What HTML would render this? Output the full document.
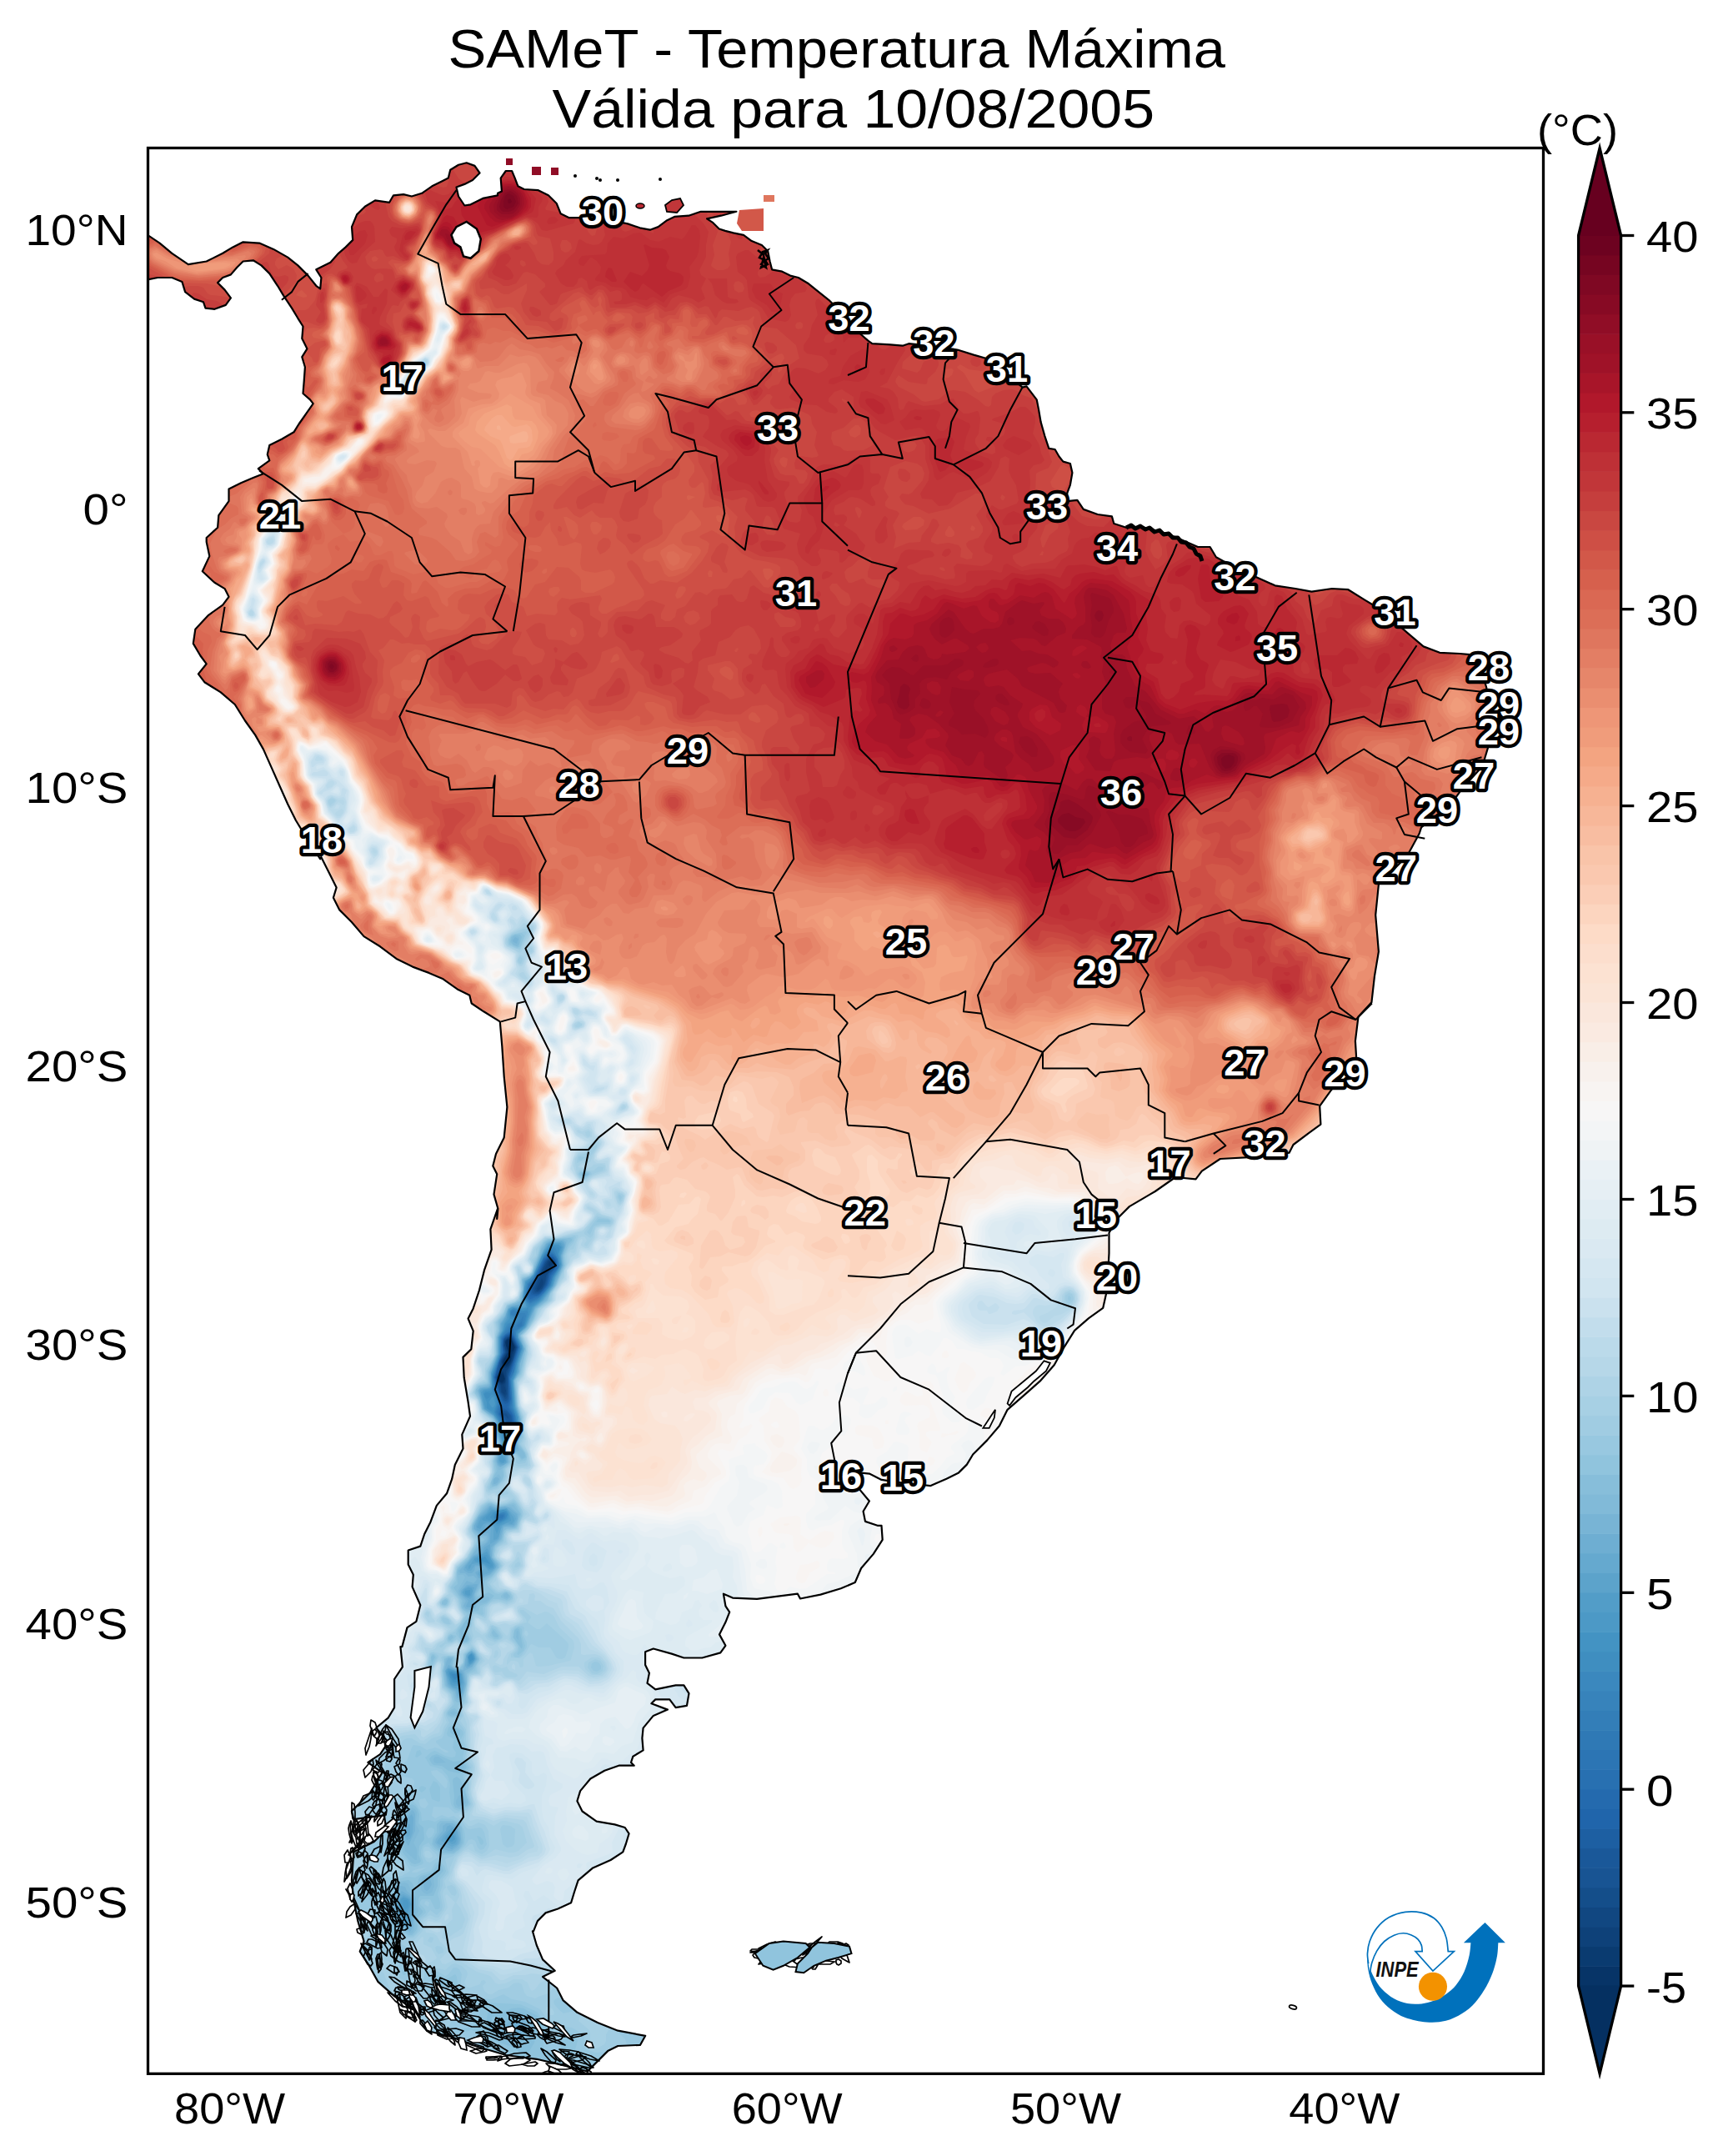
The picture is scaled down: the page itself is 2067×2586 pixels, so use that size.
<!DOCTYPE html><html><head><meta charset="utf-8"><title>SAMeT</title>
<style>html,body{margin:0;padding:0;background:#fff}svg{display:block}text{font-family:"Liberation Sans",sans-serif}</style></head><body>
<svg width="2067" height="2586" viewBox="0 0 2067 2586">
<rect width="2067" height="2586" fill="#fff"/>
<defs>
<clipPath id="land"><path d="M177.0 281.8 L191.6 291.6 L206.3 303.8 L225.8 317.2 L247.7 313.5 L267.2 303.8 L279.4 296.4 L291.6 290.3 L311.1 291.6 L328.1 298.9 L345.2 308.6 L357.4 318.4 L369.6 330.6 L379.3 342.8 L384.2 346.4 L385.4 333.0 L379.3 323.3 L396.4 314.7 L406.1 303.8 L414.7 296.4 L423.2 287.9 L422.0 272.1 L428.1 257.4 L437.8 247.7 L450.0 240.4 L467.1 242.8 L472.0 234.3 L484.1 233.1 L493.9 235.5 L506.1 231.8 L518.3 223.3 L530.5 217.2 L537.8 213.6 L540.2 203.8 L550.0 197.7 L559.7 195.3 L569.5 198.9 L575.5 207.5 L567.0 216.0 L557.3 220.9 L547.5 224.5 L550.0 235.5 L557.3 246.5 L564.6 245.3 L579.2 237.9 L597.0 234.3 L597.0 231.8 L601.9 229.4 L600.7 213.6 L606.8 205.0 L614.1 205.0 L617.7 213.6 L621.4 223.3 L628.7 227.0 L645.8 228.2 L657.9 234.3 L667.7 244.0 L672.6 256.2 L682.3 261.1 L699.4 261.1 L723.8 262.3 L753.0 268.4 L767.6 273.3 L779.8 275.7 L789.6 272.1 L799.3 264.8 L809.1 259.9 L826.1 258.7 L840.8 253.8 L865.1 253.8 L883.4 253.8 L865.1 258.7 L848.1 262.3 L855.4 267.2 L862.7 274.5 L870.0 276.9 L879.8 279.4 L892.0 281.8 L901.7 289.1 L913.9 294.0 L921.2 301.3 L923.6 313.5 L926.1 323.3 L938.3 325.7 L948.0 330.6 L957.8 333.0 L970.0 340.3 L982.1 350.1 L994.3 359.8 L1006.5 372.0 L1017.0 384.2 L1031.6 400.0 L1041.4 408.6 L1046.3 412.2 L1068.2 413.4 L1082.8 414.7 L1090.1 412.2 L1114.5 414.7 L1148.6 419.5 L1168.1 425.6 L1185.2 430.5 L1207.1 447.6 L1226.6 464.6 L1231.5 463.4 L1243.7 479.3 L1246.1 491.5 L1248.6 506.1 L1253.4 523.1 L1258.3 537.8 L1265.6 539.0 L1270.5 547.5 L1275.4 553.6 L1283.9 556.0 L1286.4 567.0 L1283.9 581.6 L1280.3 591.4 L1280.3 601.1 L1292.4 599.9 L1299.8 610.9 L1316.8 617.0 L1333.9 619.4 L1336.3 628.0 L1351.0 632.8 L1368.0 631.6 L1392.4 637.7 L1411.9 645.0 L1437.0 656.0 L1437.0 656.0 L1451.6 656.0 L1458.9 668.2 L1480.9 680.4 L1507.7 692.6 L1529.6 702.3 L1554.0 706.0 L1573.5 709.6 L1597.9 706.0 L1617.4 707.2 L1636.9 719.4 L1649.1 726.7 L1671.0 743.8 L1690.5 760.8 L1707.6 775.4 L1727.1 782.8 L1751.5 784.0 L1763.6 785.2 L1775.8 799.8 L1783.1 824.2 L1788.0 853.5 L1788.0 870.5 L1785.6 894.9 L1778.3 919.3 L1753.9 946.1 L1741.7 963.1 L1705.1 992.4 L1702.6 1000.0 L1688.0 1026.8 L1653.9 1060.9 L1650.2 1097.5 L1653.9 1141.4 L1649.0 1170.6 L1645.4 1202.3 L1629.5 1219.4 L1625.9 1248.6 L1627.1 1268.1 L1595.4 1309.6 L1583.2 1326.6 L1584.4 1348.6 L1571.0 1358.3 L1551.5 1373.0 L1546.6 1382.7 L1507.6 1387.6 L1463.8 1390.0 L1441.8 1404.6 L1434.5 1414.4 L1410.1 1412.0 L1385.8 1429.0 L1380.0 1432.4 L1354.9 1447.1 L1340.3 1461.7 L1330.5 1478.8 L1330.5 1503.1 L1328.1 1547.0 L1323.2 1568.9 L1306.1 1581.1 L1289.1 1595.8 L1276.9 1615.3 L1264.7 1637.2 L1247.6 1656.7 L1228.1 1673.8 L1208.6 1690.8 L1198.9 1710.3 L1184.3 1727.4 L1167.2 1744.5 L1159.9 1756.6 L1150.1 1766.4 L1135.5 1773.7 L1116.0 1782.2 L1106.3 1781.0 L1081.9 1778.6 L1057.5 1774.9 L1042.9 1767.6 L1030.7 1766.4 L1030.7 1785.9 L1042.9 1800.5 L1035.6 1812.7 L1038.0 1824.9 L1052.6 1829.8 L1057.5 1829.8 L1058.7 1846.8 L1047.8 1863.9 L1033.1 1881.0 L1025.8 1898.0 L1008.8 1905.3 L984.4 1912.6 L960.0 1917.5 L956.9 1911.7 L908.1 1917.8 L878.9 1916.6 L867.9 1911.7 L870.4 1926.3 L875.2 1933.6 L870.4 1945.8 L863.0 1960.4 L870.4 1973.8 L864.3 1982.4 L842.3 1988.5 L820.4 1988.5 L805.8 1983.6 L783.8 1977.5 L774.1 1981.2 L774.1 1997.0 L778.9 2006.8 L776.5 2018.9 L786.3 2026.3 L810.6 2021.4 L820.4 2021.4 L826.5 2031.1 L824.0 2045.8 L810.6 2048.2 L803.3 2038.4 L786.3 2038.4 L781.4 2043.3 L800.9 2050.6 L783.8 2057.9 L771.6 2072.6 L770.4 2084.8 L771.6 2099.4 L759.4 2106.7 L757.0 2114.0 L760.7 2117.7 L742.4 2117.7 L725.3 2123.8 L708.3 2133.5 L696.1 2148.1 L692.4 2160.3 L698.5 2172.5 L715.6 2184.7 L737.5 2188.4 L749.7 2192.0 L754.6 2199.3 L750.9 2211.5 L747.3 2221.3 L732.6 2231.0 L710.7 2240.8 L693.6 2255.4 L688.8 2270.0 L685.1 2282.2 L669.3 2289.5 L654.6 2294.4 L644.9 2304.1 L640.0 2316.3 L638.9 2316.3 L643.8 2333.3 L651.1 2350.4 L665.7 2363.8 L651.1 2371.1 L668.1 2384.5 L675.4 2399.1 L692.5 2413.8 L716.9 2426.0 L741.3 2435.7 L774.2 2441.8 L768.1 2452.8 L741.3 2454.0 L729.1 2460.1 L709.6 2479.6 L704.7 2484.5 L675.4 2477.1 L643.8 2469.8 L607.2 2465.0 L565.8 2452.8 L541.4 2443.0 L512.1 2435.7 L497.5 2411.3 L473.1 2394.3 L453.6 2377.2 L441.4 2355.3 L431.7 2340.6 L436.6 2328.5 L429.3 2304.1 L424.4 2279.7 L421.9 2255.3 L424.4 2221.2 L448.8 2209.0 L463.4 2194.4 L460.9 2177.3 L424.4 2182.2 L421.9 2172.4 L443.9 2150.5 L458.5 2126.1 L441.4 2113.9 L456.1 2104.2 L465.8 2089.6 L451.2 2072.5 L465.8 2060.3 L473.1 2048.1 L473.1 2014.0 L482.9 1999.4 L480.4 1975.0 L482.4 1975.1 L488.5 1952.1 L499.4 1944.8 L504.3 1925.3 L494.6 1903.4 L495.8 1888.8 L489.7 1876.6 L489.7 1859.5 L504.3 1854.6 L509.2 1840.0 L516.5 1825.4 L523.8 1805.9 L536.0 1791.3 L542.1 1774.2 L545.8 1757.1 L555.5 1737.6 L554.3 1720.6 L564.0 1698.6 L561.6 1681.6 L556.7 1652.3 L555.5 1627.9 L565.3 1618.2 L567.7 1596.3 L561.6 1581.6 L567.7 1569.4 L575.0 1547.5 L581.1 1523.1 L589.6 1498.8 L588.4 1474.4 L596.9 1450.0 L596.2 1461.9 L597.4 1449.7 L592.5 1432.6 L596.2 1408.3 L591.3 1398.5 L595.0 1383.9 L604.7 1364.4 L608.4 1327.8 L604.7 1291.3 L602.3 1254.7 L599.8 1225.4 L580.3 1213.3 L565.7 1203.5 L563.3 1193.8 L548.6 1186.4 L531.6 1174.3 L514.5 1166.9 L495.0 1159.6 L475.5 1149.9 L456.0 1135.3 L436.5 1123.1 L421.9 1106.0 L407.3 1091.4 L399.9 1076.8 L403.6 1064.6 L395.1 1047.5 L385.3 1028.0 L384.2 1030.3 L362.3 996.1 L354.9 984.0 L345.2 964.5 L335.4 942.5 L325.7 920.6 L315.9 898.6 L306.2 881.6 L294.0 864.5 L281.8 845.0 L264.8 830.4 L245.3 818.2 L237.9 808.4 L247.7 796.3 L240.4 786.5 L231.8 771.9 L234.3 754.8 L250.1 737.8 L267.2 725.6 L274.5 715.8 L269.6 706.1 L257.4 698.8 L242.8 685.3 L251.3 667.1 L247.7 650.0 L247.7 645.0 L261.1 632.8 L262.3 618.2 L274.5 601.1 L274.5 586.5 L289.1 579.2 L303.8 573.1 L315.9 568.2 L309.8 562.1 L323.3 552.4 L320.8 545.1 L323.3 534.1 L337.9 526.8 L352.5 518.3 L358.6 508.5 L367.1 496.3 L375.7 484.1 L372.0 479.3 L363.5 472.0 L364.7 457.3 L365.9 440.3 L362.3 428.1 L368.4 418.3 L362.3 406.1 L363.5 391.5 L357.4 381.8 L350.1 369.6 L340.3 354.9 L333.0 342.8 L323.3 328.1 L313.5 318.4 L303.8 312.3 L291.6 313.5 L284.3 320.8 L276.9 329.4 L267.2 333.0 L261.1 339.1 L269.6 347.6 L276.9 357.4 L270.8 365.9 L257.4 370.8 L246.5 369.6 L244.0 362.3 L233.1 358.6 L222.1 350.1 L218.4 337.9 L206.3 333.0 L189.2 333.0 L177.0 335.4Z"/></clipPath>
<clipPath id="axclip"><rect x="177.5" y="177.5" width="1674.0" height="2309.8"/></clipPath>
</defs>
<g clip-path="url(#axclip)">
<g clip-path="url(#land)">
<rect x="177.5" y="177.5" width="1674.0" height="2309.8" fill="#053061"/>
<path fill="#073467" d="M0 0l2066 0 0 2586-2066 0zM610 1606l-2 2-1 6 5 8 2-1 3-3 0-4-3-6zM612 1625l-4 2-4 5 0 3 2 2 4-1 2-3 1-5zM602 1648l-2 0-2 4 1 4 3 2 3-4-1-4z"/>
<path fill="#0a3b70" d="M0 0l2066 0 0 2586-2066 0zM610 1606l-3 2-1 4 4 10-6 8-1 4 1 3 4 2 5-7 1-8 4-8-4-8zM602 1646l-4 3-1 3 1 4 4 3 2-1 2-4-2-6z"/>
<path fill="#0e4179" d="M0 0l2066 0 0 2586-2066 0zM660 1513l-2 3 0 2 2 1 3-3-1-3zM610 1605l-3 1-1 4 3 12-7 12 1 4 3 3 4-2 2-3 6-20-4-9zM602 1645l-4 3-2 4 2 5 4 4 4-3 0-4-2-9z"/>
<path fill="#114781" d="M0 0l2066 0 0 2586-2066 0zM662 1512l-4 0-6 14 0 3 12-11 0-4zM650 1533l-6 13 2 2 4-5 2-5zM610 1604l-4 4-1 6 3 8-6 10 0 10-6 10 1 4 4 6 1 8 4 3 1-5-2-6 2-6 0-12 3-3 4-8 5-17-5-10z"/>
<path fill="#144e8a" d="M0 0l2066 0 0 2586-2066 0zM662 1510l-5 2-7 13-8 21 2 3 6-3 4-8 1-8 10-12 0-4zM610 1603l-5 5 0 6 2 8-6 10-1 10-4 10 0 4 4 6 1 8 5 6 2-4-1-10 1-16 7-14 5-16-6-11z"/>
<path fill="#185493" d="M0 0l2066 0 0 2586-2066 0zM662 1510l-4 0-4 4-14 32 2 4 4 0 5-4 3-6 3-12 9-10 0-4zM610 1603l-4 2-2 3 0 6 2 8-5 10-2 10-4 10 5 18 6 8 2-1 1-5 0-24 7-18 4-14-6-12zM604 1696l6 6 0-2-2-4-2-1z"/>
<path fill="#1a5899" d="M0 0l2066 0 0 2586-2066 0zM662 1509l-4 0-3 3-16 34 1 4 2 1 6-1 7-10 3-12 8-8 0-7zM612 1602l-6 2-2 4 0 6 2 8-6 10-1 10-4 10 4 18 7 10 3-2 1-4-1-24 8-20 4-14-5-10zM604 1692l-2 2 2 4 4 6 4 1 0-7-4-4z"/>
<path fill="#1d5fa2" d="M0 0l2066 0 0 2586-2066 0zM662 1508l-4 0-4 4-12 26-4 6 0 6 2 2 6 0 5-4 5-8 3-12 8-8-1-8zM612 1601l-4 1-4 4-1 8 2 8-5 10-6 20 5 18 5 10 2 1 2 0 2-3 0-28 11-34-5-11zM604 1691l-2 1-1 4 7 10 4 1 2-3-1-6-5-6z"/>
<path fill="#2065ab" d="M0 0l2066 0 0 2586-2066 0zM664 1508l-6-1-5 5-11 25-5 7-1 6 2 3 6 1 4-2 8-10 3-12 9-12-1-6zM612 1600l-5 2-3 4-1 8 1 8-5 10-5 20 4 18 4 9 4 5 4-2 1-4-1-26 12-36-6-12zM604 1689l-3 3-1 4 8 11 4 2 3-5-1-6-6-7z"/>
<path fill="#246aae" d="M0 0l2066 0 0 2586-2066 0zM664 1507l-6-1-6 6-10 24-6 8 0 11 8-1 4-2 9-10 3-12 8-12-1-6zM612 1599l-6 3-3 4-1 8 2 8-5 10-6 20 4 16 7 18-4 6-1 4 8 12 5 2 3-2 1-4-2-8-6-8 4-10-1-26 3-8 8-28-6-13z"/>
<path fill="#2870b1" d="M0 0l2066 0 0 2586-2066 0zM662 1505l-4 0-5 5-12 26-5 6-2 12 2 4 10-4 6-5 6-9 3-10 7-9 0-9zM612 1598l-6 3-3 5-1 8 1 8-5 12-5 18 3 16 6 16-3 12 7 12 4 3 4-1 3-6-1-6-6-10 3-10-2-26 4-8 8-28-7-14z"/>
<path fill="#2c75b4" d="M0 0l2066 0 0 2586-2066 0zM662 1504l-4 1-6 5-11 24-6 8-3 12 2 4 2 1 10-4 6-5 6-8 4-12 6-8 1-4 0-6-3-5zM612 1597l-6 4-4 5 1 16-5 12-5 18 2 16 6 16-3 12 7 12 5 4 5-2 2-4-1-8-5-10 2-10-2-24 12-38-7-16z"/>
<path fill="#2f79b5" d="M0 0l2066 0 0 2586-2066 0zM662 1503l-4 1-6 5-11 25-7 8-2 14 4 5 10-5 6-5 6-9 4-12 7-8 1-4-1-6-3-6zM614 1596l-8 4-4 5-1 9 1 8-10 30 3 16 5 16-3 12 9 14 4 3 6-3 2-4-1-8-5-10 2-10-2-24 4-10 7-28z"/>
<path fill="#337eb8" d="M0 0l2066 0 0 2586-2066 0zM662 1502l-4 0-6 6-11 24-7 9-3 15 5 6 10-5 8-8 6-9 3-10 7-10-1-10zM626 1585l-6 5 2 2 4-2zM614 1593l-12 11-1 8 0 12-4 10-5 18 2 16 3 8 2 8-3 10 8 15 6 4 6-2 3-5-1-8-5-10 2-10-3-24 5-10 1-8 6-18 0-4-6-10-2-10zM598 1821l4 0 2-3-2-1-3 1z"/>
<path fill="#3783bb" d="M0 0l2066 0 0 2586-2066 0zM662 1500l-4 1-6 7-12 25-7 7-3 16 2 4 4 3 8-4 10-9 6-8 4-12 6-9 1-5-2-6-3-6zM613 1574l1 3 2 1 5-2 0-2-5-2zM628 1578l-4 6-6 6-6 2-11 12 0 20-9 26 1 18 4 8 1 8-3 10 9 17 4 3 8-2 3-6-1-8-4-10 1-10-2-24 4-8 1-10 6-18 0-4-5-10-1-8 9-6zM604 1816l-4 0-3 2 0 4 3 1 3-1 2-4z"/>
<path fill="#3b88be" d="M0 0l2066 0 0 2586-2066 0zM664 1499l-4-1-8 9-12 25-7 8-3 16 2 5 4 3 10-5 14-17 3-10 7-10 1-4-1-6zM618 1571l-4 0-2 5 4 3 6-1 1 4-5 6-8 3-9 13-1 20-9 26 1 18 4 8 1 8-3 10 12 22 10-3 4-7-1-8-4-10-2-34 4-8 2-10 6-18-1-4-5-10 0-6 1-2 8-6 3-12-1-3-6 0zM608 1725l-1 1 1 8 4 0 0-5zM595 1820l2 4 4 0 5-4 0-4-2-2-8 3z"/>
<path fill="#3f8ec0" d="M0 0l2066 0 0 2586-2066 0zM664 1496l-4 1-6 6-14 29-8 8-3 16 1 4 6 6 10-6 15-18 3-10 7-10 1-4-5-20zM618 1570l-6 2 0 6 2 2 6 1 1 1-3 4-8 2-10 16 0 20-9 26 0 18 4 8 1 8-3 10 10 18 3 22 4 2 4-2-2-8-4-4 0-4 10-6 2-8-4-16-2-32 11-38-6-18 2-4 8-6 4-16-1-2-6 1zM606 1814l-4 0-7 2-2 4 2 4 5 1 6-3 2-4zM542 2008l2 5 2 1 3-2-2-4z"/>
<path fill="#4393c3" d="M0 0l2066 0 0 2586-2066 0zM670 1496l-6-2-6 3-8 11-10 23-8 7-3 18 5 12 2 0 12-9 13-17 3-10 8-14-3-14 2-6zM634 1568l-6 4-12-3-4 3 0 9 4 3-8 4-3 8-5 8 0 20-9 24 0 14-1 7-2 2-4-1-3 2 1 4 2 2 2-1 4-5 4 4 1 10-3 6 10 20 0 9 4 15 2 1 6-1 1-2-1-6-5-8 1-2 8-5 3-7 0-6-5-12-2-32 4-10 2-10 6-18-6-18 2-4 7-6 5-14zM606 1813l-13 3-1 4 4 6 4 0 7-4 2-6zM541 2006l-1 2 4 7 4 0 2-3-1-4z"/>
<path fill="#4c99c6" d="M0 0l2066 0 0 2586-2066 0zM670 1493l-8 0-4 3-8 11-10 23-9 8-3 18 4 12-6 2-10-1-5 3 0 10-5 6-2 8-5 8 0 20-9 24 0 16-2 4-6 1-2 3 4 10 0 7 6 4 8 11 8 34 6 0 3-2 0-8-4-8 7-5 3-9 0-6-4-12-2-32 4-10 1-10 6-18 0-4-5-10 0-4 9-10 8-22 10-8 14-18 3-10 6-10 2-6-3-12 3-8zM607 1812l-3-1-12 3-4 6 8 8 4-1 9-5 1-6zM576 1870l1 2 11 4-6-9zM566 1984l-2 1-2 3 2 5 4-3zM539 2006l1 6 4 5 4 1 2-2 2-4-1-4-9-3zM592 1676l2 8-2 4-2 0-4-6 4-6z"/>
<path fill="#529dc8" d="M0 0l2066 0 0 2586-2066 0zM670 1492l-8 0-4 2-8 12-10 23-10 9-2 18 3 10-1 2-4 1-10-1-4 1-2 3-1 10-4 6-2 8-4 8 0 20-9 24 0 15-2 3-8 2-1 2 3 18 10 8 5 8 7 34 2 2 8-2 3-2-1-8-4-8 7-6 3-8 0-6-4-12-3-32 5-10 1-10 6-18-1-4-5-10 0-4 9-9 9-23 10-8 14-18 3-10 6-10 1-6-2-12 3-8zM611 1818l-3-6-4-1-14 2-7 7 0 2 7 2 6 6 2 0 13-8zM572 1870l1 2 9 4 6 4 3-2-7-13-2 0zM566 1983l-2 1-3 4 1 5 2 2 5-5-1-4zM538 2004l0 4 4 10 4 2 4 0 3-6-1-6-8-4zM484 2279l-1 5 3 7 4-4 0-5-2-3z"/>
<path fill="#5ca3cb" d="M0 0l2066 0 0 2586-2066 0zM672 1491l-10 0-4 2-8 12-10 24-10 8-3 19 2 10-3 2-12 0-4 3-2 10-4 7-1 8-5 8 0 20-9 24 1 14-2 3-8 2-3 3 5 20 10 7 5 7 2 8 0 8 4 10 1 13 12-5 2-2-3-16 5-5 2-9 0-6-4-12-2-32 4-10 2-10 5-18 0-4-5-10 0-4 8-8 10-24 10-8 13-18 3-10 8-14-2-12 3-10zM602 1745l-2 3-1 4 2 2 3 1 2-4zM607 1810l-11 2-6-1-12 11 2 2 8 1 4 3 4 12 4-10 13-6-2-10zM569 1870l1 3 10 3 7 6 5-2 0-4-8-15zM558 1908l0 4 4 2 2-1 0-6zM566 1983l-3 1-2 4 1 7 2 1 4-3 2-3-1-4zM538 2002l-2 4 5 14 3 2 8 0 2-4-1-10-3-3zM536 2204l2 4 4 1 4-3-1-4-3-2zM484 2276l-3 2-1 4 3 14 0 6 3 3 2-1 0-8 5-12-3-6z"/>
<path fill="#65a9cf" d="M0 0l2066 0 0 2586-2066 0zM672 1490l-10 0-4 2-6 8-12 28-4 5-6 3-3 20 0 10-13 1-4 3-3 10-5 8 0 8-4 8 0 20-9 22 0 16-3 3-7 1-3 2 5 22 11 8 4 6 2 16 4 10-1 12-3 8 1 4 2 2 6-2 0-2-1-6 2-4 10-4 0-16 2-3 3-13 0-6-5-14-2-30 5-10 1-10 6-16-1-6-5-10 0-4 9-8 10-24 10-8 13-18 3-10 6-10 1-6-1-10 3-10-1-4zM608 1809l-12 2-8-2-4 6-7 5-5 12 4 2 4-6 6-2 4 2 2 4 0 15 4-1 2-3 4-13 6-3 6 1 3-4-1-4zM584 1857l-6 7-9 4-4 8-3 2 0 4 2-1 2-5 6-1 9 3 5 6 6-2 2-4-5-8-3-11zM562 1904l-4 2-3 4 3 4 4 2 3-2 2-6-1-3zM566 1982l-5 4 1 12 4-2 4-6-1-6zM538 2001l-2 1-1 4 5 14 2 3 10 4 4-9-2-10-2-2zM542 2197l-7 5-2 4 9 6 4-1 2-5-2-8zM484 2274l-5 4-1 6 2 18 2 4 4 2 4-2 4-22-2-6z"/>
<path fill="#6eaed2" d="M0 0l2066 0 0 2586-2066 0zM674 1489l-14 1-4 2-11 22-5 14-4 4-7 4-3 28-12 3-5 3-3 10-5 8 0 8-4 8 0 20-8 22-1 16-2 2-8 1-3 3 5 22 12 8 3 6 3 16 3 10 0 10-4 10 0 4 3 3 4 0 4-3-1-10 11-5 1-3-1-8 4-8 2-18-5-16-3-30 6-10 1-10 6-18-6-14 0-4 8-8 11-24 10-8 12-18 3-8 8-16-2-12 4-10 0-4zM608 1809l-12 1-8-3-5 7-8 6-4 10 1 5 6 2 2-1 2-6 2-2 5 2-1 22-7 4-3 6-10 5-10 13 3 4 4 0 5-7 8 1 3 4-7 4-1 2 3 3 12-5 7-6-1-4-6-10 0-14 10-6 3-12 3-4 4-1 8 0 3-7-1-4zM562 1902l-6 4-2 4 2 4 8 4 2-2 3-12zM566 1981l-4 2-2 3 0 12 2 1 6-4 3-5-2-6zM538 2000l-4 4 4 16 4 4 6 3 4 5 2-1 3-11-2-12-3-3zM492 2188l-2 0-3 6 1 9 2 0 2-3zM542 2192l-10 10-3 6 13 7 6-3 2-6-2-10zM484 2272l-4 1-3 5-2 12 5 16 4 4 4 1 4-5 3-24-3-6z"/>
<path fill="#78b4d5" d="M0 0l2066 0 0 2586-2066 0zM674 1488l-14 1-5 3-11 22-5 14-11 8 0 10-3 16-2 2-11 3-3 3-3 9-6 9 0 8-3 8 0 20-9 22 0 14-2 3-10 2-2 3 4 12 2 10 12 9 3 5 2 16 4 12-5 20 1 4 3 3 4-1 5-4 0-10 12-6-2-10 4-6 1-20-5-16-2-30 6-10 1-10 5-18-6-16 2-4 7-6 10-23 11-9 12-18 10-24-1-12 4-12-1-4zM610 1808l-4-1-10 2-8-3-14 14-5 10 0 4 7 5 10 0 1 7-2 4-7 6-2 5-8 5-10 12-2 4 1 2 5 3 4 0 3-3 1-5 6-1 2 2-1 2-7 4 4 7 2 0 12-5 6-6 2-4-6-10-1-12 10-10 5-15 13-1 4-8-1-6zM573 1900l-13 1-7 7 0 4 9 8-3 6 1 2 6 0 3-2-1-12zM566 1980l-4 2-3 4-1 12 2 3 6-2 6-9-2-6zM538 1997l-4 7 3 16 3 4 7 4 2 6 3 1 3-5 3-11-2-12-2-3-9-2zM494 2176l-4 4-5 16 0 6 3 5 4-1 3-8 1-18zM540 2189l-4 2-1 5-9 10-2 4 2 2 16 6 8-6 2-6-4-13zM482 2268l-9 12-1 14 7 14 11 5 2-1 2-6 2-16 0-10-4-6zM614 2429l-3 3 1 4 5 4 5 0 3-4 0-6-5-3z"/>
<path fill="#81bad8" d="M0 0l2066 0 0 2586-2066 0zM618 1124l-3 4 1 2 4 2 2-6zM676 1487l-16 1-4 2-6 8-11 30-3 3-8 3-1 4 1 8-4 15-14 6-4 11-6 8-1 10-3 8 0 20-9 22 0 14-3 2-8 2-3 4 4 12 2 10 3 4 8 4 4 6 2 16 4 12-5 20 2 6 3 2 10-6-1-8 1-2 13-4-3-10 4-8-1-8 2-12-5-16-3-30 6-10 1-10 6-18-6-16 8-10 7-12 3-10 13-10 11-18 10-24-1-12 3-8 1-8zM597 1772l-3 0-2 3 0 5 2 0 3-2 2-4zM613 1808l-7-1-10 1-6-3-4 1-12 12-6 12 0 4 6 6 10 2 1 4-2 4-9 5-12 17-11 12 1 3 6 0 4 4 6-1 4 4-1 2-3 3-8-3-9 12 1 5 7 7-3 6 3 4 5 1 6-3 1-6-2-10 8-16 3-3 8-4 9-9 0-4-7-8 1-12 10-10 3-13 4-2 8 1 4-4 2-12zM566 1980l-4 1-3 5-3 17-8-1-5-2-3-4 2-6-4-1-2 3-3 12 3 17 2 3 8 5 2 7 2 1 4-2 2-3 3-12-2-16 9-4 7-10-3-7zM494 2171l-5 7-6 18 1 10 6 8 8-18 0-20-2-4zM536 2187l-5 3 0 6-8 10-1 4 4 5 12 5 4 0 6-4 4-5 1-5-1-8-4-8-6-3zM512 2253l-3 3-1 6 1 4 3 2 3-2 3-6-2-6zM480 2262l-3 2-1 8-5 8-1 16 8 13 14 8 3-5 3-20-1-14-2-4-7-6-2-5zM622 2421l-10 3-5 4-2 4 1 4 3 4 9 6 8-2 3-4 2-8-1-8zM1050 2524l-3 4 1 4 4 3 4-1 3-4-1-4-4-3z"/>
<path fill="#87beda" d="M0 0l2066 0 0 2586-1116 0-1-6-3-3-6 0-16 3-6-10-4-1-4 5-1 12-501 0-2-6-2 0-1 6-28 0-3-6-12-6-2 2 1 10-333 0-2-5-6-3-6 3-2 5-10 0zM618 1122l-3 2-2 4 2 4 5 3 3-3 0-8zM698 1408l0 2 4 1 3-3-3-1zM678 1486l-20 2-3 2-6 8-11 30-11 6-1 4 1 8-3 14-4 3-10 3-5 12-7 8 1 10-3 8 0 20-10 22 0 14-10 3-4 5 5 12 1 10 4 4 9 6 3 4 1 16 5 10-1 8-5 14 4 11 2 0 11-9-1-8 2-3 8-1 6 7 2 0 2-3-2-4-6-7-1-5 4-8-1-8 1-12-5-16-2-30 6-10 6-28-6-16 9-10 7-12 3-10 13-10 4-10 6-8 10-24-1-12 6-18zM598 1768l-6 6-2 6 2 2 4-1 4-5 1-4zM616 1805l-18 2-8-3-4 0-12 13-6 12-1 5 3 4 4 4 8 1 1 3-3 4-6 2-11 18-14 14 1 5 6 0 2 3-9 16 1 4 6 8-1 8 5 4 10-2 4-7 8-1 5-4 0-2-3-1-10 3-3-2-1-4 10-16 10-7 8-9 0-4-7-8 0-8 2-6 9-8 2-10 4-3 10-1 2-3 4-13zM604 1914l1 2 3 1 3-3-3-3-3 1zM562 1941l-4 3-6 12 2 10 2 3 4-1 1-2-1-3-5-5 1-4 7-6 1-4zM620 1956l-1 8 3 3 0-10zM566 1979l-7 5-2 12-3 6-6 0-6-4 2-8-2-2-4 0-3 2-3 14 3 18 10 8 2 8 3 1 4-1 3-6 3-14-1-12 7-4 8-12-4-8zM540 2054l1 2 3 1 3-1 1-2-4-2zM520 2110l1 4 3 1 11-1-9-7-4 0zM547 2120l5 3 5-3-1-2-4-1-5 1zM554 2152l-4 2-3 6 0 4 3 3 6-1 3-4-1-4zM494 2168l-4 3-9 21 0 6 5 22 12 11 2 0 0-13-4-8 7-14-4-8 1-14-2-4zM530 2186l-3 4 0 8-7 10 0 4 4 4 10 5 10 0 6-4 4-7-2-18-4-4-4-2zM516 2250l-8 1-3 5 0 10 3 4 4 2 6-2 3-8-1-10zM480 2259l-5 3-1 10-6 8-1 16 6 12 19 11 3-1 2-4 1-14 4-8-3-8 0-8-6-8-3-8-4-2zM620 2413l-14 9-6 8-2 6 2 4 10 8 14 3 8-5 4-12 5-10-2-4-13-6zM1265 2440l1 8 4 3 8-2 5-7-2-4-9-3-4 1zM1042 2517l-4 5 0 12 4 4 14 6 8-12-2-10-6-7zM712 2554l-2 2 4 8 2 1 3-3 0-4-3-4zM1992 2569l-4 0-3 3 3 11 2 0 3-9z"/>
<path fill="#90c4dd" d="M0 0l2066 0 0 2558-5 2-1 4 2 7 4 3 0 12-69 0 2-6 6-8 1-4-14-18-6-4-3 2-4 8-9 4-3 4 3 22-84 0-1-10 2-10-1-5-18-9-16-3-4 1-1 4 3 3 10 5 0 2-10 7-4 7-1 8-414 0-3-6-4-2-4 2-2 6-460 0 2-5 8-5 0-4-4-2-12 0-8-2-8-8-10-6-1-4 7-12 0-6-6-7-12-6-6 2-7 7 0 6 6 8 0 4-3 12-4 8-2 1-14-8-6 1-3 2 2 8 10 16-48 0-4-6-7-3-6 3-2 6-103 0 1-8 8-18 3-12-5-6-10-3-6 1-10 8-3 6 1 6 7 4 3 6-7 16-49 0-2-6-4-2-2 2-1 6-54 0-3-6-4-3-4 2-1 7-30 0-1-3-4-2-4 1-2 4-35 0-3-6-1 6-56 0-2-6-5-5-20-10-3-3-3-9-3 1-10 18 3 14-12 0-2-6-4-4-20-10-8 2-5 4 7 10 1 4-93 0-1-10-7-3-9 3-5 10-8-3-3 1-1 2-191 0-2-12-11-10 8-5 2-5-1-6-5-3-5 1-4 4 0 6 3 6-12 11-8 2 0-25 4-1 2-3-2-4-4-1 0-60 2-1 0-2-2-1zM618 1121l-5 3-1 6 4 4 6 2 4-12-2-3zM697 1408l1 3 4 1 5-4-5-3-4 1zM684 1485l-26 2-4 2-5 7-3 10-4 8-3 12-3 4-10 4 1 12-4 14-14 6-5 12-6 6 0 12-3 8 0 20-9 22 0 12-2 2-9 2-4 4 0 4 5 8 2 12 14 12 2 18 5 10-1 8-5 14 3 12-7 14 1 5 6-1 6-6 2-6-1-8 9-8-1-8 1-2 4-1 4 1 6 7 5-3-1-5-8-11 0-4 4-6-1-8 1-12-5-16-3-28 1-4 5-6 7-28-1-6-5-12 7-8 8-12 4-12 13-10 4-10 6-8 10-24-1-12 6-14 4-4 0-2zM618 1804l-2-1-18 4-8-4-4 0-6 5-13 20-1 6 2 4 6 6 4 0 3 2-1 2-6 2-12 20-12 10-2 6 1 14-5 4 10 16-1 8 7 6 14-2 2-6 8-3 9-9-7-4-12 5-2-1 0-3 3-5 5-4 2-6 8-5 9-11 0-4-7-8 0-6 2-8 8-6 3-12 3-2 10-1 2-2 5-15zM601 1914l0 2 7 3 4-3 0-2-4-4-3 0zM530 1922l0 2 4 1 2-1 1-4-3-2zM562 1939l-12 17 2 10 4 4 4 0 3-4-1-3-4-5 1-4 5-6 0-6zM620 1953l-3 3-1 8 10 14 1-4-4-20zM592 1955l-2 3 1 4 3 2 3 0 1-2zM542 1961l-4 3 0 2 2 2 4-4zM566 1978l-8 6-2 12-4 5-6-1-3-2 1-10-6-1-5 3 0 6-2 8 3 18 9 8 3 10 2 2 4-1 3-3 5-18 0-12 8-6 7-12-5-9zM520 1985l-2 1-1 2 1 6 4-6zM537 2054l1 3 4 2 6-1 3-2-5-7-4 1zM542 2072l-2 4 0 2 8 5 2 0 2-3 0-4-6-4zM515 2110l2 4 3 3 10 1 8 6 12 3 6-2 4-5-2-4-6-4-8 1-20-9-6 2zM548 2131l-4 2-1 3 2 18-1 10 2 4 6 2 8-4 2-4-7-22-3-6zM494 2164l-3 2-3 4-9 20-1 6 5 26 11 13 4 1 6-2 1-2-3-8 1-10 6-8-1-14-6-5 1-11-2-6-3-4zM528 2184l-4 4 0 10-5 8-1 6 4 5 10 6 12 0 7-5 5-8-2-18-4-5-6-3zM530 2238l-2-2-4 1-5 9-14 4-3 4-2 11-2 0-4-7-4-3-12 2-6 3-1 4 1 6-7 6-2 4 2 22-7 6 0 4 8 14 4-1 3-9 3-3 6 2 8 6 4 0 3-3 3-4 1-14 6-6 0-2-5-6 0-8 2-4 16 0 5-12 0-10 7-8zM528 2373l-4 1-3 4-1 4 2 2 4 0 5-4 1-4zM586 2411l-3 15 4 6 2 12 6 4 23 9 8 7 4 0 4-2 7-12 2-12 6-8-1-6-3-6-17-9-6-1-8 1-14 6zM1264 2426l-5 6-2 8 1 8 3 8 9 9 20 6 2-1-4-14 4-12-2-10-4-3-16-6zM406 2454l-5 4-6 14 3 6 7 2-15 10-3 6 3 3 4 1 30 1 5-5 2-6-3-3-16-7-1-2 5-8 0-10-4-6zM534 2454l-4 4-1 6 1 2 4 1 6-3 2-4-2-4zM1234 2456l-4 1-2 5 0 4 2 1 4-1 3-4-1-4zM1726 2470l-2-4-6 2-6 5-8 9-4 2-6-1-21-9-13-1-3 3 5 10 6 6 4-1 8-4 6 0 7 7 5 12 8 3 6-3 1-4-1-10 8-9zM777 2472l-4 4 4 8-3 12 8 9 6 3 3-8-2-8-5-8 2-8-4-4zM1642 2477l-4 1-2 4-1 4 3 2 4-1 3-7zM460 2481l-4 0-2 2-2 11-7 12 1 3 4 0 6-10 14-5-1-2zM1881 2486l2 6 7 4 16-3 6-5-4-5-10 1-10-3-4 1zM894 2492l-2 2 0 2 2 5 4 3 2-2-1-6zM157 2502l3 6 6 3 20-8 1-3-3-4-16-3-8 3zM1219 2494l-6 2-3 4 5 8-9 18 0 4 4 3 4 0 7-3 4-4 2-4-3-12 4-8-5-6zM1938 2495l-5 3-2 6 3 4 6 1 4-3 2-6-3-4zM1152 2500l-1 4 3 3 6 2 3-3 0-4-3-4-4 0zM1778 2500l-9 6-2 8 5 7 12 4 9-5 2-6-11-13zM7 2502l2 4 7 6-1 10 1 4 4 2 8-1 10 4 4-2 0-5-2-3-19-9-7-9zM1311 2504l0 2 5 2 6 0 2-2 0-2-4-3-6 1zM1722 2504l4 4 3 0 2-2-5-4-3 0zM1256 2506l2 4 6 3 3-1 1-4-4-3-4-1zM743 2522l3 3 10 0 12 3 5 0-7-16-8-6-4 1zM1298 2505l-6 0-6 3-3 4 1 4 4 2 6-1 6-9zM197 2508l0 2 3 2 4-2-2-3zM1027 2520l-2 6 2 12 5 4 14 5 10 16 8 3 14 0 7-6-2-2-7 6-2 0-6-7-4-11 4-12 0-8-4-11-4-5-6-2-12 1-6 3zM1737 2510l0 6 3 7 4 3 4-1 3-7-2-8-5-2zM1552 2512l-2 0-8 7-6-3-6 2-5 6 0 4 3 3 6 1 4-2 6-7 6 3 2-1 1-5zM536 2520l2 6 14 3 8 7 4 1 10-7 9-2 1-2-2-4-14 2-24-8-6 1zM1968 2520l2 2 11-4-9-3-3 1zM1944 2525l-4 3-4 10 8 10 6 2 2-4-5-10-1-10zM514 2528l-4-1-4 2-1 9-9 17-12 1-5 2-1 4 1 4 7 8 7 2 2-8 3-5 14 0 19-7 1-4-1-2-13-3-8-7-1-4 5-5zM234 2535l-13 13-2 8 3 4 8-1 7-5 1-4zM1730 2538l2 6 6 7 2 0 3-5-3-7-6-2zM295 2542l-1 4 2 5 6 1 4-2 1-6-3-4-6-1zM616 2539l-6-1-4 3-2 9 2 5 6 0 6-5 2-6zM1548 2544l-4-3-14 11 0 2 4 2 14-2 2-4zM1582 2543l-4 3-1 4 5 15 4 5 8 2 3-4 2-20-11-5zM1442 2548l-2 2 1 4 5 1 1-5-2-2zM860 2560l1 2 3 0 3-2 0-2-3-2zM200 2566l-1 4 3 2 4 0 2-2-2-5zM594 2418l0 5-4 3 0-6zM900 2578l1 8-8 0 3-7 2-2zM418 2578l2 2 1 6-5 0 0-5z"/>
<path fill="#98c8e0" d="M0 0l2066 0 0 2394-14 1-3 1-1 4 4 3 14 1 0 27-14 3-8 0-3 4-2 6 2 4 2 2 9 2 4-1 6-6 4-1 0 24-8 1-5 5 5 4 8 1 0 52-8 7-2 10-2 2-2 1-8-4-10 1 1 6 11 4 4 6 2 8-4 7-6 3-10 0-3 4-23 0 6-16 1-8-13-10-7-8-2-6 1-6 14-10-2-6-4-3-14-3-10-4-2-4 6-8-2-2-10-3-14 3-12-4-18 2-17-20-7-2-9 2-17 7-12-7-16 4-20-4-4 3-3 9 1 4 6 4 20 1 10 7 4-1 8-8 2-1 20 19 8-2 5 1 3 4 1 8-2 4-6 4-1 4 2 8 6 5 6 0 4-3 1-4-4-10 0-6 7-10 2-1 8 3 5 6 1 4-10 16 1 4 11 9 8 9 12 4 3 8 1 14-72 0 0-10 4-10-1-6-5-7-14-10-4-2-8 3-6 0-18-5-16-2-5 3 0 8 3 2 10 0 4 2 10 14-7 20-70 0 2-4 11-6 3-4 2-6-4-12 11-19 10-4 4-4 1-5 0-10-2-4-10-10-2-10-13-10 0-8-4-3-8 0-8-2 0 1 6 3 11 9 1 2-5 12-7 7-4 1-12-2-10 2-13-6-2-4 0-4 2-6 8-10 1-4-6-10-6-5-6 3-14 17-6 3-8-2-18-9-26-6-1 7-13 8-8 14 1 14-11 19-6 3-12 13-14-2-6 2-6 12-4 4-6-2-3-7 1-4 7-6-4-12 0-14-5-7-6-4-6 0-4 11-12 6-10 12-2 4 2 4 8 8-7 14 1 7 4 4 6 1 16-5 14 5 10 0 20 13 4 2 12-7 1-10 3-3 20 0 6-1 2-4-5-12 7-6 14-4 1-2-5-10 1-4 5-4 14-4 12-10 8 7 5 9-1 2-10 3-3 3-1 6 2 7 8 2 8 8 9 5 11 14 8 0 6 9 4 11-15 0-1-7-4-4-4 3-3 8-10 0-1-6-6-9-4-3-4 0-2 1-1 3 3 14-226 0-4-4-8 4-5 0-11-11-10-2-6 0-3 3-2 10-6 0-3-3-4-1-2 0-2 4-16 0-2-5-6-2-5 3-2 4-45 0-1-6-3-2-6 4-2 4-84 0-2-4-4 4-14 0 1-10 7-6 4 0 10 6 8 0 3-2-2-8-12-12-4-14 17-14 4-14 6-7 4 0 8 11 8 5 14-1 14 5 6-1 7-8 5-2 12 3 7 7 5 1 14-4 7-5 0-6-3-5-12-1-12-9-18-3-1-4 4-16-1-8 6-8 2-4-1-4-13-7-8-11-26-12-11 6-11 12 0 8 10 22-2 4-5 6-5 11-10 0-3-1-1-4 3-6 10-10 1-6-3-8-9-16-6-2-8-1-5 3-7 10-8 4-2 4 1 6 11 5 4 11 0 4-5 6-7 3-8-1-12-10-4-1-14 10-18 6-4 4-2 5 4 6 18 10 10 0 4 2 14 10 9 10-2 4-3 2-14 2-4 3-2 9 4 12-7 10-1 4-82 0 0-16 10-10 0-10 8-4 15-18 0-8-4-12 5-14 1-6-3-6-4-2-4 2-11 12 1 10 5 10-2 6-10 12-17 8-1 8-3 2-3-4 2-8-1-16-5-12-3-4-6-3-12-1-12 3-12 9-12 2-2 8 4 18-1 4-3 3-14 1-12 6-20 7-12 1-4-4-1-10-5-8-3-14-12-16-7-2-4-3-12-21-4-2-8-1-4 1-3 4 1 16-5 14 9 7 8 13 2 8-2 6-6 2-12-2-4-2-4-6-1-10-5-10-6-4-10-3-7 1-5 4-2 14-11 10 9 6 14 4 2 4 2 12 2 2 14-4 4 0 7 10 2 6-26 0-3-10-8-1-14-6-10 4-9 13-4 0-5-6-4-2-4 3-2 5-18 0-2-6-4-2-6 2-1 6-37 0 2-8 13-32-15-16-14-1-10-9-12-7-4 1-3 4-1 8 2 10 9 8 0 6-3 8-7 8-4 8-13 2-16-10-6-1-4 2-2 3-1 16-18 0-5-16 0-4 12-10 8-9 10-6 2-3-2-4-14-5-14 2-12-5-6-4-14-20-7 2-4 8-3 2-30-4-8 2-6 5-7-1-2-2 3-8-2-10-2-5-12-15-4-1-4 1-5 8-5 3-8-2-10-11-6-2-6 2-10 9-10-1-5-2-3-4-1-24-15-4-6 2-8 9-10 5-1 14-9 12-6 1-4-1-4-13-4-3-4 1-3 3-3 16-14-6-4 1-4 5 0 4 4 4 12-2 6-3 2 1 15 14 1 4-1 10 7 10 3 18 0 6-3 3-12-4-12 1-9-6-1-4 2-3 10 2 3-1-1-8-4-6-20 4-10 6-10-9-8 0-6 3-6 7-2 0-8-11-6-2-5 4-3 28-3 2-7 2-12 0-2-2 0-2 6-12 0-18-10-20-6-4-8 2-6-8-15-6-19-17-4-1-18 6-10 0-8 10 0 4 12 12 1 12 3 4 2-1 8-10 8-3 8 0 14 6 14 2 11 10 0 4-10 10-4 10-13 8-3 4 3 6 12 6 3 6-78 0 1-8-1-4-13-6-10 11-12-4-2 3 0 8-47 0 2-10 9-10 10-7 4-1 10 2 14 6 18-4 3-8-21-9-14 0-6 1-8 4-8 0-8 5-4 0-7-3-3-8 0-2 8-6 3-8 1-8-5-8 3-7 10-4 10-9 6 1 12 7 12 0 2-8 7-4 0-8 3-8-1-2-3 0-6 7-2 0-11-7-5-8-4-2-16 12-12 1-10 3-12-3-12 4-16-11zM626 1119l-8 1-4 2-4 6 1 4 9 5 4-1 5-14zM695 1408l3 4 4 1 6-5-2-3-4 0-6 1zM715 1466l17 0-2-3-12-1zM688 1484l-30 2-6 4-4 6-3 10-4 8-2 12-3 3-8 2-2 3 0 12-3 12-3 3-12 5-4 10-8 10 1 8-2 10 0 20-10 20 0 12-1 3-10 3-4 6 0 4 6 8 2 11 13 11 2 18 5 10 0 8-6 14 2 12-6 16 0 5 8-2 7-7 2-6 0-8 8-8-1-8 2-2 5 0 5 9 6-1 2-4-2-6-7-10 1-4 3-4-2-10 1-14-5-14-2-26 1-6 5-6 6-28 0-6-6-12 8-8 8-12 4-12 13-10 2-8 7-10 11-24-1-12 5-11 6-7zM616 1801l-8 3-10 2-10-4-4 1-6 5-12 22 0 6 7 10 0 2-11 20-14 14-1 14-6 8 10 14 3 12 6 6-5 10-6 8-2 6 9 11 6-1 2-4-4-10 5-8 0-12 5-2 8 3 2-1-1-8 13-10 6 0 10 2 4-1 2-3-1-4-5-3-10 3-4-1-9-9-1-4 6-6 11-14-2-4-6-6 1-12 10-8 3-12 13-3 6-15-1-6-5-8zM536 1917l-6 3 0 5 4 1 3-2 1-4zM622 1951l-5 3-2 10 7 10 0 6-2 4 2 1 6-5 2-6-4-12 0-8zM590 1953l-2 9 5 4 5 0 2-4-6-8zM548 1962l-8-2-3 4 0 4 5 1zM566 1977l-9 7-1 10-4 6-4 0-4-2 2-8-2-3-6-1-6 2 1 8-2 8 2 18 9 10 3 12-8 8-1 4 2 3 4 2 10-3-3-12 8-6 4-20 1-12 8-4 1-6 4-6 0-4-5-8zM521 1984l-3 0-1 2-1 12 2 0 6-10zM544 2068l-6 4-2 7 1 3 8 4-2 10 4 6-1 5-4 1-8-2-12-6-4 1-8 7 6 10 14 4 7 8 3 10-1 10 2 14 4 6 5 2 8-3 6-5-5-14 0-10-4-10 8-10-8-12 2-10-5-10 4-8-1-4zM504 2099l-4 1-2 7 2 1 6-4zM520 2136l-5 10 3 12 8 3 2-1 0-16-4-6zM503 2148l3 2 5-4 0-2-5-2-3 2zM490 2161l-16 33 5 16 0 12 9 9 5 7 5 1 9-3 1-2-3-8 0-6 2-6 7-4 6 8 12 7 12-1 8-6 5-6 1-8-1-8-5-10-10-4-12-1-8 4-8-2-8 1-1-10-5-9-6-6zM572 2202l4 10 2 1 2-2 0-3-4-5zM528 2233l-5 1-2 2-4 8-11 3-8 5-10-1-14 4-5 3-5 8-10-8-6 1-6 5-2 6 2 8 4 4 10 2 2 2 0 4-5 6 0 14 11 18 6 2 5-12 3-2 12 7 6-1 4-4 2-4 0-12 9-8-1-4-6-6 0-3 2-3 10 0 6 12 4 0 2-2 0-6-3-10 3-10 0-8 6-7 1-3-2-6zM475 2336l-1 4 2 6 8 4 4-1 1-3-2-4-7-6zM484 2362l-2 4 2 3 2 0 1-3zM517 2382l1 4 4 3 12-7 10 2 5-4-1-9-2-3-2 1-8 5-12-5-6 7zM522 2393l-4 1-5 8 1 4 2 2 6-1 4-4 0-5zM188 2404l4 6 12 7 8 14 6 4 2-2 8-12 14-4 11-5 2-2-7-8-10-2-9 4-6 10-13 1-3-3 1-14-6-3-8 1-4 4zM1664 2396l-4-1-6 3-2 4 1 4 3 1 6-2 3-5zM579 2404l-3 4-1 12-3 7-6 4-10 2-1 1 0 2 3 1 8-2 4 2 5 5 3 10 2 2 16 1 20 9 4 4 6 8 2 12-1 4-6 10 1 2 10 1 12 5 8-1 12-13 4-12 10-8 11-14 4-14-2-6-7-3-6 3-5 8 0 14-3 3-4-1-14-8 0-16 5-12-13-17-20-9-40-2zM1562 2416l0 4 4 1 28-4 8 1 6 4-2 12 6 6 10 5 8-2 3-3 0-6-2-4-11-8-8-10-3-2-19-4-12 6-12 1zM258 2412l2 4 4 3 4-1 2-4-2-4-2 0zM1448 2412l-1 4 3 4 8 3 4-1-1-6-3-3-6-3zM942 2415l-12 15-2 6 1 4 5 6 10 2 4-1 1-3-5-8 2-16-1-4zM1075 2418l1 4 4-1 0-3-2-2zM1872 2424l2 3 4-1 1-2-3-3zM2028 2422l-4 0-9 8-2 6 3 5 6-1 5-6 4-8zM154 2426l-4 4 0 3 2 1 4-4 0-3zM276 2428l-12 8-2 4 0 8 8 9 1 3-3 18-7 14 0 6 5 5 10-2 8 9 16 6 4 1 2-5-5-12-2-8 0-12 4-20-1-6-6-8-10-6-3-10-3-2zM802 2428l-4 0-6 2-12 16-3 6-1 8-8 5-5 7-6 14-14 26-7 3-10-3-5 0-1 6 4 8 10 3 12 8 12-2 22 7 8-2 6-4 4-6 2-14-6-28 2-14-3-4-9-6-3-4 19-21 2-5zM1460 2434l4 2 7-4-1-2-6-4-2 1zM1976 2428l0 4 4 3 4 2 3-1 0-4-3-4-4-2zM1049 2436l3 4 4 1 4-1 2-6-2-3-4-1-4 2zM1356 2432l-5 2-3 6 1 6 3 3 4-1 3-8 0-6zM884 2448l-2 6 4 8 6 1 10-2 4 0 8 15 4 5 4 1 8-2 6 2 3-2 0-4-7-12-2-16-10-11-10 0-10 7-12 1zM1380 2438l-3 2 0 4 2 4 3 1 2-1 1-6-1-2zM1106 2440l-1 4 12 12 5 0 2-4-2-4-12-9zM1596 2439l-6-1-6 3-4 5 1 4 5 2 5-2 5-6 1-4zM1558 2442l-1 6 3 3 2-1 1-4-3-4zM360 2446l-4 4-1 4 1 4 4 2 2 0 2-4-2-8zM551 2454l-15-7-6 0-4 5-3 10-7 8 0 4 10 2 16-2 3-4 6-12zM856 2448l-4 2-3 8 1 6 4 2 3-2 2-12-1-3zM1036 2449l-4 1-2 2-2 6 0 6 3 8-14 10-1 4 2 2 8 0 13-10-1-6 3-14-2-6zM494 2455l2 5 4 2 4-2 1-6-3-2-6 1zM1435 2460l1 2 6 3 4 0 2-3-2-4-4-2-4 1zM1486 2464l-4 0-9 12 1 4 6 1 6-4 2-7zM1358 2488l4 3 7-1 4-4 2-6-5-2-8 2-4 4zM1010 2487l-10 2-3 3 0 2 5 4 4 0 5-6zM705 2492l-3-1-6 3-3 4 1 4 6 1 4-3 2-4zM930 2493l-4 1-3 6 2 6 3 3 4-2 3-5-1-7zM1372 2508l3 4 5 1 6-3 2-4-2-3-8 0-4 2zM1478 2507l-3 11 5 5 2-1 1-4-3-12zM1888 2512l-7 6-1 4 6 4 7 0 2-2-2-6-3-6zM2014 2527l0 5 3 4 5 3 4 0 2-5 0-7-6-2zM1160 2528l0 5 2 2 4 0 2-3-2-4-4-2zM1401 2540l-1 18 2 4 4 0 3-10 5-3 4 1 22 14 10 0 4-5 1-9-3-6-14-7-10-8-8-2-6 1zM134 2533l-4 0-2 1-9 16 0 4 7-1 4-3 6-12zM662 2533l-2 2 0 5 2 5 2 1 2-2 0-6-2-5zM1278 2536l-5 2-2 6 3 6 4 2 6-2 2-4-3-8zM1358 2536l-4 2-2 8 0 4 4 3 4-2 2-3 0-6zM1125 2554l2 4 5 2 4-2 2-4-1-2-5-1-4 0zM810 2553l-6 1-4 4-4 8 1 4 5-1 8-7 2-6zM1491 2568l-4-2-5 1-4 5 0 3 2 2 6-2 4-3zM580 1906l2 4-2 2-6 1 1-5 3-2zM518 2192l3 2 0 4-3 5-4 2-3-5 1-4 2-3zM1286 2485l4 5-1 6-7 8-6 1-4-5 0-4 10-12zM1654 2492l6 3 4 5 0 4-4 3-4 0-5-5 0-6zM1920 2495l2 1 0 5-2 5-2 0-5-4 2-4zM498 2534l-2 8-4 5-6 1-17 0-4 4-3 13-18 5-4 0-22-10-2-4-2-13-4-2-12-1-6-6-2-4 1-16 1-2 4-2 20 0 8 3 14 10 16 2 10-3 4-4 0-2-6-6 1-4 19-7 4 0 3 3 1 4-5 14 11 8zM1178 2504l2-2 4-1 16 7 4 4 0 6-6 5-4 0-6-9-9-6zM0 2510l5 2 2 6-3 10-4 2zM1768 2531l1 3-2 4-11 5-3-1 0-6 7-8 4 0zM1974 2542l1 4-2 4-3 2-4-1-1-3 1-4 4-2zM392 2546l2 4-1 8-3 4-2 0-3-2 0-4 3-6zM601 2566l-2 10-3 4-6-3-10-10-6 1-7 8-1 10-15 0-2-6-10-8-1-4 2-5 4-3 12 2 12-6 20-5 4 1 4 3zM1752 2554l3 2 3 4-1 4-3 2-4-2-2-4zM322 2568l-2 18-54 0 1-18 5-5 32-4zM1042 2561l2 0 6 7 11 8-4 10-9 0-2-10-4-10zM1032 2574l0 12-45 0 1-10 6-5 22-2 14 3zM530 2572l-3 14-18 0 1-6 4-5 10-4zM691 2576l-1 10-15 0 2-10 11-2zM470 2586l4-6 4-2 6 2 3 6z"/>
<path fill="#a0cce2" d="M0 0l2066 0 0 2389-10-1-4-2-3-6-5 1-4-2-24-20-3 5-1 4 5 8 0 12-21 16-2 4 1 6 7 6-2 4-6 2-10-8-23 2-3 4-2 11-2 1-8-2-8 2-8-1-1 3 0 8-19 5-6 9-4 3-14 2-10 3-5-4 0-8-1-2-6 1-6 7-6 4-6 0-10-3-3-3-7-14-6-5-1 3 3 10-4 4-6 1-10-3-6 2-4 0-2-4 3-4 1-4-9-22 1-8 3-8-9-10-2 0-1 2-1 20 3 10-1 12 2 10-4 6-6 1-14-6-10 4-6-1-4-2-6-11-6-1-6 2-19 20-5 2-7-4-11-14 0-21-4 0-19 9-2 6-3 1-4-3 0-8-2-4-14-8-10-15-6-2-14-1-12-7-8 10-16 2-8 4-12 3-3 4-1 6 1 12-3 5-8 5-3 4 1 4 5 2 1 2-7 10-3 6 1 4 7 4 1 2-1 14-10 17-12 5-7 8 2 4 9 4 3 6-4 14-3 5-4 1-20-10-1-4 0-14 7-6 2-4-4-12 0-10-3-12 10-14 3-12-1-6-9-5-8 0-14 4-4-1-3-4 0-4 2-2 21-8 2-4-1-4-11-10-6-11-11-5-7-8-12 0-10-5-12 4-16-11-6 2-7 4-2 4-1 4 10 2 8 12 4 1 6-3 10-8 4-2 8 1 5 5 1 8-7 8-2 4 1 4 9 12-1 4-2 1-4 0-6-4-14-4-4-11-4-4-4-1-8 6-4-1-4-8-6-4-10 6-12-5-20 4-12 4-4 7-4 4-4-2-5-8-19-5-10-9-6-1-16 9-20 6-10 0-10-6-10 16-12 6-6 21-12 0-6 5-6 2-4-4-8-2-14 12-6 7-8-9-3-6 1-4 12-14 0-4-4-8 7-12-3-5-10-3-6-6-6 2-16 21-20 13 1 10-1 5-4 0-8-6-12 1-2-4 2-3 12-1 5-4 0-10 2-4 3-1 10 0 5-5 0-8-3-6-4-3-11-3-2-10-3-1-5 5-7 20-14 8-6 10-10 10-10 16-10 8-6 9-6 2-4-3-5-10-5-2-12 0-7-6 1-22 4-3 10 4 4-1 3-8-2-8-7-4-12-1-2-11-4-3-12-2-12 8-14-7-4-4-4-9-10 0-4-2-2-7 2-8-2-4-12-7-5-1-5 4-1 4 4 6 3 12 10 14-4 12 2 12-3 10-3 6-8 9-8-9-6-3-8 4-5 7-1 4 1 16 10 6 4 16 10 6 1 4-4 5-22 2-12 5-4-3-3-9-3-4-14-2-4-6 2-22 2-5 12-8 13-5 2-4-5-6-12-1-4-3 0-4 7-12 2-8-4-8-7-4-6 5-6 15-13 8-9 12-4 2-4-1-3-3 0-10-3-5-14-5-7 2-1 4 2 13 2 3 6 6 6 18-4 8-10 2-1 4 3 10 0 8-3 10-5 3-13-5-7-6 5-16 13-16-1-2-7-3-12 1-11-4-3-4 1-10-1-4-14-8-8-1-10 11-4 1-2-3 4-8 0-4-11-8-7-10-18-9-16-3-10-6-14 6-20-2-4 4-2 6 0 4 4 6-2 5-12 2-10 0-2 1-6 11-16 7-10 0-20 5-4 3-1 12-3 5-10 2-18-2-16 10-5-1-3-4 2-6 7-12-2-14-3-3-10-1-10-3-8 3-10 2-10-4-4 1-8 7-8-6-6 0-4 3-12 13 3 10-1 4-10 4-22-3-2-3 0-12-7-12 1-12-23-10-4-12-5-5-14-1-12-6-39-4-21 1-4-1-6-8-4 0-1 4 0 22 5 6 10 3 16 14 2 7-6 8 2 2 10-2 10 6 4 0 6-6 0-14 2-4 14-6 4 1 4 3 0 4-6 18 7 10 0 6-2 8-6 12-27-12-4 0 4 8 0 10-2 5-6 1-8-1-4-3-6-16-6-5-12-1-14 3-9-3-7 0-12 8-6-4-2-4 2-10-2-2-8 0-7-14-15-11-3 1-1 8-4 5-6 0-10-3-4 1-14 11-12 4-6 7-22-3-8-6-8-1zM630 1117l-16 4-4 5 0 7 10 5 4 0 8-20zM694 1392l3 0 5-4-6-1-2 1zM694 1408l2 4 6 2 8-6-2-3-6-1-6 1zM744 1433l-2 1 0 2 2 4 2-4zM733 1464l-3-2-13-2-13 18 4 3 4-10 8-3 12 0zM690 1482l-24 4-10 0-3 2-6 8-3 11-4 5 0 8-2 6-4 4-8 2-2 6 2 10-4 10-4 4-10 3-4 10-9 11 1 8-2 8 0 24-10 18 0 13-12 5-3 8 5 8 4 14 12 10 2 18 6 10-1 8-6 14 2 14-7 18 0 2 2 1 8-2 9-9 2-6-1-8 9-8-2-6 1-3 2-1 3 2 0 8 3 2 8-1 2-4 0-7-8-12 4-8-2-12 1-12-6-14-1-18 0-12 6-8 6-26-1-8-5-12 8-8 7-12 5-12 14-10 1-8 7-10 11-26-1-10 4-8 6-7 3-7zM1282 1554l-1 4 1 2 2 0 1-4zM618 1800l-2-1-8 4-10 2-10-4-4 1-6 4-12 22-1 8 6 10 0 4-10 18-13 12-2 14-6 10 2 5 8 9 2 10 6 10-12 19-8 4-2 5 1 4 5 0 6-4 8 6 6 0 4-6-1-4-3-6 4-6 0-12 2-2 4 0 8 3 2-3 0-8 8-7 8-2 10 3 7-4 0-4-3-4-6-2-6 2-4 0-6-5-4-7 6-6 10-14-2-4-6-6-1-4 3-8 8-6 1-10 3-4 12-2 7-16 0-6zM534 1916l-6 6 0 2 4 3 5-1 2-4-1-4zM531 1940l-1 2 2 4 4 2 4 0-2-6zM590 1950l-5 12 1 2 8 4 6-2 2-2-1-4-6-8zM626 1950l-8 1-4 5-1 10 6 6 2 4-1 4-4 4 0 2 2 2 4 0 4-3 6-9 0-6-5-10 2-8zM566 1975l-10 9 0 10-4 5-4 0-2-1 1-8-3-4-12 0-3 2 3 8-2 8 2 19 9 9 2 10-1 4-7 8 0 4 4 8-5 8-2 8-2 3-7 3 0 2 7 7 7 3 1 2-4 0-6-4-6-2-10 3-8-5-8-1-2 3-6 16-10 8 0 4 2 5 4 2 10 2 3 3 0 4-3 4-10 6-1 18-3 6-9 10-7 2-10-5-4 3-4 12 3 14-7 8-2 4 2 12-3 12 4 4 0 2-19 28 1 8 5 4 4 1 8-3 5 2 3 22 8 12 0 2-18 2-4 4 1 6 5 4 10-1 10 1 4-2 2 1 10 13 1 16 7 4 4-2 0-4-4-14 5-6 1-4-2-7-4-5-10-4-1-4 2-4 3-2 6 5 10-1 8-8 1-14 6-4 5-7 8 6 6-6 1-5-3-16 3-8 0-8 7-8-4-16 8-3 8-5 8-8 4-7 4-1 4 2 3 8 3 3 4-1 4-6-3-14-3-5-2-1-12 2-4-1-6-8-10-7-6 2-8-3-8 4-4-3 2-11 18 1 8 7 14-4 5-7-4-14 1-10-4-8 7-12-7-12 2-10-4-10 2-10-2-5-8-9 6-6-3-10 7-6 4-32 2-2 8-2 0-8 5-8-7-12zM522 1983l-4-1-2 2-2 12 2 4 2 0 8-12 0-2zM710 1995l-1 5 3 4 4 1 5-3 0-4-3-4-4-1zM34 2268l2 3 6 0 4-1 2-2-2-4-4-2-4 2zM1448 2272l0 2 2 2 2 0 2-2-2-3zM364 2328l-4 2-6 12 0 4 4 4 8-1 10-7-1-4-3-5zM914 2328l-6 2-14 10 2 4 12 8 0 6-6 14 2 3 6 2 4-2 18-23-2-6-10-14zM1474 2331l-1 5 3 4 6 2 4-2 2-6-2-3-6-3zM180 2334l-3 2-1 4 4 8 4 3 4-5 0-8-4-4zM153 2344l5 1 3-3-5-2-3 2zM316 2343l-3 7 3 10 6 4 8-1 7-13 1-4-4-2-10-2zM1072 2342l-3 4 5 3 2-1 1-4zM1134 2372l4 5 3-1-2-12 5-3 5 1 3 9 4 2 17-9 2-4-5-4-24-3-6 5-5 10zM551 2362l-3-2-4 0-6 8-4 2-8-5-8 1-8-2-2 10-5 8 3 5 7 3 1 4-4 5-11 1-1 4 2 4 16 7 6 0 6-3 3-6-3-12 2-4 4-1 10 1 8-6 2-16zM1030 2358l-5 6 0 4 1 2 4-4 1-6zM1646 2412l4 3 8-1 7-4 4-6 3-8 0-5-9-11 2-8 3-5 4-1 6 4 10 1 10 5 14 4 9-12 0-4-3-2-12-1-18 3-16 0-12-4-10 3-6 7 5 14-5 18zM754 2370l-10-6-6-1-3 17-14 18 1 2 14-2 18-9 3-11zM1328 2370l1 4 9 8 8 3 4-2 0-7-5-6-5-1zM452 2372l-2 2-2 8 2 7 4 2 3-3 1-10-2-4zM820 2370l-4 10 2 3 3-3zM968 2373l-1 7 7 4 2 4-3 10 0 4 9 6 6 7 4 0 6-10 10 0 4-3-4-22-6-6-6-2-16 2-8-3zM1484 2371l-3 3 0 4 1 3 4 2 4-3 1-6-3-3zM1110 2379l-3 3 4 6 3 12 4 4 2-1 2-3 0-4-7-8-2-8zM340 2380l-6 1-11 7-1 6 3 6 7 2 8-2 2-16zM1505 2386l-1 4 2 5 4 2 4-2 1-3-1-2-4-4zM1858 2384l-3 2-1 4 2 5 4 3 3-2 1-6-2-5zM1255 2390l3 3 4-3-1-2-3-1-3 1zM1990 2388l-3 2-1 4 2 4 4 1 1-5zM1466 2395l0 8 4 4 10-1 4-4-1-6-3-4-8 0zM409 2402l5 6 4 1 10-3 12 0 2-2-7-8-7-4-14 4-4 3zM664 2400l1 4 5 6 6 5 16-4 3-3 2-4-3-4-12 2-12-6-4 2zM1813 2406l1 4 4 2 7-2 3-4-2-3-4-1-6 1zM349 2406l3 5 2 1 2-2-2-4zM1878 2405l-14 11-10 6 0 4 2 4 6 3 12 2 6-2 5-3 2-4 0-4zM154 2408l-4 1-3 3-2 12-4 6-3 1-10-1-4 2-3 6 2 4 9 3 10-3 10-1 6-4 3-5 2-6-6-10zM478 2426l-8-4-6 1-4 7 0 10 2 2 6 0 10-7 3-5zM1748 2426l-3 4 3 3 3-3-1-3zM26 2435l-3 3 0 4 3 3 4-1 2-2 0-4-2-3zM1010 2440l-10-1-6 3-2 14 2 6 6 1 12-11 2-8zM517 2124l7-1 8 6 5 7-1 8-2 1-16-17zM504 2158l6-1 4 7-4 5-4-1-2-2-2-6zM470 2206l4 2 1 4-3 5-4 0-2-1-1-4zM508 2217l2-2 4 0 9 9 2 4-9 6-4-1-5-9zM492 2244l-10 6-14 2-18-6 4-6 8-3 12-9 11 4zM512 2240l-12 6-6 0 1-2 5-2zM510 2281l2-1 3 2-1 5-5-3zM460 2332l6 1 2 3-2 6-4-4zM1595 2426l0 2-3 4-16 6-6-1-2-5 1-4 7-3 14-1zM1376 2458l1 4-3 6-6 4-10 1-4 2-10 18-4-8-14-3-2-2 2-6 14-8 1-2-10-8 1-4 4-2 6 2 3 10 7 4 4-2 10-17 4 2zM1934 2448l4 0 6 5 10 1 5 4 2 4-7 2-6-2-12-10zM2030 2447l20 13 0 4-9 10-4 8 1 2 9 0 3 4-2 3-6 4-4 10-10 5-6 6-4 0-4-2-14-14-3-22 3-5 16-11 7-12zM1396 2448l6 8 8 3 0 3-4 0-10-8-2-4zM1578 2462l6 1 6 5 4 8 5 20 5 3 8 0 1 3-1 6-10 7-6 10-4 2-12-3-8 0-5-4 0-4 3-3 8 0 4-2 9-15-14-20-2-10zM1966 2463l4 1 7 8 1 6-2 3-6 0-4-3zM372 2467l4 2 0 5-2 4-4 2-4-4 0-4 2-4zM1768 2484l-2 5-4 2-6-1-10-5-10 5-4-2-1-2 2-4 3-3 16-6 12 5zM521 2486l3-3 6-1 21 2 7 8 0 6-1 6-3 2-4 1-23-5-5-6zM688 2482l2 2 0 4-4 3-4 0-1-5 3-3zM1808 2480l2 1 5 11 0 4-3 2-6-2-2-4 1-8zM950 2484l18 4 6 3 8 1 3 6 13 8 3 8-1 22-2 4-11 2-15 5-8 5-3 0 1-20-4-6-11-10-3-10 0-12zM976 2497l-4 3-3 10 3 9 4 4 4-2 2-4 2-17-2-2zM1412 2482l3 2 8 10 0 8-5 6-10 5-8 7-2-2 0-4 5-12-2-4-7-6 0-2 10-6zM1071 2496l3-1 6 1 12 6 1 4-1 8 3 8-1 4-4 3-8 3-4-2-1-6 4-8-10-14-2-4zM244 2502l8 1 5 7 0 4-3 6 0 7-2 2-8-9-3-8-1-6zM1130 2500l1 8-1 5-4-7 2-5zM1446 2504l2-2 18 2 1 4-3 4-8-1-6-2zM108 2510l4-6 4-2 12 12 2 4-6 3-6 1-9-6zM1816 2517l17-9 11-4 15 4 5 3 2 3-4 20-2 3-4 1-6 0-14-8-18-2-3-4zM311 2526l3-15 2-3 12 2 8 0 8 3 8 0 4 4-1 5-3 2-10-2-8 1-14 8-4 0zM134 2518l8-4 2 2 0 4-2 4-2 0-4-2zM1132 2515l14 0 7 5-1 16-2 4-16 2-8 0-3-2zM171 2522l5-2 6 0 12 6 8 1 4 3 1 4-5 8-1 10-3 4-10 3-4-2-6-5-2-4-1-12-5-10zM281 2522l1-2 8-1 13 7-1 2-4 2-10 1zM400 2520l6-2 14 1 4 2 6 9 1 6-1 5-2 2-12-10-14-3-3-4zM1926 2519l2 1 0 4-4 3-2-1-1-4zM58 2528l4 0 3 2 1 4-2 4-4 1-4-2-1-5zM1263 2530l3 4-2 12-12 10-8 10-6-1-14-14-3-9 5-6 12-6 12-3 6 1zM1452 2529l2 0 4 2 1 3-1 2-5-2zM79 2532l5 0 2 2-1 2-5 0-2-2zM488 2531l4 3-2 4-2 1-3-3 1-4zM1315 2542l23-11 4-1 3 2 1 6-2 18 2 4 10 6 3 6-6 14-14 0 1-8-2-6-16-9-11-11-1-4zM806 2535l2 3-1 2-5 3-2-1 1-2zM1388 2534l3 2 1 6 1 10-1 6-4 4-10 5-6 0-4-3-1-4 5-20 6-5zM2000 2535l4 0 4 7 0 4-4 1-5-3-1-4zM1804 2540l3 2-1 8-4 10-4 1-4-5 0-8 3-6zM460 2548l-2 8-6 4-14-2-8 0-6-4 2-6 10 7 2 0 8-9 6-3 6 1zM793 2552l-3 5-10 7-6 7-20 2-2 1 1 12-24 0 3-9 9-9-1-8 1-6 11-9 6-1 8 0 14 6 10 0zM140 2548l6-1 17 5 3 4 3 10 3 5 26 11 3 4-44 0-17-30zM1162 2548l4 1 1 3 1 18-2 3-2 0-6-7-9-2-2-2 3-6zM680 2549l0 6-6 2-1-3 2-4 3-2zM1900 2550l14 1 4 1 0 4-6 14-2 16-15 0 0-10 5-12-1-10zM1470 2558l3 2 0 4-3 5-4 3-3-4 0-6 3-4zM1291 2562l7-1 4 3 1 8-3 4-4 0-7-8 0-4zM2042 2568l1 4-2 2-13 1-5 5-2 6-5 0 1-12 5-11 4-1zM85 2568l1 4-1 14-28 0 1-6 10-8 5-6 7-1zM1702 2566l4 2 0 2-2 3-3-3zM1835 2568l-6 18-40 0 5-10 6-6 6 0 10 4 8-4 6-6zM1246 2576l2-6 4-2 26 0 4 2 7 16-44 0zM272 2586l3-14 5-4 22 4 6 4 2 10zM622 2568l2 1 1 3-1 4-2 0-2-4zM1109 2580l2-4 7-6 6-1 8 4 10 3 3 4 2 6-38 0zM1557 2586l-15 0-4-2-1 2-53 0 2-4 8-4 14 2 8-2 16 0 14-9 4 1 4 4zM1612 2586l10-14 4-2 10 1 24-3 9 4 4 6-1 8zM862 2579l4-1 4 2 3 6-14 0zM993 2586l1-6 2-3 18-1 8 3 2 7zM1570 2578l4-1 6 1 5 4 1 4-17 0z"/>
<path fill="#a7d0e4" d="M0 0l2066 0 0 2362-10 1-12 7-4 0-14-15-8-11-4-2-5 0-3 4 0 12-9 6 0 8-13 3-4 4-2 15 6 12-2 4-8 4-7-2-4-4-3-11-2-1-9 6-4 14-7 9-4 0-15-9-2-4 3-4 17-10 2-4-5-4-14 0-6 8-3 10-3 2-8 2-6-3-2-11 3-18 3-1 16 6 4-3 1-6-3-14 0-9-2-1-14-3-10-4-8-1-5 4-3 4-2 26-18 0-8 8-2 4 5 12-3 5-6 1-8-10-6-3-16 1-12 3-6 0-4-3-3-8-3-2-12-1-19 3-3 2-1 12-13 29-4 3-16 2-6 9-14 7-8-8 0-5 2-1 10 3 3-3 1-4-7-8-11-6-6-6-3-6 1-5 8-15 6-4 10 4 12 16 4 1 4-2 4-9-1-16 10-8 1-2-4-9-6-6-8 0-18 3-12-7-7 5-4 0-9-10-16-1-12-14-18-5-7 4-2 6 13 4 7 12 9 6-6 5-2 5 10 16-5 14 1 14-2 4-2 1-4-2-9-17-9-2-12 2-4-3-10-13-4-1-6 5-2 12-2 3-4 1-14 1-6 5-11 6-4 8-1 12-2 3-14 6-2-1-4-6-8 5-6-2-2-5 1-4 9-3 2-3 0-14 12-8 5-6-1-4-8-12 0-6 10-8 6-11 12-6 11-23 0-2-17-1-16-6-12 5-10-3-10 5-12 1-10 7 0 6 12 16-6 28-4 4-6-1-14 3-11-2-3-8 3-10-1-4-14-16-8-5-6-3-8 2-4 4-2 6 10 15 12-2 6 4 2 5-2 3-4 2-20-4-12 6-6 2-20-6-16-15-20 0-7 2-5 4 0 4 13 18 3 16-1 4-3 3-4-3-2-8-4-4-24-5-11-13-5-12-10-8-8-2 0 6 8 10-1 4-8 0-7-7-6-1-8 3-3 7 3 6 13 14 7 4 10 1 1 3-3 4-6 4-12 0-10 3-4-3 0-4 5-4 1-4-4-2-2 2-4 7-12 2-4 3-5 14-3 4-6 2-12-2-4 1-14 9-1 10-7 3-7-1-3-4 0-8 7-4 1-4-2-4-10-8-9-12-2-8 1-8 2-4 15-4 19-12 14-2 5-6-1-6-10-17-4-2-12 3-12-1-14 3-8-9-18 2-6-3-8-9-14 5-16 1-16 4-12 9-18 1-3 1 1 12-4 8-2 1-12-7-14 4-4-1-3-3-3-10-2 1-10 7-8 15-16-13 1-6 3-10-2-4-12-7-12-15-4-1-6 2-10 9-10 5-3 5 1 8 9 6 1 4-1 2-5 0-8-7-4 0-8 3-12 12-2 8 0 4 6-1 4 1 9 20-3 7-8 9-18 9-4-1-4-3-7-13-2-10 0-30-5-20-2 0-5 8-10 10-2 24-6 12-4 14-5 4-14 5-6-7-3-14-6-10 1-14 3-12-2-2-11-5-12-11-12-5-10 1-18-14-1 4 5 8 6 5 8 1 11 18 0 8-3 6-6 6-8 4-4 0-8-3-15 1-5-4-3-8-3-2-6 4-10 11-10 3-6 3-10-3-3-4-3-10-4-2-6 1-6 5-12 3-8 5-4 0-5-4-2-6 4-4-1-2-2-1-3 1-1 4-12 4-4-1-3-5 4-10-1-4-6-6-8-3-4 1-8 7-8-2-8 1-6-3-4 2-3 3-2 8-6 8 2 4 8 10-11 1-2-2-2-11 2-8-4-16 4-10-2-18 6-4 9-10-1-10 2-4 8-5 6 3 4 0 7-10 1-4-3-14 1-5 3-3-2-8 6-8 1-8 5-12 19-16 3 0 3 8 8 4 6-4 3-6-1-18-4-7-8-3-8 4-4 0-12-12 2-2 8-2 5-6 2-4-5-14 1-12-2-6 5-8 1-6-7-10 1-10-2-10 0-14-7-10 4-6-3-10 7-6-1-8 4-24 11-3 0-9 5-6-1-4-13-16 3-10-2-6 2-18 4-1 10 4 2-5 0-8 4-5 10-2 10 3 6-3 2-3 0-4-4-5-6-2-8 2-6-4-4-5 15-22-2-4-5-4-2-4 3-10 10-6-1-8 2-4 14-4 2-9 5-9-7-13-6-6-8 5-8 2-14-4-9 6-13 26 0 6 5 8-1 8-8 14-12 11-3 15-6 8 1 7 9 9 2 10 6 10-5 10-8 8-6 3-5 11-6 4 1 2 2 0 4-4 8-1 6-4 6 5 8 2-1 4-6 6 0 10-5 5-3-1-1-2 2-8-2-2-14-2-12-3-4 1-1 2-2 14 3 4 2-1 8-10 4 2-1 13 2 18 9 8 2 6-1 6-8 10 0 4 3 8-4 6-2 8-2 2-10 3-8 7-6-1-10-6-6 0-4 2-5 7-15 10-3 20 0 6-7 8-6 9-8 9 1 6 5 8 1 4-7 20-1 14-7 14 2 14-8 10 0 14-8 5-2 3 2 20 1 4 15 11 8 0 2 10-1 9-10 6-5 11-6 7 3 12 12 12 1 4-3 8-9 1-7-3-2-4 1-10-8-6-4 2-6 12-4 4-4 1-7-9-9-6-3-4 3-6 12-10 1-4-5-6-6-12-18-5-4 1-5 4-3 12-4 4-9-2-7-10-14-8-4 0-4 1-4 7 5 34-4 16 0 8 8 8 2 8 11 8 14 2 4 6-2 3-8 1-8-3-12-1-5-2 0-4 4-8-2-2-5 0-8 4-6-1-7-9-3-16-6-1 1 7-5 3-4-2 0-5 5-4-7-6-12 0-10-3-6 0-10 5-8 9-4 3-8 1-10-1-6-4-7-12 7-8 9-20-5-11-16-7-2-14-2-4-4-2-6 4-4 6 2 5 10 5-1 4-4 4-13 2-12-2-8 3-10 0-2 3 4 4 8 1 6 4 8 8 8 4 6 7 7 6-5 12 0 12-2 3-22 10-23 5-2 4 1 8-4 6-6-1-10-7-3-4 7-10 4-16-4-3-4 1-4 2-6 8-4-1-5-13-8-6-1-2 5-14 0-4-17-16-4 0-6 7-7 5 3 10-2 3-4 1-3-6 3-8-9-8-4-26-3-2-12 7-8 1zM637 1114l-9 0-14 6-5 6-1 4 2 4 14 6zM624 1147l-3 5 3 4 2-2 1-4zM716 1373l-6 3-6 7-10 3-2 4 0 5 14-5 10-14zM724 1400l-6-1-6 5-16-1-2 1-1 4 3 5 6 2 12-8 9-3zM742 1431l-2 5 4 6 2-2 2-6-2-2zM734 1463l-4-2-14-3-15 20 0 2 7 5 3-3 3-10 8-3 10 0 3-3zM692 1481l-6 0-20 4-10 0-4 3-9 10 0 8-5 5 2 9-2 6-4 3-7 1-2 2-1 6 1 10-3 10-4 3-10 4-4 9-10 12 1 8-1 8-1 24-10 18 0 12-11 5-4 9 6 9 4 14 11 9 2 18 6 10-1 8-5 14 1 14-8 18 2 5 12-3 6-7 4-7-1-10 3-3 6-2 6 2 10-1 1-2 0-12-7-12 3-8-2-12 1-12-6-14-2-28 6-8 7-28-1-8-5-12 7-8 8-12 5-12 14-10 2-10 11-18 6-16 0-12 4-5 4-1 6-16zM1282 1551l-4 3 0 4 1 4 3 2 4-2 2-4-2-6zM598 1790l4 4 8-2 0-2-4-3-7 1zM622 1873l-4 3-1 4 3 0 4-2 0-3zM538 1916l-4 0-4 2-3 4 2 4 5 2 4-2 2-6zM624 1931l0 3 7 8 1 4-14 4-5 4-2 12 6 6 2 4-1 4-5 4 0 4 11 1 6-5 6-11 2-1 8 4 14 0 8 13 6 1 4-2 4-12 0-4-3-4-23-21-8 7-4 0-11-8 4-6-1-2-8-7zM529 1940l0 4 3 3 6 3 4-2-1-4-5-4-4-2zM588 1950l-2 7-4 5 2 4 10 4 8-4 2-4-7-10-5-3zM706 1994l-1 6 5 7 6 1 7-4 1-6-4-6-6-2zM604 2189l-2 1-2 4 3 18 5 4 6-1 3-3 1-18-6-4zM1528 2236l-3 2 0 4 2 6 3 2 3-2 1-4-2-6zM26 2270l0 3 2 2 20 4 7-3 3-6-6-13-8-4-4 1-4 3zM1222 2256l-4 2-2 4 1 6 2 4 5 3 10-3 3-6-1-6-6-3zM537 2262l-1 2 6 9 4 1 2-4-2-6-4-3zM1438 2270l-1 4 3 10 2 14 2 4 4 3 12-2 10 3 6-2 1-4-9-10-2-16-4-7-5-3-5 0-7 2zM1596 2279l-4 0-4 4-2 5 2 4 4 0 2-2zM883 2300l2 4 11 7 10-1 10 2 2-2-5-12-1-10-2-1-11 3zM282 2291l-6 3-5 6 7 15 4 2 6-3 5-8-1-4-4-7zM1654 2294l-2 4 2 4 6 1 4-1 1-4-3-6-4-1zM766 2310l-3 8 3 6 6 3 10-1 12 6 8 10 4 1 3-1 1-4-2-3-8-7-5-8-2-16-3-6-4-1-8 9zM1558 2320l2 4 6 4 18 3 8-2 4-5 0-4-4-4-16-4-12 2zM425 2316l-3 0-4 2-2 4 2 1 4-2zM854 2315l-6 5-1 6 1 4 6 4 4-1 2-7-2-7zM1268 2316l-4 2-4 4 2 3 6 3 2 0 0-4zM516 2323l-3 5 3 2 2 0 2-4 0-2zM1880 2330l-2-4-2-1-8 3-8 0-10 4-12 0-3 2 5 5 18 9 3-2-1-8 4-5 4-1 10 3zM84 2336l0 6 4 8 16 5 6-3 1-6-5-6-16-6zM522 2336l1 4 3 4 6-2 0-4-2-3-6-1zM1799 2336l-5-1-5 3-5 14 0 5 2 2 9-1 7-9 2-7zM852 2341l-4 2-2 3 1 4 5 2 4-2 1-4-2-4zM1594 2360l6 2 14 0 5-4 1-6-6-4-10 0-8 6zM1536 2366l4 6 6 3 14-9 3-6-1-2-4-2-14 1-7 5zM788 2378l4 1 4-1 4-4 3-6-7-2-6 2-3 4zM1208 2385l-4 2-1 3 0 6 3 2 4-3 2-5zM632 1956l2 4-2 3-3-3 1-4zM511 2220l3 0 3 2 2 4-1 2-4 1-4-2-1-5zM470 2242l2-4 8-4 4 2 2 4-2 4-6 3-5-1zM0 2339l21 7 4 4-2 6-7 14-2 20 2 4 6 4 8 0 4-3 7-9 7-2 3 2 11 16-1 6-6 10 1 2 11 6 3 8-3 6-11 8-8 3-7-1 0-10-3-10 1-2 9-4 3-4-4-4-5-2-5 2-3 10-12 3-10 16-6 4-6 1 0-34 8-1 2-3-4-10-1-10-5-2zM449 2350l5-1 12 3 8 9 2 15 6 3 2 3-2 6-7 6 0 8 7 15 10 2 16 9-1 4-5 6-6 1-4-1-4-12-6-8-23-6 1-12 12-10-5-6-7-18-8-4-3-4-2-6zM1085 2352l3-3 4 0 14 10 12-4 3 1 0 6-3 4-22 7-4-3-5-8-2-6zM341 2362l1-4 4-3 12 4 3 3-3 5-6 2-8-2zM1064 2360l4 6 2 14-18 19-8 2-8 7-1 4 0 10-5 6-6 4-22 0-6-2-2-2 0-4 6-10 4-2 14 0 5-4 0-4-6-12 0-4 2-4 11-6 8-10 6-4 14-6zM936 2363l1 3-3 16-2 0-4-6-1-6 3-5zM354 2388l8-6 6-2 14 6 2 4-1 14-1 4-8 4-6-1-8-11-7-6zM1368 2387l4 3 0 4-4 5-4 0-2-3 2-7zM1092 2391l5 1 3 4 0 4-4 4-6-1-4-3 2-6zM1274 2393l4-1 6 2 3 6-1 5-12-5-2-2zM753 2400l0 2-3 4-16 7-4 3-1 4 3 12-5 8 0 8-2 4-7 4-4 1-4-2-2-5 0-12-2-4-12-10 2-6 10-9 10 1 30-10zM656 2407l4 1 3 2 2 4-1 3-4 0-4-3-1-4zM1429 2408l2 2-2 4-11 13-4-5 0-4 10-10zM1764 2410l2 0 2 4 0 16-2 1-4-2-5-11 1-4zM404 2413l4 3-2 4-4-2 0-3zM428 2415l4 1 2 4-1 6-3 2-4-2-2-4 0-4zM1798 2421l4 1 2 4-2 10-2 2-2-2-3-8 0-4zM1815 2424l7-3 4 0 1 3-1 3-4 1-6-2zM164 2444l8-20 3 2 5 6 2-2 4 0 7 4-1 4-4 1-8-7-2 0-12 13zM314 2440l0-4 3-4 11-7 14 3 8-4 4 2 0 4-8 10-10 4-14 3-4-2zM1832 2436l4-6 6-3 14 9 10 4 2 4-4 4-10 7-6 1-8-4-4-4-3-6zM1896 2436l5 8 1 8-3 6-7 1-6-3 0-12 3-6zM1180 2445l2 0 2 3 0 3-2 2-5-3zM141 2452l3-3 6 0 8 3 1 4-5 5-10 1-4-4zM458 2456l4-3 6 0 8 1 2 4-2 3-6 2-9-3zM236 2455l3 1 4 10 0 4-3 3-5-3-4-6 1-4zM2026 2458l4-3 4 1 6 4 1 4-5 5-4 0-5-5zM828 2457l6 0 2 3 0 6-5 10 1 4 6 2 8-2 2 1 2 3-2 10-8 6-6 0-17-14 4-10 0-12 2-4zM1140 2458l1 4-3 4-4 3-3-1-1-4 2-4 4-3zM1512 2464l0 5-6 5-1-4 2-4 3-2zM1502 2479l2 0 10 17 0 3-8-1-8 2-4-3-1-5 1-4zM732 2488l4 1 3 5-1 4-4 4-5-2-2-4 1-5zM958 2497l3 1 1 4-2 8-2 2-4-3-2-5 2-5zM1846 2511l8 1 4 4 0 10-4 6-6-2-7-8 0-6zM1258 2536l1 4-2 4-9 6-4 0-7-8 13-7 4-1zM1324 2547l6-1 4 1 2 7-1 6-5 0-5-4-2-4zM748 2556l6-5 10 1 5 4-1 8-2 3-6-1-12-6zM1252 2582l4-7 12-1 8 3 4 9-28 0zM78 2578l0 8-14 0 4-6 8-4zM737 2586l2-4 3-1 2 1 2 4zM1620 2586l2-3 4-2 2 1 2 4z"/>
<path fill="#aed3e6" d="M0 0l2066 0 0 2343-4 2-5 9-11 5-3-3-1-6 10-12 1-4-3-6-17-10 0-2 5-5 3-9-3-2-4 0-4 2-5 8-14 6 0 4 3 8-2 2-12-3-2 9-3 6-15 9-3 5-3 12-7 14-7 2-24-2-7-4-4-12 1-4 30 0 2-2 1-10-3-5-4-3-16 1-6-2-6-5-3-6 4-12 0-4-3-2-8-2-14 3-16-12-10 1-10 6-10-6-18-2-12-7-16 1-12 2-18-5-10-1-5 2-3 4 0 4 2 4 10 7 4 0 8-3 2 1 10 11 0 2-4 2-10-5-4 0-2 2 1 5 4 6 1 6-10 24 2 5 20 4 14-3 12 2 24-15 4-1 8 4 4 6-2 6-8 3-10 8-24 8-14-1-4-2-2-8-2-2-16 2-10-6-10 6-4 0-3-2-5-13-8-7 0-4 3-8-1-4-12-14-2-10-2-3-4-1-4 2-16 12-16-3-2-1-7-14-5-18-2-10-2-3-4 0-6 5-6 2-14-4-3 2-2 4 1 7 8 8 8 14 10 3 2 1 2 11-6 1-6-1-8-7-12-4-9-17-17-10-2-8 5-12-3-5-6 1-14 9-8 17-17 14-7 4-6 1-5-1-5-4-1-4 2-6-2-4-11-2-14-7-6-1-3 10-5 4-8-4-12-2-5-6 0-14-3-8-4-4-6-2-18 5-10-1-3 2 1 6 4 14 1 18 6 10 3 2 6 2 10-4 4-1 7 5-2 4-11 3-10 9 3 14 0 4-3 4-4 1-6-3-11-14 0-4 8-6-1-2-6-1-10 4-8-5-1-4 2-10-5-5-4-2-10 4-14-11-22 0-6 2 2 2 14 6 12 8 2 4 0 11 10 3 2 2-1 4-8 8-3 8 2 6 8 4-1 4-3 3-4 1-20-5-10-11-6-4-20 1-18 5-3 2-1 4 3 14-1 2-4 1-4-1-4-4-6-14-12-6-6-6 2-4 19-16 2-10 5-5 8-3 16 3 4-2 2-3-1-6-3-5-12-2-4-3 1-4 7-10 0-4-8-12 1-16-5-16-2-4-2 0-4 2-3 6 4 14-1 4-12 6-2 4 2 6 10 6 3 4 5 12-1 6-15 13-4-3-1-10-3-6-6-5-8-1-4 6-2 15-8 8-4 11-2 2-4 0-9-8-2-8 1-10-7 6-14 8-2 6 3 14-14 6-4 0-2-2-4-12-26 8-16-1-6-3-4-6-4-10-14-7-8-9-3-6 1-3 2-2 12 1 6-2 3-4 0-8-3-1-14 2-4 3-4 7-6 0-4-3-3-4 0-4 7-8-1-2-3-2-4 3-13 29 3 4 8 4 4 6-1 8-7 6-12 1-16-5-12 5-5 11-5 3-12-1-18-3-4 3-4 12-5-8-7-3-6 1-10 7-4 0-4-5 0-20 2-2 8 0 2-2-1-4-3-5-2 0-8 10-6 3-6 5-4 1-4-2 9-6-1-12 2-4 6-4 10-2 2-20-4-4-8-4-8 5-14-2-12 6-22 3-8 8-15 8-3 4 1 4 3 3 10 5 2 6-10 24-4 3-4 0-2-7 2-12-3-10-1-10-4-6-6-2-4 2-18 22-3 12-8 0-18-16-1-4 2-12-8-19-5-7-1-6-2-2-4-1-6 5-8 14-10 2-13 12 1 5 6 7-5 6-2 12-5 5-6-1-7-6-11 4-7-4-4-6 0-4 9-5 2-3-2-3-4-2-6 2-5 7-11 9-1 5 0 10-5 8 2 2 6 0 5 4 2 12 8 8-1 4-2 1-14 1-4-6-2-10-4-2-14 10-18 6-6 8-4 2-2-2-3-8-7-4-10 0-10 5-8 1-4-2-6-8-16-5-20-13-8-1-10 5-4-1-2-5 8-8 0-6-8-7-4-7-4-3-9-1-3-12 6-5 10 3 4-2 9-14-3-14 2-2 10 10-4 8 1 12-9 8-4 14 2 2 4-1 18-12 4-11-6-14-5-6 4-8-1-6-4-7-8-5 10-28 8-8 6-2 16 9 4-1 12-8 16 4 7 0 5-2 10-10-5-18-4-4-17-4-4 0-10 6-12-7-8-1-8 2-1-2 1-8 4-8-4-18 1-10-1-6 4-8 1-4-2-6-4-8-3-38-6-18 7-8-1-10 4-21 2-2 9-1 1-2 0-8 6-6-15-20 1-4 4-4 4 0 10 9 4 1 14-7 4-1 8 6 2 4-2 4-5 4-3 8 0 5 5-5 5 0 4 2 2 6 2 0 2-2 0-8 8-8 3 2 4 14 3 1 12-1 26-6 1-2 4-14-1-8-17-16-7-14-6-4-4-1-10 4-16-9-4 0-3 4 6 8 1 4-2 2-14 6-2 8-2 2-6-6-2-4-12-4-4 10-6 3-8-6-2-11 2-5 12 5 2-1 2-15 4-4 10-2 8 3 8-3 2-4-1-6-5-4-6-2-8 1-7-7 4-4 1-8 8-10-1-4-7-6 0-4 4-9 8-3-1-10 2-4 13-3 3-11 7-8-14-20-10-11-4-1 5-12-1-8 2-3 4-2 6 2 12-1 4-2-2-14-6-12 2-6-3-14 1-14-6-12-1-18 0-10 6-8 6-28 0-8-6-12 8-8 8-12 6-12 13-10 1-10 13-18 1-8 5-10 0-10 2-2 4 1 2-1 2-12 2-4 4-3 4 1 2 4-3 4 0 2 3 1 8-11 1-8 2-4 7-2 10 1 3-3 1-4-2-3-18-6-5 9-13 13-30 8-14 0-11 11-3 4-1 6-3 4 3 10-1 5-4 4-8 0-2 3 1 16-3 9-4 3-10 4-5 10-10 12 1 8-1 6 0 26-11 16 0 13-10 5-5 10 7 10 4 14 10 8 2 18 6 10 0 8-6 14 1 14-7 16-1 6 3 3 8-1 6 5 10 1 0 2-4 3-8 2-12-4-10 7-14 28 1 4 6 10-1 6-8 14-14 12-2 12-6 10 1 10-9 5-3 5 1 5 4 2 4-1 4-4 1-8 3-1 4 5 3 10 5 8-4 8-6 4-6-8-4-3-4-2-4 3-1 4 1 2 13 8-3 3-6 11-7 4-3 6-7 2-3 18 2 3 4 2 6-9 2-1 3 1 1 30 8 8 3 6-1 6-8 10-1 12-3 6-1 6-9 3-10 7-4-1-6-7-16 2-22 16-4 6-1 10-6 12-3 12-12 16 0 17 5 9-1 8-6 18-15 30-1 15-2 2-8 2-2 3 8 20 1 14 10 10 1 4-8 5-15 5-6 10-3 2-3-2 0-10-9-7-24 3-14 10-4 0-12-6-6-12-24-12-8-9-8-6-7-13-5-6-10-5-10 1-4 4-1 4-2 20 3 3 10 0 4 1 3 4-2 8 0 4 10 8 4 12 7 5 14 5 5 8 0 8-1 6-9 14-5 2-10-3-10-9-10-1-6-2-3-3-3-8-4-4-6 2-5 6-1 4 2 4-2 4-6 3-6-1-2-6 2-10-1-10-11-19-8-8-10-5-3-4-4-14 4-14-3-4-4-2-4 1-10 7-20-8-2 2 1 4 13 11 8 11 1 4-3 6-8 7-10 2-17-7-3-6-5 0 0 2 5 6 0 8-3 6-5 3-12 4-18-5-7 12-1 4 3 6-1 3-2 1-4-2-5-8-9-6-4-1-4 1-4 10-2 2-4 0-3-6-1-24-12-11-4 1-8 10-10 2zM400 958l-3 0-3 2 0 2 2 4 5-4 1-2zM638 1111l-10 1-14 7-7 7 1 8 16 9 3-3 2-8 10-16 0-4zM636 1136l-3 2 1 5 4-1 1-2-1-3zM624 1145l-4 7 2 4 2 1 3-1 2-6-1-3zM690 1230l1 2 3 0 4-2 0-2-4-2zM702 1358l1 4 3 2 2-2 0-4-2-2zM718 1370l-4 0-12 12-8 2-4 6 0 6 1 4 1 8 2 4 6 4 4-1 6-4 16-7 0-6-4-2-10 1-3 3-7 2-9-2 5-5 10-1 3-8 7-12zM740 1430l-1 6 2 6 3 2 3-4 2-6-3-3zM1282 1549l-4 2-2 5 0 6 4 4 6-1 3-7-1-6zM622 1867l-9 11 3 6 6-2 4-4zM512 1933l-2 3 4 4 1-6zM596 1979l-2 1-2 8 2 1 3-3 1-4zM701 1994l0 4 1 4 8 7 10 0 6-5 1-4-2-6-7-6-8 0zM591 2000l1 4 2 2 8-1 3 5 3 2 10 0 3-2-1-2-9-4-3-5-6 2-8-4-2 1zM232 2204l-3 2-1 4 2 6 4 6 2-14-2-4zM64 2212l-3 4 1 6 4 2 4-1 4-5 0-4-4-3zM1474 2217l-2 0-2 5 2 4 2 0 2-4zM1330 2220l-6 6 0 2 2 2 4-1 3-3-1-4zM1740 2228l-2 8 2 8 1 10 3 4 4 1 12-6 12 2 4-1 2-4-2-8 2-10-2-4-8-2-16 2-8-3zM830 2228l-1 2 3 7 4 5 4-5 0-7-4-2zM1528 2230l-8 2-2 4 5 20 3 4 10-5 4-7-1-6-3-6-4-5zM58 2238l-8 6-12 0-4 2-13 22-7 14 2 4 4 2 4-2 6-5 9 1 10 10 4 8 7 3 4-2 2-3-2-4-6-6 0-4 8-8 11-6 2-6 2-10-3-5-9-1-7-9zM1377 2244l3 8 9 8 3 9 4-1 8-8 18-4 3-2-2-6-7-5-4 0-8 7-6 3-6-3-10-8-2 0zM1268 2243l-6 1-9 6-2 4 3 4 6 2 9-4 2-8zM1244 2256l-4-4-10-3-10 0-7 5-5 19-6 3-6-6-4-1-4 3 0 4 4 3 10-3 10 8 16 1 14-8 3-3zM1679 2260l5 0 1-2-3-2-3 2zM1154 2262l-5 4 1 4 4 4 6 0 2-4 0-6-4-3zM1524 2262l-5 2 0 4 3 6 4 1 2-1 2-4-2-5zM1860 2261l-3 9 5 8 3 2 1-2-4-15zM1834 2268l-1 2 3 2 4 0 0-3zM2004 2279l-10 12-12 9 1 4 5 7 10 4 4-1 3-2 5-18-2-11-2-4zM1334 2281l-2 5 0 6 6 4 6 0-3-12-3-3zM1956 2282l-4 2-18 20 0 4 10 7 6 0 7-11 10-8-2-6zM1044 2296l-2 2 4 15 4 4 4 0 2-7-2-8-6-6zM1731 2296l3 4 3-2-3-3zM91 2304l1 4 4 2 3-2 2-4-1-2-4-2zM811 2302l2 4 7 4 8-1 3-3-3-4-14-2zM229 2318l0 4 3 2 4 0 3-2 0-4-3-2-4 0zM1325 2330l13 6 3-2-1-6-6-6-4 1zM548 1969l12 7-2 4-7 4 3 8-1 4-3 2-2-2 2-10-16-3-3-3 5-6zM925 2298l7 0 2 2 0 4-2 2-4-1-3-5zM1488 2310l-1 4-3 2-6-2 2-4 4-2zM1814 2320l4-4 18-5 6 3 4 6-2 3-8 1zM1900 2322l2 6-2 4-6 3-4-1-2-4 2-6 6-3zM506 2323l2 1 0 8 9 4 7 12-1 2-18 10-5 10-2 1-4-6-2-7 4-8 1-16zM1116 2322l4 4-1 4-5 3-4-1-2-2 1-4zM751 2334l2-4 5-1 12 4 16 1 6 4 13 16-7 4-12 2-28-5-4-3-3-6zM1680 2331l1 5-3 3-2-1-3-4 3-3zM1576 2338l1 6-3 4-18-2 0-4 5-4 9-3 4 1zM1700 2334l4 3 1 5-1 4-4 2-4-2-2-4 2-5zM1216 2340l2-2 6-1 10 3 6 7 2 11-2 2-4 1-12-6-7-7zM1815 2346l5-3 6 3-2 3-6 1-3-2zM0 2347l9 3 3 3 0 3-4 2-8 2zM111 2362l11-11 8-2 5 1 2 2-1 4-10 8-3 4 0 4 5 1 10-6 12-2 4 2 4 7-6 15-4 2-8-5-12 0-10-4-4-4-4-12zM1200 2351l2 0 6 9 10 8 2 4-1 2-7 2-6-2-7-20zM388 2353l4 0 4 2 1 7-3 5-4-1-6-6 1-4zM836 2356l2-1 4 2 3 3-1 2-6 0-2-2zM1454 2366l5 4-2 6-5 4-6-1-3-3 1-6 4-4zM1574 2367l1 5-7 18-2 2-4-1-6-7 0-6 14-10zM1594 2376l3-4 5-2 22 1 8 7 1 4-1 2-4 0-12-5-18 5-4-4zM1038 2378l4-6 6-2 4 2 4 10-4 4-10-1-5-3zM203 2376l3-3 4 1 0 2-3 2zM1522 2374l4-1 4 1 3 4 0 4-5 2-4-1-3-5zM772 2378l2 1 1 3-3 5-2-2-1-3zM1141 2400l5-4 14 1 9-3 3-2 4-9 14 0 2 2 0 3-2 3-6 3-1 4 5 6 8 1 6 2 2 3-1 6-3 9-4 3-16-6-12 4-4 0-14-8-9-12zM796 2389l0 3-5 10-1 9-4 3-4-1-3-3-2-14 2-2 13-5zM1904 2389l2 1 1 4-3 6-2 1-2-2-1-5 2-4zM1538 2398l0 4-10 11-6 2-4-1-1-2 2-4 15-11zM1004 2422l4-2 5 2-1 2-4 1-4-1zM10 2424l3 4-2 6-5 5-6 2 0-18zM60 2430l2 2 0 4-4 3-4-1 0-6 2-2z"/>
<path fill="#b6d7e8" d="M0 0l2066 0 0 2244-18-3-6 2-5 9-8 8 0 6 4 6-1 1-32-9-20 5-14-4-7 5-11 3-12 9-2 8-4 4-10 7-6 1-9-2-3-6 13-16 0-4-3-3-6 0-8 3-5 8-3 1-10 1-4-3-5-11 1-8 4-2 12 2 2-2 1-4-2-4-15-15-6-1-8 3-6 5-2 4-2 12-2 3-6 0-11-3-5-4-3-6-3-2-6 2-3 4 1 6 18 19 4 1 16-2 4 2 4 8 0 5-4 2-12 0-6-2-10-9-18 2-6-1-4-2-3-5-3-12 1-14-5-8 4-12-2-6-6-8-26 0-2-2-4-8-6-3-6 4-8 25 1 22 10 10 3 6 1 8-4 6-21 2-8-7-10-2-8-4-10 4-5-1-2-4 1-3 10-4 8-7 11-6-1-4-6-5-4 0-14 2-6 2-8 6-6 9-16 11-12-4-12-2-16-11-8 0-10 10-11 6-7 16-18 15-6 3-4-2-1-2 1-12-10-8-1-2 5-16 7-8 1-10-8-18-4-4-4-2-16 1-6 3-10 14 2 12-1 6-12 12-3 12-4 2-2 0-2-4 0-12-2-10-4-6-4-3-6 0-14 5-6 1-4-3-6-9-16-11-10 0-4 4-28-7-3 3-1 8 12 20 0 6-4 4-11 6-4 8-5 1-4-1-18-23-6-1-10 3-2-3-4-20 2-6 22 1 12-6 7-5-2-4-12-10-13-26-4-3-4-1-14 6-18 1-14 9-1 6-11 1-5 5-5 12 14 3 6-3 4-15 8 1 7 4 2 4 0 4-13 21-8-6-4-1-12 5-10-2-7 1 9-14-28-19-6-1-4 2 0 2 4 18 8 5 3 3-3 4-6 1-8-7-6 2 3 20-1 6-2 1-14-3-6-6-6-2-28 4-6 0-10-6-4-13-4-2-6-1-3 2-6 18-5 6-24 0-8-2-4 2-2 4 6 8 1 8-1 5-4 3-14-1-16 2-8-9-16-4-12 14-1 4 9 10 2 16 2 3 12 5-1 4-3 1-20-5-8 1-10 5-7 0-3-2 5-14-6-28 3-5 10-6 1-5-15-15-10-6-10-10-18 12-6 13-6 5-6 2-18-1-14-16-10 2-2 4 0 8 2 4 9 6 2 4-3 4-16 7-12-1-12 2-8-4-12-2-3-4-1-6-4-2-6 1-14-14-8-5-4 0-11 6-7-9-6 0-3 5 3 12-4 3-8 2-4 0-3-3-1-10-1-2-5 0-12 4-4 4-5 20-2 4-11 11-7 11-12 10-5 12 1 14-2 4-5 6-8 4-6 1-16-2-8 2-14 0-12 6-4 0-10-10-16-3-22-15-10-2-3-13 1-4 4-3 8-3 4-3 6-17-1-6-7-14 0-8-2-8-10-12 2-12 6-14 8-7 4 0 16 9 18-5 16 3 10-2 10-7 8-3 1-2-10-28-3-3-22-3-14 4-10-4-14-2-2-2 4-12-4-10-1-8 2-14 3-8 0-6-6-16-1-38-7-14 6-8-1-10 3-20 4-2 8-1 2-9 8-5 4 9 4 5 6 0 4 4 12 1 6 2 3-2 7-9 20 3 22-9 20 0 12 11 6 2 11-2 4-4 2-4-2-8-7-8-6-2-14 1-3-1 0-12-3-7-21-21-9-15-8-3-8-6-7 0 1-6-2-3-5 1-2 12-11 2-2 2 1 6 5 8-3 4-11 3-6-2-8 2-9-3-3-4 2-14 2-3 8-2 10 4 10-4 3-7-2-4-9-5-11-3-3-14 10-14-10-10 4-8 10-6-2-8 1-4 3-2 10-1 4-13 10-6-2-4-6-5-9-15-12-12 4-12 0-8 3-1 4 3 8-3 6 1 4-1 1-3-3-14-4-10 1-8-3-14 1-14-6-12-2-16 1-12 6-8 6-26-1-10-5-12 16-20 6-12 13-10 1-10 13-18 0-8 6-10 2-6 6-4 4-16 3-2 1 2-2 4 0 2 5 3 4 0 8-13 0-8 2-3 6-2 10 1 4-4 1-4-3-4-12-3-9-7-7-3-2 1 1 2 7 4 1 4-2 4-11 13-6 2-26 7-14 0-14 13-5 13 4 8-1 7-4 3-10 0-1 10 1 10-2 8-4 4-12 4-4 10-10 12 1 24-1 16-10 10-1 18-11 7-4 11 8 8 3 14 10 8 2 20 5 6 1 4-1 8-5 12 1 14-8 16 1 8 3 4 6-3 8 6 7 1-2 2-7 2-12-5-11 9-13 28 0 5 6 9-1 6-8 14-12 10-3 14-7 10 0 10-8 6-4 6 5 5 6 0 4-3 4-8 2 1 4 11 4 6 1 4-3 5-4 3-2 0-6-7-6-5-6 2-5 6 14 10-5 13-7 3-7 7-9-1 4 12-2 10 3 5 4 1 6-9 2-1 3 2-1 10 2 8 0 12 7 6 2 6-1 6-6 8-4 14-8 10-12 8-3-2 0-6-3-2-26 6-22 17-7 17-9 12 0 12-10 16-2 14-3 8 1 4 7 6 0 4-3 5-8 2-3 3-1 6 1 16-11 20-8 8-4 8 1 4 12 18-1 20-8-1-8 3-10-4-14 2-10-2-5 8-9 8-4 1-4-1-4-4-2-8 5-14-1-4-6-5-6 2-10-4-10 3-6-3-4-7 3-10-1-4-4-2-8 1-5-3-5-6-4-10-9-10-6-14-3-22-4-1-10 5-8 0-4-2-6-6-6-2-4 2-2 8 4 4 10 1 2 2 4 23 13 20 0 16-2 6-3 4-12-1-6 3-1 4 2 10-13 1-4 10-10-1-3-4 0-6 3-3 12 1 3-4 1-6-3-4-15-5-14-9-1-12-8-8 5-24-3-4-11-6-6 0-5 6 1 12-2 10 4 4 12 4 2 2-2 8-6 6-6 0-10-2-4 2-3 16 2 10-1 4-5 4-11 4-8 0-10-3-12 4-3-3 1-4 6-10 3-14 3 0 2 2 3 8 3 2 11-4 2-8-7-17-6-2-8 6-2-1-1-10-12-6 0-6 9-10 0-2-18-12-4 0-6 3-5 7-2 12-3 5-6 4-10 3-12 13-6 1-16-5zM511 432l-4 2-1 2 2 2 4-2 0-3zM398 956l-5 4 0 4 3 4 4-2 4-6-2-2zM628 1107l-4 5-13 8-5 6 0 6 2 3 10 5 4 4-2 10 4 5 2 0 2-3 4-10 6-2 2-3-1-5-6-4 2-8 6-10-1-4zM623 1168l0 2 3 3 4 2 3-1-5-8-2 0zM688 1230l2 3 4 0 4-2 1-3-5-3-4 2zM745 1328l1 3 3-1 2-2-1-2-2-1zM710 1364l0-6-4-4-8 3-4-2-2 1 2 3 4 1 6 5zM718 1368l-5 0-11 12-8 2-5 8-1 8 3 10 3 5 6 4 4 0 8-6 14-5 2-2-2-9-10 0-4-3 1-8 8-12zM740 1428l-3 2 1 6 3 8 3 2 4-5 2-7-3-4zM1284 1547l-6 2-4 5 0 10 2 5 8-1 6-6 0-9-2-3zM622 1861l-2 1-2 8-8 8 6 9 4-1 8-8-3-14zM512 1931l-3 5 1 4 4 6 7 0 1-2-4-4-2-7zM222 2168l-3 2-3 4 2 3 4 1 2 0 2-4 0-4zM108 2171l-6 1-5 4 0 4 1 2 6 2 4-3 2-7zM1552 2172l-2 4 0 6 4 2 6-1 2-3-4-7-2-2zM932 2177l-4-1-4 2-14 12 1 6 5 6 4 2 10-2 4-4 4-12-2-6zM1470 2181l-4 2-2 5 2 4 4 2 3-2 1-4-2-6zM1220 2188l0 4 3 6 3 2 6-2 0-4-4-6-4-2zM66 2189l-1 3 1 3 2 0 2-3-2-3zM1260 2192l1 4 3 3 4 0 3-3-1-4-4-3-4 1zM1536 2197l-4-3-4 0-11 14 1 2 16 1 4-7zM1763 2198l0 4 2 2 11 1 10 7 2-2 0-6-4-5-14-3zM1122 2204l-1 4 3 3 12 2 4 0-1-3-11-6-4-1zM1388 2203l-6 2-5 5 1 6 6 4 4 0 4-6 0-8zM1494 2203l-2 3 0 4 4 5 4-1 2-2-1-4-3-4zM1472 2205l-4 4-6 17 3 6 7 4 4-1 3-3 3-10-2-12-4-4zM1648 2210l-8 0-4 2 1 8 7 10-6 7-4 0-6-4-6 1-2 6 4 6 12 4 12-4 4-3 1-7-5-8 5-8 1-4zM1114 2215l-4-1-9 4-6 6 1 4 8 5 9-1zM814 2219l-14 23-2 8 6 3 14 0 10 2 12-1 2-2 4-16 0-8-4-8-14-5-8 1zM289 2218l-1 2 2 4 6 2 1-2 0-4-5-3zM1682 2218l0 4 2 2 5-2-1-4-2-2zM316 2232l-2 14 12 22 16-3 6 8 10 1 4 5 4 1 12-1 6-3 1-10-3-4-5 0-5 7-4 2-6 1-2-2 0-6 1-4 9-6 5-12 0-6-3-4-6-1-20 19-4 1-10-2-8-4-5-7 0-6-1-1zM1026 2238l-4 4 0 8 4 6 6 1 2-5 0-8-4-6zM2002 2238l-5 2 1 4 2 1 4-3zM213 2246l1 2 4 1 3-3-5-2zM1056 2265l-5 1-3 4 0 5 4 4 4-2 3-7 0-4zM697 1398l5-2 3 2-5 2-2 0zM570 1941l4 0 10 7 1 6-3 4-4 0-8-7-1-5zM572 1967l6 0 6 8 6 3 0 6-4 7-13-11-4-8zM606 1969l8 4 2 3 0 2-7 4-5 8-1 6-3 1-6-3 7-8 0-6-4-6 3-4zM533 1980l3-4 12-6 9 6 0 2-11 5-10-1zM616 1995l2 3 0 5-4-2 0-3zM1318 2200l6 3 1 7-5 9-6 3-7-8-1-6 4-6zM0 2255l10 5 3 4-5 7-8 3zM1212 2296l-1 4-2 4-13 10-4 1-8-1-8-9-6-1-4 6 1 12-3 4-6 3-6 0-10-4-2-13-6-8 2-4 8-4 1-2-9-12 0-4 2-3 4-1 12 6 12 2 5-4 1-12 4-2 3 2 0 12 7 9 4 2 14 1 4 2zM1267 2268l4 0 0 4-4 0-1-2zM1768 2273l2 0 5 7 0 2-5 1-4-3zM1986 2276l5 2 1 6-4 4-5 0-3-2-1-2 3-5zM2066 2277l0 39-14 1-3-3 0-4 9-8 4-6-7-10 0-4 5-3zM1280 2280l4-1 5 3 1 6-2 3-4 0-4-5-1-4zM1609 2282l5-3 8 1 1 4-2 6-5 3-6-3-3-4zM142 2287l7 3 4 6-3 6-8 4-5-2-3-6 3-8zM203 2302l9-3 6-8 8 8 4 1 4-1 6-6 8 0 4 13 11 8 3 12 12 8 3 4-1 2-14 0-8 7-4 0-9-15 2-14-3-7-12-5-14 7-6 1-7-6zM8 2295l1 3-1 3-4 3-4 0 0-12zM1413 2294l5-1 2 1 0 5-4 1-3-4zM538 2296l0 5-4 3-1-2 1-4 2-2zM1681 2296l3-1 8 5 10 2 5 4 0 6-7 5-12-1-5-6-3-10zM512 2306l2-2 8 2 8 0-2 11-4 1-10-4-2-4zM1972 2306l4 4 0 4-4 8-6 4-6-6-1-8 5-6zM48 2312l4-2 10-1 4 2 0 3-6 10-8 1-4-2-3-3zM1348 2310l9 2 10 8 0 4-5 14-6 6-4-1-2-5 1-8 4-8-11-8 0-2zM1306 2319l4 3 0 2-4 4-4 1-3-3 0-4 3-2zM1739 2320l11 4 12-1 4 5 1 6-1 2-10 4-8-1-7-9zM1934 2325l4-2 4 1 3 2 0 4-5 4-4 0-3-4zM1962 2330l4-1 9 9 1 4-4 4-4 0-6-6-3-6zM758 2342l4-4 10 3 12-2 6 5 1 6-2 2-5 1-20-5-4-2zM288 2343l3 3-1 6-6 10-6 0-2-2 0-4 7-14zM1288 2341l5 3 0 6-5 3-5-1-3-2 1-4 3-4zM508 2345l3 5-2 4-11 9-2-2-1-3 7-14zM1832 2372l4-3 4 1-3 4-3 0zM1173 2408l0 2-3 4-4 1-4-1 0-2 2-3 4-1z"/>
<path fill="#bbdaea" d="M0 0l2066 0 0 2234-10 2-12-1-11 5-7 6-8 0-2-2 0-6 8-2 2-14-4-9-8-2-3 1 2 14-1 4-22 3-10-1-4 2-1 4 1 4 10 7 2 3 0 4-4 4-6 2-14-5-12 8-18-2-2-2-4-9-10-7-16-4-8 5-4-2-4-4 0-4 3-2 11 3 2-1 11-12 1-6-1-2-17 2-8-15-16-13-6-1-14 2-12-7-4-1-4 2-3 5-5 12 1 4 25 1 8-3 4 0 5 4 3 14-2 4-14 6-10 10-2 4 1 8-5 2-4-2 0-4 2-4-2-3-14-3-12 0-5-2-7-20 2-12-7-10-5-3-24-7-1-10-3-3-18-3-14 6-4 6 0 4 4 0 6-6 4-1 15 11 1 4-2 2-12 6-4 4-2 16-7 14 3 10-6 9-2 1-6-11-10-10-4-1-8 3-5-1 1-4 8-5 3-3-2-6-9-12 1-6 7-10-2-4-4-2-6 4-15 22-5 3-6-3-12-9-12-3-6 0-4 8 1 14-1 3-9 7-5 15-8 2-12-4-4 1-3 6 5 6-1 4-4 2-7-5-6 2-1 23-3 4-8 2-6-2-8-10 2-3 8 1 4-2 4-12-2-4-8-8-5-14 1-4 8-2 2-2-2-5-8-3-1-6 3-8 12-10 15-6 3-4-2-4-10-4-3-4-1-8-4-4-8-1-10 7-2 22-10-3-12 13-6 3-6-2-8-11-4-2-10 6-5-16-3-3-20 0-14-9-2 2 2 8 4 5 8 5 1 10 6 6 1 4-7 20 1 6 3 8-1 4-4 4-8 3-4-1-4-6-1-6 2-14-8-10-8-18-1-11-4-4-8-1-5 2-1 4 4 8-1 4-11 0-16-2-8 9-14 8-2-1-4-20 1-8-3-5-4-2-12 2-14 0-12 4-4 0-4-4-4-11-6-3-6 3-6 7-10-1-4 2-5 8-8 8-1 10-4 6-2 0-1-12-3-4-14-13-6 1-7 6-5 10-8 8 0 6 4 10-1 2-3 1-10 0-3 3-6 14-5 2-10-2-7-16-13-16-12-8-6-8-4-1-10 3-3 2-2 12-9 8-12 6-6 0-8-2-5 4 1 4 2 3 14 3 8 5 4 7-1 6-5 1-24-3-12 7-12 3-1-4 3-10-2-4-6-9-4-1-6 0-8 4-14 11 0 7 4 12-6 8-4 2-7-8-23-18-4-6 1-4 4-6 1-4-3-4-8-4-1-4 4-18 12-10 0-6-2-5-4-2-4 1-8 7-8 2-11-11-7-4-6 0-12 7-4 0-11-13-5-2-4 2-2 6 1 6 7 15 8 6 10 13 14 4 2 10 10 5 1 3-1 7-12 9-4 12-4 4-16 0-5-2-1-4 5-8 0-4-2-4-7-4-4 0-8 8-4 2-22-1-3-1-2-4-1-18 7-14-3-6-24-4-20 4-8 6 0 20-4 6-8 9-8 3-8 6-16-2-12 5-16 1-14 6-4 3-10 27-10 12-4 8-6 4-10-3-4 1-1 2 1 34-2 5-4 3-10 3-18-3-10 4-20 5-4-1-8-6-18-4-16-12-3-6 10-42-11-34-9-10 0-12 5-11 6-6 6-2 14 9 18-1 14 4 16-5 10-7 10-2 2-5-14-37-26-2-14 4-10-4-8-1-3-2 0-10-4-10 0-8 5-24-2-12-4-9-2-29 3-10-7-6-3-4 6-10-2-10 4-20 3-2 9 0 3-9 4-2 2 1 8 12 0 6 6-3 14-1 10 7 10-10 20 1 16-8 6-1 18 1 12 9 10 1 10-3 5-9-1-8-6-8-6-4-11-4-11-18-8-10-13-10-7-17-10-4-9-7-11-5-10 0-8 4-18-9-5-10 2-6 7-6 2-1 6 8 4 2 4-2 6-7-1-18 4-8-1-2-15 2 2 8 0 6-3 4-6 2-8-4-2-4 4-7 12-7-5-8 1-4 4-2 8 0 3-4 1-8 4-4 12 2-6-13-4-1-4-3-8-13-8-8-3-6 5-13 12-4 8 0 5-5-7-22 1-8-4-14 1-18-7-10-1-16 0-11 6-7 3-16 4-12 0-8-6-14 17-22 5-10 13-10 1-10 13-17 1-11 8-12 6-4 2-8 3-1 8 2 2-1 3-8 5-6 0-8 2-3 6-2 8 3 4-4 2-6-2-4-14-4-8-7-8-4-3 1 0 4 7 4 2 4-2 4-8 10-8 4-26 7-15 1-13 12-6 16 5 8-2 6-3 2-4 0-4-2-4-5-1 1 3 24-2 8-4 5-12 4-5 11-9 10-4 10 4 14-1 18-5 4-11 2 4 8 1 12-11 10-4 10 7 6 4 15 10 11 2 18 6 9 0 7-7 16 3 8 0 4-9 16 2 16-9 7-13 29 0 6 6 8-1 6-8 14-12 10-3 14-7 10 0 8-10 10-1 4 3 5 6 2 5-3 5-7 2 2 7 13 1 4-2 4-4 3-14-12-4 0-8 6-3-3-2-6-3-2-4 1-2 5 0 4 6 7 12 2 6 3 3 4-3 9-14 9-6-1-6-6-1 7 1 4 6 6 0 6-2 8 6 9 2 0 6-10 2-1 2 2-1 8 2 8 0 12 8 8 1 8-6 8-7 16-11 9-2 1-10-5-12 4-12 1-26 16-13 24-9 12-12 10-5 10-11 10-1 4 11 8 2 4-1 12-4 10 2 24-5 7-8 5-1-2 2-10-3-1-2 5 1 8-6 18-5 2-3-2-1-4 3-6 1-4-16-13-4 0-8 7-10 3-10 6-6 0-6-17-14-2-6-6-10-6-6-10-20 1-4-5-8-18-12 3-6-1-4-6-2-14-4-3-18 8-14 2-4 3 1 6 5 14 1 16-3 2-6-1-11-9-1-2 4-16-3-8-5-4-4 1-2 2-2 9 4 9 7 7-2 4-3 2-6 0-18-9-4-1-16 26-8-3-4 1-6 4-3 0-3-5-2-13-2-2-10 5-5-1-3-4-3-10-8-6-5-1-7 3-5 8-6 14-2 14-2 3-4 2-10 1-2 2-4 11-4 4-6 0-14-4 0-52 14 0 7-3 2-4-3-6-20-11zM512 431l-4 1-2 2 0 4 6-1 1-3zM300 733l-1 3 1 2 4 0 0-4-2-2zM392 960l1 6 3 3 2 0 8-7 6 4 1-4-1-3-6 0-8-4-4 2zM410 970l-7 4-1 2 2 3 4 0 3-3 1-4zM448 1018l-1 4 3 2 2-2-1-2zM628 1102l-2 1-4 8-15 11-2 8 3 6 8 4 4 4-1 10 5 8-3 6 0 2 5 5 8 2 0-5-6-10 4-13 9-7-1-6-4-4-1-4 7-16-2-4-8-2zM672 1194l-2 4 2 3 4-2 1-3-2-2zM688 1211l0 3 2 3 4-1 0-4zM687 1232l3 2 4 0 5-2 2-4-3-3-6 0-4 3zM743 1330l2 2 5-1 2-5-4-2-3 2zM706 1351l-6 3-8-1-2 1 2 6 17 8 1 2-8 8-10 4-4 8-1 8 4 12 7 8 4 1 8-6 18-6 2-3-1-12-11 1-5-3 1-6 7-10 1-4-2-3-7-3-3-10zM706 1428l2 5 4 1-1-4zM740 1426l-4 2 0 4 1 8 5 9 6-7 2-8-1-4zM726 1442l2 4 2 2 3-2-1-4-4-2zM1288 1548l-6-2-6 2-3 4-5 15-12 8-8 3-1 2 1 4 4 3 4-1 8-7 10-3 12-7 4-5 2-6-1-6zM630 1771l-2 3 2 4 4 4 2 0 0-6-2-3zM1477 2134l1 4 4 3 6-1 3-2-2-4-5-3-4 0zM1796 2134l-5 16 1 3 15 7 5 10 6 0 3-4-1-4-2-4-4-3-1-3 6-12-1-6-4-3zM1908 2140l-6-2-10 4-3 4 1 6 6 3 8-3 5-6zM1148 2142l-10 2-5 4 5 10 6 5 8-3 4-4-4-10zM380 2146l-4 1-3 3 2 10-1 2-8 1-1 1 2 8 5 5 6-1 5-10 6-4-2-10zM818 2155l-5 1-7 16-1 6 3 3 8 0 4-3 2-18zM1607 2164l0 2 3 2 4 0 3-2 0-2-3-3-4 0zM2008 2170l-8-6-6 0-16 20-14 8-1 4 1 6 4 3 4 1 4-4 2-11 2 0 8 6 12 3 5 8 3 1-2-21 4-12zM114 2165l-10 0-14 6-4 5 0 8 10 6 6 6 8-8 5-10 3-8zM1063 2178l3 3 4 0 5-3 2-4-3-3-6 0-4 3zM1908 2175l-4-1-6 3-6 11-1 4 9 1 8-5 2-6zM327 2196l-2 4 1 7 4 3 6-1 2-5-2-5-4-3zM1914 2215l5-1 2-2-1-2-4-1zM1937 2240l1 2 12-1 4-1 1-4-5-3-10 0-2 1zM591 1794l3 0 3 4-1 1-4-1-2-2zM624 1917l3 1 1 2-2 3-4-1zM587 1940l4-12 2-2 5-1 8 4 10-3 8 16-2 3-8 2-10-2-8 2-8-3zM571 1942l3 0 8 7 1 3-1 4-4 0-7-6-1-4zM572 1969l2-1 4 1 10 11 1 4-3 3-11-5-4-8zM551 1976l-6 6-7 0-2-2 2-4 8-4 2 0zM600 1972l4-1 4 3-1 2-3 1-4-3zM948 2194l2 4-1 4-3 4-5 0-2-2 2-6 3-4zM262 2210l4-1 10 6 3 3 5 12 0 4-2 2-8-1-9-9-4-10zM1404 2216l6-1 3 3-5 1zM1676 2232l2 4-2 6-12 10-7 8-11 4-7-2 1-4 17-10 5-18 8-3zM292 2238l6 0 5 4 5 12 0 5-2 1-2-1-5-9-8-8-1-2zM1482 2249l8 0 4 3 1 6-5 5-6 1-3-2-2-8zM1352 2258l5-4 7-1 6 5 2 6-4 4-12 0-3-4zM219 2260l3-2 6 0 0 2-2 1zM1713 2264l7-7 5 13 11 0 3 4-1 4-4 3-7-1-4-8-10-4zM803 2262l3-2 8 0 4 2 1 4-3 1-8 0-4-2zM840 2278l4-6 10-6 4 0 6 8 11 10-7 5-8 1-16-4-4-4zM1810 2276l2-3 3 1 1 2-4 2zM988 2306l4-2 6 2 3 2-1 4-4 3-4 0-4-5zM519 2312l2-2 3 0 2 0 0 4-2 1z"/>
<path fill="#c2ddec" d="M0 0l2066 0 0 2154-4 0-2 2-1 10 2 4 5 1 0 13-22 3-18 12-6 1-4-2-2-4-1-6 6-14 0-8-3-5-12-7-1-6 0-10 7-12 0-4-8-9-18-1-10 4-10-5-3 3 1 6 4 3 8-3 2 4-1 10 9 10 0 24-6 6-10 2-4-2-8-7-6-2-11 15-2 20-5 4-8-4-3-4-1-4 3-10 9-6 0-14 10-4-4-12 3-10-3-5-6-2-10 5-14-7-14 4-11-3-3 6 2 24-2 3-4 1-5-2-3-6 0-4 2-6-2-5-4-2-8 6-12-3-6-5-8-4-3-9-3-2-16 6-18 2-2 4 0 12-4 10 4 4 11 6 4 16 17 0 4 2-2 8-6 6-8 0-10-9-14 0-6-3-3-4-4-8 2-16-11-8-4-1-3 1 0 2 4 4 2 6-3 5-8 1-8-8-12 3-10-3-4 4 0 14-4 6-4 2-4-2-10-9-20 12-19-23-2-4 2-14-6-14 7-6 0-10-2-4-4-1-4 3-2 11-12 0-7 3 0 2 5 8 1 14-1 4-4 2-4-2-8-10-1-18-13-12-8-13-4-2-7 3-1 6 4 11 12 9 1 6-5 32-2 4-4 3-12-1-2-2-4-12-16-11-12 4-24-10-7 3-3 4 7 18 8 10-1 12-2 4-4 3-4-1-4-4-4-16-4-4-10-1-10-4-10 2-6-1-5-2-8-8-7-2-7 2-4 6-1 4 5 10-1 6-2 0-8-8-14-8-1-4 3-4 0-2-2 0-3 2-2 6-8 12-3 10-4 2-4-3-7-9-27-7-42 6-4-1-6-12-7-22 1-12 7-30-2-4-5-2-4 2-3 14-12 20 1 10-2 4-8 9-10 5-4 4-1 4 3 8-2 5-4 1-8 0-10-9-4-2-6 1-6 6-4 1-8-7-2 2 3 10-1 8-6 7-8 4-18-2-6-2-4-11-6-10 2-3 4-2 16 0 4-2 8-7-1-8-3-4-4-1-4 0-6 5-6-1-12-15-18 1-16-2-18 5-16-4-3 2-1 4 6 8 0 3-16 7-22-4-4-2-10-12-6-3-6 1-3 4 0 6 3 5 9 7 2 6-5 8-2 2-10 0 0 4 10-2 12 9 10 5 8-4 24-3 10 10 8 2 3 3-1 6-10 6-14-3-16 4-6-14-6-4-22 4-10 9-1-4 2-12-3-6-2-1-12 7-8 8-3-4-5-20-6-8-8-2-16 3-18-11-16 5-8 0-3-5 8-12-1-3-4-1-14 9-12 3-3 2 0 14 4 16-8 14-3 9-4 1-4-6-1-6 9-14 0-6-1-4-15-10-4 0-2 4 3 8 0 4-3 10-6 5-9-1-4-4-6-14 0-18-1-4-10-8-6 0-5 4-17 32-4 12 3 20 6 10-1 4-4 2-16-6-6 4-2 4 0 4 4 4-1 2-41 10-18 10-16 33-14 12-16 1-4 3-2 21 1 12-2 4-5 5-6 1-12-2-14 6-16 3-12-5-16-2-13-10-3-6 9-46-8-22-5-10-8-6-2-4 0-8 4-9 6-7 6-1 4 1 10 7 12 0 20 5 18-7 8-5 12-2 4-4 1-4-1-6-10-22-3-12-3-4-28 0-14 4-16-6-2-2-6-22 6-22-2-16-4-10 0-18-2-10 2-6 5-6-1-2-10-2-3-4 6-10-3-10 3-18 3-3 10 0 4-9 2-1 2 1 6 10-1 8 1 2 4 0 6-5 10-2 4 1 8 9 3-1 10-8 19-1 14-7 6-1 18 1 14 9 10-1 10-4 6-10-1-6-7-11-16-12-16-25-15-10-3-6-1-10-2-4-43-18-4 2-4 6-4 0-14-6-6-10 2-5 6-5 2 0 6 7 4 1 4 0 8-12-2-10 6-16-1-2-17 0-4-3-2-5 4-3 6 0 4-1 2-10 4-5 12 4 3-1 0-2-6-8 1-12-6 4-4-1-6-7-2-6-9-8-3-6 4-10 10-4 8 0 6-4 2-4-6-20 0-8-5-16 2-18-7-10-2-16 1-10 5-6 4-18 5-12-2-10-5-12 19-24 4-8 12-10 1-10 7-10 6-6 1-12 8-11 6-3 2-8 2-1 11 1 3-10 6-6-1-8 3-3 4-1 5 2 2 2-5 8 2 1 4-1 1-8 6-10 0-4-2-4-15-4-8-7-8-4-4 2-1 5 9 6 0 4-10 12-8 4-12 2-12 5-14 0-15 13-6 16 5 8-2 6-6 1-3-1-3-6-2-1-2 1 3 26-1 8-4 4-10 3-4 3-4 10-15 18 1 4 6 12-2 16-4 5-10 0-2 1 0 4 4 8 1 8-11 12-4 10 1 2 7 5 4 15 8 10 3 10 0 8 5 12 0 6-6 14 3 8 0 4-2 6-6 8 0 18-7 6-14 30 0 6 6 8-1 6-8 14-11 9-4 15-7 8 0 10-11 12 0 4 7 6-9 7-5-9-5-2-4 4-2 6 7 10 17 4 4 4-3 8-13 8-6-1-6-7-2 0-1 2-1 10 9 10 1 4-3 8 5 8-2 8 2 1 6-7 4-9 2-1-1 8 3 8 0 12 2 5 6 5 1 2-1 4-5 6-9 16-12 6-8-2-12 4-14 1-16 11-12 4-3 4-13 25-6 7-6 4-6-1-5-7-7-3-4 0-8 5-10 0-2 2 2 12-6 3-12 2-14 13-4-3-3-9-3-4-4-1-8 1-3 4-2 12 17 20 0 6-4 6-10 2-5 4-4 14-3 2-8-2-5-4 0-4 2-12-5-16-2-2-4 2-5 14-5 6-8 2-4-4-5-26 15-16-2-4-6-4-18 5-20-4-6 0-4 3-8 10-10 4-14-2-12 0-10-7-8 0-6 2-6 5-4 6-1 6-1 1-14-10-28 3-16 6-6 10-14 1-14 6-14-4-12-10-12-7-3-4-3-12-6-1zM504 436l2 4 4-1 4-3 0-4-4-2-3 2zM326 645l-5 3-1 2 2 3 4-1 2-2 0-3zM316 672l-4 3 0 5 5-6zM300 731l-2 5 2 3 4 0 1-5-3-3zM378 912l2 1 7-1-1-3-4-2-3 1zM401 938l-3-2-4 2-3 4 1 4 6-2 3-4zM394 955l-3 5 2 8 11 13 4 0 5-7 2-12-1-4-2-2-6 1-8-3zM424 990l-5 4 1 4 4 0 2-2 0-4zM446 1017l-1 5 3 4 2 1 3-3 0-4-3-3zM582 1068l2 4 5 0-3-4zM592 1094l-2 2-1 4 3 4 4 0 0-3zM612 1102l0 4 4 4 0 2-11 12 0 10 3 3 11 7-1 10 3 8-3 6 6 7 10 5 2-1 1-5-6-10-1-6 2-7 9-9 0-6-5-8 7-14 0-4-3-3-6-1-6-6-3 0-5 9-4-6zM672 1193l-2 1-1 4 1 4 2 0 4-2 1-4-1-3zM687 1210l0 4 5 5 4-3 1-2-3-3-4-2zM686 1230l2 5 4 0 8-3 2-4-2-3-6-2-4 2zM752 1324l-6 0-3 4-1 4 4 1 6-3 1-2zM674 1344l2 3 10 1-1-4-2-2-5 0zM688 1350l1 8 3 4 15 8-5 6-8 3-3 3-4 8-2 12 5 8 11 12 7 14 4 1 2-2 0-3-8-8-2-4 6-6 20-5 1-19-3-1-10 3-4-2 1-6 7-10 1-4-3-4-6-4-6-14-2 0-8 5zM738 1424l-4 2 0 12-8 1-2 3 4 8 4 0 4-2 4 6 2 0 6-10 3-12-9-7zM1288 1546l-6-2-7 2-3 4-4 10-4 4-10 2-8-1-4 2-3 5 0 4 5 10 8 5 8-1 12-7 14-12 4-5 3-8-1-6zM628 1769l-1 7 5 6 4 2 2-4-2-6-6-6zM512 2043l0 3 6 2-1-4zM1906 2058l-2 4 2 4 4 4 4 1 2-5-2-6-4-3zM1536 2079l-3 5 3 3 2-1 2-4-1-2zM1462 2085l-2 3 2 5 4 1 4-2 1-4-1-3-4-1zM354 2100l5 6 11 4 12-5 3-7-5-6-10-3-14 7zM1424 2092l-3 4-1 4 2 3 2 1 3-2 2-4-1-4zM1816 2098l1 4 5 3 6 0 4-3-2-4-5-2-5 0zM88 2116l-16-7-4 0-4 5-4 19 4 1 20-10 4-4zM1786 2108l-3 2-2 4 0 4 3 2 4-2 2-4-1-4zM1344 2116l-2-1-3 3 0 4 1 1 4-1 1-2zM2048 2117l-4-2-4 1-20 10-2 10 3 6 5 3 6 0 16-9 3-12zM158 2117l0 5 2 1 4-1-1-4zM362 2121l-4 1-4 4 2 4 4 4 3-2 3-6-1-4zM1457 2136l1 5 6 6 6 2 10 0 20-4 3-3 2-10-3-4-8-1-16-6-12 4-6 5zM934 2132l-3 4-1 8 6 7 4 1 5-6 0-8-5-5zM998 2133l-4 2-2 3 1 4 3 4 4-1 2-5 0-4zM300 2156l2 3 4 1 6-1 4-3-1-2-3-2-4-1-5 1zM994 2152l-5 2-3 4 1 4 3 2 4 0 2-2 1-6zM785 2158l3 4 4 0 2-2-1-4-3-1-4 1zM408 966l-2 4-5 0 3-5zM614 1857l2 9-4 6-4 1-8-5 0-4 4-5 6-3zM544 1925l2 1 7 12-1 4-4 3-13-11 0-2zM622 1942l-4 3-14-1-8 2-6-2-1-4 3-5 6-3 16-4 2 1zM572 1943l3 1 6 6 0 4-1 1-8-7zM574 1970l4 2 9 10-1 3-4 0-6-4-3-7zM548 1974l1 2-3 4-4 1-4-1 2-4zM388 2138l4-3 6 0 6 3 0 4-4 6-4 1-6-5zM1112 2151l6 2 8 7 4 8-1 4-5 6-10 5-8-3-8-12 0-2 9-8 2-6zM1831 2158l3-2 12-1 12 3 9 10 2 8-1 4-10 5-8-1-8-10-10-6-2-6zM1896 2166l-4 3-4 1 2-6 4 0zM350 2170l4 0 6 3 4 7 0 5-6 1-6-4-4-6zM400 2172l4 0 2 2 1 4-3 4-4 0-4-4 1-4zM1630 2171l8 9 6 4 0 2-4 4-14 2-10 9-4 0-10-17 7-6 17-7zM1886 2173l-2 5-4 2 0-4zM122 2179l4-1 4 4 2 6-2 4-4 0-6-2-1-6zM1654 2180l-2 3-5 1 0-2 3-2zM1594 2184l7 2-5 10-7 10-2 14 1 4 6-1 6-2 10-14 3 1 2 6-2 6-9 9-4 1-10-1-6-5-16-2-7-6-1-4 2-5 8-7 12-7 8-8zM0 2194l36 4 2 1 1 3-3 5-4 2-12-1-14 2-6-2zM1149 2196l4 0 4 2 0 6-3 0-6-6zM1950 2199l8 9 1 8-3 7-8 3-5-2-2-6 4-16zM972 2202l6 0 5 4 11 18-1 6-9 11-4-15-11-14 0-6zM2034 2206l5 2 3 4-2 7-4 5-4-6-2-6 1-4zM900 2207l2 0 2 5-2 2-3-4zM354 2210l2 1 0 3-2 2-4 0 0-3zM380 2213l3 1 2 4-1 6-2 1-3-1-3-4 0-4zM1018 2214l7 6-2 4-5 2-3-2-1-2zM338 2218l4 2 0 2-2 4-4 2-2-2-1-4 1-2zM866 2219l2 5 0 8-4 3-6 1-4-6 1-6 5-5zM1058 2218l2 1 3 11-3 7-4 2-6-5-2-6 3-6z"/>
<path fill="#cae1ee" d="M0 0l2066 0 0 2127-6-2-7-11-7-5-6 0-10 4-8-1-8-8-14-7-3-3-2-8-7-3-4 0-4 3-6 16-4 0-10-6-2 1-6 14-6 6-8-1-8-10-4-2-4 2-8 10-6 0-10-6-6 0-10 4-8 8-4 2-6-2-4-4-4-13-3-3-29-15-16-1-4 2-6 11-14 3-9 10-1 18 6 4 3 4 0 6-3 3-4 0-4-3-1-4 1-8-2-2-24-1-2 1-4 10-6 7-6 2-16 0-6 10-6 2-5-3-7-10-14-6-6-10 0-6 2-4 10-1 7-7-1-4-4-6-4-2-12-1-18 2-6 3-12 10-8 3-6-1-12-7-5-9 0-6 7-10-1-6-11-5-8-7-6-2-5 4 1 14-4 4-8 1-12-10-6-7-6-1-6 1-3 2-8 14 3 6 10 5 4-1 10-6 4 0 4 2 1 14 3 3 10 4 2 5-2 3-4-1-10-5-22 4-1 3 5 8 0 4-4 3-7-1-3-4-3-10-6-6-5-2-14 1-4-2-2-13-11-4 4-18-9-5-6-1-10 4-6 8-1 6 2 8 0 10 2 12-7 14-2 8-4 2-9 0-1-2 0-10-4-4-4-1-24 19-4 1-10-1-4 2-3 4-3 12-6 3-10-2-10-6-16 6-22 2-6-2-9-29 7-26 1-16-5-7-12-4-6 1-2 2-1 4 0 14-3 6-4 3-3-3 0-12-5-6-24 3-4-1-6-10-7 0-5 3-2 11 1 18 19 13 14-3 6 7 5 3-17 17-6 4-6 1-16-2-8-10-12 3-18-9-14 2-2-2-3-10-3-3-24-1-12-3-14 1-12 4-17-2-11 11-6 1-4-6-2-10 10-12-1-6-15-11-10-4-6-7-20 8-8-3-4 1 2 2 8 0 7 8 9 6 4 1 8-2 4 2 2 5 0 6-6 12-4 3-6 0-10-5-16-9-6 0-12 3-14-2-4-2-8-12-12-2-16 2-2 2 0 4 2 3 10-4 4 0 4 3 3 6 0 10 6 6-1 4-4 1-2-9-22-11-8 4-13 5-7 8-4 2-16-12-6-13-4 0-10 7-18 1-4-1-8-11-4-1-6 3-1 7 2 4 17 10 2 8 0 8-2 1-10-3-10-6-6-1-12 3-8-2-14 10-3 4-1 8-7 8-2 16-6 10 0 6 5 14-3 8-9 12-18 7-10 2-18 14-11 17-4 12-3 4-18 10-6 0-8-4-5 2-2 6 0 32-1 6-6 3-14 0-12 6-10 2-30-5-9-6-4-6 4-12-1-14 6-18 0-12-16-24-10-8 0-8 2-6 4-5 12 0 8 6 10-1 20 6 6 0 24-11 12-3 7-6 2-6-17-47-4-1-12 2-16-1-12 4-4 0-13-7-5-10-2-14 6-16-2-20-5-10 2-18-3-8 7-12-3-4-8-1-4-3 6-10-4-10 4-18 4-2 8 1 6-9 2 1 4 7-2 8 2 2 6 1 8-5 8-2 4 2 6 9 4 1 7-2 9-6 16-2 18-8 16 1 16 9 12-1 10-5 4-6 3-6-4-10-7-10-12-12-16-27-14-7-2-4-2-13-4-6-18-7-16-2-10-6-6 1-6 8-4 0-10-5-6-8-1-4 2-4 5-3 3 1 7 7 4 1 4-1 6-11 0-14 4-11 4-7-20 1-4-2-2-5 2-2 10-1 2-3 1-8 3-4 14 4 4-4-7-8 0-6 2-6-1-3-4-4-4 8-4 0-4-5-4-8-8-6-3-6 3-8 8-3 3 1 2 8 7 7 4 2 1-3-1-8-5-8 8-10-6-20 2-8-7-16 0-8 2-10-7-10-3-16 1-8 7-8 1-12 7-16-1-8-6-16 19-24 4-8 12-10 1-10 7-10 6-5 0-11 8-12 8-4 2-7 13 1 1-10 4-4 4-2 8 2 6-4 7-24 4-6 7-22 0-2-8-6 0-6-2 0-12 6 2 8-1 4-9 2 4 14-4 0-14-11-6 3-2 4 1 4 7 4 2 2-2 4-8 9-8 4-12 2-12 5-14 0-14 12-8 18 6 8-2 5-4 2-4-1-4-8-4 0-2 2 3 10 2 16-2 8-4 4-12 4-6 12-15 17 1 5 6 12-2 16-3 3-10 0-2 1-1 6 4 8 1 8-10 11-5 11 1 3 8 5 3 14 7 10 3 8 3 21 2 5-3 6-3 10 4 8 0 4-2 6-6 4 0 20-7 8-3 8-11 22 0 6 6 8 0 6-9 14-8 6-3 4-3 13-8 9 0 10-11 14 1 4 4 4-1 2-5 3-4-8-8-2-5 9 0 4 5 7 4 3 16 4 2 2 0 5-2 3-14 7-4-2-6-7-3 0-5 14 1 2 9 5 2 3 1 4-4 8 5 6 1 4-3 8 4 1 8-8 2-1 3 6 1 16 2 6 4 2 0 3-8 11-4-8-10-5-3 1 0 4 1 4 10 6-1 6-11 6-8 0-12 4-14 0-14 10-6 3-24 0-2 5 3 10 0 8-3 6-4 4-4 0-12-8-6-6-6 1-2-1 0-6 4 0 4 5 4-2 4-5 2-8-4-10-4-1-4 2-7 11-3 2-12-6-4-4-2-6-2 0-10 11-12 4-3 3-3 10 2 4 6 6-1 4-17 10-10-2-6 1-2 3 0 10-2 4-8 1-4-2-2-3-1-12 5-12-4-4-4 1-10 9-6 12-10-1-12 6-12-5-20 3-4 2-10 10-6 2-6-2-4-3-1-4 1-8 4-5 8-3 3-8 9-8 5-28-1-4-4-4-16-4-7 4-4 6 0 4 7 12 0 4-18 13-8 0-14-3-6 2-3 2-1 4 3 20-4 8-7 7-4 1-8-3-14 5-16-1-12 4-8 0-4 3-5 10-11 4-16 0-10-7-4-5-2-9-6-7 1-4 5-8-1-6-7-2-18 4 0-44 5-2 3-6-2-4-6-2zM513 430l-3-1-4 3-3 4 0 4 5 1 5-3 2-4zM494 448l-4 3-2 5 4 0 3-2zM328 643l-4 1-4 3-1 3 1 3 4 1 4-2 2-4zM316 670l-3 2-2 4-1 5 2 2 6-9 0-2zM302 729l-5 5 1 4 4 2 4-2 0-2zM388 908l-6-3-4 1-5 8 1 6 2 0 4-4 8-1 1-3zM394 928l-2-3-4-2-8 3-4 0-2 2 0 2 12 1 6 0zM404 938l-6-4-4 1-6 11-5 4 0 2 3 1 2-3 8-3 8-7zM412 945l-2 1-1 8-3 1-10-2-4 2-2 3 1 6 3 8 8 9 4 3 6-6 3-6 1-10-2-8 2-6zM424 988l-7 6 1 4 2 2 4-1 4-3 0-4zM448 1015l-3 1-2 4 5 10 5-4 1-4-2-6zM581 1068l3 5 4 1 2-1-4-6-2-1zM601 1084l-3 0-3 2-7 10 1 6 5 4 4-2-3-10 8-8zM614 1087l0 3 2 2 3 0 2-2-3-4zM612 1100l-3 4 4 6 0 4-8 8-2 4 2 10 13 8 1 16-6 8 21 15 2 0 2-3 0-4-5-12-2-8 2-4 7-6 2-4 0-6-5-8 6-14 1-4-2-3-8-3-8-7-6 6-6-4zM564 1118l2 3 5-3-3-3-3 1zM674 1192l-6 2 0 6 2 4 4-1 4-5-1-4zM686 1234l4 2 11-4 1-6-7-6 5-5 8 3 4 0 1-2-5-4-4 0-4 2-8-5-6 0 0 5 5 8-5 6zM725 1304l-9 1-3 3 5 1 7-3zM752 1323l-4-1-4 3-3 5-1 4 4 1 8-3 2-4zM674 1342l-2 2 0 2 12 4 7 12 13 8-2 4-12 6-6 22 24 37 4 0 4-2 1-3-2-4-9-8 1-4 5-4 20-3-1-13 2-8-3-2-10 3-4-1 0-6 8-10 1-4-3-4-8-6-3-14-7 0-4 5-4 0-6-3-6-7zM1293 1552l-5-7-4-2-6 0-6 3-8 13-8 2-12-4-4 0-10 12-4 2-10 1-2 2 0 2 4 1 10-3 20 19 6 1 8-1 12-7 16-17 4-9zM1172 1566l1 4 3 2 8 0 2 4 2 0 8-3 3-5-3-4-2-1-8 5-2-1-6-7-4 1zM657 1816l-3-1-3 7 5-1 2-3zM495 2022l3 6 2 0 3-2-1-4-4-2zM987 2046l2 4 5 2 10-1 3-3-3-4-8-3-6 1zM1898 2047l-10 12-4 13 6 2 12-1 10 6 14 5 4-1 1-5-8-6-4-14-3-4-12-7zM1499 2082l1 5 4 1 5-2 2-4-1-4-4-2-4 2zM1712 2078l-2 1-1 3 3 3 3-3zM1958 2078l-2 2-1 4 3 6 4-2 2-6-2-3zM331 2082l5 3 5-1-3-4-4 0zM25 2088l0 6 7 10 8 3 12-2 4 2 2 13-7 14 3 6 6 3 6 0 10-7 12-5 14-15 14 2 4-1 1-3-5-16-18-12-5 2-1 8-6 3-20-2-10-8-14 1-10-6-4 0zM1426 2083l-6 1-10 13-9 3-2 4 1 2 10 1 12 7 6-2 6-8 2-8-4-9zM1075 2088l1 6 4 2 6 0 5-4-2-4-7-3-4 0zM1340 2085l-3 1-3 4-1 6 1 3 2 0 8-7-1-4zM1336 2103l-6 10-11 9 0 4 7 7 10 5 16 16 4 0 17-18 1-6-4-3-12 5-6 0-2-4 3-12-2-6-5-5zM1694 2112l-2 4 4 6 2 1 4-7-3-4zM1206 2127l-2 1-1 4 3 5 2-1 1-4zM753 2144l-1 4 3 4 5 2 2-1 0-5-2-4-4-2zM718 1476l2-2 4-1 4 3-2 4-4 2-3-2zM612 1858l3 6-3 6-4 1-7-3-1-2 3-4 5-3zM544 1927l8 11-1 4-3 2-11-10 0-2zM620 1940l-2 3-22 2-4-1-2-4 4-4 18-7 3 1zM575 1974l1-1 2 1 6 8-4 0-4-2zM1256 2116l2 2-1 2-3 4-1-6 1-2zM171 2132l-1 6-4 1-6-1-1-2 5-4 4-1zM1572 2136l8 1 6 6-1 9-5 7-4-2-11-11 1-5zM1666 2153l4 5 0 2-2 1-4-3 0-3zM1006 2158l2-3 4 0 6 5 2 4-4 2-6 0-4-4zM278 2159l3 3 1 14-2 5-4 2-3-3-1-14 1-4zM1781 2164l5-1 7 3 1 4-2 4-6 2-4-3-3-5zM308 2174l8-6 4-1 6 3 3 6-3 4-6 1-10-4zM1117 2168l1 2-2 4-5 0 0-4 3-2zM840 2171l4 1 6 8 0 6-4 5-4 0-4-5-1-8zM1196 2182l-1 6-5 3-10-4-8 2-4-7 2-3 10 1 6-6 4-1 4 4zM2032 2177l2 3-3 6-7 5-4-1 0-4 2-3 8-6zM1076 2194l2 4-2 3-6 3-4-1-1-3 1-4 6-2zM1580 2205l2 5-2 5-6 1-4-2-1-2 3-4 4-3z"/>
<path fill="#d1e5f0" d="M0 0l2066 0 0 2022-3 2-1 8 1 4 3 1 0 78-4-1-14-13-4-2-6 1-8 5-4-1-6-6-11-6-1-10-4-4-20-1-10 1-4-1-6-7 0-12-4-5-4 1-10 17-2 0-8-5-8-2-3-10-29-20 3-12-3-3-4-1-4 2 0 4 7 10-9 18-29 38-7 4-5-2-23-15-14-1-4-2-3-4 1-8 8-6 4 2 6 10 4 0 2-3 0-5-6-10-1-4 9-26-2-3-4 1-5 8-11 10 1 8-12 24 1 14-2 6-12 8-14 14-4-2-6-12-12-3-6-4-4-7-2-10-4-3-8 0-16-4-14 4-2 3 8 12 0 4-2 2-14 2-18-4-14-8 0-2 2-6 12-6 5-6-1-5-6-3-4 1-14 9-14 11-3 5-2 10 1 3 4 0 10-7 6-1 3 5-2 6-17 10-7 6-11-1-6-3-1-4 0-4 7-8 1-4-5-12-8-8 2-10-5-4-13-4-18 10-4 0-10-2-6 1-14 9-12 11-14-9-6-1-12 2-4 0-6-4-6 0-16 6-12 20-4-5-1-10-3-3-4 0-24 9-4 0-10-7-8-12-4 0-3 3-1 4 12 16 1 12-4 6-9 8-14 5-2 0-4-11 0-14-18-17-5 1-15 21-4 2-11-13-29-14-6 1-16 13-4 1-4-2-3-5-5-3-22-1-5 4-6 10 5 12 0 4-2 2-8 0-9 10 0 4 5 16 0 2-4 2-18-6-10-11-14-5-1-2 1-6 7-10 2-8-3-6-6-3-8 0-12 7-12 0-8 3-14-10-12-4-8-1-7 2-1 12-2 2-4 0-16-16-4-28-15 6-2 4 0 16-5 5-22-5-10-11-8 3-2 4 0 8-5 14-5 4-6-2-5-4-1-8-2-3-4 0-10 3-10-4-4 0-1 2 0 10-4 10 0 12-3 3-6 2-4 0-3-3-1-14-6-6-4 0-10 7-12 0-12 7-10-2-2-2 3-8-3-8-6-7-11-3-3-10-4-1-4 1-4 6 1 16 2 6-4 6-2 12-3 5-10 3-8 0-4-1-6-5-12 1-3 1-2 4 1 2 9 4 4 4 0 4-3 5-4 2-2-1-5-12-3-2-14 4-8 8 0 4 18 16 4 8 0 12-7 16 5 18-5 10-7 5-20 5-6 3-7 9-11 10-12 16-3 12-3 3-16 4-6-5-6-1-10 6-9 3-1 4 5 12-3 8 4 10-1 4-3 4-16 4-14 8-24-4-4-2-4-4 1-12-5-18 7-16 1-14-22-25-9-5-2-6 2-6 3-4 10 2 3 2 5 10 5-6 5-2 24 6 6 0 10-6 24-8 11-10 3-6-7-22-5-10-7-22-3 0-14 4-14-1-18 3-12-4-7-8-1-8 7-20-3-12-1-12-3-10 3-16-3-10 5-10-5-6-8 0-2-2 6-10-5-10 4-18 3-1 8 2 6-8 4 5-2 8 4 4 6 1 10-7 6-1 4 3 6 10 10 2 14-8 12-1 12-7 8-3 12 2 16 8 16-1 10-6 6-8 2-6-2-8-20-26-5-12-6-8-5-10-12-8-10-21-20-6-16-1-6-5-13-3 7-16-2-8 6-16 10-10-1-2-13 4-10 1-6 0-2-3 0-2 8 0 4-3 2-11 2-2 14 4 6-5 6-2 3-5-1-4-2-1-8 7-5-2-2-4 4-12-5-8 0-10-5-16 7-10-4-8-2-12 4-8 6-3 2-3-2-3-2 0-4 6-2 0-4-3-4-14 3-16-7-6-2-6-1-14 1-6 4-3 6 0 2-1-4-4-1-8 8-20 0-6-7-18 19-24 4-8 12-10 1-10 6-9 6-5 2-4-2-8 8-10 9-4 1-6 2-2 18 4 10-2 0-4-4-6-2 1-6 7-2-2-1-6 3-5 4 0 4 3 11-8 7-22 5-8 6-22-1-3-6-5 0-7-8-1-3-2-3-14 1-12-5-1-8 3-4-2 1-4 8-10 1-4-2-4-8-6-2-4 1-10-3-2-7 0-9 6-4-2-4-7-4-2-13 3-1 2 4 4 10 3 6 11 11 8-1 3-13 7-4 24 10 12 3 8 8 10 1 4-5 7-1 5 1 3 8 4 0 3-8 10-7 4-13 2-16 6-12 0-13 12-9 18 7 8-1 5-2 1-4 0-6-10-4 1-3 3 4 12 1 16-1 6-5 4-8 1-4 3-7 14-14 14 1 7 6 9 0 9-3 9-3 1-8 0-4 5 0 5 4 9 0 6-9 12-5 10 2 4 7 4 4 16 10 16 1 18-1 6-4 8 1 12 5 6 1 4-2 4-6 4-1 2-1 20-6 6-4 12-11 22 2 6 5 6 0 6-8 13-11 9-3 14-9 10 0 10-9 10-4 7-8-3 0-19-2 0-6 13 0 3 4 5-5 12 1 4 8 8 16 5 3 3-1 4-12 8-4-1-8-8-4-1-2 3-2 9-4 6 2 2 10 3 4 5-1 4-5 6 8 8-5 10 1 2 2 2 4-1 8-8 3 1 2 4 0 18-3 6-6 1-8-5-3 2 0 10 5 10-1 2-5 3-18 4-18 1-10 8-6 3-14-2-5-3-2-6 9-12 1-6-5-13-4-2-8 5-5 6-1 6 2 10-2 4-4 3-12-5-14 6-10-6-22-5-2 3 1 12-3 4-9-4-13-2-10-4-12 4-5 4 0 4 10 10 0 8 5 10 0 4-6 2-10-10-6-1-14 2-12-5-5 8-9 6-2 6 2 8-2 1-10-5-18 2-3-2-2-4 2-4 5-5 2 2 4 0 14-6 10-6 10-1 2-2 1-10 9-8-2-4-9-8-9-18-8-6-4 2-4 16-8 3-16-3-14-9-6-1-10 4-6-4-8 0-2 4 4 12 0 6-8 21-8 4-24 7-4 0-4-2-6-13-4-5-16-8-18-4-2 2-4 12-2 2-6 1-4-2-3-3-4-14-3-5-4 1-6 8-4 3-4-1-18-12-10 3-14-2zM530 392l2 3 4-3-4-3zM514 430l-4-1-5 3-4 6 1 4 4 0 8-4 1-4zM496 448l-2-1-4 2-3 5 1 4 4-1 4-3zM328 641l-6 3-4 4 2 6 6 1 4-3 0-8zM318 670l-4 0-3 4-2 6 1 7 2 0 7-13zM304 717l-2 1-1 8-5 8 2 5 4 2 4-1 1-2-3-10 2-8zM378 904l-7 10 2 10-1 6 4 2 15 2 0 4-9 10-1 4 7 4 6 18 12 13 10-13 2-26-12-12-8-4-3-6-7-6-8 3-1-3 2-2 7 0 3-6-1-3-3-3zM408 924l-1 2 1 4 2 1 2 0 0-6zM424 985l-9 9 2 4 3 2 5 0 4-4-1-7zM452 1014l-6-1-4 5 3 10-3 6 2 3 3-1 8-10 0-8zM581 1066l-1 4 2 3 6 2 3-1-3-6-4-2zM602 1082l-4 0-3 2-8 10 0 8 7 5 4-1 2-2-3-10 10-8zM614 1083l-5 3 5 10-6 8 3 10-8 8 0 10 3 6 10 6 1 2 0 14-5 6 0 4 6 2 11 8 5 5 2 0 3-3 1-4-8-22 2-4 8-6 1-4 0-6-5-10 6-12 0-4-2-4-9-4-12-16zM568 1114l-4 1-1 3 3 4 4-1 2-3 0-2zM674 1191l-4 0-3 3 1 10 2 2 6-4 3-4-1-4zM686 1236l4 1 10-3 3-4 0-4-5-7 2-1 14 2 2-2-1-4-9-4-8 1-8-3-4 0-2 4 6 10-5 8zM660 1245l0 3 1 2 5 1 1-3-2-2zM700 1269l-1 3 1 5 12 8 2-7-6 0zM729 1302l-15 0-4 7 4 2 6-1 8-4zM752 1322l-4-1-4 3-5 8 0 4 3 1 11-5 2-4zM1295 1554l-2-6-5-5-10-2-7 3-7 10-4 3-6-1-12-4-4 0-10 11-10 1-10-1-14-7-18-3-4 1-10 10 0 4 4 11 14 9 28 1 20-7 6 3 14 11 10 1 12-5 10-9 12-15 3-8zM495 1996l5 2 2-2-4-2-2 0zM813 2016l1 7 8 8 14-1 4-4 0-6-4-4-18-3zM494 2018l-2 4 2 5 4 4 4-1 4-4 0-4-8-5zM1414 2028l-4-2-8 4-18 16 4 12 4 1 6-2 7-15 11-6 0-4zM2008 2031l-2 5 4 3 2-2 0-3-2-3zM114 2033l-1 3 0 4 3 2 4-1 2-3-1-4-3-2zM1314 2038l2 3 4 1 4-2 2-4-2-2-4-1-4 1zM980 2044l1 4 7 8 10 5 10 0 9-7-3-12-4-5-20 0-7 3zM596 2040l-1 4 3 2 2-1 1-3-1-2zM1059 2052l0 4 3 2 6 0 2-2-1-4-3-2-4 0zM836 2058l-4 1-2 2 0 7 4-1 3-3 1-4zM1350 2061l-2 7 3 4 7 1 4-3 1-4-3-4-6-2zM887 2078l1 4 2 1 4-1 0-2-2-3zM1175 2090l2 4 7 3 8-1 5-4-2-4-7-1-8 0zM784 2096l-2 6 2 10 3 6 5 0 9-8 3-8-3-4-5-2zM620 2108l-2 2-1 4 7 12-2 8 1 4 7 7 4 1 4-1 3-3 0-2-11-14 1-12-5-5zM407 944l1 6-2 3-10-3 8-7zM710 1415l16-1 2 4-3 6 4 8 0 2-9 0-11-10-2-4zM716 1441l2 0 4 5 0 4-8-8zM720 1478l0-2 2-2 4 2-2 3zM616 1772l6-1 4 7 8 10 0 10-2 5-4-2-4-9-8-5-4-5 1-6zM612 1861l1 3-1 4-4 2-5-2-1-2 3-4 5-2zM602 1887l6-2 6 7 10 3-3 9-5 1-10-4-6-9zM542 1930l3 0 5 7 1 3-2 2-3 0-7-8zM617 1938l0 2-5 2-16 1-3-1 1-3 18-8 2 1zM1897 2084l5-1 12 4 4 5 0 6-6 4-4 0-5-6zM1944 2087l4 4 1 9-2 6-5 1-4-3-3-6 3-7zM230 2090l3 2 2 6-1 6-4 6-4-7-1-5 1-4zM1876 2096l2-2 4 0 2 4-4 1zM1501 2104l5-7 8-2 12 7 3 6-5 4-18-1-5-3zM1702 2096l6 2 2 4-2 4-6-4-1-4zM1112 2102l1 4-1 4-4 2-6 1-10 8-6 0-5-5 1-4 9-8 5-1 6 3 2-1 4-4 2-1zM1728 2101l6 3 4 10-4 8 1 10-2 6-5 4-6 0-6-3-6-13 2-4 6-6 6-14zM1444 2110l6 8 1 4-3 6-4 2-4-2-2-6zM11 2116l3-3 7 3-1 2-6 2-3-2zM1408 2116l5 6-1 6-12 7-3-15 5-4zM106 2135l4-1 8 0 7 4-7 9-8 2-5-5zM1220 2136l2-2 12 6 10 4 0 4-6 4-10-1-4-4zM201 2138l1-2 4-1 3 1 0 2-1 2-4 1zM1313 2158l3-10 6-2 7 2 9 8-20 6-4-2zM48 2150l4 6 0 4-8 4-6-2-2-4 1-4 5-3zM1372 2150l3 4-1 8-4 3-4-1-4-4 1-4 5-5z"/>
<path fill="#d5e7f1" d="M0 0l2066 0 0 2016-7 4-11 18 0 4 4 4 14 3 0 12-4 1-3 4 3 4 4 1 0 27-8-3-14-12-9 9-7 2-6-4-12-16-6-2-10 0-3-2 0-4 7-9 20-13 2-4-2-12 2-6 4-4 10 0 3-2-1-4-6-4-8-1-14 9-7 12-5 14-8 3-6-1-8-9-10 4-4-2-3-5-2-16-3-3-2 0-4 3-4 6-4 20-4 3-8 1-8-2-10-8-1-4 0-12-5-16-8 6-12 4-1 6 4 12 0 6-6 14-5 3-4 1-5-2-5-8-13-6-7-6 1-6 6-8-1-4-10-7-14-3-10-12-10 10-18 4-2 2 0 10 15 24 0 6-3 5-12 12-14-5-7 2-3 4 4 8 0 4-4 5-6 2-4-1-5-4 0-4 2-8-6-10 0-4 6-10 0-8-15-16-4 0-8 5-10 4-8 7 0 4 2 2 12-2 13 6 2 4-2 2-9 3-14-8-12 6-8-5-14-4-3-6 2-10-1-8-3-6-5 0-5 6 0 12-5 14-9 6-7 8-8 2-3-6-2-8 2-4 9-2 2-2-2-16 6-8 1-4-3-4-2-1-4 1-8 10-4-1-8-5-4 1-10 21-6-2-4-4-3-14-15 1-14-4-3 3 1 5 9 5 3 4 0 4-4 10-4 3-10-1-6 6-9 4-9 13-4 0-12-7-14-4-1-6 2-6 5-5 10-1 10-3 16 2 7-3 1-6-6-12-1-14-3-5-30 22-17 3-2 4 3 6-1 4-3 2-8 0-2 1-3 7 0 6-3 2-8-12-4-12-14-5-14-2-4-5-5-10-3-3-4 0-8 13-14 11-12 0-14 5-1 4 1 12-18 1-6 8-8 5-6 14-8 4-42-18-8 1-14 6-10-3-14-1-4-3-5-12-1-20-4-4-3 2 1 6-1 8 2 10-10 12-5 8-6 4-10 0-12-2-10 2-11-2-2-2 1-3 9-5-9-5-5-13-5-2-6 3-4 9-7 8-2 10-4 4-5 0-8-4-8 0-12-3-14-1-4-2-2-4 2-2 11-4 4-4-1-8-8-10-1-4 1-7 8-7 1-4-1-5-4-2-6 0-16 6-2 3 0 8-2 4-9 6-9 9-4 1-4-3-8-14-4-3-18 3-16 6-4 3-2 6 2 4 8 4 3 4-1 3-4 3-4-1-8-9-7-2 0-10-2-4-3-3-8-3-6 3-12 11-14 0-2 4 0 10-6 13-2 1-10-5-16 3-3-2-3-6 0-20-4-3-16 1-8 6-14-1-8 6-9 3-1 10-3 6-17 10-8 3-5 5-3 6 0 12-2 3-13 5-9 11-25 13-1 6 4 7 6 6 16 10 4 7 0 8-7 12-2 6 6 14-1 6-2 3-6 4-16 3-12 5-6 11-16 17-8 5-2 4-1 10-3 3-6 0-6-2-16-12-10 7-2 0-6-12-4 0-2 6 6 10-7 14 3 12-4 3-8 3-4 6 2 3 12 3 2 2 1 4-5 3-12 1-6 2-2-2 1-6-1-3-6-2-10 0-4-4-1-11 6-30-2-4-10-8-1-6 4-13 2-2 6 0 24 5 12-8 18-6 20-18 2-6-6-12-2-12-6-10-2-10 0-18 5-12 1-12-2-3-2-1-6 4-4 0-4-5 0-11-3-4-9-7-10-1-4 2-1 4 4 16-1 12 4 6 12 12 1 6-7 4-12-2-12 3-8-3-10 2-6-4-2-8 4-8 4-14-5-12 1-14-2-6 3-10-2-18 1-10-6-8-7-2 5-8-6-10 3-16 2-2 4 0 11 8 8 4 6-1 10-6 6 0 5 11 4 6-1 10 4 4 4-2 6-10 6-5 6-3 12-3 16-10 10 0 18 8 20 1 6-4 9-10 4-6 1-6-3-8-19-26-5-22-21-18-12-23-2-2-36-3-6-4-10 0-2-4 5-12-1-8 3-12 3-5 9-7 1-4-2-3-2 0-10 5-9 0 4-8 1-8 2-1 10 4 4 0 6-5 6-2 3-6-1-4-4-2-8 6-4-1-2-3 4-12-3-8-1-8-5-18 6-10-5-10-1-10 5-6 7-6 0-4-3-3-8 5-4-2-4-14 4-14-8-8-3-18 2-6 3-2 8 2 2-2 0-3-6-7 1-8 8-16-1-8-6-12-1-4 13-17 7-7 3-8 14-12 1-2-2-6 5-8 8-6 1-4-2-8 7-9 9-3 3-7 2-1 16 5 8-2 4-3 0-4-3-6 9-10 6-20 5-8 7-24-1-4-5-4 0-8-11-4-4-12 2-10-1-3-6-2-8 4-2-1 0-4 10-12-2-6-10-8 2-12-4-3-14 1-4 4-3-2-3-6-6-2-16 4-1 2 7 6 10 3 6 11 8 6-1 2-11 6-1 2 0 8-4 16 11 12 2 8 9 10 1 4-5 8-1 6 1 2 7 3 1 3-7 8-9 6-13 2-14 5-12-1-14 14-10 20 8 5 0 5-4 2-4-2-1-8-1-1-6 1-4 4 4 12 0 10 2 6-2 6-4 3-10 1-7 8-3 10-12 10-2 4 1 6 6 10 1 6-4 10-10 1-4 5-1 6 5 14-11 16-4 10 1 2 8 4 5 18 9 14 1 18-6 14 2 12 5 6 1 4-3 5-6 3-2 22-4 4-4 14-12 22 1 4 6 8 1 4-8 14-12 11-3 13-9 10-1 12-13 13-4-1-1-4 1-18-2-3-2 1-8 18 1 4 3 6-4 10 1 6 8 6 18 8-1 3-8 7-4 1-10-10-4-1-3 4-2 8-6 6 1 4 1 2 12 2 4 4-1 4-2 1-10-2-3 1-2 4 1 4 14 1 4 3 1 4-5 6-4 2-12-9-2 3 3 16 5 9 6 3 2 10-2 12-20 4-12-3-3-3 0-6 4-14 0-6-3-3-12-5-7-8-3-2-6 2-14 8-3 4-5 12-8 10-16 10-4 0-8-2-12-8-8-3-8-6-8 0-12 3-14 11-10 9-8 4-6 1-10-1-5-2-19-23-8-6-10 1-10 7-12 2-22-6-4-5-5-12-3-2-34-3-3 3-1 6 3 4 8 6-4 10 0 6 15 10 2 4 1 6-5 11-6 6-22 7-6-2-8-12-12-10-2-4 0-4 5-6 7-14 4-14 4-8-1-4-11-14-4 1-6 10-7 15 0 6 5 14-4 2-16 2-6 2-10 16-2 0-2-3-3-11 2-4 9-8 1-4-2-2-5 1-8 9-10 6-6 8-4 2-6-2-12-7-9-3-7-8-10-1zM529 392l1 3 2 1 5-4-1-2-4-2-2 1zM514 429l-4-1-6 4-6 12-8 4-5 12 11-5 2-11 8-1 8-5 2-4zM484 461l-7 5 1 4 4 0zM330 639l-4 1-8 7-1 5 3 4 6-1 4-2 1-5zM316 668l-5 4-2 10 2 12 3 2 2-2-3-6 1-4 6-10-1-4zM304 716l-4 2-1 8-3 8 2 6 4 2 4-1 2-3-2-10 1-8zM378 903l-4 3-4 6 1 18 3 3 12 1 3 2-1 4-7 8-1 4 7 6 6 16 9 10 4 7 6 1-2-6 7-12 2-24-1-4-5-6-2-4 3-6 0-4-2-3-4-1-3 4 0 6-3 0-11-12 1-8-1-4-7-4zM424 983l-11 9 2 6 5 3 6-1 4-4-1-6-3-6zM454 1012l-8 0-4 4-1 4 2 8-1 8 2 2 5-2 7-10 0-10zM580 1066l-1 4 3 4 6 2 4 0 0-4-3-4-5-3zM598 1080l-10 10-3 10 7 7 6 1 4-2-4-8 0-4 8-4 5 4-5 10 4 8-1 2-6 6-2 4 2 12 13 10 0 12-5 8-1 7 8 1 9 6 7 7 2 0 4-5 1-4-8-22 3-4 6-4 1-4 1-8-5-10 6-12-1-6-2-3-8-4-13-17-7-3-6 1zM568 1113l-4 1-2 4 2 4 2 1 4-1 3-4-2-4zM662 1184l0 4 3 4 2 14 3 2 8-7 1-7-3-3-10-2-2-4zM685 1238l3 1 14-5 2-4 1-8 11 0 1-6-1-3-10-4-8 1-8-3-6 1-1 4 5 10-4 8zM649 1220l0 4 7 3 2-1 0-2-6-5zM658 1244l1 4 3 4 4 1 2-1 0-4-1-2-5-3zM756 1252l0 5 4 3 0-4zM698 1267l0 5 1 6 8 8 0 4-4 4 1 3 5 5-1 8 4 2 6 0 10-4 2-4 0-4-2-1-8 2-5-3-1-4 2-8 0-10-2-2-6 1-8-8zM743 1310l1 2 4 1 2-1 1-4-5-2zM664 1321l-4 3 2 4 2 1 3-1 2-4-1-2zM752 1321l-4-1-6 5-6 9 2 4 4 0 13-6 0-6zM1260 1522l-2 2-1 4 5 4 3-2 1-4-2-3zM1296 1554l-2-6-4-5-6-4-6-1-8 2-10 12-6 0-10-4-6 0-4 2-8 8-4 2-14-2-16-7-14-2-8 2-12 9-3 4-1 6 2 8 2 4 22 12 24 0 24-6 19 10 11 1 12-4 12-11 11-16 3-8zM712 1863l-4 3-2 6 2 5 4 2 4-2 1-5-1-6zM654 1866l-2 1-2 3 2 2 3-2zM1290 1973l-24 11 3 6 9 6 5 10 5 2 8-2 0-2-4-10 4-10 1-6-3-4zM2030 1982l-1 8 7 5 8 0 5-5 0-6-5-7-6-1zM1429 1980l-19 2-3 6 3 7 4 0 12-7 3-4zM1342 1986l-2 2 1 2 3 2 2-1 1-3zM1148 1991l-1 5 8 12 7 4 6-2 2-2 0-4-10-11-6-4zM202 1992l-2 0-2 4 2 4 3-4zM1436 1998l-1 4 3 6 4 1 1-3-1-5-2-2zM370 2006l0 4 4 1 0-5zM937 2016l3 8 6 3 10-8 10-3 2-2-5-4-15-3-8 3zM806 2014l-1 4 9 17 4 3 8 2 10-3 8-1 3-2 2-16-7-6-26-3-6 1zM1256 2014l-4 2-2 3-2 9 3 24 3 4 2 1 4-1 5-10 7-8-6-8-6-12zM1308 2016l-6 7-12 5-4 6 4 4 14 5 3 3 1 4-5 14 2 4 3 1 8-2 7-3 1-4-3-8 3-4 6-2 10 3 2-1 3-12-3-6-7-2-11-8zM22 2028l-1 4 1 4 6 4 6 0 2-6-4-6-6-2zM1124 2029l-3 3 1 4 2 3 4 0 3-5-1-4zM592 2040l1 4 3 4 4 0 3-2 1-4-2-4-4 0zM1102 2058l0 4 4 4 6 1 4-3-2-4-4-4-4 0zM1161 2068l1 2 4 1 3-1-2-2zM2042 2068l-3 2 3 5 2-1 1-4zM400 948l4-3 2 2 0 3-4 1-2-1zM710 1417l4-2 8 3 1 12-3 0-10-7-2-3zM718 1492l0 4-2 2-2-4 2-2zM616 1774l5 0 11 12 0 10-2 3-2-1-4-8-8-5-3-3 0-4zM610 1862l1 4-3 2-3-2 1-2zM602 1888l2-2 4 0 6 7 6 3 0 6-4 2-8-2-6-8zM542 1932l2-1 5 7-1 2-6-4-1-2zM599 1940l4-4 9-3 3 3-1 3-4 2zM524 2012l2 6-1 16-3 5-4 0-10-9 2-3 5 1-1-4 1-4 5-6zM1806 2017l4 1 0 3-2 2-4-1 0-4zM1834 2038l0 6-2 4-2 0-2-2 1-4zM1448 2048l1 8-5 8-12 1-16 6-6-1-6-4 6-16 2 0 6 5 4 0 4-3 6-8 4-2 6 1zM1942 2048l4 1 1 3 0 4-3 2-4-4 0-5zM333 2058l3-3 6 0 3 3 1 6-6 3-6-1-2-4zM948 2058l1 2-2 4-3 2-3 0-1-2 2-4zM1842 2064l8-6 6-1 4 3 2 6-2 3-2 0zM458 2062l1 6-5 5-8 1-5-4 1-5 6-5 6-1zM1976 2062l2 1 1 3 0 2-3 1-2-1-1-2zM1674 2069l3 1 5 10-2 2-7-2-4-4 1-4zM850 2078l4-3 12 9 10-1 5 5 1 6-2 2-4 1-18-4-7-7zM288 2092l4-6 4-2 6 4 2 4-1 4-7 2-7-2zM1376 2084l7 4 3 8-6 8-6 3-4 0-5-5 1-11 3-5zM1174 2124l2-2 4 1 6 9-2 1-6-2-3-3zM554 2240l4 1 4 3 0 6-4 1-4-1-2-6z"/>
<path fill="#dae9f2" d="M0 0l2066 0 0 2013-6 2-8 5-2 0-2-3-3-13 9-10 2-4-5-20-3-1-16 2-12-3-6 1-2 3 0 18-2 6-4 6-10 5-10-4-3 1 3 6 9 10-1 10-4 6-5 0-9-7-12-2-5-19-5-4-10 1-12 12-6 3-6 0-4-3-2-3 1-6 5-3 15-5 9-24 2 0 8 3 4 1 2-4 1-8-3-8-16 4-14 0-2-1-5-9-3-2-2 3 0 5 2 4 7 6 2 20-3 1-2-1-5-8-5-4-8 0-7 4-1 10-2 3-23 17 7 17 0 5-2 3-4 0-6-9 0-10 2-8-2-6-20-18-6-3-8-3-2 1 2 13-1 4-3 2-5-2-4-12-5-2-6 1-6 11-6 4-6 1-14-6-4 1 6 26 14 22-2 7-6 3-4-2-18-22-14-4-6-4-2-6 2-14-20 12-16 2-6 10-4 4-8 4-6 1-1-7 7-24-2-22 6-16 2-10 0-6-2-2-4-1-2 2-2 5 0 14-1 4-17 16-13 8-5 13-4-1-10-8-10 4-3 0-4-10-1-12-2-6-6-6-12-6-4-5-4-1-6 3-5 9 3 5 7 5-5 16-3 6-7 5-8 1-18-3-18-24-4-1-3 2-3 4 2 8-1 2-8 4-12 14-21 4-14-3-8 6-4 0-2-3 6-10-3-12-11-24-6-6-4-2-4 2-5 6-5 3-28 4-9 11-1 4 8 20-1 4-5 4-14 5-12 3-6-4-8-14-8-4-3-4 3-4 12 0 12-4-1-6-4-6-11-6-6 1-10 9-5 16-5 3-4 0-11-13 0-4 5-14-3-8-3-2-19-8-11-2-1 4 3 11-18-6-16-3-6 3-4 4 0 6 4 7 2 0 8-7 4-1 2 2 4 6 3 12-19 37-4 2-4-1-8-8-10-5-6-7-14-4-8-7-12-6-10-9-10-2-7 2-4 4-2 8 2 10 0 6-3 5-6 2-10 1-4-2-2-6-2-14-5-6-7-2-7 2-2 4 4 18-3 10 2 8-4 5-4 2-5-3-1-4 1-4 7-6-1-10-2-6-5-3-16-1-12-3-16 2-2 3 1 4 7 16-2 3-4 1-13-8-13-5-16-12-4-1-12 4-12-4-18-1-6 1-7 4-7 6-2 4-1 10-4 4-19 1-12-3-4 2-1 4 2 2 13 3 3 3 0 4-2 6-15 10-4-1-1-3 1-22-2-2-8-3-12 1-2-2 0-4 9-12-1-4-22-7-16 1-12-2-14 1-5-5-3-8-4-1 0 11-5 10 0 6 8 18 7 8 1 10-2 8-24 24-5 18-3 4-9 4-10 8-6 1-16-5-4 2-2 4 0 20 2 7 12 26 9 13-2 8-7 14 1 12-31 12-1 2 1 4-1 4-11 12-15 12-1 10-3 2-5-1-4-5 2-10-3-6-7-2-12 5-4-3-2-4 13-16 15-9 7-9 0-4-8-16 1-22 4-10-10-2-2-6 2-7 12-6 3-3 0-4-11-6-8-18-2-10-2-4-4-2-10 1-10-8-16-1-10 4-6 0-2 3-3 7 2 14-4 8 0 2 5 6 10 0 8 14-10 9-10-3-8 4-6-1-2-3 1-4 4-6 2-10 5-6 0-2-8-8-1-4 1-6 3-8 0-6 3-3 6-1 0-2-2-4-8-4-2-10 0-12-8-10 0-10-6-5-1-5 2-6 1-8 2-1 6 3 3 6 13 3 8-1 8-6 4 0 3 4 3 12-4 7-4 1-2-1-4-7-14 2-1 2 3 6 4 3 10 1 8 6 12 0 6-2 12-16 18-7 16-10 6 0 16 7 24 3 22-21 2-6 0-12-10-10-3-8-9-10-2-6 2-16-1-10 6-10-3-18-4-6-4 0-10 7-12 1-5-4-3-14-28 5-14-1-6-1-10 1-3-2 1-4 4-6-1-10 3-12 2-4 9-6 3-4 0-4-5-6 7-7 8-3 2-6-2-6-4-2-4 2-4 4-2 1-3-3 1-4 4-8-10-32 6-12-5-10 0-8 12-16-3-6-4 0-6 4-4-2-3-12 4-16-7-5-3-7-1-12 2-6 4 0 8 4 2-4-1-6-5-4-2-4 2-7 8-11 1-4-2-8-6-12-1-4 12-16 8-6 3-10 19-14-1-2-3-1-1-3 3-6 8-6 1-6-1-8 6-8 10-3 4-7 18 4 10-4 2-4-2-8 7-10 6-20 6-8 0-8 6-18-1-3-4-4-1-7-3-3-8-3-4-8 0-4 2-8-1-4-5-2-10 3-1-1 2-4 9-10-8-14 4-4 0-4-8-7-18-2-6-6-12 2-8 2-10 1-1 2 9 8 12 4 6 11 4 5-1 2-9 6 0 12-4 14 2 4 9 8 3 10 8 8 0 4-5 10-1 6 9 4 1 2-10 10-6 4-14 1-12 5-12-1-14 14-10 18-10 5-3 4 5 12-1 10 2 8-1 4-6 3-8-2-9 11-2 10-13 12-1 6 7 12 1 6-3 7-2 2-8 0-4 6-1 7 4 14-11 16-4 10 2 3 8 3 4 20 9 12 2 16-7 16 2 14 4 4 2 4-2 3-6 3-3 16-3 8-4 16-13 22 0 4 7 11 0 4-7 13-11 10-4 15-8 7-2 14-10 10-4 1-2-3 2-18-1-4-3-3-4 0-8 25 4 6 1 4-5 8 0 4 5 6 15 7 5 5-4 6-5 1-12-10-6 0-3 11-6 8 1 6 3 4-4 6-3 10-4 6-4 2-8 1-6 6-2-1-4-8-14-6-6 8-6 4-16 3-5 3-3 8 3 6-1 6-4 4-15 8-6-2-11-18-6-2-22 5-14 1-8-2-18 12-8-3-2 1-5 10-3 1-12-5-6-6-6-16-6-7-4-15-4-2-10 2-4-1-6-13-4-5-22-5-6 0-4 2-6 18-8 3-2 7-6 2-8-2-6-5-8 0-10 3-4 0-14-14-12-9-4-1-3 4 6 8 1 6-2 6-8 12-8 7-8 3-8-2-4-7-12 4-6 7 2 10-4 3-4-1-2-2-3-12-13-19-14-5-16 4 0-107 12-1 4-3 2-3-2-4-2-1-14 3zM528 390l0 4 2 2 4 0 3-4-1-3-4-1zM515 428l-5 0-7 4-7 10-6 5-7 13-7 5 0 5 4 2 2-1 4-9 10-6 4-9 14-8 2-5zM412 546l-4 2-1 2 5 0 2-2zM330 637l-4 1-8 8-1 6 3 5 7-1 4-4 1-10zM316 667l-5 5-3 9 1 13 3 3 4-1 2-2-3-6 0-4 6-10-1-5zM304 714l-4 3-5 17 2 6 5 2 4-1 2-3-1-10 2-8zM376 903l-6 7 0 20 4 4 12 2 1 2-7 9 0 6 8 7 4 14 9 10 4 8 7 4 6 5 8 0 4-3 1-4-5-13-2 0-8 8-2 0-3-3 7-12 2-24-6-12 0-13-2-3-4-1-6 6-9-7 0-10-3-4-8-4zM456 1011l-8-2-6 4-2 7 2 6-1 8 1 4 6 0 9-10 1-14zM582 1064l-3 2 0 6 14 8-8 10-1 10 8 8 14 2 1 4-7 8 1 12 5 6 9 6 0 12-7 13-6 7 4 2 6-5 4-1 9 6 9 9 2 0 7-9-8-24 1-3 6-2 2-3 0-12-4-10 5-12 0-6-3-4-7-4-11-16-10-5-16-2-10-10zM570 1083l0 4 4 4 6-1-1-2zM561 1118l1 4 4 2 4-1 4-5-2-4-4-2-5 2zM646 1158l-3 6 3 3 2 0 2-5-2-4zM662 1182l-2 4 5 10 0 12 1 1 4 0 9-7 1-8-4-4-8-2-3-4zM629 1200l5 3 2-2 0-3-2-1zM683 1242l1 1 18-8 6-12 8 0 2-3-1-8-11-4-8 1-10-3-6 2 0 4 5 10-4 8zM647 1220l0 4 7 4 4 1 2-3 0-2-8-7zM636 1225l-4 2 0 5 4-2 1-4zM657 1242l0 4 2 4 5 4 4 1 2-5-1-4-7-4zM748 1244l-1 2 13 19 2-1 2-6-8-12-4-3zM698 1265l-1 3 0 8 8 10-6 8 6 10 1 6 2 2 8 1 12-3 4-6-1-6-3-1-8 3-4-4 2-10-2-13-8 1-6-8zM760 1270l-2 0-3 4-1 5 6-3zM760 1291l-2 0-2 3 0 3 2 2 4-5zM744 1306l-2 4 0 3 4 2 4-1 2-4 0-3-4-2zM666 1319l-4 1-3 4 1 4 4 3 4-3 3-4zM750 1318l-6 3-10 13-1 2 3 3 4 1 17-8-2-8zM1288 1463l-4 1-2 1 0 6 2 1 4-2 2-4zM1224 1465l-6 1-3 4-1 6 4 5 6-2 4-5 1-6zM1297 1554l-2-6-5-7-15-9-2-16 4-10-1-3-4 0-8 5-20-4-7 4-3 6 2 3 7 5 4 8 11 10 1 4-1 2-4 1-16-3-6 3-8 7-4 2-14-3-16-8-16 1-6 3-15 11-4 6 0 6 1 6 4 6 24 14 24 0 22-4 24 7 10 0 12-4 14-13 11-16zM674 1847l0 5 8 10 4 3 4-1 0-6-4-8-6-4zM710 1850l-6 6-4 6-2 16 3 4 4 2 11 2 6-6 6-20-14-9zM654 1856l-2 2-4 12 0 2 4 3 5-1 2-4-1-12zM741 1862l3 2 3-2 0-2-3-1-3 1zM2030 1915l-3 1-2 4 1 4 2 2 2 0 1-4zM410 1926l-8 0-5 4-2 4 0 20-5 12 0 8-7 16 1 3 16-1 6-6 5-16-2-10 1-10 9-12-1-6zM1716 1948l-1 12 2 6 9 9 8 0 3-3 0-4-3-11-4-4zM1882 1962l-2 4 2 4 2 1 2-5zM444 1973l-10 7-4 6 2 5 8 4 2 0 6-15 0-4zM1990 1975l-6-2-6 4-8 13 2 6 6 1 10-4 4-3 1-8zM262 1976l-4 1-4 5-1 6 3 2 4-1 4-5 1-4zM1750 1980l1 4 8 8 5 2 7 0-4-8-7-6-6-2zM1182 1982l-2 2 2 7 4 1 3-2 0-4-3-3zM378 1995l-10 2-5 3-2 4 3 11 4 4 4 2 6-1 4-5-1-19zM692 2240l4 1 3-5-5-1-2 2zM606 1092l2 2 0 4-4 4-2 0-3-6 3-4zM710 1418l4-2 4 2 1 6-1 2-6-2-2-2zM630 1517l6 3-2 5-4-1-2-2zM616 1775l4 0 9 9 2 4-1 3-2 1-12-8-2-4zM630 1842l2-12 12 4 0 2-6 4zM603 1888l3-2 3 2 8 10-1 4-4 0-4-2-6-8zM703 1920l9-7 8 1 4 4 0 12-8 3-6-1-7-6zM604 1938l6-4 2 2 0 2-4 2zM498 1986l8 0 1 4-3 1-5-3zM497 2006l1-2 6-2 4 1 2 3-2 4-4 3-4-2zM226 2012l0 4-4 5-12-3-6 8-2-1 0-5 10-12zM522 2014l2 0 2 4-4 10-2 0-4-6 2-4zM1272 2013l4 1 8 6-4 6-4 1-4-3-2-6zM1191 2018l-1 6-6 5-10 1-9-2 5-8 6-4 10-2zM1141 2032l2-8 7-4 15 10-5 4-16 1zM484 2026l4 4 1 4-3 3-4 2-2-2 0-7 2-4zM2030 2027l3 3 6 14 1 8-2 3-10 7-6 8-4 0-6-3-2-3 14-13 3-11-3-10 2-3zM522 2029l0 7-4 1-2-1 0-4 4-3zM1102 2032l6-2 3 2 3 6 0 8-6 1-5-3-4-8zM1918 2032l4-2 4 1 2 3-1 4-3 2-4-1-2-3zM140 2036l1 4-3 5-2-1 0-6 2-3zM1236 2041l6 4 2 11-2 4-8 2-4-3-2-9 2-5zM478 2043l2 1 3 10-1 4-2 1-4-1-3-6 1-5zM1271 2050l11-7 8 1 5 4 2 4 0 6-2 6-3 3-4 0-17-7-2-4zM1190 2045l4 2 2 5-5 10 0 8-3 2-3-2-2-6-8-6-2-4 7-5zM1520 2046l2 4-4 9-4 0-7-5-1-2 10-6zM1755 2050l3-1 3 3-1 2-4 1-2-1zM142 2064l4 2 1 4-5 10-4 3-6-5-1-4 7-9zM166 2070l2 1 0 3-2 3-2-3zM2026 2075l4 3 0 5-2 0-3-3-1-4zM1378 2092l2 2-1 4-3 2-4 0-1-4 3-4zM590 2255l12 1 13 8 3 14 3 8-3 6-11 6-2 6-1 9-4 3-4 0-2-4 3-10-1-10 4-8-1-4-5-8-8-8 1-6z"/>
<path fill="#ddebf2" d="M0 0l2066 0 0 1951-14-1-16-10-1-4 6-24-3-4-10 0-6 4-4 10 2 6 8 12 0 8 2 8-3 4-9 0-8-10-4-1-12 6-8 2-5 7-7 3-3-1-1-4 5-12-3-5-10 0-10 8-6 2-14-3-8-8-6-2-8 3-4 3 0 12-2 1-14-6-8-7-5 0-3 2-2 4 0 16 4 22 0 4-4 3-6-3-9-10-1-4 4-8 0-4-4-12-4-2-4 1-3 3 4 12-1 3-2 2-6-1-4-4-3-14-7-7-2 0-3 3 0 14-3 4-8 1-16-6-7 1-5 6 0 4 2 2 12 3 3 3-2 6-5 3-9-5-16-16-4-10 1-12-2-3-4 0-10 11-2-1-3-9-9-9-16-7-6 0-12 4-12-2-4 1-4 5-7 22-13 15-6 3-8-8-6-3-6 2-8 6-4-1-8-10-11-10-3-12-4-3-6-1-14 6-3 12-6 10-1 6-6 6-8 12-6-3-5-7 1-2 9-4-1-6-12-5-8 0-12 5-15 10-3 9-8 9-2 8-4 3-6 1-8-2-5-4-2-10-9-10-8-18-6-7-10-6-6 3-8 12-6 2-6-1-11-5 1-4 5-10-1-5-14-1-12-4-4 4-5 12-9 8 0 2 4 5 11 5-3 3-4 1-10-7-2-3 1-4-5-4-8 1-10 8-4 1-4-4 1-12-3-5-26 1-10-2-14-8-14-5-10-6-6-3-4 2-6 6-1 4 2 10 0 4-3 4-9 8 5 20 16 9 3 5 0 4-3 4-14 8-8-2-10-10-11-4-2-4 3-8-1-6-6-6-11-5-6 3-6 8-14-5-14 1-14 12-6 2-14-6-12-2-8-5-6 0-4 3 0 10-2 3-5 1-15-4-12 2-12-1-4 3-3 12-5 2-8-2-14-11-16-1-8-4-4-1-8 5-16 2-20 8-12 4-4 10-6 2-6-2-6-6-10 0-12-12-12-4-4-10-4-4-4 0-5 2-5 11-6 3-7-2-11-6-14-15-14 1-4-2-4-6-2 1-4 9-4 3-6 0-8-3-4-4-3-8-12-10-2-6 3-18 7-14 2-8-1-6-6-12-1-6 2-4 19-20 1-8-3-6-14-5-14 2-14-10-5 1-7 6-4 0-16-11-10 0-4 18-8-1-5 2-6 16 3 6 10 4 0 2-8 3-8 1-8 5-2-1-1-2 4-8 1-22 4-4 8-4 3-4 1-4-3-6 0-4 3-3 4-1 5 2 3 4 2-2-2-16-4-6-6-1-6 5-3 0 0-4 4-4 1-4-11-32 6-12-5-10 0-8 5-8 9-6 0-2-3-6-3-2-4 1-6 3-4-2-2-12 6-18-10-2-2-6-1-12 1-4 2-1 4 1 6 6 2 0 2-4-2-10-6-5-1-3 3-8 6-4 2-8-1-10-7-12-1-4 11-15 10-6 0-7 2-4 20-14 0-4-5-2 0-2 2-4 8-6 0-14 5-7 11-3 5-6 16 4 12-6 2-6-1-6 6-12 6-18 5-8 1-10 5-16-6-15-10-7-5-6 0-4 2-10-1-4-13-2 9-10-5-12 2-6-1-4-8-8-18-2-6-7-2-1-20 7-12-3-1 4 1 4 8 6 14 5 8 15-10 8 1 12-4 14 1 4 10 8 3 10 8 8 0 4-8 22 1 4 3 2-1 2-6 5-20 1-4 4-4 2-6-2-4-3-5 9-11 10-8 16-13 8 0 4 4 10-1 10 2 8-1 4-5 3-5-3 1-10-4-8-2 20-8 10-1 8-3 4-8 6-4 6 1 6 7 12 0 4-4 7-8 1-4 5-2 9 4 14-10 16-4 10 1 4 9 3 3 21 7 6 2 4 2 16-6 12 0 20 6 4 1 2-1 2-6 2-1 2-3 14-5 8-3 20-12 20 0 4 6 14-6 14-11 10-3 14-10 8 0 10-1 4-11 9-2-1 2-22-8-7-4-1-2 2 0 8-6 20 5 10-6 8-1 4 6 7 14 5 5 4 1 4-2 3-4 1-14-14-6 1-5 7-2 8-4 4 2 14-5 7-8-5-3-4 1-26-2-4-4 2-4 9-4 2-4-3-6-11-16 18-4 1-4 0-6-12 1-6 3-5 8-5 16 4 4-7 2-9 0-6-4-9-4-3-6 5-4 9-4 3-6-2-14-9-24 3-1 13 4 16-10 20-1 9-4 2-4-1-6 0-10 8-6 2-4-1-6-5-3-6 3-12 2-2 8 5 3-3-5-10 7-8 4-16-5-6-4 0-2 2-4 18-2 3-6-3-4 2-5 10-9 10 0 6 1 8 8 6 3 12 6 3 12 1 6 6 2 6-1 6-3 4-4 2-8 0-4-2-5-10-9-11-16-2-12-7-6 1-4 3 0 8 3 8-1 3-4 1-14-6-3-6 1-10 4-3 10-2 2-3 1-6-2-4-15-16-4 1-6 5-10 18-2 1-4-2-10-11-12 0-12-5-14-1-5 2-3 9-4 2-20-11-2 2 3 4-1 4-10 12-10 4-6-2-13-12-3-6 1-10-7-8-6-2-5 4 1 12-2 4-4 1-8 0-5 5-1 6 5 12-3 6-2 2-8-1-6-11-4 0-6 6-3 12-5 4-4-2-2-4-2-12-2-3-12 2-12-5-8 6-6 1 0-31 4 2-1 8 5 4 4 0 3-8 0-8 2-8-5-3-12 2 0-49 19-8 3-4 2-6-2-5-4-3-18 1zM528 389l-1 5 3 4 6-3 2-3-4-5-4 0zM516 428l-6-1-8 5-12 14-8 13-6 5-2 4 1 2 3 2 4 0 5-10 9-6 4-8 14-9 3-5zM406 550l2 2 4-1 3-3 0-2-6 0zM330 635l-4 2-9 9-1 6 2 5 2 1 8-2 4-4 1-12zM316 666l-6 6-2 8 0 15 4 3 4-1 3-3-3-6-1-4 7-10-2-6zM304 713l-4 3-6 18 2 6 6 3 4-1 3-4-1-10 2-8-2-4zM376 902l-5 4-2 4 0 18 3 5 12 5-5 10 1 6 7 6 4 14 9 10 6 10 12 8 4 1 6-1 3-4 1-6-6-13-2-2-2 1-4 8-2 1-3-1 1-4 6-6 0-8 2-8-1-12-5-10 0-8-2-6-2-3-4-1-6 4-4-1-5-5 1-8-3-4-9-5zM448 1007l-6 4-3 9 2 8-1 8 4 4 6-2 9-12-1-8 2-6-2-2zM580 1064l-2 4 0 4 11 8 0 2-3 4-4 1-12-7-2 3 0 3 6 7 8 2 2 7 6 5 14 5 0 2-6 8 2 12 14 14 0 10-6 12-9 10 7 2 10-6 4 2 14 14 2-1 11-13-3-8 4 0 3-6 0-4-5-10-1-14-4-10 5-12 0-6-4-5-6-3-12-17-10-5-16-3-12-10zM568 1112l-5 2-3 4 1 4 5 4 6-3 3-5-1-4zM576 1134l-1 4 1 3 3-3-1-3zM662 1181l-2 1-1 4 5 12-1 12 3 2 12-7 3-9-3-6-8-3-5-5zM614 1192l0 2 20 11 3-3 0-4-3-5-6 4-8-6zM718 1211l-12-4-8 1-10-2-6 0-1 4 5 12-4 8 0 8-3 6 1 2 4 0 8-6 10-3 6-12 10-1 1-10zM643 1222l-1 2 14 7 4-2 2-5-10-9zM636 1216l0 4-6 8 2 5 4-1 6-8zM656 1240l-2 4 3 4 7 7 6 3 2-10-1-2-9-5zM752 1240l-4 2-3 4 5 6 7 12 0 4-6 10 3 3 8-5 4-16 0-4-9-12zM698 1264l-3 4 1 6 7 12-6 8 9 18 4 2 8 0 12-2 3-10 0-6-3-4-6 6-4 0-2-2 0-3 3-5-2-6-1-10-2-2-8 2-6-7zM735 1280l-5 2-2 5 2 1 4-4zM758 1289l-3 3 0 4 1 5 4-1 4-6-1-4zM752 1304l-8 1-6 8-5 1 3 4 8 0-6 10-7 6-1 2 6 6 4 0 18-8 1-2-8-16 3-8zM666 1317l-5 3-3 4 4 9 2 1 9-10-3-4zM1290 1458l-6 0-4 1-6 7 1 10 5 6 4 0 4-1 8-11 0-6zM1236 1462l-14-2-6 2-5 4-4 6-2 6 6 12 1 6-6 7-10-1-1 2 4 4 15 5 10 10 11 9 3 4 0 2-16 12-4 1-12-1-16-9-20 3-18 13-6 7-2 8 6 12 24 18 8 1 38-5 12 4 18 1 14-1 8-4 14-14 9-14 3-10-1-10-5-8-13-12 0-14 3-14-2-5-6-1-16 6-16-3-12 4-6-2-5-5 1-6 10-8 6-2 10 2 3-2-1-3-6-5-3-8zM1574 1892l-3 4 0 6 9 7 4 9 4 0 1-4-4-8-1-10-4-3zM1564 1908l-7 2-4 4 2 14 3 4 4 2 4-2 2-14 0-7zM376 1913l-2 3 1 4 9 2 0-4-2-4-3-2zM1226 1914l-1 2 1 2 6 3-3-5zM8 1930l1 2 15 5 4-1 4-6-2-2-20 0zM1212 1927l-2 1-2 4 3 12-1 6 2-1 4-11-1-8zM1436 1936l-4 2-1 4 1 4 4 3 5-3 2-4-1-4zM826 1942l-3 6 1 3 2 1 4-2 1-2-2-4zM136 1960l-3 2-4 8 3 8 4 3 7-3 2-4zM798 1961l2 8 4 0 4-3 0-3-2-2-4-1zM24 1964l4 1 3-1-1-2-2-1-3 1zM1476 1974l0 4 6 3 8 2 5-3-2-8-5-4-6 0zM604 1094l3 2-3 4-2 0-1-4zM640 1153l3 3-3 5-2-1-2-4zM712 1418l4 0 1 4-1 1-4-1-1-2zM704 1460l-4 4-2-1 2-5zM630 1519l2-1 3 2-1 4-4-1zM616 1778l4 0 8 8-2 1-8-3-2-2zM666 1855l8 5 5 8 1 6-4 5-8 0-4-2-1-11zM604 1888l4 1 6 9 0 2-4 0-7-8zM703 1894l3-2 4 2-1 2-3 1-3-1zM1372 1960l6 1 3 3-1 4-4 4-2 0-3-6-1-4zM2066 1971l0 16-4-3-3-6 1-4zM1692 1982l6-6 6-1 10 7 16 5 3 3 0 6-5 8-8 4-20-3-4-3-5-10 0-6zM1569 1980l3 1 3 3-1 8-2-1zM1948 1988l4 0 5 4-1 3-4 1-4-1-2-3zM455 1994l1-2 4-2 4 2 0 2-4 4-4-2zM410 1998l2 1 2 3-2 4-2 0-4-4zM2066 1997l0 11-8 2-4-1-1-3 2-4zM506 2004l2 2 0 2-2 2-4 0-1-4zM793 2054l-14 20-9 8-5 14-4 6-7 3-7 7-5 2-6-1-10-4-4 0-10 11-12 3-7 9-5 1-22-11-5-8-3-14-6-7-10-1-10-6-18 0-10 2-6-2-3-6 2-12-4-4-9-1-9-11-1-4 0-8-7-6-1-4 3-6 1-8 4 2 0 8 28 2 6-6 4 0 3 8-3 6-8-5-8 4-10 1-1 2 7 10 12 7 5 7 19 0 6-4 12-15 32-16 6 0 10 4 14 1 12 4 6-1 14-15 12-8 6-8 2-1 3 3 0 6 3 5 12 5 5 6 3 14 7 8zM1126 2006l3 2 1 4-2 2-4 0-2-1-1-3 3-4zM1351 2012l1-3 4-1 16 2 3 4-7 8-8 3-6-3zM1968 2014l4-2 4 1 3 3 1 4-4 1-6-1-2-2zM524 2016l0 6-2 3-2-1-2-2 1-4 3-3zM280 2031l2 2 1 5-1 4-2 0-4-4 1-4zM1280 2052l2-2 4-1 3 3 1 4-2 2-4 0-3-2zM584 2111l2 1 2 4-2 5-2-1-2-4zM708 2133l4 2 14 37 10 20-2 6-4 6-11 8-2 10-11 3-6-1-10-5-11-11-4-12 5-12-1-12 3-16 4-4 11-2 3-12 4-4zM660 2240l3 2-1 4-4 2-4-2 2-5zM676 2241l4 1 3 6-3 6-4 2-4-2-3-6 1-4z"/>
<path fill="#e1edf3" d="M0 0l2066 0 0 1945-11-3-11-6 2-4 4-4-2-18-4-6-8-2-14 3-10 11-8 4-2 20-3 6-5 3-6-1-4-4-5-14-3-3-5 1-8 10-15 10-11-4-5-3-3-7 1-7-12 2-10 7-18 0-20 8-8 5-10 0-10 4-4-1-10-10-14 0-10-5-2 1-1 10-3 8-4 2-4 0-12-4-8-10-13-10 0-6-5-5-4 0-2 3 8 8-3 4-3 1-4-1-4-8-14-4-4-8-9-12 0-4 6-10-1-2-2 0-12 8-2 12 4 12-1 4-7 3-8-4-6 1-12 21-7 9-3 7-4 3-3-2 2-10-3-6-14 0-14 5-2-3-1-14-3-5-26-1-1-2 3-6 1-6-3-14 0-12-3-2-17-3-6 3-8 8-10-4-9 4-6 6-3 8-6 4-2 4 1 8 3 4 4 1 12-3 18 14 3 8-2 8-7 3-8-1-18-8-6-10-6-2-6 5-3 5 7 10 0 4-6 6-6 3-4-1-12-10-10 0-2-2 4-20 7-8 2-4-2-6-7-4-14-1-5 5 1 12-4 12 1 6 6 10 0 2-3 4-4-3-2-5-1-18-5-8-6-4-26-5-18 12-8 2-4-2 1-7-1-5-4-3-4 1-8 3-4 4-4 14-6 8-6 3-14 3-3-2-1-2 4-10-3-10 11-14 1-8-3-4-10-1-10-6-4 1-3 2 0 4 5 8 2 10 4 10-5 6-7 1-4-1-1-2 1-12-9-10-3-8-2-2-6 3-4 7 0 4 3 8-1 4-4 2-14 0-7-2-11-7-10-12-9-7-3-8-4-1-9 3-5 13-12 13 0 14-4 12 1 14-3 3-6-1-7-6 6-10 0-4-4-4-13-5-18-1-10-10-6-3-5 3-2 4-1 10 2 4 18 12 8 1 10-2 7 3 0 2-13 10-12 0-12-5-6 0-6 3-5 10-5 2-18-7-5-5-3-9-6-2-4 1-4 10-14 15-4 1-10-2-10 3-16 0-3 3-1 8-4 3-4-1-12-10-16 0-16-7-12 7-10-1-9 7-11 4-8 0-12-5-16 6-8 0-4-5 6-10 2-6-1-4-19-9-5 1-7 6-8 1-10 3-6-1-6-5 0-6 2-5 30-17 0-3-10 0-5-5-1-6 4-6-4-7-4 1-4 9-12 5-3 10-4 4-7 1-18-7 1-8 11-22 12-1 11-9 1-6-2-5-4-1-6 2-6 1-20-7-8-8 5-10-1-4-4-2-3 4 2 10-23 19-6 0-2-2 0-3 8-7 5-11 9-14 0-8-5-8-5-4-10 1-10-2-8 5-4 0-8-6-6-2-6 0-8 5-6-1-10-9-8-4-5-9-5-6-9-4-5-18-6-10-2-8 6-12-5-10 0-6 7-11 4-2 6-1 1-2-1-3-8-8-4 0-8 4-4-3-2-6 1-6 9-18-2-3-10 3-4-6 0-14 2-2 4 1 6 8 4-3 1-4-1-10-7-6-1-4 4-5 8-1 0-12-3-12-5-8-2-6 10-14 12-6 0-8 1-4 19-12 2-6-3-6 7-6 0-16 4-6 12-4 6-5 14 4 10-4 3-3 4-8 1-10 4-9 5-3-2-8 6-12 1-12 5-16-6-14-7-7-6-3-2-4 3-16 7-4 1-2-11-3-7-13 2-10-2-4-7-7-20-2-6-9-22 8-4 0-3-2-1-2 9-10-2-4-7-4-6 4-3 4 2 8 1 11 4 6 4 2 14 4 7 13-1 4-7 6 1 12-5 16 3 4 9 6 3 10 7 6 2 4-10 24 3 8-6 5-21-1-5 6-6-2 1-6-1-1-6 3-3 10-12 12-5 12-16 12 0 4 4 10-1 10 3 8-2 4-4 2-3-2 1-10-6-10-2-1-1 23-8 10-2 10-9 6-4 6-1 6 8 14 0 4-3 5-8 1-4 6-3 8 4 16-12 20-2 6 1 4 8 3 2 2 2 11-2 8 8 5 4 6 1 15-6 12 0 12-2 10 7 4-4 1-2 3-2 13-7 11-2 20-13 20 6 16-3 6 0 8-12 12-5 15-8 4-6-2-4 1-14-10-3-10-5-7-9 7 0 6 11 12 2 4 0 4-7 22 6 6-1 4-12 4-16-2-6 6-4 0-2-3-6-29-5-6-7-3-6 13-10 8-12-6-20 1-12-8-4-1-6 2-8 9-4 1-4-2-2-12-4-2-9 4-11 9-6-1-8-4-5 14-5 3-8 1-1 2 2 6 7 7 2 8 6 7-5 10-1 14-4 4-6 1-4-2-8-10-8-4-3-3-3-8 3-10-1-2-4-3-19 3-1 4 2 10-10 12-8-8-14 6-4 0-10-7-20 1-10 4-4 0-18-11-2-11-4-3-23 7-5 3-2 0-4-8-16 8-8 9-4 2-4-1-10-5-14-2-8-9-3 1-3 8-2 1-12-6-10 0-12-2-8 2 0-9 6-2 8-1 12 5 6-2 5-6 8-16-1-6-6-2-6 1-12 5-8-1-1-3 2-2 10-4 4-4 2-8-1-8-3-4-5-3-20 0zM528 388l-1 4 1 7 6-2 4-3 0-4-6-4zM517 426l-7 0-8 6-13 14-7 12-7 6-2 4 1 2 4 3 5-1 5-10 9-6 4-8 15-10zM405 550l1 2 4 1 4-3 2-4-6-1-4 3zM332 634l-2 0-4 1-10 11-1 6 3 7 10-2 4-4 2-13zM316 665l-4 3-4 10-1 18 3 3 6-1 4-4-4-10 6-8 1-4-3-5zM304 712l-2 0-3 4-5 16 2 8 6 3 4 0 3-3 0-12 2-6-2-6zM374 902l-6 6 1 22 3 4 9 4-2 14 8 10 3 12 9 10 7 11 12 8 10 0 4-4 1-7-7-16-5-6 1-4 4-6-3-12-6-10-2-14-5-5-12 3-4-4 1-8-3-5-10-4zM446 1004l-5 4-3 12 2 8-1 8 5 5 8-3 8-10-1-10 3-6-2-3zM580 1063l-2 3-1 6 9 8 0 2-2 2-4 1-10-7-2 2-1 6 5 7 8 3 4 8 17 10-3 5-8 2 6 5 3 10 13 10 1 4 0 6-6 14-10 10 3 3 8 1 6-6 4 0 6 8 6 4 0 4-4 0-4-6-10 0-2 3 0 3 24 13 5-7-1-10 12-13 2-17-6-14-1-10-3-10 5-12-1-6-2-4-8-6-11-16-13-6-14-3-12-9zM570 1111l-6 1-5 6 1 4 6 5 4-1 6-6-1-6zM576 1132l-2 1-1 3 1 7 2 2 4-5 1-4zM576 1152l-5 8 0 2 3 1 4-1 2-2-1-4zM662 1180l-4 2 0 4 6 12 0 4-4 8 4 8-4 1-6-6-12 6-6-7-2 2 0 6-5 10 1 3 4 1 6-6 4-1 14 6 5-7 1-8 7-6 7-3 7 13-3 6-2 12-4 4-4 1-14-9-2 0-5 6 11 13 10 6 0-9 4-4 8-1 10-6 3 1 3 5 4 1 1-4-2-6 5-10 2-2 9 0 2-14-1-2-12-4-10 1-16-3-1-10-3-4-8-4-4-5zM697 1190l-1 2 2 3 4-1 0-2-1-2zM752 1239l-6 3-3 4 7 8 5 10 0 4-5 10 2 4 4 2 9-8 4-18-1-4-10-12zM696 1263l-1 5 0 6 6 12-6 8 9 18 4 3 20-1 11 8-1 4-10 10 0 2 8 6 24-9 1-3-9-16 4-12 6-4 3-6 1-4-2-2-6-2-2 1-3 15-9 2-6 6-3 0-1-2 1-8-2-10 5-10-6-2-6 5-4 1-2-4-2-11-10 2-8-8zM676 1269l-2 3 2 3 3-3zM1299 1460l-7-4-8-1-7 1-6 4-3 4 0 8 6 16-4 4-14 4-6-2-2-2 9-8 1-8-17-18-19-2-16 7-12 2-4 2-5 9 1 6 4 8-5 12 0 4 9 7 14 4 5 3 13 14 1 4-6 6-9 2-6 0-12-8-6-1-24 6-17 15-6 8 0 8 7 12 22 17 8 3 38-5 16 5 10-1 12 0 12-2 8-4 16-18 6-11 3-8 0-8-2-6-5-8-9-8-2-12 6-28 13-12 4-6 0-6zM567 1716l-3-2-2 1-2 5 4-1zM656 1777l-3 5 3 2 4-2 1-2-1-2zM414 1865l-6 1-9 8 6 14 5 6 5-2 10-16-2-6zM1160 1872l-2 4 2 4 2-1 1-3-1-4zM804 1875l-4 1-3 2-2 4 1 3 4 0 6-3 0-4zM1952 1886l0 5 4 3 2-2 0-4-2-2zM1734 1894l0 4 4 5 4 1 2-1 1-3-1-4-6-3zM293 1900l-7-4-8 1-6 7-2 10 12 3 6-1 5-6 1-6zM1620 1914l2 6 4 3 2-1-1-4-5-4zM194 1917l-4 3 0 4 6 3 2-1 1-4-2-4zM856 1919l-5 5 0 4 5 5 4 1 2-2 0-4-3-8zM1110 1940l-3 2 1 4 3-2zM180 1944l-1 4 1 2 5-2 1-2-2-3zM728 1380l4-3 4 1-2 3zM1228 1494l1-4 5-2 5 2 1 2-8 4zM654 1831l2 1 0 2-2 4-3-4zM656 1839l3 5-3 4-2-2zM646 1854l1 8-5 8 3 8-5 3-2-2-1-3 3-8-3-8 3-5zM605 1890l3 1 2 5-4-1zM522 1896l6 4 2 8-4 6-6 4-2-1 0-7zM756 1906l16 4-1 12 2 12 3 4 8 6-1 8-3 6-24 9-6-2-12-8-3-3-1-4 3-12 11-23 4-6zM1420 1943l1 5-5 16-4 3-4-1-4-4 2-5 8-11zM508 1954l4 0 6 3 2 3-1 4-4 0zM68 1984l0 2-14 8-4 0-2-2 2-4 8-6 6 0zM1708 1994l2-2 6-1 6 2 2 3-2 3-4 2-7-3zM1220 1998l4-1 6 2 3 3-1 4-6 3-4-1-3-6zM780 2034l0 16-14 17-7 23-13 4-10 10-10-2-10 0-2 2-5 8-3 2-6 0-10-5-20-1-12-18-14-8-10-10 3-10 7-10 13-10 11-4 10-1 5 5 5 2 6-1 6-5 6-2 12 5 8-1 6-3 10-15 6-3 6-1 22 10zM732 2072l4 4 3-2-1-4-5 0zM568 2030l14-2 17 2 0 2-3 2-10-1-3 5 9 12 5 4 1 4-4 2-6 0-10-7-3-5 0-8-3-5-4-3zM631 2074l-5 4-10-1-8 3-2 0-1-2 3-3 12-4 6 0zM708 2145l2 5 0 3-2 1-1-6zM687 2164l5-4 16-2 8 10 1 6-3 2-12-5-12 6-3-5zM688 2193l6-4 6 2 6 8 0 7-4 2-13-4-3-6zM726 2191l2 1 1 4-3 3-4 0 0-5z"/>
<path fill="#e6eff4" d="M0 0l2066 0 0 1903-8-1-20-7-22 5-15 10-7 20-4 5-4-2-6-9-6-2-6 3-12 12-8 3-4-2-2-4 1-18 2-10-2-4-11-5-32 4-8-1-8-6-1-10-5-10-4-1-2 3 5 18-3 14 5 18-1 4-7 6-15 2-7 6-7 2-12-9-14-3-15-8-3-3-2-7-9 2-3 4-4 10-2 2-4-1-17-19-1-4 5-10 0-4-20-8-9-8-12 0-14 5-12 1-18 10-2 4-2 18 3 8-1 6-4 7-6 3-4-2-3-4 5-16-7-12 2-12-1-3-4-1-2 2-2 14-6 5-4 1-4-2-8-8-12-2-4-2-6-18-6-5-6 0-10 3-10-1-10 6-14 0-14 8-14 1-4 6-2 16-4 4-12 1-14-9-18-2-8 2-14 9-6 1-6-2-18-12-6-1-6 3 3 10-1 3-4 1-4-4-1-10-9-6-5 2-3 7-3 3-11 4-2-1 2-17-4-4-12-6-4-17-4-3-6-2-4 1-2 3 0 12-16 8-10-1-8 0-12-8-6-1-6 14-10 10-4 0-10-8-8-18-6 1-8 8-15 7 0 14-11 12-4 12-2 2-8-2-8-5-10 4-8-1-18-14-12 2-6-2-10-17-17 1 0 4 12 18 0 2-7 10 0 14 4 4 11 2-1 6-4 3-4 0-4-3-4-7-10-3-6 0-12 6-4 12-4 4-4 1-4-7-4-2-4 2-7 10-5 3-8-1-12-5-8 3-6-1-10 5-8 2-6-3-10-8-4 1-8 5-4 0-10-3-14 0-14-8-12 2-12-9-4 0-8 4-12-4-14 0 0-3 11-8 7-8 16-5 7-9 0-2-2-2-13 1-4-1-4-6 2-6 12 2 3-4-1-10-5-10 1-12-1-12-3-2-10-1-8-4-8-11-8-4-8-9-4-2-18 6-15 3-3 2-8-2-14-1-16-11-12 2-10-3-10 2-16-3-14 3-5-1-22-20-13-8-3-8-2-10-7-8 0-8 5-12-6-10 1-6 6-10 4-2 6 0 2-1 0-5-2-5-7-5-5 0-8 3-4-3-1-6 0-4 5-9 6-7 0-4-4-4-6 4-4 0-2-1-2-14 2-3 4 1 6 8 4-2 2-5-1-12-7-7 0-5 4-2 6 1 3-1-1-6 0-8-3-12-8-12 2-6 9-11 8-2 3-3 0-8 2-4 18-12 2-12 4-6 0-16 2-4 5-3 8-2 6-5 14 4 12-5 6-9 0-10 2-5 9-9-3-8 7-12-1-12 5-18-4-10-7-11-6-2-3-3 3-14 6-4 3-4-1-2-10-3-5-9-1-4 2-13 16-8 10-2 2-3-8-16 0-4 3-8 7-6 3-6 0-6-5-4 0-2 6-4 5-20-3-8-11-10-7-3-4 2-6 7 7 8 5 12-6 12 6 10-2 12-2 2-14 4-1-16 4-8-1-4-6-1-8 5-3-2-2-14-3 0-6 4-2-1-8-8-4 0-2 3 1 12 4 10-6 8 9 18 6 3 20 0 9 7 0 2-2 4-7 4-6 7-18-1-3-2-2-6-3-2-10 4-6 1-3 3-5 1-3-1 0-4 9-6-1-4-9-8-4 1-9 9 3 8 0 9 4 11 4 3 14 0 4 3 3 12-7 8 1 12-5 16 3 4 9 6 3 10 8 8 0 4-8 20-1 4 2 6-2 3-6 1-20-2-6-3-8 3-4 12-11 12-5 11-4 4-10 6-2 3-1 4 5 12-2 7-2 2-8-11-4 1 1 13-1 10-8 10-2 10-9 6-4 6 0 6 7 18-2 3-8 2-4 5-3 10 3 16-13 22-1 6 2 4 8 1 2 3 1 8-2 12 11 6 2 18-6 12 0 14-6 8 4 4 1 4-2 12-8 12-1 20-13 18 0 4 5 12-2 8 0 8-12 12-4 14-4 2-4 0-6-4-8 0-7-4-4-16 2-8 0-8 7-10 0-6-4-4-20 1-3 3-1 4 3 14 0 6-11 14-3 14-5 12 2 6 15 4 2 4-7 12-15-2-2-4 0-12-9-11-9-5-5-9-6-5-5-10-9-8 0-4 5-12 0-12-1-7-4-5-4 3-2 13-7 10 0 10-5 5-10 2-4 6 1 7 12 24-1 6-4 3-6-1-8-6-6-2-6 1-8 5-2-4 0-24-4-10-4-2-10 0-16-4-6 2-3 4 1 17-2 0-8-4-4 3 0 12-3 4-3 0-5-6-7-3-14 0-4 3-5 10-3 4-12 4-12 10-6 3-22-4-9-17-5-5-4-1-2 1-3 9-3 4-14 3-16 13-6 8-12 7-6 1-4-2-8-8-12-1-3-5-3-10-8-8-3-8-13-2-7 2-2 2 1 3 4 2 10-1 6 4 6 21 8 7 0 4-14 9-8 2-10-4-8-9-14-4-1-2 1-3 9-7 2-22 3-8-2-9-8-20-4-2-4 1-5 16 1 4 9 8 2 4-1 2-10 2-3-2-2-16-9-10-4-1-22 3zM534 386l-4-1-3 3 0 12-3 6 0 4 3-2 1-6 10-8 1-4zM524 422l-2-2-21 12-12 14-8 12-7 6-1 4 1 4 6 2 4-2 5-10 9-6 4-8 14-10 3-10zM416 545l-4-1-5 2-2 2 0 4 3 2 4-2 4-4zM332 632l-6 2-11 12 0 8 3 8 10-4 4-4 3-16zM318 662l-6 5-4 9-3 20 3 4 8-1 5-5-4-10 7-10zM304 710l-5 4-6 18 3 9 6 3 6-2 2-2-1-10 3-8-2-6zM367 904l0 4 1 22 3 4 9 6-2 12 8 10 4 14 8 8 8 12 12 7 12 0 3-3 1-6-9-24 3-10-4-12-6-10-1-10-3-7-6-4-8 4-3-1-2-2 0-10-3-4-6-3-8-1zM446 1002l-6 4-4 14 3 8 0 10 5 3 10-2 6-9 0-12 3-8-2-2zM446 1054l1 2 3 1 4-1 2-2-2-2-4-1zM580 1063l-3 3-1 6 8 8-1 2-5 1-8-7-3 4-1 6 6 8 6 4 4 6 15 10 0 2-7 1-4 3 0 4 3 4 0 4 13 8 10 10 0 5-3 5-2 8-10 10 0 4 10 4 3 11 16 6 7 5-1 12-3 8 0 4 5 3 10-7 4 1 5 3 1 2-5 10 24 22 0 8 1 3 2 0 4-5-6-8 0-12 4-3 8-1 8-5 6 7 5 0 2-4-2-8 4-10 3-2 8 2 1-2 1-16-2-2-14-4-8 2-14-3-2-1-1-10-3-4-6-2-6-6-4-1-4 1-1 4 1 6 5 8-1 6-6 7-12 6-4-2-4-7 4-8-1-8 3-6 10-8 2-16-7-16-1-10-4-10 5-12 0-6-15-17-6-9-16-8-14-3-10-7zM568 1110l-7 4-3 6 6 7 6 3 4 20-5 12 3 2 4 0 4-2 1-2-3-12 5-14-11-6 6-10-4-6zM512 1124l-1 2 1 3 5-1-1-3zM674 1176l10 5 3-1 1-2-1-4-3-2-8 2zM695 1190l1 6 4 2 7-6-9-5zM692 1311l-3 3 1 3 2 0 2-3 0-2zM1307 1464l-11-9-14-4-28 5-18-3-14 0-16 6-12 2-7 3-5 8 0 20-4 10 0 6 12 10 20 5 6 7 1 6-5 4-6 1-14-8-6-1-24 8-21 20-4 6 1 8 8 15 20 16 10 4 38-5 18 6 10-3 18 0 14-6 16-18 9-19 1-8 0-6-5-8-10-12-2-12 7-22 16-14 4-6 0-6zM557 1720l1 2 3 0 8-4 0-2-1-2-4-2-4 3zM660 1776l-4 0-2 1-3 7 5 2 4-2 3-4zM1818 1835l-3 5 0 8 3 5 8 3 3-4 0-6-5-8zM1164 1850l-6 2-2 2-1 10-7 14 9 16-3 8 3 4 5 3 2-1 0-4-5-10 9-10 3-14 5-10-1-4-2-2zM1802 1861l-5 1-3 4 1 4 3 2 4-1 2-4 0-5zM258 1871l-6 0-9 7 0 6 3 4 6 1 8-7 1-6zM1306 1872l-2 2 0 4 0 4 2 2 3-6 0-4zM1480 1873l-2 3 4 6 2 0 2-3 0-4-2-2zM1952 1875l-4 2-3 3 0 8 3 12 4 3 4 0 8-5 2-6-2-6-6-8zM154 1893l-4 3 0 2 2 2 4-2 0-3zM1082 1921l-2 3 1 6 1 3 4 1 3-4-1-4-4-5zM614 1180l3 0 1 4-5 0zM676 1211l4 2 4 9-3 6-1 10-4 4-4 1-7-3-4-6 8-18zM616 1545l2 3 1 4-5 3-2-1 0-4 2-5zM818 1853l10 0 6 5 3 14-2 4-5 3-8 1-6-5-1-17zM644 1856l1 6-3 3-3-1-1-4 2-4zM860 1882l7 18-1 6-18 6-12-4-6 0 2-13 12-3 10-9zM342 1885l4 3 1 6-5 4-6 1-2-3 1-6 3-4zM428 1888l6 16-2 4-4 2-5-2-3-6 4-10zM498 1898l0 3-2 2-4 1 2-5zM526 1901l2 3 0 6-4 5-4 1-1-6 1-6 2-3zM826 1910l-2 6-4 3 0-5zM2066 1913l0 10-4-1-2-4 2-4zM758 1918l4 2 1 4 1 16 8 10-3 4-9 2-15-4-4-4 1-4 5-10 4-10 3-5zM248 1934l2-3 4-1 8 2 0 2-6 4-6-1zM274 1932l4-3 4 0 3 3 1 4-2 2-7-2zM1537 1938l3-2 4 1 5 5 2 4-7 0-5-2-2-2zM191 1958l6-8 2-8 7-3 20-1 12 6 3 4-1 7-12 1-8 8-10-6-14 2zM1350 1937l2-1 3 2-1 5-4-1zM166 1945l2 7-2 4-4-2-1-4 3-4zM1495 1954l3-1 6 5 3 4-1 3-4 1-3-2-5-6zM511 1956l6 2 1 5-3-1zM296 1960l2 0 2 4-2 4-2 1-3-1-2-4 1-2zM775 2036l-1 8-10 10-4 12-4 6-4 2-2-1-12-14-12 3-6 6-1 12-6 4-5 12-6 5-4-1-8-5-10 6-8-1-11-14-11-6-3-6 1-6 8-8 2-10 6-5 6 0 8 4 12 3 6 4 6 0 12-6 24-8 4-14 8-5 4 1 8 4 10 4zM575 2032l7-1-1 9 5 4 3 8 4 2 0 2-3 1-4-4-8-2-2-3 2-8-4-6zM723 2084l3-2 10 4 1 4-5 4-6-1-3-3z"/>
<path fill="#eaf1f5" d="M0 0l2066 0 0 1876-34-3-10-7-6-2-8 1-6 7-2 0-4-4-2-6-2-22-6 2-9 10-5 2-6-2-8-9-4-1-3 4-3 8-4 3-4-3-6-11-4-2-2 3 3 14-1 8-3 6-7 8-2 8-2 2-16 3-6-3-2-6-2-26-2-2-10 8-18 6 0 4 8 10 2 6-2 7-4 4-2 0-4-3-10-15-4 1-3 2-3 4-2 8-2-1-10-18-12-2-3-3 3-8 4-2 10 10 12-1 10-9 2-4-1-6-5-8-8-3-4-5-2-6 2-12-4-6-4-2-12 6-10 3-3 3-1 9 2 3 6 2 2 10-2 3-12 3-4 4-3 8 1 6 4 7 13 7 3 10-10 2-10 12-16 6-4 0-3-4 7-10 0-14-4-10-10-6-6-12-2-2-10 0-2-4 0-8-2-4-8-9-10-5-3 2-5 16 5 6 12 6-1 6-5 6-11 4-12-2-14 10-4 2-14-8-12 5-12-4-10 11-12 6-4-3-8-17-6-4-10-2-12 3-10-3-6 8-4 1-2-1-2-8-4-2-4 2-5 12-6 6-5 1-8-2-6 0-12 12-14 6-6 1-10-3-12 0-12-8-4 2-14 12-6 1-12-6-14-3-6-5 1-4 5-6 6-2 8 1 1-1-3-14-1-14-1-2-4-2-12 12-1 16-4 8 0 6-2 2-5-2-2-8-2-2-4 1-12 7-8 0-4-4-3-14-7-5-20-5-20 1-3 3-4 12-3 3-6 0-24-11-2 1-2 5 8 14-2 4-4 3-6 0-4-3-4-8 0-10-2-2-4-2-10 4-14 11-8 1-10-3-7 11-10 10-3 1-4-3 0-8 4-22 7-14 1-8-22-6-12 0-6 2 2 14-4 5-12 3-16 6-6 4-9 2-4 8-11 8-16 18-4 1-12-2-18 9-1 6 3 4 4 3 18 5 4-1 4-6 2-1 2 4-2 7-8 1-18 13-4 0-10-2-2 1-6 9-4 1-13-12 1-8-2-3-18-5-6 2-2 2-2 12 1 4 3 1 12-3 3 2-3 10-6 6-4 0-3-2-6-10-3-2-6 2-10 9-6 1-8-2-12 0-12-10-18-4-8-6 0-2 2-4 10-4 12 4 6-1 3-3 0-8-5-6-12 1-13-15-2-6-6-44-5-4-12-2-4-2-6-12-12-4-8-9-6-3-6 0-16 6-22-2-14 6-5-2-7-8-4-2-14 4-16-5-36 1-38-25-2-7 0-6 8-3 4-3 1-4-2-2-7-2-8 9-4-3-1-4 0-6 4-6 1-6-1-4-5-6 1-6 6-10 11-1 2-5-3-10-9-4-12 4-2-1-3-5 2-8 3-6 7-6 1-4-4-10 4-10-1-6-2-6-6-6 0-2 3-2 10 0 3-2-4-6 1-8-5-14-7-8 0-6 8-11 4-2 6-1 4-4 2-4-2-4 2-4 18-12 3-10 3-6 0-18 2-4 4-2 8-2 8-5 12 4 13-5 7-12-1-8 1-4 4-5 6-3 1-2-3-10 6-10-1-12 5-14-1-10-7-10-2-6-10-4 2-12 10-10 0-2-8-2-4-4-3-6 2-6-1-8 10-8 14-4 4-4-8-14-2-6 4-8 8-6 2-4 0-12 8-20 1-6-1-6-2-4-22-13-4 2-8 9 8 8 4 10 0 6-7 8 0 2 8 8-2 10-3 3-8 2-3-3 0-10 6-10-1-2-8-3-10 5-2-1 0-15-4-1-8 5-2 0-8-9-6 0-2 3 2 14 4 8-7 10 5 12 0 2-8 3-1 3 1 3 4 2 6-6 8 3 20 0 9 6 1 2-2 3-14 10-14 1-3-2-3-8-4-3-4 1-6 4-3 0-4-8-9-10-6 2-10 10 3 8 0 8 4 14 5 3 14-1 4 4 2 8-7 10 1 12-4 10 0 8 12 9 2 9 8 8 1 4-9 18-1 14-5 1-18-3-6-4-11 6-4 12-10 10-5 12-4 4-10 6-3 4-1 4 5 10-1 7-2 2-2-1-6-9-4-1-2 2 2 12-1 12-8 10-2 10-9 6-4 6 0 6 5 18-7 3-4 6-4 11 3 16-14 26 1 8 9 0 3 4 0 7-3 9 0 6-8 6-4 8 5 1 11-5-3-8 3-2 5 0 4 4 2 16-6 12-1 14-7 8 0 2 5 4 1 6-2 8-8 12 0 20-15 18 6 14-3 10 1 8-11 11-5 15-5 1-8-5-10-1-5-5-1-12 8-28-1-8-3-4-10-1-14-6-14 0-3 1-9 11-2 1-8-4-14 2-5-4-5-14-4-3-4 0-5 1-3 2-1 18-3 4-14 4-10 0-10 3-14-2-2 3-2 10-6 4-6 1-16-5-14 3-2-1-3-8-3-2-4 2-2 2 1 4 3 2 8 2 0 8-4 5-9 3-5 4-18-5-10-7-2-6 5-12-3-4-6 2-6 4-3 6-4 10-7 7-4 0-16-8-4 0 0 5 8 14 8-1 4 2 5 11-1 4-8-2-10-9-12 8-4 0-14-9-6-2-7 2-1 2-2 8-2 2-4 1-4-9-3-4-7-2-6 0-6 6-2 6 1 6 4 10-1 6-6 3-8-4-6-1-8 6-4 1-4-3-2-8-8-10-2-6 2-4 7-6 6-16-8-16-15-11-6-2-4 0-18 9-1 4 1 1 10-3 4 1 4 3 4 8 1 24-5 2-8 0-4-3-6-12-5-17-21-4-6-14-11-16-9-3-10 6zM532 385l-4 1-2 4-1 10-3 8 2 5 4-4 2-7 8-7 2-3-2-4zM524 418l-2 0-22 14-12 14-8 12-6 6-2 4 1 4 5 3 4-1 8-12 8-6 5-8 12-8 5-12 4-4zM416 544l-4-1-6 3-3 4 1 3 4 2 6-3 3-4zM346 614l-5 2 1 4 5-2zM334 631l-6-1-13 16 0 14-7 13-4 25 2 4 10-2 6-6-4-10 7-10-5-10 1-2 10-6 3-4 2-14zM304 707l-6 7-6 18 4 10 6 3 4-1 4-3 0-11 4-8-3-6zM362 895l-2 3 5 8 3 24 2 4 8 6 0 13 8 9 3 14 9 8 7 12 13 8 14 3 3-13-8-22 3-12-4-12-7-10-2-12-3-6-6-4-10 3-2-3 1-8-7-7-10-2-12 2zM444 1000l-9 6-1 2 2 6-3 6 5 8 0 10 4 4 4 0 10-2 6-12-1-8 4-10-3-3zM446 1052l0 4 2 2 6-1 3-3 1-2-4-2-6 0zM580 1062l-2 2-4 11-7 1-2 10 2 4 10 10 2 4 8 4 4 4 0 2-9 7-6-9-4-2-8 1-7 7 3 6 9 8 2 4 1 14-4 12 4 3 9-1 2-6-3-12 6-10 14 4 10 8 0 6-3 6-1 8-11 10 0 4 11 6 3 10 9 2 13 8 1 12-4 10 2 5 4 1 10-7 7 3 0 4-3 6 0 3 8 6 15 15 1 11 2 4 5-5 2-4-5-10-1-6 1-4 10-3 6-4 2 0 8 8 4-2 2-5-1-10 3-7 4-1 9 2-2-10 2-12-9-2-11-6 8-8-1-2-12-4-4 1 0 5 2 6 6 4-6 2-12-2-4-13-9-7 1-2 10 2 6 0 1-6-3-5-12 1-4 7-14 0-2-9 1-8-7-18-5-18 5-14-2-7-14-15-6-9-14-7-14-3-12-8zM509 1126l3 4 5 0 2-2-2-4-3-2-2 1zM724 1230l1 10 3 3 0-7zM729 1264l5 2 2-2-4-2zM660 1276l-2 0-2 4 2 4 4-4zM684 1296l-2 0-2 2-1 4 1 3 6-5zM1310 1462l-12-9-10-4-8-1-16 2-38-1-10 2-12 6-12 1-8 5-6 8-1 19-5 14 2 7 8 11 0 4-7 6-15 6-10 11-13 11-3 5 0 9 10 17 21 17 11 4 36-4 6 2 8 5 4 0 12-5 20-2 13-6 16-18 6-10 4-10 0-14-4-8-10-12-2-12 7-20 21-20 1-8zM556 1685l-4 3 0 4 4 0 1-4zM1474 1768l-3 4-1 10 1 4 11 4 6 7 5-1 2-2-1-3-12-2-4-19zM1536 1803l-2 4 4 2 2-3-2-2zM1876 1814l1 4 5 4 6 1 2-3 0-4-4-4-6-1zM1925 1816l2 4 5 3 26-3-2-4-3-2-15-3-8 1zM213 1828l-3 0-20 6-2 4 1 4 7 8 4 1 4-3 10-16zM1250 1858l2 4 8 5 2-1 1-6-3-4-6-1zM1528 1854l-6 2-5 4 1 4 4 4 5 0 5-8 0-4zM1502 1859l-6 0-10 6-10 2-4 2 0 7 6 14 6 1 6-4 13-23zM580 1122l2 0 1 4-1 3-5-1-1-2zM654 1179l2 3 1 8 5 8 0 4-6 7-10 5-4 1-4-7 3-8-1-10 4-4zM676 1212l4 3 3 7-3 6-1 10-5 4-4 0-6-4-1-6 7-16zM670 1334l4-4 3 2-3 4-3 0zM1197 1526l9 0 4 4 0 3-4 2-9-5-1-2zM616 1547l2 3 0 2-4 2-1-4zM628 1668l4 2 5 8-5 5-2 0-2-3zM478 1846l2 4-2 4-10-3-10 4-10 0-3 3 1 10-2 3-14-13 0-4 6-9 4-1 10 2 10-9 8 5zM12 1852l3 6-1 6-5 4-9 2 0-20zM368 1858l8-1 7 5 2 14 3 10-2 5-10 1-6-2-6-24 1-4zM1968 1872l2-1 3 1 3 6-6 0-2-2zM1978 1880l8-4 4 0 2 2-1 4-3 4-6-2zM2007 1878l11 1 2 1 1 4-1 2-12 2zM524 1903l2 1 2 4-2 4-4 2-2-1 0-5zM1992 1912l0 6-4 5-8-6-4-1-10 5-14 11-3-2 0-8 2-6 17-13 4-1 10 6 8 1zM1860 1908l2 0 2 3 4 11 0 4-4 3-8-2-3-3 1-9zM1149 1916l3-1 9 3 3 4 0 5-4 1-4-2-6-6zM78 1938l4 0 2 2 0 4-2 2-4 1-3-3 0-4zM580 2043l5 3 0 2-3 3-2 0-2-3zM655 2074l3-4 7-4 5-8 6-2 10 2 6 8 14-2 3 4-1 5-4 5-4 2-8-2-10 14-6 3-4-1-7-12-9-6z"/>
<path fill="#eff3f5" d="M0 0l2066 0 0 1871-10-2-16-7-8 1-26-9-3-4-1-6 4-16-4-6-6-4-4 0-5 2-3 14-6 5-4 1-2-2-1-4 5-14-4-4-14-7-18-6-34 12-3-3-7-19-4-3-4 1-2 9-16 7-16 1-12 7-5-1-9-9-8-1-8 8-16 6-10 18-2-1-5-13 3-12-4-12 0-16 2-4 10-4 4-4 1-4-2-6-5-3-18 10-6 11-2 8 5 12 1 8-3 6-8 10 2 8-1 3-4 2-4-1-14-8-22-9-4 1-4 4 1 10-3 4-6 0-12-5-14 4-2 3 1 4 7 8 4 2 12 0 5 4 0 4-19 11-6-1-10-8-14-7-4 1-4 8-14 10-4-1-6-8-10-2-12-6-14 5-4-1-6-7-4-1-20 4-2-1 0-4 6-11 4-4 12 2 8 7 18 3 10-1 6-7 3-17-2-6-7-9-4-4-6 0-11 5-1 4 3 8-7 7-4 2-3-3-1-8-6-6 1-10-1-3-4-1-8 5-2-1-6-7-4-2-11 5-4 4 1 6 6 10-12 5-8 8-6 2-14-1-10 2-10-4-17 14-1 4 3 14 2 6 8 10 1 6-4 2-4-2-8-14-10 0-4 2 0 2 5 8-1 6-4 5-6 2-4-1-2-4 0-16-4-12 1-18-5-14-8-8 2-12-4-7-4 1-6 8 1 4 8 6-4 18-7 7-4 0-4-5-8-15-10-4-8-9-4 0-4 2-9 8-1 10-3 10 1 5 6 2 3-3 0-12 3-4 4-1 6 1 2 2 2 10 5 12 11 10 0 2-22 11-4-2-4-11-6-6-14-4-12-7-16 2-10-3-9-10 0-16 1-10-2-5-6 0-10 5-12-1-4 2-1 3-1 6 2 4 12 1 4 2 7 7 0 4-1 2-32 3-9 3 1 8-2 6-4 4-8 4-4-1-4-7-1-6 5-7 14-3-1-4-3-3-12 5-6 0-22-6-4 0-8 5-14-6-26 0-14 7-12 10-6 1-12-3-4 2-3 6 1 12-2 8-6 6-8 18-6 3-12-5-8 9-16 7-2 6 1 6 17 14 0 2-4 3-16-5-8-12-6-4-11-2 1-10-4-7-4 1-4 6 0 4 2 6-1 2-13 5-4-1-10-5-12 6-10 1-4-2-6-10-8-7-4-2-10 3-4-2-8-9-2-25-5-22-5-4-14-5-8-15-4-2-9 0-11-10-12-1-20 6-20-2-12 1-14-6-16 4-18-6-22 1-12-5-14-3-20-10-4-5-1-8 11-6 3-6-5-5-4-1-4 1-6 8-4-3 0-6 4-6 1-8-6-12 7-13 10 0 2-2 1-17-13-3-12 3-3-2-1-4 4-10 7-6 2-4-3-12 3-14-3-9-3-5 13-4 8-5 2-5-2-3-4-1-3 2 1 7-4-2 0-3 2-4-5-6-3-10-6-6-2-6 8-12 11-4 5-4 2-4-2-4 2-4 14-9 3-3 7-16-1-16 2-6 11-3 8-5 14 3 12-4 6-11 1-14 10-8-1-12 5-12-1-12 5-12 0-8-1-4-6-8-4-9-8-1-1-2 3-10 8-7 2-5-2-2-6-1-4-3-1-4 3-6-4-6 0-4 6-5 12-4 8-5 1-4-8-10-2-8 3-6 11-8 2-16 9-17 1-13-1-5-4-4-26-11-13 12 9 8 5 10-1 6-4 4-4 2-8-3-10 5-2-4 2-6 2-1 8 2 6-3-1-4-3-2-10 2-8-1-6 5-4 0-6-8 0-2 7-6 1-4-2-8 3-8 3-1 6 2 4 11 4 3 4-1-4-12-4-5-2-5 0-4 4-8-2-4-10-1-5-3-2-4 6-6 0-2-17-6-4 2 1 8 3 8-10 0-2-2-5-14 1-2 8 0 3-2-1-8-4-4-12 0-8 7-9-1-2-6 3-8-5-8-9-28 5-14-3-8-20-24-18-8-12-2-14-9-4 2-4 9-8 3-2 11 2 4 9 10 3 7 8 1 3 4-3 4-4 1-6-8-8 0-6 3-6 6 1 4 11 11 2 4 1 15-4 8 1 4 6 2 6 1 2-2 2-7-3-12 5-7 12 1 8 6 2 6-3 4 0 12-11 10 0 4 10 6 4 11 10 2 12 7 1 10-4 12 3 6 4 1 10-7 5 2 1 4-4 6 1 4 9 5 13 15 1 20 5 0 2-6 5-8-5-10-1-8 2-2 8-1 6-4 2 1 4 6-8 4-1 2 7 26-5 4-3 5-6-1-2 1-4 10-12 8-10 9-1 2 7 30 6 4 14-1 4 5 1 6-7 11 1 11-3 8-1 10 1 3 8 3 4 4 2 8 7 8 1 4-8 15-2 9 1 6-2 2-19-3-6-7-14 10-4 12-10 10-5 12-13 9-4 5 0 6 4 8-1 6-3 0-4-8-9 0 3 12-2 12-8 12 0 8-2 2-8 4-4 8-1 6 3 14-7 8-4 12-1 6 2 14-12 22-2 10-6 12 0 3 2 2 6-4 3-9 3-1 4 1 1 8-5 16-8 8-3 6 5 3 17-7-4-6 1-2 4-1 3 3-1 6 3 10-6 10-1 16-9 10 7 5 1 5-1 6-8 10-4 8 3 10 0 6-16 16 0 4 7 12-3 10 1 8-10 10-5 14-5 2-8-6-10-1-3-5-1-8 3-12 5-14-1-16 6-6-3-10-4-5-10 2-6 6-4 1-16-3-12-9-8-1-6 3-3 4 1 10-5 4-5 1-4-3-1-12-5-7-6-1-18 2-5 4-5 18-8 6-8-1-10-9-10-2-4 2-4 9-10 5-8 7-6 1-6-1-18-9-10 3-12 5-4-3-4-9-4-2-18 14-12 4-4-2-14-22-10-10-4-10 4-8-2-4-4-3-2 1-1 10-7 5-2 3 2 12-1 6-5 3-6-1-3-4-1-6 1-12-4-10 1-13-4-3-12-3 0 11-4 10 1 10-7 10 2 12-1 8-3 5-10 5-6 11-6 3-4-1-4-3-2-8 4-14 13-12 2-4-2-10 1-12-4-5-4 1-5 14-11 2-16 0-6 3-2 9 1 4 5 4 7 2 7-13 2 0 6 11-1 4-12 2-3 6-2 1-18-4-18 7-10 0-6-12-22-11-10-7-1-4 2-6-5-6-4-1-2 7-6 1zM536 386l-4-2-4 0-7 24 0 8-6 6-17 11-17 23-8 8-2 6 1 2 6 3 5-1 7-12 8-5 6-9 12-8 4-11 5-5 0-8 5-8 1-6 8-8 1-4zM417 544l-5-1-7 3-2 4 1 5 4 1 6-4 4-4zM338 618l2 3 6-1 2-2 0-5-2-1-4 1-3 3zM336 629l-10-1-4 8-8 10 0 14-7 16-4 28-11 26 2 10 4 4 8 1 5-3 0-12 4-10-8-14 1-2 10-5 5-5-5-10 7-8-3-12 0-2 10-6 2-4 3-16zM360 895l0 5 4 6 1 6 2 18 2 4 8 6 1 14 7 8 4 14 8 8 7 12 12 8 10 4 1 8 10 12 0 8 3 5 4 2 12 0 7-13-1-12 5-8-3-3-8-2-10-6-9 1-9-28 3-10-1-8-10-16-2-12-4-7-4-4-4-2-6 4-2-1 2-6-8-9-12-3-10 2-8-6zM480 1026l-4 4 0 2 2 1 4-3 0-3zM444 1056l4 4 6-2 5-4 0-4-3-1-8 0-4 3zM508 1126l2 4 4 1 5-1 0-4-3-4-4-1zM545 1144l1 2 2 2 6-2 0-2-4-2zM660 1274l-3 2-2 4 1 4 2 1 3-1 3-4-1-4zM1288 1446l-8-1-16 1-34-1-16 4-10 5-14 2-12 8-4 8-1 14-4 16 1 8 6 12-1 4-4 4-13 6-10 12-14 10-3 6 1 12 11 20 19 14 8 3 10 2 14-2 10 0 6 2 10 6 8 3 4-1 10-9 20-4 10-4 6-4 18-22 4-10 3-12-2-12-14-20 1-14 6-13 20-17 3-8-2-8-6-8-9-6zM574 1544l2 3 4 3 6 0 1-2-9-6zM550 1699l-3 7 0 4 1 2 2-1 2-5zM1474 1757l-4 1-5 6-1 12-3 8-12 8-1 4 3 6 5 3 8 0 4-1 4-3 2 1-3 4 0 4 1 7 2 2 22-12 6-7 3-8-3-7-14-6-7-17zM1229 1762l1 4 4 2 4-1 3-3-3-4-4-1-4 0zM109 1778l1 2 6 2 14-1 1-1-15-5-6 1zM263 1786l-7-8-6 0-10 10-12 6-4 4 8 8 6 2 5 0 3-2 2-10 11-6zM1880 1778l2 4 4 0 0-2-2-3-2-1zM278 1780l-6 0-8 6 2 16 2 5 4-2 4-6 4-15zM1312 1788l2 5 12 7 4 8 11-12-2-4-9-7-16 1zM1032 1797l-4-1-3 2 0 4 1 2 4 1 4-3 0-4zM2033 1806l0 2 3 4 6 0 0-4-4-2zM1224 1806l-4 6 0 6 4-1 2-3 0-6zM1138 1818l4 7 5-1-3-4zM306 1819l-1 3 1 3 2 1 2-3 0-3zM1203 1822l1 3 4 1 6-4-1-2-7-2zM2014 1830l6 6 4 1 2-3-4-6-4 0zM1032 1832l-4 4 6 18 2-2 2-12-2-6zM1068 1857l-5 3 0 4 1 3 4 0 4-5-1-4zM1038 1866l0 4 2 3 10 0 8 5 3-2-1-5-8-2-10-5-2 0zM654 1182l3 10 4 6 0 4-7 7-8 4-4 0-3-5 3-8-1-10 9-7zM676 1214l4 2 2 6-2 6-2 9-4 4-4 0-4-3-1-6 5-14zM744 1282l6 3 2 5-2 8-2 2-6 1-4-3 0-8 2-4zM690 1299l3 5-8 8 4 12-3 4-2-1-8-13zM695 1320l5-4 6 1 20 1 8 6-2 3-14 8-10 2-4-2-2-7-7-6zM630 1670l4 8-2 3-2 0-2-9zM1554 1817l2 1 1 4-3 8-3-2-1-4zM1872 1824l6 2 5 4 1 4-1 6-11 9-10-4-4 1-2-2 4-6 4-10 4-3zM1938 1832l4-3 6 1-4 4-4 0zM1900 1840l12-4 6 2 8 20-1 6-3 4-4 0-17-18-3-6zM282 1847l2 0 4 4 5 11-2 4-5 2-8-2-4-6 2-6zM180 1848l4 2 2 4 3 14-2 8-5 2-4 0-4-4zM228 1849l4 0 4 3 3 8-3 4-6-1-4-3-1-6zM1768 1850l4 4 1 4-4 6-5 1-3-3 0-6 3-5zM1872 1854l-2 5-5-1-1-2 6-4zM2 1856l5 4-3 4-4 1 0-9zM1138 1855l2 1 0 4-2 2-4-1-1-3zM1278 1861l10 1 2 4-1 6-3 1-4-3-4-6zM74 1865l2 1 0 2-2 3-2-3zM374 1868l2 0 2 4 0 4-2 4-4-6-1-4zM148 1876l8-7 4 1 3 4-1 3-4 1-8 0zM204 1871l4 2 3 7-1 5-4 4-4-1-4-6 2-8zM1515 1874l-1 4-7 2 0-4 3-4zM147 1878l-7 10-6 4-6 1-4-3 1-8 5-6 8-2zM128 1899l4 1 4 6 0 4-2 2-6-2-3-2 0-6zM524 1905l2 1 0 4-4 3-1-5zM928 1958l4-3 4-1 6 3 12-1 3 4-3 6-4 1-10-5-8 2-3-2zM678 2072l3 2 0 4-3 6-2 1-2-9z"/>
<path fill="#f3f5f6" d="M0 0l2066 0 0 1761-3 1 3 2 0 43-8-1-14-8-16-4-10-8-6-2-3 2-3 4-2 16-6-1-12 7-8 0-24-12-6-7-9-5-5-10-20-10-10-9-6 8-4 2-16-2-5 3-4 10 4 12 0 4-3 4-6 2-10-1-8 1-2-2-2-8-6-7-2-1-4 5-2 0-8-11-1-8-13-17-16-5-24 14-10 16-4-1-10-13-2 0-8 6-10 5-8 15-4 2-4 0-3 2 1 2 2 2 9 2 4 4-1 1-6 3-16 13-8-1-30 5-3 5 4 10-1 5-4 0-8-4-16-3-8 5-2 0-1-3 1-5 2-1 8 2 2-3 0-5-3-6-10-10-1-4 1-14-2-6-3-3-8-1-13 4-3 2-1 8-9 4-3-2 0-6 8-6-3-8-2-10-2 0-3 4-3 14-4 3-14 3-10-6-4-1-12 8-12 1-4-4-6-11-12-6-3-3-6-18 1-10-2-2-4-2-14 8-10 10-16 5-3 5 1 4 4 3 8 1-6 1-19 11-4 6 1 4 12 4 14 9 11 3 3 3 1 5-2 4-9 11-6 2-4-1-4-4-2-16-12-4-8-16-8-2-16 1-7-5-4-10-3-2-8 0-7 4-4 8 0 10-1 4-8 4-6 0 0-4 5-8 1-4-10-10-4-8 9-14-1-2-6-1-10 4-3 3-5 8-10-3-4 1-6 14-6 4-8 1-2-1-4-12-8-5-5-7-5-10-2-1-8 2-6-1-22-10-5 2-7 11-18 4 0 5 3 6 9 7 4 2 3-1 4-6 3-2 30-1 18 9 6 6 8 4 0 8-6 4-14 1-8-2-15-7-15-2-4 2-8 13-6 0-10-8-3 3-4 10-3 2-4-1-6-4-2-5 1-4 4-8-2-10-13-16-8 0-2-2 2-4 4-3 8 3 12 0 6 0 2-2 0-2-6-10-12-10-4-9-4-2-6 3-3 4 6 10-1 6-4 3-12 3-10 10-1 6 6 20-1 2-8-4-6 1-2 15 1 6 7 12 1 6-5 6-10 5-6 8-6-1-1-4 1-8-6-4-4 1-8 10-6 5-12 1-12 8-6 0-4-5 0-8 4-20 6-6 1-4-3-5-9-1-1-10-2-4-8-3-14 1-10-5-14-1-5 2-2 4 0 4 7 12-2 3-13 7-2 4 4 2 15-1 18-17 10 7 12 3-1 4-15 10-3 8 11 26 1 16 3 2 14-1 3 3 2 4-10 8-1 2 0 8-2 3-16 4-6 5-6 0-3-4 0-4 3-2 8-1 14-11 1-2-3-6-4-1-22 10-12 3-12 15-4 2-8-1-5 4-17 8-5-2-5-8-14-10-14-2-4-2-4-12 1-16-7-20-4-4-10-2-6-4-3-4-2-10-8-10-2-6-2-2-11 5-20 0-20 6-32-4-12-3-18 4-16-5-22 1-14-8-14-1-20-8-3-3-1-6 12-8 3-6-7-9-6 0-4-2-2-11-6-10 6-12 10 0 3-2 1-14 8-14-1-2-8-4-4 0 0 2 3 8-4 3-8-2-12 4-4-5 4-9 8-6 1-3 1-6-3-8 3-14-3-12 19-10 1-6-3-5-8-1-4-4-2-10-8-8-1-4 7-11 12-5 7-6 1-4-2-4 2-2 14-10 4-10 5-6-1-18 2-5 10-4 8-4 14 3 12-4 7-12 0-10 1-4 10-8 0-12 5-14-2-10 4-12 1-10-1-4-6-6-4-10-7-2-2-2 3-8 7-6 3-6-1-2-10-4 0-4 3-6-5-8 0-2 6-4 10 0 2-4 8-6 0-4-8-10-2-8 4-7 12-3 0-18 11-16 2-18-1-4-4-4-28-12-4 1-8 9-6 1-11-21 1-6 4-6-2-5-2-2-8 1-5-2-1-4 5-6 0-2-21-8-6-12-14-2-2 0-6 8-8 0-2-4 1-4 7-6-9-6-2-4 1-6-5-6-4-14 4-14-2-8-19-24-18-8-14-3-10-6-6-2-4 3-4 8-7 2-2 10 1 6 9 10 1 6-10 4-9 8 0 4 14 16 1 14-4 8 1 4 3 3 14 4 2-13-3-10 2-6 3-2 8 0 4 2 4 4 1 4-5 8 4 4 0 6-4 5-8 4 0 3 4 5 8 5 4 10 8 1 13 7 2 10-5 12 4 6 4 2 8-6 6 0 0 4-3 6 1 4 10 6 5 10 6 4 2 4-1 8-2 0-6-7-2 1-3 8 1 6 4 1 6-5 4 6 6 0 2-8 5-8 0-4-5-8 0-6 4-2 5 2 0 8 8 20-1 4-6 5-8 2-5 11-11 8-10 8-2 4 3 8 0 8 3 12 2 4 6 4 14-1 3 3 0 6-5 10 0 12-3 8-1 10 2 4 8 3 3 3 3 10 6 6 1 4-2 6-6 8-3 17-4 0-13-3-7-8-15 12-4 12-10 10-5 12-12 8-5 6 0 6 5 10-2 3-6-8-14-1 6 10 0 15-9 13 0 8-9 5-5 9-1 6 3 12-7 11-4 13 1 18-12 22-3 10-5 8-5 20 1 6 5 2 1 6 3 3 4 1 10-4 8-1 3 3 1 4-6 10 0 14-10 12 7 6 1 4-2 6-5 6-7 12 4 10 0 6-4 5-8 5-5 6 1 4 7 12-3 10 1 8-10 10-5 14-4 0-6-4-10-2-4-4 2-20 5-10 0-16 1-3 5-5-4-20 3-14-2-2-2 1-6 11-4 1-4-1-2-4-2-14 1-14-7-4-4 1-7 3-3 4-2 4 2 6 5 8 2 6 6 6 1 2-2 3-6-1-10-7-18-2-16 4-12-7-18 1-10-6-6 3-3 4-1 17-4 5-4 1-6-4-12-3-5-8 3-4 14-2 2-4 0-4-2-4-4-1-15 7-2 4-1 6-2 3-4 1-10-2-10 5-6-3-1-12-1-2-2 0-6 14-4 2-12 2-3 2-3 14-4 2-4-3-9-13 7-20 7-12 0-4-3-4-16-2-6-3-20 0-16 10-5 5-5 0-14-8-1-4 1-10-4-4-8 1-20 11-4 0-8-4-2-4 0-4 9-10-2-4-3-1-4 1-7 12-7 5-24 9-28 1-8 8-16 8-8-3 0 4 3 6-2 10 3 4 4-1 6-6 6-3 6 0 3 2 1 2-5 8-5 19-10 7-8 3-4-1-10-11-18-9-3-4-1-8-2-4-16-12-10-1 0-17 7-2 3-6-2-3-8 0zM534 384l-4-2-4 4-8 32-20 14-17 24-9 8-2 6 2 4 8 2 4-2 6-11 8-5 7-10 13-10 2-8 6-6 1-8 5-14 8-8 0-4zM452 504l4-2 2-4-2-1-4 1zM418 543l-6-1-8 4-2 4 2 7 4 0 8-6 3-5zM348 611l-10 3-1 4 1 6-6 2-8-2-1 10-10 12 0 14-6 14-6 30-10 26 2 10 5 5 8 1 6-4-1-12 5-10-7-10 0-4 11-8 3-4-4-10 7-8-3-12 11-10 5-30 9-5 1-5zM360 894l-1 6 6 12 2 18 2 4 7 6 1 14 9 10 2 12 8 8 8 13 12 8 8 3 2 10 10 10 2 12 6 4 9 2-5 1-4 3 0 6 2 4 4 1 6-3 4-4 2-4-2-4 0-8 4-10-1-10 5-6-1-4-3-3-8-1-10-6-8-2-8-22 2-12-1-8-3-8-7-8-4-14-5-9-20-16-12-2-10 2-6-5zM478 1016l-1 2 1 6-3 8 3 3 3-1 6-6zM464 1083l1 5 3 3 2-1-2-6zM510 1120l-3 6 2 4 5 2 7-2 0-4-5-6-4-1zM544 1144l2 4 2 1 7-1 2-2-2-4-5-2-4 1zM660 1424l-1 4 3 2 2-2 0-4-2-1zM1286 1443l-22 0-34-2-16 4-10 5-14 4-16 10-4 8-4 30 0 8 5 14-3 4-12 7-10 11-14 10-4 6-1 6 2 8 8 20 3 3 26 17 10 2 20 1 16 10 16 3 10-3 10-11 24-9 8-6 19-25 6-20-2-10-14-22-1-6 1-8 7-12 21-18 3-8-2-8-8-10-10-7zM573 1542l0 4 7 6 6-1 3-3-9-7-4-1zM1088 1603l-3 3 0 6 1 3 2 1 4-1 3-5-3-6zM1862 1697l-2 1 0 5 2 3 4 0 0-6zM1899 1698l-2 4 3 5 4 2 4-1 2-4-2-6-4-2zM1700 1716l-2 2 4 6 4 2 2-1 1-3-1-3zM1854 1719l-2 3 2 6 4 2 4-2 3-4-1-5-4-1zM974 1729l-4 3-2 4 4 7 4 1 4-4 4-8-4-2zM1923 1756l3 5 12-1 4 1 10 15 2-2-4-12 2-4 4-3 6 0 12 7 20-1 12-4 4-5 1-6-1-3-4-2-12 7-8 1-18-9-4 0-8 6-22-6-9 6-2 4zM1738 1742l-3 2 0 4 3 5 4 1 4-5 0-5-2-2zM282 1758l14 9 12-1 3-2 1-4-6-9-8-3-4 1zM430 1759l-4-4-4-1-18 10-4 6 3 4 5 3 8-2 10 0 5-9zM666 1755l-4 2-2 3 2 6 2 0 5-6-1-4zM888 1757l-5 1-1 4 1 8 4 8-3 16-11 12-1 4 5 10 3 8 4 3 6-2 8-14 8-5-7-6 1-3 18-11 3-4-1-4-2-2-20-8-2-12-4-3zM976 1758l2 4 4 2 2-1-1-3-3-2zM2046 1762l1 2 3 1 9-3-1-2-6-2-4 1zM528 1777l-2 9 1 2 7 2 3-2 1-4-6-6zM1090 1780l-6 0-5 2 0 6 3 5 4 0 3-3 2-6zM1657 1790l0 6 7 10 8 2 4-2-5-16-9-2zM907 1874l0 4 5 3 4 1 4-2 0-6-2-4-6 0zM581 1110l3-1 3 3-3 3-2-1zM652 1183l2 1 2 8 4 6 0 4-6 6-10 4-3-4 3-8-2-9 2-3zM682 1186l4-1 4 2 4 13-2 2-7-2zM676 1215l4 3 1 4-3 14-4 3-4 1-4-4 0-4 6-14zM712 1231l4 0 4 2 4 11 22 11 3 11-3 6-4 1-3-1 6-8-7-6-12 2-8-1-8 6-4-2-2-5 7-8-2-14zM728 1269l3 3-6 4-1-5 2-2zM744 1284l5 2 2 4-2 8-5 2-4-2-1-4 1-6zM699 1320l1-1 14-1 14 2 4 4-1 2-5 2-6-2-2 1-2 7-8 1-2-1zM566 1684l2 1 0 5-3 8-3 10-10 8-2 0 3-6 1-10 6-6 1-8zM648 1770l2 1 1 3-3 5-2 0-2-3 1-4zM1728 1784l4-2 4 2 3 4-1 5-4 2-4-1-3-4zM107 1792l5-2 4 2 1 2-2 2-5 0-3-2zM1786 1796l4-3 12 2 7 5 2 6-3 3-4 2-12 1-5-10zM1758 1797l2 3 1 6-4 4-5 0 0-4 4-8zM1240 1805l4 1 2 6-2 9-4 2-4-2-2-5 2-9zM321 1826l5-4 6-2 6 4 1 4-3 5-6 2-7-3zM1394 1828l3 2 1 4-2 4-2 1-3-3-1-4zM1317 1838l3-3 8 0 4 2 0 5-2 3-4 0-8-3zM2043 1838l0 6-5 3-10 4-6-1 0-2 6-3 10-9zM2066 1847l0 20-10-3-4-4-1-4 4-6zM1447 1854l1 4-4 5-8 0-4-3 1-4 3-3 6-1z"/>
<path fill="#f7f6f6" d="M0 0l2066 0 0 1715-4 3-1 4 1 5 4 4 0 9-29 18-7 7-12 1-3-6 2-18-3-6-4-2-6 0-22 6-16-8-4 0-8 6-10-2-6-4-3-4 3-12-2-4-10-3-12-15-6-4-4-1-6 2-7 5-2 6 2 6 9 10 14-2 6 1 5 5 0 8-11 18-4 1-15-1-2 2-1 8-2 4-8 0-14-4-8-8-8 1-2-1 0-6 2-1 8 4 4-3 6-10 8-8 3-8 1-6-2-4-12-18-6-3-7 5-6 12-6 8 3 26-6 8 8 8-8 11-6 3-7-4-4-6 8-14 0-12-3-5-4 0-10 5-8 1-6 6-12 1-16 9-3-1-1-8-6-16-4-4-12 1-2 3 0 8-16 5-4-1-7-6-1-10-2-4-34-24-2 2 2 14 0 14 4 3 8 1 4 2 7 6 1 4-2 16-7 10-1 15-2 1-32-21-18-8-2 1-6 11-18-1-9 14-3 2-6 1-4-2-1-3 2-18-3-3-6 0-17 9-2 4-4 16-3 4-4 1-4-1-13-8 7-6 0-4-4-9-4-2-9 1-17 9-8 2-4-2-2-3 1-4 7-8 4-10-2-7-6-4-22 0-12 9-8 3-6 6-4 1-10 0-14-6-12 2-12 4-10 12-14 7-4-1 0-8-6-7-12 0-12-6-10 7-16 8-12 1-12 5-14-9-3-3 0-6 6-16-1-5-2-3-4-1-4 2-6 15-18 8-8-2-14-7-8-1-5 2-9 8-8 2-6-4-9-14-1-22-8-7-6-2-4 3-1 10-2 4-18 14 0 4 4 4 0 2-9 4-9 12-9 8-6 0-10-6-14 1 2-27-2-3-12-4-4 1-9 12-11 6-1 6 7 11 2 1 6-7 4-2 16 7-1 4-3 4-12 0-2 2 4 9 0 11-2 3-8 2-8-3-4-6 6-12 6-8-2-1-16 1-5 4-3 10-13 2-11-6-8-1-3-1 5-8-2-7-4-4-12-4-4-5 2-7 12-9 6-11 10-2 6-13 1-6-4-4-7-1-6 3-8 10-8 5-4 0-8-5-6 0-2 4-7 24 7 12 0 12 4 9 11 7-5 12 0 14-11 12 0 8 2 8 5 4 12-5 12-2 10-6 4 0 1 3-3 10 0 16 2 6 5 6 0 4-5 2-14-1-4 2-2 5 0 6 2 3 8 1 0 2-10 0-24 17-8 1-12-3-6 5-4 1-6-2-3-7 3-18-2-10 3-16-7-5-4 0-10 10-7 1-3-4-1-10-4-10 3-13 16-8 4-12 12 5 6-2 1-2-1-18-4-8-7-4-19-5-4-3 0-8 2-2 10-2 3-4 2-6-3-5-11-7-1-3-14 2-1 5 2 6-15 5-4 2 2 17-2 8-10 8-11 20-5 6-6 3-20 1-18 7-42-6-16 2-12-4-28 1-14-8-12-2-2-2-2-7-6 6-11-1-3-3 0-5 13-8 2-4-4-10 3-14-2-3-4 0-5 5-2 6-3 0-3-10-6-6 0-4 5-9 2-1 8 2 4-3 2-15 11-12 1-4-2-4-18-2-3 2 4 8-1 3-8-2-10 5-4-2-1-4 3-6 4-4 6-2 1-10-3-8 3-12-2-14 17-8 3-6-3-8-10-2-3-2-1-4-1-8-7-4-2-6 6-11 12-4 7-5 3-4 0-8 13-10 4-10 5-6-2-10 2-12 18-8 14 3 14-5 6-12 0-12 11-10 0-12 5-14-3-10 5-12 1-12-8-10-3-10-7-2-1-2 2-6 7-6 3-6-2-4-7-2-1-2 3-8-4-10 3-2 13 2 2-8 6-6 0-4-8-10-3-8 2-4 4-3 10 1 2-2-1-10 1-10 11-14 3-20-3-6-5-4-28-11-4 1-8 9-6 1-10-20 1-6 5-4-3-8-3-4-6 3-5-1-1-4 4-6 0-2-20-8-8-14-16-2-2 1-4 8-4 1-4-2 0-5 9-5 0-2-9-4-4-6 2-4 6-3 1-3-3-1-6 2-4-3-4-14 4-14-2-8-20-24-20-9-12-2-10-7-6-1-3 1-5 9-6 1-2 2-2 16 9 10 1 6-8 3-11 9 0 4 15 16 0 14-3 10 3 4 10 3 10 7 6 9 8 5 4 10 10 2 12 6 2 8-4 12 1 6 7 5 8-6 4 0 1 3-3 6 1 4 3 4 6 2 4 4-2 8 1 6-3 10 0 6 2 2 10-1 12 4-1 7-3 6-21 16-1 4 2 8 3 20 2 4 7 5 12-1 4 3 0 3-5 12 0 12-3 6-1 14 1 2 12 6 3 10 6 6 1 4-2 6-5 8-3 14-2 2-14-3-5-7-3-2-15 12-2 4-3 10-10 10-4 11-12 8-4 5-3 10-5 1-6-1-4-4 1-8-3 0-1 2-1 10 8 8 2 6-1 12-9 14-1 8-8 4-5 10-1 4 3 14-6 8-5 16 2 18-22 42-6 24 1 2 12 10 4 1 10-5 6 0 4 2 1 4-5 10-1 14-11 12 2 3 6 3 1 4-1 4-6 6-9 16 6 8 0 6-3 4-10 6-4 6 0 4 8 12-3 10 1 8-9 10-5 13-4 0-15-7-2-2-1-4 2-16 5-10 0-16 5-5 1-3-3-20 6-9 9 5-2-6 3-10-10-13-8-4-8-9-12-3-4-3-5-14-3-1-22 7-2 2 1 2 8 8 1 4-8 8-12 3-3-1 3-24-4-6-4-3-4 0-10 5-10 1-20 12-6 2-4-1-4-10-4-4-4 0-7 12-3 1-6 0-8-5-2 2-1 4 8 16 0 4-13 8-7 10-7 2-3-4-2-6 0-6 2-8-2-6-19-19-18-11-4-14 9-20-5-5-4 0-4 6-4 2-8-3-12 0-8-6-14 11 0 3 2 2 8 1 9 9 5 3 4 1 8-5 4 1 7 16-1 6-5 4-7 4-8 1-8 6-4 0-8-1-10 2-10-5-26-6-14 5-5 0-2-2-5-20-4-3-4-1-9 4-5 4-3 12-5 4-24 6-14-1-16 4-12 6-8-1-10-15-6-1-12 7-2 3 11 22 1 8-2 6-4 0-12-9-4 0-6 3-6-2-6-6 0-4 4-2 10-1 1-5-11-25-16-3zM524 351l-1 1 0 6 3 3 2-1 0-2zM532 381l-4 0-2 3-2 14-7 20-20 14-17 24-8 8-3 10 11 2 4-1 6-11 8-6 7-10 13-10 3-8 6-6 1-8 5-14 6-6 2-4-2-4zM460 496l-6 0-4 2 0 8 4 0 6-8zM420 544l-3-2-5 0-8 4-3 4 2 8 3 1 10-7 3-4zM348 609l-11 5-3 9-10-1-2 4 0 8-9 12-1 14-5 14-4 18-9 30-4 8 3 12 5 4 8 0 6-2 0-14 5-10-7-10 0-4 14-12 0-4-4-6 7-8-3-12 10-10 7-28 9-8 0-6zM360 892l-2 4 0 4 6 12 2 18 2 4 7 6 2 14 8 10 2 12 9 8 8 13 19 13 1 8 10 10 3 12 7 6-2 8 2 6 4 2 8-3 8-9-3-10 0-4 4-8-2-8 3-5 5-3 0-2-7-6-10-2-14-8-2-2-7-18 2-12-1-10-11-16-3-12-6-11-22-19-6 2-14 2-6-5zM474 1014l2 8-3 10 3 4 4 0 8-6 8 0-2-5-8-2-8-9zM464 1081l-2 2 0 3 4 6 4 2 2-4-2-6zM508 1120l-2 6 2 4 8 2 8-2-8-12-4-1zM543 1142l0 4 5 4 8-1 4-3-2-4-6-4-6 1zM664 1421l-6 3 0 4 2 2 4 0 2-2zM1320 1464l-14-14-18-10-24 1-32-4-24 5-6 4-28 13-4 4-3 7-4 30 0 8 4 12-1 4-13 10-9 10-15 10-6 8 1 8 5 20-1 8-6 0-10-4-10 6-14-11-6 0-6 1-4 4-2 6 4 29 4 1 16-4 8-6 8 5 6 2 11-13 5-9 4 0 6 3 6 10 8 0 10 3 10 1 12 7 8 0 4 1 4 8-4 10 4 2 14-11 12-1 10-5 14-13 24-12 17-20 8-14 3-16 0-8-15-22-1-12 2-8 4-6 24-20 3-10zM572 1542l0 4 8 8 8-2 3-4-1-2-12-8zM1012 1636l-1 6 3 2 12 1 10 5 2-1-1-9-5-8-4-4-8 1zM1118 1635l-5 5-1 6 3 2 7 1 3 5 8 26-3 10 1 6 11 10 8 0 3-2 1-4-2-3-7-5-3-4 0-4 4-8-8-12-2-10 0-6 4-8-4 0-6 5-6 2-2-9zM1194 1652l-8-1-6 4-20 23-1 6 2 6 7 1 13-9 3-9 6-10zM526 1656l-3 2-3 10-6 10 4 16 5 12-1 4-6 14-4 2-4-1-10-9-4 0-2 4 2 5 8 7 5 10 11 10 4-1 4-3 9-18-3-8-1-12 3-12-2-3-8-5-2-4 3-12 6-10-1-5zM982 1657l-2-1-6 7-6 3-4-1-8-7-4-1-12 1-12 6-12 1-4 3-6 10-6 6-2 4 0 4 2 3 4 0 11-5 7-14 8-6 18 1 7 11 5 3 4-1 11-6 3-10 4-8zM1002 1662l0 6 6 7 16 2 8 7-2 12 6 5 6 0 3-1 9-9 8-3 3-4-1-7-6-2-8 8-10 2-5-1 8-18-3-3-16 4-14-9-4 0zM1076 1663l-4 1-1 4 1 2 4-3zM1344 1666l-8 2-4 4-2 4 2 4 4 2 15 2 3 4-2 7-10 5 1 14-6 8 3 4 12-6 5-12 10-6 4-6-1-8-8-13zM1377 1696l0 4 5 4 10 1 4-2-2-9-4-4-8 1zM1090 1694l-6-1-4 3-5 18 0 4 3 3 10 0 3-3 0-4-6-10 2-4 7-4zM1199 1704l1 3 4 0 8-1 1-2-3-5-4-2-4 1zM2012 1701l-3 3 1 3 2 1 3-4zM1215 1708l1 6 4 5 6 2 6-1 1-8-3-4-10-2-4 0zM1782 1711l-4 2-2 3 2 5 4 2 3-3 2-4-1-3zM1531 1724l0 2 3 2 4-2-2-3zM356 1735l-2 1-1 4 3 4 2 1 3-7-1-2zM540 1801l2 11 2 1 4-5 1-4-3-2zM940 1850l-4 2-1 4 5 2 2-1 1-3zM601 1144l2 4-1 2-10 7-4-1-4-8 2-4 8-3zM602 1162l2 4-2 4-6 4-6 0-2-6 0-4 10-3zM652 1185l7 13 0 4-5 4-10 4-2-2 4-8-3-6 0-4zM684 1187l4 1 2 2 1 10-3 0-2-1-3-9zM676 1217l3 1 1 4-3 12-3 4-4 0-2-2 0-5 4-11zM712 1232l2 0 4 1 4 11 10 5 5 5-9 5-12-1-6 5-2 0-2-5 6-8-2-12zM680 1254l3 0 2 2-1 8-4-4-1-4zM686 1266l4 6 4 12-6 4-4 1-4-2-1-5 5-8zM746 1286l3 4-1 6-2 2-4 0-2-4 2-7zM714 1319l4 3-4 10-2 2-4-1-5-11 3-2zM566 1685l1 5-3 3-1-5 1-2zM560 1698l2 2 0 6-4 3-2 0 0-7zM1707 1758l2-2 5 0 5 2 1 4-2 3-4 0-5-3zM378 1761l3-1 3 2-1 2-3 1zM1424 1762l3 6-1 7-4 4-7 1-1-6 1-8 3-3zM1992 1768l4 4-6 26-4 7-6 1-4-4-4-12 2-14 1-4 5-4zM2034 1769l6 2 5 5-3 8-6 4-5-2-2-6 2-8zM314 1776l3 4 0 4-7 12-4 3-16 2-1-5 8-8 5-10 6-3zM1537 1778l-7 10-4 2-6-2-3-4 0-4 3-2zM1232 1782l4-2 8-1 6 3 1 4-3 2-6-1-8-2zM1394 1784l2-4 2 0 12 4-2 3-8 1-4-1zM2058 1782l8-1 0 18-6-2-5-5 0-6zM1104 1784l4 4 3 8 2 18 7 8 1 6-3 3-4 0-10-7-6-1-8 3-8 9-4 2-3-5 0-10 9-12 12-8 1-12 3-4zM1626 1789l4-2 15-1 3 12 5 8-1 3-8-5-10 5-4 0-5-7zM1690 1792l1 4-1 3-2 1-2-4 2-3zM76 1816l-2 6-6 4-8-2-4-6 1-2 17-2zM1056 1840l2 2 0 4-4 4-4 0-1-4 1-4 2-2zM908 1889l4 0 5 3 1 4-2 3-4 1-4-2-2-6z"/>
<path fill="#f8f4f2" d="M0 0l2066 0 0 1695-10 1 1 12-1 4-4 3-4-3-1-8 3-4 6-4-2-6-4-3-6 0-12 4-26 3-4 2-2 4 3 10 7 10 4-1 10-4 12 12 4 1 8-2 4 1 2 5-9 14-7 5-14 4-2-3 0-14-4-7-8-5-14 4-10-4-6-8-5-18-7-7-8-3-10 0-6 3-8 8-6 1-13-18 3-8-6-3-6 3-4 0-2-12-4-5-8-4-18 8-7 1-12-12-5-14-4-2-8 4-4 8 2 22 11 10-1 4-2 2-18 9-4 0-8-17-4-5-4-2-10-2-13-11-7-1-3 5 3 10-6 6-2 6 0 18-8 8-6 3-12-2-12-7-12 4-6-1-19-15 0-6 3-6-2-6-14 2-18-8-17 4-3-2-4-10-2-2-6 1-3 5-1 6 2 4 7 6 1 12-9 20-1 6 4 1 16-2-3-15 0-4 9-6 4-1 4 1 7 6 5 8 3 20 2 6 5 2 12 0 4 4 1 4-3 5-10 6-20-3-2-2 0-8-1-4-9-15-6-3-1 6-2 4-13 4-6 4-2 4 0 6-2 2-4-5-2-13-2-2-15 6-8 6-5 0-30-12-8-15-12 3-14-5-10 5-6 1-6-7-4-1-8 2-18 16-10-1-6 1-4 12-3 3-5 0-8-3-12 0-4-1-3-4 1-4 6-7 6-4 10 7 8-1 5-5 2-6-1-4-12-4-6 1-6 4-14 0-3-3-2-12-7-14-4-2-16 0-5-2-2-4 2-10-9-14 7-6 1-6-4-5-9-5-7-10-4-2-4 2-4 12-9 2-3 4 1 6 11 10 1 4-3 4-18 13-4 1-7-4-5-13-4 0-3 5 10 16-1 10-6 10 0 4 12 5 3 3-1 4-8 12-1 8 3 3 4 1 10-8 4 0 6 10 0 6-4 4-36 7-6-5 0-20-4-10-8-5-6-1-8 6-4 1-3-3-4-12-9-15-10-2-10 4-9-5-1-4 4-8-2-16 2-4 8-5 7-9 16-8 9-11 26-15 23-30 3-30-15-22-2-12 3-8 4-5 24-19 3-6 0-8-2-6-9-9-12-10-10-6-8-2-20 1-34-5-12 3-12 1-22 14-16 7-7 18 1 12-2 18 2 16-41 36-2 6 1 14-1 4-17 6-10-5-12 0-6 3-9 8-2 16 1 12-3 12 3 4 8 4 2 4-2 6-4 4-6 1-14-7-8-16-1-6 3-4 8-4 2-4-5-6-9-2-20 13-14 16-8 6-12-2-6 1-5 12-3 3-4 1-8-5-6-1-20 2-19 6-5 4-14 20-2 6 0 12-5 8 0 2 3 1 11-5 2 2-7 11-10 6-6 12-4 2-10-3-4 2-1 4 10 20 0 6-3 3-10 5-12 16-2 8-2 2-22 6-18 7-38-6-16 2-12-5-24 3-6 0-17-13-9-13-6-3-4-12 2-14-1-4-5-2-10 7-10-10 0-3 5-8 9 1 5-3 2-4-1-8 1-4 5-4 6-2 3-10-1-5-2-3-10 2-8-2-6 0-3-2-4-16 3-14-2-10 2-2 10-5 6-1 3-10-5-7-8-2-4-2-2-5 3-8-9-2-4-6 6-10 12-4 8-6 4-4 1-8 11-10 4-10 6-6-4-10 1-8 2-4 17-7 14 3 14-5 6-11 1-14 11-10 0-12 5-14-3-10 5-12 2-12-9-10-3-10-6-4-1-2 2-4 7-8 2-6-1-2-7-4 2-8-1-6 2-2 10 1 3-3-1-6 6-8 1-4-10-10-2-8 5-6 10 2 4-4-1-10 0-8 11-14 4-24-4-6-6-4-18-5-10-5-4 0-8 10-4 1-2 0-4-10-5-7-1-4 2-4 6-2 1-4-9-13-2 0-4 4-2 1-3-2 0-2 6-6-1-2-4-3-10-2-8-5-5-10-3-3-16-4-16-9 0-4 8-5 1-3-3-2-8 2-4-3-3-13 3-12 0-6-19-26-5-4-14-6-16-4-10-6-6-2-4 2-4 8-8 1-2 3 0 8-3 10 1 2 7 4 4 6-20 14 1 6 14 13 0 6-2 1-8-6-6-2-8 4 0 4 2 4 4 2 16-2 2 2 1 4-3 8 3 4 11 4 10 8 6 8 8 5 4 10 10 2 11 5 3 8-5 12 1 6 8 6 4-2 4-4 3 0 0 2-2 6 1 4 2 3 8 4 2 3-2 6 2 8-4 14 1 4 5 2 8-1 11 3 0 6-3 5-22 17-1 4 7 32 8 7 12-1 2 2-4 14-1 12-2 6-1 15 2 2 8 2 4 3 3 10 7 10-2 6-6 8-4 14-12-2-6-7-4-2-16 13-4 12-11 12-4 10-13 10-4 6-2 6-2 2-8-2-2-2 1-6-1-4-4 0-2 1-2 15 10 8 1 6-1 10-8 12-2 10-8 4-5 10 0 6 2 10-1 4-5 6-4 16 1 18-23 42-5 19-2 3-2-2 2-8-1-6-7-8-1-4 2-12 5-12-5-14 3-10-3-4-5-2-14 6-12-1-4 5 4 15 9 7-7 11-12 4 0 3 14 14 3 12-17 1-12-5-14 0-10-3-4 1-3 6 2 8 7 9 13 3 1 2-4 2-4-1-6-5-16-4-12 1-14 5-10 0-6-3-6-9-4 1-12 9-4 1-2-1 0-2 4-6-1-4-8-10-1-4 1-6 5-7 4-1 10 2 8 12 4 2 12-1 5-3 1-2-13-10-7-4-14-2-12 2-8-4-13-16 3-10-1-4-7-12-4-2-8 3-2 5 17 22-2 14 8 10 0 6-2 10 6 18-3 6-12 8 1 12-1 4-4 3-8-2-4-5-4-20-8-12 1-10-3-6-20-12-10 3-5-3-1-4 2-3 12-1 3-4 0-6-5-5-4 1-4 4-12 18-14 3-12 8-8 2-4-9-4-3-4 1-3 2-3 6 1 4 3 3 10 0 7 21-5 10-12 10-20-2-10 2-4-2-2-10 2-5 14-1 8 6 8 2 4-2 5-10-1-5-4-4-14 1-5-10-5-4-4 2-10 21-12-1-24 2-13 16-13 9-22 0-10-10-14-8-8 2-14 10-16 2-6-1-8-7-20-3zM514 322l2 5 4-3-2-3-2-1zM522 348l-2 2 2 8 2 4 4 0 1-2-1-6-4-6zM532 379l-4-1-2 3-3 17-7 20-19 14-16 22-9 9-6 14 14 0 4-2 6-11 9-6 7-10 12-9 4-9 5-6 7-22 6-6 1-4-1-4zM462 495l-5-1-7 3-2 5 2 6 4-1 8-9zM420 542l-8-1-9 5-2 4 0 10 5 0 10-8 5-6zM356 596l-4 3-3 7-13 7-4 9-8-1-2 2-1 11-9 12 0 12-6 16-3 16-9 31-4 9 2 12 4 4 14 1 4 4 2-1-4-18 6-12-7-12 14-14 0-4-3-6 6-8-3-12 10-10 6-26 9-9 1-11 5-8zM326 794l0 4 4 3 1-5zM359 892l-1 8 6 14 1 16 2 4 7 6 3 14 8 10 1 12 10 9 8 13 17 12 2 8 11 12 3 10 5 6 0 8 2 8 4 1 9-3 9-10 1-2-4-4-1-6 5-10-3-8 4-5 4 1 2 4 1 4-3 8 3 4 5 1 8-5 10 2-1-6-2-4-9-2-6-9-8-4-8-7-10-1-15-11-7-16 2-12-1-10-3-6-8-10-3-12-7-12-22-21-6 3-12 3-10-6zM382 1027l0 5 4 6 1-6zM462 1081l-2 3 3 6 5 5 4 0 1-5-1-6-6-4zM506 1118l-1 8 3 4 6 3 14 0 1-1-13-15-4-1zM664 1419l-5 3-3 4 4 5 4 0 3-3-1-7zM578 1536l-6 3-2 5 7 10 0 6 1 1 4-5 8-4 2-4-2-4zM448 1598l-4 3 0 5 4-3zM396 1622l-2 6 2 6 4 1 5-1 6-4 1-6-4-4-8-1zM360 1631l0 5 4 5 8 5 6-2 0-4-9-8-5-2zM680 1633l-4 1 0 10-2 2-6 0 2 4 11-2 2-10zM290 1637l-4 0-7 5-2 4 1 4 4 1 4-3 4-6zM240 1641l0 5 6 10 4 1 4-1 2-6-4-9-6-1zM1970 1639l-6 3-2 6 0 8 4 4 8-3 3-5-2-8zM1908 1654l1 2 3 1 14-5 6-6 0-4-6-2-8 1zM1496 1644l-2 0-4 2 0 4 4-1zM310 1650l-2 4 2 9 4 5 4 1 3-5-1-7-4-5zM174 1652l-3 6 2 6 13 5 6 5 2 0 1-6-7-6-6-9-4-2zM1749 1658l-2 4 1 8 6 4 4 0 2-2-1-4-7-10zM1998 1659l0 6 4 0 2-3-1-2zM716 1666l-4 2 2 3 3-1 1-2zM80 1671l-4-1-4 2-5 16 1 4 8 0 4-4 3-12zM1952 1674l4 3 8-1-1-4-3-2-4 0zM1530 1671l-8 5-3 6 1 7 6 6 4-1 5-6-1-14zM103 1678l1 10 8 14 2 1 8-4 6-1-8-7-8-13-4-1zM714 1679l-4 5 4 6 2 0 2-6-1-4zM1462 1698l-4 1-3 3-1 4 2 3 4 0 5-5 0-4zM46 1714l0 4 4 0 0-5zM588 1146l2-2 6-1 4 2 1 3-7 3-4-2zM602 1164l0 4-4 4-4 2-3-2-1-4 2-3 6-2zM666 1168l0 4-1 2-5 0 0-5zM652 1187l6 13-3 4-7 3-2-1 2-6-4-8 4-4zM676 1218l2 4-3 12-3 3-2-3 2-10 1-4zM713 1234l3 0 2 1 2 9 12 6 2 4-2 2-6 2-12-4 0-8-2-8zM688 1273l4 8 0 3-4 2-6 0-2-4zM746 1288l2 4-2 4-2 1-2-2 0-4 2-3zM714 1320l2 2-6 9-3-3-1-5 4-3zM1136 1620l3 6-3 3-4 0-2-1 0-4 2-3zM1156 1633l12 9 3 6-1 4-6 6-4 10-4 3-6-5-5-12 7-18zM1356 1632l4 2 3 14-3 2-4 0-2-2-2-6-1-6zM1110 1656l6 1 4 5 0 6-4 6-1 4 13 34 0 3-2 1-10 0-5 2 0 4 7 8-6 12-6-2-3-4 0-16-3-10 2-4 13-6 1-4-1-6-3-3-4-2-22 1-4-2-3-4 2-6 5-5 4 1 10 5 7-1 0-4-4-10 1-2zM992 1666l2 4 0 4-4 1-2-1-1-4 3-4zM1786 1676l6 2 6 10-4 1-6-3-3-6zM930 1676l8 2 6 9 10 5 4 6 2 26-2 5-6 7 1 4 9 10-1 18 1 8-3 6-7 4-5-2-7-11-18-3-8-4 10-14 2-10-9-14-1-18-6-6 2-4 10-7 3-13zM925 1708l0 2 5 3 4-1 1-2-3-5-4 1zM1876 1684l4-2 9 2-2 2-7 2zM1334 1688l2 2-2 4-4 4-2 0-2-4 1-4 3-2zM1178 1692l4-3 4 0 6 3 0 4-4 5-6 0-5-3-1-2zM645 1698l2 2 0 6-3 4-6 1-2-3 1-4 5-6zM1062 1704l4-1 0 5-4 0zM1026 1712l4-3 16 1 6 2 4 4 4 8 1 6-2 6-5 2-4 0-2-3-2-10-18-4-2-3zM1366 1711l10 0 13 9 1 4-4 12 2 12-2 4-2 1-8-3-11-12-4-20 1-4zM1962 1714l3 0 3 2-1 4-3 0-3-4zM1192 1716l14 1 6 7 0 2-14 11-6-2-6-9 1-6zM1150 1718l-4 3-8 0-6 3-3 0 0-2 1-3 8 1 10-4zM574 1723l3 1 1 4-5 10 0 12-12 14 3 4 6 4 0 4-7 6-4 10-7 9-6-1-5-4 0-14-14-22 1-4 10-24 0-10 6-1 12 7 12-5zM557 1742l-3-1-6 5-4 4 1 2 3 0 5-2 4-4zM1914 1722l4 4-2 8-6 7-6 0-3-5 1-8 6-5zM249 1728l5 0 3 2 1 4-1 2-3 2-4-2-2-4zM1218 1728l18 6 2 4-2 1-6-4-10-2-3-3zM1522 1737l4-1 12 2 2 2-3 6-3 3-6 3-7 0-2-2zM1116 1747l4 2 2 3-2 4-4 2-2-2-1-4 1-4zM674 1786l-2 6-4 5-6 2-4-2-1-3 1-2 12-6zM554 1803l6 5 0 6-4 4-8 4-6 10 2 4 7 10-3 10 1 6-9 12-4 11-4 0-14-6-2-5 1-16 6-12 0-12 5-6 1-10-2-12 3-4 4 1 4 3 1 8 5 1 4-4 4-8zM530 1835l-2 7 6 1 2-5-2-2zM924 1828l12-8 20-2 4 2 1 4-1 16 8 6 4 1 12-9 6-2 10 2 1 6-5 8-6 4-6 1-14-6-10 10-4 1-4-6-1-14-5-2-14-1-4-3zM914 1831l1 7-3 6-2-2-1-6 1-3zM983 1874l0 6-11 6-6 12-4 1-4-1-3-4 0-4 5-13 10-1 10-4z"/>
<path fill="#f8f1ed" d="M0 0l2066 0 0 1685-16-5-36 5-3-3 0-6 4-8 0-4-8-10-11-5-4 2-3 3 0 24-3 2-4-2-7-6-3-4 2-4 6-6 3-6-6-18-3-3-8 3-5 4-7 22-11 4-7 5-10-5 0-2 10-9 4-7 0-7-4-5-18-1-14 7-12 0-4-2-4-9-4-1-5 2-3 4 1 10-1 4-8 3-4-1-4-4-1-6 2-12-3-8-4-1-10 0-10-1-20 11-10 2-10 5-2 4 2 12-4 0-6-4-3-10-3-4-4 0-10 7-16 5-3-2 1-11-4 0-5 7-3 14 0 4 6 10 0 6-4 8-3 14-9 3-4 0-4-3-10-22-8-10-4-1-12 2-6-3-2-4-2-24-2-2-4 0-3 4 2 10-11 14-4-1-8-9-6-2-7 4-6 6 0 20 1 4 4 3 0 5-4 16-4 5-4 2-2 0-5-9-17-7-10 2-8 8-4 0-10-5-2-6 4-10 4-16-7-16 1-1 18 6 17 23 5 2 4 0 3-2 1-2-4-8 0-6 4-5 10-7 0-10 3-8-1-3-4 0-14 17-4 2-4 0-24-12-6-10-10-2-10-7-5 1-7 4-14 14-2 0-8-6-4-1-8 2-6 4-6 9 2 12-4 16-6 4-16-2-3-2-1-4 5-8-1-4-11-14-4-8-7-6-4-1-5 7-9 6-1 6 3 5 10 0 2 2 3 9 6 10-1 12-2 4-14 1-8-3-8-13-11-7 0-2 3-6-1-2-7-4-10 0-3-2 1-4 3-6-3-12-14-17-14-9 0-12-10-3-6 3-3 4 1 6 4 8-1 4-9 3-14 1-6 2-2 4-1 18-3 4-8 6-2 4 0 8 10 10 2 6-2 6-11 10 0 4 4 4 11 5 3 3 0 4-5 9-6 5-3-2-5-12-8-6-4-6-10-3-7-5 0-4 6-10-2-6-5-5-4-2-2 1-9 10-7 1-10-5-4-6 0-4 9-8 7-12 12-1 4-3 3-4 2-8 3-4 12-6 8 0 6-3 4-17 10-14 4-1 12 6 4-1 2-2-1-6-2-4-10-10 0-22-15-18-3-6-1-6 3-8 4-6 25-17 4-11 0-8-8-10-18-17-8-5-10-1-19 1-35-7-12 3-12 0-24 17-16 2-10 23 3 14-2 16 1 14-1 4-11 8-9 10-15 12-10 12-4 1-10 0-10 10-12 5-13 10-4 4-3 11-4 1-12-3-6 0-10 8-12 7-9 10-29 8-3 4-3 8-2 2-8-3-16 3-18-2-18 10-10 16-12 10-2 12-6 3-3 5-1 8 6 12-1 6-3 2-10-1-6 1-5 4-4 8 0 4 15 15 1 5-11 6-8 9-14 5-2 10-2 2-14 6-9 6-5 1-22-3-12-3-16 2-14-6-24 5-6-1-12-11-11-14-8-6-3-8 3-14-1-4-8-3-10 7-6-4-3-4 5-9 8 2 10-7-3-8 1-6 6-3 8 0 1-3-1-18-10-8-4 0 1 4-1 3-14-1-2-1-4-15 3-14-1-10 12-6 2 0 6 7 14-1 2-2 1-4-6-14-3-1-6 1-8-7-8-1-4-2-1-4 5-8-1-2-11-1-3-5 5-9 13-5 9-6 3-4 2-8 9-9 5-11 6-4-4-12 1-8 2-4 16-7 14 3 15-4 6-12 0-14 9-6 2-4 1-12 4-14-2-12 4-8 3-14-2-4-7-6-3-11-6-5 1-4 5-6 5-8-1-2-6-4 0-10 2-3 17-1-5-10 5-8 1-4-2-3-8-7-2-8 4-5 10 3 5-4 0-16 11-18 4-24-3-6-5-4-22-6-10-5-5 1-8 10-5-1-3-9-5-6-1-4 3-4 6-1 1-3-11-18-6-6-12-3-9-5-5-10-4-4-12-3-18-9 0-4 6-4 2-4-2-3-10 2-3-3-3-12 3-18-19-26-4-4-16-7-16-3-10-7-6-1-4 1-4 8-8 1-3 2 0 10-4 10 2 4 7 3 3 5-20 12 1 11 5 3 1 3-8 0-8 5 0 4 3 6 3 2 18 1 1 3-1 8 2 4 12 5 8 6 8 10 8 5 4 10 10 1 12 7 1 6-4 12 1 6 8 7 4-1 4-3-1 5 3 6 10 8-1 6 2 8-4 18 7 3 14 0 4 2 0 5-2 4-22 17-2 5 7 32 9 10 10-2 2 2-3 22-3 6-1 18 1 2 8 1 5 3 4 12 6 8-2 6-6 8-5 12-9-2-6-6-5-2-16 13-6 14-10 11-4 10-13 10-7 12-4 1-4-3 1-8-3-3-4-1-3 2-3 16 0 2 8 3 4 5-1 14-8 12-2 8-7 4-6 16 3 12-7 9-4 19 1 16-15 28-8 11-4 2-4-1-4-5 1-9 4-8 3-3 7-3-1-3-7-5-2-4 3-3 6-2 2-3 0-4-2-2-6-3-2-7-2-1-12 0-12 5-12 1-6 3-4 6-2 10-2 4-4 2-14 2-5 4 0 10-5 14-10 3-10 6-10-8-10-5-40-9-14-2-8-7-2-4 2-6 4-3 4 2 6 7 4 1 14-9 16-6 4 0 6 4 4 1 4-2 6-8 10 5 6 11 4 2 3-1-1-10 1-6 5-9 6-4 2-3-5-16-3-20-2-4-4-2-10-2-4 1 1 9-5 28 4 4 14-3 3 3-5 4-14 2-6 8-2 0-3-2-1-4 5-8 0-4-5-6-14-2 0-4 2-8-2-4-6-1-7 3-2 4-1 8-3 4-13 0-6 7-4 1-12-3-5-5 0-6 9-10-10-12-6-2-4 1-2 3 3 14-7 18-2 2-4 0-6-4-5-12-5-3-8 4-16 3-12-3-12 8-10 1-10 5-8-2-6 3-5 8 0 4 21 31 6 5 7 2-4 8-11 8-20-6-4 1-10 7-4 0-2-6 1-18-3-3-10-6-7-11 3-26-4-3-12-1-10-5-4 2-8 7 1 12-7 12 7 10 0 4-5 5-11 1-3 4-1 4 1 3 4 2 12-5 8 2 3 4 1 6-4 12 0 3 14-4 6 2 5 3 2 6-3 6-4 3-8 2-10 0-7-3-3-8-22-26-8-5-15-7-11-20-4-4-12-5-10 7-8-6-6-1-8 10-9 3 3 16 3 10 5 4 10 2 2 2-1 14-3 5-12 5-14 2-2 2-1 6 1 9 2 1 8-4 4 0 9 6 2 4-5 3-8 1-5-2-7-8-10 3-14-2zM514 320l0 8 7-2 0-2-1-3-4-2zM522 346l-3 2 0 4 4 10 5 1 2-2 0-5-4-8zM532 377l-4 0-2 2-4 19-7 20-19 14-15 22-9 8-9 16 0 2 9-3 8 1 4-2 7-12 9-6 7-10 11-8 4-9 6-7 6-22 6-6 2-4-1-4zM462 493l-6 0-7 3-2 4 1 9 2 1 4-2 8-8 2-4zM434 528l-4 0-3 4-1 4 8-4zM422 541l-10 0-10 5-5 16 7 0 15-12 3-6zM356 593l-4 4-6 9-10 5-4 8-10 3-2 12-8 12-1 12-17 61-5 9 0 4 3 12 4 3 12 2 4 5 4-1 3-3-1-4-4-7-1-7 6-12-7-12 13-14-2-10 6-8-3-12 9-10 7-26 8-8 3-12 5-8 0-4zM324 794l0 4 4 4 4 2 0 6 4 3 2-3-6-6 0-8-4-3zM334 823l-2 1-1 4 1 2 4 1 1-5zM337 838l0 4 5 6 4 2 4-2-8-9zM360 890l-3 4 0 6 7 14 1 16 2 4 8 8 1 12 8 10 2 12 10 10 7 12 16 12 3 8 10 12 4 10 5 6 0 10 3 7 4 1 10-4 11-10 1-2-6-6-1-4 5-8-3-10 3-3 2 0 3 3 0 4-2 6 2 6 7 1 10-4 8 4 2-5-4-8-10-4-6-8-8-4-6-6-12-2-15-12-7-14 3-12-1-9-4-9-8-10-3-10-6-12-22-22-19 6zM380 1024l-1 4 7 14 2-3 0-7-4-6zM461 1080l-2 4 2 4 6 8 5 0 3-4 1-9-12-4zM504 1117l0 9 4 5 20 4 4-1-2-5-8-6-6-8-4-1zM666 1417l-4 1-6 6 0 4 4 4 4 0 3-2 0-10zM580 1532l-8 5-4 7 7 10-1 6 2 4 4-2 4-6 8-4 2-4-2-4-7-4-3-7zM1464 1557l-2 3 2 12 6 6 4 2 2-2 0-4-7-14zM144 1580l-6-1-5 3-7 14 0 4 12-1 6-3 3-8zM1364 1584l-5 0-1 2 0 3 5-1zM544 1591l-4-1-8 2-5 6-1 6 6 3 6-2 6-8zM1728 1598l1 4 3 2 6 2 4-2 0-4-2-3-8-1zM1764 1599l-4 2-7 9 0 4 1 2 4 1 6-1 6-4 0-6zM1907 1606l-2 4 2 4 3 2 4 0 2-4-2-4-4-3zM1436 1609l-6 0-7 5 0 6 5 6 2 0 7-10 1-4zM98 1620l0 4 4 2 8 0 5-4-2-6-5-3-6 2zM1586 1618l5 0 3-4-2-1-4 1zM694 1662l2 4 5 0-1-4-4-2zM716 1664l-7 4 2 8-3 8 4 8 4 2 4-6-1-14 1-6-2-4zM600 1165l1 3-5 4-3 0-1-4 4-3zM648 1190l3 0 5 8 0 3-4 3-2-2-1-6-2-4zM717 1246l1-1 10 4 4 3 0 2-2 2-4 1-8-3-2-3zM688 1278l2 4-1 2-6 0-1-2 1-2zM284 1616l3 8-5 5-2-1 0-6 2-6zM672 1636l2 4 0 2-2 1-2-3zM1818 1638l4 0 3 2 0 10 3 10-1 8-5 6-4-1-19-15-2-4 15-14zM64 1644l3 6 0 6-6 18-3 2-3-8 0-8 5-12zM1508 1650l2 1 1 3 0 10-5 2-7-2-2-2 0-4 5-5zM272 1657l1 3-1 2-4 2-5 0 3-8 2-1zM330 1657l6 5 2 4-2 6-4 3-3-1-2-4 1-11zM1938 1677l3 3 0 4-3 4-4 2-3-2 0-4 3-5zM1748 1682l6 3 4 5 0 6-4 5-4 0-4-15 0-3zM90 1685l2 0 3 3 2 14 5 10 12 7 10-3 2 2 4 8-1 4-4 6-7 5-4 1-3-2-1-10-2-3-16-1-1-2-4-30 1-6zM1508 1688l2 6-2 3-16 2-3-3 2-4 9-6 4-1zM342 1687l3 3-3 14 4 10 0 4-4 2-12 0-7-4-3-4 0-18 18-7zM376 1692l4 1 3 3 0 6-3 2-4-1-3-5 0-4zM644 1700l1 4-1 4-3 2-3 0-1-4 1-3 4-3zM1652 1701l2-1 4 2 2 4 0 6-4-1-3-3-2-4zM1992 1711l4 3 0 6-5-4-1-4zM1570 1722l2-7 4-2 16-1 9 4 1 2-4 6-18 6-6-2zM925 1722l7-2 8 4 1 6-3 6-4 1-7-5-3-6zM574 1724l3 4-5 10 0 12-10 10-2 4 7 8 1 4-6 4-3 10-3 4-6 5-4-1-4-4 0-12-9-16-1-6 3-10 1-8 4-8 1-8 1-2 4 0 10 5 12-5zM558 1740l-4 0-10 6-4 4 1 4 5 2 6-3 6-7zM2032 1737l4 1 2 2-2 3-2 1-3-2zM956 1750l0 4-1 4-7 6-16 3-6-1-2-2 0-4 3-6 11-13 12 4zM668 1791l-4 5-4 0 0-2 3-2zM558 1808l2 4-2 4-11 4-7 14-2 1-7-5-1-8 2-8 14 3 6-10 2-2zM532 1806l2 2-2 6-3-6zM940 1828l4-1 4 1-4 2-3 0zM542 1838l6 4 2 4-3 10 1 6-9 12-3 8-4 2-14-8 0-16 8-13 10-3 4-6z"/>
<path fill="#f9eee7" d="M0 0l2066 0 0 1531-4 0-8-5-2 1-1 3 1 5 2 1 12 0 0 139-29-3 1-3 7-7 2-4-3-3-13-5-2-2 0-4 5-7 8 0 4-3 0-4-2-1-4-1-8 4-12 2-8 10-4 1-8-7-12 1-2-3 0-12-4-6-4-2-7 8-15 12-3 4-3 10-2 1-1-15-10-18 0-4 4-8-1-6-4-3-2 1-4 9-2 1-12-14-12-4-4 2-6 10 0 6 2 10-2 3-8-5-4 0-10 7-4 1-7-10-9-6-8-8-6-3-2 1-8 10-10 7-4 1-10-3-4 1-10 9-4 1-4 0-4-4 0-8-4-14 7-24-1-5-4 2-5 9-7 6-8 1-12-4-7 5-11 3-3 3-9 20-1 6 1 4 7 8 2 4 0 22 1 10-2 4-6 3-6-2-7-9-1-6 3-10-9-8-1-8-3-3-6-4-10 0-18-3-4-4-3-8-3-3-8 0-3 3 3 18 9 10 0 4-3 3-4-1-14-10-15-22-12-8-11-11-16-6-2 1-1 16-13 16-6 1-10-11-8 3-4-1-8-6-2-6 0-14 10-8 0-4-4-4-6 1-22 14-6 15 5 20 0 4-2 2-7 2-8 0-8-6-6-1-8 2-6 9-4 0-4-2-2-4 12-28 0-4-4-8 0-4 4-3 6 2 10 10 2 0 11-7 4-6-1-6-8-16-8-7-6-1-6 1-5 5-5 12-8 0-4 3-5 7-1 10-2 4-6-4-4-10-4-1-5 3 3 12-4 10-1 8 7 22-10 12-6 0-10-4-5-10 0-6 8-8 0-4-5-2-12 3-5-3-3-4 1-4 10-10-1-10-2-4-4-3-6 1-20 8-16-4-13-12 1-20-14-11-7-11 0-10 4-8 7-5 18-9 4-4 4-16-2-8-32-30-10-2-22 1-36-10-12 5-14 0-24 17-12-2-5 3-12 28 5 16-4 28-13 10-7 10-20 18-12 2-7 4-11 10-26 18-6 9-18-1-10 10-14 6-8 7-15 7-13 3-8 6-18 8-8 1-12-5-6 1-21 14-5 12-3 4-15 2-14 6-2 4 6 12-1 14 2 12-16 6-8 10-7 6-1 4 4 12 8 6 1 4-2 4-4 3-10-3-9 4-3 4 2 10-2 4-20 11-20-1-12-3-16 2-16-6-24 4-4 0-10-9-10-14-10-5-2-2-1-9 5-14 0-2-6-3-10-2-8 8-4-1-4-4 4-8 10 4 6-5 13-3 2-2-1-2-12-2-3-6 5-5 10 1 3-4 0-20-11-10-4-2-12 8-4 0-1-2-4-14 3-10 0-10 2-3 8-3 6 6 18 0 2-2 1-6-3-10-4-5-10-2-8-5-10-2-1-4 4-6 0-4-3-2-10 0-2-2 0-4 6-8 18-6 7-8 3-10 7-6 4-10 9-6-7-12 3-10 16-8 16 3 14-5 6-12 0-14 8-5 3-5 1-12 4-14-2-12 4-8 2-14-1-4-7-6-2-10-7-6 0-2 12-18 0-2-6-2-2-2 2-8 11-1 6 1 3-2-7-12 4-8 1-6-11-9-1-7 3-4 10 3 6-3 1-4 0-12 11-20 4-26-4-6-7-4-19-5-12-5-6 1-8 10-4-1-2-7-5-7-1-4 2-2 8-2 1-4-13-20-6-5-12-2-8-5-3-4-3-8-6-5-10-1-17-8 1-4 6-5 0-5-2-2-10 2-2-2-4-12 3-14 0-6-18-24-5-4-17-8-15-3-10-6-6-2-4 1-6 9-11 1 1 12-7 6 4 8 8 4 2 4-11 8-11 2 3 12-1 4-3 3-4 2-4 0-6-9-6-3-8-10-15 3 2 10 2 4 5 3 24 5 8 10 4 3 16 1 2 2-1 6 2 6 3 3 10 3 8 6 8 10 6 4 5 10 11 2 11 6 1 6-4 12 1 6 7 7 8 2 4 6 7 7 1 6 2 8-4 19 8 3 14-1 4 3-2 8-22 16-3 4 7 34 5 6 3 7 2 1 8-3 1 3-2 18-3 6 1 8-2 10-13 10-1 6 5 5 6-1 2-2 2-13 10-1 6 4 2 9 6 7 0 4-8 12-4 9-2 1-6-2-8-6-7 0-6 8-9 6-4 11-10 10-4 11-12 10-9 12-3 1-2-1 0-8-3-4-3-2-4 1-2 3-4 15-10 5-7 8-1 6 7 8-1 8 2 3 6-1 4-6 4-3 5-1 0 2-7 14-8 6-5 14 3 14-7 8 0 8-4 12 1 12-1 6-13 24-8 9-8 0-1-7 4-10 9-4 1-2-5-10 5-8 1-6-6-19-2-2-7-1 7-5 6-9 1-10-2-4-19-4-6 9-12 3-3 4-2 8 2 4 6 6 0 2-5 3-14 4-20 18-12 3-3-2 1-4 11-4 2-6-3-12-8-18-2-18-4-4-18-10-4 1-6 9-2 6 2 10-4 4-4-1-6-7-8-4-6-1-14 3-7-10-3-2-18 3-20-3-12-8-8 4-3 10 3 9 11 3 1 4-2 3-4 0-8-8-22 2-26 0-26-4-5 3-7 16-8 7-6 3-2-2-6-20-12-4-7-10-1-13-16 2-10-6-14 0-18 9-8 13-8 7-4 8-14 7-12 13-10 1-10 7-4 0-10-4-2-4-2-9-2-2-4 0-6 3-1 2 9 10 0 4-2 5-4 1-22-2-4 2-6 7-4 1 0-23 11-3 3-2 1-2-7-8-8-3 0-26 6-1 8-4 4-4 0-2-12-11-6-2zM516 318l-2 1-1 3 0 8 1 2 8-6 0-2-2-4zM522 344l-4 4 0 4 4 10 6 3 3-3-1-7-4-9zM533 376l-5-1-3 3-3 20-7 20-19 13-16 23-8 8-11 16 1 4 10-4 8 0 4-1 7-13 9-6 7-10 11-8 4-8 7-8 6-22 6-6 1-4zM464 493l-2-1-4 0-10 4-2 6 2 9 6-2 9-9 2-4zM436 528l-2-1-4 0-10 12-10 2-8 5-5 12-7 6-6 8-9 0-9 3-1 3 13 1 13-7 7-7 9-3 12-12 9-12 7-6zM356 592l-12 14-8 4-5 8-8 2-2 2-2 12-8 12-1 14-16 57-6 11 0 4 4 13 14 4 6 6 6-1 2-6-7-14 1-4 6-8 0-4-5-6-2-4 13-14-1-10 4-8-2-12 9-10 7-26 8-8 2-10 6-10 0-6zM324 792l-1 2 0 4 7 8 4 9 2 0 3-3 0-4-5-6-3-8zM334 821l-3 3-2 4 5 6 2 8 7 8 3 1 4-1 2-2-1-2-12-12 0-8-3-4zM358 890l-2 10 7 14 1 16 2 4 8 8 2 12 8 12 2 12 10 8 6 12 16 12 4 10 10 12 8 14 1 14 3 5 4 0 10-4 15-13-8-8 0-4 3-3 8 5 6 0 8-4 6 5 3-1 2-6-5-9-9-3-6-8-9-6-6-6-12-1-14-13-7-12 3-14-1-8-4-8-8-10-6-18-3-5-22-22-4 0-16 6-10-5zM364 997l0 3 8 6 1-2-3-4zM378 1022l-1 6 9 18 2-2 1-12-5-7zM486 1045l-8 3-1 2 5 3 2 0 2-3zM450 1078l0 4 6 2 12 13 6-1 6-12-3-4-5 1-10-3-6 4zM1890 1545l-4 5 2 14-6 14 4 5 14 4 2-7-2-16 5-12-5-5zM1628 1554l1 4 7 10 4 2 2-6-1-4-8-6zM1970 1554l-5 2-5 8 4 17 4-2 8-13-1-6zM1866 1558l-6 2-3 6 1 6 4 2 4 0 4-2 3-6-1-6zM501 1562l1 6 4 4 12 4 4-2-3-6-5-5-10-2zM668 1596l-3 8 3 1 2-1 1-4-1-3zM691 1658l0 4 5 6 10 1 3 5-2 8 1 7 4 7 6 1 2-3 2-10 0-16-2-4-4-2-10 3-6-6-6-2zM694 1744l4 5 5-1-1-4-3-2-3 0zM718 1250l2-2 6 1 4 3 0 2-2 2-4-1zM586 1533l4-1 6 4 1 4-1 4-9-4-2-4zM164 1589l4 1 0 6-5-4zM1304 1595l5 3 4 8-4 6-7 2-4-2-1-6 3-7zM1725 1612l5-1 6 3 2 2-1 4-5 3-4 0-4-5zM1603 1624l2 4-5 6-6 2-4-2 0-4 6-6 4-1zM130 1626l4 2 1 2-1 4-4 2-4-2 0-2 1-4zM206 1625l2 3 0 14-6 9-6 1-4-2-2-4 1-12 5-6zM1762 1626l-1 4-3 2-2 0-2-2 2-4zM1292 1628l4 2 1 6-1 6-4 2-4-2-3-6 2-6zM1476 1631l2 3-2 6-10 10-6 0-2-4 3-8 9-6zM100 1634l10-2 6 4 1 10 8 8 0 4-3 6-6 1-9-5-10-18 0-4zM1688 1646l3 4-2 4-3 2-5 0-1-2 1-4 3-3zM224 1651l6 4 7 11 0 6-3 3-8-1-8-6 4-8 1-8zM1812 1653l4-1 2 6-4 0-2-2zM12 1653l6 2 6 5 5 8 2 6-3 5-10 8-8 13-4 3-6 2 0-52zM1266 1656l4-1 7 3 2 4-1 5-6 2-5-1-2-4zM388 1664l4-3 6 1 0 2-4 2-4 0zM411 1664l3-2 4 1 0 5-2 1-4 0-2-3zM1238 1667l2 1 1 4-2 2-3 0-3-2 1-2zM434 1676l4-2 3 2 0 2-2 2-3 0zM31 1694l3-5 6-3 6 1 4 5-3 6-9 4-6-2zM642 1702l1 2-1 4-4 0 1-4zM0 1711l8-1 6 2 2 4-1 6-5 2-10-3zM572 1724l4 4-5 10 1 12-14 12 1 4 6 8-5 6-1 8-2 4-5 4-4 1-4-3-1-12-7-16-1-6 3-3 8 3 10-10 4-8-1-2-3-2-8 3-6 0 0-13 4-2 10 4 12-6zM556 1807l2 3 0 4-4 3-4 0-1-3 2-4 3-3zM536 1817l8 3-1 4-5 7-4-1-3-4 1-6zM544 1841l4 2 1 3-4 10 2 6-13 21-2 0-13-7 0-16 9-12 8-2z"/>
<path fill="#faeae1" d="M0 0l2066 0 0 1523-12-4-8 3-2 4-2 18 2 8 4 3 4-1 7-8 7-1 0 40-8 0-10-3-4 1-1 3 1 5 4 4 18 0 0 19-6-1-10-7-3 10-3 3-8 1-10 5-14 3-7-2 0-2 8-4 4-14 9-10 0-4-5-6-5 0-4 4-2 8-4 4-14 4-5-2-3-4 1-12-3-10 4-12 0-4-12-14-4-2-8 4-14 13-2 5 0 8 8 11 4 2 8 1 4 4-1 4-9 10 6 8 0 4-6 6-6 0-4-3-3-5 3-14-10-22-4-1-12 2-6-3-2-2 6-8 0-4-12-18-8-7-20-7-8-10-4-1-5 3-1 6 3 4 10 4 1 4-1 4-3 3-8 1-8 3-10 9-1 4 3 6 11 10-3 16-4-1-20-18-8-2-6 3-3 4 7 12 0 4-2 3-6 2-12-1-14 5-4-2-4-7 3-18 4-10 12-8 2-8-3-4-26 8-4 4-4 12-6 4-6-2-8-5-8-1-6-2-3 8-17 20-8 17-4 2-4-1-2-2-2-9-4-2-8 11-6 1-4-1-3-4 0-10 7-6 10-2 16-7-2-11 0-12-6-4-10-2-5-10-5-3-4 1-5 8 1 4 5 6 0 4-13 16-4 1-2-3 0-12 3-12-15-15-18-10-6 17 3 16-5 9-1 7 3 7 12 1 3 2-11 11-8-3-10-9-1-5 1-14-3-6-13-9-11-9-5-1-3 1 0 2 4 12-1 6-12 6-3 4 0 2 9 7 4 9-2 7-8 8-2 0-5-15-1-14-8-7-8-11-8 0-20 9-6 1-4-4-5-14-3-4-20-10-16 3-2-2 1-9-3-3-10 7-12 3-6 7-6 2-2 4 2 8-1 4-19 13-21-17-2-8 4-10-1-6-6-4-10-2-10-6-4 0-3 2-2 6 1 4 5 8 0 8 10 8 2 4-7 8-4 1-8-1-8-4-8-8 1-4 3-4 4 0 6 6 5-4-8-14-7-4-14-1-6-3-7-8-1-8 2-8 6-6 8-4 12-2 5-4 8-24-2-6-21-18-10-13-4-3-30 0-10-5-14-1-12-6-14-3-4 6-14 1-20 16-16 0-7 4-5 10-2 10-5 12 6 16-3 22-5 6-12 6-5 9-7 3-2 8-5 6-4 2-12 2-14 8-18 17-12 6-8 8-17 1-11 11-12 4-22 13-16 5-22 14-8 1-10-6-8 0-28 18-6 13-24 6-8 5-4 4 1 4 8 8 1 4-2 16-2 3-10 6-8 9-9 6-1 4 2 12-1 8-4 6-9 8-6 14-4 4-24 7-12-2-18 2-12-7-28 2-4-1-6-5-12-17-10-1-2-4 0-8 5-8 2-10 4-8 7-6 6 1 2-3-2-2-6 2-9-4 0-16 2-12-17-14-16 8-2-2-4-12 4-20 4-3 4-1 6 6 8 0 10 3 8 10 10 2 2 2-1 11 3 10 4 5 6 1 3-2 3-14-1-18-5-5-10 2-8-6-7-3-1-2-1-8-5-12-4-3-10-2-8-4-8-1-2-4 5-8-1-4-4-2-8 2-3-2 0-4 5-7 18-4 10-13 1-6 7-8 4-10 10-6-8-10 0-6 2-5 16-8 16 3 14-5 3-3 4-10 0-14 7-5 4-5 5-26-2-12 6-22-1-4-8-7-2-11-6-6 14-20 1-4-1-4 2-2 8 0 3-4-7-12 4-10 0-8-10-4-3-4 0-4 5-3 10 5 6-6 2-14 10-24 4-24-4-6-8-5-20-5-12-4-6 0-6 9-4 1-3-8-6-8 1-3 8-1 2-2-1-6-4-8-12-14-5-2-10-2-8-5-5-11-7-6-10-1-6-5-9-2-1-2 7-6 0-6-3-3-8 2-4-2-3-13 3-12-1-6-17-24-6-5-16-7-16-3-10-6-6-2-5 1-5 8-12-1-7 5 1 2 4 0 2 1 1 5-3 4-6-1-1 5 8 10 7 4-1 4-5 4-6 1-8-2-2-7-2-1-5 3 5 6-1 6 5 2 2 4 0 6-4 5-6-1-5-8-7-2-6-11-18 3-1 2 3 10 2 4 8 4 20 4 14 13 15 3 1 8 4 6 10 4 9 6 9 11 6 4 4 10 12 2 10 5 2 6-5 12 1 6 8 7 8 4 9 11 4 12 0 6-4 12 0 4 9 3 14-1 3 4-3 7-9 5-7 7-5 3-2 4 5 34 6 7 2 7 4 2 6-1 2 3-1 12-4 8 1 8-1 8-15 12 0 6 4 5 8 1 2-2 1-10 2-4 9-1 5 3 3 10 5 6 1 4-14 20-4-1-12-7-6 2-6 8-8 4-5 12-8 6-7 16-20 20-2 0-1-6-3-6-4-2-4 1-3 3-3 12-2 4-10 5-9 9 0 6 9 8-1 8 2 4 7 0 3-2 3-7 4-1 1 2-7 12-7 6-6 14 4 14-3 3-6 3 2 8-3 12 0 18-17 29-6 2-3-1-1-4 2-6 10-5 1-3-4-10 4-8 1-14-2-10 6-6 2-4-6-10-1-14-3-3-19-11-10-18-5-14-4-2-10 1-8-4-6 1-3 4-1 4 8 10 7 20 9 12-6 12-12 4-10 11-6-3-6-9-1-7 1-15-14-7-6-9-14-5-2-4 6-8 0-2-8-4-6 3 0 9-2 6 0 4 5 8-1 4-4 6-4 2-14-6-9-6-13-3-6-1-6 4-4 0-1-4 2-10-21-9-4 1-8 8-14 8-11 24-5 2-6 0-7-4-3-10 1-4 9-8 0-5-4-3-10-3-8-9-4-1-2 5 4 10 7 10 0 4-13 14-12 4-13-4-11-14-4-2-7 2-1 4 1 8 4 10-3 6-20-12-1-6 6-12-5-6-8-2-14 3-14-7-18 5-12 7-12 0-2 2-2 10-12 3-4 5 0 8-3 2-7 2-4 0-8-5-12-2-8-11-10 1-8-2-8 6-8-1-3-4 3-5 4-1 12 4 6-8-1-6-9-7-16 1-12-8-10-1zM516 317l-2 1-2 4-1 10 3 2 9-8-1-5zM522 342l-4 4-1 6 5 11 6 3 4-4-1-6-5-12zM534 375l-6-1-4 4-3 20-6 18-3 4-16 10-16 23-8 8-10 15-2 6 2 2 10-5 8 0 4-2 8-13 8-5 8-11 10-7 5-9 5-6 7-22 8-12zM464 491l-4-1-13 6-2 8 1 6 2 2 6-2 10-10 2-4zM437 528l-3-2-4 0-4 4-6 8-17 6-3 4-3 8-7 6-6 8-20 4-1 6 1 1 14-1 12-6 8-8 10-4 28-30zM358 589l-4 2-12 15-6 3-6 8-8 2-2 3-2 12-7 12-2 16-15 54-7 12 4 18 3 2 11 2 7 6 8-2 2-4-1-6-5-4-2-6 1-4 6-8 0-4-5-6-2-4 13-14-1-10 4-8-3-8 1-4 8-10 8-26 8-8 2-10 6-10zM322 792l0 6 6 8 6 12-5 8-1 4 5 6 1 6 7 8 5 2 4-1 3-3-1-2-11-12-1-8-4-8 4-6 0-5-5-5-3-8-4-2zM358 889l-2 4 0 7 7 14 1 16 2 4 7 8 2 12 9 12 1 12 10 8 7 13 14 11 4 8 18 28 4 18 4 3 14-5 7-8 5-3 4 0 6 4 2 0 6-11-1-2-13 5-8-4-2-5 2-2 6 3 8 0 8-2 4 4 4 0 3-5-1-8-4-6-8-2-6-8-10-7-6-7-12 0-12-12-1-6-6-6 2-14-2-8-3-8-9-10-7-22-24-23-6-1-14 6-10-5zM361 996l1 4 10 8 3 0-1-6-4-4-6-4zM378 1019l-2 3 0 5 8 19 4 5 2-19-4-6zM392 1062l0 7 2 2 4 0 2-3 0-4-4-3zM524 1062l-4 4 0 3 4-1 2-2 0-3zM448 1077l0 5 10 6 9 10 3 0 5-2 6-8 0-4-3-5-8 0-8-3-6 3-6-4zM1326 1406l1 10 3 4 4 0 8-1 10-6 8 6 6 1 4-4 2-6-2-3-4-1-8 2-6 3-2 0-8-11-4-2-8 2zM540 1467l2 5 5 0 1-2-2-3-4-1zM1914 1501l-6 1-5 4-1 6 2 4 4 1 6-6 2-5zM336 1508l-1 4 3 2 4 0 3-4-1-4-2-1-4 0zM1730 1512l-2 1 0 5 2 2 4 1 2-3zM468 1520l-4 0-2 1-1 5 3 1 4-2 1-3zM116 1523l-3 5 1 4 6 3 5-1 3-6-1-4-5-3zM358 1523l-2 1-2 4 1 4 3 1 4-5-1-4zM328 1537l-6 1 0 4 2 2 5-2 1-4zM2006 1547l-2 0-3 3-1 12 4-2 4-8zM1822 1551l-4 0-2 3 2 1 4-1zM559 1590l3 3 5-3 0-2-3-1-4 1zM668 1591l-5 13 1 2 4 1 3-1 1-6zM722 1719l-2 0-4 5 0 4 2 2 3 0 3-4zM691 1742l1 4 8 5 4 0 3-3-2-4-7-5-4 0zM762 1362l-5 4-3 0 0-4 1-2zM588 1534l6 1 2 5-2 2-5-2-2-2zM0 1587l2 1 2 4-2 4-2 0zM1876 1588l8 0 6 4-1 8-5 5-6 0-5-5 0-8zM1532 1589l4 1 1 2 0 4-3 3-3-1-2-2 0-4zM62 1601l4 2 4 11-6 10-4 2-6-4-1-14 3-5zM1460 1608l2 1 0 3-4 1-1-3zM1482 1609l2 0 3 3 1 4-2 3-4-1-2-2 0-4zM0 1686l4 1 2 3-2 4-4 2zM669 1722l1-3 4-1 8 4-1 2-9 2-2 0zM572 1725l2 3-4 10 1 12-17 13-2-5 8-12 1-6-5-3-6 2-4-1-2-4 0-5 2-1 10 3 10-5zM654 1740l4 4-2 4-2 1-4-3 0-2 2-4zM556 1764l5 6 1 4-4 6 0 10-6 5-4 0-4-3 0-10-3-10 13-8zM556 1809l1 5-5 2-1-2 1-3zM536 1819l4 1 2 2-4 7-2 0-3-3 0-4zM546 1843l2 5-5 8 1 8-9 16-3 2-9-4-3-6 2-14 8-9 12-5z"/>
<path fill="#fae7dc" d="M0 0l2066 0 0 1517-14-4-14 7-1 16-7 10-5 14-5 7-4 2-2-1-1-4 3-28-2-6-4-4-6 1-10 17-4 3-4 0-4-5-1-6 1-4 6-6 1-4-7-8-2-9-6-2-4 2-2 5 2 16-4 12-4 4-9 6-12 12-4 6-3 1-6-6-8-16-6-3-4-4 1-4 5-3 6 13 10-1 4-5-1-4-4-4-13-2 3-22 0-6-3-6-6-1-8 5-9 8-2 4-2 10-3 3-6 0-10-6-4 0-4 2-9 13-1 4 3 8-1 2-12 5-5 9-3 11-2 1-10-2-8 4-3-2 0-4 11-3 5-7 2-8-1-4-4-4-13-2 4-8-1-4-4-4-4 1-5 9-11 10-2 0-8-5-16 2-14-8-6 0-2 3-1 6 1 18 0 2-4 1-16-6-10-11-4 1-8 8-6-1-8-5-18-16-6 1-8 6-2-2 0-6-4-5-4-1-8 4-6-1-9-7-7-12-4-1-3 1-8 16-1 10-4 4-8 1-10-4-12 2-12-3-1 6 7 16-1 4-3 2-8 2-4-2-5-6-3-11-4-3-5 2-2 8-4 4-8 4-7 1-2-1 0-8-5-12-3-27-4-2-34-8-6 2-19 23-21 4-9 14-1 15-8 4-6 1-8-5-2-7 6-12 8-8 1-2-3-3-10 1-20-4-14-10-4-1-8 2-9 9-13 5-6-1-6-6-2-10 4-8 10-5 14 0 8-6 2-4 1-13 4-12-1-6-4-5-20-14-9-15-7-2-27 0-3-2-1-4-1-10-4-3-2 1-5 8-9 3-32-15-12-1-12-4-10 0-6 3-1 4 1 6 8 8-1 4-3 4-6 4-20 3-4 2-2 5-2 8 1 10-5 14 8 18-4 18-4 4-10 4-10 7-11 5-1 4 3 8-2 4-25 9-12-6-4 3 2 10-5 8-6 6-17 11-14 2-8 3-10 8-18 9-10 3-6 6-15 4-9 9-10 5-4 0-2-2-2-8-2-2-12 5-36 22-4 5-2 6-4 4-18 3-12 7-12 1-3 5 3 9 10 1 6 3 3 5 0 4-15 15-7 5-7 10-2 6 3 12-1 4-22 32-20 5-12 0-12 2-4 0-10-7-14 2-20-2-5-4-11-18-8 0-4-4 6-13 4 0 10 8 8-7 0-4-12-10 9-6 3-4-6-5-10-1-3-2-2-12 4-10-2-4-9-6-8-7-4 0-14 7-4-6-1-6 4-18 5-4 6 6 9 0 5 4 6 1 10 9 7 2 1 2-1 8 4 14 3 3 12 2 1 1 0 8-5 4-7 10 5 6 4 1 5-5 2-10 7-8 2-6-2-3-8-1-1-2 2-18-2-12-5-8-12 1-11-9-1-2 1-6-9-14-6-3-10-1-8-5-7-1-1-2 6-10 8 0 3-2 1-8-4-8-1-4 10-10 1-6 8-17 10-5 2-2 0-2-6-3-3-5-1-4 2-6 16-9 4 0 10 4 8-2 8-3 4-4 3-8 0-12 1-4 8-6 3-4 5-24-1-14 5-22-2-6-8-6-1-10-6-6 13-17 4-9 8-3 3-3-7-12 0-4 4-14 4-6 4-14 2-12 8-19 6-29-3-6-11-6-20-5-12-4-8 1-5 8-3 1-2-7-6-8 2-2 8-1 1-3-1-7-5-9-13-14-12-2-8-4-3-4-3-8-8-8-10 0-6-6-7-2 5-6 0-6-4-4-8 2-3-2-3-12 3-12-1-6-19-26-23-11-14-3-16-8-6 2-4 7-4 0-8-3-8 6-3 18 8 10 7 4 1 2-3 4-6 2-7-2-4-8-9-1-1-1-2-6-3-3-3 1-1 2 1 8-7 2-4 8-6 2-8 0-3 2 0 2 6 14 7 4 22 6 12 11 16 5 2 8 3 4 11 4 8 6 10 12 6 4 4 10 12 2 10 5 1 7-4 8 0 6 5 7 12 7 7 8 6 14-1 8-4 10 0 4 6 3 18 0 2 3-2 6-10 6-6 7-6 2-2 5 5 34 6 8 3 8 9 2 1 4-1 8-3 6 1 10-1 6-14 12-2 6 6 8 4 1 7-1 1-2 0-8 1-4 3-3 6 0 4 3 3 10 5 6 1 4-13 17-4-1-8-4-6-1-4 2-8 9-6 2-6 14-8 4-9 18-15 16-2 0-4-8 2-6-4-3-4-1-8 8-4 16-22 11-4 3-1 4 7 10 7 4 0 10 9 6-6 16-2 1-6-3-8 1-8-13-3-8-3-2-6 0 5-8-1-8-6-5-8-3-8-9-10-4-12-9-12-1-14-4-6 1-9 4-4 4-6 10-7 3-16-3-12-6-4 4-18-5-6 1-2 6 5 8 7 2 12-3 8 9 1 6-1 13-4 2-26-10-13-13-3-6 4-10-1-4-12-14-5-8-14-6-6 4-6 12 4 6 14 5 1 3-2 4-3 1-10-2-18 2-16-5-2 4 0 14-4 3-6-1-10-12-4 0-4 1-4 5 0 6 9 22-7 8-10 6-6 0-4-2-10-20-4-4-20 0-4-4-4-8-4 0-8 6-6 1-32-5-3-4-7-20-4-8 1-6-3-3-4 1-4 4-14 6-6 5-2 13 7 18-2 6-5 3-12 0-4-1-8-16-2-15-4-5-4 4-1 10-4 12 5 14-6 3-8 0-18-15-16 0-4-7-20 2zM516 316l-4 3-2 11 1 4 3 1 4-1 6-8-2-6zM522 340l-6 8 0 4 6 12 4 3 4 0 3-5-2-10-5-10zM534 374l-6-2-4 4-3 22-7 19-18 12-16 24-8 7-12 18 0 10-14 8-2 4 2 12 2 1 6-2 12-13 1-4-4-6 2-4 7-4 8 0 4-2 8-13 8-5 8-12 10-6 5-10 6-6 5-14 1-8 8-12zM437 526l-7 0-11 12-16 6-4 4-3 8-6 4-6 8-20 4-2 4 0 8 16-2 13-8 7-7 10-5 29-30 1-4zM360 587l-2 0-22 20-6 9-10 4-2 12-8 14-2 14-6 27-9 29-5 8-2 6 4 17 4 2 10 2 6 6 8-1 4-4 0-8-6-6-2-4 1-4 7-10 0-4-6-6 0-2 12-14-1-10 4-8-3-10 9-12 6-24 8-8 3-12 7-10zM320 790l1 8 7 10 4 10-5 10 0 4 13 18 4 3 6-1 3-2 0-4-5-6-5-8-4-12 2-8 0-6-5-5-4-8zM358 888l-2 4-1 8 7 14 1 16 2 4 8 8 2 12 9 12 1 12 9 8 8 14 13 10 23 38 4 17 6 4 6-4 8-1 4-8 6-4 4 0 6 4 2 0 8-12 8-4 3-6-2-6-4-6-9-3-6-8-10-7-6-8-8 1-5-1-8-12-1-5-8-5 0-4 2-8-1-8-5-11-8-9-7-22-25-24-12 0-8 5zM336 944l-1 4 2 4 3 3 2-1 0-4zM360 994l-1 2 1 4 16 14-2 10 10 26 6 7 1-21-1-6-13-16 0-10-2-4-9-6zM390 1058l0 10 4 5 4 0 5-5 0-4-11-7zM526 1060l-7 4-2 4 1 4 4-1 4-3 2-4zM476 1066l2 4 4-2 2-2-2-3-2-1zM448 1074l-1 8 11 8 7 8 7 1 10-8 1-7-5-7-8 1-8-4-6 2-6-3zM516 1074l-4 1-2 3 0 4 2 2 3 0 2-2zM1298 1394l5 8 13 4 2 4-1 12 1 4 12 9 6 3 6-2 10-11 12 3 6-2 5-6 9-20-1-4-3-1-12 4-12 2-5-1-9-7-18 3-22-3zM532 1464l1 6 7 8 8 0 5-4 1-8-3-4-11-2-4 0zM1738 1484l-22 13-3 5 1 8 9 12 4 4 5 2 10-1 3-3 1-4-1-4-5-8 0-23zM1999 1486l-3 10 1 6 3 1 12-1 6 1 1-1-1-6-8-10-6-2zM188 1497l-2 3 0 4 6 8 4 2 2-5 0-9-4-3zM2020 1507l1 5 3 0 0-4-2-2zM1846 1511l-4 1-4 4-4 10 1 8 5 4 4-2 3-4 2-18zM180 1518l-4-1-3 3-3 6 1 4 3 1 2-2 4-7zM793 1694l1 4 2 2 3 0 2-2-1-4-2-1zM834 1696l-4-1-6 2-3 3-1 4 4 1 7-5zM470 1042l2-2 10 2-6 3zM522 1110l6-1 6 2 0 3-3 6-3 1-4-1-3-6zM540 1119l4 2 1 5-3 5-4 1-4-4-1-4 3-4zM762 1313l7 3 1 4-1 2-3 1-4-2-2-5zM1457 1520l5-1 4 1 2 4-1 4-3 1-4-1-3-4zM1482 1538l4-1 4 3-4 2zM310 1544l3 2 1 4-2 3-4 2-4-3 0-4zM2056 1566l-1 6-3 2-11-2-3-4 4-3 10-1zM306 1566l2 6-4 8-4 2-4-2-3-4 1-4 6-5zM1714 1567l4 1 2 8-4 7-4 2-6-4-1-7 3-5zM486 1578l2 4-2 6-8 9-4 1-2-1-2-5 1-6 5-4zM2002 1577l3 3-5 14-4 1-2-3-1-12 3-3zM1794 1583l2 1 3 6 0 4-3 3-2-1-2-8zM665 1592l-1 6-4 6-6-1-8 2-2-1 0-6 4-4 14-4zM554 1596l2-2 6 1 8-2 3 7 0 4-3 3-10-2-4-4zM562 1611l4 3 2 6-4 10-1 18-7 13-2-1-4-8 4-24-1-8 2-4zM550 1666l1 4-2 4-3 2-4 0-2-4 2-4 4-2zM571 1726l2 2-4 10 2 8-1 4-4 4-8 4-2-2 6-16-6-5-8 2-2-3 0-3 2-1 8 3 10-7zM556 1767l5 5-4 6 1 10-4 5-6 1-3-4-2-16 1-2zM536 1821l4 1-2 5-2 0-2-3zM546 1845l0 4-6 7 1 10-6 12-3 3-7-3-4-4 0-4 8-18 15-7z"/>
<path fill="#fbe4d6" d="M0 0l2066 0 0 1500-20 9-8 0-8-7-16-22-4-3-4-1-10 5-10 15-6-2-3-4-1-6 7-12 1-14 4-10-6-2-4 1-2 3-1 8-3 6-2 10-6 12 3 10-8 20 3 12-2 5-4 3-4 0-1-2 2-8-2-4-15 1-8-5-1-4-2-22-3-3-4-2-6-1-4 1-28 22-20-3-6-4-6-7-20 4-4 2-3 7-3 1-10-6-10-2-4-3-10-4-2-8-8-12-3-2-5-1-26 2-17 15-13 8-3 6 1 14-2 16-4 6-6 5-4 0-4-3-12-14-2-4 2-12-7-8-5-11-26 5-10 4-12-2-8-8-6 3-4 5-1 6 3 12-10 16-4-1-9-5-1-2 2-10-2-4-10-8-6 0-6 4-4 8-6 6 2 10-2 12-16-5-10 9-4 2-4-6-4-18 1-4 6-10-5-2-20-2-22-9-14 0-16 13-15 4-7 5-10-7-16-6-7 2 4 8-2 4-5 3-15 1-5-2-4-4-13-32 0-6 5-12-4-20 4-6 6-6 14-2 13-8 5-14 9-16-1-4-3-2-7-1-14 5-12-1-12-5-16 3-20-2-12-4-5 1-6 4 0 4 20 20-1 4-10 3-12-1-1-2 1-6-2-4-14-9-6-1-6 2-3 2-2 8-5 1-25-13-5-12-8-1-12 6-18 3-6 2-3 4-4 14 1 4 6 4 0 3-18 5-6 3-3 5-3 10 1 14-4 12 1 4 8 11 1 5-2 10-5 6-12 4-11 8-17-2-4 6 5 8 1 5-10 5-3 0 0-2 1-8-1-4-7-2-8 2-7 12-5 5-15 9 0 6 7 10-4 4-24 9-4-1-8-7-6 0-4 5 1 12-5 6-8 3-18-2-26 12-8 0-6 2-16 11-18 9-21 17-4 8-3 3-14 1-12 5-12-2-12 5-6-2-10-7-6 9-18 2-3 4-1 8 7 16 7 5 18 3 5 6 4 10-3 14 0 12-14 16-1 12-7 4-20-3-16 3-12-3-14 3-10-1-10 0-6-5-3-10 3-3 10-1 4-1 2-3 1-4-7-6-3-6-8-4-2-4 7-4 8 4 4 0 5-8 3-10 10-10 0-6-3-4-9-1-2-3 3-14-3-12-4-8-4-3-6 2-4 0-5-7 2-14-3-6-6 2-4-8-18-1-14-7 0-2 4-6 8 0 3-2 4-8-6-6-2-8 3-4 6-2 4-4 1-10 3-12 10-4 4-4-2-4-8-4-1-4 1-7 4-3 12-6 16 3 8-1 8-4 3-4 4-8-1-15 8-6 4-7 5-20-1-16 5-22-2-6-8-6-1-10-5-6 5-9 7-7 5-9 8-3 4-4-7-10-2-6 4-12 6-10 5-24 8-22 6-28-4-5-12-6-18-4-14-5-6 0-5 2-4 6-2-6-5-6 8 0 2-4-1-8-5-12-12-12-14-3-8-4-6-12-8-8-8 0-4-2-5-7 0-8-3-6-12 0-4-12 3-12-1-6-19-26-5-4-20-9-12-1-12-7-6-1-5 2-3 6-4 0-8-4-10 8-2 18 2 5 6 7 7 4-3 4-7 0-3-3-3-7-9 0-6-10-4-1-4 3 0 8-6 2-4 10-4 2-10 0-3 2 7 16 8 4 20 6 14 11 14 5 6 12 4 3 8 2 8 6 8 10 6 5 5 10 11 2 10 4 3 6-5 12 1 6 7 7 12 8 5 7 5 12 0 6-5 12 0 4 5 4 18-1 4 3-3 6-9 5-6 7-6 3-2 3 4 38 6 6 2 8 10 3 1 5-1 6-4 6 2 10-1 6-9 6-6 6-1 4 2 6 5 5 14 1 2-2-3-6 1-8 6-3 6 3 2 10 6 10-2 4-10 10-20-3-8 9-6 2-4-2-4-5-4 0-2 3 1 2 8 6-2 8-3 4-6 2-9 18-13 15-4 0-2-3 3-8-1-2-10-7-14 6-10-1-5 12 2 12-11 5-10 8-4 2-4-2-11-9-25-16-16-5-3-3-2-10-3-2-6 3-5 11-17 9-8 10-5 3-5 0-7-2-9-10-4-2-14 7-14-4-8 4-4 0-6-7-6-20 9-14 0-18-5-4-6 1-2 1-2 10-2 3-2 0-8-7-3-8-3-2-3 2-7 18 0 4 3 10-2 4-7 11-12 10-12-2-10 1-10-3-16 4-10-10-9 5-2 10-3 3-2-1-3-12-5-6-6 2-6 10-4 1-4-9 0-11-3-3-15-1-10-6-4-1-6 4 4 12-2 3-4 2-4-3-4-8 1-2 4-4 0-2-3-1-8 4-14-2-19 19-13 6-4 4-2 14 2 16-2 4-6 0-4-4-6-22-4-7-4-2-6 2-4 5-1 18-7 14-4 0-4-4-2-8 3-14-3-6-6-3-4 0-8 4-18 16-12 1zM486 248l0 4 2 1 3-1 1-4-2-1zM516 316l-4 2-2 14 2 4 7 2-4 14 6 12 7 6-5 6-2 22-7 18-4 4-14 8-16 24-8 8-6 10-6 6-2 12-13 8-2 4 1 8 2 5 2 1 6-3 13-13 1-4-3-6 2-4 5-4 8 0 4-1 9-15 7-4 8-11 12-9 4-8 5-6 6-14 1-8 7-10 0-4-6-14-6-6 2-8-1-8-4-11-6-9 3-10-3-4zM439 526l-5-1-5 1-11 11-16 7-6 10-14 14-18 3-3 3-3 10-12 13-6 1-10 17-10 4-3 13-7 14-7 36-10 32-7 12 2 20 2 4 2 1 10 0 6 6 4 1 8-1 3-3 0-10-6-6-2-4 1-4 6-8 1-4-1-5-5-5 11-14 0-10 4-8-3-10 9-12 7-26 7-6 3-12 6-8 1-15 6-4 10 0 14-9 8-7 8-4 28-29 3-4zM316 783l-1 3 6 14 6 8 4 8-1 4-6 10 1 4 5 4 10 14 4 2 6-1 4-3 0-4-6-8-7-18 1-8 0-6-10-14-10-4zM358 886l-3 4 0 10 7 14 0 14 2 6 8 8 3 12 8 12 1 12 10 8 8 15 12 9 23 38 4 16 6 8-1 10 20 17 6 0 8-3 4 0 2-4-6-14-4-2-6 1-6-3-1-4 2-10 4-6 7-1 6 5 0 2-6 4-1 2 1 4 2 2 6-4 1-2-3-6 1-2 3-2 6-10 8-4 2-4 1-6-2-6-5-6-8-2-6-8-9-6-7-9-8 1-4-1-3-5-5-15-8-1-1-4 1-12-4-13-10-12-6-21-17-18-11-8-10 0-6 5-4 1zM334 940l-1 4 2 8 3 4 4 0 2-2-1-4-5-8zM360 992l-3 4 2 4 15 14-1 12 14 32 3 12 4 5 4 0 7-7 1-4-10-6-3-4-2-22-12-18-2-14-11-7zM518 1042l2 3 2 0 3-3 0-2-5-1zM528 1059l-4 0-4 3-10 13-2 7 4 4 6 0 1-10 10-10 0-4zM222 1449l-2 1-2 3 0 3 2 2 4-1 2-3-2-4zM515 1460l-1 4 2 4 12 5 8 10 4 1 12-3 5-3 3-12 4-8-2-3-12 1-10-1-12 3-10 0zM2046 1470l-2 2 0 4 3 0 1-2 0-2zM258 1480l-4 2-1 2 1 3 2 1 4-4zM16 1510l-1 2 1 4 4 2 4-1 1-3-1-4-4-2zM726 1604l-2 0-3 4 0 4 1 2 2 0 3-4zM702 1620l-5 2-2 4 5 2 2-1 2-5zM755 1644l1 2 4 2 6-4-8-4zM456 1066l2 0 1 4-3 3-2 0-3-3 0-2zM525 1112l3 0 2 2-2 4-4-1-1-3zM540 1121l3 1 0 4-1 3-4 1-2-2-1-4zM762 1315l4 1 1 4-4 0-1-2zM1752 1486l6-1 7 1 5 8 10 5 4 7 14 0 2 6 0 8-1 6-3 4-6 2-18-2-1-10-12-6-7-10-2-12zM1634 1508l2-2 5 0 3 2 2 4-6 4-4 0-2-4zM1316 1507l8 5-1 6-8 8-5 2-4 0-6-6 0-8 6-6zM222 1525l4-1 4 2 4 9 8-4 8 2 4 3-3 10 5 9 1 5-3 10-2 3-3-1-5-7-4-17-6-11-2-1-10 4-2-2 0-10zM197 1528l1 4-4 4-6 2-4-1 1-7 3-4 6 0zM1728 1542l2-1 3 3 1 4-2 3-5-3zM389 1548l9-2 5 0 4 4 0 6-3 3-4-1-11-8zM556 1555l8 5 10 12-2 3-6 0-4 7-2 1-4-3-2-10zM664 1592l0 4-4 6-14 2-2-2 1-4 3-4 12-3zM560 1599l8-4 2 1 2 7-4 2-6-3zM562 1613l4 2 1 5-3 10-1 12-3 9-4 5-3-4 2-6-1-8 2-10-1-8 3-5zM658 1656l2-1 6 5 8 1 4 6 8 0 14 9 1 8 2 8-1 3-2 2-6-6-12-7-6-7-6 1-10 5-4 0-4-5-1-4zM549 1668l1 2-2 3-5 1-1-2 2-4zM692 1708l2-6 4-4 12 9 6-2 4 1 0 2-6 4-1 6-3 2-14-4-2-2zM570 1727l2 3-4 8 2 10-2 4-8 3-1-3 4-12-4-6 6-6zM692 1752l2 4-4 3-1-5zM556 1769l3 3-4 6 2 10-3 4-4 1-3-3-2-14 1-2zM538 1852l-1 6 3 8-6 13-4 1-6-4-2-6 6-8 2-8 2-2z"/>
<path fill="#fce2d2" d="M0 0l2066 0 0 1487-16 11-8 1-6-1-16-22-1-14 2-12-27-13-4-1-12 3-14 9-18 8-14 16-4 1-10-4-18 0-5 1-4 6 4 10 0 4-5 4-14 6-8 0-5-2-1-4 3-8-5-6-20-4-10-11-5 1-7 6 2 10-1 4-5 5-6 1-8-4-5-10-7-3-10-8-8-2-16 0-10-3-4 2-19 20-13 8-5 8-2 12-5 4-6-3-8-15 0-20 8-8 0-2-4-2-4 2-7 8-15 4-10 7-6 2-18 1-4-3-6-8-2 0-16 11-10 14-4-1-10-11-4-2-24 10-8-1-32 3-12-1-12-5-8-9-4-2-12 4-10 2-14 10-2-1 6-14-1-4-5-1-12 2-24 2-3 1-2 8-3 3-8 3-10 0-10 2-13-18 0-4 4-12-2-12 0-6 6-8 27-9 4-3 2-4 0-10 2-6 13-16 0-4-3-4-6-2-10-1-16 6-6 0-16-5-18 3-20-2-14-4-16 5-6 6-22 2-4-1-6-7-10-2-10-5-6 0-16 3-26 8-10 6-7 26-13 10-7 10 1 20-3 14 1 4 9 12 0 6-3 6-6 2-8-2-6 10-4 3-16-4-12 8-16 5-16 17-15 7-4 16-9 9-4 0-8-5-6 0-18 8-2 4 6 7 1 3-3 3-8 0-12-6-12 11-14 5-15 3-17 13-6 1-8-3-2 1-10 16-14 11-4 9-4 3-22 4-16-7-6 5-2 1-2-3 0-4 8-1 1-4-9-12-6-3-16 3-2 2 2 5 0 5-4 10-4 3-12 4-4 7-2 12 5 12 0 6-5 5-6-1-6-5-3-13-3-2-4-1-4 10-8-2-8-1-1-4 3-6 10 3 6-1 5-8 0-6-2-6-3-2-4 3-4 8-4 2-4 0-10-21 5-6-1-2-4 0-4 6-4 2-4 1-2-1-2-6 1-10-2-12 2-8-2-2-5 0-8 4-16 2-14-8 2-4 8 0 4-1 10-11-2-3-8-1-4-8 2-4 8-2 5-6 0-12 2-10 10-4 4-4-1-4-8-3-2-3 0-6 2-4 16-8 12 4 10-1 9-5 8-10-3-15 10-9 4-8 1-8 3-6-1-20 5-20-2-8-8-6-1-10-5-6 0-2 6-9 6-3 4-9 12-5 4-4-1-2-9-7-2-7 4-12 8-10 4-22 13-46 0-10-3-3-16-6-16-3-14-5-11-1 0-12-6-16-13-11-14-2-8-5-6-12-7-8-9 0-3-2-8-20-3-1-8 1-2-2-3-10 3-14-3-8-19-24-22-10-14-3-16-8-6 2-6 6-8-5-4 1-9 9 0 8-3 8 1 8-7 2-3-2-3-6-8-2-3-4 0-6 7-7 3-7-3-5-4 1-7 6-9 14 0 7 8 9-3 14-5 3-8-1-8 2-2-2-2-6 0-12-9-18 7-6-1-8 5-10 12-10 2-6-1-6-6-8-9-3-6-8-9-7-5-8-4-1-6 1-4-1-6-19-2-2-6 1-2-1 2-10-2-8-5-12-8-10-6-20-17-19-7-5-17-4-4 6-4 1-12-6-2 1-2 14 7 14 1 16 3 6 7 6 3 14 8 10 1 13 10 8 8 15 11 8 23 39 4 15 5 8 1 11 10 8 8 9 6 0 10-2 2 1 4 11 10 9 5 11 8 4 21 6 14 12 13 4 9 14 10 3 10 9 6 8 6 5 4 9 4 2 8 0 10 5 2 5-5 10 0 6 9 10 12 8 9 18 1 6-6 12 0 4 6 5 18-1 3 2-3 6-8 5-6 6-7 3-2 4 2 14 1 24 6 6 4 9 8 3 2 4 0 4-5 6 2 10-1 6-2 2-6-2-3 8-5 4-1 4 7 12 6 3 10 1 4-2 0-2-5-6 0-6 5-4 6 1 2 3 3 10 4 6 0 4-13 11-12-3-6 0-12 11-4-1-6-7-4 0-3 5 1 3 7 5-1 8-9 6-9 18-14 13-2-3 3-6-11-11-4-1-12 3-6-5-5-18 2-12-3-8-6-2-12 2-12-3-10 4-12-1-4 1-5 5 0 12-3 4-8 3-16 0-8 9-12 9-6-3-6 1-2 3 5 8-9 12-6 4-6 0-4-2-4-6-4-11-18 14-6 1-9-6-2-4 7-12 11-8 0-4-3-6-6-3-6 5-6 1-2-1-1-4 1-10-4-6-7-4-23-7-10-6-7 3-3 5-1 17-3 14 1 10-2 4-5 4-12 2-8 3-4 0-2-3 2-3 8-2 4-3 0-6-3-4-11-6-4 0-10 8-2 0-8-9-4-2-20 9-10-14 3-12-2-6-5-4-10-3-4 1-2 2 0 12-5 10-3 14-3 4-3 2-4 0-4-2-8-12-6-3-26 5-12-2-7 4-3 10-4 6-6 2-6-5-4-1-7 10-15 11-6-2-3-3-5-14-12 1-12-4-5-3-1-4 3-10-3-3-4 2-4 7-2 14-2 5-6 2-8-3-10-14-4-2zM488 246l-3 2 0 4 5 2 2-2 1-4zM516 315l-4 1-1 2-2 14 1 3 7 5-2 12 10 18-3 7-2 21-7 18-4 4-13 7-16 24-8 8-6 10-7 7-3 12-12 8-1 8 3 11 2 1 6-4 13-12 2-4-2-8 1-4 4-3 8 0 4-2 10-15 7-4 7-11 12-9 10-14 5-14 1-8 7-10 0-6-10-20 1-8-1-8-8-18 1-10-4-5zM440 525l-6-1-6 2-10 10-17 8-7 10-12 13-20 4-4 11-12 13-6 1-2 2-3 8-5 8-10 4-12 30-6 34-10 32-7 12 0 6 3 8-1 6 3 8-1 6 1 2 3-2 0-6 5-3 4 1 8 6 6 1 8-3 0-12-8-10 1-4 7-10 0-8-4-4 0-2 9-14 0-8 3-8-2-10 8-12 6-24 9-8 3-12 6-8 1-14 5-4 10 0 14-9 8-7 8-4 29-30 4-6zM316 780l-2 2 0 4 4 8 1 8 7 6 4 8-1 4-6 10 0 4 7 6 10 13 4 1 6 0 5-4 0-4-6-8-2-12-4-6-1-16-9-12-9-4zM326 919l0 5 4 2 2-4-4-3zM332 938l-1 4 3 10 4 6 4 1 2-3 0-6-6-10zM358 992l-2 2 2 6 14 14 0 12 6 12 8 22 2 10 6 6 4 0 10-8 1-2-3-5-8-3-4-4-2-10 0-12-11-18-1-14-14-8zM517 1042l1 3 4 1 4-2 1-4-2-2-5-1-2 2zM1432 1428l-1 4 3 3 22 6 5-1-8-12-4-4-11-1zM420 1464l2 6 4 2 12-5 12-1 12 6 6 0 7-2 2-4-1-4-3-4-15-5-8-6-4 1-10 12-4 1-8-2-2 1zM2050 1459l-6 1-9 8-3 14 2 5 8 2 14-5 3-2 0-6-4-10zM1579 1470l1 4 2 1 5-3 0-2-3-2-4 0zM922 1526l0 8 5 12 4 22 3 2 6-1 10-5 8-1 4-3 1-24-5-2-14 1-16-9zM782 1560l-7 12 0 2 3 2 6-2 3-4-3-9zM900 1582l-4-1-4 3 0 7 2 1 3-2 2-4zM825 1592l-4 0-3 6 6 0 2-4zM724 1595l-1 5-5 12 4 5 4-2 3-7zM750 1613l-4 1-3 2-1 4 0 4 4 0 4-4 1-4zM751 1644l5 11 4 2 16-7 7-6 2-4-11-5-16 0-5 3zM474 1054l5 4-5 8 2 8-6 3-4-3-1-2 1-12 2-4zM213 1476l3-3 6 0 12 9 6 0 2 6 0 5-2 2-2-1-4-7-2-1-10 3-5-1-5-6zM499 1496l19-11 6 4 14 4 10-6 8 0 3 1 1 4-6 26-6 6-6 3-20-12-6-8-14-4-3-3zM1934 1498l2-1 4 3 6 8 0 2-6 3-4-1-3-10zM0 1498l4 1 2 3-2 12 8 10 1 4-2 2-11-3zM1312 1511l3 3-1 4-4 4-4 0-3-4 1-4 4-3zM564 1566l2 4-6 5-2-2 0-5 2-3zM663 1594l-1 4-2 3-14 1 0-4 2-3 12-3zM562 1615l3 1 1 4-4 10 0 10-2 2-2 0-2-4 2-8-2-8 1-4zM660 1659l6 5 6 1 4 7-12 8-6 2-4-2-2-6 6-13zM680 1674l6-2 8 4 2 4-1 6-5 0-4-2-4-4zM698 1707l6 1 4 6-2 1-5-1-3-4zM799 1754l-5 8-10 11-24 2-4-2-6-9-6-3-4 3-6 11-12 0-8 3-3-2 1-4 10-4 7-12-1-3-8-5-1-6 7-4 8-18 8-5 16-2 12 1 6 4 6 8-2 4-4 3-16 5-8 0-8-7-2 0-4 11 2 5 10 5 16 3 6-1 8-7 6-1 8 3zM570 1728l0 4-4 6 3 6 1 4-4 4-4 1-1-3 4-10-4-6 0-2 5-4zM554 1772l-1 6 3 10-2 3-4 1-3-4 0-12zM534 1858l4 6 0 4-4 9-4 2-6-4-1-5z"/>
<path fill="#fcdecd" d="M0 0l2066 0 0 1469-4-3-8-12-6-3-10 0-8-8-12-6-13-1-3-2-6-9-4-1-14 6-10 7-10 0-19 7-23 18-22 0-8 5-8 10-6 2-4-2-10-9-14 0-5-6-5-3-8 0-10 3-16-4-16-2-2-2 1-10-2-8-5-8-6-3-10 3-8 13-10 8-12 17-4 3-4 0-9-7 0-4 5-6 1-4-1-7-4-2-8 5-7 14-21 3-10 8-4 0-6-5-11 16-5 2-10 0-4-1-1-5 3-8 0-4-14-7-4-1-12 5-10 0-4-1-3-4-2-12-1-2-4-1-4 1-4 5-2 25-4 4-6 12-4 2-18-3-10 7-14 4-6 0-18-9-4-3-5-10-1-15-2-1-16 10-10-1-12 2-6-3-4-9-2-1-4 2-5 10-4 4-13 4-20-2-3 12-7 0-6-3-4-5-3-22 0-6 4-6 7-3 8-3 13 0 9-10 2-6-3-8 0-4 3-6 8-6 2-4-1-8-5-7-6-2-14 0-14 5-6 1-16-5-18 4-18-3-14-5-22 4-10 8-6 1-6-2-10-7-26-7-30 6-18 7-9 6-3 6-6 22-15 12-6 8 2 26-5 8-4 2-6 0-1 2 0 22-1 5-2 3-12 0-32 15-17 17-15 4-6 10-4 3-4-1-8-10-3 0-2 2 1 8-3 4-11 8-16 6-14 9-9 11-11 7-12 1-6-2-3-4-3-10-11-12-11-7-6-1-6 8-2 7-4 27 2 24-10 7-6 11-4 3-14 4-4-1-3-4 1-10-6-16-4-3-12-5-4 1-10 5-14 1-8 5-14-3-22 8-4-3 0-4 7-10 1-4-2-3-6 1-7 8 0 14 8 8 3 14-7 8-4 8-5 2-3-2-5-12 0-4 5-6-3-5-6 0-10 9-3-2 0-12-2-12 2-8-1-3-6-1-8 3-8 1-8 3-4-1-3-2-2-4 9-4 11-12-1-5-2-1-10 0-3-6 3-4 8 1 4-4 2-5-2-14 1-6 1-2 10-4 4-4 0-4-8-2-4-4 0-4 2-5 14-8 4 0 8 4 6 0 12-4 10-6 8 2 4-3 0-6-4-4-6-1-3-9 1-3 6-4 5-5 5-15 6-3-5-6-1-10 4-28-2-8-8-6 0-10-5-4 0-2 5-8 9-2 0-6 3-5 11-3 5-4 0-5-10-5-3-8 3-10 8-8 2-4 4-22 13-46 1-8-2-4-2-2-18-6-38-9-1-1-4-22-3-6-15-10-13-2-9-6-4-10-7-9-2-2-6 2-4-1-8-21-2-1-10 0-2-2-2-8 2-16-17-26-8-6-19-9-14-2-16-8-6 1-6 5-6-3-6-1-9 9-1 10-3 8 0 6-1 2-4 1-6-8-8-4-2-3 1-4 7-8 2-6-2-6-4 0-6 3-5 5-8 14 0 6 4 8 1 8-1 8-3 2-16-1-2-3 1-8-2-8-8-16 7-6-2-8 4-10 4-4 6-2 3-4 2-6-2-6-5-8-10-4-6-9-7-5-7-9-4-2-8 1-8-20-6-2-1-2-2-14-6-14-8-8-5-20-20-22-8-5-10-1-2-2 0-6-4-3-2 1 0 2 3 6-3 6-4 3-11-7-5-8-5 0 1 4 4 4 0 18 7 12 0 16 4 6 6 6 4 14 7 10 2 14 8 6 9 16 11 8 12 18 11 22 4 14 6 8 1 12 10 8 7 8 5 1 12-1 6 12 10 8 5 10 7 4 22 7 13 11 12 4 10 14 11 4 10 8 6 9 6 5 4 9 12 2 10 5 1 4-6 12 1 4 10 11 12 8 9 17-1 9-5 9 1 6 6 4 16-1 4 1 0 2-2 3-8 5-6 6-8 4-2 4 2 14 1 26 6 6 4 8 9 4 1 4-6 8 1 12-4 0-4 3-9 15 4 10 5 6 6 3 10 0 4-2 2-3-6-6 0-6 4-3 6 1 2 3 1 9 5 6 0 4-12 9-18-3-12 12-4-2-5-6-5 0-4 4 0 4 8 7 0 5-2 3-9 5-7 16-8 7-2 0-16-17-12 1-2-1-6-32-6-12-4-1-12 3-18-6-2-2-4-14-4-3-18 8-6-1-18 3-14-2-22 2-4 3-1 12-5 7-4 1-10-5-22 12-52-18-10-10-10-5-7-8-5-2-6 2-6 12-10 7-6 0-4-5-1-6-3-1-8 9-6 4-8 2-12-2-8 5-14-7-8-8-8 0-12-4-5 6 0 12-1 4-14 11-4 0-5-11-3-3-4 0-4 3-6 10-6 6-6 1-10-4-12 5-16 4-26-1-4 3-6 10-6 3-6-1-3-4 2-10 3-4 14-3 4-7-2-2-10 0-6 1-8 5-14 3-2 1-3 10-5 6-4 2-4-2-7-8-1-22-2-3-4-2 0-44 2-1 0-2-2-2zM486 246l-2 4 2 4 6 0 2-4-2-4zM516 314l-4 1-2 3-2 14 2 4 6 4-2 12 9 18-3 28-7 18-17 11-16 23-8 8-6 10-8 8-3 12-12 8-1 8 4 14 8-5 13-13 3-4-2-8 2-4 14-4 10-15 8-5 6-10 13-10 9-14 6-12 1-10 7-10 0-6-9-20-1-14-8-20 0-10-4-6zM444 523l-12 1-5 2-10 10-17 8-6 9-12 12-8 3-12 2-5 12-7 8-12 6-8 17-11 5-11 30-5 32-11 33-8 13 0 6 3 8-1 6 2 8-1 6 1 4 5-2 3-8 2-1 4 0 5 5 5 1 12-1 2-2-2-14-8-8 1-4 8-10 0-10-2-6 7-10 0-10 3-8-3-10 9-12 6-24 9-8 2-11 7-9 1-14 4-3 10 0 14-9 8-7 8-4 30-31zM314 779l-2 5 5 14-1 4-3 4 0 4 3 2 6-5 2 1 5 8 0 4-8 10 1 6 8 6 10 12 10 0 5-4 1-4-6-8 0-14-5-8-3-14-8-11-10-4-6-7zM326 917l-2 3 0 4 4 4 2 0 2-2 1-4-3-4zM330 935l-1 5 5 14 4 6 4 1 4-5-1-6-7-12zM356 991l-2 3 2 6 15 14 0 12 7 14 9 30 5 6 6 1 11-7 2-4-5-6-8-3-3-3-2-10-1-12-10-18-1-16-15-7zM516 1040l1 6 3 2 6-3 3-5-3-3-8 0zM1858 1387l-2 3 0 4 4 7 4 1 4 0 6-6 1-4-3-4-8-2zM773 1400l0 2 3 2 4-2 0-2-4-2zM1675 1420l3 5 8 1 16-3 12-6 2-3-2-2-30-4-6 4zM1628 1414l-1 2 1 5 2 1 4 0 2-6-4-3zM1411 1442l1 3 10 4 4-1 8-5 6-1 24 8 6-2 3-8-2-6-14-14-11-1-12 1-12 4-6 7zM1649 1444l-2 4 2 4 9 10 4-6 0-8-4-4zM1406 1445l-6 1-5 4 0 6 3 4 4 0 4-2 3-10zM764 1490l0 4 8 4 2-1 0-5-2-4-4 0zM952 1506l-4 0-2 3-1 5 1 8-2 2-8-2-10-8-6-3-7 3-4 6 0 6 14 30 0 16 7 5 10 0 26-10 10-2 6-7 7-18 0-4-4-4-17-7-9-1-3-2 3-10-3-4zM781 1510l3 6 4 1 2-1 1-4-3-2-4-1zM780 1540l0 6-6 17-4 5-6 2-2 2 2 8 2 1 24 0 5 7-1 12 8 5 16 3 12-5 4-5 0-14-4-5-7-3 4-8-2-8-9-5-20-1-10-8-3-6zM752 1592l2 2 2 0 3-4-1-2-6 2zM724 1591l-3 1-2 2 1 8-5 10 1 4 8 5 3-3 3-10-1-14zM875 1602l-7-5-14 1-8 8-2 8 4 4 8 1 18-11 1-2zM474 1055l4 3-6 8 2 8-4 2-4-4 3-8-1-6 2-2zM463 1440l5-2 8 0 3 4-1 7-4 2-8-3-4-4zM269 1460l9-10 8-6 4 0 22 10 4 8 0 8-2 8-2 2-2 0-24-13-14 0-3-3zM1763 1454l7-3 6 3-2 3-6 1-4-2zM239 1464l1-4 2-1 9 1-1 4-4 3-4 0zM1604 1470l2 4-2 5-16 12-4-1-2-4 1-2 9-5 8-9zM446 1476l1 2-15 11-4 0-2-3-1-4 3-3 12-3zM1698 1477l7 3 3 4-8 11-6 2-5-5-1-8 4-5zM86 1491l1 3-1 2-3 0-1-4zM404 1497l0 5-4 5-4 2-4-3-1-4 3-4 6-2zM432 1499l4 1 2 4-1 4-3 2-4-2 0-7zM818 1578l-6 10-4 0-2-2 0-3 3-3zM662 1594l0 2-2 3-12 2-2-1 3-4 11-3zM911 1596l0 2-3 3-4 0-3-1 1-4 4-3zM562 1616l3 2 0 4-3 6-2 1-3-9zM672 1668l1 4-10 8-5 1-4-3 0-7 6-6zM754 1726l2-4 6-2 6 1 3 5-2 4-7 2-7-2zM566 1742l3 2 0 4-5 4-2-2 0-2zM788 1754l1 2-1 4-4 2-3 0-1-2 2-4 3-2zM550 1779l5 7-1 4-2 1-3-1-1-3zM534 1862l3 2 0 4-3 7-4 3-4-2-2-4 3-4z"/>
<path fill="#fddbc7" d="M0 0l2066 0 0 1450-24-6-16-11-10-10-22-8-22 7-10 6-18 8-8 0-12-4-24 4 6 1 5 3 2 6-1 6-4 2-10 0-12 4-4 0-5-10-7-9-2-11 1-4 7-5 3-5 2-10 4-10-1-5-8-8-12-2-24-9-4 2 0 9 2 3 8 1 2 2 2 11 3 8-3 2-4-2-6-7-5-9-3-3-10 1-16 4-4 4-2 14-7 12-1 11-8-7-5-10-3-1-16 5-14 0-8 5-6 1-4-4-3-14-3-4-8-1-18 0-14-8-6-2-8 1-2 2-2 7-24 4-3-3 0-12-1-3-4-1-8 6-4 8 0 26 2 5 8 7 1 4-3 5-4 1-2-1-4-9-4-2-6 3-6 11-4 2-6 0-4-5 1-11-1-3-4-1-12 1-6 4-4 5-13 32-3 4-4 0-14-4-12 3-4-7 0-7 10-2 4-3 11-18-1-8-7-8 0-4 5-3 12 4 4-4 2-17-1-6-3-1-12 0-19 5-5 14-8 8-7 10-2 10-5 2-5-2-9-14-16-13-28 2-12-2-8 5-4-2-4-6 2-4 7-4-2-14-5-10-8-5-20 0-16 6-16-4-18 4-14-3-14-6-8-1-20 5-10 7-4 1-16-8-22-7-8 0-30 5-16 8-10 8-12 28-10 8-12 14-1 4 3 12-2 6-10 3-8 5 0 12 3 12-3 5-13 7-12 4-27 16-2 6-4 3-12 1-12 3-14-2-3-3 9-14 1-6-4-4-5 0-6 2-4 4-2 8-6 2-7-4-4-8-3-4-24-16-8 2-8 10-14-3-15 11-4 10 1 6 8 9 7 17-1 6-4 2-4-1-8-9-12-8-6-1-8 3-2 4 7 14 2 20-5 6-16 0-5-4-5-12-22-23-10-6-14-2-6-5-1-6 1-8 15-18 0-4-1-2-6-3-14 2-8-3-2-4-1-14-5-4-14 12-6 10-6 0-2-4 0-4 7-4 7-8 4-11 12-3-1-2-9-5-2-3-1-12 4-18 0-10-2-4-8-6 0-10-5-6 2-4 4-4 8 2 2-1-2-7 2-5 14-3 5-6-1-6-10-4-3-4-1-4 3-10 9-7 2-5 4-20 13-50 1-8-2-5-24-7-14-2-21-6-4-24-2-4-17-11-17-3-5-5-4-9-8-11-2-1-6 2-4-2-8-21-10 1-4-5-2-7 3-10 0-4-18-26-7-6-22-10-12-2-16-7-6 0-6 4-8-3-6 0-7 8-6 26-3 1-5-7-7-3-2-3 1-4 8-14 0-8-3-2-8 4-6 6-10 16-1 6 6 16-1 8-4 2-13-2-3-18-7-12-1-4 2-2 6-2-2-10 4-11 8-4 4-5 2-6-2-6-6-8-10-5-6-9-12-13-6-3-6-1-6-9-2-8-7-6-3-12-6-14-8-9-6-21-8-7-11-13-7-4-12-4-2-8-4-2-3 2 2 10-2 4-3 2-9-6-7-10-5 0-2 2 6 10 1 18 6 10 1 16 3 6 6 6 4 14 8 10 1 14 9 6 9 18 10 6 12 18 7 16 5 8 4 12 5 8 1 12 10 8 7 8 6 2 10-2 2 2 4 10 11 8 3 8 4 4 26 9 14 11 14 6 8 12 12 5 9 7 12 14 5 10 12 2 8 4 2 5-6 9-2 2-8-3-3 5 5 3 6-2 15 13 9 5 4 5 7 16-2 8-5 8 0 4 3 4 5 3 18-1 1 2-1 2-8 5-6 7-8 3-2 3 2 16 0 26 6 7 4 7 8 4 2 4-7 8 1 8-11 10-5 7-1 5 9 15 6 5 4 0 10 0 5-4 1-2-7-6-1-4 4-4 5 0 3 4 0 8 5 6 0 4-11 8-14-3-4 0-12 12-2-1-6-7-6 0-5 5 0 4 8 8 0 4-9 6-9 18-7 5-10-7-6-10-10-4-2-2-8-32 3-14-1-5-4-2-16-1-3 2-4 8-7 1-5-5 0-10-2-6-9-6-4 0-8 6-6 2-10-4-24-2-4 7-6 2-6-3-8-9-6-1-4 4-2 10-6 8-6 3-12-5-4 1-4 7 3 6 0 4-13 6-17-2-28-10-3-2-4-8-14-14-10-4-22 0-12 4-14 3-4 3-3 10-3 2-6 0-2-4 8-14 0-4-3-4-5-2-4 2-5 6-5 13-8 6-4 0-2-3 3-12-1-4-2-2-4 0-4 2-6 8-4 2-12-5-6 2-6 7-4 14-6 2-12-6-14-3-3-11-9-8-6-12-8-4-3 2 0 4 7 12 1 20-5 10-12 12-20 3-6-1-1-2 4-8 0-10 1-3 6-3 14 1 5-7-3-5-9-3-3-14-6-5-4 0-14 7-10 11-11 7-2 6 3 6 0 3-6-1-8-5-8-9-6-12-10-6-12-19-6-3zM486 245l-2 3 0 4 4 3 4-1 2-2 0-4-4-4zM518 314l-4-1-3 3-3 16 1 4 6 6-2 10 9 18-2 26-7 18-5 5-12 7-16 24-22 26-4 11-12 9 1 24-3 2-14 4-10 10-16 8-20 21-8 3-10 0-6 14-8 8-6 1-4 3-8 18-12 6-12 32 0 12-4 20-11 32-7 10-1 6 3 10 0 25 4 1 3-2 5-9 2-1 10 6 14 0 3-2-2-16-8-8 1-4 7-10 2-10-2-8 5-8 1-10 3-8-3-10 9-12 5-24 9-8 2-10 9-10-1-10 1-4 3-2 10 0 31-22 29-30 10-16 20-18 3-6-1-8 2-2 8 0 4-2 9-16 9-5 7-11 11-8 11-16 5-12 1-10 6-8 2-6-9-22-1-14-8-20 0-10zM314 777l-3 3 0 4 5 14-4 8-1 4 5 3 8-3 4 6 0 4-8 10 1 6 9 7 10 12 10 0 6-5 1-4-6-8 0-14-5-10-2-12-10-12-10-4-6-8zM328 903l-4 1 0 5 2 0 2-1 1-4zM326 914l-2 2-1 6 5 10-1 6 5 14 9 14 3 7 4 3 2-1 1-5-5-8 0-12-7-12-8-6 4-10zM354 989l-2 3 3 8 15 16 0 10 7 14 9 30 6 8 6 1 13-9 1-4-4-6-10-4-2-2-3-10 0-12-11-20 0-15-18-8zM516 1036l0 8 2 5 6-1 5-4 1-4-2-3-8-2zM1713 1372l-1 4 4 6 6 2 4-1 1-5-3-5-6-2zM2034 1390l2 4 4 1 9-3 2-4-3-5-4-1-8 4zM1736 1394l0 2 6 3 4-1 1-2-3-2zM772 1398l-1 4 3 3 4 1 4-2 0-4-2-2-4-1zM370 1402l-1 4 1 4 14 10 6 0 5-6 1-6-2-2-8-2-10-4-4 0zM955 1446l-1 4 2 2 8 3 4-1-1-6-3-5-4 0zM1086 1464l2 6 4 0 4-2-1-4-3-2-4 0zM474 1056l2 2-1 2-3 2-2 0-1-4zM470 1068l3 4-3 3-3-3zM1814 1407l4-2 6 4 2 5-2 5-8 0-4-2-1-5zM1826 1420l14 0 6 6-1 4-5 8-1 10-3 2-6 0-13-16 1-6zM1643 1426l1-3 4-1 7 2 5 4-3 4-7 2-6-4zM1668 1436l2-2 6-1 12 3 7 6-1 9-6 4-14-1-3-2-3-6zM1730 1437l4 1 2 6-3 6-5 2-2-3 0-5 2-6zM1849 1444l5-1 14 7 4 7 5 5 0 4-2 4-5 0-6-8-12-4-5-8zM1363 1450l5-4 4-1 9 3 4 4 0 10-3 1-16-6-3-3zM1439 1452l3-3 4 1 8 4 2 4-4 2-6-1-6-3zM286 1456l6-1 8 3 6 6 1 4-3 2-6-2-10-8zM1503 1488l7-3 3 3-2 4-3 1-4-1zM766 1503l4 3-2 6 3 8 1 2 8 3 2 3-8 10 1 10-5 12-8 3-8 7 0 2 5 6 1 4-8 4-10 1-3 3 1 4 10 3 3 7 0 2-11 7-5 7 0 8-4 8 11 7 3 11-9 16-4 1-6-11 0-2 6-6-2-6-2-4-4-1-12 5-4-18 2-6 4-2 3 4-5 8 2 2 4 0 8-12 4-12-1-10 1-8-8-2-6 1-1 3 1 8-6 6-2 5-8 1-10 4-8 0-6 3-4-1 0-2 15-14 2-4-3-12 4-10-3-16 1-6 12-6 3-6-1-4-8-1-3-3-1-4 2-4 14-8 4 0 10 5 14-3 12-5 10 1 6-6 0-8zM754 1536l2 2 4-1 3-3 0-4-3-1-4 1-2 2zM998 1545l2 3 0 6-2 2-4 0-1-2 0-4zM766 1586l6-1 10 4 0 5-6 7-17-1 0-4zM674 1588l4-2 5 4-1 2-4 1-2-1zM936 1590l8-4 2 1 2 3-1 4-5 3-6-2-1-3zM762 1616l1 4-3 8-6 3-4 0-1-3 2-4 7-8zM562 1617l3 3-3 6-2 0-2-4 2-4zM849 1630l5-1 7 3 3 4-2 5-6 3-4-2-4-8zM670 1670l-1 4-7 5-4 1-4-4 2-6 4-3zM566 1744l2 1 0 3-4 2 0-4zM550 1783l2 0 2 3-2 3-2-1zM534 1864l2 4-4 8-4 0-2-3 1-3z"/>
<path fill="#fcd5bf" d="M0 0l2066 0 0 1390-5-2-7-11-8-3-17 4-11 8-1 4 10 18 3 3 6 1 10-8 4-1 4 1 6 5 6 1 0 31-10-1-9-4-1-14-4-4-6 1-3 5-3 1-12-9-16-8-18-1-10-3-4 2-9 16-17 10-8-2-8-10-10-2-6 1-12 8-12 1-3-2-1-4 4-14 4-6 4-2 6-1 12 4 2-1 0-4-16-5-10-21-6-6-6 0-10 3-4 0-18-5-14-9-4 3-3 6-1 6 1 8-3 2-16 4-20 0-2-2-3-10-3-2-6 1-5 5-2 4 1 4 4 3 10 1 12 11 1 7-3 3-6-4-4-1-16 8-5 0-3-6 2-14-2-4-18-4-4-4-6-10-14-5-8 1-8 8-14 8-24 2-6 10-4 3-5-1-7-12-4-2-4 0-16 12-2 6 1 12-3 14-2 4-6 2-8-6-16 2-16-4-2-2 1-24 3-2 12 2 8-4 2-12 0-4-2-3-4 1-10 8-16-4-10 8-20 2-14 4-4 4-3 8-5 6-4 10-4 2-2-2-6-11-10 1-12-2-24 4-9-2-4-4-6-8-7-20-6-6-10-4-16-2-6 2-10 7-14-4-22 5-8-2-16-7-14-3-18 5-10 7-4 1-18-9-22-6-6-1-30 5-24 16-4 4-6 13-4 2-8 0-2 3-5 18-7 9-8 4-12-4-8 8-10-1-10 8-8-2-5-6 8-8 1-4-13-20-2-6 0-10-7-7-5 1-1 4 0 16 4 12 0 6-1 6-5 8 0 6 1 4 7 8 7 20 10 14 1 4-3 4 2 10-3 4-4 2-10-2-4 1-13 15-5 3-4-1-1-2 1-16-4-6-8-1-20 6-23-13-2-4 3-10-2-3-10-4-10 4-2-1-8-11-6-1-6 4-2 8 2 4 8 4 0 2-12 4-11 12-11 8-8 1-10 4-10 0-2 1 0 4 8 10-1 4-10 6-2 12-15 3-12-9-5-8 1-12-4-10 6-10-1-6-30-12-4-4 13-16 16-4 4-6 7-6 4-18-3-3-4 1-7 8-13 1-12 20-8 5-4 0-6-8-14-6-4-4 0-12 4-18-1-10-2-4-7-4 1-10-5-6 1-4 3-3 8 3 4-2-3-8 1-4 4-2 12 0 7-6 0-4-3-5-4-3-8-2-2-6 3-10 9-5 3-5 3-22 13-54 1-6-2-6-2-1-12-1-12-4-12-1-22-6-3-13 1-10-2-4-20-11-14-3-8-6-14-24-4 4-4 0-9-22-11 0-4-4-1-6 3-10 0-4-18-26-8-7-22-9-12-2-16-8-4 0-8 3-17-3-9-8-8 1-4-1 1-8-3-4-12-2-2 4 2 11 4 2 5-1 0 2-13 12-7 14-1 6 6 16 0 6-4 3-12-3 1-6-4-12-7-10-1-4 9-4-3-8 0-6 3-6 10-6 5-10-2-6-7-9-10-5-6-11-12-11-12-6-4-4-3-10-8-8-8-24-9-10-3-16-3-5-8-7-9-12-9-5-10-3-2-8-8-3-2 1 2 12-4 5-8-5-6-10-6-1-4 1 1 4 5 10 1 16 7 11 0 15 3 6 7 6 4 14 7 10 1 14 10 7 8 17 11 6 11 18 8 18 4 6 4 12 5 8 1 12 10 8 8 9 17 1 5 11 10 7 4 9 3 3 27 10 14 10 13 6 8 12 13 5 8 7 13 16 5 9 12 2 8 5 0 4-6 7-8-2-4 3-1 4 5 4 8 0 4 1 12 11 8 4 3 4 7 16-2 8-5 8 3 9 6 3 16-1 2 1-14 13-9 3-2 6 2 14-1 14 1 14 11 14 8 4 0 2-6 6-1 10-12 12-3 6-1 4 1 4 16 20-12 13-10-8-6 2-4 5 0 4 2 3 6 5 0 4-10 6-7 16-3 4-4 1-8-5-6-12-10-6-3-4-5-22 4-24-2-8-4-3-10 0-8-10-2 0-5 7-3 2-22-15-4 1-9 8-5 1-10-3-12 0-14-4-12 2-8-8-4 0-8 3-7 5-2 14-3 4-4 0-3-2-2-4 2-4 8-8-1-4-16-16-6-3-14 7-14 1-14 5-12 11-3 11-3 2-4-2-8-9-10-4-6-1-10 2-12-1-12 5-6 0-30-16-5-6-3-6 0-6 4-6 2-1 4 1 10 12 4-1 3-5-1-4-4-5-12-5-8 2-14-2-4 3-2 3 10 22 11 6 1 6-4 5-4 0-6-3-4 0-18 8-12 1-14 5-12-3-3 3-1 8-2 1-17-13-9-14-10-6-5-14-3-4-8-1-10 5-4-1-6-7-2-1-3 3 0 12-7 12-11 6-9 12-10 5-6 4-4 1-3-4-5-12-12-6-10-14-4-10-4-3-4-1zM488 244l-4 3-1 5 3 3 4 1 4-3 1-5-3-3zM518 313l-4 0-4 3-3 16 1 4 6 6-1 10 8 18-2 26-6 18-5 5-12 5-16 25-9 9-7 11-6 5-4 12-12 9-1 5 2 16-1 4-21 8-6 8-16 8-20 20-7 3-10-1-7 16-7 6-6 1-4 4-9 19-11 5-13 33 0 12-4 20-11 32-6 6-2 10 3 10 0 14-2 10-3 4 2 1 10-3 8-9 12 4 14 0 2-1-3-18-7-8 1-4 6-8 3-14-1-6 4-8 1-10 3-6-3-12 8-10 6-26 8-6 3-12 9-10-1-10 1-3 4-2 8-1 32-22 4-6 25-24 11-16 19-18 3-6 0-7 2-1 8 0 2-2 10-18 8-5 7-11 12-8 9-14 7-14 1-10 6-8 1-6-8-22-2-16-6-14-1-14zM406 397l-3 3-1 4 2 6 2 1 2-5 0-6zM404 431l-5 5 1 3 4-3 1-4zM314 775l-3 3-1 4 5 16-5 12 2 3 4 2 8-3 3 4 0 4-7 8 0 8 10 8 8 11 6 1 8-1 5-5 0-4-6-8 1-16-5-8-3-14-10-11-9-3-7-10zM325 902l-4 4 2 6-1 8 3 12 1 8 7 18 9 16 4 4 4 0 2-2 1-6-5-10-1-10-7-12-6-6 2-10-8-10 3-10zM352 986l-2 4 3 8 16 18 0 10 7 14 10 32 6 8 6 0 14-9 2-3-6-9-8-3-4-4-2-10-1-10-9-18-1-18-3-2-6-1-10-5zM1260 1310l8 5 6-1 20-14 1-4-5-3-14 0-5 3-10 10zM880 1315l-1 5 3 2 2 0 1-2-1-4zM770 1398l0 6 2 2 8 1 5-3 0-4-5-4-6-1zM815 1436l5 1 4-5-2-2-4 1-2 1zM945 1446l-2 6 1 3 10 4 8 6 16 3 4-1 3-3 0-4-5-12-7-10-5-3-6-1-7 2-6 4zM894 1440l-2-1-2 2-1 5 1 1 4-3zM1010 1480l-1 4 3 6 2 2 4-1 2-3-2-6-4-2zM540 1054l8 2 1 2-4 8-1 12-6 12-3-4-9-5-1-3 9-14 2-8zM1706 1387l2 3-2 4-6 1-1-3 3-4zM676 1421l4-1 2 2 1 4-1 6-8-4-1-4zM394 1430l0 4-2 4-4 0 2-6zM1556 1434l-1 6-7 10-2-6 0-6 4-4zM688 1438l0 4-10 7-12-5 10-4 6-6zM1678 1442l6 1 2 5-4 1-4-1-1-4zM1094 1446l2-1 10 4 1 3-1 4-4 1-5-3-3-4zM1546 1455l0 9-3 6-5 1-6-3 0-4 4-6 6-3zM1076 1476l8 5 3 5-3 12-6 3-6-2-3-5zM756 1489l-2 7-4 0-1-4 1-2zM770 1537l2 9-3 8-24 16 1 5 8 3 2 2-1 2-13 1-10 6-14-1-3 4-1 9-8 3 0 6-12 6-10-2 1-4 8-6 1-4-1-12 3-8-5-10-1-12 2-3 11-5 4-8-1-3-8 0-4-2-1-5 2-4 15-7 12 6 16-4 3 1 2 4 6 4 5 8 4 1 10-5zM870 1571l4 3 2 8-2 4-4 1-5-1-1-4 2-8zM748 1600l1 2-1 4-14 11-1-3 1-16zM734 1624l0 6-8 4 2-8 4-3zM756 1622l2 2-1 2-4 2-1-2zM742 1652l0 4-6 11-2-1-2-6zM655 1676l1-5 4-2 6 1 2 2-3 4-5 3-4-1zM534 1868l-2 6-4 0 1-4 3-3z"/>
<path fill="#fbceb7" d="M0 0l2066 0 0 1375-10-7-16 0-10-2-4 1-10 5-10 1-8-8-4-1-3 2-11 20-10 4-8 6-10 3-5 3-2 4 1 4 4 2 5 0 1 2-7 10-7 3-4-3-4-8-9-6-1-12-2-6-14-7-4-5-7-22-3-5-2-2-2 1-4 4-4 1-6-1-2-2 1-10 7-3 1-3 0-6-3-2-10 3-3 7-7 10-8 6-6 0-10-10-12 0-3 12-5 9-6 6-8 3-6 0-4-1-6-10-14-2-4 1-12 11-8 4-6 0-12-13-16-6-6-1-32 17-14 1-16 3-14-8-26 7-6-5-2-9-6-1-12 2-12 11-16 0-12 7-14 2-16 4-18 13-10 0-42 8-8 0-6-5-7-10-5-16-4-5-26-14-16 1-8 8-12-2-15 6-7 1-6-1-14-7-20-6-16 3-12 8-4 1-16-8-26-7-22 6-10 0-6 2-22 15-8 13-4 2-8-1-4 2-10 27-2 2-4 1-10-3-14 7-6-2-4-3-15-20 1-4 2-1 8 2 3-1 0-10 5-6 0-2-4-1-4 7-6 1-12-7-10-9-4-2-4 1-8 6-7 4-1 2 9 18 0 10-6 10 6 10 1 6-3 8-9 6-6 0-6-11-4-3-4 0-8 4-4-1-12-13-4-1-18 0-16 7-10-2-12 2-8-1-15-13-6-12-3-2-5 4 3 16 0 8-8 18-8 10-2 0-6-8-8-2-2-2 0-6 4-10-2-4-4-3-12-3-10-11-12-3-4 1-5 7-9 1-2 2-1 5 2 20-3 6-6 3-12-1-4-3-2-7 5-22-1-14 2-2 10 1 5-1 5-12 10-3 2-3 0-4-4-4-6-1-5 13-3 1-10-2-4 1-3 2-1 9-2 1-5-2-1-4 3-6-6-6 0-2 3-3 10 3 4-2 0-4-3-6 2-4 15 3 6-2 8 1 2-2 0-6-12-12-4-3-8-1-2-2-1-4 3-9 10-3 4-6 8-50 7-30 1-8-2-4-4-3-12 2-46-11-1-12 2-10-1-4-6-4-10-3-8-5-12-2-8-5-15-29-3-2-2 2-1 6-2 0-7-12-2-8-4-2-6 1-4-2-2-7 3-10-1-4-19-28-7-5-22-10-12-2-16-7-12 2-14-3-10-8-10-1-1-6-4-4-13-4-3 2 0 4 2 12 4 4-8 10-6 12-2 6 7 22-2 3-2 1-7-2-6-12-2-8-7-10 2-3 7-1-3-10 1-8 3-5 6-3 4-4 4-8-1-6-9-10-9-4-7-14-26-18-4-10-8-9-8-25-8-8-4-16-3-6-9-7-8-12-10-5-8-2-2-2-1-8-11-2-2 2 3 12-3 4-8-4-6-11-8-1-3 2 6 14 1 16 8 12 0 14 3 6 7 7 3 13 8 10 1 15 10 7 8 18 10 4 13 20 5 14 14 28 2 12 9 8 9 10 16 1 6 11 10 7 6 11 20 7 10 5 12 9 12 5 8 12 14 6 8 7 12 15 6 10 12 2 5 4 0 4-3 4-10 0-7 8 9 6 12 1 11 9 9 5 9 19-1 7-6 7 1 8 7 6 16 2-4 2-8 9-8 2-2 5 2 16-1 12 1 15 11 15 7 6-5 6-2 10-11 10-4 10 2 8 13 16-1 4-8 8-10-6-6 2-4 6-1 4 2 4 5 4 0 4-9 6-3 10-6 9-4 1-7-4-5-12-12-10-5-16 0-10 5-22 0-20-2-5-12-8-18-4-12 12-4-1-3-4 1-12 4-6 7-4 1-4-3-12 5-12-2-2-6-2-12 2-6 4-4 12 4 4 1 4-3 5-4 1-2-1-1-9-5 0-22 16-2 4 5 6 1 4-2 6-4 2-6-1-8-5-8-2-10-8-6-2-8 0-6 5-4 0-16-9-6-2-6 1-12 6-24-4-8 8-4-1-6-5-4 0-1 3 0 12-3 4-2 0-10-3-12-6-4 1-6 5-6-1-4-2-4-10-2-2-13 0-1-2-2-14-5-10-7-4-18 0-4-2-2-8 1-10-1-2-6-3-6 0-4 3-6 25-12 11 12 8 5 8 2 12-7 6-8 3-12 0-10 3-5 0-2-4 3-10 2-4 8-6 2-10-14 2-6 0-4-4-4-10-3-4-23-8-6 4-2 8 0 4 8 10 1 6-2 4-3 1-4-1-4-14-2-2-10-1-12 2-10-5-8 0-8 6-2 12-2 4-4 1-8-2-5 23-7 3-7-1-14-16-1-4 4-6 15-10-1-4-4-3-6 0-5 3-7 10-4 3-14-19-8-3zM486 244l-3 4 1 6 4 2 4 0 3-4-1-6-4-3zM518 313l-4-1-4 2-3 18 1 4 5 6-1 10 8 18-1 26-7 18-4 4-12 5-16 25-10 10-6 11-6 5-5 12-11 8-2 6 3 16-2 4-21 8-4 6-16 9-24 21-6 2-9-2-6 16-7 7-9 3-4 6-3 10-4 6-11 4-2 10-5 6-6 18 1 12-4 20-11 31-6 6-2 5 0 6 2 10 0 14-2 10-4 4 0 3 2 1 14-6 8-6 24 3 4-2 1-3-5-16-6-6-1-4 7-10 3-14-1-6 4-10 0-8 4-6-3-12 7-10 6-26 9-6 3-12 9-10-1-12 4-2 8-1 32-22 5-7 25-24 11-16 19-18 4-10 10-3 10-20 8-5 8-12 11-8 10-14 7-14 0-10 6-8 1-6-8-22-1-16-6-14-2-14zM404 367l-1 1 0 4 5 4 1-6zM406 395l-4 4-1 5 1 5 4 3 2 0 2-4-1-10zM407 428l-5 1-4 4-2 5 2 3 4-1 6-8zM314 773l-4 3-1 4 5 18-5 12 5 5 10-1 2 2-1 4-6 8 0 6 2 4 8 6 5 6 3 8-4 4 1 2 2 1 3-7 13-2 6-6 0-4-6-10 1-14-6-10-2-12-11-12-8-2-8-12zM284 783l-2 1 0 5 2 0 2-3zM324 901l-4 5 1 16 4 20 9 20 13 20 3 14 6 8 11 12 1 10 7 14 10 32 5 8 6 2 18-12 0-4-6-8-8-3-3-3-3-10-1-12-8-16 0-14-2-6-25-8-5-4 1-10-5-12-2-10-6-12-5-6-1-4 3-6-1-2-5-4-2-4 3-10-3-2zM1278 1278l-6 3-11 15-11 10-1 4 4 6 19 8 4 10 2 1 2-3-2-8 3-6 7-5 16-7 1-4-5-16-2-3zM876 1310l-3 8 1 10 2 4 12 4 2 8 2 2 12-6-1-4-7-6-1-12-4-8-7-2zM1844 1325l-4 3 2 6 4-2 1-2 0-4zM864 1340l-4-5-4-1-18 4-4 6-1 6 3 3 6 2 12-1 9-6 2-4zM1650 1340l-4-3-7 1-17 12-6 8 4 1 8-3 8-6 11-4 3-2zM580 1350l0 2 4 3 2 0 2-3-1-2-3-2zM1905 1358l0 4 9 4 8-2 3-4-3-6-6-2-7 2zM430 1355l-2-1-3 2-1 4 0 3 2 1 3-2 1-4zM472 1364l4 2 2-2-2-3-3 1zM976 1379l-2 7 3 12 19 10 8 2 4-2 1-4-1-4-6-12-12-4-6-6-4-1zM1091 1404l2 4 3 2 4 1 2-1 0-6-2-3-4-1zM542 1057l3 3-1 16-4 7-4 1-8-4-1-2 11-19zM150 1388l6 0 8 8 1 6-3 6-4 1-4-3-5-14zM2004 1390l0 6-4 3-8 0-6-3 12-8 4 0zM1602 1391l1 7-6 14-13 7-4 0-4-3-3-6 2-4 7-3 10-2 2-1 2-8zM1904 1411l0 3-4 6-4 2-4-2 1-4 3-4 4-2zM675 1422l3-1 4 1 0 7-2 1-5-2-1-2zM2058 1424l2-2 6-1 0 7-6-1zM687 1438l-1 4-6 5-4 0-4-3 10-8zM902 1448l6-3 10 2 4 6 0 7-4 3-8-6-8-2-2-3zM911 1476l0 4-4 16-7 9-6 2-20-5-10 5-12 1-8 13-2 1-3-2 2-26 11-18 6-1 4 2 5 7 3 10 6 5 14-4 4-5-2-6-12-3-3-3 2-12 5-7 10-1 2 2 2 12zM812 1478l6-3 8 3 6 8 0 6-8 3-14-5-2-4zM1040 1480l4 2 1 4-4 6-1 6-2 2-4-3-3-13 3-3zM973 1494l1-2 9-4 5-4 4-1 8 4 5 9-3 5-8 2-18-6zM768 1541l1 5-1 4-12 11-12 6-2 3 0 8-8 8-6 2-10-1-5 3-3 9-8 2-4-2-2-11 3-10-5-6-2-14 12-8 6-10-2-3-10 1-4-2-1-4 3-4 11-6 5 0 11 8 1 8 4 5 4-1 1-4-7-8 1-2 5-2 6 1 18 16 10-3zM846 1530l6 2 2 4-2 10-4 2-6-2-3-4 1-6zM744 1602l0 4-6 5-2 0 0-9zM700 1608l-1 4-5 3-7-3 1-2 6-4 4 0zM656 1674l4-4 5 2-1 4-4 2-2 0z"/>
<path fill="#fac8af" d="M0 0l2066 0 0 1363-10-3-10 2-8-1-8-5-8-10-4-2-6 1-8 7-6 0-4-3-4-8-4-3-20 3-8 6-12 3-4 7-2 1-16-22-2-8-4 3-5 9-5 2-4 0-6-4-3-12-9-12-10 7-12 3-6-2-10-8-14 8-2 4-2 8-16-1-8 3-4 10 10 8-1 4-3 2-16-3-14 0-5-3-3-7-2-1-2 2-10 18-8 5-6 0-14-11-14-5-10-1-10 2-11 10-7 4-12 0-14 1-5-1-3-3-2-5 1-2 3-2 12-1 4-2 6-7 1-4-1-4-10-6-5-6-3-6-1-10-1-2-4-1-5 3-1 10-2 2-10 1-6 3-2 6 0 8-3 6-9 4-12 0-6 6-11 6-9 9-14 2-14 6-30 7-18 10-46 11-10-1-6-4-7-10-5-18-20-14-8-12-8-5-6-7-4-2-3 2-4 10-9 6-10 1-2 7-3 4-11 5-8-1-12-6-26-9-12 3-16 9-18-8-18-6-12 1-16 6-14 0-16 8-22 20-20 4 0 10-4 4-4-3-6-8-9-5 1-8-5-4-23-3-6 3-2 0-16-12-18-7-10-6-2 1-1 4 8 12-1 2-4 2-18 2-20-8-17 2 0 2 5 8 0 12-6 6-10 3-3 3-2 6 3 10-4 5-6 2-12-2-12 3-6-1-12-11-6-15-4-1-14 3-10-6-12-5-6-4-4 1-10 5-8 8-6 1-4-3 0-2 8-8-7-16-4-14-11-7-6-6-12-1-2-4 2-6 2-2 10 3 6-3 0-14 5-30 0-16 9-34 0-6-3-6-5-2-12 3-12-4-32-5-2-10 4-12-2-5-6-4-12-3-10-6-10-1-6-4-10-15-3-12-3-4-4-2-6 2-2-1-6-13-10 0-4-2-2-6 4-10-1-4-18-26-5-5-26-12-14-3-12-6-6-1-10 2-10-2-12-9-8-2-6-8-14-6-6 0-12-13-8-3-7-16-23-14-4-4-4-10-7-8-8-24-9-10-3-14-3-6-9-8-9-12-18-8 0-8-2-2-14-2-2 2 4 12-2 5-7-3-6-12-9-1-4 1 0 4 6 14 1 14 8 12-1 10 2 6 10 12 3 12 7 10 0 12 2 4 10 8 7 18 7 1 4 2 12 19 6 16 14 26 1 12 11 9 7 9 17 2 6 11 10 7 5 10 21 7 22 15 10 3 10 13 16 8 17 20 5 10 2 2 10 0 4 4 0 4-2 2-8 0-11 8 0 4 13 5 12 1 12 9 6 3 4 4 7 18-2 4-5 6-1 8 6 8 11 2 2 2-5 8-9 1-2 5 1 18-1 14 1 14 11 15 6 5-5 6-2 10-3 3-6 2-6 15 1 10 5 3 8 9 1 4-1 2-4 4-14-4-6 4-4 10 7 10-9 8-3 10-7 9-7-3-5-12-11-10-6-20 5-28 2-20-6-16 8-10 1-26-3-9-8-4-54-6-8 6-8 13-12 5-8 8-5-1-6-10-5-1-6 2-10 8-4 0-8-3-6 10-12 5 0-3 4-8 4-4 6-2 1-4-6-6-15-3-4 3-10 20-8 3-8 5-6 2-12-5-11-15-9-3-24 4-10 11-10 0-10 6-11-6-3-12-2-2-18-9-19-3-1-2 2-10-3-4-7-4-14-4-6 1-4 3-4 16-4 5-6 4-4-2-6-7-4-2-32 8-16-4-6 1-4 3-4 10-4 4-12 3-6 0-14-5-34 6-16-5-22 3-20-11zM486 243l-4 5 0 4 4 4 6 0 4-4-1-6-3-3zM518 312l-4-1-5 3-3 18 1 4 5 6 0 10 7 18-1 26-6 17-4 5-12 4-16 25-10 11-6 10-7 6-5 12-11 8-1 6 2 14-2 6-20 7-5 7-17 9-10 11-10 5-4 5-6 1-10-6 0 11-4 10-6 6-10 4-10 22-12 4-1 8-6 8-2 10-3 8 0 10-4 22-11 30-5 6-3 6 0 8 3 8-1 12-1 10-6 8 2 3 4 0 12-6 8-6 24 4 5-3 1-4-4-8-2-10-6-5 0-3 7-10 6-38 5-6-5-12 9-10 5-26 8-6 3-12 10-10 0-12 10-2 18-11 6-7 8-5 6-7 25-24 11-16 19-18 5-9 10-3 2-8 7-12 8-6 7-11 12-9 10-14 6-12 1-12 6-8 1-6-8-22 0-16-7-14-2-14zM543 342l5 2 3-2 0-2-5-1zM404 366l-2 1-1 3 7 10 0 7 2-3-2-4 3-8-3-5zM406 392l-4 5-2 7 2 6 2 3 4 0 3-1 0-14-3-5zM408 426l-6 1-4 4-3 7 2 4 5 0 4-4 3-8zM366 541l-2 0-2 2-1 7 5-2zM316 771l-5 3-3 4 1 8 4 12-5 8 0 4 2 4 4 3 10-1 0 3-6 7 0 8 2 4 8 5 4 5 3 8-4 6 0 2 6 2 5-8 10-1 7-7 0-4-6-10 1-14-6-10-2-12-6-6-6-9-8-1-8-12zM284 781l-2 1-2 4 2 5 5-3 0-4zM322 901l-3 3 1 20 4 18 10 23 10 17 4 12 6 10 11 12 2 10 7 14 10 32 6 10 6 2 20-14-1-4-7-9-8-3-2-2-3-10 0-10-9-18 0-10-2-11-4-2-8-1-16-8-2-14-4-8-2-10-6-13-6-7 5-10-7-4-3-4 3-12-2-1zM1274 1272l-5 2-9 9-5 11-10 10-1 6 2 5 4 4 15 7 6 16 9 4 4-2 6-8 1-12 19-9 2-3 2-6-10-27-4-2zM929 1338l-3-4-16-10-8-22-5-4-5-1-20 11-8 15-10-3-8 4-4 0-4-2-8-8-6 1-3 5 2 20-3 2-6-2-1 2 3 7 6 5 17 8 7 5 22-15 8-4 14 6 14-3 3 3 1 6 2 4 10 6 2-2zM508 1307l-2 3 0 4 2 2 4 0 2-2-1-4-1-2zM480 1333l0 3 2 1 4-3-2-2zM510 1036l3 6 2 12-4 6-9 20 0 6 7 16-1 4-2 1-7-3-5-10-1-8-8-10 3-2 4 1 3-3-4-10 1-10 10-6zM540 1062l3 4 0 10-3 5-4 2-6-3-1-4 5-9zM560 1357l4-1 6 6 2 4-2 4-4 1-3-3-3-6zM1950 1366l10-5 10-1 2 2-3 10-5 4-10 0-4-1-1-5zM777 1372l6 4 3 4-1 10-3 2-8-1-4 2-4 3 0 8-3 0-1-4 3-6-6-8 3-2 8 4 6-2 1-4-4-8 1-2zM465 1374l5 2-1 4-3 0-2-2-1-2zM1944 1379l2 3 0 6-4 5-8 6-3-9 3-10 2-2zM328 1379l5 3 1 4-2 2-4-1-2-3zM208 1382l4 1 5 7-1 4-4 2-6 0-3-2 1-5zM44 1388l3 0 1 2-2 6-4-2-1-2zM846 1394l2 1 2 3-3 4-3 1-2-1-1-4zM774 1410l10 2 4 6-2 10 2 18-2 6-4 2-11 0-3-3-1-3 0-8 5-14-1-14zM1081 1416l5 0 2 3-4 1zM986 1428l3-6 5-3 15 3 2 2 1 4-2 4-16 2-6-2zM676 1422l4 0 2 2-2 5-5-3zM684 1438l2 2-3 4-4 2-3 0-1-2 1-2zM1018 1440l2-2 2 1 1 3-3 2zM818 1482l4 1 0 4-5-1-1-2zM764 1544l1 2-1 2-4 3-4 7-12 5-2 3-2 12-6 7-6 2-12-1-5 4-3 7-4 1-4-1-2-5 3-14-6-8-2-10 1-3 11-7 6-8 1-4-4-3-8 2-4 0-2-3 2-5 14-7 9 8 3 10 4 4 6 0 3-2 0-4-2-6 1-2 10 5 14 13 2 0z"/>
<path fill="#f9c4a9" d="M0 0l2066 0 0 1344-10-3-8 11-6 3-7-3-9-12-4-3-6 0-12 6-4 0-10-11-16 2-21-6-3-6 1-10-3-4-20 2-16 13-6 1-7-8 0-10-2-4-11-12-6 2-9 10 3 8-2 5-4 1-4-4 4-8-1-4-8-6-7-2-8 4-8 16-6 4-4 1-2-3-3-14-3-5-4-2-8-1-8-7-6-1-5 2-1 2 2 4 8 5 10 1 3 4 0 6-3 8-4 4-10 3-10 7-6 1-8-4-4 1-10 10-1 16-3 7-4 3-6-2-10-9-24-5-8-8-14-1-8-5-14-5-6-8-4-17-4-2-4 0-10 4-8 12-13 6-6 8-5 11-12 3-9 10-18 14-55 16-18 9-44 12-8 0-8-4-7-9-4-22-18-12-8-14-10-8-9-12-4-1-6 3-8 14-4 2-8-2-6-4-1-12-1-4-4-3-10-2-2-2 2-17-7-6-2-6 4-18-3-5-4-2-2 1-4 7-4 2-8 0-18-5-6 1-14 15-4 10-8 9-2 7 2 8 6 8 12 8 4 16-2 6-8 6-6-2-13-12-7-3-26 8-12 5-20-1-10 4-24 25-8 3-6-2-10-11-20-3-12 1-12-8-14 0-4-4 0-8-2-2-4-1-14 3-14-8-6 1-7 5-1 4 3 10-3 4-6 0-6-2-8-7-8 0-4-1-2-4 1-10-5-4-4 1-3 3-3 12-2 2-16 3-4-9 4-12-1-8-2-4-7-4-2-4 9-18 1-4-3-4-5-3-12 3-26-4-4 2-7 8-15 9-4 0-18-1-12-5-12 1-6-1-3-5 1-10-2-14 8-38-1-6-4-6-5-2-12 5-12-4-30-3-2-2 0-6 1-6 5-6-3-6-7-6-14-3-26-11-9-14-2-12-3-4-8-4-6-1-6-10-12-1-3-6 4-10-1-4-22-30-28-14-12-2-14-7-6 0-10 2-10-3-12-9-8-3-5-6-12-6-3-6-8 1-10-9-8-2-2-4-3-12-25-16-7-12-7-8-8-26-8-8-5-16-3-6-8-6-9-12-17-8 0-8-2-3-14-1-10-8-3 2 11 15 1 5-1 4-4-1-3-3-5-11-14-1-2 1 0 3 8 18 1 14 7 8 1 18 10 12 4 12 7 10 1 16 3 4 6 3 4 6 2 7 0 6-6 2-6-19-12-2-12-5-3-4-2-12-6-18-6-14-5-6 6-12-2-2-6 0-4-4 4-14-16 3-2 3 0 6 4 32 12 26 8 14 4 12 17 22 19 56 7 10 5 4 23-16-1-4-6-8-10-5-2-3-2-8-1-10-5-16 0-2 4 0 6-4 4-1 4 1 15 22 4 14 14 26 1 12 12 10 5 8 5 2 12 0 8 12 9 6 5 10 22 8 20 13 12 5 8 12 16 7 8 8 12 15 4 9 2 2 10 1 1 4-9 2-12 8-2 2 0 4 6 5 24 2 20 13 8 20-7 10 0 10 5 7 10 3 1 2-5 6-8-2-1 2 2 24-2 14 1 14 13 20-3 6 1 6-2 4-3 1-2-5-2-1-3 3-7 34 2 5 2 1 6-2 4 3 3 5-1 4-4 2-12-3-4 2-7 11 0 4 6 8-1 2-8 6-1 8-5 8-4 2-5-4-3-10-13-14-3-16 5-32 1-18-1-12 6-12 0-30-8-18 4-8-1-4-2-2-4 0-5 10-4 2-19 2-10-2-4-2-8-14-10 2-5-2-2-6 1-6 6-3 6 2 2-1-4-4-10-2-6 1-22 13 2 10-2 6-4 2-12 0-4 3-4 7 2 12-10 8-4 0-14-11-13-5-7-12-4-3-4 1-4 6 4 14-2 10-4 4-4 0-3-4-3-10-4-3-4 0-2 1-1 4 3 20-2 4-2 1-4-2-4-4-4-9 0-10-6-4-4 1-8 5-8 1-6-1-6-3-4-1-7 4-5 8-4 3-6 1-6-1-2-5 2-20-2-5-4 2-8 9-6 4-6 0-18-5-2-3 0-6-4-4-37-16 0-4 5-6-2-3-5 1-3 4-5 24-3 4-14-2-22 9-10 0-4-2-3-5-3-14-4-4-6-1-6 3-8 8-14 2-3-2-1-8-10-4-6-1-4 7 1 8 17 13 16 6 1 7-1 3-4 2-8-1-8-6-26 7-22 3-9-6-3-11-16 12-6 1-5-2-9-9-6-3zM484 244l-3 6 3 6 6 2 4-2 3-6-3-6-4-2zM518 311l-6 0-4 3-2 18 1 4 4 6 1 12 6 16 0 26-6 16-4 5-12 3-16 27-10 10-6 10-8 7-5 12-11 8-1 6 3 14-3 6-20 6-5 8-15 8-15 13-8 2-4 6-6-1-5-6 1-2 5-4 1-6-2-6-2-1-10 21 3 10-2 10-7 6-10 5-4 7-5 14-3 2-10 3-2 9-7 8-1 10-4 8 2 10-3 10-1 10-12 32-5 6-2 6-1 8 3 8-1 14-2 8-5 8 3 5 4 0 22-12 22 4 6-4 1-5-4-8-2-10-6-6-1-2 8-10 6-36 6-8-6-12 9-10 4-26 9-6 2-10 10-10 0-12 2-2 8-1 6-5 12-7 6-6 8-5 6-8 24-22 20-26 12-10 4-7 12-5 0-8 8-12 8-6 6-11 15-11 13-23 1-13 6-8 1-6-7-22-1-18-6-12-3-14zM542 340l0 4 2 1 6 0 2-3 0-3-2-1zM404 365l-2 1-1 4 5 10 0 4-7 20 5 10 8 1 2-1-4-22 2-20-4-6zM410 425l-6-1-6 5-4 9 2 6 4 1 6-6 4-7zM396 484l-5 2-1 4 4-2zM285 672l4 2 3-4-4-1zM316 769l-9 7 1 14 3 8-4 8-1 4 4 6 7 6 0 8 2 8 9 6 4 6 1 6-4 8 2 2 7 2 4-8 12-3 6-7 0-4-7-10 2-14-7-12-1-10-7-7-6-11-2-2-4 3-10-15zM282 780l-3 8 1 4 2 1 4-2 2-5-1-4zM1566 1004l1 2 3 0 12-3 2-3-4-3-8-1-4 2zM771 1206l5 4 3 0 2-2-7-3zM1056 1236l-2 2 0 8 4 6 4 0 3-2 0-4-5-7zM1336 1262l2 4 4 1 6-3 2-2-3-4-5-2-4 2zM1702 1294l-6 6 0 7 4 5 8 1 2-5 0-8-4-5zM1730 1297l-3 3 0 18 3 2 7 0 3-4-2-12-4-6zM59 1310l-7-2-6 2-4 18 2 11 17-9-4-10 3-8zM340 1310l-4 4 0 4 4 5 4 0 1-3-1-6-2-4zM356 1326l0 2 2 2 4-1-2-4zM510 1039l2 5 0 8-4 6 0 8-6 10-1 8 7 18-2 4-5-2-5-10-2-10-6-6 6-2 2-3-5-11 2-10 9-5 6-8zM540 1065l3 5-1 8-4 3-4 0-3-3 0-4 5-8zM514 1328l1 2 1 6-5 10-7 2-10-2-1-6 6-8 9-4zM1293 1344l11-10 12 3 12-1 3 4-1 10 2 12-4 4-8 0-26-14-2-4zM865 1362l3-4 6-2 16 4 6 4 5 10-9-1-10 3-4 2-6 6-4 1-4-5zM822 1366l6 0 5 2 2 6-3 7-4 1-4-4-3-8zM959 1384l1 4-2 4-12 5-5 5-3 14-2 1-2-1-5-8-5-3-4 0-4 3-1 10-3 3-6-3-6-6-1-6 2-18 3-8 22-2 10-6 10 8zM776 1412l6 2 3 4-3 12 4 14-1 4-3 3-10 2-3-3-1-6 1-6 4-8 0-16zM710 1523l8 9 2 8 4 4 4 2 6-1 4-8 2-1 4 2 8 8 4 6-4 6-10 3-3 15-6 8-5 2-12-2-6 4-3 6-3 2-2-1-1-3 2-14-7-9-2-9 12-10 7-8 1-4-2-4-2-1-12 4-2-1-1-4 3-3z"/>
<path fill="#f8bda1" d="M0 0l2066 0 0 1274-14 0-12 8-5 8-1 16-4 4-8 0-4-2-6-15-4-3-2 2-4 8-9 10 1 10-18 8-8-2-3-4-7-20 2-14-4-6-6-4-12 4-10-4-4 0-3 6 2 6 5 3 8-1 2 2 1 4-3 4-24 11-2-1-4-15-12-12-10-2-14 9-12-6-8 0-9 2-9 5-4 1-8-7-13-5-1-4 4-5 0-3-4-3-4 1-5 8-12 4-6 6 0 4 9 10 2 6-2 3-14 6-10 1-8 2-4-2-11-20-19-16-4 0-8 5-13 1-7 12-4 11-16 8-4 0-3-3-2-10-4-6-5-4-4 0-16 6-10 11-12 6-14 19-10 7-8 11-18 14-54 17-18 8-46 13-8-2-8-10-2-6 1-16-2-6-3-3-12-5-4-4-6-15-12-7-3-12-10-10-3-18-3-10 4-14-1-5-10-8-14-5-10 1-10 7-6-2-3-4 0-6 9-4 3-4-3-6-4-2-10 5-14 0-5 3-2 6 6 14-2 6-5 1-16-4-6 0-5 3-13 16-11 18-3 8 0 8 5 14-3 6-8 2-18-3-4 9-20 9-20-4-6 4-16 13-19-10-3-8-6-4-4 2-1 4 9 10-1 8-3 2-14 0-12-7-8 5-4 0-5-6 0-8-1-1-10 3-10-10-24-7-28-1-6-10-8-4-10 2-7 8-11 1-14 5-3-4 0-10 9-10 0-10-5-12-15-6-24-1-10 2-14-1-12 7-14-3-9 10-5 2-4 0-8-5-14-2-9-21 7-36-1-8-5-9-6-3-4 1-6 5-6-1-4-5 7-8-3-5-30-10-12-8-16-3-26-12-8-12-1-12-3-4-10-7-6-2-6-7-10 0-3-2-1-4 3-10 0-4-19-27-5-5-27-12-12-2-14-7-6-1-10 2-8-2-12-9-8-3-6-6-11-6-5-7-10 0-8-7-8-4-2-4 2-8-2-2-28-18-6-10-7-8-6-16-2-10-8-10-5-16-4-6-8-6-8-11-17-9 0-6-2-4-13-1-10-9-4-2 1-8-7-12 3-14-8-12-1-10-8-8-6-13-4-3-4 1-2-1-2-4 0-2 8-2 5-8-6-10-1-10-6-8 6-10 7-36 6-6 0-6-5-5-1-3 9-10 4-26 9-6 2-10 10-8 1-14 8-2 7-6 13-7 42-41 20-25 11-9 7-9 11-3 0-10 7-11 8-6 6-11 18-14 10-20 2-14 7-12-8-26 1-18 2-2 8 0 2-2 1-4-1-3-6 0-4 2-4 5-2-1-4-5-3-16-9-10-6-2-4 1-3 3-2 18 1 4 5 8 0 10 7 16 1 14-2 12-6 16-5 5-11 3-15 26-10 10-6 11-8 6-6 13-10 7-2 7 3 14-3 6-20 5-8 11-12 6-14 12-12 2-2 5-3-1-2-4 4-6 0-10-3-4-2-1-2 1-10 22 4 10-2 10-6 5-10 5-5 8-2 10-3 4-13 4-2 10-7 8 0 10-5 8 2 10-3 10 0 10-12 31-6 6-2 5-1 8 3 10 0 12-2 8-6 10 1 4 5 4-2 12 2 5 6-3 3-4-1-6-4-4 0-4 4-2 10-3 6-5 6 0 5 2-3 4-6 5 0 14-6 1 0 4 2 2 6-1 1 5-4 6 0 4 10 14 3 14 10 7 4 5 0 6-6 8 1 2 13 5 9 23 0 12 7 6 2 4-1 10 1 6 10 12 4 12 7 10 1 4-1 8 2 8-3 2-6 0-14-8-9-30-9-20 5-10 0-6-9 1-3-3 5-14-1-2-15 3-5 5-1 6 4 28 11 28 10 16 4 12 18 24 8 22 9 30 8 14 4 3 4 0 8-8 12-6 2-3-8-13-10-5-4-10 0-10-3-12 7-9 4-1 4 1 14 21 4 14 15 26 1 12 11 10 5 8 6 2 12 1 8 11 8 6 6 11 21 7 21 14 11 4 3 3 5 9 17 8 8 8 11 14 7 14-3 6-9 4-3 4 1 6 4 7 4 1 8-3 16 1 21 14 5 18-2 2-4 0-1 16 4 12-2 6 3 24-2 16 2 16 9 16-11 14-2 14-7 22 5 9 8-3 5 4 0 4-5 2-8-4-8 5-5 9-1 4 5 10-9 8 0 8-4 6-4 2-4-2-3-12-11-12-4-16 6-32 0-28 6-14-1-10 1-20-3-14 1-16-6-7-6-1-5 2-9 10-10 3-8-1-7-8-7-24-7-4-21-2-16 8-14 1-4 2-3 3-1 4 7 10-11 5-10 12-3 11-3 1-8-3-8-12-8-3-10-8-6 1-14 9-5-3-23-4-20-8-7-16 15-6 5-6 1-4-1-4-3-4-10-3-6 1-2 2-1 18 1 4-12 1-3 13-7 9-2 0-12-4-20 10-12-8-20 2-16-4-2-3 4-2 6 3 4-1 3-4-1-6-4-4-6 3-4-1-18-14-4 1-12 11-5 8-5 14-24 11-8-1-6-3-1-5 2-10-3-4-6-3-24 5-12-6-10 3-4 0-10-7-6-1-18 4-25 1-5 2-2 10-2 3-16 4-4-2-8-6-6-2zM486 242l-5 6 1 6 4 4 6-1 5-5-1-6-4-4zM404 364l-4 4 0 4 5 10-6 22 3 9 10 8 3-3 1-4-3-10-1-32-3-6zM410 422l-10 3-7 11 0 6 6 6 1 10 2 0 1-2-2-8 10-16 1-9zM399 480l-11 6 0 5 2 1 4-2 5-6zM294 670l-1-2-3-1-8 5 1 2 5 2 4-2zM1563 1004l1 4 6 2 6-3 10-3 1-4-5-5-12-1-5 4zM1480 1228l3 4 7 4 4 0 4-3 4-9-4-3-6 0-8 3zM1050 1231l-3 3-1 4 5 12 7 6 8 1 3-3 1-6-5-12-3-4-4-2zM2017 1268l2 4 5 1 2-1 2-4-4-2zM440 1290l-1 6 3 4 18 3 6-1 1-4-3-10-6-6-10 2zM342 862l4-3 7 1 4 6-1 2-12 0-3-2zM362 872l2 0 4 3 2 5 0 4-4 0-3-2-1-4zM386 990l4 1 4 6 1 5-1 4-2 1-3-3zM510 1041l2 7-6 8 1 10-7 10-2 7-3-3 3-6-6-12 1-8 3-4 6-2 6-7zM538 1067l3 1 1 6-2 5-4 1-4-2 0-4 2-4zM498 1088l4 3 4 8 0 5-3 0-6-10 0-4zM749 1212l3-4 6-1 7 3 5 6-2 2-16 1-3-3zM1326 1275l4-1 16 2 7 4 2 4 1 12-1 6-3 3-10 4-9-3-1-14-8-10 0-4zM2066 1283l0 13-6 1-8 5-2-4 3-8 5-4zM646 1304l4-2 6 2-2 4-2 1-3-1zM2066 1314l0 12-8 0-12 9-4-1-3-6 3-6 14-10zM324 1319l10 7 1 6-5 7-12 3-2-4 0-10 4-7zM1734 1332l6-2 4 2 0 2-2 4-4 1-3-3zM16 1334l5 4 1 4-2 3-4-1-2-4 0-4zM85 1340l-3 4-12 5-12 1-4-4 1-4 5-3 12 1 10-2zM1124 1371l9 3 1 2-2 4-4 2-4-2-1-6zM919 1388l4-2 9 0 6 2 2 4-4 5-4 1-12-8zM776 1414l5 2 2 4-2 4-3 3-2 0-2-5 0-6zM774 1433l8 5 1 6-3 5-8 2-3-3 1-10zM712 1526l0 4-12 5-4-1 1-4 9-4 4-1zM750 1546l3 4 0 4-5 3-8-1-3 20-5 8-6 1-10-3-10 5-2-11-8-10-1-4 2-4 21-17 7 5 9 1 3-1 3-6 2 0z"/>
<path fill="#f7b799" d="M0 0l2066 0 0 1270-12-3-10-9-4-1-8 0-22 5-3 6 1 10-8 6-4 13-4 3-9 4-5 12-4 2-9-14 3-14-11-22-17-12-4 1-6 6-13 5-2 4-1 10-2 3-2 1-8-10-14-3-17 11-13-3-26 2-4-2-5-9-10-10-5-2-6 0-4 2-8 10-22 14 1 6 8 8-8 6-7 3-4-1-4-2-7-12-11-8-10-12-4-2-14 7-14 0-6 3-4 13-4 5-4 2-6-2-14-13-8-1-18 7-10 10-15 9-14 22-15 17-18 16-54 17-16 7-46 13-8-3-7-9 0-8 3-18 0-4-6-4-12-5-4-3-5-14-10-8-5-10-10-12-2-24 2-12-1-6-19-22-5-12-3-3-12 4-12-7-6-1-12 6-14 1-5 2-4 6-3 14-14 2-6 3-8 13-16 20-6 14-6 9-4 0-8-15-6 0-4 2 1 12-5 12-1 10-2 4-4 2-9 1-21-9-5-6-8-18-16-8-4 1-5 5 1 6 20 19 10 5 2 4-2 7-8 6-6-1-22-18-4 0-12 6-14-13-14 0-10-4-6 1-10 9-10-5-6-2-8 1-10 4-6 0-4-3-7-8-11-6-6 1-20 8-3-17 1-10 2-2 14-7 12-11 14-1 6-5 5-6 3-12 0-4-6-3-6 2-14 20-26 9-12 7-30-3-14-5-10 6-12 0-14 3-6-3-6-8-4-2-4 1-5 10-5 4-10 5-8 0-3-3-9-16 1-12 4-16 1-10-2-8-8-11-20-13-28-9-14-8-16-2-26-12-7-11 0-12-3-4-10-8-8-3-6-6-12-1-2-4 4-10 0-4-20-28-4-4-28-13-12-2-14-7-6 0-10 1-8-2-12-9-24-14-6-9-10 1-8-7-7-3-2-6 7-6-1-2-17-7-18-13-4-8-8-9-6-15-1-10-9-11-6-16-4-7-8-6-8-10-13-8-3-8-4-4-10 1-7-5-5-8-1-6-8-10 3-16-8-12-2-10-7-8-10-20 5-12-6-10-2-10-5-8 6-10 7-34 7-8-1-7-4-3-2-4 9-10 3-12 0-13 10-7 2-11 10-5 2-14 6-3 8-7 12-6 5-6 8-6 5-7 10-7 15-16 19-24 12-10 6-8 14-4-2-8 1-4 6-8 7-6 7-12 17-12 11-22 1-12 7-14-7-24 0-12 2-7 10-3 2-8-2-2-8 1-8 4-3-3-3-16-10-11-6-2-4 1-4 4-1 18 1 5 5 7 0 10 5 12 2 16-1 16-6 14-5 5-10 1-2 1-14 26-10 10-6 11-8 6-7 14-9 6-2 8 3 14-3 6-20 4-6 10-14 7-12 11-4 2-10-2-3-14-3-4-4 0-12 26 5 8-1 8-6 6-10 5-6 9-2 10-3 4-14 4 0 10-8 8 0 10-5 10 2 8-4 10 2 8-13 32-5 6-3 6-1 8 3 10 0 12-2 8-6 10 5 10-1 14 1 2 2 1 6-4 4-5-1-6-4-6 1-2 10-3 7 5 2 10-7 4-1 2 2 4 5 4-1 8 3 12 8 7 5 13 9 6 4 6-1 4-7 6 0 5 13 3 6 10 5 16-2 14-8 4-3-2 0-4 5-12-2-2-18 4-3 4-2 8 4 28 12 30 8 14 4 12 18 24 9 22 9 30 9 16 4 3 4 1 8-10 12-6 3-4-9-15-10-5-3-8-2-22 6-8 3-1 4 1 14 20 4 14 9 20 5 6 1 12 11 10 6 9 18 3 7 10 9 7 6 10 20 7 20 13 12 6 4 3 4 8 18 8 10 11 8 11 5 12-2 6-10 6-4 4 1 6 8 15 4 0 8-8 16 0 18 11 3 4 1 12-4 3-1 3 1 14 2 10-1 10 4 22-2 18 2 18 6 12-9 16-2 16-7 20 4 10-12 16 0 6 4 8-10 8 2 4-1 5-4 5-4 0-2-4 1-8-7-4-5-6-5-16 1-12 5-20 1-28 5-14-1-12 2-20-2-14 0-16-7-10-8-8-2 0-6 5-8 13-8 2-6-1-3-3-2-6 1-14-8-12-22-1-16-6-10 3-10 7-12 1-4-2-8-9-10-2-21 9-5 9-8 8-4 9-4 5-6 2-18 0-12-5-7-6-3-4 5-10 10-10 1-8-2-4-16-6-18-1-6 2-8 5-8 1-5-3-4-10-5-1-10 4-4 3 2 16 0 10 2 3 20 5 4 6-1 2-3 1-8-2-4 0-12 6-5-1-7-10-4-2-4 0-6 4-2 0-7-16-15-6-8-10-4-2-37 4-1 2 2 2 10 3 2 1 1 4-15 17-4 2-12-4-14 2-12-9-18 8-6 1-5-3-1-10-2-1-13 11-5 1-6-5-11-4-7-6-4-1-10 3-10-8-4-1-13 5-2 4 1 4-2 2-12 2-14-1-10 2zM486 242l-5 4 0 8 5 4 6 0 5-4 0-8-5-5zM404 363l-2 1-3 4 5 14-6 20 2 8 6 10-10 8-4 12 4 10 2 10 4 2 3-4-1-12 8-12 6-22-2-8 2-6-4-6-1-12 0-10-5-6zM400 476l-14 10 0 4 2 3 6-1 7-8 1-4zM280 674l10 2 6-6-2-3-4-1-8 4zM1589 998l-7-6-14 1-6 5-2 8 3 4 7 3 6-4 11-3 2-4zM1578 1078l-2 4 2 4 2-1 1-3-1-4zM1560 1098l0 5 4 3 6-1 4-5 0-2-4-2-6 0zM1474 1230l4 5 16 6 6-2 6-8 8-5 0-2-12-7-8 0-16 6-3 3zM1044 1228l-5 8 1 10 20 16 6 1 4-1 4-4 1-6-2-10-5-11-4-3-6-2-8 0zM1971 1264l1 6 6 4 12 2 4-2 1-2-1-4-12-9-6 0zM148 1274l-2 2 0 4 6 5 4 0 2-3-1-4-5-4zM1102 1276l-4 3 2 4 4-3 0-3zM1186 1291l0 3 2 3 4 1 4-2-6-6-2 0zM1103 1308l1 3 2 1 3-2 0-2-3-2zM303 768l3-3 6 1 0 2-4 3-2 0zM343 862l3-2 6 2 1 4-5 1-4 0zM364 874l5 4 1 4-2 2-5-4zM350 910l6 4 1 18 11 12 4 12 7 10 0 20-3 2-6-1-10-7-14-38-3-14 5-16zM390 994l4 6 0 2-2 2-3-4zM510 1043l0 6-5 5 1 12-2 4-4 2-6-8 0-10 2-3 8-2 4-6zM538 1068l3 2 1 4-2 4-4 1-2-1-1-4 2-4zM1338 1283l4 0 4 3 0 8-2 3-7-11zM439 1314l4-4 9-1 8 2 4 5-3 6-7 3-14-9zM774 1436l6 4 0 4-5 4-3 1-2-3 0-4 2-5zM643 1442l0-2 3-1 3 3-3 2zM742 1544l7 4 1 4-2 2-4 0-5-4 1-4zM716 1545l4 0 12 4 4 3 2 10-1 12-3 6-4 4-4 0-8-3-10 0-10-15-1-4 1-4z"/>
<path fill="#f6b191" d="M0 0l2066 0 0 1266-8-2-14-12-8-2-6 1-10 4-10 0-10 6-4 0-21-11-7-8-4 2 0 6-2 4-8 1-4-3-4-12-4-2-11 6-7 9-8 3-8 6-4 1-17-13-2-14-3-3-16 13-10 0-12 4-12 0-8 7-4 0-18-8-6 1-3 2-4 10-3 4-12 8-8 1-4 2-6 14-15-9-7-7-6-9-4-3-4 1-11 8-5 2-18-1-18-3-12 7-14 0-16 9-8 12-19 14-11 20-13 16-20 18-51 17-16 6-46 13-6-2-4-4-3-10 3-13 10-11 2-6-4-2-16 0-10-5-8-15-8-8-12-16-2-6 0-10-2-12 1-14-1-4-19-26-5-12-6-4-16 1-14-4-6-1-12 6-19 4-15 12-14 1-6 9 1 14-4 8-9 7-12-1-10 10-8 3-10-3-9-8-1-6 6-16-2-2-12 12-5 14-3 4-13-2-4 10-3 3-4 1-4-2-6-6-6-1-12 9-4 1-5-5 3-15 6-7 8 1 4-2 5-9-1-8-12-9-10-1-3 2-2 4 1 4 7 6 1 2-2 2-10-5-4-5-2-6 0-8-4-5-5 1-1 10-6 2-4-4-6-12-7-8-25-5-28 13-6-1-10-4-5 1-1 4 6 10-4 9-6 5-8-4-4 0 0 8-3 4-15 5-10 8-6 0-11-5-4-4-19-11-6 4-6 11-6 4-10 2-6-1-10-11-6-2-8 0-9 4-3 10-4 5-4 2-4-1-8-10-2-6 0-10 4-14 0-14-6-12-5-6-19-12-30-9-14-7-16-3-26-12-6-9 1-10-3-6-12-10-8-3-6-5-10-1-2-1 0-4 3-8 0-4-6-10-18-22-29-13-12-2-14-7-6-1-10 2-8-3-12-10-23-12-7-10-10 1-8-7-6-2-1-6 6-4 0-4-21-9-14-11-13-18-7-24-9-12-10-22-15-16-13-10-7-10-4-2-8 2-5-4-5-12-10-12 3-16-8-10-2-12-8-10-8-18 4-12-7-12-1-8-5-8 5-8 8-34 7-8 0-10-6-6 8-10 3-12-1-12 10-7 1-9 3-4 6-2 8 2 1-2-5-8 2-7 12-11 14-6 4-6 8-6 6-8 8-5 22-24 13-17 12-10 5-7 4-2 8 0 4-2 1-3-4-6 1-4 13-14 7-12 17-12 7-16 4-6 0-12 7-10 1-6-7-20-1-12 3-8 10-4 2-8-1-3-12 1-6 3-2-2-3-15-11-12-6-1-4 0-4 3-2 20 2 6 4 6 0 10 5 12 2 16-1 16-6 14-4 4-12 2-14 26-10 10-7 12-8 6-7 14-9 6-2 8 4 14-3 5-22 5-5 10-13 6-15 12-9-2-3-10-3-5-4-3-3 2-4 10-10 18 7 7-1 7-6 6-9 4-7 10-2 10-3 4-11 2-3 2 0 10-9 8 1 10-5 10 2 8-1 5-2 2-6-2-11 5-4 4 1 3 10 1 8-5 2 1 1 4-13 31-5 7-2 6-1 8 2 10 0 12-2 8-5 8-1 4 5 8-1 14 2 5 6-3 6-6 1-6-4-8 1-2 8-1 7 5 1 6-6 4-2 4 6 10 2 14-1 6 9 5 6 13 9 6 3 4 0 5-7 7-1 6 2 2 8-1 4 2 6 9 0 11-14 5-8 1-4 5-2 10 4 28 11 28 8 14 6 14 17 23 9 21 9 30 8 16 6 6 4 1 8-12 15-9 0-4-9-14-8-4-4-8-2-20 6-9 4-1 2 1 13 19 4 14 4 6 2 8 9 14 1 12 11 8 5 10 19 3 6 9 10 8 2 6 4 4 20 7 20 13 12 5 3 3 3 8 19 8 11 12 8 12 3 10-2 6-12 6-4 4 0 4 5 12-1 8-9 9-10 6-3-1-2-14-3-2-4 1-11 25-5 3-6 1-8-2-8-9-4 0-20 5-12-4-34-2-8-8-4-2-12 5-10 8-6 1-4-4 2-14-4-4-6-1-8 0-8 6-20 4-24-2-10-6-10-2-12 4-12 1-10 5-6-1-10-2-6-4-6-13-4-3-16 10 2 5 12 3 2 4-4 2-10-3-8 3-4 0-3-4 1-10-4-2-8 0-12 4-14-6-12 14-4 11-6 2-8-4-4-9-4-4-12-2-8 0-3 2 0 6 4 4 13 4 2 4-2 4-4 3-4-1-12-8-4-1-4 3-10 14-4 2-5-4-3-10 1-2 11-4 8-6 1-4-1-4-6-6-4 0-6 3-4 5-4 9-2 1-12-5-8 2-6-2-10-13-8-2-6 0-5 2-2 4-1 7-10-4-12 3zM484 242l-4 6 2 8 6 3 6-1 4-6-2-8-6-4zM584 305l-7 3-3 4 2 2 7-4zM404 363l-3 1-2 4 4 14-6 20 6 16-9 12-3 10 4 12 1 8 4 3 4 0 3-3-2-14 7-10 6-17 3-15-1-6-6-16 0-12-5-6zM400 474l-2 0-6 7-7 3-1 6 4 4 6-1 8-9 1-6zM381 510l2 4 3 1 5-3 1-2-2-2-4-1-4 1zM1591 998l-3-5-6-3-14 1-6 4-6 11 10 8 6 1 6-4 10-3 3-4zM1580 1074l-3 0-3 4-2 13-12 5-2 2 0 5 4 4 6 1 8-3 6 1 4-4-5-12 2-10zM1500 1213l-10 2-16 7-3 6 1 6 18 10 6 2 4-1 16-15 2-4-1-4zM1144 1224l2 4 2 2 2-2-4-4zM345 862l3 0 3 2-2 2-3 0-2-2zM344 894l3 4-1 8-3 4-6 2-1-2 0-3zM352 913l4 3 0 10 1 8 10 10 4 12 7 10 0 18-2 2-6 0-10-8-13-36-3-14 6-14zM498 1052l4 0 3 10 0 4-3 5-4-2-4-7 1-8zM538 1069l2 1 1 4-3 4-4-2 0-2zM620 1242l18 11 3 5-1 7-4 7 3 26-1 10 4 20-2 20 2 18 3 12-6 14-4 22-6 14-1 4 4 8-11 18 0 4 3 8-16 6-6-2-4-4-4-20 6-26 1-28 5-16-1-12 2-20-1-28-9-18-3-12-4-4-6-2-1-2 2-6 8-8 5-14 6-11 4-1zM986 1290l2-4 4-2 12-1 6-2 8-9 6-15 6-2 20 4 12 14 4 0 14-6 7 1 1 4-2 20 3 14-1 3-6 1-4 6-4 2-14-2-10 5-24-2-12 4-3-1-5-8-18-16zM1062 1288l-3 2-3 6 0 8 2 2 7-12-1-4zM26 1260l6-1 6 1 7 6 0 4-7 4-7 0-2-4zM1842 1272l6-6 10-4 10 1 3 1 2 4-2 4-5 2-18 1-4-1zM0 1265l4 1 2 4-6 2zM282 1265l2 1 3 6 0 4-3 3-4-1-2-4 2-6zM65 1270l5-1 3 3-1 2-6 0zM180 1273l6 2 3 7-3 4-6 2-4-1-3-5 2-6zM560 1276l2 1 12 11 0 4-4 3-2 1-9-10-1-6zM416 1286l2 6-9 18-7 1-8-1-3-2 3-12 6-8 8-4zM1168 1301l4-4 2 1 8 8 12 1 1 5-7 7-12 0-4-2-4-5-1-4zM568 1300l3 4 1 6-4 4-4 1-4-3 0-4 4-5zM616 1484l-2 6-3 0-1-4 2-2zM700 1558l16-11 4-1 11 4 3 4 2 8-2 16-6 5-10-3-8-1-11-13-1-4z"/>
<path fill="#f5aa89" d="M0 0l2066 0 0 1262-6-2-12-10-16-7-10 1-10-2-4 3-8 9-6 0-22-20-10-1-10-5-8 1-14 7-12 2-12 7-6 1-4-1-2-3-1-14-6-4-7-2-14 14-26 7-7-3-3-4 3-16-3-6-4-3-4 2-4 9-6 4-8 12-18 6-7 10-13 3-20 14-6 0-4-4-3-7 0-12-3-2-4 1-10 7-8 3-8 7-4-2-8-8-10-2-6 2-3 6-13 6-1-2 3-12 8-8-2-6-4 0-14 8-6 18-20 20-8 14-16 14-10 18-13 16-18 18-67 24-44 12-6-1-4-3-3-6 0-8 5-10 16-16 2-4 0-2-10-2-18 2-6-1-4-3-7-14-9-10-10-14 2-14-5-14 2-16-13-15-15-25-7-5-18 0-16-4-6 0-12 5-24 6-12 8-12 2-10 10-10 3-13 7-2 4-1 15-6 7-6 3-6-1-6-6 1-4 8-8 4-12-1-4-6-3-18-1-8-9-8-3-12-13-6-10-4-2-16 3-5 4 0 4 11 8 5 6 1 8-4 3-12-6-14-2-17-13-5 0-10 2-10-8-12-2-10-4-10 0-20 11-6 2-24-6-9-9-9-2-4 2 0 4 4 4 12 6 2 12-2 1-16 1-8 10-3 2-11 2-10-1-10 3-12-5-4 0-6 5-11 16-7 3-4-2-1-3 2-10-1-4-6-1-10 2-14-6-5 3-13 21-2 1-4-1-4-5-1-4 1-6 5-8-2-20-9-16-4-5-18-11-30-9-16-7-18-2-24-12-5-8 3-10-4-6-13-12-7-1-8-6-10-1-1-2 3-10 0-4-6-10-18-22-30-14-12-2-14-7-16 1-7-2-11-10-8-3-15-9-9-11-10 1-8-7-6-3 0-3 6-4 0-5-2-2-23-10-11-10-11-14-9-28-8-12-11-22-29-27-6-8-4-2-8 2-4-3-4-13-11-11 3-16-8-11-2-11-8-10-7-16 0-4 3-10-7-10-1-10-5-8 5-8 7-32 8-10 0-12-2-6 5-8 2-10-2-10 1-4 9-6 2-10 2-3 4-1 8 2 4-2 0-4-4-6 1-6 12-12 13-4 5-8 7-5 6-8 8-5 31-34 5-7 13-11 4-6 3-2 10 0 4-2 1-4-5-6 1-4 13-14 6-11 18-12 6-15 5-8 0-12 6-10 1-6-6-18-1-14 3-8 8-2 2-2 2-12-20 3-6-17-10-10-8-2-6 1-2 5 0 20 5 10 1 10 5 12 2 16-1 16-6 14-4 3-10 1-3 2-13 26-12 10-5 12-8 4-8 16-8 6-2 8 3 14-2 4-12 4-10 1-6 11-13 6-13 10-10-2-2-10-6-7-2 0-4 3-4 10-13 18 9 6 2 4-2 4-6 6-9 4-6 10-2 10-3 3-15 3-2 2 3 8-10 10 0 10-4 8 2 8 0 4-2 2-6 0-10 4-7 6 0 4 3 1 12 0 6-4 2 3-20 44-1 10 2 10 1 8-3 10-5 8-1 4 5 8-1 18 3 2 3 0 5-3 6-7 2 1 6 11 3 12-1 10 10 5 6 12 9 5 3 4-1 4-8 8 0 8 15 2 5 8 1 6-2 4-10 5-12 1-3 4-2 10 3 30 12 30 8 12 6 14 17 24 8 20 10 32 8 16 7 6 6 2 7-14 16-10-1-4-12-18-6-2-4-8 0-18 4-8 4-1 15 19 9 28 9 14 1 12 12 9 4 10 16 1 4 2 6 9 9 7 5 10 23 8 19 13 12 6 6 11 18 6 4 7 6 4 10 14 2 7-1 6-5 4-17 6-2 4 0 10-2 2-7 2-14-1-3 5-3 16-6 6-6 3-3-1-7-10-4-2-6 1-12 5-5-2 1-10-4-14 1-2 11-6 2-4-2-4-4-2-6 2-4 10-2 1-14-8-4 0-4 2-3 5 1 8-1 4-11 10-4-2-6-9-14-4-16-10-5 1-3 7-2 2-4-1-10-5-4 1-10 12-18 6-16-3-16-9-14 0-12 5-16-3-8 4-4 1-4-3-12-18-2-12-4-3-3 3-2 12-5 5-10 3-18 1-14 3-6-2-6-5-6 0-18 23-2 0-6-6-13-8-3-16-6-8-4-2-3 8 4 12-3 4-6 0-16-7-16 12-12-3-12 9-4-1-7-10-7-2-26 3-16 8zM488 240l-7 4-2 8 4 6 7 2 6-4 3-8-4-6zM615 280l1 2 4 0 3-2 1-4-2-1-4 1zM586 304l-4 0-16 14 4 0 10-5 4-3zM404 362l-4 2-2 4 4 14-6 20 6 16-9 12-3 10 5 22 5 3 8-3-2-14 7-12 6-16 3-16-2-10-6-12 0-12-4-6zM400 472l-2 0-6 8-8 2-1 2 0 6 3 5 4 1 4-2 9-10 1-6zM378 510l2 4 4 2 6-2 4-4-4-4-4-1-5 1zM596 511l0 4 5 1-1-5-2-1zM632 518l-4-1-16 6-1 3 1 5 4 1 16-2 2-6zM1592 996l-4-6-6-3-15 3-18 14-1 4 3 4 7 0 10 5 4 0 19-9 2-4zM1580 1070l-4 1-2 3-5 16-11 5-2 3 1 6 5 5 20 0 5-5 1-4-4-10 1-12zM428 1082l0 6 2 2 2-1 1-3-1-2zM521 1194l0 4 3 3 4 1 5-2 0-4-4-4-5-1zM126 1204l-4 2-1 2 3 4 3-6zM1498 1211l-8 1-16 7-4 3-2 6 1 6 3 4 18 10 6 6 2 1 7-9 10-6 6-14-1-4-4-3-12-7zM292 774l8 3 2 5-8 8-1-8-4-6zM344 897l2 3-1 6-3 3-4 1 0-5zM352 915l2 0 1 3 1 16 10 10 3 10 9 13-1 15-3 3-8-3-5-4-13-36-2-14zM498 1053l2 1 4 8 1 4-3 3-4-1-3-6 1-7zM1162 1242l2 2 2 10 6 6 1 4-3 8-4 3-10 0-10 4-4-1-2-4 8-15 10-15zM620 1243l16 9 4 6-1 6-5 8 3 24-1 10 5 22-2 18 3 32-5 14-3 20-8 16 0 4 3 8-9 18-1 10-5 5-6 2-4-1-4-4-4-18 1-10 6-16-1-22 6-24-1-12 2-22-1-27-7-17-5-24 5-22 4-10 3-2zM1049 1266l2 6-4 14-19 5-4 0-4-3-1-4 1-4 10-14 14-3zM701 1558l15-10 4 0 10 3 3 3 2 8 0 10-2 6-5 4-18-5-9-11-2-4z"/>
<path fill="#f3a481" d="M0 0l2066 0 0 1250-28-13-14-1-8-7-12 3-24-11-4 0-10 6-12-6-16 4-10 5-16 1-3-3-9-24-4-4-4-2-6 1-9 7-5 16-4 6-18 6-8-2-6-24-4-4-4-2-6 1-16 7-2 4-3 14-5 4-6-1-14-6-11-9-9-4-8 0-16 9-4-1-6-7-4 0-7 3-4 4 1 8 7 12-1 4-6 4-8 1-8-4-10-3-14-9-6-2-10 3-8 6-5 6-4 12-18 24-8 14-14 14-11 20-12 14-20 20-82 28-28 7-5-3-3-4-1-6 2-8 4-6 21-18 6-8 1-4-3-2-16-2-12 7-8 1-6-1-4-3-7-16-11-9-6-9 3-14-6-14 7-14 0-4-15-12-19-28-8-5-22-2-20-4-14 6-22 5-14 7-14 3-10 8-18 6-16-4-16-1-4-1-8-13-12-2-8-5-6-14-8-6-6 1-10 5-16 4-3 4-1 8-2 1-12-6-14-1-4-11-2-2-4 1-8 6-4 0-22-6-8-4-4 0-4 2-6 13-6 2-7-3-4-10-3-2-4-1-8 4-16-3-6 3-4 5 0 6 5 10-7 7-6 2-11-9-7-1-5 5-5 13-4 1-12-3-12 9-11-16-3-1-1 1 1 6-1 2-7 3-8-1-12-10-8 6-8 1-3-3-2-12-7-7-9-11-13-9-38-12-16-7-18-1-8-5-14-6-6-8 1-4 3-4-1-4-11-10-6-8-8 0-8-6-10-2 3-10 0-4-5-10-18-21-32-16-12-1-14-7-16 0-6-1-10-11-10-3-14-8-10-12-10 0-11-8-1-2 4-2 2-4-2-6-22-9-12-11-12-16-9-26-8-14-11-22-38-36-4 0-4 2-4-1-5-15-7-5-4-5 0-4 3-12-9-12-2-12-9-12-5-14 3-8-1-6-6-8-1-10-4-8 4-8 6-20 1-10 8-12 0-20 5-16-3-10 1-4 11-6 0-8 2-4 4-1 8 2 4-1 2-2 0-4-5-8 8-12 9-6 8 0 6-10 6-4 6-9 8-4 26-29 7-6 3-6 14-12 4-6 16-3 2-5-4-6 1-4 11-14 6-10 12-9 6-1 6-17 6-9 0-12 6-10 0-6-6-20 0-14 2-4 10-5 5-17 5-6 18-11 5-9-1-2-4 1-15 11-7 8-6 10-6 2-9 0-2-2-6-12-10-10-10-4 1-8-2-3-4 3-1 8-3 8 2 8 0 12 5 10 1 10 4 12 2 16-1 16-6 14-3 3-12 1-2 2-12 25-12 10-6 13-8 2-7 16-9 8-2 8 4 12-2 6-12 4-10 0-8 12-12 5-12 10-8-3-2-8-8-8-4 1-8 15-7 10-7 6 2 3 6 2 4 3-1 6-14 10-8 10 0 8-3 5-14 2-8-1-1 2 7 5 1 5-11 10 1 10-5 10 3 6-1 4-6 1-11 5-6 4-2 4 2 4 11 0 5 2 0 2-1 7-6 5-4 10-4 20 3 24-3 10-5 8 0 4 5 10-3 12 2 6 5 2 12-7 7 7 2 10-1 12 12 6 6 12 8 4 3 4-1 4-8 7 0 10 4 1 10 0 3 2 3 6 1 6-3 4-10 4-10 0-3 4-3 12 3 30 12 30 8 14 5 12 18 26 8 19 8 29 9 18 9 9 8 2 1-1 1-10 2-4 4-4 15-8-14-24-7-3-3-5 0-16 2-8 5-2 14 18 9 28 10 14-1 12 14 10 2 11 20 0 8 11 9 6 2 8 3 3 22 7 18 13 14 7 4 10 20 7 3 7 7 4 9 12 2 6 0 6-7 5-21 3-3 4-2 10-2 1-4 0-4-5-1-8 2-4 6-6 0-4-1-3-16-9-12-9-6-2-8 1-2 4 5 10 5 4 11 4 5 8 0 24-4 16-2 2-3-6-3-2-22-4-4-2-1-4 1-2 8-4 2-4-3-8-7-5-8 0-12 4-12-7-4-1-14 6-10 9-18 0-10-8-8-1-14 8-14-1-8 13-4 0-6-5-4 0-8 9-6 1-8-4-25-26-7-4-4 2-8 12-4 4-8-2-12 2-4-1-3-3-5-13-10-9-6-10-6-4-6-2-17 10-1 4 1 12-3 4-14 4-22 0-6 2-1 2 1 10-4 4-8 0-5-4-1-8-6-14 1-12-5-6-4-1-20 5-12-1-4 1-2 6 5 14-11 14-4 0-1-2 1-10-4-9-4-5-6-2-4 1-2 3 2 16-4 4-12-1-22 6-16 0-12 5zM488 239l-7 5-2 8 3 6 8 2 7-4 2-8-3-6zM625 276l-3-2-4 1-4 3 0 4 8 0 2-2zM406 361l-5 1-3 4 0 6 3 10-6 20 5 16-8 12-3 12 4 12 0 8 5 6-6 10-4 2-6 0-1 2 3 12 4 4 6-3 11-13 1-4-6-10 9-6-2-14 7-12 2-8 4-8 3-14-1-10-7-14 0-12-4-6zM596 498l-6 4-8 10-1 4 7 7 12 5 3 6 5 15 4 3 3-2 7-12 10-1 4-2 3-7-1-12-2-4-4-3-14 3-4-1-12-13zM394 508l-6-5-6 0-4 3-8 12 2 2 6-3 10-1 6-4zM1592 990l-12-7-6 4-12 3-16 13-2 5 6 8 10-1 10 5 12-4 12-8 0-12zM1580 1067l-4-1-2 2-6 20-13 8 0 8 5 6 6 1 16 0 6-5 2-6-4-10 0-12-2-6zM428 1079l-2 3 1 6 1 2 4 1 3-5zM1047 1120l5 5 4-1 1-2-1-3-4-2-4 1zM327 1210l-2 4 2 6 7 3 5-1 0-4-3-6-4-3zM1498 1208l-9 2-19 8-4 4-1 6 1 6 2 4 19 12 6 10 3 2 4-1 8-13 12-2 4-6-1-16-2-4-16-10zM910 1221l-4 0-4 4-2 5 2 4 4-1 5-5 1-4zM352 919l3 15 10 10 3 10 9 12 1 4-4 14-6-2-6-4-12-34-3-16zM498 1056l2 1 3 5 1 4-2 2-2 0-4-4 0-4zM232 1207l4 2 1 3-1 9-2 4-3-1-2-12 1-4zM1879 1208l3-2 10 1 6 3 2 4-4 4-8 0-6-4zM1766 1231l2 5-2 4-6 4-4 0-2-6 2-5 4-2zM622 1245l15 9 2 4-6 14 3 24-1 10 5 20-2 20 2 32-4 12-3 22-3 7-8 11 4 12-8 14-2 12-4 4-4 1-4-1-3-4-2-18 1-8 9-12-6-24 6-24 2-36-1-26-6-20-2-28 1-14 4-10 3-2zM702 1559l16-10 11 3 3 4 2 8 0 8-2 6-2 2-4 1-16-6-8-9-1-4z"/>
<path fill="#f09c7b" d="M0 0l2066 0 0 1231-16 3-10-4-10-1-12-8-14 0-5-9-3-1-18 2-12 5-14-10-6 10-16 2-12 4-4-3-5-15-5-6-8-7-8-2-28 4-10 0-10 1-10-1-14 3-14 6-10 14-6-1-10-6-12-4-12 0-16 5-4 0-8-6-6 0-8 3-11 3 2 18-1 4-16 2-22-12-12 6-10 8-34 58-14 14-11 20-30 32-81 28-26 7-6-3-3-4 0-6 2-6 33-30 5-6 0-4-5-3-14-1-16-5-4 2-6 9-4 0-4-2-4-14-14-8-6-8 3-14-5-14 3-6 7-6 1-4-5-6-14-10-24-30-8-4-24-2-18-6-14 7-22 6-16 7-24-1-20 10-26-1-12-14-4-1-10 2-6-4-8-27-2-2-6-1-12 2-4-1-1-8 2-8 11-5 16-3 5-14-1-4-10 2-6 0-2-2-4-10-4-3-6 1-4 3-1 19-3 4-12 2-10-12-4-1-2 2 2 7 12 8 4 12-2 16-6 6-6 2-6-1-10-9-6-2-6 3-6 7-4 2-28-8-18 2-14-2-10-4-14 7-10-2-10 2-12-3-7 4-2 4 4 10-1 2-6 3-6-1-3-8-3-2-8 4-20 15-10-4-6-9-2 0-8 2-12 6-10 3-4-1-14-7-10-11-16-9-34-10-18-8-18 0-8-5-14-5-5-7 1-3 5-5-2-4-12-12-5-9-10 1-6-5-9-3 2-10-5-12-10-9-10-13-32-15-12-2-14-7-6-1-10 2-6-2-8-12-12-2-13-7-11-13-12-1-5-6 2-8-2-6-23-11-10-9-12-16-2-10-7-16-20-36-9-11-10-7-4-6-8-5-8-8-4-1-4 3-3-1-4-14-9-6-3-4-1-4 4-12-9-12-2-10-8-10-5-14 0-4 2-6-1-8-7-10 0-8-4-8 4-6 4-16 2-6 1-10 8-12 1-20 4-14-3-12 1-4 11-6 0-8 3-4 10 2 6-2 1-6-5-8 5-6 3-6 8-5 10-1 4-9 7-5 5-8 8-4 9-12 19-19 6-3 4-8 12-10 4-6 4-2 10 0 4-3 2-5-4-8 2-4 16-23 10-7 7 0 3-12 8-16 0-12 6-10 1-6-6-20-1-10 2-6 2-3 8-3 5-14 5-8 18-12 6-10 0-3-2 0-6 2-16 13-12 16-8 1-6-2-6-11-10-10-9-6-1-8-2-2-5 4-4 16 2 8 1 14 4 8 1 10 4 12 3 16-2 16-6 14-4 3-12 1-11 24-5 6-9 6-4 12-3 2-8 0-2 9-4 9-7 6-2 4-1 6 4 12-3 6-11 3-10 0-8 12-12 5-10 8-6-2-2-2 1-4-7-4-6-6-4 1-4 5-4 10-16 18 2 4 10 3 1 5-6 6-7 4-10 12 0 8-2 4-14 2-10-2-1 4 7 5 2 4-11 11-1 4 1 6-5 10 2 6-1 2-19 10-5 6 3 5 11 1 4 4-1 3-5 5-2 6-5 6 1 6-2 12 0 12 3 14-3 10-5 8 0 4 5 10-3 12 1 6 2 2 5 1 12-5 4 2 3 4 2 10-2 8 1 4 10 4 7 12 9 5 2 3-1 4-8 6 0 12 5 2 10-2 6 8 0 6-6 5-8 2-11-1-4 18 2 32 13 30 8 13 5 13 17 24 8 18 9 32 9 18 10 9 12 6 8 6 1-1-1-4-8-10 0-10 6-6 10-4 3 0 2 2 1 10 2 4 4 1 6-5 8 4 5 4 1 4-1 8 1 2 4 1 8-3 10 0 7 10 9 6 4 11 24 8 18 13 11 6 4 8 3 3 20 7 2 7 8 4 4 8 4 4 2 7-1 4-3 3-6 2-14-2-5-3-5-9-14-8-12-9-16-4-16-8-3 2-1 4 6 12 14 14 12 6 3 4 0 20-1 3-4 2-5-1-2-2-2-10-9-13-8-3-18 0-3-4 3-8-2-2-6 0-12-3-4 2-10 15-8 6-6 0-18-7-12-2-12-6-5 3-5 9-8-1-4 2-5 10-3 1-10-3-4-3-6-9-4-13-4-7-8-1-12-4-5 3-1 13-2 1-10-2-12 14-18 2-6-3-20-25-8-6-14-5-5-15-13-8-10-2-5-6-3-1-2 3 6 8-1 12 1 4 9 10 3 8 2 16-4 5-12 2-14-3-14 0-3-4-3-10-16-9-18 2-20-2-14 8-6 0-16-2-4-7-10-5-2 1-2 4 2 4 12 6-4 15-24 15-8 1-10-3-12 3zM486 239l-4 3-3 4 0 8 5 6 8 0 7-6 0-8-5-6zM626 274l-4-1-4 1-5 4-1 4 4 2 6-1 4-5zM406 361l-6 1-3 4 0 6 3 10-5 20 4 16-7 10-4 14 4 12 0 8 3 8-5 8-8-1-2 1 0 6 4 16-8 6-7 10-1 4 2 2 8-4 8 0 9-6 0-4-6-6 0-2 7-6 10-12 1-4-3-8 7-8-3-14 6-10 3-10 4-8 4-14-2-12-7-12 0-12-4-6zM532 449l0 7 2 0 5-2 0-2zM608 485l-27 11-9 10-2 10 3 4 21 14 5 8 6 14 5 4 4 1 4-3 8-13 8-2 5-3 6-14 1-8-3-8-5-5-20-2-3-5-1-10zM418 576l0 2 2 4 4 1 0-3-2-4zM298 836l-1 6 1 6 2 2 3-2 0-4-1-6zM1580 974l-3 2-3 8-14 5-16 12-2 5 8 16 6-4 4-1 10 5 7 0 1 2-3 12 11 0 9 4 1 2-3 4-7 5-2 5 2 3 6 0 9-7 1-7-2-11-2-2-10-4-2-8 2-4 9-6-1-14 4-10-4-5-10 0-4-7zM1552 1033l0 9 3 2 3 0 4-4 0-2zM1574 1057l-4 3-4 26-2 3-9 5-2 4 3 10 6 4 22 0 4-2 3-6-4-30-6-14zM1618 1069l-4 2-3 5 1 7 4 3 2 0 2-4zM1020 1104l0 4 5 8 0 12 11 12 4 0 6-5 12 4 8-10 4 0 8 4 4-2 0-5-8-10-12-3-8-5-1-4 5-10-2-3-6 1-4 2-1 4 1 6-4 3-6-1-2-6-2-1-8 1zM990 1099l-2 3 0 6 4 5 4 1 3-4 0-6-5-5zM1058 1146l-2 4 6 0-1-4zM1752 1164l-7 8 0 6 5 4 10 4 6 8 4 0 2-4-8-8-2-18-4-2zM454 1174l-4 3 0 7 4 5 4 0 4-5 0-4-2-4zM1694 1179l-4 3-2 4 1 6 3 5 4-2 2-7-1-6zM336 1186l2 5 4-1 3-4-1-2-4-1-3 1zM16 1204l-2 4 2 5 8 3 5-2 1-6-2-4-6-3zM1494 1206l-23 8-7 4-2 6-2 10 9 10 15 8 8 13 6 2 4-1 4-10 4-5 14-1 10-7 3-7-9-6-7-12-17-11zM1459 1306l1 4 8 2 5-2 2-4-2-4-7-1-4 1zM350 926l2 0 3 10 9 8 3 10 9 12 1 4-3 10-2 2-8-4-4-6-3-12-7-18-1-12zM404 1015l3 1 13 17 8 27 5 10 5 4 0 5-2 4-5-5-2-6-5-2-8-10-6-14-8-3-2-3-1-12 3-10zM498 1059l4 2 0 5-2 1-3-3zM1853 1214l5-3 6 1 3 4-1 6-4 2-6-1-3-3zM622 1246l16 10 0 4-6 8 0 4 3 24-1 10 5 22-2 16 1 32-3 12-2 20-5 11-4 4-6 2-8-4-5-13 1-8 5-18 0-14 2-22-1-26-4-18-2-42 1-6 3-5zM618 1438l4 4-8 14 1 10-3 4-6 1-4-5 0-20 6-7 6-2zM704 1558l14-7 11 3 3 5 1 7 0 8-2 4-5 2-16-7-7-9 0-4z"/>
<path fill="#ee9677" d="M0 0l2066 0 0 1164-6 2-10 13-9 21 5 1 4-1 6-8 10-9 0 42-5-1-3-2-1-8-3-4-4 0-9 10-9 1-18-9-6-12-2-2-18-2-4 2-6 8-10 3-6-3-8-11-4 0-10 7-7 8-8 4-5 1-3-3-4-10-13-16-2-14-6-3-8 2-13 15-5 2-6 0-8-2-10 2-12-2-12 2-14-5-12 5-8-9-6-3 5-8 1-4-2-2-11-6-13-1-30 15-5 8 1 4 5 6 0 6-5 4-16 0-1-2-2-14-3-8-4-3-8 0-15 5-1 12-12 7-3 9-6 8-2 10-18 18-5 12-6 8-18 34-14 16-10 18-29 32-81 29-26 6-4-2-2-3-1-6 3-6 41-32 3-6-1-6-5-6-4-1-10 3-8 0-6-4-1-6 3-3 4 0 18 1 4-2 4-7 4-2 6 3 8 12 4-1 5-5 2-6-2-4-9-8-6-13-6-2-8 1-6 8-14 4-22 20-10 4-6 0-14-6-6-6 3-12-2-16 3-2 10 3 4 0 5-5 2-6-1-6-7-8 3-4 1-6-13-14-2 0 0 2 10 20-1 2-5 1-15-9-9-12-24-22-8-3-28-4-12-4-6 0-12 7-36 11-30-4-12 10-4 1-12-4-12 0-12-10-12 2-4-1-3-5-1-12 10-30-1-10 3-14-3-14-4-4-5-2-10 5-4 0-10-11-8-1-8 4-7 9-2 4 3 12 0 2-4 1-14-11-3-4 4-8 14-12 0-4-1-2-6 1-12 10-4-1-4-4-2-8 1-6 3-4 8-5 17 3 5 8 2 1 6-1 1-2 0-4-10-12-3-1-6 1-12 6-8-3-10 0-12-3-26 3-14 5-14 9-4-2-8-9-6 0-22 10-4 4 0 2 2 0 6-4 2 0 16 22 18 8-1 4-5 10 1 4 13 3 12 7 8 10 4 0 14-8 10 0 16-3 8 3 9 8 1 4-2 5-8 7-6-1-12-10-6-1-16 12-8-1-10 4-30-1-4-2-4-10-4-2-12 11-6 2-16 0-14-4-8 0-5 7-11 6-14 11-6 3-10 1-8-6-4-1-28 11-8 1-13-4-9-10-16-12-36-7-18-9-20 2-6-5-15-5-4-6 1-2 6-3 1-3-2-4-16-14-1-12-6-1-4 5-4 1-6-7-6-1 1-11-4-12-11-7-11-13-33-16-12-1-14-8-6 0-10 1-6-2-3-8-5-5-14-2-12-7-10-11-10-1-5-6 1-10-2-5-24-11-4-3-15-21-3-10-28-54-24-24-8-4-10-10-6 1-1-5-6-8-7-4-4-4-1-4 4-12-9-12-3-12-8-10-4-12 2-8 0-10-8-10 0-8-3-8 4-4 3-18 3-6 0-10 7-10 2-24 4-12-3-12 0-4 13-6-1-8 2-3 12 2 5-3 2-4-5-10 4-4 3-8 7-4 10 0 4-10 8-6 4-7 9-5 7-10 18-19 11-5 7-12 8-5 4-7 15 0 1 4 2 1 0-3-2-2 3-12-2-8 15-24 8-6 4-1 4 3 2 8 9-4 0-2-6-4-2-4 2-10 8-16 0-12 5-8 1-6 0-8-5-12-1-12 0-4 3-3 9-5 9-20 20-16 6-12-2-1-6 3-16 11-8 8-5 9-7 3-6-2-7-11-7-5-4-6-8-5-1-8-3-4-6 6-5 18 3 6 1 14 5 10 1 8 4 12 2 16-1 16-8 15-12 1-3 2-3 10-7 14-5 5-11 7-3 12-4 2-6-4-2 2-6 20-6 5-2 5-1 6 4 12-1 4-2 3-10 2-10-1-10 13-20 10-4-7-10-3-4-7 8-5 10-3 11-6 0-4-6-6 1-2 13-14 3-6-2-10 6-8-2-14 6-10 2-10 4-6 4-16-3-14-7-12 1-8-1-4-6-6-4-2-6 1-3 3 0 8 2 12-5 16 4 18-7 10-4 16 4 10 2 16-3 6-8-1-3 3-1 4 4 16-14 17-1 9-8 8-6 12-15 16 0 6 4 3 6 1 2 4-6 6-6 3-12 13 1 8-3 4-12 1-10-5-2 2-1 6 8 6 1 4-8 6-5 10 1 6-3 6-1 10-16 9-6 7 1 4 2 2 11 2 2 2-8 14-5 6 2 8-1 24 3 10-3 12-5 10 0 4 5 10-3 8 0 8 1 3 10 1 10-4 4 2 4 12-2 8 0 4 2 3 10 2 6 11 11 8-1 4-9 6-1 12 6 3 12-2 5 7-1 7-8 5-6 0-10-6-2 1 0 11-2 14 2 30 13 32 8 12 7 16 15 22 9 22 7 26 7 18 12 11 14 9 18 16 6 10 4 2 4 0 3-4-2-6-13-8-10-18-6-4-3-6 0-6 3-4 8-4 6-1 3 13 3 3 4 1 8-4 6 2 4 4 2 4-3 10 7 6 3 0 0-4 3-2 12-1 6 9 9 6 2 10 3 3 24 6 18 15 9 4 4 8 5 5 19 5 1 8 9 4 4 8 5 5 1 7-3 3-4 2-14-2-5-3-5-8-14-8-14-10-14-5-24-11-4 1-3 3 1 8-2 5-10 4-6-1-2-4-1-10-6-10 3-2 8 1 2-2 0-3-6-6-12-6-4 1-2 3 1 8-1 2-12 2-2 2 3 10 1 12 5 12-2 10-5 4-4 0-5-4-2-6 1-10-2-1-10 5-5-2-7-10-5-16-13-9-6 0-6 7-11 6-5 11-4-1-10-9-20-3-6 2-20 17-4 0-12-7-16 0-6-3-20-30-2-1-12 5-10 0-18-5-14-8-8 3-3 3-1 4 5 14-2 18 1 1 10 1 5 6 1 16-4 3-8 0-7-5-1-4 2-14-2-2-16 0-10 2-12-2-14 3-20-7-8 2-7 6-5 1-4-2-4-8-14 1-12-3-6 2-10 11-9-2-2-2-7-19-6-4-8 0zM486 239l-7 5-1 6 0 4 6 6 8 1 5-3 3-4 0-8-6-7zM627 274l-3-2-6 2-6 4-2 4 4 3 8-2 4-3zM276 316l-8-1-32 2-9 3 0 2 9 3 8 0 24-3 8-4zM562 430l-4 1-4 3 1 4 3 1 4-1 2-4zM714 436l-2 1-1 3 1 3 2 0 3-5zM612 472l-18 14-16 4-10 5-4 5-2 10-10 7-2 3 2 4 6 6 8 6 10 2 23 22 15 6 5-2 7-7 14-11 8-14 8-8 3-6-3-6-11-12-6-12zM418 574l-1 4 1 4 4 3 4 0 0-3-3-6zM298 833l-3 3 0 4 1 10 2 2 5-2 2-4-3-11zM1744 838l-4 8 0 4 2 4 6 1 9-3 2-4-3-6-8-6zM1734 895l-7 3-2 6 3 5 6 2 4-3 2-8-1-4zM1600 958l-8 8-16 5-6 13-12 3-16 13-3 4 0 4 6 12 1 14-2 8 4 8 8 0 8-5 8-1 10-4 6 2-1 4-7 6-8 1-3 3-3 10 0 12-2 8-10 7-2 3 1 10 5 6 4 2 22 0 4-1 3-3 2-10-6-32 1-4 8-2 10-6 4 0 3 6-1 4-4 8 2 12 4 3 4 0 2-1 2-4 0-16-2-16-2-2-8 0-3-4-2-12 3-22-2-3-7-3-2-4 1-6 8-5 1-3-1-4-9-8 1-2 4-2 1-12zM1993 1172l1 4 12 6 4-2-2-6-4-3-8-2zM1461 1216l-6 12-10 12 0 4 3 2 12-2 20 10 4 4 4 10 4 3 18 1-3-10 3-7 4-1 10 2 4-2 8-7 6-11 0-4-12-4-6-10-22-13-12-1zM1542 1294l-8 1-4 3-2 4 2 4 8 4 3-2 3-10 0-3zM352 937l4 1 7 6 2 10 11 12 0 4-4 9-6-1-4-4-4-16-7-14zM1594 1016l3 2 1 4-2 4-2 1-4-2-1-3 1-4zM404 1017l2 0 14 17 2 12 4 6 1 8 3 6 0 2-2 1-4-1-8-9-6-15-6-2-3-2-1-10zM1555 1022l3-3 4 0 11 7-1 4-4 4-8-1-5-5zM434 1073l3 3-1 4-2 0-2-4zM226 1172l4-2 6 1 7 7 2 6-5 0-12-6-2-2zM391 1176l2 4 0 4-5 12-8 7-7 1-2-4 0-6 15-18zM0 1180l6 2 9 10-11 21-4 2zM1755 1196l-1 4-12 4-5 0 2-4 9-7 4 0zM255 1196l3-2 12 6 16 1 3 3-1 4-2 3-4 2-12 0-13-11zM44 1205l2 2 0 3-2 2-4 0 0-4zM1679 1214l5 0 6 5 2 5-2 4-6 0-6-4-1-4zM622 1247l15 9-1 4-6 10 1 16 2 10 0 12 5 20-2 16 0 32-3 10-2 22-4 10-7 3-4 0-4-3-5-10 5-26 0-14 3-24-1-26-3-16 3-22-6-22 4-7zM614 1445l1 3-7 8-2-8 4-3zM608 1456l5 8-1 4-4 2-3-2 0-4zM704 1560l12-7 12 2 2 3 2 8 0 8-2 4-4 1-16-8-6-7z"/>
<path fill="#ea8e70" d="M0 0l2066 0 0 1155-6 1-12 10-4-1-10-8-4 0-5 3-3 6 1 10 3 2 12 1 2 5-12 20-4 2-4-2-1-4 3-16-1-6-8-8-17-8-6 2-5 8 0 6 5 8-20 11-4 0-2-2-3-15-5-7-4-2-4 3-1 12-3 6-8 5-10 2-3-1-3-4-2-14-6-12-14-15-12 4-10-4-4 1-11 10-8 10-9 5-6 1-22-1-3-5 2-16-5-7-8 5-4 0-10-2-5-4-1-2 14-8 6 0 8 7 5-9-1-3-16-11-6 1-4 3-6 14-1 6-7 2-20 0-10 7-12 2-18 15-4-2-2-6 2-10-1-4-7-7-2 3 0 12-2 2-12 2-16-3-7 3-3 18-13 26-4 16-13 13-3 11-8 10-17 34-14 18-9 16-29 32-6 3-74 26-24 5-4-1-2-3 0-4 3-6 29-22 16-6 13-10 6-16 11-15 8 0 14 7 3 0 3-4 8-34-2-4-6-2-4 0-5 14-11 5-10 11-6-2-5-4-3-10 2-6 12-2 2-2-1-6-6-6 1-6 4 0 8 2 4-1 11-9 5-9 6-3-2-10-2-4-6-4-2 1-2 5-4-1-4-8-20-12-12-3-8 0-31 12-4 4-6 12-9 10-1 6 7 6 14-1 18 7 4 6 0 8-12 14-10 5-10 8-12 4-7 9-5 2-6-1-7-3-1-4 14-3 4-3 0-14 5-18-2-24-7-8-6-9-4-3-12-2-10 5-6 1-6-4-8-9-8-4-50-13-6 1-12 7-28 9-8 0-8-4-22 2-14 10-22-5-10-8-17 0-2-4 1-10 8-17 4-5 10 0 3-2-6-12-1-10-6-12-1-8-3-4-12-9-4-1-10 2-12-10-6-14-10-14-4-2-6 0-16 3-24-6-18 5-18-1-12 2-12-5-8 0-6 2-10 7-24 4-2 0-5-9-9-3-20 7-4 4-2 6 0 6 2 2 4 1 4 0 8-11 6-1 12 5 0 16 5 2 13-2 4 2 7 12 9 10-1 12 2 8-1 3-2 0-4-7-6-2-8 4-16 14-18 4-20-4-7 2-16 12-1 6 4 12-6 4-6-1-10-6-36 14-8 0-6-3-6-9-8-6-8-12-12 1-10-4-12 3-6-1-9-6-3-12-2-2-4 0-8 10-10 4-6-5-14-3-4-3 0-3 8-4 1-4-2-4-17-14 0-4 3-4-1-4-8-5-17-5-3-14-5-6-13-5-12-13-32-15-12-1-16-8-12 1-6-1-2-2-1-8-5-4-16-2-12-7-10-11-10-2-3-4 0-10-3-6-22-10-5-4-14-20-4-12-29-54-22-22-10-5-23-23-7-3-4-3 0-4 4-12-8-12-4-12-8-10-4-12 3-8-2-12-7-8-1-14 6-16-1-6 3-8-1-8 8-12 3-14-1-10 4-10-1-6-3-8 1-4 15-4-3-8 1-3 2-1 10 2 7-4 1-4-4-10 4-4 2-8 6-4 10 1 3-3 2-8 7-5 4-7 10-5 6-10 20-21 12-4 6-11 7-3 5-9 10 1 3 10-2 14 3 2 4 0 2-6-4-10 4-8-3-8 1-8-2-8 2-4 14-20 6-5 4-1 2 2 2 8 2 2 11-6 0-2-8-6-1-4 2-8 7-14 0-14 5-8 2-6-1-8-5-12 0-14 2-4 10-6 8-18 20-17 9-15-1-2-26 16-8 8-6 10-4 2-4 0-5-4-6-8-7-6-4-6-6-4-5-14 1-8-2 2-1 6-5 8-7 18-6 8 3 2 6-3 3 13 4 10 5 20 2 16 0 14-6 14-4 4-12 0-12 26-4 4-8 4-4 4-2 10-2 2-2 0-4-4-6 4-4 11-1 9-5 4-3 6 0 6 4 12-3 6-10 3-10-3-4 4-6 10-18 8-7-6-9-3-1-5 5-4 10-3 13-7-1-4-4-4-1-4 13-14 5-8-3-6 5-10-2-12 6-12 2-10 4-6 4-16-3-14-7-12 1-8-1-4-9-8-6-1-4 3-2 8 2 14-5 16 5 16-2 4-6 8-4 16 4 12 0 16-2 1-6 0-5 5 3 20-13 16-2 10-7 8-6 12-15 14-1 4 1 4 3 4 6 2 1 2-3 4-8 5-4 7-7 6 1 6-1 4-3 2-12 0-6-4-2-6-2 0-3 14 9 7 0 3-6 5-6 8-7 3 0 4 3 4 0 14-4 4-10 4-8 8 2 6 12 4 1 2-5 10-6 6-4 8 4 6 2 12-1 10 3 8-3 12-5 12 5 12-4 6-2 16 3 2 22-7 4 2 3 11-3 10 1 6-4 8 2 14 3 2 7-4 1-4-2-14 6 1 6 10 10 7-2 4-8 4-1 2 1 8-2 3-6 1 4 6 20-4 4 2 3 6-3 6-6 3-5-1-11-8-2 0-2 3 1 13-3 14 1 28 2 8 12 26 9 14 6 14 16 24 8 21 6 25 7 20 27 20 17 18 5 10 4 3 11 3 1 5-12 6-4 14-8 5-4-2-5-8-13-10-8-2-8 1-8 9-12 6-4-4-6-28-4-1-18 7-4 8 3 8-2 4-21 17-6 2-20-10-8-1-4-6 3-18-3-11-4-2-7-1-9-7-8-1-24 8-5 8-3 1-6-1-8-5-4-1-22 6-12 6-2 2 2 2 12 6 4 4 1 6-3 4-16 0-17 8-7 2-16-11-20 7-4-1-6-5-4-2-14 6-16-2-12 7-4 0-4-4-8-15-8-4-10-2zM488 237l-8 5-2 4-1 6 5 8 8 2 8-5 3-5 0-4-5-8zM628 273l-4-2-8 3-7 6 0 4 7 1 8-2 4-5zM184 306l4 4 10 3 14 9 24 5 34-4 8-3 4-4 0-2-12-1-46 4-24-7-12-7-4 1zM551 434l3 7 6 1 4-2 2-8-2-3-4 0zM712 432l-4 6 0 8 10 10 4 0 2-2 0-4-4-14-4-4zM626 447l-4 0-8 5-12 2-6 3-2 5 5 10-1 6-8 6-12 1-16 5-6 17-10 7-3 4 0 6 18 18 5 16 2 1 2-1-1-4 2-2 3 0 2 2 0 4-3 4 3 18 4 4 4 1 4-3 1-10 3-5 6-1 14 5 4 0 20-13 9-10 6-12 9-10 3-6-1-8-12-14-2-14-12-5-5-5-1-4 2-8zM416 574l0 6 2 4 6 3 3-1 1-4-6-8-4-2zM1742 828l-3 4-4 12 2 10 3 4 6 3 12-3 7-6 0-8-15-15-4-2zM1740 888l-10 3-9 7-1 4-1 6 5 6 12 4 4 0 5-4 3-20-2-4zM1587 940l-1 4 1 2 5-2 0-4-2-1zM1600 953l-3 1-4 8-5 3-12 1-6-5-2 5 2 8-1 8-11 2-6 5-8 4-7 9-1 4 6 14 0 4-6 10 0 14 10 8 18-5 1 1-3 16 0 14-2 4-8 6-2 8 1 6 4 6 5 3 26 1 8 4 4-4 2-6-4-6-1-12-4-8 2-10-1-6 12-6 3 0 1 4-6 6 1 2 4 6 2 10 7 3 4 0 3-3 2-20-2-20-3-3-10-2-2-4 2-23 2-8-11-6-1-2 0-4 3-2 9-2 4 8 0 8 2 1 4-2 8-9-5-14 0-10-13-3-4-3-2-12zM793 1088l0 2 3 2 4 0 2-2-4-3zM348 1106l10 15 4 0 5-5 0-6-5-4-8-2-4 0zM854 1115l-4 3-2 9-12 4-3 5 1 4 10 14 6 3 14-7 5-6-1-4-5-4-1-2 4-6 0-4-6-6zM1596 1130l2 5 2 1 2-1 1-3-5-3zM1616 1129l-1 3 1 2 4 3 2 0 1-3-2-4zM1638 1150l-6-2-4 1-2 3-2 8-6 4 2 8 4 4 3-2 2-8 7-2 4-4 1-6zM818 1158l-9 8 0 4 3 2 8 0 3-2-1-7-2-4zM1552 1242l-3 6 1 4 7-4-1-3zM354 939l4 1 4 4 2 4-2 6 8 5 5 7 0 4-5 7-2 0-4-2-3-5-1-14-4-4-4-8zM406 1019l10 10 3 5 2 12 5 8 1 12-3 0-8-8-4-14-10-5-1-9zM1558 1023l4-1 5 6-3 2-4-1-3-3zM407 1084l6-4 7-2 2 2 3 12 3 3 6 1 6-4 7 2 3 6-2 10 6 7 4 3 12 0-6-2-2-6 4-2 8 1 6 8 8 6 1 9 3 4 24 5 13 9 5 6 8 4 7 10 9 6 13 2 2 10 9 2 2 4-1 6 7 3 2 3-1 4-7 4-10-2-6-4-5-8-12-6-15-12-16-5-24-13-10-3-9-9-17-10-15-2-4-14-15-11-10-17-9-6-1-6zM1094 1102l2 2 0 2-4 4-2 0 0-6zM1023 1162l2 4-3 5-10 4-5-1 1-8 4-7 4-1zM1082 1170l2-2 4 0 3 2 0 4-5 1zM0 1192l4 4-2 4-2 1zM2066 1197l0 13-4-3-1-5 2-4zM622 1249l8 6 5 1 0 2-7 10 1 10-3 6 5 10 1 14 5 20-3 14 1 32-4 12-1 21-4 9-6 3-4-1-4-3-3-9 5-24 0-14 2-20 0-30-2-18 2-9 4-9-3-12-5-8-1-4 3-6zM706 1562l10-6 10 0 4 6 1 8-1 6-4 1-18-10z"/>
<path fill="#e6866a" d="M0 0l2066 0 0 1056-7 2-2 4 3 4 6 1 0 68-8-1-4 1-2 5-1 10-3 4-4 0-12-7-4 0-12 13-6 1-5-3-1-6 6-10 8-8-3-10 0-6 11-10 0-4-6-4-8-1-6 11-10 2-4-1-8-7-7 4-5 7-7 3-1 2 3 2 7-4 10 3 4 4 6 11-1 4-3 4-10 4 4 12-3 8-5 5-6 0-9-9-1-8 4-12-4-2-10 1-4-1-1-12-3-4-4 0-12 5-14-3-18 3-3 3-2 10-5 3-8-2-10-9-8 1-2 1-2 4 7 8 0 6-13 15-6 3-8 0-11-4 3-10-7-10-1-4 3-12-11-10-2-4 2-4 8-6-2-4-8-3-5 3-3 8-3 2-22 4 0 10-7 12-3 0-3-2 1-6-2-4-3-4-4-1-20 7-12 15-6-1-10-10-6-1-4 2-3 3-1 10-4 5-4 0-8-3-18 5-6 0-4-2-6-8-12-2-3-3 0-8-3-8 9-12 0-6-3-2-6 0-4 2-4 6-2 8-4 3-6-1-3-4 3-12-4-6 0-4 6-2 12 4 4-2 3-4 3-26 0-13 2 0 6 6 4 0 4-5 0-4-5-4-5-1-6 3-8-8-8 0-1-4 1-18 2-4 10-4 8-5 3-5 0-4-4-10-1-14-4-3-10 0-5-3-1-10-10-10-3-8-3-3-6-1-3 2-5 12 2 2 8-1 3 1-1 8-6 4-6 0-3-2-2-4-1-8-4-4-4-1-4 3 3 10-4 10 4 10-15 9-8-1-4 6-5 12 4 16-6 12 1 18 12 12 0 12 6 1 6-1 2 3-1 7-8 6 0 16 5 7 6 4 26 2 3 3 5 12 6 6 10-7 13 11 0 4-1 4-8 6 0 2 5 20-2 10 1 3 6 3 4 7 4 1 3-2-2-4-5-4 1-4 17-19 3-1 1 2-3 8 0 12-9 14 0 16-2 4-10 8-2 12-9 10-5 14-13 24-12 16-8 14-29 32-6 4-74 25-22 4-3-3 1-4 10-11 22-13 22-4 8-5 3-5 0-18 4-8 5-5 6-1 6 2 12 10 2 0 4-4 7-20 4-24-2-4-9-4-6-6 1-2 15-7 8-1 3-4-10-6-9-16-14-13-12 0-16-10-12-3-8 0-36 13-5 5-5 12-8 3-4-2-5-7-7-4-18-2-14 4-4-2-9-10-59-17-14 2-22 14-8 2-6-2-6-8-6-1-10 8-12 1-12 9-8 0-12-5-6-10-17 1-3-2-1-4 2-8 7-8 4-1 14 0 3-5 1-12 8-6 0-6-4-6-4-2-10 0-5-8 1-3 4-3 11-2 2-2-1-4-8-1-12-9-12 3-12-9-16-3-21-25-5-3-6-1-18 3-22-8-22 6-20-6-12 2-34 0-16-4-12 2-12 1-14 5-10-3-12 2-22-4-8 1-19 11-12 14-13 24-12 8-9 10-4 14-3 4-2 0-3-4-2-10 1-16-2-4-2-1-4 2-7 7-9 1-5 3-7 13-8 3-6 0-4-2-3-6 0-6 5-10-2-6-6 1-10 6-6 1-10-8-6 2-16-7-12-3-4-4-2-10-4-7-6-3-12-3-7-9-5-3-22-9-10-5-12-2-14-8-18 1-3-2 1-8-2-3-8-4-12 2-12-7-12-14-11-2-1-4 0-10-2-4-28-14-7-10-10-22-30-56-23-22-10-5-10-12-12-10-10-5-1-4 4-12-7-10-6-14-8-10-2-10 2-10-2-12-6-6-2-4 2-12 5-16 0-6 1-8-1-8 8-12 3-14-1-10 4-12-4-12 1-4 15-2 2-4-4-6 1-2 10 1 10-5 0-4-4-8 5-6 0-8 5-3 10 2 3-3 2-8 5-4 2 2 1 8 3 5 6 2 4-1 1-2 0-4-7-10-6-2 2-7 10-4 6-11 20-21 10-2 5-3 4-8 7-4 6-9 6 1 2 6 1 6-3 10 1 4 7 3 9-1 1-2-1-10-5-8 3-8-4-8 0-8-1-8 4-8 7-8 4-8 5-4 4 0 4 10 2 1 13-7-1-4-6-2-3-4 0-8 5-5 6 2 6 9 4 3 6 0 4-3 2-10-3-4-5-1-10 4-4-1-3-4 2-8-1-12 5-8 1-8 0-6-5-12-1-14 2-3 10-6 10-20 20-17 10-16 0-4-2-1-29 21-8 8-6 10-5 2-6-4-6-8-18-18-3-12 1-6-2-4-2 2-13 32-7 8 0 2 2 3 8-1 11 38 2 32-6 14-3 3-10 0-4 1-2 10-8 15-4 5-8 3-6 5-2 10-6-3-12 9 0 14-6 8-2 8 1 4 3 8 0 6-4 3-8 1-10-3-12 14-16 6-6-4-9-3 0-4 5-4 8-2 15-8 0-2-5-6-1-4 19-22 0-2-2-6 3-10-1-8 5-14 0-8 5-8 4-16-3-14-7-12 1-8-1-4-10-9-6 0-4 2-2 7 2 16-2 8-4 8 4 10 1 6-8 12-5 16 5 12-1 12-1 2-7 3-4 5 0 4 4 14-14 18-3 10-11 18-16 16-1 8 6 10-10 14-7 4 0 12-8 2-6-1-4-3-4-13-6 5-1 16 3 4 6 4 0 2-10 11-8 2-2 3 0 6-3 6 7 4 1 6-21 12-2 4 2 6 10 5 1 3-3 8-10 10-2 4 1 4 7 10 1 6-3 9-6 3-2 4 4 4 4-1 2-3 1 2-1 10-6 12 2 10-4 4-1 2 2 8-1 10 2 4 4 2 6-5 14-4 4 0 2 2 3 9-7 24 1 14 3 5 4 0 7-7-1-14 2-2 4 3 4 7 9 6-2 4-14 6 5 3 0 5-6 0-1-2 1-4-2-2-4 2 1 8 6 10-1 8 1 10-2 14 1 34 13 30 9 13 11 23 11 16 9 24 4 36 2 4 7 8 24 12 6 6 11 16-4 12 3 8-2 2-3 0-13-6-8-6-8 1-4-1-2-16 1-14-3-10-14-10-14-4-10 12-1 4 3 6 11 4 2 4 0 4-13 10-12 4-12 15-4 0-18-6-12 0-3-3-7-15-12-11-18-2-16 9-6 1-3-2-6-10-9-2-6 3-7 13-3 2-4 1-6-4-4 0-10 10-6 3-14-5-4 1-2 8 1 6 12 10 0 4-5 3-6 1-14-4-3-4-1-8-4-3-19 9-2 2 4 6-1 2-3 0-4-4-11-4-4 1-5 7-5 2-18-4 0-16-2-6-2-2-22 5-6-1-12-8zM486 237l-4 2-4 5-1 4 0 6 5 6 4 2 6 0 8-6 1-4 0-6-5-7-4-2zM629 272l-5-2-6 2-9 6-2 6 5 2 12-2 5-6zM182 304l1 4 3 3 24 12 26 6 38-5 10-6 4-6-4-2-38 4-22 0-24-7-12-7-4 1zM402 341l0 6 2 1 3 0 1-2-2-4zM711 408l-1 4 2 3 4 2 3-1 1-2-1-4-3-2zM836 423l-2 1-2 8-4 2-6-1-2-5-4-2-2 0 1 4 6 4 1 6 3 4-3 8 2 4 4 0 2-2 1-8 5-6zM739 434l3 3 5-1 3-2 0-4-2-2-4-1-4 3zM712 429l-5 5-4 14 10 12 5 1 8-4 2-5-7-18-5-5zM632 436l-4-1-8 2-20 10-6 0-8-2-4 1-6 11-4 2-8 1-3 4 1 2 12 5 14 1 2 2-2 4-10 1-10 3-14-6-2 4 2 16-4 8-16 13-8 0-10-3-3 2 2 4 15 15 6 2 10 0 6 3 5 22 9 10 3 14 5 3 10 2 6 0 7-7 1-10 4-1 8 3 6-1 24-14 9-11 6-12 12-18 1-10-3-4-9-8-2-18-4-3-10-2-3-3-1-30zM690 435l-4 2-3 7 2 4 5 2 4-2 1-4-1-7zM754 496l1 4 3 2 8 1 7-5 2-6-3-4-8-1-7 3zM1744 821l-4 2-4 5-6 20 2 6 4 6 6 6 6 2 8-3 8-6 5-7 1-8-3-6-17-15zM1755 888l-5-4-6-2-10 2-8 4-6 6-4 6-1 8 2 8 3 2 14 5 6 0 6-3 4-4 7-24zM1911 1056l-2 4 2 6 3 3 3-1 2-4-1-4-4-4zM785 1090l0 4 3 2 12 2 8-2 5-6-5-7-14-4-6 2zM1637 1114l1 4 6 5 6 1 6-4 0-8-4-4-8-1zM1832 1120l0 4 4 2 12-2-1-6-5-3-6 1zM319 880l2-2 11-3 4 3 2 6-4 5-6 0zM354 941l4 0 3 3 1 4-2 3-4-1-2-4zM364 957l6 3 4 6-1 4-5 5-4-1-4-8 1-6zM406 1022l6 4 7 8 1 12 5 8-1 8-4-1-4-5-2-12-11-6-1-8zM1554 1058l6 0 0 4-2 3-2 1-4-4zM409 1084l5-3 6-1 2 2 2 11 8 5 8-5 5 1 4 4-2 10 0 4 8 8 11 4 8-1 1-3-10-6 1-2 2-1 6 1 4 8 8 4 2 2-1 8 4 6 3 2 10-1 12 3 14 10 4 7 8 3 6 8 10 7 12 1 2 4-2 6 4 3 7 1 1 3-4 5 4 4 7 2 1 2-1 2-7 2-8-2-10-12-14-6-12-12-18-6-34-19-24-16-12-3-5-10-18-14-9-15-9-5-2-6zM985 1136l-1 6-18 12-8 3-3-1-3-10-4-5-10-4-6-4-4 0-2 1 0 4 7 8-3 13-18 4-4-1-2-4 4-10 0-6-4-6-4-1-3 3-2 14-7 6 2 8-14 16-6 2-4-1-13-15 2-6 4-4 15-8 3-4 1-9 12-5 2-2 2-6-2-4-20-1-6-3-6-6-1-4 8-14 23-1 10-12 4 0 6 8 0 7-4 10 1 4 3 4 16 0 12 6 10 2 24-2zM1595 1080l3-2 4 1 2 3 0 4-4 1-4-1-2-4zM712 1129l6-1 3 2 1 6-2 9-10-4-3-3 1-4zM1908 1146l4 0 10 7 14 3 7 4 1 4-3 10 1 12-4 5-6 1-5-2-1-13-5-7-5-9-7-9zM722 1149l3 5-3 8-6 3-4-1 0-2 7-4zM832 1157l4-1 12 12 1 2-3 4-4 1-10-11-1-4zM286 1162l6-2 7 2 3 4-1 4-5 4-6 0-5-6zM826 1188l4-3 10-3 4 2 8 9 2 1 12-4 2 2 0 2-6 4-8-2-12 10-6 1-6-5zM620 1251l4 1 6 6-1 4-3 4-4-1-7-7 1-4zM1540 1260l0 2-6 7-2 1-3-2 1-4 4-4zM624 1289l4 3 2 4 1 14 4 18-3 12 2 14-1 16-4 14-1 24-3 6-5 2-6-3-2-9 4-22-1-14 3-20 0-30-1-18 3-9zM722 1559l4 0 2 3 2 8-2 6-8-4-4-4 1-4z"/>
<path fill="#e37e64" d="M0 0l2066 0 0 1044-16 2-6 5-2 5 8 21 4 3 5 0-1 2-6 0-26 10-6 1-12-2-6-9-4-2-14-2-4 4 1 14-7 8-6 4-10 0-8-5-4 0-8 11-12 10-12-3-12 1-4-2-4-8-4-4-6-1-8 1-1 2 7 16-1 4-3 2-18-7-6-15-4-4-20 2-12-8-12-3-6 2-8 9-4 1-6-3-5-6 3-10-1-10-7-10-2-8-6-2-12 7-3 3 0 14-7 10 6 14 0 6-2 4-4 3-12 2-8 9-2 0-3-4-3-2-12 3-8-1-6-4-12-1-8-3-3-4-6-16-12-4-1-6 3-6 7-2 4 3 4 1 2-4-2-5-8 0-6-5-11 18-7 6-2 0-2-16 4-10 4-3 10-1 6-7 12-1 2-2 0-4-2-3-12-5-10 0-8-2-7 0-4-8-7-3-1-11 13-6 6-1 6 12 10 5 4 8 2-1 0-3-4-4 0-10-9-10-1-4 4-1 10 2 2-1 0-8-18-10-5-12-5-8-4-1-8 1-4-1-1-3 3-6 0-2-10-5-4-11-6-5-6-1-6 2-6 10-12-5-20 6-3 5 0 8-5 14 0 10-8 16 0 12-3 20 3 20 9 14-1 12 2 3 7 1-2 6 1 16 8 11 6 4 24 1 14 23 4 1 8-6 8 6 1 4-1 2-4 2-6 0-2 2 5 8 4 14-3 14 2 6 6 6 11 18-1 2-8 4-4 4-1 4 3 6 0 4-8 10-6 16-12 24-12 16-7 12-9 8-20 24-6 4-22 8-18 5-34 12-12 2-4-1-1-2 2-4 5-4 12-6 10-6 24-4 10-8 3-4-5-12 0-6 2-6 4-5 6-3 8 2 5 4 7 13 10-9 9-18-1-18 2-16-2-2-9-4-1-4 8-6 12-3 3-3 1-4-2-2-10-3-9-15-17-16-12 0-12-8-22-5-40 13-14 12-20-7-16 0-12 2-5-3-3-10-12 0-8-4-3-12-5-5-3 1-5 8-6 1-11-5-9-9-4 0-6 5-9-8-7-2-4 2-7 6-1 2 7 6 0 4-11 10-6 1-8-9-10-2-4 2-8 7-12 0-12 12-8-1-6-4-2-6 0-4 8-10 0-16 4-5 4-1 8 3 2-1 3-4-2-6-9-8-8-14 2-16-2-5-4-4-10-2-10-9-16 0-30-11-6-5-10-12-6-2-22 1-24-8-16 3-8 1-8-2-12-6-14 5-32-2-18-5-24-5-12-6-14 14-14 1-12-3-6 1-20 8-16 13-3-2-1-4 1-10-2-4-13-5-8-1-6 4-6 13-24 1-7 14-15 2-8 6-6-1-8-11-6 0-8 5-7 9-11 6-5 8-3 2-20-6-3-16 1-3 4-5 1-2-3-2-4 0-10 4-12 0-10-10-25-10-11-6-12-1-14-9-6 0-8 2-4-2-1-2 2-6-7-9-4-2-12 5-13-6-13-15-10-3-1-12-3-5-26-13-7-10-8-20-19-32-12-26-10-10-16-14-10-4-10-13-12-9-9-4-1-4 4-8 0-5-7-9-4-12-10-12-2-10 2-8-2-16-7-6-1-2 3-12 6-16-2-22 7-10 4-14-1-12 4-12-4-12 0-3 4-2 10 1 4-4 2-6 12-4 4 6 2-1 2-3-1-6-7-10 0-2 5-6-2-6 5-4 6 3 4 0 5-5 1-7 2-2 2 1 4 15 13-1 2-6-9-13-4-3 1-4 2-2 7-1 6-12 18-20 4-2 12-3 6-8 7-4 5-7 4 0 3 7-4 18 12 8 2 4-11 6-4 4 0 2 2 2 8 1 14-5 10 1 2 3-4 10-10 6-3 10-7 8-2 6 2 5 6 3 7-2 9-10 7-14 7-4 6-1 9 5 2 4 0 14 1 2 8 2 7 4 2 4 0 8 3 2 6-2 2-3 0-3-4-6 0-2 4-1 6 3 4-1 21-19 15-11 18-9 9-14 5-12 12-18 9-10 1-14-4-8-4-4-8-3-8-7-12-3-3-3 1-6 2-4 10-2 2-6-12-18-4-4-8-2-12 2-10-3-14 14-16 0-8 3-2-1-3-11-3-3-6-1-10 3-5-3 1-10-2-8 5-10 2-8-1-8-4-10-1-14 3-3 9-5 9-20 20-17 11-17 3-9-6 1-10 10-20 14-8 8-6 10-4 1-6-4-6-9-6-4-4-7-7-5-3-12 0-10-2-2-3 4-12 30-8 10 1 4 2 2 8 1 10 35 3 32-7 14-4 3-10-1-2 1-4 13-10 17-12 5-7 8-13 8-10 0 6 6 1 4-1 8-4 6-2 10 0 4 4 8-1 6-3 2-8 2-8-5-2 0-12 15-10 5-6 0-14-7 0-2 4-3 8-2 17-9 1-2-6-6-2-4 14-17 6-5-1-10 5-18 0-18 6-10 3-14-3-14-6-14 0-8-1-4-9-9-6-1-6 1-3 9 2 16-2 8-4 8 5 10 0 6-7 10-7 20 6 8 0 4-2 9-8 6-3 5 3 18-14 18-2 10-10 17-16 15-2 8 3 8 0 6-7 12-8 4 1 10-2 2-7 1-6-2-2-5 0-14-2-1-10 7-2 6 1 16 8 6 0 2-7 9-12 3-2 7-8 3-2 4 3 4 13 3 1 5-3 3-18 8-2 3 1 8 11 6 1 4-1 4-12 10-2 4 1 12 7 4 2 6-4 8-6 2-3 4 3 6 8 4 1 2-1 4-5 8-4 14-1 20 6 10 4 2 6-7 14-5 4 1 3 3 1 8-8 22 2 17 15 25-1 8 2 10-3 14-1 34 15 32 9 13 10 23 11 14 8 24 2 12-1 6-4 3-6-1-5 2-11 16-10-3-3 3-2 8 6 14 0 4-10 8-2 6 1 10-2 2-4 2-7-2-7-8-10-1-6-4-8-13-4-28-6-5-8-3-8 1-3 5 3 7 9 7 1 6-4 2-12 1-16 10-2-1-6-8-14-6-12-1-6-7-8 0-10 4-4-6-4-1-2 3 0 2 2 2 8 0 5 14-13 18-4 2-5-2-4-4-5-15-10 11-12 6-4 0-14-5-2-3-1-4 5-14-1-16-3-4-4 1-8 7-14 1-4-1-8-11-4-1-2 2 3 8 0 4-3 2-6-1-10-5 0-14-2-6-2-1-16 2-10 7 1 2 7 6 16 6-1 4-11 6-16-2zM490 236l-6 1-4 3-3 4-1 6 2 8 4 3 6 2 6-1 4-3 4-9-1-6-2-4zM518 260l-2-1-2 3 0 7 2 0 2-5zM630 272l-4-2-8 2-10 6-5 8 9 1 12-2 5-5 2-4zM180 304l2 6 4 3 24 12 28 5 30-3 8-2 10-6 9-11-1-2-46 6-22 1-24-7-14-8-6 2zM402 339l-2 3 1 6 3 2 4-1 1-1-1-4zM714 405l-4 1-2 2 0 4 4 10-10 16-2 1-6-7-6-1-4 3-7 10 3 5 16 17 6 4 6 2 6-2 17-12 2-4-14-28 5-8 0-6-4-5zM837 418l-3 0-8 8-12-4-4 4 0 4 5 8-5 14 1 2 7 4 12 0 4-4 7-16-2-16zM736 434l2 4 2 1 10-1 4-2 1-6-5-5-6 0-5 3zM774 429l-4 3-3 6 1 10 2 2 8-6-1-12zM756 484l-7 8-2 8 5 4 8 3 6 0 6-2 7-9 1-4-2-5-4-3-8-2zM1748 818l-6 0-8 6-9 20-1 4 2 6 11 14 2 6-4 4-13 6-8 12-2 6 0 20 2 2 10 1 12 3 12-4 6-6 6-14 9-10-1-8-8-8-1-4 12-20 3-10 0-7-4-6zM581 908l1 3 4 2 14-2 10 6 8 2 4-2 4-3 2-8-2-6-4-3-14 3-10-5-6-1-7 4zM685 930l1 4 2 1 8 0 7-5 2-6-5-5-6-1-6 4zM827 922l-5-2-10 3-6 5 1 4 7 3 10-1 4-4zM604 925l-1 5 3 5 4 1 5-2 1-4-4-5-4-2zM764 937l-4 1-2 6 2 6 4 3 4-1 2-6-1-6zM660 944l-1 2 0 4 3 2 4 0 2-4-2-4-4-1zM798 986l-4-1-5 7-10 4-1 4 2 3 6 2 6-3 8-12zM821 1004l-1 8 4 9 10 9 16 9 4-1 1-4-1-4-10-6-3-4-5-19-4-1zM918 1011l-1 9 2 16 5 6 4 1 7-15 0-6-3-6-4-3zM1666 1018l2 2 4 1 7-3 1-2-4-3-4 0-6 3zM1694 1027l-4 2-3 9 3 4 6 2 4-4 1-6-3-5zM152 1034l-3 4 0 8 3 4 6 2 4-4-1-6-5-7zM1906 1038l-5 8 1 14 6 13 6 4 4 0 6-4 3-5-4-20-11-9zM1784 1050l2 3 4-3 0-2-4-1zM1720 1050l-1 2 1 2 4 2 1-4-3-2zM1700 1052l-4 1-2 3-1 10 1 2 8-12 0-2zM200 1062l-6 0-12 9 0 5 4 8 8-3 6-6 2-7zM123 1074l1 2 4 0 3-4-5-2zM538 434l4-1 6 5 5 10-3 5-2-3-12-5 0-7zM524 451l2 1 2 8 4 2 18-7 0 13-5 12 1 19-8 9-10 4-6-1-7-5-9-10-2-4 1-16 3-6 6-6 3-8zM308 837l2 0 6 8 8 5 0 2-6 3-10 0zM330 876l4 1 3 5-1 4-4 2-4 0-2-2-2-6zM356 943l4 3 0 2-2 1-3-3zM1579 958l2-2 5-1 3 1 0 2-1 2-4 1-4-1zM364 959l6 2 3 5-1 4-4 3-4-1-3-4 0-6zM1555 976l-1 4-2 2-3 0 1-6 2-1zM406 1025l4 0 7 7 2 6-1 6-14-6-2-6zM418 1045l6 9-2 6-4-2-2-4 0-7zM828 1074l3 2 0 4-3 5-4 1-4-4-1-4 5-4zM410 1084l6-3 4 0 2 5 0 8 10 8 2 0 6-7 6 1 2 4-2 6 0 6 10 11 10 3 10-1 4-2 4 1 2 4-2 6 6 10 4 1 10-2 12 2 13 9 3 10 8 1 8 9 10 7 8-1 4 2-4 8 0 5 6 1 3 8 8 6-1 1-6-1-3-2-7-12-10-1-8-5-10-12-12-2-17-8-19-15-18-9-17-10-7-8-18-12-8-12-1-6-11-4-1-4zM2058 1093l8 0 0 24-12-1-7-6 3-10zM66 1099l2 5-4 12 3 12-1 4-6 1-10-4-15-3-1-2 1-2 7-4 5-10 7-8 6-3zM724 1102l4-2 4 2 3 4-1 4-2 1-4-1-3-4zM820 1106l-2 5-6 2-20-1-3-2-2-4 5-4 22-1 5 1zM1610 1110l0 6-4 3 0-5zM387 1114l7 0 5 4 5 10 0 5-4 0-8-7-6-8zM2040 1114l4 2 3 10-7 14-6-4-5-12 3-6 4-3zM766 1120l0 4-5 2-1-2 2-4zM925 1122l-7 6-2-1 3-5 3-1zM10 1124l4 1 1 3 0 4-3 3-3-1-4-4 1-4zM968 1124l4 2 3 10-7 8-4 2-6-4-4-8-1-4 5-4zM758 1131l0 5-4 3 0-5zM1656 1132l6-1 5 5 1 8-4 5-8 1-3-2-3-4 0-6zM80 1134l4-2 4 1 9 9-1 4-6 0-8-4-3-4zM1828 1138l5 0 5 9 10 3 5 4-1 6-6 7-4 2-4-1-3-4-2-12-9-6 0-4zM54 1144l6 3 4 7 0 6-4 5-6-2-4-5 0-10zM870 1160l4 2 0 6-2 3-4-1-3-4 1-4zM1188 1189l1 3-2 2-4 2-3 0-1-4 3-4 4 0zM838 1192l2 4-2 2-3-2 1-3zM624 1294l4 4 1 14 4 14-4 14 3 14-1 16-6 16 1 20-2 5-4 2-4-3-1-4 4-22-1-16 2-12 2-38-3-16 2-6zM724 1563l2 1 1 4-1 5-5-5z"/>
<path fill="#df765e" d="M0 0l2066 0 0 1033-8 1-14-4-3 2-1 10-7 12-2 14 5 5 1 3-7 2-8 7-6 0-10-9-14-3-18-7-10-6-6-1-6 3-9 8 0 24-7 10-6 4-4 0-10-4-12 3-18-8-8-2-30 0-16 5-6-3-10-9-1-12-9-6-7-8 1-4 10-4-1-8-5-6-20-4-18 1-10 9-4 1-18-7-10-7-12 5-3-2-4-16-6-8-2-10-5-8-6-4-6-1-5 3-1 6-2 1-2-7-6-5-4-2-12 0-6-8-7-13-10-6-4-8-3-2-8 0-2-4 8-4-2-2-16-7-8-1-6 2-8 8-8-3-6 0-18 6-4 5-3 14-4 8 2 10-8 16 0 12-3 10-1 12 3 10 2 14 3 10 1 10 12 20 2 12 6 8 6 4 22 1 3 1 5 10 12 18 3 8 8 8 1 10-4 14 2 9 6 7 2 16-8 13-10 1-10 4-8-5-8 3-10 0-7-12-9-6-9-10-14-2-9-7-24-7-10 2-18 8-16 3-14 8-16-4-26 1-4-2-2-8-4-5-14-1-7-14-6-6-5-3-18 5-10-6-16-1-20-5-20 6-4 4-1 10-2 2-19 4-9-10 4-14 0-8-4-6-11-10-4-6-1-18-2-6-5-5-10-5-10-8-6-2-16 0-12-7-14-2-5-3-8-10-7-3-24-1-24-6-24 2-6-2-8-6-4-2-20 4-28 1-36-12-5-3-2-4 1-18-6-15-4-4-15-7-9 0-8 5-8 0-3 3 3 2 8-2 6 6 2 18 8 18-1 4-2 4-9 2-12-5-24 6-8 0-8-5-14 0-5-6 1-4 6-2 5 2 7 7 6-3 4-6-1-16-12-18 1-10-3-6-5-3-8-1-20 5-14-11-8-1-8 9-13 4-2 4 1 4 6 10 6 3 6 0 12-5 10 3 3 3 3 8 6 8 0 4-12 6-4 4-1 4 4 10-3 8-6 2-10-2-4-4 2-12-2-2-4 0-4 4 2 12-6 14-4 4-12 3-4-1-10-12 0-4 7-8 1-4-7-10-1-6-4 1-9 9-3 16-2 4-8-7-4 0-5 1-1 4 2 6 9 8-3 6-6 2-10-3-6-11-6-4-10 1-12 7-8 1-12-10-23-7-13-7-12-1-12-10-6 0-11 2-1-2 1-4-1-4-8-10-6-2-4 4-6 3-11-5-7-6-7-10-9-2-3-14-2-4-11-4-16-10-6-10-6-18-21-34-8-20-3-5-28-25-10-4-9-12-13-10-8-2-1-4 4-10 0-4-6-8-4-10-11-14-2-8 2-10-1-16-8-8 2-12 7-16-3-22 9-14 10 0 5-6-1-5-8 1-2-2-2-10 2-12-3-14 3-2 10 2 8-10 8-3 6 5 4-1 1-5-1-8-5-8 5-8-3-6 1-2 4 0 2 3 4 1 10-8 2 4-1 4 3 3 17-3 1-6-1-4-12-16 1-2 9-2 5-11 8-8 4-7 8-8 14-2 8-10 5-2 5-5 2-1 2 2 1 6-5 12 2 8 0 4-14 10 0 2 6 10 8 8 1 6 5 10 1 16 3 5 4 2 12 1 10-2 12 8 1 4-4 8 1 4 7 10 11 7 5 13 5 3 4-2 1-3-1-14 3-10 3-4 4-3 12-1 4-14 16-18 17-16 21-10 15-14 2-4 2-12 11-17 9-9 3-4 2-12-8-18-14-10-8-4 0-2 4-10 1-8-9-9-8-12-12-4-12-2-10-7-6 4-10 13-8 4-14 1-8-8-8-1-10 2-4-3 0-8-1-8 6-12 0-10-5-14 0-14 12-8 8-18 20-18 16-24 24-6 5-6 0-6-3-3-8 1-11 6-7 7-10 5-9 10-21 14-11 16-5 2-6-4-5-8-7-5-4-7-6-6-3-10-1-16 6-12-1-4-3-1-4 7 1 10-5 8-10 26-4 8-7 6 3 6 9 2 6 16 4 22-1 4-6 4 7 8 3 10-1 4-7 13-4 1-8-2-3 2-3 13-10 17-16 7-4 5-12 8-4 1-6-2-4 1 1 2 8 6 1 4-1 6-4 6-2 14 5 10-1 6-5 3-8 0-3-3-3-7-3 1 0 4-9 13-8 5-8 3-14-7 2-4 25-10 7-6-8-2-4-4 0-2 13-16 7-4 0-2-1-12 7-16-2-6-1-12 6-10 3-13-3-15-6-14 1-8-2-4-10-11-6 0-6 1-4 8 2 20-2 7-5 7 6 10 1 6-7 10-4 12-5 8 6 7 1 5-2 8-7 6-4 6 0 6 3 8 0 4-13 16-4 14-9 14-13 11-3 5-2 8 3 8-1 6-4 10-10 6 0 10-7 3-6-3-1-8 2-14-1-3-4 0-11 9-5 8 2 20 7 4 1 4-6 7-4 0-6-5-2 1-4 7-8 6-4 6 1 4 3 4 14 2 4 2-2 4-14 5-7 1-2 4 2 10 3 3 8 4 1 3-1 4-12 8-2 4 0 20 2 1 6-2 2 5-2 5-8 2-4 5 0 4 2 4 10 6 1 2-6 8-5 14-2 22 10 14 4 3 8-11 14-5 4 3 1 8-9 22 2 6 0 12 7 14 8 10 0 8 1 12-3 10 0 18-3 18 6 14 7 10 4 12 9 12 10 24 9 12 7 20-1 10-21 20-15-6-6-10-5-3-6 1-14 6-2 2 1 4 10 6 3 5 12-1 3 4-1 13-9 5 1 14-2 4-4 1-13-1-5-4-3-6-1-26-3-4-10-8-17-5-6-9-5-4-3 0-4 2-11 12 2 4 11 8 1 4-1 5-8 1-6 6-4 2-12-8-1-2 1-4 13-16-2-14-4-6-5-2-22 5-6-2-3-5 0-10 5-14-6-8-6-14-7 6-4 12-5 5-6 0-6-8-4-1-2 1-3 9-1 14-4 8 1 10-7 6-8 2-14-3-8-6-14-2-8 5-7 10-10 0-3-4 0-4 9-8 6-16-1-4-4-3-4 2-8 10-8 14-10 4-10 0-8 6-4 2 0-30 20-7 4-10-3-6-7-4-14 2zM488 235l-6 3-4 3-2 5-1 6 5 9 10 3 6-2 4-4 3-10-5-10-4-2zM178 304l2 6 4 4 26 13 28 4 30-3 10-3 9-5 13-12 2-4-4-3-20 6-12 1-20 3-20 0-22-6-18-9-6 3zM400 339l0 10 4 2 4 0 3-3-2-4-5-6zM576 372l-2 0-2 4 2 3 4 1 2-4-2-4zM714 403l-5 1-3 4 2 12-5 8-5 2-14-3-4 7-9 8 0 4 13 14 4 13 8 0 14 4 6-3 8-8 10-4 4-4-1-8-14-22 6-8-2-8-7-7zM756 409l-1 5 3 2 2-2 0-4-2-2zM866 415l1 3 2 2 6 0-7-6zM838 416l-6 0-8 5-10-4-6 7-1 4 5 10-4 10-8 5 0 3 16 6 15-2 5-2 7-14 2-8-4-16zM736 428l-3 8 3 5 18-1 6-2 2 4 1 10 9 6-3 10 1 2 4-1 10-7 0-2-9-2-1-2 4-5 2 0 4 4 4-2 1-3-7-8-2-12-2-3-6-1-8 5-8-7-10-2-6 2zM782 486l-2-3-9-5-5-7-6 1-6 4-10 14-9 8-2 6 5 4 30 3 6-3 7-8 2-6zM1748 814l-8 2-11 8-5 11-8 9 0 10-3 8 2 22-6 16-4 24 5 6 16 3 5 7-6 20-8 8 0 2 3 1 10-2 10 3 8-2 1-4-8-12-3-12 1-4 17-15 8-15 4-2 8-1 2-3-3-14-6-16 9-26 0-12-6-8zM526 882l4 6-5 12 3 6 6 3 6 1 10-6 10 8 6 12 4 3 10-7 6 0 6 2 3 4 4 12 7 7 6-1 14-5 1-15 9-12 10 7 12-4 12 6 4-1-4-18-10-5-1-9-5-4-18 2-10-5-5 1-9 6-4 1-15-5-7-8-6-3-22 7-30 0zM730 887l-10 7-2 4 2 8 7 10 1 6 16 14 16 25 4 2 11-9 6-14-1-2-14-8-6 0-10 3-2-1 2-8-1-4-13-2-3-4 7-12 6-2 8 0 2-2 0-4-8-6-12-2zM1646 898l0 4 4 2 14 1 8 3 8 12 13-2 1-2-2-2-12-8-2-12-6-3-8-1-10 2zM782 905l0 5 3 10-1 14 2 3 12-1 24 5 7 3 9 7 4 0 8-3 11-10-1-4-3-4-23-18-38-11-10 1zM712 920l-4-6-4-2-14 2-14 8-2 10-2 1-10-1-8 4-12 12 0 5 2 2 8 1 12 4 12-4 8 3 4-1 4-4 5-10 16-16zM1723 1004l-3 0-6 6-1 4 7 2zM198 1007l-3 3 0 4 3 2 4-1 1-3-3-5zM660 1017l-1 3 3 5 4 0 3-3-1-4-4-2zM1904 1026l-6 4-5 16-7 6 9 18-1 4-6 4-1 4 3 1 6-4 4-1 12 8 6 1 8-5 10-10 1-4-4-10 7-8 1-6-3-4-12-9-8-2-6-3zM1850 1028l-4 12 2 8 14 0 6-2 5-8 0-4-21-7zM716 1035l-3 3 0 6 3 3 4 1 2-4-1-6zM82 1046l4 2 2-2-1-2-3 0-2 0zM694 1052l-3 4 0 4 3 2 6-1 2-5-2-4-2-1zM294 1086l-8 3 0 5 4 2 4-1 1-7zM538 435l4 0 4 2 2 5 0 4-4 1-6-1-2-6zM524 452l4 10 2 1 4 0 10-4 2 1 1 4-1 6-7 14-9 6-1 2 4 10-3 3-4 2-4-2-1-3 4-10-5-2-6 7-4-1-4-4 0-14 5-4 0-4 5-6 3-8zM540 587l3 3-1 3-2 1-2-1-1-3zM550 612l4-3 4 0 2 1 0 4-2 3-2 1-4-2zM310 841l5 5 7 4 0 2-4 1-7-1zM1724 868l2-2 4 4-2 2-2 0zM327 878l5-1 2 1 2 4-2 5-4 0-2-1-2-4zM574 892l2 1 1 3-1 4-4 1-2-5zM364 960l4 0 4 4 0 4-4 3-4 0-2-3 0-6zM1622 1024l4-4 4-1 13 15 1 4-4 1-17-11-1-2zM406 1026l4 0 6 6 2 6-2 3-10-2-2-2-1-5zM418 1049l4 3 0 6-2 0-3-4zM1682 1056l2 4 0 6-4 9-4 2-5-5-1-6 6-7zM1736 1063l2 3 1 10-1 2-2 1-5-3-1-4zM1710 1065l3 1 7 12 8 26-2 3-12 3-6 7-4 2-12-13-1-4 7-12 8-8 2-4-1-10zM134 1088l4-9 8-7 8 5 8-3 4 1 6 5 2 4-2 4-4 1-4-1-8-8-2 1-12 11-4 0zM1637 1074l1 2 0 4-2 4-4 1-1-7 3-4zM416 1082l4 2 0 4-2 4-4 1-4-5 2-4zM1959 1092l5-2 7 0 3 2 0 4-3 4-5 0-6-4zM442 1097l2 0 2 3-2 10 4 12-10-4-5-4-1-4zM1676 1096l4 2 3 6-2 10-5 3-6-3-2-8 2-5zM115 1116l0-2 3-1 4 1 0 2-3 2zM148 1118l4 2 0 2-2 3-2 1-3-4zM464 1130l8-2 6 1 0 11-4 1-6-3-5-6zM1608 1144l4-1 3 3-1 2-4-1zM498 1150l6-5 10 1 13 8 2 6-5 7-11-1-5-4 6-2 2-2-3-6-7-3-6 4zM528 1170l10-4 6 8 14 9 4 1 4-2 1 2-7 8-4 1-9-7-5-10-11-2-3-2zM1218 1190l2 6-1 8-5 6-4 0-3-2-1-4zM1609 1242l2 4-9 24-14 26-6 7-6 4-9-11-3-6 2-9 6-2 0-5-6-8-8-2-1-2 3-3 8-2 8-5 6-7 6-4 6 5zM1572 1314l0 4-2 3-4 2-4-1 2-5zM1518 1317l8-1 7 4 4 8-1 14 8 0 8-6-12 17-6 2-6-1 4-8-2-2-10-1-6-5-2-6 0-6zM1526 1356l-3 4-7 4-7 0-1-2 8-8 5 0zM626 1358l2 4 0 6-1 4-3 3-2-1-2-6zM1478 1370l2-3 4-1 8 0 2 2-10 4-6 0z"/>
<path fill="#dc6e57" d="M0 0l2066 0 0 1018-12 4-10-5-10-8-8-3-6-1-10 2-12-5-7 2-2 2 1 4 6 7 4 2 12-1 8 8 9 6 3 6-8 20-6 7-16 4-8-1-13-8-2-8 3-3 10-1 8 1 10 5 7-4 0-4-12-12-5-2-14 1-20 11-12-1-16-11-13-16-5-1-14 2-4-2-5-5-2-12-3-6-12-6-16-16-2 2 3 10-1 4-6 7-11 5-2 14-9 20 1 12-5 7-6 1-8-3-2-5 0-10-44-1-20-8-10 7-6 0-2-6 2-6 4-3 10 4 2 0 7-11 1-14 7-8 3-6 12-5 3-7-1-5-4-3-6 6-6 11-6-1-4-4 0-12-6-10 3-10 0-10 9-14 5-4 11 0 5-6-1-10-7-24 6-28-1-14-4-8-10-9-16-4-10 0-17 11-5 10-8 10-5 20 2 22-9 22-6 0-4-3-1-3 3-10-2-3-4-2-40 3-8 6-5 8 1 4 3 2 25 8 10 16 4 0 12-5 6-1 4 2 6 6 16 4 2 4 0 4-6 8-6 1-6-6-4-1-4 6 2 4 10 3 1 11 2 4 16 4 1 6-3 6-17 5-24-11-32-5-6-7-2-12-10-4-10-10-3-8-3-4-14-6-18 1-10 7-18-2-16 7-4 5-4 16-5 8 2 10-7 14 1 12-4 12-1 8 5 18-1 12 2 10-2 12 10 8 6 9 3 11 11 12 6 3 22 1 0 10 8 5 11 21 6 4 2 4-4 20 1 16 8 12 1 6-7 10-16 4-10-5-16 2-6-7-12-8-8-9-13-3-11-8-12-2-12-4-10 1-19 9-17 3-10 3-18-1-14 2-8-1-3-2-7-11-12-8-20-19-4-2-14 5-14-4-16 0-16-6-6 0-14 3-18 11-8 3-2-2 0-10-2-8-15-16-6-8-2-16-3-9-6-6-20-12-6-2-14 0-14-7-14-2-10-10-6-3-44-7-22 0-8-2-4-2-5-6-5-2-16 2-18-3-12 5-6 0-10-1-12-3-12-5-4-4-3-17-6-20-5-5-10-6-34 0-17 13 2 8-2 2-4 0-4-4 3-8-2-7-10-5-8-7-14-7-16 9-6 0-21-13-3-6 0-12 3-6 5-4 8-2 14 1 10 5 5 6 2 14 3 3 20-4 4-3-2-8 1-4 10-8 2-6-5-17-7-7 1-18-4-5-6-2-9 1-9 8-4 1-10-3-12 0-12-7-6 3-4 0-8-2-12-1-16-9-14 1-22 7-2 4-1 10-2 2-25 5-2-1 0-4 9-12 0-4-13-2-14-9-22 3-12-5-14 4-10 0-6-2-18-11-4 0-10 8-8 2-8-1-12-8-12 3-8 5-4 9 2 10 0 12 4 11 4 2 24-3 6 2 4 5 1 7-3 3-7 1-3 2 1 4 3 3 6-1 6-4 10-2 12-5 2 1 16 26 12 2 12-4 6 2 11 14-9 6-2 4 2 4 9 6 2 10 6 10 1 8 5 12-5 11 4 2 6-3 6 0 6 4 2 4-3 16-9 7-6 2-10-6-10-1-18-5-12-7-12-1-10-11-16 0-8-14-14-11-4 1 3 6-1 4-4 2-6-2-10-7-8-13-8 0-2-2-2-12-2-5-12-5-16-12-4-8-5-18-9-10-12-20-4-8-4-16-3-6-29-22-10-4-11-14-11-8-10-4 4-16-6-8-3-10-13-15-1-7 2-10-1-8 1-8-2-4-7-4 4-16 9-12-5-8-2-14 8-11 9-1 7-4 6-10-2-5-12 3-4-3-1-5 2-10-3-16 14 0 8-10 4-1 8 6 4 0 3-5-1-10-4-10 1-4 5-5 10-3 8 5 8-2 10 1 3-4-1-8-8-10-3-6 1-2 6-4 4-10 4-3 2-1 6 4 5-2 0-2-7-4 0-2 3-6 7-7 16-3 7-8 11-4-4 14 1 8-1 3-10 7-10 1-2 3 2 4 8 4 10 17 6 13 3 14 3 8 18 15 0 3-9 6-1 6 2 2 14 3 6 3 16 14 7 10 9 1 8-2 6-3 5-6-3-12 4-10 6-2 12 7 4-3 0-22 15-22 15-14 36-20 10-10 2-12 6-16 20-22 2-4-2-6-6-3-4-5 2-6 6-1 8 8 4 0 12-17 17-8 1-6-2-8 2-4 6-2 8 2 2 2 1 8 4 6-1 2-13 10-7 14-16 10-1 4 0 4 3 5 5 3 29 4 6-1 6-3 10-12 2-6 0-8-6-12 14-15 14 2 8 4 8-3 10 0 8 6 4 0 4-8 11-6 1-4-2-4-9-6-1-8-5-6-4-10-5-2-14 2-8-10-12 4-2 2 0 2 6 2 1 2-2 12 4 10-4 6-9 3-12-9-2-12-2-4-4-2-10 2-4-2-1-2 2-10-3-4-4-2-5 4-5 9-8 3-4-2-5-8-9-7-4-2-6 1-7 6 1 12-6 5-6-1-4-3-8-1-6-6-4 1-8 3-6-2-12 2-8-5-8-2-14-7-14 7-6-1-6 3-8-2-4 1-3 2-1 8-2 2-20 1-2-1 0-8-3-8 6-12 1-14-5-10 1-14 11-8 7-16 20-19 6-10 11-13 23-7 6-5 1-6-1-4-6-2-15 6-9 8-12 6-6 8-22 16-6 6-6 10-4 1-5-3-5-8-8-6-2-6-8-7-3-9 0-14 6-16-3-4-2 0-4 4-1 14-13 34-4 6-8 8 4 7 9 3 9 30 0 6-7 8 7 8 3 10 0 4-5 6-2 6-4 2-8-3-4 1-2 14-10 17-18 7-4 6-10 7-4 0-8-3-4 1-1-3 1-8-4-6-1-10 5-10 3-10 0-10-8-22-1-10-8-11-7-5 4-4 0-4-7-8-5 0-1 12 2 3 3 1-5 2-3 6-1 8 1 14-1 8-6 8 0 2 6 7 1 5-1 4-6 8-4 12-7 8 1 3 6 3 2 4-2 8-8 9-3 5 0 6 3 10-14 18-3 14-9 14-16 14-2 8 3 12-3 10-2 4-9 4-2 12-5 2-5-2-1-8 3-16-3-6-6 1-18 17-10 4-1 4 1 3 10 4 2 3 0 7-8 4-8 8-10 6-8 17 2 12 6 18 3 4 10 6-2 4-11 6-3 6 0 8-6 30 4 8 5 4 5 2 0 2-5 4-2 8-3 6-3 22 2 6 16 20 3-2 5-14 12-6 5 2 1 8-11 22 4 8-1 10 5 14 9 8 1 4-1 8 2 8-4 12 0 18-7 16 5 12 0 6-2 4-8 6-6 10-3 26 2 4 4 2 13 0 2-2 2-10 8-7 6-3 4 2 13 28 8 12 4 10 0 8-6 12-7 8-6 0-14-13-19-5 2-10-3-3-14 5-18-6-12 9-6 0-5-5-1-17-10-7-6-10-9-6-2-4 0-10-3-5-6-4-14-3-7 2-7 9-14 5-16 16-6-1-10-6-4 0-2 3-2 15-6 13-4 3-4 1-12-3-16 0-8-5-8-9-6-1-6 2-10 11-8 5 0-8 6-12 2-16 4-4 10 2 4-1 2-3 1-6-1-6-2-2-16-2-16 7-12-2-8 7-4 1zM486 235l-6 3-3 4-3 6 1 6 3 6 4 3 10 1 9-6 3-6-1-6-2-6-5-4-4-2zM176 304l2 6 6 6 24 12 8 2 22 3 30-3 12-4 7-4 16-14 3-6-2-2-6-1-20 7-12 0-20 4-18-1-24-6-18-9-7 4zM574 368l-3 8 3 5 4 1 3-2 1-6-4-6zM694 403l-4 0-3 3-1 4 2 3 7-3 1-4zM778 410l-2 6 2 3 4-1 2-2-4-7zM862 412l0 4 3 4 17 7 8 1 6-4-2-4-16-2-10-8-3 0zM882 442l-3 2 1 3 4-1 0-3zM444 604l-3 6-1 6 16 6 6 10 4-1 1-5-2-14-3-6-8-3zM436 636l0 4 8 5 8 9 4 2 2-2 2-4-2-6-20-8zM485 664l13 13 10 1 5-4-1-4-10-9-6-1-9 2zM110 880l-4 0-2 1 0 5 2 1 5-5zM102 890l-5 4 0 2 3 2 2 0 1-2zM876 902l-2 0-3 4 1 6 2 2 5-4-1-6zM1882 908l2 5 6 3 6-3 3-5-3-3-6-1-6 1zM246 932l-2-2-2 0-6 8-10 0-5 2 0 2 5 5 6 2 6-11 6-1zM1838 946l1 4 3 1 4-3 0-2-4-3zM1906 954l-3 4 1 4 2 1 4-1 2-4-2-3zM230 962l5 0 1-5-4 0zM1934 964l-6-3-6 3-5 12 1 4 10 0 4-2 3-8zM2025 970l-4 6 1 8 6 4 9-2 3-4-2-6-8-7zM2058 980l-4 0-5 4 0 6 3 4 4 0 2-1 4-7-1-4zM243 1008l-1 6 2 3 6 1 5-2 1-4-4-5-6-2zM270 1017l-4 1-1 4 1 2 2 1 3-3zM677 430l-3 4-5 0-3-2 8-4 2 0zM538 437l4-1 3 2 2 4-1 3-4 1-4-1-1-5zM544 462l0 6-8 12-10 6-8-1-3 7-3 2-4-2-1-8 1-4 4-1 6 4 2-3-5-10 4-12 3-4 2 0 2 8 4 3 4 0 8-4zM426 461l4 5 7 4 2 4-1 6-6 6 1 6-1 8 5 8 0 6-3 4-6 1-4-1-2-2-2-10-16-2-4-4 2-4 6-4 4-7 9-5-2-14zM411 514l-5 12-8 5-8 3-11-6-1-2 15-8 15-4zM288 622l7 0 1 2-3 4-3 1-2-1-1-4zM268 662l1-2 7-3 6 1 2 2-12 4zM330 878l4 1 1 3-3 4-2 0-3-4zM722 937l7 5 6 8-15 14-4 1-4 0-7-7-1-4 1-4 7-10 6-3zM680 969l8-1 14 3 6 3 12 14 0 10 1 4 3 3 4 0 7-3 2-6-3-4-10-4-1-2 5-10 10-10 1-6-3-8 6-1 6 3 4 8 1 10-10 6-2 8 1 2 4 1 4-2 6-5 4 1 0 3-6 16 1 2 8 4 3 12 8 8 3 8-1 4-11 12 5 12-2 7-4 5-6 0-3-4 0-4 7-12-8-10 3-14-1-5-4 0-14 4-6 0-12-5-16 2-10-11-18-4-8-5-1-16 1-6zM364 961l4 0 3 3 0 4-5 3-3-3-1-4zM774 967l6 3 1 6-1 4-6 3-6-2-2-3 4-8zM302 969l4 0 4 3 0 4-2 4-4-1-3-3-1-4zM188 1002l-1 4-3 2-4 1-2-2 0-3 4-3 4-1zM1884 1008l0 8-4 4-14 3-4-1-4-4-1-4 3-3 8-1 10-5 4 1zM794 1021l4 4 2 7-2 6-4 1-6-3-2-6 2-6zM690 1025l3 3 1 6-1 4-3 4-4 1-4 0-8-6-1-3 1-4 12-5zM866 1027l2-2 4 1 11 8 0 2-7 6-6 1-2-1-2-4zM180 1036l5-6 9-4 4 0 8 4 8 1 3 3 4 16-3 2-3-6-7-4-18 2-8-1-3-3zM406 1028l4-1 4 3 3 6-1 4-8-2-3-2-1-4zM10 1044l2-2 14 0 1 2-3 6-4 1-8-3zM251 1062l3-3 10-4 10-1 5 2-2 4-9 8-12-2-4-2zM1874 1056l-1 4-19 17-4 9-16 3-4-1-5-10-2-8 2-6 3-3 6-1 12 2 14-7 10-1zM794 1057l2-1 3 2-1 4-4-1zM418 1084l0 5-4 1-1-4zM1716 1092l1 4-1 2-6 3-5-1-1-4 3-4 5-2zM1897 1092l3-2 4 2-1 2-3 1zM1930 1091l2 1 1 4-5 2-3-4 1-2zM442 1103l0 14-4-2-2-3 1-4zM287 1110l3 0 2 2 0 5-4 0-2-2zM472 1130l3 2-1 4-4-2-1-2zM518 1151l9 5-1 4-4 2-2-2-3-8zM548 1181l4 1 4 6-6-3zM1602 1249l2 1-2 3-6 1-2 2 3 12-4 12-9 14-4 3-4-1-3-6 5-8 0-6-8-12-1-4 5-3 10-1 4-5 6 2zM1522 1317l8 2 5 7-2 10-3 3-4 2-8-2-5-7 0-6 2-4z"/>
<path fill="#da6853" d="M0 0l2066 0 0 870-7 6-2 4 3 1 6-1 0 95-14-5-10 1-10-11-4 1-27 19-2 12-1 2-12 6-9 0 1 8 6 13-6 1-6 8-6 4-6 2-4-2-5-6 3-20-8-9-6-17 0-8 5-14-15-8-4-6 0-14 1-14-1-7-2-2-10-3-5-4-1-4 2-10 0-6-2-1-17 3-1 10-13 4-5 4 1 8 5 6 14 7 10-5 4 1 4 5 0 6-2 2-4 1-10-5-2 1-3 5 0 8-9 8-6 9-6-3-8-12-9-6-9-3-9 3-5 20 1 4 3 2 8-6 8-2 6 2 1 4-2 6-5 8 2 8-18 16 3 14-2 4-17 3-12 4-12 1-10-2-10 2-4-1-5-7 3-16 4-6 8-6 6-1 6 1 5 8 3 10 2 3 4 1 8-1 6-8 8-5-2-6-4-3-24-1-4-1-1-3 2-8-2-16 11-16 10-10 1-8-5-5-16 0-3-3 2-30-3-10 4-10 1-8-6-18-2-16-6-12-9-7-10-3-16 3-22 11-2 2-4 10-8 12-5 18 1 14-2 6-4 2-12-2-12 2-36 1-4 3-5 8-4 10 1 4 2 3 28 12 4 3 2 4 0 12 8 10 12 5 6 6 13 7 0 6-3 5-8 2-34-8-2-3 1-10-3-6-10-4-6-5-6-3-8-12-16-8-22 6-10 6-16-2-18 7-6 11-2 10-7 10 2 12-6 12 1 12-4 10 0 16 4 12-1 12 2 10-6 14 3 4 10 5 22 31 16 7 11 9 4 8 11 7 4 11 6 4-4 4 3 10-2 26 3 4 6 3 2 5-2 5-4 5-12 3-5-1-5-8-8 3-12-2-14-7-9-10-13-4-10-8-14-2-12-5-12 2-22 10-38 0-12 3-6 0-6-4-18-22-15-8-8-14-7-4-4 2-4 8-4 3-29-3-17-6-18-2-6 2-8 8-4 0-9-10-13-9-7-9-4-6-3-19-4-9-6-5-19-9-19-3-14-6-12-3-10-8-8-4-28-4-14-4-26-1-12-9-8-3-16 2-18-4-20 5-16-1-8-3-6-4-3-4-12-36-13-11-6-2-12 2-6-1-12-11-4 0-12 7-11 0-3-2 10-14 1-12 6-12-1-14 8-12 2-6-6-17-12-1-14-8-8 0-18 3-12-2-8 1-10-8-4-1-14 5-14 1-20-8-40 7-4-1-10-7-10 3-4 0-10-7-10 1-16 4-12-6-14 4-14-1-6-1-12-9-6-2-5 2-9 8-6 2-5-2-9-10-14-2-10-5-5 1-7 6 3 10-1 3-4 3-4-2-4 0-4 6 0 6 2 12 4 3 6 0 4 6 4 19 4 3 16 4 8 11 8 4 8 0 20-8 4 0 4 2 5 10 0 12 3 9 4 2 12-1 5 2 5 12 14 10 4 11 6 7 5 10 1 6-4 10 2 6 8 7 9-1 2 4-1 4-2 2-4 0-6-3-16 5-17-4-13-7-10 0-4-3-7-10-15 0-10-14-14-11-4 0-2 3 2 6 0 3-2 1-4 0-8-4-6-6-3-6-1-7-10 1-2-4 0-10-3-4-11-4-16-14-4-8-1-14-2-6-10-8-15-22-3-20-3-6-34-24-10-4-10-13-12-8-8-3 0-4 4-10-1-4-5-6-3-10-12-12-3-6 2-14 0-8 3-8-11-10 4-14 12-14-8-6-3-10 1-5 8-9 16-2 10 4 13-8 4-4 1-6-5-14 0-4 7-6 12-5 8 9 14-2 6 2 4 4 4 10 2 2 6 0 10-5 4 0 2 4 1 13 3 3 20 8 14-3 8 1 4 3 4 10 8 5 6 0 24-7 8 0 6-3 8-7 12-2 4-4-1-4-3-5-4-2-4 2-6 9-12 3-5 7-3 2-11-4-2-2 0-4 5-4 12-3 10-7 11-6 1-4-8-6 0-4 12 6 6-1 4-10-2-15 2-8 8-10 4-10 14-14 24-14 12-5 10-6 14-3 12-8 10-1 8-5 8 2 10 9 4-1 2-4 1-14 3-5 8-1 3-8 17-9 8-9 6-16 0-6-2-10 6-10 4-1 8 1 10 4 8-4 6 0 5 2 7 6 18 0 0-2-5-6 3-4 6-4 2-6-3-6-9-6-1-14 3-3 4 0 14 5 9 6 1 4-7 6-2 4 3 3 4 1 5-2 0-10 11-12 1-4-3-4-6-2-12 0-11-10-9 4-6 2-6 4-8-4-12-1-6-5 0-9-4-2-8 9-9 4-3 4 0 4 5 4 2 4-3 14-4 5-4 0-4-3-3-6 0-10 6-8-6-8 1-6 3-6-1-4-2 0-12 12-4 12-2 1-3-9-11-9-12 3-10 6-4-1-12-8-6 1-8 3-8-4-12 7-18 5-10-4-26-2-16-8-8 0-10-4-4 0-6 3-2 10-11 6-1 7-2 3-6 1-7-1-1-6-4 0-4-7 6-13 1-12-5-10 0-14 12-10 6-14 20-20 10-14 11-10 17-5 5-3 5-6 0-6-4-4-8 0-32 18-9 12-19 13-7 7-5 9-4 1-6-4-5-8-6-4-2-6-7-6-4-10 1-14 5-16-2-4-4-2-3 2-2 4-2 16-10 24-2 8-4 6-8 8 5 8 8 2 6 16 3 14 0 6-8 8 9 10 3 8-7 15-4 2-3-1-5-4-4 1-3 17-9 16-16 6-4 0-6-5-2 0 0 5 6 4-2 4-8 6-4 0-4-2-3-4-9-20 0-4 7-10 2-8-2-16-6-14-1-10-12-18 1-8-9-9-4-1-2 1-1 17-4 12 2 18-2 8-7 10 8 8 0 6-6 8-4 12-8 8-2 4 2 3 8 3 1 4-3 6-9 12-1 8 2 8-6 12-8 10-2 12-10 14-13 10-2 4-2 10 2 10-2 12-11 6-2 12-4 1-4-1-1-8 4-12 1-6-4-6-6-2-22 16-13 6-3 6-1 12-12 20-6 20-1 10 6 19 5 7 12 6 0 2-12 6-3 4 0 9-2 3-8 3-4 3 0 14-6 8-1 4 10 10 9 4 1 2 1 6-5 10-2 22 3 6 10 12 6 12 4 2 6 0 0-14 2-6 12-6 3 0 2 2 0 6-7 12-8 8 6 10-2 8-2 2-6-5-8 1-5 2-2 6 3 5 6 1 6-2 6-5 5 5 5 12 8 4-1 18-4 10 1 18-4 8-7 8 0 4 3 8-1 4-7 6-4 10-4 2-6 0-1-2 1-10-7-10 4-12-7-9-14-22-5 1-1 10-4 5-6 3-12 3-10 8-8 3-3 4 2 4 3 2 4 0 10-4 6 1 3 5-2 12 3 4 10 4 20 11 14 3 2 2-1 6-5 4-14-6-14 4-4-1-5-3-3-6-16-15-20-3-16 4-4 6-10 6-8 9-4 3-4 0-4-2-2-4-2-12-2-2-8 5-8 1-7-4-5-8-4-2-14 14-1 4 3 4 4 2 14 0 5 2 2 6-3 18-6 7-20 1-6-1-3-3-8-18 1-20 3-10-1-5-4-1-14 2-14-2-12 3-1-3 1-6 6-16-16-19-4 0-3 3-1 12-2 3-4 1 0-178 6-2 2-6-2-9-6-3zM488 233l-6 3-5 4-3 6-1 6 3 6 3 4 11 3 6-2 4-3 4-6 1-6-2-6-5-6-4-2zM175 304l2 6 5 6 26 14 8 2 22 2 30-3 14-4 22-17 5-8-2-4-7-1-22 7-12 0-20 5-16-1-25-6-15-9-4-1-8 4zM570 360l-1 2 1 16 6 6 4 1 4-5-1-12-3-3zM324 551l-4 3 0 3 2 2 3-3zM801 662l-2 6 4 8 5 3 6-3 2-6-2-5-6-4zM425 668l0 4 5 3 4-1 3-4-1-3-4-2-6 1zM156 690l-7-4-10 2-7 6-1 8 3 2 6-1 15-9zM250 684l-4 2-4 6 0 6 4 3 4-1 3-6 0-6zM368 707l-5 3-2 4 3 2 4-2 1-4zM1840 786l-3 2-4 14 1 4 4 2 3-2 1-4 0-14zM1968 864l-5 2-5 12-9 10 3 6 14 9 6-2 9-7 7-18-4-5zM44 880l-1 6 1 3 4 3 28 4 20 9 3 5 2 12 5 3 6-2 5-7 2-6-2-12 8-10 4-8-2-6-4-4-21 1-12-7-6 2-8 6-3 4-3 10-4 3-6 0-8-9-4-2zM2012 868l-1 6 1 2 4 0 2-4-2-3zM190 870l-4 2-3 4 2 4 3 2 6-2 2-4-2-4zM2024 924l1 4 7 5 0-3-4-6zM138 932l-7 10-2 6 5 5 10 2 5-5 1-6-6-8zM54 938l-6 2-8 10 1 4 11 3 6-2 2-5-3-10zM1990 963l-4 0-6 3-8 13-1 7 5 9 6-11 9-6 3-4 0-7zM540 437l5 3-1 5-4 0-2-2 0-5zM746 445l4 0 3 3 1 6-2 4-4 0-4-6-1-4zM522 457l4 7 6 3 4 0 4-3 2 0-1 4-8 10-7 4-2-1-7-11zM424 465l12 5 3 4-2 6-7 4 2 8-1 10 5 6 1 4-1 4-6 3-4 0-3-3-1-10-1-2-15-1-3-3 1-3 6-3 3-8 9-5-1-13zM740 470l2 2 0 4-4 8-6 3-7-1-2-4 3-8 6-4zM510 482l4 2-2 6-2-2zM714 506l2 4-4 3-1-3zM407 518l-2 8-9 6-6 1-8-5-1-2 13-8 8-1zM722 526l1-6 5-2 12 2 3 4-5 3-6 2-8-1zM483 520l-1 8 1 8-9 7-10 1-8 3-10-3 0-6 8-9 14-1 4-2 6-7 4-1zM436 552l4-1 6 3 12-3 4 5 7 6 9 30 6 8 1 10-2 6-5 2-4-1-8-16-24-7-4-4-2-8-8-6-2-4 0-4 4-4zM396 597l10-2 8 5 8-3 8 5 2 4-5 10-2 16-5 5-8 3-14-14-6-22 1-4zM380 625l5 5 3 6 2 6-1 8-3 3-10 0-5 9-7 3-4 1-4-6 3-10-4-14 3-1 10 1 8-9zM330 880l2-1 2 3-2 3-2-1-1-2zM1690 934l2 2 0 2-6 8-3-4 0-4zM720 946l3 2 0 4-3 3-5 1-2-2 0-4 3-4zM796 947l8-2 8 0 8 3 6 6 2 6-1 8-3 6-6 6-4 1-6 0-16-11-2-6 0-8 3-6zM1878 961l12-1 3 2 3 8-4 7-6 3-5-4-5-10 0-4zM366 962l2 0 2 4-4 3-3-3 1-3zM702 980l4 8 0 4-2 2-18 0-6 6-4 0-2-6 1-4 5-4 6-10 8 0zM1903 1000l3-4 4-1 10 3 2 4-4 4-8 2-5-2zM280 1024l6-3 18 0 5-3 5-7 6-1 4 4 1 4 0 14 10 6 4 6 0 6-4 12-3 3-4 0-10-9-13-6-1-2 2-10-6-4-6-1-14 3-3-4zM728 1014l6-3 4 0 4 5 0 6-4 2-6-1-5-5zM406 1030l2-2 4 2 4 4-1 4-5 0-4-2-1-4zM1992 1056l4 1 1 3-4 0-2-2zM1834 1067l4 1 2 2-1 4-3 2-4-2-1-2 1-4zM1586 1261l4 2 2 7-2 7-4 3-9-16zM1520 1319l8 0 5 5 0 8-5 6-8 0-6-6 1-8z"/>
<path fill="#d6604d" d="M0 0l2066 0 0 378-3 2-1 2 4 3 0 77-2 2 2 1 0 285-12 4-3 2-1 4 3 6 13 4 0 71-8-1-4 2-2 8 3 12-5 7-4 1-8-8-10 3-4-1-5-6 0-10 5-5 16-5 3-2 1-16-2-7-4-4-2-1-10 7-4 1-10-6-12 3-6-3-8-1-6-5-2-12-4 0-7 6-3 8 2 5 10 9 0 12 2 5 6 3 6-2 1-6-2-12 3-3 6-2 4 3 3 6 1 16-10 7-4 17-8 1-14-7-6-1-4 2-8 12-4 2-6-1-17-8-4-4-1-8 1-2 9-6 1-4-5-10-6 0-4 3 1 11-2 4-11 2-8-4-6 6-6 11-4 4-4 0-12-3-7 2-1 6 2 5 4 2 12-1 4 6-2 6-6 2-14-2-3 2-3 10-14-4-9 0-3 4 1 12-9 2-16-4-4-4 0-10 6-14-2-10 4-14-1-12-1-4-8-6-7-26-19-12-10-2-26 12-12 3-4 3-4 12-7 12-6 30-3 5-12 1-14 3-38-3-16 5-7 9 1 6 7 4 3 10 4 5 10 4 6 5 10 3 4 3 0 4-3 8-3 2-6-2-4-4-2-9-28-9-12 1-22 12-16-1-18 7-4 4-7 17-7 10 1 14-5 14 0 8-3 14-1 10 5 16-2 10 3 12-2 5-9 7-1 5 4 3 10 4 6 6 6 3 16 23 16 7 11 9 3 9 12 7 1 12 5 12-4 8 1 8-3 6 5 8-1 5-4 0-6-7-4 0-4 2-4 6-8 6-4 0-10-5-9-9-13-5-14-11-10 1-16-7-14 3-18 9-12-1-12-4-18 1-12 3-14-11-8-13-14-7-6-12-12-7-6 0-10 8-6 2-14-4-12 1-18-7-36 1-8-2-7-4-8-10-2-8-3-20-4-7-4-5-28-9-14-3-18-6-14-9-7-3-33-6-14-5-20 1-14-8-12-5-18 1-14-4-18 5-24-4-8-7-8-16-5-16-7-8-12-9-18 0-14-12-11-3-2-10 4-14 0-12 10-16-7-26-4-3-12 0-14-7-28 1-11-5-11 0-10-3-26 6-8 0-10-5-8-2-18 5-12 1-8-4-14-15-2 0-6 8-4 2-10-4-26 6-8-5-6-1-12 5-16 0-6-1-16-10-6 0-14 5-18-11-10 0-12-3-10-1-8-3-6 2-5 6 3 14-6 16-1 10 7 15 11 7 1 10 4 6 6 5 12 2 4 2 6 13 18 0 20-6 6 1 2 5 0 12 6 14 4 3 13 3 8 10 11 6 3 4 4 10 10 12 1 4-2 14 3 12-3 4-6 2-12-1-5-1-9-6-12-1-10-14-4 0-8 2-4-1-8-12-14-12-4-1-4 2-1 3 1 8-2 1-14-7-5-8 2-6-1-4-2 0-6 3-4-1-2-17-13-5-16-18-3-27-2-3-10-3-14-17-2-10 5-8-6-10-7-6-16-7-18-13-8-4-12-12-19-12 4-12-1-5-5-7-2-8-13-12-3-4 0-6 3-16 4-8-3-6-9-6 1-8 5-8 6-5 4-2 10 4 12-21 12-10 12-5 8-1 10-5 14 2 8-11 6-2 10-1 4 1 5 14 15 5 8 5 2 4-1 10 1 2 6-1 7-13 3-2 2 1 13 13 5 13 6 5 2-2-1-8 9-8 12-4 16-1 16-9 12 1 3-3 5-10-2-10 1-4 13-16-1-4-11-9-3-7 1-8 4-6 11-8 7-16 4-5 22-14 14-3 8-5 10-3 10-5 6-1 12 6 2-2 3-8 3-3 4 2 8 9 4 0 6-2 6-6 0-13 8 1 3-2 3-16 18-10 2-3 9-27-3-12 2-6 4-2 4 0 14 6 8-6 4 0 5 2 7 6 22 1 3-1 1-4-5-6 1-2 6-2 6 2-2-8 2-2 16-2 1-10 12-16-3-5-6-4-6-2-8 1-4-2-5-8-3-2-24 9-16-2-3-3 1-10-4-4-4-1-6 0-6 11-14 7-2-3 2-14-2-2-4-1-4 2-4 6-10 9-12-9-4-1-22 10-4-2-10-9-4 0-8 3-4-2-6-6 11-6-1-4-2-2-8 2-2 2 2 8-6 8-4 3-14 5-6 1-22-6-14 0-9-5-13-15-16 0-3-5-4-12-13-6-2 0-1 4 1 14 10 14 2 12-2 4-9 4-2 10-7 1-3-7-7 0-3-4 0-4 5-10 2-12-6-12 2-12 12-10 5-14 20-20 9-13 12-10 23-9 4-6 0-6-5-5-8 1-33 18-9 12-18 12-6 6-6 9-4 3-5-4-5-8-5-4-3-8-7-4-3-5-1-5 0-12 5-18-2-6-4-1-3 1-3 4-2 18-11 24-2 10-3 5-9 7 6 8 9 4 8 26 0 7-8 9 9 10 3 8-7 14-3 2-4-2-2-5-8 2-1 1-1 18-8 15-16 6-12-6-2 1-1 6 6 4 1 2-8 7-5-1-2-2 1-6-8-8-4-10 1-4 7-9 1-7-3-16-5-12-3-14-9-16-1-8-10-10-6-1-2 3-1 18-3 10 2 18-2 8-9 10 9 6 2 6-8 10-4 13-7 5-3 4 1 6 9 2 1 4-12 20-1 14-2 8-10 14-2 12-12 16-12 7-4-4-4 0-4 2-4 5 0 6 2 3 4 1 6-1 4 13-2 11-2 2-8 3-2 4 0 8-2 2-4 0-2-2 0-6 5-10 1-8-6-11-8-2-14 7-10 0-5 10-13 11-7 25-5 10-2 12-7 18 4 18-8 16 3 18-7 6-3 11-8 7 5 18 19 20-1 8 1 10 0 14 4 12 8 8 7 16-1 4-10 14 1 8 9 10 4 2 16-7 3 3-3 10 1 22-3 5-10 3 0 6 2 4 4 2 10-8 2 2 0 6-4 3-14 3-10-8-3-4 0-4 7-4 2-4-2-14-2-5-10 0-12 8-10-7-6-1-5 5 5 14-4 11-6 4-6 1-2-6-4-6-4-2-6 1-8 7-3 6 1 2 8 2 14-2 2 2-4 6-12 1-8 4-5-5 0-6-12 0 3-24-2-1-5 5-11 6-17-16-1-2 2-4 8-3 4-5 2-8-2-4-12-1-10-8-16 1-4-3-5-5 0-6 7-8-13-10 3-14-10-8-1-18-3-7-18 6-2 3 2 10-1 4-3 3-8 3-3-2-3-12-4-5-4 1-10 8-6 0-8-5-7-11 1-4 8-10 2-6-6-18-4-3-8-2 0-22 6-1 1-2-1-2-6-1 0-106 5-3 3-6-2-4-6-4 0-41 12-4 14-1 5-6-2-4-9 0-8-4-12 2zM492 232l-6 1-6 3-7 10-1 6 2 6 4 4 6 3 6 1 6-2 5-4 4-6 0-8-2-6-5-5zM173 304l3 8 6 6 26 14 8 2 24 2 28-3 16-6 24-19 4-8-4-4-8-1-20 7-14-1-16 5-12 1-32-6-16-10-4-1-8 4-3 4zM1413 528l1 2 4 1 16-6 3-3-5-4-12 0-6 4zM1744 610l-4 1-4 5 1 4 3 3 4-1 3-4-1-6zM1704 625l-3 3-2 6 0 6 3 2 4-4 2-5-1-5zM633 656l3 4 6 2 6 0 2-2-1-4-5-2-8 0zM793 660l-1 4 8 17 6 4 14-4 10-15 0-2-10-3-12-9-6 2zM156 678l-6 0-16 8-12 14-11 4-3 4 0 6 4 10 4 3 8 2 4-2 5-9 11-7 6-6 4-1 4 2 1 4-3 4-22 20 1 10 5 5 8-1 6-4 14-22 4-16 0-8-10-16zM656 682l-4 1-2 3 1 2 3 0 2-2zM1717 684l-1 2 11 14 5 2 4-2 0-6-4-6-8-4zM40 704l4 0 2-4-2-1-4 1zM1937 704l1 6 6 8 10 8 4-1 1-3-1-4-10-5-6-9zM1972 724l2 3 2 0 8-4 6-1 12 4 6 1 5-3 2-6-2-4-5-4-6 0-8 1-8-5-4 1-4 4-4 7zM1828 737l-7 3-3 4 4 8-3 6 3 14-4 10-2 1-20-20-10 12-12 2-1 5 2 6 19 15 14-2 12-4 10 13 6 5 4 1 6-3 3-5 3-16 1-12-2-6-8-8-5-14 2-6-1-4-3-4zM1644 752l-3 4 1 4 4 2 4-1 2-3-1-4-3-2zM1800 750l-4 1-3 3 3 8 2-1 4-9zM1768 755l-1 5 5 5 2-3 0-6-2-2zM504 786l-4-1-4 2-3 3 0 4 3 1 4-1 4-4zM1898 788l-3 4 0 6 3 10 4 3 6 1 8 0 4-2 4-8-2-7-4-2-16-6zM154 808l-6 0-4 2-1 4 1 8-8 12 0 4 2 1 10 1 4-2 8-8 6 0 0-2-6-1-1-3 0-12zM1930 810l-2 4 2 6 4 2 5-2 0-4-2-4-3-3zM220 811l-6 7 0 8 12 13 6 15 4 2 6 0 2-4-2-10 1-12-2-2-9-1-4-3-6-13zM481 818l1 8 4 3 14-1 5-6-1-4-4-3-8 1-8-1zM1856 823l-12 11-1 2 2 2 5 2 2 0 5-12zM1946 824l-3 14 1 3 6 3 10-1 1-5-6-10-5-4zM1816 832l-6 4-2 5 11 5 3 4 1 16-1 10 2 4 4 4 8 0 4-4 0-4-9-8-1-4 0-12 7-14-1-2-12-5zM162 857l-2 5 1 6 5 12 4 5 12 4 6 1 6-2 8-8 1-4-1-4-8-9-6-2-14 0-8-8zM796 421l2 1 1 4-4 10-3 2-4-4 0-8 3-4zM855 428l5-3 12 2 6 5 1 4-7 7-4 1-12-7-1-3zM540 438l4 2 0 2-2 2-3-2zM522 465l4 0 7 5 0 4-3 3-4 1-6-6 0-4zM423 468l5 0 8 3 2 5-2 3-10 4-4-9zM416 485l8-1 7 6 0 4-1 8 6 6 1 4-3 5-6 1-4-1-2-5 2-8-2-2-9-2 0-10zM405 520l-1 6-8 5-6 0-5-3 0-2 9-7 8-1zM481 522l-1 14-6 5-18 4-6-1-4-2 2-6 6-6 14-1 6-3 4-4zM436 553l2-1 10 4 8-3 2 1 3 8 5 3 1 5-4 10 2 6-1 5-4 1-5-2-2-2 0-6-3-2-16-1-6-4-1-5 5-6zM400 597l8 1 4 4 3 6 0 8-2 4-5 4-6 0-4-4-4-18 2-3zM380 628l3 4 3 8-1 6-3 2-3 0-3-6-6 18-6 4-4 0-3-4 3-8-3-14 1-1 12 0 6-8zM404 654l4 4-2 3-4-3 0-3zM366 687l2 1 0 4-5 12-7 7-6-1-4-10 2-6 6-6zM292 809l2 3 0 3-4 5-4 8-4 2-2-1-2-7 1-6zM46 816l2 1 1 5-2 6-7 6-10 0-5 8 0 18 8 12 1 4-3 14 2 10-3 3-10 6-4 11-8 1-8-4 0-95 6 1 12 5 8 2 2-1 6-11zM80 834l3 4 2 10 0 4-7 5-16 16-12-4-6-13 1-4 6-6 0-8 3-4 4-1zM1998 878l4 1 8 8 16-3 6 2 2 2-1 10 1 5 10 1 10 8 12 4 0 16-5 0-1 2 2 3 4 1 0 28-12-10-10-1-4-5-1-4 4-28-11-12-6 3-14 13-8 1-4 9-4 3-6-1-4-4-3-20 1-1 6 0 10 11 2 0 4-10-1-6-10-18 0-4zM1926 889l2 3 0 2-6 3-4-1 2-6 4-2zM1940 897l6 0 6 2 16 17 3 14-1 12-3 8 1 4 4 3 2-7 2-2 7 4-1 4-10 4-10 16-4 3-6 0-4-4 0-5 4-8-1-6-13-8-2-4 3-12-6-10-1-10 3-12zM1850 907l2-1 8 4 19 14 1 4-4 12-2 2-4 0-19-14-2-12zM58 907l10 0 12 8 4-1 4-3 5 1-1 5-8 6-8 16-10-3-12-10 1-14zM27 936l2-4 5-1 6 0 3 3-3 6-4 2-6-1zM2016 937l8 3 3 4 2 4-6 8-7 4-4-2-2-12 2-6zM116 941l1 3 1 12-4 8-4 2-16-2-4 2-4 7-4 1-1-4 4-8-10-16 1-6 18 6 14-8zM800 949l6-2 6 1 8 4 3 4 1 6-1 6-7 9-4 2-6-1-12-10-1-6 1-6 2-5zM1802 960l3 0 2 4 0 4-3 2-4-1-2-3 1-4zM148 971l4 3 0 6-4 7-4 3-3-4 0-10 2-4zM74 996l8 6 0 4-2 2-4 0-2-3zM1964 1015l2 5-4 3-2-1 0-4 2-3zM406 1032l2-2 2 0 4 3 0 3-6 0zM1608 1218l0 4-5 6-7 3-5-1 0-4 3-5 8-4zM1522 1319l6 1 4 6-1 8-5 3-7-1-4-6 1-6z"/>
<path fill="#d25849" d="M0 0l1947 0 2 6 5 2 4-2 1-6 107 0 0 372-7 2-3 6 2 7 8 3 0 66-8 2-6 6 1 4 3 4 10 1 0 272-20 0-2 3-3 16 3 8 4 5 12 3 6 3 0 27-12 0-11-10-5-2-6 1-8 6-4-1-6-5-12 3-13-4-1-4 2-3 18-9 2-8-2-4-4 2-6 10-6 2-14-1-16 11-5 0-7-6-4 0-2 4 5 10-1 2-2 0-6-8-9-6-21-7-2-3 1-4 5-8-6-15-12-11-10-4-8 17 0 5 4 3 10 0 4 2 2 3-6 12-6 19-8 13 0 6 8 12 1 6-3 7-8 12-4 2-6-1-5-4-2-8 13-32-10-5-3-5 3-14 0-6-4-12-8-12 1-10-1-10 5-8 0-4-5-2-14 4-16 2-4-4-3-12-3-4-12-8-10 2-4 5-4 13 14 12 2 6-12 8-14-1-8 4-2 3-1 4 5 14-5 14-15 14-12 6-14 2-6 5-4 13-7 12-3 24-4 8-22 5-42-4-10 2-8 3-8 7-3 7 2 16 3 3 6 1 0 3-20 7-18 11-18 0-18 7-4 4-14 24-2 6 0 14-7 24 0 28 2 8 3 22-4 5-12 5-8 5-10 2-1 3 3 4 10-2 22 4 9 6 7 3 10 13 4 10 11 4 17 12 4 11 10 5 6 20-5 18-5 7-15 7-2 6-3 3-9-3-9-8-14-6-16-15-10 3-12-5-8-1-17 4-9 6-6 1-8-3-8-8-14 0-10-2-12 3-6-1-4-4-6-10-8-6-3-4 2-10 3-6 12-6 5-6 1-4-8-5-6-1-5 2-5 12-8 8-4 2-16-4-12 7-6 1-12-9-10 5-6 1-18-8-14 3-26 1-8-4-8-11-2-8-2-20-4-9-4-4-58-14-16-11-26-8-16-1-16-7-12 2-6-1-26-12-14-1-16-4-4 0-10 6-6 1-18-5-5-4-3-10-10-10-7-14-4-6-15-12-4-1-10 2-6-2-19-17 0-6 3-8 2-12 9-18-5-22-10-12-6-4-6 2-4 0-10-7-18 0-12 1-22-5-6-5-4-14-14-6-8 0-3 2 2 6 8 8 2 4-5 6-6 2-6-1 0-9-4-2-10 6-20-1-7 7-9 1-14-11-10-12-4-2-4 2-5 8-3 1-10 0-10 4-8 1-22-10-14 9-14 3-20-10-18 1-6-2-5-3-7-8-4-2-12 4-11-4-1-4 4-6 0-5-9-11-5-12 5-14 0-4-5-4-8-1-8 4-8 12-10 5-4 4 0 6 5 14-1 10 6 4 10-1 2 1 0 2-6 8 4 18-7 18-3 5-4 2-8-1-26-13-24-10-17-11-13-12-16-10-1-2 3-14-4-8-2-8-15-12-3-6 4-18 4-4 1-4-2-6-11-8-1-4 9-13 6-2 10 13 8 3 7-1 4-2 0-2-5-3-2-5 0-6 2-2 10 1 20-6 14 9 7 0 1-2-9-10-3-8 0-4 4-4 10 1 6-3 6-14 6-4 4 1 2 3-5 16 3 8 2 1 4-1 6-8 8 0 7 4-1 14 4 6 6 1 16-6 4 2 4 11 9 10-1 2-10 2-4 4-1 8 2 4 3 1 12-5 14 2 6-1 5-3 9-9 2-6-10-1-5-6 1-10 6-6 6-2 14 1 16-7 18-1 7 3 5 8 6 2 4-2 10-15 12-3 14-18 14 1 13 11 2 4 0 12 5 3 10 0 22-10 3-3 1-6-2-5-4-4-18 4-12-2-4-2-2-7 2-20-1-4-7-2-14 5-6-1-2-8-7-10-1-10-6 6-6 11-6 2-9-1-17-6-3-4 1-6 4-1 10 6 5-3 2-4 0-12 4-10 1-10 15-12 7-2 8 3 4 0 9-9 17-9 4 0 10 7 4-1 8-5 12 3 18-2 28-15 2-2-2-4-10-2-3-4 0-10 3-4 4-1 4 1 10 14 10 1 5-1 0-4-9-12-4-14 1-12 8-14-7-8 0-5 2-1 4 0 14 6 4-2 4-4 4-1 12 8 24 0 8-8 7-3 2-4-1-6 12-2 3-4-1-6 1-4 5-4 8-2 2-4-2-6-12-11-8-3-8 2-4-2-4-12-28 9-14-1 0-3 8 0 2-2 2-5 7-6 0-4-1-2-4-1-5 3-3 6-6 0-2-4 1-12-2-4-3-1-4 1-1 2 0 12-13 2 1 10-3 3-6 2-3-1-1-2 0-8-2-3-10-3-2 1-5 9-7 5-6-2-8-7-8 3-12 8-6 0-5-7 1-4 5-6-1-2-4-4-4-7-5 1-3 4-10-17-4-1-3 4 3 8-2 2-8 3-3 11 1 6-4 4-16 6-22-8-18 0-5-4-2-10-5-5-6-2-14 1-4-2-4-12-2-2-8-1-7-5-2-12 2-6 8-6 21-28 15-10 11-3 10-5 3-8-2-8-5-2-10 2-32 17-9 13-18 12-6 6-5 8-4 3-4-3-4-8-6-5-1-7-9-5-4-5-1-6 1-10 5-18-2-6-5-2-4 1-3 3-2 20-8 18-4 4 1 8-2 4-4 5-11 5-1 2 2 3 18 11 8 26-2 6-7 8 9 10 3 8-1 4-6 6-1 4-3 0-1-6-1-1-14 1-2 2 4 6 0 12-7 14-3 3-14 5-14-8-4 9-2 1-5-2-7-14 9-8 0-10-3-16-6-12-3-14-7-16-2-8-12-11-4-2-4 1-4 32 1 16-1 6-4 6-12 4-2 4 2 3 14 3 3 4-1 3-6 7-3 10-3 5-10 4-4-8-6 0-8 5-5 12 1 2 2 0 4-5 14-5 1 8-3 10 2 4 2 1 7-9 3 0 1 2-10 14-4 12 1 8-1 8-3 5-7 7-3 14-4 2-4-1-2 3 2 6-2 4-5 4-5 1-8-5-14 1-2-3-2-14-6-2-6 2-2 4 2 6 4 5 10 5 0 15-4 1-12 0-10 4-14 2-2 12-2 3-14 7-3 16-7 22-2 15-6 6-10 1-5 8 0 4 13 10 3 4 0 4-5 10-2 12-8 10-2 10-1 2-13 3-5 5 0 4 8 10 8 16-3 4-12 6-3 4 5 12 10 14 0 6-4 12 0 16 9 10 3 6-2 4-8 1-6 6-20-7-5-4-3-10 5-12-11-14-6-14-24 3-12 12-4 2-16-7-12-3-3-3-1-4 4-14 0-10 3-10-1-8 11-10 7-8 6 1 16 16 12-1 5 2 4 4 2 8 4 2 15 1 9-5 1-6-1-4-17-7-3-7 3-9 11-5 0-2-5-8-1-6 5-15 4-4 9-5 0-4-3-4-14 1-4-1-4-12-20 0-10 9-20 13-12 0-7 12 1 14-2 5-8 0-8-7-2 0-8 9-16-2-14 9-8 10-1 4 9 10-1 6-3 4-4-2-14-12-8-12-14 0 0-10 14 3 2-3 2-16-1-4-5-3-12 3 0-53 4 1 6 6 4 2 1-2-3-6 2-10-1-6-7-12 3-14 13-18-2-4-11-10-1-10-2-8 2-4 4-3 20-7 5-6 2-6-1-6-6-6-10 1-12-6-10 4zM488 231l-6 2-6 5-4 6-1 8 2 6 5 5 6 3 6 1 6-2 7-5 4-6 0-4-2-8-5-7-6-4zM171 304l3 8 6 7 26 14 8 3 26 1 26-1 20-8 23-18 5-6 1-4-3-6-10-2-8 2-14 6-14-3-14 7-14 1-32-6-14-10-6-2-6 2-4 3-4 6zM1804 349l0 4 2 1 2-1 0-4-2-1zM1942 352l0 4 2 2 4 0 3-4-1-4-2-1-4 1zM750 380l-6-4-4 0-4 3-2 5 6 2 9-4zM1592 382l-4-2-10 2-4 5-1 7 3 2 4-2 10-8zM883 396l1 3 4 2 7 1 3-2-1-4-5-4-6 1zM1635 428l1 5 16 11 6-1 4-5 1-4-3-2-10 2-4-1-6-7-3 0zM1817 440l7 6 14 3 6-1 3-6-1-4-4-1-20-1-4 2zM1987 444l1 4 4 2 5-2 2-4-2-2-5-1zM2022 446l0 2 6 3 8 7 6 2 2-2-1-4-3-3-10-2-4-3zM192 449l-6-1-4 2-1 8 3 4 11-6 0-4zM248 448l-3 2 1 5 4-3zM74 460l-6 1-7 5-4 6 1 4 8 5 4 0 8-13 0-4zM1634 475l-3 5 1 4 6 2 6-2 1-4-2-4-5-3zM1531 488l6 8 15 10 3 0 1-2-2-5-8-7-10-5zM71 490l-1 4 10 9 1-1-5-8zM95 500l-1 4 4 3 8 3 8 0-4-8-6-5-6-1zM46 504l0 4 2 2 8 2 4-2-1-6-3-5-4 1zM1742 504l-2 1-2 5 0 8 2 3 6 3 2-14-2-4zM1444 520l-8-12-4 0-26 8-6 6-1 6 3 6 5 4 5 3 4-1 11-6 15-6 2-4zM114 510l6 9 4 1 2-1 1-5-1-4zM198 518l0 6 14 6 6-1 5-7-1-5-4-3-16 0zM1662 516l0 6 4 4 6 1 5-3 0-4-2-4-9-2zM88 521l-8 0-8 5-4 12 4 6 4 1 6-2 8-7 2-8zM1746 524l4 14 2 2 4 0 2-4-2-7-6-5zM112 556l-2-3-4-1-20 5-12-1-6 12 0 6 32 0 12-12zM1368 564l-8 4-3 8 7 10 4 10 4 2 4 0 2-2 2-8 10-9 1-5-3-3-14-7zM1722 572l-5 2-3 4-3 10-1 14-12 12-4 16-5 14 5 11 17 7 5 6-10 8-3 12-7 6 0 4 2 3 10 4 11 11 11 21 4 4 4 2 4-2 6-7 3-6 0-8-6-10-2-16-19-26-1-8 3-7 16 3 12-4 6-6 0-6-9-14 2-14-3-9-6-2-12 4-5-5-4-12 4-12-1-3zM1401 590l1 4 4 0 0-4zM1948 590l-3 2 0 4 3 5 4 1 2-3 0-4-2-4zM160 594l0 6 2 3 4 1 14-1 1-7-3-4-14-1zM824 598l2 2 8-4-8-2-2 1zM206 596l-1 4 5 10 3 10 5 2 4-2 2-4-4-13-8-7zM60 605l-18-1-5 2 1 8 11 10-9 28 1 10-11 8-10 0-2 2-3 8 3 6 10 1 10-5 14 2 12-16 1-6-9-8-2-4 1-6 9-8 3-6-3-10-1-12zM1558 610l-3 6 1 4 6 3 6-1 0-4-2-4-4-4zM1626 609l-3 3 1 4 2 0 2-2 0-4zM830 612l-2 0-7 10-11 7-12 19-10 7-12 4-4 5-1 6 3 3 4 1 8-2 4 1 3 5 4 10 5 4 8-1 14-6 16-21 1-4-3-4-4-1-12-1-3-2-2-4 1-4 4-5 12-3 7-6 0-4zM860 618l-1 2 1 4 2 2 3 0 1-2 0-4-2-2zM676 620l8 24 4 3 2-1 4-7-1-9-3-4-10-6zM1454 624l0 3 2 3 4-1-1-5zM92 625l-1 3 3 6 4 0 2-2-1-4-3-3zM710 626l-2 4 1 6 3 5 4 0 5-5 1-6-6-4zM1814 636l-2 8 4 6 12-1 10 3-1-12-3-6-10-2-6 1zM1656 644l16 2 6-1 3-3-5-5-12-4-4 3zM1884 639l-4 3 0 6 5-6zM1878 649l-7 11 1 4 2 2 4-1 3-5-1-9zM1908 655l-3 5 0 4 7 8 0 12 10 17 8 9 15 26 5 5 12 2 14-4 6 3 2 6-7 8-1 4 2 4 4 2 6 0 7-4 1-4-4-8 2-4 27-16 3-4 2-9 10-3 2-3 3-9-1-5-4-1-14 6-12 0-4-4-6-14-4-2-3 2-2 6-4 4-11 6-3 0-8-22 5-14 0-6-2-5-4-3-4 2-5 10-7 8 0 4 6 8 1 4-3 8-6 3-10-3-4-4-4-12 1-10-1-5-12-9-4 0zM1779 656l1 4 4 3 13 3-1-4-8-7-5-1zM1798 676l-1 10 2 4 3 4 6 0 8-4 2 1 5 7 7 4 10-2 3-2-7-16-10-7-6-2-8 2-10-2zM2050 678l-2 4 0 6 2 3 4 0 4-3 1-4-4-6zM1896 682l-6-1-3 3-2 14-5 10-12-4-4 3-1 11 5 13 16 4 4-9-3-10 1-4 14-5 5-5 2-6-1-6zM32 710l4 3 6 0 12-8 9-3 2-2 0-2-13-7-12 1-4 2-2 3zM670 704l-6 0-5 2-1 4 2 4 4 2 5-4 3-4zM1904 714l-2 2-1 4 3 12 4 4 4 0 7-10 1-6-4-5zM2011 748l-2 6 3 10 4 2 6 0 2-2 0-4-4-10-4-3zM1638 754l0 6 6 5 8-2 3-5-1-6-4-3-8 1zM138 772l1 6 7 3 9-3 3-6-6-4-8-2-4 2zM462 831l-6 3-3 8 0 10 5 4 4-1 2-3 4-16-1-2zM1434 1007l-5 1-8 10-2 6 3 5 6 2 4-1 10-16-1-4zM1474 1054l-8 6-3 8 3 7 10 4 2 0 3-17-3-6zM562 352l4 2 2 24 5 8 5 14-2 5-10 3 0 8-2 3-3-1-2-6-9 0-2-4 5-12 2-12-6-12 1-10 4-5zM857 432l3-4 9 0 5 2 2 6-4 4-4 1-10-5zM440 456l0-2 4-3 5 1-5 5zM522 468l2-1 4 1 2 2 0 4-4 1-4-3zM424 470l4-1 6 2 3 3-1 4-4 2-6 0-2-6zM415 488l7-2 6 4 2 4-2 5-11-1zM428 503l6 3 3 6-2 4-5 2-4 0-3-4 1-7zM403 520l1 4-6 5-6 2-5-3 1-4 6-4 6-1zM478 530l0 5-6 5-8 0-8 4-8-2-1-2 2-4 7-6 10 1 10-3zM428 572l5-8 2-8 3-2 10 4 6-2 2 1 2 13-4 5-6 2-14 0-4-1zM317 566l9 0 3 4 1 6-2 10-10 2 1-10-3-8zM316 591l0 11-4 1-2-3 1-4 3-5zM402 597l6 3 4 10-2 6-6 4-4-2-5-14 2-4zM1724 613l4 2 6 19-3 10-3 4-4 1-9-3-2-4 1-24 4-4zM360 638l8 1 3 3-3 16-4 4-5-2 4-8-4-8-1-4zM645 672l1 2-1 4-7 7-8 2-6-5-1-6 5-5 10-1zM364 689l0 5-4 10-6 5-4-1-3-6 1-6 6-6 6-2zM79 750l3-3 4 0 4 2 2 5-4 2-6 0-2-2zM1801 820l6-6 13-4 8 5 5 7-1 2-4 1-12-4-10 3-5-2zM282 818l4 2 0 4-2 2-2 0-2-3zM101 828l2-4 5-2 12 4 6-1 0 1-3 4-6 2-12 0zM0 832l12 3 3 3 3 6 1 8-4 26 1 4 6 7 1 5-1 4-4 2-4 0-6-6-8-2zM152 850l-2 6-10 8-5 0-4-4-1-6 6-6 8-1zM1974 848l4-1 6 2 3 3-1 4-4 1-5-3-3-4zM230 863l6 1 4 4 0 12-2 3-6-1-4-6-1-8zM216 906l-2 5-4 1-14-10-4 1-6 4-4 1-3-2 0-4 2-4 9 0 9-8 5-2 4 3zM154 891l2 3-2 6-4 1-2-5 4-5zM456 911l20-11 6 0 3 6-3 8 2 6 14 4 14 19 10-1 5 2 0 12 3 3 6 2 14-4 16-2 6 1 4 6 3 12-6 8-3 8-10 6-1 4 2 4 5 4 4-1 3-3 1-10 14-6 7 2 5 9 20 7 18 24-2 24-12 5-4-1-10-6-11 0-5-11-6-6-4-1-6 4-4 0-7-10-13-11-6-3-4 0-3 2-2 4 1 6-4 0-8-4-5-6 2-10-1-3-4-2-6 4-2-1-1-2 1-8 2-3 6-2 0-3-8-6-10 3-6-2-3-7-8-10-1-4 3-8-3-6-3-12-3-3-12-4-10-12zM1944 902l4 0 4 3 4 11 8 10 0 6-2 5-6 5-4 2-2-2 0-8-2-7-8-6-3-5 2-10zM64 920l4-1 4 2 3 3-1 3-4 2-4-1-3-4zM2048 937l2 0 1 3-1 4-2 0-1-2zM108 947l3 3-1 4-2 3-4 0-3-5 3-4zM802 951l10 0 6 3 3 4-1 10-6 7-4 1-6-2-8-8 0-10zM1520 1322l6-1 4 3 1 6-3 5-6 1-5-4 0-6z"/>
<path fill="#ce4f45" d="M0 0l15 0 2 4 7 4 4-2 3-6 1005 0 2 7 4 2 6-3 3-6 8 0 0 10 3 3 4 1 9-2 1-2-3-10 359 0 3 8 5 2 4-3 1-7 194 0 1 4 2 1 2-2 0-3 297 0-1 6 2 4 6 3 10 2 4-3 2-12 102 0 0 64-3 2 1 4 2 1 0 297-8 1-4 3-3 8 3 12 12 2 0 58-14 0-13-8-9-8-14-2-8-3-10 4-18 3-3 4-1 7-12 2-3 7 6 10 11 7 4-2 2-2 2-13 6 2 2 4 2 20 11-12-1-12 2-4 2-1 14 3 19 10 7 11 16 3 0 94-12-1-5 7-9 6-8 13-4 2-6-5-4 1-8 10-12 7-2 4 4 5 5 1 3-3 4-10 14-5 14 7 26-5 0 47-6-1-6-4-10-12-4-13-4-3-4 0-4 4-5 12 2 4 9 6 6 10 1 18-1 6-16 8-3 0-1-2 1-10-1-6-2-2-10-3-22 7-4 4-2 6-2 1-2-1-3-6 0-6 4-18 5-12-4-6-12-4-12-2-2-2 10-34-7-18 4-12-3-6-4-3-8 1-6 4 1 6 9 8-3 4-11 7-4-1-5-4 3-12-2-6-4-3-6 0-4 2-3 5 6 12-5 10 0 4 8 16 16-6 4 3 0 13 3 12-3 18-2 4-4 0-6-2-7-8 0-4 4-12-5-14-2-2-18 9-10 0-16 15-6 16-6 5-4-1-6-5-4-5-4-12-10-6-12-1-11 5-2 4 0 14-3 3-4-1-3-4-1-4 5-10-5-9-4-5-18 0-8 6-6 0-3-4 1-4 8-20-9-8-2-10-2-4-5-3-10-3-8-8-14 8-6 6-6 12-2 12-10 12-3 16-3 4-6 0-16-5-6 2-10 9-6 1-4 0-10-5 2-10 6-14-1-6-4-6 4-8-1-6-10-15-14-3-4 0-5 6-11 26-4 6-4-1-10-7-14 2-7 6-3 14 0 9 12 3 5 4 2 4 1 8 6 9 6 2 10-1 5 2 1 4-1 6-10 12 0 6 15 11 8 0 3-3 0-4-5-10 4-14-5-14 6-18-1-2-12 5-12-2-10 3 3-24 5-5 8 3 12-5 7 1 4 8 1 14 11 4 1 12 14 14 3 6 3 12 6 8 3 8 3 4 8 1 6-3 1-8-9-8-1-4 9-8-1-8 1-4 6-2 5 2 1 6-4 8 0 2 9 8 2 4-6 10-2 12 5 3 14 2 6 4 16 29-9 8 0 4 21 7 10 13 1 4-3 10-4 6-10 5-16 3-9 6-4 14-5 10-1 20-5 12-20 5-10-1-16 0-18-3-20 6-6 4-6 11 2 22-2 4-24 15-16 1-10 4-8 2-6 4-6 8-17 32 4 10-3 8-10 7-13 3-4 4 0 4 3 3 6 2 10 1 3 4-1 9-8 12-6 3-4-1-10-9-6-2-16-2-8 2 1 4 3 6 9 8-2 16 13 14 4 13 4 2 32-4 6 1 15 8 9 12 0 4-2 2-9 4 1 6 4 1 16-3 3 2 1 6 2 3 10-1 6 3 2 5 0 9 7 1 3 2 7 16-6 20-5 4-12 3-10-5-6 7-2 0-18-8-8-7-4-7-4-3-10 4-14-5-18 1-12-3-5 3-3 4-5-12-7-3-12 4-12-1-16 4-6-1-10-15-1-6 1-5 10-7 24-24 13-8 1-4 0-8 1-4 8-8 0-2-3-2-16 4-9 12-11 8-10 10-12 0-6 3-3 3-7 12-6 5-5-1-9-5-10 7-6 2-9-10-5-2-10 9-4 1-6 0-14-9-18-1-16 7-8 0-6-4-6-9-2-10 0-16-5-12-5-4-22-4-20-8-18-3-14-10-16-4-12-5-16-2-20-12-8 6-4 0-11-4-11-7-14-2-8-4-20 0-12 7-6-1-9-5-15-23-8-9-4-8-11-8-5-7-8-2-14 2-4-2-4-5-2-6 2-8-2-10 1-6 4-6 10-4 0-10-1-5-7-9-3-12-14-10-4-11-2-2-12 1-14-3-28 4-16-3-6-5-2-15-2-3-19-7-19-5-3 3-7 12-8 8-4 1-14 0-12 3-10-2-6-4-6-9-4-3-8 4-8 9-12-1-10 3-18-6-8-11-4-3-4 3 0 10-2 5-14 8-6 0-8-6-8-3-24-1-5-3-9-11-4-1-12 0-2-14-8-8-2-4 0-12 2-12-2-6-6-5-12 0-8-2-8 1-10-5-4 0-8 10-6 3 7 12-2 14 1 12-1 4-9 14-5 24 3 2 18 2 4-4 2-6 2-2 2 2 4 10-6 18-6 1-8-7-13-4-9-7-14 2-6-2-16-10-31-23 3-14-6-18-2-3-11-5-5-6 0-8 2-7 2-2 10-2 3-5-1-6-6-3-14-11 0-3 8-9 3 0 4 6 5 14 12-2 26 2 6-4 5-12 3-2 12 4 14 1 10 5 6-1 4-3 8-14 4-3 4 3 3 6-3 4-12 6-1 6 3 4 8 6 8 9 4-1 3-6 2-6-2-10 2-4 3-2 4 2 2 2-1 14 5 11 4 4 38-9 10-7 12-11 4-2 4 2 2 2 1 8-1 4-8 12 4 4 8 1 10-7 3-8-7-14-9-8-2-8 4-6 11-9 8-1 6 1 4 9 14 6 4 11 12-3 22 2 3-4-1-8 1-4 5-5 10 2 36-5 2 4-4 10 0 4 4 4 6 0 12-7 10-3 8-5 10-2 5-5-1-6-19-28-1-4 2-3 4-1 6 5 4 5 5 12 7 6 4 0 8-4 20 3 18-12 12-14 7-11 2-10-3-3-7-3-2-2 2-2 13-6 12 7 4 0 3-3 2-18-3-8-10-7-16 2-3-1 0-4 3-12-2-12-2-2-8 7-4 0-3-3-1-6 7-10 0-8-11-16-19-20-4-12 0-8 3-8 10-12 16-7 12 4 12-1 12 2 10-8 6-2 6-9 6-2 8-9 1-8 10-4 4-6-3-10-8-5-3-5 2-10-2-8-5-4-6-1-12 3-8 1-14 8-8 1-2-2 0-2 6-8-1-6-5-4-11 2-5-11-4-3-4 0-5 4-3 11-10-1-4 4 0 2 5 6-1 4-2 1-4 1-1-2 0-10-12-6 0-6-1-1-10 5 1 10-1 4-6 3-4 0-7-7 2-10-3-4-16-2-10 6-3-2-6-12 1-6-2-5-3 3 2 8-5 3-4-2-8-10-4-1-22 12-3 4 0 2 7 4 2 4-3 12-9 6-6 0-18-9-15-1-7-12-8-9-6-1-14 2-3-2-5-12-4-2-6 3-4-2-3-3-1-12 2-4 6-5 20-28 17-11 22-8 1-12-2-4-4-3-12 2-34 19-8 12-21 14-8 12-3 2-4-3-2-7-7-6-1-8-10-4-4-6 0-14 6-16-2-8-4-3-8 0-6-13-8-9-8-1-11 6-4 6-3 8 1 8 3 6 8 5 6 1 6-1 10-5 2 0 1 12-3 8-6 11-7 5 4 6-1 6-4 4-4 2-14 0 6 12 6 1 12 6 2 3 1 10-5 5-1 3 3 2 6-1 3 7-2 4-7 8 11 12 1 8-6 6-8-3-8 2-7-3-1 6 4 6 1 4-1 12-8 12-12 5-6-1-14-14-6-30-6-12-3-14-4-10-4-16-7-3-10-11-6-1-3 1-1 2 2 10-3 22 2 16-3 8-6 4-8-1-8 1-5 10-5 2-4 0-6-7-4-1-6 9-11 5-1 10-4 6 4 1 4-1 8-10 4-1 4 0 6 5 1 4-8 8-4 14 0 6 5 7 11 3 10 28-1 6-2 6-9 6-5 10-8 4-3 6 3 8-4 4-4 0-4-5-12-7 0-4 1-4 13-6 2-6-3-4-11-8 1-10-9-7-4 1 0 2 8 14-3 8-5 4-20 9-6 0-10-4-10-15-2 0-10 8-16 2-12-3-8 1-6-4-2-6 0-4 9-12 3-1 4 1 3 4 5 2 4-2 2-10 4-2 14 3 10 8 8-3 3-4 1-8-2-7-6-5 0-2 11-8 1-2-2-2-12 4-9-6-13-4-5 4-7 15-12-2-8 3-4-2-5-10-9-7-6 0-13 5-1 4 0 12-3 12 1 5 4 2 6-1 10-6 4 3 4 9-1 4-5 6-3 14-3 7-4 2-8-3-3 6 1 7 8-1 2 2 6 19 9 7 2 4 0 6-7 12 3 14-2 4-3 1-6-8-6-3-16-3-10 3-3 2-1 4 4 14-1 8-11 8 2 2 16-4 5 10 4 4 22 6 2 2 1 14-10 8-6 1-6-5-6-9-4-2-8 7-11 4-5 16-8 6-10 1-10-4-14-3-4 4-4 7-16 4-8-1-2-4 1-6 10-8 2-4-2-10-5-10 6-15 4-2 4 2 8 10 4 3 7-2 6-8 0-8-5-10-6-18 1-6 25-14 8-14 6-1 12 7 4-2 4-6 0-6-2-4-2-1-10 3-3-4-2-14 3-12 2-2 3 0 0 14 9 11 16-5 3-4 0-4-1-4-10 1-6-5-8-18-8-10-18-7-16-12-10-12-10-6-3-7 0-14-1-6-4-5-10-6-10-9-2 1 0 5 3 10-2 6-7 2-12-4-2 0-2 4 2 10 8 11 2 0 12-16 6 0 7 5 0 4-5 6-12 6-8 1-1 1-1 8 7 12-1 4-26 20-4 6-20 0 0-440 10 4 3-4-1-4-2-2-10-1zM432 2l-2 7 2 0 2-2 0-3zM68 13l-2 3 2 3 4-3-1-2zM82 40l-2 2 0 2 2 2 4 0 1-2-1-4zM266 56l0 4 6 2 4-2 1-4-1-3-2-1zM1610 53l-4 3 0 4 2 1 4 0 2-3-1-4zM902 60l-6 0-12 6-4 8 2 7 6 2 6-3 9-16zM664 86l-3 4 3 9 12 11 6 2 2-2 2-8-1-8-11-9-4-1zM1988 103l-7 3-4 4 3 5 8 4 4-2 1-5-1-6zM266 108l0 4 3 2 1-4-2-2zM1861 118l1 2 2 1 3-3-1-2-2-2zM1484 126l0 11 4 5 6 0 8-4 12 2 4-2-5-10-9-5-6-5-8 1zM1306 136l-4 6 6 14 4 7 6 2 4-5 1-12-15-12zM1498 150l-6 4-3 10 4 6 9 5 3-3 4-12-5-8zM762 164l-2 2 0 4 2 3 2 0 3-5-3-4zM43 190l1 2 2 1 4-1 1-2-5-3zM1628 232l-2 1-3 9-6 8 3 3 6 0 3-3 1-14zM1874 278l0 2 2 1 4-1 1-2-3-3-2 0zM374 277l-13 3-5 4 0 8 4 16 2 2 4-1 10-19 1-8zM1050 282l-2 4-2 20 18-2 6-2 1-4-4-6-13-9zM168 304l3 8 7 9 32 18 38 1 18 4 4-2 9-8 13-7 25-23 2-6-3-6-6-3-14 2-16 6-14-5-15 10-13 1-32-7-14-12-8-1-6 2-4 4-5 9zM932 292l2 3 10 0 12 5 4-4 1-4-2-4-9-3-16 4zM1168 289l-4 3-2 4 2 5 6-1 3-4-1-5zM1737 294l1 2 4 1 3-1 1-2-4-3-4 1zM1852 315l-10 0-9 13-2 10 5 5 6 0 8-9 5-16zM972 318l6 18 4 2 8 1 10 5 16-6 4-6-2-8-10-5-4-1-8 5-6 1-8-2-6-5zM1664 331l-6 2-6 9 1 6 7 5 8-1 6-10-2-8-4-3zM1870 334l-2 2 0 4 2 4 4 1 4-3-1-6-3-3zM1800 342l-3 8 3 10 4 4 8 2 8 14 4 1 4-2 3-3 0-6-3-4-9-4 1-16-12-5-4 0zM1956 346l-10-2-9 4-3 6 4 10 4 2 12-6 4-8zM355 354l9 3 4-1 0-2-6-6-4 2zM1838 353l-2 9 3 4 7 5 8 0 11-5 0-4-3-4-12-3-8-5zM1260 354l-4 0-4 3-6 11-8 6-3 6 1 4 18 11 6-1 3-6 0-4-7-10 6-14 0-4zM1378 356l6 4 3-2-3-3zM1899 358l1 4 3 2 5 0 3-2 0-4-3-3-6 0zM302 374l-7 4-4 8 4 30 11 12 6 1 4-1 0-2-11-8-4-8 4-14 6-10 0-4-3-7zM1608 384l-14-10-16 0-5 2-9 17-3 3-5 0-6-4-4 0-2 6 7 12 0 12 7 3 7-1 2-2 0-8 3-6 6-3 13-3 7-8 11-4zM1876 375l-3 3-1 6 4 6 4 1 4-3 1-8-3-5zM1474 384l2 8 6 2 6-4 3-8-3-3-8 0-4 1zM1128 388l1 2 3 1 4-3-4-2-3 0zM1668 390l-6 0-5 4 0 4 3 5 4-2 5-9zM1413 398l2 2 3 1 4-3-1-2-3-2-4 2zM1445 412l1 2 8 1 20-1-6-8-10-4-6 1zM1574 482l3 6 5 6 6 1 6-1 2-4 0-12 8-18 4-4 12-4 5-8 3-2 8 2 18 8 16-4 6 1 5 5-4 12 1 1 10-2 12 0 14 9 4-1 3-5 5-20-4-6-12-4-10-7-5 1-9 8-6 0-14-15-22-9-4-3-4-7-6-1-6 3-4 4 6 12-2 14-3 2-11 2-14-2-2 2-2 12-12 10zM1369 416l-7-3-9 1-5 4-7 10 5 1 18-7 4-2zM1479 418l5 4 8 4 4 0 4-3-1-3-4-2-15-1zM268 420l-2 4 0 6 4 4 4-1 4-5 0-4-4-4zM1304 426l4 6 8 4 15-4 4-4-11-7-10-3-6 2zM1284 424l-4 4-3 12 2 24 1 2 2 0 6-5 4-1 6 4 2-1 0-3-4-14 2-16-6-6zM1865 428l-3-3-6-2-14 6-18 1-16 3-6 4-3 7 4 6 8 6 9 3 12-2 6 1 6 4 6 8 4 0 6-4-1-22zM130 427l-4 1-2 4-2 16 2 1 8-4 4-7-1-8zM1434 447l-2 1-4 11-9 13 1 8 4 4 2-1 4-8 8-7 4-6 0-8zM1353 450l-5-1-16 9-3 12 1 5 6 2 10 1 4-12 5-10zM1916 457l-18 11-3 6 1 6 6 4-4 10 0 8 2 5 6 4 4-2 6-8 16-2 1-3 0-4-3-4-17-8 0-4 4-12zM1618 482l-2 6 4 5 4 1 10-1 6 3-4 16 2 6 6 8-5 12 1 2 4-2 8-7 22 2 12-6 8-1 1-2 1-18-2-4-6-1-10 7-6 1-16-6-8-5-1-4 3-8 0-6-2-6-6-5-4 0-6 1zM1830 474l-6-4-4 5-6 14-12 2-2 3 0 2 4 2 4 0 5-2 3-4 8-1 7-11zM1508 478l-1 4 2 4 15 7 20 17 14 5 4 0 3-3 1-4-3-12-5-7-26-14-16-1zM1876 475l0 4 6 3 0-4-2-3zM1306 480l-8 2-3 6 0 6 5 12-2 8-4 1-10-6-4 3 1 6 5 4 18 3 10-5 4-4-2-18-6-15zM1350 482l2 10-1 6-5 5-10 2-3 3 3 2 8-1 16 4 6-1 0-4-7-12 1-10-6-4zM1449 490l-7-1-6 2-12 12-6-1-4-3-4 1-18 15-8 3-1 4 11 17 5 3 19 6 5-2 8-8 16-8 4-8-6-14zM1736 490l-3 2-2 4-2 18 4 20-2 20 1 5 14-7 10-3 10-9 6-2 2-6-8-1-10-13-1-12-3-5-10-8zM348 493l-5 3-1 2 6 8 2-2 1-6-1-4zM1980 497l-4 3 0 6 3 14 5 3 2-2 1-3-1-12-2-7zM1938 502l-3 4 1 8 6 8 8 6 1 4-3 3-10 0-3 3 2 2 7 0 8 3 4 0 4-5 2-8-8-11-2-15-4-3zM2038 509l0 5 2 6 4 5 3-3-1-6-4-6-2-2zM1853 514l-11 7-14 3-4-1-6-9-4 0-3 2-1 4 1 4 9 11 3 9-7 13-4 2-10 1-3 4 5 8-5 10-1 6 3 4 5 4 8 2 10-2 12-18 10-7 0-5-13-18-2-6 5-9 4-2 8 9 4 0 3-16zM1879 518l0 8 3 9 2 1 18-8-2-4-12-9-6-1zM2026 516l-4 1-3 3-5 18 5 28 7 3 4-2-2-11 13-6 2-6-3-5-8-5 1-14-3-3zM1501 528l-4 8-1 6 2 2 14 1 6 9 5 0 2-4 0-4-8-6-5-10-6-3zM1558 533l-4 1-4 6 5 18-6 10 2 4 3 1 4-1 1-2 0-8 5-10-2-16zM1336 576l-1 6 3 5 4 1 12-1 3 3 3 10 8 8 4 1 6 0 14-8 4 0 5 3-7 10 1 4 3 3 6 1 10-2 12 7 16-1 4 3 5 11 3 2 10-3 5-5 0-6-3-8-6-5-8-3-6-7-4-1-14 3-6-1-4-6 0-10-8-6-8-4-6-14-12-4-9-6-7-12-8 0-4 2-5 8 2 10-2 6-3 3zM2000 550l-8 1-9 13 1 8 6 6 4 1 4-2 5-9 3-12zM1658 558l-2 0-2 2 0 5 4-1 1-2zM1450 574l0-4-4-4-14 2-1 2 15 8zM1494 582l-4 4 0 6 4 4 6 1 4-3 0-7-4-5zM1849 588l-1 4 2 5 4 2 6-1 0-4-4-5-4-2zM1890 587l-3 5 1 2 4 0 2-4zM121 590l-1 4 7 10 3 3 4-1 3-6-2-6-7-5-4-1zM1472 590l-2-1-4 1-3 4 1 3 2 1 4-1 2-3zM1528 598l-4 2-5 12-1 4 2 4 6-1 4-5 0-12zM1518 628l-4-3-10 2-6 3-3 6 1 2 18 2 5-4zM1492 641l-6 3-2 2 0 6 4 4 4 0 3-4 0-8zM1990 648l0 2 4 3 3-1 2-2-1-3-2-1zM1624 673l-3 1-1 2 2 4 2 0 3-4 0-2zM916 682l-1 2 2 8 3 4 2-1 5-5 1-5-4-3zM1642 684l-6 0-8 3-1 11 3 2 4 0 8-3 3-7zM850 685l-1 3 1 4 4 0 1-6-3-2zM822 704l-4-1-4 1-4 10 2 4 4-1 3-3 4-6zM1634 754l0 4 1 4 7 5 10-1 4-2 2-4-1-8-3-4-4-1-9 1zM686 753l-2 3 0 5 2 3 4 0 2-4-1-4-3-3zM742 786l-2-2-4 2-4 8 2 1 8-3 1-2zM864 802l-1 4 3 4 10 6 3-2 1-7-4-6-6-2zM898 858l0 4 2 2 8 3 4-1 0-4-6-7-4-1zM1434 981l-4 1-5 4-1 4 3 10-12 16-12 24 1 6 2 4 12 8 4 0 4-2 2-4 0-8 13-6 1-14 9-8 2-4-2-4-9-3-6-5-1-4 3-12zM1414 1077l0 5 2 2 2-1 0-4-2-2zM1572 1160l-4 12 2 5 2 0 2-5zM1572 1183l-2 5 2 3 2-1 2-4zM562 354l3 4 1 20 6 8 0 6 4 6 0 4-2 3-8 0-6 4-8 2-3-3 5-12 3-14-7-8 1-10 3-6zM749 388l0 2-15 11-4 1-4-4 0-4 6-5zM878 404l2-1 5 3-5 2-2-1zM390 409l1 5-7 4-2 14-2 3-4-1-2-5-5-5 0-6 9-7 8-2zM861 432l9-1 2 1 1 4-5 2-7-4zM426 471l4-1 4 2 2 2-1 4-5 2-4-2-1-4zM82 479l4 0 2 3 0 4-2 2-4-1-2-3 0-3zM417 490l1-2 4 0 2 4-4 1zM426 505l4-1 4 3 2 5-2 4-6 2-3-2-1-4zM268 516l6 11 10 3 4 3 9 13 1 4-18 9-20-6-5 1-6 4-3 4 1 6 11 3 3 3-3 2-8-2-6 3-5 13 4 10-1 6-4 5-4 0-16-21 5-10 2-6-2-16 2-10-3-8 0-4 6-11 4-4 10 4 12-10zM41 518l13 1 5 3 3 4-1 4-5 10 8 10 1 6-6 14-1 16 10 1 10-6 6 0 4 3 0 4-4 5-6 2-16 1-10-4-16 3-8-3-8-8 0-4 5-16 3-3 13-5 5-8 0-8-7-18zM403 522l-2 4-3 2-6 2-3-2 1-4 4-4 6 0zM103 530l1-4 2-1 3 1-2 4zM448 540l1-4 7-5 8 2 11-1 0 2-4 4-7 0-8 5-6-1zM815 556l1 8-2 6-4 4-10 3-4 3-2 4 0 12-7 6-3 6 0 6 2 4 4 4 4 2 1 16-4 4-19 10-14 11-2-1-6-10-10-8-1-4 2-10-3-7-4-4-14 0-5-3-5-6-14 9-7-3-9-10-12 3-4-1 0-4 4-7 23-23 7-5 4 0 10 6 16-5 16 2 9 6 3 0 23-18 13-3 8-9 9 0zM429 572l6-6 1-8 2-2 10 4 4 0 2 3 0 7-4 3-4 1-6-1-8 3zM322 570l4 0 3 4-1 10-2 2-4 0-2-2 0-12zM402 599l4 1 3 6-1 8-4 3-4-3-3-10 2-4zM26 609l4 2 12 17-6 15-4 5-4 1-4-1-3-4-4-22 2-8zM646 612l6 2 1 4-3 6-4 1-3-3-1-4 1-4zM1722 625l4 2 2 5-2 6-4 2-3-2-2-4 2-6zM670 631l2 0 2 3 0 3-2 1-3-2zM1900 630l6 5 3 7-9 12-4 12-4 3-4-3 0-12 7-14 2-8zM1782 636l2 4-2 4-10 5-4 0 0-7 4-7 4-1zM360 640l4 0 4 1 1 3-1 4-2 2-4-2-2-4zM202 643l5 3 1 4-4 7-4 1-5-4 5-10zM730 646l3 4-1 6-6 6-6 3-4-7 2-8 6-5zM1822 658l4-2 3 2 3 6-2 2-8-4-1-2zM1943 658l3-1 3 1-3 3-3-1zM1743 680l1-2 10-4 8-6 8-1 5 3 3 10 8 4 2 4-2 3-7 3-5 4-16-1-12-10zM1877 676l0 4-7 10-10 4-5-2-1-8 6-10 6-1zM222 675l1 1 0 4-4 2-2-2 1-4zM1938 678l8 6 0 3-2 1-4-2-2-4zM0 679l4 3 1 4-1 4-4 3zM360 691l2 3-2 6-4 6-4 2-3-4-1-6 6-6zM2066 695l0 46-8 0-6-3-3-4-1-22 9-12zM187 704l3-3 6 0 9 5 2 4-3 4-6 3-8 2-3-5zM1832 716l2-4 6-2 6 1 3 3-4 4-7 2-4-1zM40 723l0 3-4 6-4 2-2 0-2-4 0-4 4-3zM178 744l2-3 6-1 3 2 1 4-2 2-4 0-4-2zM1862 741l8 0 3 3 0 4-3 5-6 4-4-3-2-4 1-6zM2028 743l4 0 4 3 1 6-3 5-2 0-3-5zM126 754l3 6-7 11-6 2-8-1-3-10 3-6 10-5zM1946 759l1 5-7 10-6 2-4-1 0-5 6-7 6-4zM1968 765l6 5 0 4-8 10-4 2-3-4 2-12 3-5zM1872 773l11 1 1 4-2 6-2 0-6-5-2-3zM2026 786l6-8 4-1 8 11 8 0 3 4-3 3-10-5-12 1-3-1zM188 784l4 1 5 9 8 8 0 6-5 13-4 0-14-5-5-6 0-6 5-14zM119 798l3-3 4-1 1 2-5 4zM1876 830l3 4 0 4-5 6-6 2-2-4 1-6 5-6zM0 838l6 1 4 2 3 9-3 12-4 4-6 1zM492 936l4-2 4 2 2 4-2 5-4 0-4-3-1-2zM802 954l8-1 7 5 1 8-6 7-7-1-6-6-1-8zM517 960l15 5 30-3 6 2 2 4 0 6-6 10-10 9-2 5 6 11 6 7 1 4-3 0-8-7-8-2-6 3-4 10-6-2-5-4-2-4 4-8-3-10 4-6 0-4-1-4-7-8zM584 1002l4 0 12 8 16 3 6 5 9 20-2 10-3 5-6 2-10-5-10 0-1-4 0-10-5-6-9-6-5-8 0-6zM1510 1059l2 7-4 3-8 2-4-1-1-2 1-4 6-5 4-2zM1522 1322l4 0 4 4 0 4-4 4-5 0-3-4 0-4z"/>
<path fill="#c94741" d="M60 0l-3 32-3 7-14 2-8 8-8 3-8 8-16 3 0-51 12-1 12 4 4 0 6-5 5-10zM67 0l16 0 0 6-3 2-4 0-6-4zM0 111l10-2 11-7 1-4-2-8 0-6 6-10-3-6 1-4 12-11 16-2 6-6 24 9 6 0 4-3 3-7 0-14 6-6-3-1-4 3-4 0-4-2-1-4 2-6 7-6 2-8 72 0-7 12 0 4 5 1 10-3 5 2-2 10 1 10-2 8 2 4 4 3 2-1 1-2-2-8 1-4 12-12 2-4 2-10-2-10 68 0 2 4 4 1 3-1 2-4 115 0 3 6 9 8 5 10 13 9 8 2 6 5 12 2 8-1 2-3-1-8-5-7-8-3-10 9-2 1-2-2 1-4 9-6 1-2 1-16 193 0 3 10 6 4 4-1 8-6 10 0 8 2 6-5 10-1 2-3 60 0-2 10 0 6 4 4 4 1 4-1 5-4 2-6-1-10 257 0 2 10-1 14 10-2 20-1 18 2 10 4 2-2 2-7-2-18 185 0 1 4 4 3 2-3 0-4 77 0 3 2 4 0 4-2 58 0 2 8 6 8 4 3 4-1 6-6 3-12 116 0 1 3 2-3 62 0 2 8 4 6 18 4 6-2 3-4-1-12 225 0 2 8-3 8 0 4 3 6 3 1 4-1 3-6-1-4-6-8 1-8 38 0 1 10 6 6 4 3 16 3 4-1 3-3 6-18 93 0 0 58-8 2-4 4 7 18 5 3 0 153-6 2-1 6 1 9 2 2 4 2 0 106-12 0-4 3-3 6-4 28 1 4 4 1 12-7 6-1 0 49-10-2-8-4-6-10-19-8-3-8-4-3-6 0-4 2-6 11-4 4-20 2-18 14-3 8 0 6 7 16 0 12 6 11 4 13-2 7-4 1-4-2-3-4 2-14-3-5-16-4-17-11-4-4 1-4 6-10-7-18 4-18-3-8-8-5-6-1-3 2 1 6 5 12-1 4-4 2-4-2-16-20-6-5-4 0-10 4-12-6-16-4-8 0-4 3-1 4 3 8-3 4-13 3-8-5-4-1-4 5-3 8-3 3-16 6-18 4-6-3-8-18-12-9-5 1-5 7-4 2-4-2-4-10-2-2-4 2-10 9-6 3-8-1-8-6-4-6 5-12 5-5 9-3-2-10-7-5-6 0-20 9-4 9-4-1-3-4 5-8-1-4-3-11-6-4-8 0-10 5-6 1-16-6-10 2-12-1-4 4-4 10-4 2-6-2-6-6-2-10-4-2-6-1-3 5 3 10-2 3-4 0-4-3-9-16 0-4 7-7 1-5-3-4-8-4-10 6-14 0-20-4-4 1-4 7-1 18-15 12-2 4 0 4 5 8-3 8-4 4-10 6-6 6-12 4 0 2 10 6 3 4-9 10-4 10-12 16 1 6 10 8 0 6-23 20-10 1-6-3-4-6 2-3 10-3 2-4 0-4-8-9-14-1-5-4-1-4 5-10 1-6-2-6-3-6 0-4 6-6 17-9 16 3 11-4 1-10 14-1 5-3 2-8-1-6-6-4-6-1-14 5-11 0-2 2-3 10-6 5-26-3-12 2-8 7-22-4-14 6-12-1-8 4-6 9-4 2-4-5-2-22 8-9 12-2 7-7 1-4-2-3-18-3-4-4 1-4 7-8 2-4-2-8-6-8-6-4-19 0 1 14-2 6-10 12-5 10-10 14 1 3 8-4 8 0 6 3 2 4 1 10 5 10-1 18 10 12-3 3-8-1-4 1-4 5-1 6 3 4 11 6-2 10 1 5 4 1 2-4 1-10 3-2 6 1 11 9 1 6-3 10-2 18 3 6 11 12 1 9 12-5 16-2 4-6 4-4 22-8 8 0 12 3 5 5-1 4-2 1-16-1-14 6-3 8 7 10 1 8-19 5-2 0-4-5-15 8-3 6 4 14 4 1 10-7 9 8 6 8 5 0 8-2 4 0 13 18 5 4 4 0 12-2 11 8 15 3 2 1 0 8 4 2 22-7 3 3 2 10 3 4 4 2 14-5 6 1 9 10 9 5 8-1 6-2 2-4 1-6 3-3 18-5 6 3 4 1 16-8 4 0 2 14 4 6-2 1-4-4-4 0-16 8-11 17 0 6 3 6 6 2 10 1 8-7 6-1 8 7 10 16 4 4 20-9 10-1 16 3 22-5 4 1 14 7 4 4 3 12 3 5 6 0 10-7 6 0 10 32 7 6 12 2 5 2 7 10 2 8-1 4-3 4-11 3-22 9-3 2-3 8-2 2-8-1-6 4-6 13 2 2 12 3 4 9-1 12-5 6-12 3-12-2-14 2-22-4-24 7-5 4-7 14 2 20-2 5-22 14-14 1-10 4-8 2-14 8-3 4-3 10-12 16-4-1-4-11-6-3-10 5-5 10-3 2-40-2-6 3-8 9-2 4 3 10 0 4-10 10-12 28 1 10 12 14-4 12 3 18-3 6-14 11-20 7-5 4-7 10-4 2-12-8-5 2-9 6-16-8-4 1-8 10-6 1-14-9-22-5-6 1-8 8-6 2-6-3-6-8-2-8 1-12-1-6-6-14-6-4-24-3-16-8-18-3-14-10-16-4-12-5-16-5-6-4-6-8-6-3-6 0-10 8-4 1-6-4-2-7-4-2-16 1-10-5-14 2-14-4-12 5-8-5-7-7-5-11-8-7-6-13-8-7-8-12-2-1-14 2-4-1-2-2 1-14 12-12 1-4-5-10-1-10-6-12 0-6 5-14 13-9 2-5-2-9-12-8-18 2-14 10-18 0-22-5-4 2-6 6-4 2-8 1-10-2-4-5 0-14-2-6-14-3-20-9-2-4-2-9-11-9-9-12-7-12-5-3-18 7-2 10-5 10-4 4-19 8-5 16-5 5-6 1-4-6-4-1-10 4-8 7-8 2-4-2-10-14-6-1-7 5-2 16-5 3-14-5-36 0-4-4-4-8-14-8-10-16 1-30 3-3 10-4 10 1 5-8 5-3 4 1 2 10 3 4 15 4 6-2 20-20 10-1 6 1-3 8-8 12 0 6 3 2 12 2 8 10 12-4 4-10-2-5-8-3-4-3-9-17 11-8 6-1 6 2 1 13 3 5 16 1 10 6 10-2 4-4 3-6-2-16-3-4-10-6-4-6 3-4 7-3 6-1 9 2 1 14 13 8 0 4-4 10 2 4 3 1 4-3 3-4 0-10 1-4 10-10 24-1 11-11 7-2 16 6-5 10 0 6 5 3 6 0 6-5 2-9 10-4 12-16 6-1 8 4 8-7 14-1 3-2 7-9 10-2 8-9 2 0 16 20 6 1 4-3 10-14 0-8-4-3-10-3-18-3-14-7-6-6-3-6 1-10-1-10 4-12-16-16-17-6-2-8 0-14-12-22-1-12-13-7-13-13-5-8-2-10 1-8 5-6 6-4 10 1 6-6 22-1 10 4 8-6 6-1 3 1 5 8 8-1 2-3 0-4-4-5-6-3 0-2 12-11 6-3 2-8 18-14 11 6-2 6 1 3 4-3 1-4-2-4 4-6-1-4-2-2-4 1-10 6-6-5-4-8-8-4 0-4 4-8-7-14 2-8-1-1-6 5-16 1-10-5-4 0-8 10-2 0-10-13-10 0-8-9-6-3-4 1-4 2-6 10-8 0-8 4-3-2-1-8-4-3-8 5-12 2-8-5-18 0-10 4-3-3-1-14-4-7-4-1-8 10-8-6-8-4-6 2-28 24-1 6 3 3 4 0 6-4 4 1-2 11-4 3-4 1-10-11-20-2-8-10-3-10 7-16 0-8-22 13-4 0-4-1-10-7-14 2-2-1-1-8 4-4 5-10 5-6 5-9 6-6 8-4 8-6 14-4 4 0 6 5 4-1 1-3-5-8 0-10-4-6-6-3-8 3-36 18-4 4-4 8-24 18-6 10-2 0-4-4 0-4 2-2-8-3-2-9-2-2-10-4-3-4 0-12 6-18-2-8-3-3-9-3-13-24-6-3-12 7-6 6-6 10 0 10 4 8 8 5 10 2 14-3 2 6-1 6-8 14-7 4 0 4 4 6-3 6-7 2-14-3-4 3 0 2 6 6 4 8 8 0 12 7 2 9-7 8 0 4 11 1 2 5-2 4-8 6-5-4-3-7-6 11-8 2-1 10 5 18 6 8 0 10-8 15-10 5-6 0-5-4-11-18-5-24-7-12-1-12-5-10-4-18-8-2-8-10-6-4-6 1-6 6-6-1-2-2-2-8 0-14 7-20-1-24-4-1-14 8-7-1-4-4-2-12-9-11-4-1-10 2-7-10-9-8-24-12-4 3-4 11 9 6 3 4-9 12 0 4 7 3 12 1 4-2 4-8 10 0 4 2 6 8 15 12 3 8 2 22-4 3-8 2-6 3-2 4 0 4 4 5 10-5 8 4 4 8-1 8-13 14-4 15-16 1-2-2-2-10-2-4-10 0-10-12-4 0-8 5-2 0-2-3 2-5 10-5 11-12 20-16 1-10-2-4-6-4-8-2-26 8-4-1-6-5-6 0-6 2-8 10-6 3-6 0-33-9-1-4 10-8-1-2-7-8-18 5-14-6-8 1-5 2-4 4-2 10 7 10-1 12 4 10-1 1-6-11-6-2-5 12 3 8 6 2 10-1 16 3 10 4 12 10-2 12 4 4 4 0 4-2 7-14 5-1 10 0 6 2 5 7 4 2 11 1 16 3 8 8 2 4-2 6-6 7-4 2-10 2-3 3 0 14-9 10 3 14-1 4-2 2-14-2-14 12-14-4-4-4-3-10 4-10-1-8-4-4-4-1-4 2-2 5 4 10-3 4-15 11-14 3-8 6 0 4 6 5 2 5-4 22-10 11-11-7-2-4 5-6 4-12-2-4-11-6 5-22-6-12-2-12-10-5-8 1-2 4 1 16 3 10 0 6-4 5-16 2-2-1-7-16-9-10-11-6-4-6 0-4 3-2 12 1 10-9 0-2-10-4-14 1-2-1-1-4 2-4 11-4 3-4 2-8-4-8 0-4 2-4 11-10 3-20 13-8 3-8 3-3 7 1 7 6 10-4 14 2 2-2-1-6-12-4-2-8-3-4-10-4-6-5-4 0-5 7-6 14-3 3-4 0-10-3-2 6 3 12-9 14-6 2-24 0-4 4 0 6 12 8 2 6-10 10-12 5-4 13-6 8-1 6 5 10 10 3 4 4 3 9-1 8-16 1-4 0-2-3-2-10-22 9 0-79 8-1 6-15 0-2-5-4-9-4 0-125 12 0 6-3 2-4-2-7-6-4-4 1-4 6-4 3zM576 9l-3 3 0 4 9 10 4 0 7-8 0-4-13-6zM368 17l-3 3 0 8 1 4 4 1 6-3 1-6-3-5zM979 22l-1 6 2 5 18 8 8-1 0-6-8-16-4-1-6 0zM1148 24l2 5 4 1 5-2 4-4-2-4-7-2-4 1zM1508 16l-4 4 0 2 4 3 2-1 2-4-2-3zM312 23l-4 9-1 14 2 4 7 2 14-6 4 3 6 7 4 0 3-4-2-4-12-12 0-4 5-10-2-3-8 4-12-2zM784 25l-6 7 0 8 8 10 4 7 2 1 5 0 5-4 0-6-8-8-5-14zM955 34l0 4 13 7 4 0 2-3 0-6-10-5-4-1zM1086 30l-2 6 4 2 2-2 0-2-2-4zM1412 32l-4 2-11 14 0 8 3 4 6 0 5-6zM1631 34l-3 0-2 2 0 5 5-3zM926 42l-6-3-5 1-8 10-21 9-7 5-4 6-2 8 1 8 4 6 6 4 4 0 8-9 10-16 4-2 8 0 10-17 0-6zM1444 40l-2 4 4 6 4 1 3-1 2-4-2-4-5-2zM1734 38l-4 5 0 4 1 1 4-4 1-4zM280 45l-19 5-3 4 2 16 5 20-1 3-10 7-1 6 9 18 4 3 17-7 0-2-3-12 0-10 6-3 12-1 3-6 0-6-2-4-16-8 1-20zM948 45l-2 3 0 6 2 3 4 1 2-2 0-4-4-7zM465 48l-1 6 2 2 4-1 1-3-3-4zM722 48l-2 4 2 7 6 5 6-2 3-6-3-8-6-2zM1487 50l1 4 6 2 3-2 0-4-3-2-4-1zM1618 47l-10 0-6 5-3 8 3 7 8 2 6-4 4-11 0-6zM504 54l2 2 4-2 0-2-4 0zM1798 57l-8 11-2 8 2 1 6-8 4-2 4-1 4 2 11 10 2 14 3 6 7 6 3 6 4 2 2-1 1-11 4-12-1-5-17-11-3-12-8-7-6-1zM56 57l-4 4-4 9 4 5 4 1 6-4 2-6-4-7zM660 58l-2 1-2 5 0 4 2 3 4-9 0-3zM1844 57l0 5 4 3 1-1 0-4-3-3zM444 58l-4 2 0 9 2 0 4-5 0-4zM1294 59l2 11 2 3 2 0 3-3-1-6-4-4zM1916 61l-2 11-8 10-1 4 5 4 14 4 4 0 2-2 1-4-4-8 0-12-5-6zM106 66l-3 4-3 12-6 10 0 4 10 0 12 4 4-1 5-5 0-6-15-22zM236 72l-8 6-1 14 3 10 1 12 3 3 4 1 4-2 3-4-4-12 4-16-2-8-3-3zM634 75l-2 5 1 4 7 5 8 0 6 8 4 13-2 6 2 4 4 2 4-6 2-1 16 7 4-2 2-14 3-10-15-18-4-2-10 0-6-3-8 6-10-6-4 0zM918 73l-2 5 4 3 2-1 0-2zM1547 74l1 4 2 2 6 0 0-2-2-3-4-2zM164 74l-1 2 3 6 4 4 2 0 1-2-1-4zM589 80l-2 8 5 8 4 1 6-2 6-5 1-6-5-4-10-3zM1481 78l1 2 4 2 6 1 3-1-1-2-3-2-7-1zM1076 82l-6 2-6 14 4 8 8 5 4-2 4-5 2-14-3-6zM1570 85l-2 3 1 4 10 10-3 10 3 6 23 5 6-2 7-5 1-2-5-4-17-3-12-7 1-12-3-5-6-1zM1704 86l-2 8 3 4 11 1 6-5-1-4-7-4-6-2zM54 86l-2 8 4 6 4 2 6-4 2-4-3-4-7-5zM2014 89l-4-1-22 2-8 8-9 6-2 4 1 4 6 14-6 8 0 4 2 3 14-4 7 1 9 4 1-2 1-6-5-12-1-18 2-4 4-2 10 3 4-1 1-4zM1026 92l-6 0-16 10-1 6 4 8 3 1 6-10 8-7 2-4zM1316 97l-6 10-7 17-17 18-2 6 2 4 12 4 10 11 6 4 6 2 10 1 4 8 4 4 2-1 2-3 0-6-2-5-7-5-1-9 4-8 2-1 4 0 12 10 0 6 8 7 4 9 8 9 8 2 6-1 1-6-9-10-14-7-10-9-1-2 5-8 3-14-1-4-6-5-5-11-7-4-14 1-3-3-5-11-4-1zM1693 100l-3-1-3 1-3 4 1 2 5-1zM336 104l-5 14 13 6 6-1 3-5-1-6-12-9zM162 110l-1 6 3 3 10 1 5-2-1-6-6-6-6-1zM314 107l-4-1-5 8 2 4 6 0 6-4-1-4zM1621 114l-1 2 2 4 8 7 10 2 5-1 3-2-2-14-6-5-8 0zM1504 110l-4-1-12 3-10-4-6 0-5 2-6 6 1 2 12 5 3 3 1 6-1 12 7 8 2 17 9 11 1 4-4 11-2 1-8-3-4 1-8 9-10 6-1 5 0 4 5 5 4-1 14-12 4-1 6 2 2-1 1-10 14-10 9-20 3-14 9-12 0-8-3-10zM1866 107l-6 0-5 3-3 12 1 6 7 8 5 10 0 8-3 5-14-1-6 4-1 6 2 12-6 6 1 4 4 2 4 1 4-2 5-13 5-6 6-4 12-3 14 2 3-3 0-6-3-6-12-4-15-14 1-4 9-10-3-8zM645 116l-3-2-10 4-3 4 3 1 6-1zM433 122l1 5 14 6 4 0 2-3 0-6-4-4-12-1-4 1zM1094 130l2 3 4 3 4 1 3-1-1-4-4-3-6-1zM1186 127l-2 2 0 3 4 2 1-4-1-3zM758 129l-1 5 1 2 2 0 2-4zM432 130l-6 1-4 2-6 10-4-3-6 0-7 4-4 6 0 6 7 12-1 8 9-1 4 2 6 16 2 0 10-13 8-6 3-4-2-6-6-12 0-14zM978 136l2 4 2 1 6-2 2-3-3-4-3-1-4 1zM996 138l-1 2 3 6 8 6 6-1 6-5-2-4-8-6-6 0zM1912 146l-1 4 1 4 13 18 13 7 6 0 4-3 1-4-3-15-4-9-4-1-12 4-10-7zM1038 146l-1 2 7 5 3-1-2-4zM242 148l-6 10 0 10 25 24-1 12 4 3 4-2 10-7 1-4-3-4-8-6-5-8-9-6-6-17zM733 168l1 2 4 1 4-9 4-2 3 0 1 2 0 12 2 6 4 4 6 3 10-7 17-6 3-4 1-8-1-3-16 0-24-8-15 7zM1772 154l3 4 5 3 4 0 4-3-1-4-3-2-8-1zM1111 154l-5-1-5 3-7 6 0 6 6 3 12-9 2-4zM64 157l-4 1-4 10 0 5 3 5-15-2-4 2-6 8-2 10 4 8 4 1 14-2 14 3 6-3 1-5-2-14-4-8-2-14zM181 160l-3-2-14 0-18 12-4-2-3-8-3-2-2 2-4 8-4 2-10-7-6-1-4 4-4 10 0 10 5 8 3 1 4-1 4-4 2-11 4-3 2 0 6 17 2 2 4 2 8-7 4-11 16 2 6-3 7-10zM1978 158l-3 4 3 8 4 3 6-1 5-8 0-6-7-1zM1028 167l0 5 4 6 6 1 6-3 0-4-3-4-9-3zM1175 166l1 4 4 2 2-1 1-3-3-3zM1557 192l6 4 7 1 8-3 8-6 10-1 8 9 16-1 6 10 6 3 6-6 4-6 0-16-4-5-6 0-10 3-6-1-10-2-12-7-10-1-6 3-12 10zM1694 179l4 1 2-4-2-2-3 2zM1899 176l-3-2-8 8 4 2 4-2 3-4zM1878 178l2 4 5 0-3-5-2-1zM938 184l-6 1-1 3 2 8-1 10 4 2 3-2 2-8 6-8-2-4zM994 183l-5 3-4 10-3 4-10 8 2 3 10 0 5 3 0 22 3 3 4-1 10-20-6-10-2-20zM208 190l2 2 4-1 2-5-4-2zM502 186l-4-1-8 2-4 3-1 4 6 4 7-1 6-5zM516 190l-5 2-1 4 4 8 4 2 4-7 0-5-2-3zM1872 193l-4 1-1 2 1 4 4-2zM768 196l-2 3-1 13 3 6 4 1 5-3 1-6-4-10zM1745 200l0 2 3 2 5-2 0-2-3-2-3 0zM1775 200l-2 8 3 5 8 4 8 5 4 1 6-2 4 1 2 6-1 10 3 4 6 0 6-2 7-20-9-19-4-1-10 6-4 1-22-8zM1084 208l-2 4 3 6 17 16 10 0 9-12-1-8-18-14-8 2zM1710 201l-2 3 2 5 2 0 1-3-1-4zM913 204l-9-1-8 3 1 10 3 13 2 2 15-11 2-4 1-4-1-4zM348 208l-1 4 1 2 4 1 3-1-1-4-2-3-2-1zM388 215l-4 1-3 2-5 6 0 4 6 2 6-1 3-7-1-4zM1647 218l-3-2-12-1-12 11-4 13-7 11 0 4 3 4 4 2 6 0 8-2 4-2 4-16 10-7 3-3-1-7zM1384 238l6 3 8 1 6-11 9-11-1-1-2 2-4 1-12-5-8 1-3 4-1 4zM955 226l3 4 4 0 1-2-3-4-3 0zM1258 224l-6 4-2 6 1 24 4 6 9 2 5-2 2-4-1-16-3-16-5-4zM1894 223l-6 3-5 8 0 4 5 4 8-1 5-3 2-4-3-6zM1916 234l-3 2 0 2 2 4 3 2 2-2 1-4-1-2zM1872 243l-1 3 1 4 2 1 0-6zM1346 245l-8 3-7 4 0 6 8 12 0 4-3 6-8 8-2 4 4 10 10 4 4-1 12-9 3-6-7-14 8-12 1-4-2-4zM64 248l-1 2 1 4 4 3 3-1 1-2-1-4-3-2zM1694 249l-1 3 2 4 3 3 2-1 2-2 0-4-4-3zM266 254l0 6 4 1 3-5-3-3zM918 258l9 8 5 10-1 4-8 12 0 4 4 4 10 6 5 12 4 4 8 4 14 5 8 10 14 4 10 10 2 0 8-7 12 2 4-2 3-16-4-12 2-14-3-6-4-1-8 3-22 1-8-7-10-2-6-10-20-8-3-4-3-10-8-6-6-2zM1490 254l-4 3-2 5 1 4 3 2 4-1 2-5-1-6zM1570 259l-6 2-7 23 2 12-1 4-6 2-10-4-6 0-10 4-5 8 3 4 4 2 18-1 2 3-2 10 1 4 13 11 18 8 8-6 1-5-2-6-3-5-20-17-2-6 8-14 1-10 3-3 4-2 4 1 0 2-4 8 4 2 12-2 3-4 1-4-14-18-6-3zM1944 260l-1 4 5 11 4 3 4-2 3-6-2-6-7-4zM1182 268l-1 2 3 6 14 13 2 0 5-9 0-8-3-7-2-2-4 0zM1781 366l3 6 2 0 4-5 2-1 6 4 10 8 10 12 6 0 14-7 18-2 4 2 7 9 9 6 6 1 4-1 2-2 8-20 4-3 10 1 5-2 6-10 3-1 2 1 1 4-4 8 0 6 7 4 7 8 5 1 14-6 12 1 2-2-2-4-12-6-3-6 21-27 1-5-5-5-6-2-12 8-14 2-16 11-10-6-8 0-6-3-5-5-10-18 6-18 5-7 6-1 14 5 5 3 5 16 4 8 4 3 4-2 8-12 8-7 0-4-6-9-12 1-4-2-4-12-4-4-8-2-12 2-4-6-24-10-9 14-9 10 1 6 11 10 1 6-1 5-14-5-30-9-10 0-3 3-2 6 2 10 5 4 10-5 3 3-1 4-10 11-6 1-10-2-4 2-6 10-2 18-7 0zM226 264l-3 12 1 2 4 0 4-2 0-4-2-6zM1142 267l-4 3-1 4 13 7 5 5 1 4-5 16 3 18-2 4-8 5-2 3 1 2 9 2 12 6 12 1 4-4 3-9-1-2-8-4 0-5 4 0 6 5 10-4 10 1 2-1 0-6-4-8 2-10-1-4-5-5-8 3-6 1-18-18-12-4-8-7zM1719 268l0 4 4 0 1-2-1-2zM1046 273l-5 3 0 16-7 12 6 12-4 14 4 4 12 3 4-2 1-3 1-16 2-4 14-3 12-7 2-4-2-3-10-3-22-17zM1229 286l-2 6 3 7 12 3 6-4-1-6-6-6-7-2zM1736 284l-4 2-5 8 2 14-3 12 2 5 4 2 10 3 8 0 3-2 2-4 1-10 2-10-2-17-4-4zM16 288l-3 2 0 2 3 1 2-1zM1440 290l-4 4 4 8 3-2 2-6-1-3zM1956 310l6 5 16-4 12 5 6 1 26-8 3-5-4-4-7-2-16 3-26-5-15 12zM1674 306l0 2 4 2 4-4 0-2-4-1-4 1zM446 309l0 3 2 2 4-1 2-3-4-3zM1465 314l1 4 3 2 7 1 8 10 6 4 4 0 8-5 6 0 2-6-2-3-8 0-14-8zM1332 318l-6 1-8 3-8 20-1 10 7 8 4 2 6 1 4-2 3-11 3-3 10 4 4-1 7-4-3-3-14-3-4-3-2-5 1-10zM1622 317l-2 0-4 5 2 2 4-3zM2026 317l-4 3-2 6-1 4 3 3 5-1 4-6-1-5zM1078 323l-4 2-3 5-1 6 4 4 6-1 4-5 0-6-2-3zM1654 324l-10 18 5 18 3 4 6 3 12-2 8-5 3-6-2-20-3-5-4-3zM126 336l-1 8 5 8 12 4 4 0 4-2 1-4-1-12-3-6-11-1zM1420 340l-5 4-5 16 1 6 3 2 4 0 2-2 1-10 4-10-1-4zM1056 344l-6 6-1 6 5 7 8 2 2-3-1-12-3-5zM1364 348l1 8 5 6 18 11 6-1 4-12-1-4-3-4-12-4-14-1zM1758 350l-3 4 2 6 5 4 6 0 1-4-3-8-4-3zM175 360l1 4 8 6 5 0 0-4-2-4-5-2zM1124 363l-6 6-2 11-3 6-5 4-12 2-1 6 9 8 10-5 8-1 4 6 1 14 9 6 8 1 5-3 3-6-1-10-4-10 3-18 10-9 1-7-1-1-4 2-7 11-5 1-6-2-8-12zM118 374l5 6 9 5 6 1 3-4 0-6-3-2zM1361 388l-1 4 3 4 3 0 4-2 0-2-2-3zM143 394l1 4 2 1 4-1 2-2-4-3zM1229 446l-1-4-18-17-4-1-20 4-2 4-1 10-5 3-16-2-10-6-4 3 1 2 7 5 13 21 5 3 30-12 15-1 5-4zM1142 442l-4 0-4 2-2 4 2 5 4 0 4-3 2-6zM899 496l2 4 7 1 3-1 2-4-1-2-4-2-6 1zM950 497l-4 0-3 3-1 18 2 1 8-3 6-8-1-6zM1030 510l-4 0-5 4-3 4 2 5 6 2 6-4 1-7zM929 522l1 4 4 3 4 0 3-3-1-6-8 0zM1267 542l1 5 6 5 4-1 8-7-12-5-6 1zM1322 541l-2 1-1 6 1 6 2 1 4-3 3-6-3-4zM940 548l-4 2-1 4 3 5 4 2 2-3 1-8zM1276 557l-4 2-12 19 2 6 8 5 7-1 9-18-3-8zM1310 600l-1 4 1 6 2 3 4 0 3-3 0-4-5-5zM1109 624l-5-4-8 0-12 8-2 4 4 4 14-1 8-5zM1138 631l-4 7 0 4 3 2 5 0 3-2 0-4-5-7zM1166 630l-2 4 1 2 3 1 2-3-1-2zM820 740l2 6 6 4 6-2 6-6-2-7-6-3-8 2zM1654 745l-10 0-10 5-4 8 4 8 6 3 6 1 8-2 4-2 3-6 0-6-3-6zM881 780l1 2 2 0 2-4-2-1zM849 798l0 6 8 10-3 10 2 4 10 3 10 8 14-3 3-2 0-4-7-10-1-18-5-6-4-3-6 0zM1319 128l5-3 4 1 5 6 1 6-4 2-10-3-3-5zM1104 213l3 1 0 4-1 2-4 2-2-2-1-4zM392 340l0 16-3 10 3 16-4 7-6 2-14-5-12 0-4-2-2-6 1-4 3-2 12 0 4-2 8-10 3-12 7-8zM1856 341l2-1 2 3 0 4-5-1zM560 355l3 3 2 12 0 8 5 8-3 6 7 8-2 3-6-1-8 6-6 2-2-1 0-3 5-10 3-14-7-8 0-6 2-8zM1482 356l2 2 0 6-2 4-4 1-2-1-1-4 3-6zM483 382l7-5 4 0 12 11 2 4 0 4-6 4-8-2-6 1-4-1-3-8zM1504 377l5 5 11 19 4 2 12 1 6 4 2 4-2 12 2 4 16 6 14-1 4 1 5 6 1 8-4 3-6-1-4 2-2 6 3 8-1 4-6 7-6 3-6-1-16-9-28-2-12-5-2 1-3 8-7 8-1 6 2 4 8 4 4 10 5 2 8-8 8-2 5 4 7 13 16 3 7 4 3 4-12 12-6 2-10-4-6-8-12-4-10-5-4 1-2 4-1 10-5 14 4 8 4 1 6-3 5 2 1 4-4 6-3 8-11 3-6 5-10-2-20 11-1-3 3-18-1-8-4-8-13-6 0-4 18-12 4 0 8 2 19-14 1-12-6-12-4 0-6 6 0 12-2 6-6 3-6-4-4-9 0-6 11-12 3-8-2-4-6-2-14 4-7 0 1-4 5-8 8-16-1-2-11-8-4-6-1-4 8-7 4 0 8 5 12-7 6 2 18 11 14-5 14-1 4-2 0-4-12-3-14-13-12 1-5-3 0-4 11-6 8-16zM1492 440l-5 4-2 6 1 4 6 2 2-2 2-8zM1456 546l0 4 4 4 8 0 3-4-1-6-4-4-5 2zM762 388l6-2 3 2 1 2-4 4-4 0-2-2zM1460 388l4-1 2 1 0 5-6-1-2-2zM331 392l2 4-3 4-12 5-4-1-1-6 5-6 6-3zM738 392l1 2-3 4-4 2-3-2 1-4 2-2zM1618 424l1 4-1 4-6 3-5-1-1-4 3-4 5-3zM283 480l0-10 3-8 12 3 4-5-4-20-10-6 1-4 5 0 6 6 4 2 28-1 4 2-1 21-14 12-5 1-14 0-10 10-6 0zM1868 440l4-5 4-1 5 2 4 6-3 3-10 2-3-3zM14 438l8-4 3 2 4 16-1 3-8 0-6-3-3-8zM1894 447l4-2 4 0 2 5-2 3-4 1-3-2zM1632 452l2 0 4 1 2 5-4 2-4-2zM1815 470l-1 6-4 5-4 2-12-1-6 4-3 6-7 23-4 1-6 0-3-4 9-20-3-12-3-4-4 2-6 12-2 1-6-1-12-7-6-1-7 2-4 10-13 5-4 0-8-5-6-2-8 1-7 7-3 1-4-1-2-4 2-3 10-4 8-13 4-2 8-1 14 9 10 1 5-9 3-3 10 0 14-10 14 1 8-9 20 4 16 8zM1318 456l4 2 1 4-3 5-4 1-3-2-1-4 2-4zM0 460l8 2 12 7 14 1 4 4 3 10-1 4-12 4-6 8-6 3-4 0-4-15 0-14-2-4-6-2zM1651 464l3-1 4 1-4 3-3-1zM126 466l4-1 4 3 3 12-5 2-6-3-3-7zM426 474l2-2 4 0 3 4-5 3-2-1zM1864 478l7 12-3 14-12-6-4 0-8 5-4 0-3-3-3-8 4-7 4-2 8-1 10-5zM354 480l8 7 3 5 0 8-5 5-4-1-1-2-3-20zM2012 481l3 1 1 4-6 18 0 17-8 15-4 3-4 0-4-5 6-10-4-14 0-6 3-4 7-4 4-12zM252 485l2 3-1 4-5 4-4 1-1-3 3-6 2-2zM1324 488l4-3 10 1 4 4 0 4-4 2-10-1-3-3zM176 489l4 0 4 2 1 5-3 5-4 0-4-3-1-4zM278 489l4 2 1 5-1 6-4 3-6-3-2-6 2-4zM2054 489l6 2 4 5-4 6-6 3-5-3-2-6 1-4zM1580 507l6-4 12-2 8 2 8 4 12-1 1 12 5 12-8 14 2 4 8 6-4 2-10 0-14-10-8 0-9-4-11-13-3-7 0-6zM428 505l4 1 4 4 0 4-4 3-6 0-2-3 1-6zM1922 507l4 3 1 8-2 8-5 2-3-4 2-14zM1706 513l8 0 8 5 3 6 1 6-4 8-10-1-7-5-1-12zM1800 515l3 21 9 4 2 4-3 4-17 7-5 5-1 6 6 10-5 16 3 5 20 11 0 8-4 4-4-1-8-9-12-2-2-2-6-22 0-10-4-7-6-3-10 2-2-4 8-8 14-4 11-28zM2066 519l0 50-19-7-2-4 4-10 1-10 8-16 2-2zM390 526l3-4 3-2 5 2-1 4-4 2-4 0zM254 526l4-3 4 1 2 6 4 3 16 6 2 3 0 4-4 3-4 0-19-7-5-12zM462 534l-1 4-5 4-4 0-3-2 1-4 5-4 3-1zM1686 538l4 4 3 6 1 6-1 6-5 2-16 1-4-4-3-7 1-7 6-5 10-3zM1900 542l3 4 2 8-5 16-2 1-10-6-4 1-4 19-8 6-6 0-6-9 0-14-10-8-2-4 0-4 6-2 10 2 10-2 10 4 4-2 6-9zM1382 545l4-1 10 9 10-2 10 5 2 4-2 8 2 8-4 1-6-3-1-10-9-9-8 1-7-2-2-4zM1719 546l1 8-2 8-16 16-4 1-4-7 1-10 11-13 8-3zM1649 550l-5 6-4 0-3-2 7-4zM176 556l4-2 4 2 3 4-1 4-2 1-6-3-2-4zM438 557l6 3 1 4-1 1-6 1-2-4zM1574 560l4 1 3 3-1 4-2 2-4-1-2-3zM170 566l1 4-1 2-6 2-3-2 0-4 3-3 4-1zM44 568l4 4-1 6-9 9-4 1-4-2-3-6 5-12 6-2zM1672 568l7 10-1 6-4 2-8-3-4 0-8 9 0 4 5 6 7 3 3-1 7-8 8-1 6 5-2 6-11 14-9-1-22 10-6-1-3-4 0-4 10-30-6-10 0-4 5-2 16 3 6-7zM2022 578l1 2 0 4-18 20-9 4-4-1-4-3-1-6 2-6 12-8 7-8 6-2zM731 580l0 4-3 6-4 14-12-1-14 8-5-1-2-8 2-6 21-12 12-5zM1562 584l-1 4-17 14-4 10-2-24 2-5 6-3zM1578 580l2-1 4 2 1 3-1 3-2 0-4-3zM774 582l4 6-1 10-3 7-7 5-2 12-11 4-6-1-4-5-1-6 7-22 20-11zM1516 583l3 3-3 3-2-3 0-2zM1467 608l13-11 4-1 18 10 2 4 0 6-7 6-11 5-6 0-6-4-7-11zM1974 599l2 5 0 14-4 5-4 1-3-4 0-10 5-9zM402 600l4 2 0 8-2 2-2-1-3-7 0-2zM1846 604l18 2 5 4 4 6 0 10-8 10-4 10-3 1-4-1-2-3 1-9-1-5-15-7 6-6 0-10zM1607 618l0 4-3 3-4 2-4-1 1-4 3-4 4-2zM149 636l-3 4-21 12-10 10-7 4-4 0-11-6-2-4 0-4 16-8 9-11 16-2zM2016 630l1 2-1 10 1 4 12 8 0 6-3 3-8 0-10-7-1-10-2-8 3-4zM80 639l3 3-1 4-4-4 0-2zM752 642l2-2 6 0 8 2 1 4-3 4-6 1-6-5zM362 641l4 1 0 5-4-1zM866 651l6 2 2 3-5 18 4 10-1 3-2 0-3-1-4-8-9-4-1-2 0-4 7-12zM1985 664l5-1 3 1-1 2-4 2-3-2zM1763 680l2 2-1 4-4 2-2-2 0-4 2-2zM358 695l-1 7-5 4-3-4 1-4 4-3zM2066 708l0 28-6-1-5-3 0-6 5-13zM599 722l0 4-5 3-1-1 1-3zM356 737l2 5-2 2-4-2 0-2zM378 754l18 2 10 2 12-1 6 1 8-3 4 5 8 22 9 10 0 4-1 8 1 14-7 16-4 14-4 6-14 8-4 0-6-2-41-30 3-12-8-27-2-3-8 2-4-4-2-8 2-6 17-2 3-4 1-8zM748 802l3 4 5 18-1 6-3 6-20 10-22 1-4-2 0-5 8-2 4-12 13-10 7-12 4-3zM0 844l6 2 2 4-3 6-5 2zM804 956l6 0 4 4 0 6-4 4-4 0-4-4-1-6zM544 969l14 9-1 2-10 10-5 10-6 4 3 6-3 10-4 2-6-4-2-4 6-8-1-8 5-8-4-18 4-2zM1444 991l4-2 18-4 8 7 8-7 4-2 6 2 9 9-3 4-18 4-4 6 1 12 3 4 11 6 1 2-2 4-4 2-12-9-12 0-7-3 8-18 1-6-2-3-4-1-10 3-4-1-2-4zM609 1044l3-3 6 1 3 2 1 4-2 1-4 0-6-3zM1440 1066l1 4-1 4-8 3-4-2-2-5 3-4 5-2zM1392 1160l2-4 9-6 5-9 13-13 22-16 2-4-1-8 6-6 6-9 4-1 6 6 2 16 2 3 18-5 12 2 12-4 16 6 3 8-5 7-2 15 2 6 4 4 3 0 1-8 6-4 4 0 4 2 8 9 8 0 5 1 0 4-3 7-1 15 3 19 4 3 8-4 1 4-3 3-10 2-6-4-4-1-8 8-4 0-14-8-6-6-6-10-4-2-12 3-12-5-14 1-12-8-18-4-17 1-2-2-5-10-4-3-6 1-4 2 0 14-6 4-4 0-4-3-3-5zM1580 1167l4 3 3 8-3 8-2 0-3-8 0-8zM1522 1323l4 1 2 2 0 4-2 3-4 0-3-3 0-4z"/>
<path fill="#c53e3d" d="M110 36l5-10 0-10-3-4-8-5-2-7 59 0-3 6-9 6-7 8-10 6-11 10-7 3zM304 0l0 4-4 8 4 10 0 8-3 6-3 3-6 0-14-6-5 7-5 4-17 0-3 4 3 14-3 4-12-6-10 10-4 1-12-6-3 3 0 4 9 7 1 5-3 4-18 7-4 14-6-1-8-10 7-16 1-8-2-4-12-3-8-4-4-13-6 0-10 5-4-1 0-6 8-16 6-4 8 0 6 2 2 2 0 4-3 8 2 4 15 14 6 1 4-1 4-6 2-6-5-12 9-6 2-2 5-30 20 0 1 2 2 1 1-3 29 0 2 7 6 4 8-3 3-8zM305 6l0-6 26 0-8 8-5 3-10 0zM351 0l32 0 1 6-2 1-8-5-8 3-6 0zM448 0l105 0 2 4 8 6 4 10 6 8 0 4-3 5-9 5-1 5 2 2 10-6 12-3 11-16 7-4 8 0 6 4 6 17 4-1 6-5 10-2 10-4 6 2 3 5 0 6-9 9-8 12-12 2-6 7-4 2-9-4-1-10-6 0-4 2 1 6-3 2-12 0-4 3-3 13 1 11-6 7-1 4 7 12-16 10-5 8 1 8 4 4 4 1 6-3 10-13 14 2 12-4 8 3 8 11 6 3 7 6 5 0 7-4 0-2-9-8-2-4 0-6 3-4 5-1 12 3 12-3 12 2 6-3 3-6-1-13 2-3 7-4 2-4-3-4-11-8-6-10-1-6 3-10-3-14 5-12-1-10 1-4 3-3 8-1 4-2 3-12 13 0 0 6-1 6-6 6-2 4 1 10-3 14 5 20-7 8-1 4 2 6 6 4 4 1 4-2 5-11 11-6 5-6 5-20 1-10 4-6 19-3 1 21 8 8 5 10 4 3 14-5 13-12 1-4-5-6-15-7-4-11-3-4-5-2-7 0 0-16 33 0 1 4 3 3 12 0 16 7 4-2 1-2-2-10 66 0-1 4-15 10-4 8-11 10 2 5 11 7-2 4-23 16-11 12 0 6 13 20-8 3-4 5 0 4 4 4 6 0 8-4 12-3 10-9 7-14 17 2 5-2 5-18 24-5 10-8 12-7 6 0 8 6 14 6 2 2-1 4-14 12 0 10-7 12-4 0-6-10-4-2-3 2 1 10-3 6-7 6-10 0-4 2-6 12 0 4 6 7 4 1 8-2 6-8 2 0 2 24 4 6 8 1 8-5 4 1 2 3 1 6-1 4-10 8-8 17-12 6-8 7-6 1-2-5 11-16-1-6-4-3-32-4-4 1-2 2 0 14-12-1-8 1-12-2-6 2-6 8 1 8 10 8 7 13 3 15-6 12 9 18 5 2 3-8 4-2 8 2 5 4 0 8-10 14-1 6 15 8 15 17 22 9 12 12 12 4 5 10 5 4 9 0 27-10 4 2 12 17 8 3 8 6 14-4 10 4 1 2-3 14 6 14 0 10-2 4-9 8-1 8 18 5 4-3 4-10 8-4 8 1 2 3 0 4-4 8-9 8-1 6-2 1-20-3-12-8-3 4-1 4 4 6 18 9 10 8 4 1 16-3 12-10 6-1 14 2 16 10 8 7 4 1 3-2 1-10 4-4 10-4 10-1 6 2 7 5 11 4 5 12 9 13 2 1 4-5 6-10 4-2 0 17-2 7-4 1-8-6-2 1-4 9 1 8 10 8-1 10 4 12-4 7-12 5-3 2-1 20 1 4 3 2 40 9 12 16 16 4 6-1 10-9 18-2 18 14 18 3 11 6 3 8 18 4 16-1 4 2 6 8 4 3 12 0 30 9 14 3 4-1 5-5 7-12 6-2 5 4 0 4-2 8-7 12 0 8 2 6 6 5 14 4 6 0 8-4 4 1 8 10 7 16 3 2 8-4 9-10 9-4 20 5 22-3 16 8 3 4 5 12 4 6 14 4 22 21 8 4 10 1 4 3 2 5 1 4-3 3-4-1-8-6-4 1-4 5-2 9-12 5-8 9-10 6-6 10-8 7-1 4 2 4 17 3 6 3 1 6-1 8-5 4-9 2-14-4-14 4-12-5-6-1-28 8-5 4-7 16-5 14 4 10-7 7-16 9-10 0-10 5-10 1-18 7-4 5 0 10-4 3-2 0-8-8-6 0-66 17-13 18-1 6 2 10-8 10-13 32 1 8 8 14 1 32-9 8-24 11-14 9-10-3-18 5-18-5-4 3-4 6-4 2-4-1-8-7-16-5-22-3-2 2-3 10-5 1-6-4-3-5 0-6 2-10-2-8-7-14-8-6-10-2-14-1-16-8-16-3-12-8-14-4-28-12-5-4-4-8-5-3-14-1-14 5-6-8-6-3-16 2-12-4-12 3-14-6-14 3-8-2-4-5-4-10-9-9-4-10-8-12-4-12-7-12-2-16-8-10-2-14 1-4 3-2 16 0 8 7 4 1 2-2 1-6-7-10-4-12 2-3 12-3 3-4-1-4-2-3-4-1-4 1-6 4-4-1-2-4-2-12-12-9-10-15-4 1-3 9-5 3-12-10-4-7 0-8 2-6 10-6 0-4-4-3 0-3 2-2 8 1 5-7-1-10-8-14-6-4-10 2-6 4-6 8-14 6-4 16-15 4-5 4-1 12-5 18 4 4 13 8 3 6-12 5-8 10-6 1-6-1-2-3 2-20-4-6-9-8 13-8 1-4 0-6-3-1-4 0-8 3-1 4 1 10-2 2-10 3-10-2-3-3-3-12-7-6-3-4 5-10-1-4-6-3-8 2-2-1-6-10-11-8-3-12 2-6 4-4 8-1 16 4 4-1 8-6 4 0 3 4 2 12 21 0 6 3 5 5-1 4-14 10-10 2-3 2 0 2 7 4 16 5 8 6 4 1 5-4-1-10 11-14-2-8 1-4 10-5 3-3 0-14 1-3 7-5 0-8 3-4 14-1 6 8 4 1 4 0 4-4 4-14 4-2 12 9 22 6 18-1 9-6 1-14-7-6-2-10-5-7-8-3-32-3-22-11-2-6 3-10 3-4 9-4 3-4-2-4-10-12 0-4 3-10-5-2-8 3-6 1-22-7-3-7 2-16-3-12 7-6 1-4-1-2-13-10-14-3-6-4-11-11-6-18 1-4 4-4 4 0 6 3 4-1 8-8 14-4 6 1 16 15 4-1 6-4 4 1 8 10 2 1 18 2 8-9 10-1 3 5-1 7-4 3-10 1-1 3 3 10 12 14-6 10 1 6 7 12 6 2 10 0 3 2 4 8 5 0 4-6 1-6-3-4-10-1-2-1-1-6 2-6 5-3 14 2 6-1 2-2-5-12 3-16-6-10-1-8-3-3-18-8-18 2-4-1-6-6 0-3 3-5-3-3-4 0-12 12-4 1-10-18 1-4 5-4 8 0 4-2 0-10 12-8 2 2 0 8-3 4-5 4-1 4 5 5 4-4 8-2 13-23 12-8-4-16-23-20-16-2-5-18-3-3-6-3-6 1-10 4-20-2-4 3-2 6-2 2-8-14-4-1-8 3-8-6-6-2-8 1-8 9-10 2-12-9-10 6-14-5-12 3-18 0-3-13-5-8-6-1-8 7-2 0-6-4-4-6-24 8-2 2-4 10-6 2-2 0-13-16 7-6 0-4-12-11-10-3-4 1-9 13-9 3-6 0-8-6-10-4-1-7 6-8 5-10 6-5 9-3 5-6 14-3 3 1 8 12 3 8 6 5 8 1 4-3 2-3 0-10-4-16-14-3-2-3-2-10-4-5-6-3-14 5-34 17-4 4-4 9-22 15-2 0-6-4-4 3-4-1-4-10-10-4-4-4-1-12 6-16 0-8-3-6-10-5-6-11 0-6 2-4 6-2 6 0 12 3 4-1 3-10-1-4-7-8 1-4 2-2 8 5 8 13 5 4 7 1 12-3 4-4 0-6-10-9-5-11 1-4 9-6 1-6-4-4-4 0-12 11-16 1-3-2-7-10-18-11-10-2-4 3-2 4-4 16-4 3-6 1-7-4-5-8 0-6 6-12 0-6-2-1-18 14-4-1-2-2 0-3 8-2 4-4 4-15 1-10 9-9 4-11-4-6-23-14-1-4 2-6 6-4 14 5 12-5 6 0 6 4 3 10 3 1 6-5 3-10 11-10 1-4-2-8-5-3-20 5-10 5-4 0-5-9 1-2 5-4 1-4-4-2-8 1-4-1-17-20zM762 56l-6 1-4 5 0 8 4 5 6 0 4-3-1-12zM809 76l-2 6 3 6 12 5 5-3 2-8-5-7-8-2zM548 80l-2 0-11 18 0 4 3 4 4 0 8-6 10 2 4-3 0-5-4-6zM502 89l-4 3-2 8 4 9 3 3 3 1 12-11 2-6-8-5zM787 116l-5-1-5 5 1 4 7 6 0 16-1 3-4 0-3-3-4-18-2-4-21-13-4 2-2 3 3 16-1 6-3 6-5 4-8 5-12 1 4 4 3 16 10 8 1 2-5 6 0 2 5 0 10-2 6 1 6 7 1 8-2 16-13 17-10-2-12 1-5 2-4 6-3 2-14-1-2 1 2 10 10 21 4 4 4-1 7-26 4-6 7-5 10-3 16 3 8-1 9-4 6-6 0-8 2-4 9-8 10-1 4 1 8 8 10 14 6 6 12 4 5-2 2-10 0-8-2-4-10-10-5-3-8-1-18 3-6-7 1-6 12-12 3-6-14-10-1-4 3-12-7-12 0-18zM556 118l0 7 4 3 2-2-1-4zM864 168l2 4 4 2 16 0 18 5 16-11 4-4 1-4-3-4-8-4-6-7-18 1-4 1-2 3-4 13-13 3zM624 153l-6 1-10 9-2 11-5 10 3 4 6 0 14-12 4-16zM668 160l-2 2 2 5 2-1 0-2zM650 175l-7 7-4 10-5 8-1 6 11 16 8 2 12 11 6 2 5-9-3-22-2-2-4-1-8 9-4 0-1-2 7-10 6-16 1-4-5-4zM823 180l0 2 3 5 4 2 2-1 1-4-3-4-4-1zM710 194l-8 4-3 6 3 16 4 5 4 0 8-3 4-6-8-17zM850 253l-2 3 2 8 10 10 1 4-6 16 2 12-4 12 1 2 6 4 8 0 5-2 3-4-2-14 3-14-3-8-10-10-7-14zM674 288l-2 6 1 6 5 3 4-1 4-4-1-6-5-4zM624 313l0 4 2 2 2 1 3-2-1-4-4-2zM882 338l-2 4 1 6 5 3 5-1 2-4-2-6-5-3zM960 386l-4 1-2 3 1 4 3 1 4-1 1-2 0-4zM1010 478l0 2 4 4 2-2-1-2zM1032 501l-8 1-12 11-14 5-1 8 3 8 8 2 4 4 4 1 20-1 11-6 1-4-7-18-3-6zM1082 536l2 5 6 2 7-3 3-6-3-4-7-1-6 3zM1068 560l-8 26 6 10-4 6 0 5 4 3 10 3 3 3-8 14 4 14-3 14 18-7 14-1 2-8 8-10 4-9 2-1 4 2 3 6-10 16 0 4 7 3 14-2 12 3 3 4-1 10 8 3 6-1 1-6-7-8-1-4 3-3 12-4 5-7 0-6-8-14 9-12 1-6-3-7-4-1-4 0-30 18-26 6-18-9-10-2-5-5-2-4 3-4 8 1 4-2 13-15 2-8-3-8-6-4-14-3zM1202 593l-2 4 2 3 2 0 2-4zM1028 608l-2 1 0 3 4 10 2-2 2-6-2-4zM920 618l-2 2-3 8 1 8 4 5 8 1 3-2-1-6-6-14zM1269 628l-9-1-6 3-6 16 2 10 2 1 7-15 10-8 1-4zM1386 647l-5 5-1 8 4 8 6 3 4-5 0-8-4-10zM1252 662l-2-1-3 5 4 0zM1013 686l1 7 4 6 4 0 12-5 2 0 4 6 14 5 4 0 4-3 0-4-2-3-14 0-5-3 0-6 5-14-2-4-6 1-9 3-7 7-6 3zM1128 680l-1 2 2 2 3 1 2-1-2-3zM998 700l-3 4 1 4 6 6 6 10 6 3 5-1 2-6-3-8-8-5-6-7zM929 736l0 6 7 10 14 0 4-2 1-4-3-4-10-2-8-6zM1627 754l-1 4 2 6 6 6 6 3 18-3 4-4 2-6 0-6-2-6-4-4-6-3-12 2-7 5zM589 0l12 0-2 4-5 2-4-2zM610 0l15 0 1 6 6 8 0 6-4 1-6-3-10-12zM736 0l12 0-4 14-4 0-3-4zM917 28l1-16 5-8 1-4 40 0-1 12-4 6-7 5-14 4-10 7-7-2zM983 0l22 0 1 4 2 2 8-2 4 1 3 7-5 14-4 2-4-1-8-14-16-3-3-4zM1095 0l13 0 9 14-1 6-2 5-10 7-4-1-3-5-2-16zM1020 43l16-12 20-1 3 2-1 3-8 2-4 5-1 6 1 4 6-2 12-8 16 5 18-2 2 1 0 3-7 7-2 6 2 6 3 3 6 2 14 0 16-4 10 1 0-4-2-3-12-1-6-4 1-6 7-10 10-2 14 3 10-9 18-7 6 2 8 7 12 0 4-2 6-8 1-6-1-3-4-1-8 5-4 0-22-13-14 5-18-3-10 7-8-8-2-9 120 0 6 4 14 3 12 16 2 0 4-9 1-14 55 0 1 4 3 2 16 2 11 4 9 10 1 8 4 6 1 4-2 6-11 6-2 4 3 4 12 3 8 7-2 12 3 12 5 3 8 0 3-3 1-8 2-2 6 0 14 8 9 10 0 4-4 12-5 5-2 1-7-12-9-4-4 2-7 10 2 4 5 5 4 1 14-4 6 11 9 13 6 14 3 3 4-1 3-2 7-11 6 0 4 5 1 12-2 8-14 20-12 6-1 14 2 6 4 5 10 3 6 0 6-10 4-1 2 1 1 4-3 10-8 11-10 7-1 10-3 4-4 0-3-2-2-12-11 0-8 3-18 13-3 4 1 4 10 6 4 5 4 13 0 14 2 4 4 1 4-1 10-9 9 17-1 6-10 20-4 0-10-7-10-14-12-3-1-4 3-10-16-2-3-4-3-8-4-3-4-1-4 1-12 9-4-6 0-14-6-12 3-6 5-3 14-4 8-11 12-1 6-3 10-10 6-14 4-4 4-1 8 8 2-1 1-2-9-10-16-11-10-3-5-4 1-4 10 0 3-4 0-30-16-20-1-6 4-10-10-8-7-8-7 0-8 5-8-9-12 2-16-4-8-8-17-10-1-4 0-14-4-6-12-8-7 0-2 8 3 10 1 12 6 16 6 10 1 8-6 10-14 15-18 28-8 8-1 5 3 3 6 0 9-11 7-3 24 4 22 13 10 11 10 5 6 5 4 1 11 0 8 12 0 10-3 6-6 4-4-3-6-12-4-1-6 3-4 4-6 10-12 5-2 2 0 12 6 12 0 4-2 3-8 3-12 0-12 6-10 0-6-6-2-6 7-10 4-10-4-20 5-8 4-2 8 2 2-4-2-3-10-1-7-8-2-6 7-5 18-9-5-6-7-1-15 9-1 4 1 8-7 10-4 1-14 1-8 4-3 4-1 14 3 14-1 14 2 3 10 3 6 4 0 4-2 5-4 1-14-11-12-3-4 1-6 9-4 2-6-22 2-2 12 0 4-4 3-20-2-6-5-8 10-9 2-11-4-4-8 1-3-1 0-14-5-7-4-1-12 2-7-2-2-6 0-8 2-6 0-8 3-4 14-1 12-6 23-1 1-4-8-20-16-2-3-4-3-14-4 0-4 6 8 14 5 4 0 8-1 2-4 2-14-2-5-10-7-10 1-12-6-16-3-3-4 0-5 3-2 6 1 18 2 8 0 4-4 2-10-1-11 9-5 8-10 8-4 10-4 0-4-2-3-4 3-8-1-6-9-7-6-10-10-9-5-10 0-10-3-6-10-3-10-1-6 4-2 8-4 5-6 2-8 1-4-5-6-15-8-2-11-10zM1265 40l3 4 4 0 7-2 2-4-1-2-4-1-8 2zM1358 58l-4 1-2 5-1 12 3 3 6-2 2-6 1-9zM1147 74l2 4 3 2 4-2 0-2-2-2zM1253 92l-3 0-4 3-4 11 6-1 6-4 1-5zM1158 110l-8-8-8 0-2 2 1 10-3 4-7 4 15 2 6-7 6-3zM1210 162l-1 4 3 3 4 1 2-1 0-5-2-3zM1392 264l-2 1 0 4 2 4 2 0 2-5-2-3zM1410 0l7 0 1 8 7 8-1 4-6 2-10-5-1-3zM1419 56l3-6 6-3 8 2 14 12 14-7 3-4-5-10-4-4-12-6-1-6 3-5 8-6 16 2 2-1 2-11 8 1 3-4 68 0 2 8 11 14 14 11 15 5 3 4-8 18-4 4-12-5-4 0-7 9-5 1-12-3-16-7-16 5 8 5 6 7 3 6-1 10 4 5 6 2 3 9-3 2-6-1-12 6-6-3-4-6-2-14-8-18-6-6-5 0 1-2 4 2 4-1 7-3 1-13 10 2 4-2 2-3 1-6-5-12-3-16-4-6-5 0-26 14 0 6 3 8-10 14-3 16-6 19-2 1-9-4-13-3-22-10-4-5zM1590 14l7-10 1-4 26 0-2 4-3 2 1 10 2 2 4-3 2 1 1 4-3 2-4-1-6 9-12 0-10-6-4-6zM1594 96l0-4 8-12 4 0 18 4 6-2 0-3-6-2-2-3 6-16 2-2 1 2 1 6 2 2 10-1 5-5 10-20 12-6 1-12 6-10-2-12 63 0 3 5 8 1 8-1 2-5 8 0 1 6 5 2 6-3 2-5 20 0 1 8 5 6 1 12 2 10-3 4-12 6-17 18 0 12-3 7-10-1-12 4-21-22 0-2 7-6 3-6 1-18-4-8-4 1-9 9-9 20-3 16-3 2-6-2-2-4 3-8 0-4-3-4-8-4-1-2 10-16-3-4-6-3-12-3-2 2-2 8-3 8 3 15 2 2 9 3 4 10 0 10-5 8-14 5-10-9-6-1-3 5-1 10-3 4-9 3-12-1-12 5-8-2zM1655 206l1-1 4 1 14 16 2 0-2-10 1-8 7-7 6-1 6 4 9 18 9 3 6-2 4-15-1-24 2-12-13-21-5-1-5 6-4-2 1-4 6-4 4-14-1-4-11-6-1-2 1-4 9-7 19-5 11-12 8-1 12 4 4 4 2 9-4 6 18 2 2 3 2 11 6 5 6 0 2-5 0-8-9-16-2-8 19-17 4-2 4 2 6 7 6 24 5 10 0 4-8 8-1 11 12 4 8-14 6-2 4 2 4 5 3 8 0 4-14 4-9 12-12 5-3-3-2-8 2-16-7-3-10-1-16 6-8 0-8-6-8-13-4 1-5 10-9 10-1 6 2 6 3 3 4 1 8-5 2 0 5 5 29 8 3 2 1 4-6 9-6 4-18 1-22-3-4 1-7 6-2 4 0 4 9 16-8 5-12 1-3 8 3 8 8 7 8 2 9-5 1-6-5-20 7-5 8-1 6 2 8 6 13 4 3 4 1 6-8 10-1 4 3 4 5 3 12 1 8-5 16-4 4-3 9-24 0-4-7-10 0-4 4-4 22 1 10 9 4 1 10-5 8-9 14-1 7-8 5-3 8 0 12 5 22-3 3-5 1-17 12 7 5 10 15 2 10 11 4-3 4-8-2-4-7-4 1-4 6-8 14-6 2-2 2-6-1-10 3-12-2-5-18-6-2-3-1-4 3-2 8 5 16-3 11-18-1-4-4-1-4 6-4 1-10-13-12-4-7-7-5-2-4 1-6 9-8 4-3 10-3 4-6-1-8-7-6 1-2 5 5 16 8 6 2 4-2 8-1 14-2 4-2 0-10-7-14-5-8-6-3-4-2-10-4-6 3-2 12-3 8-9 0-4-3-10 6-10 1-8 3-8-1-4-4-3-6 9-4 2-18-5-4 7 1 10-2 6-7 5-12 3-7 16 2 6 7 6 6-2 4-10 4 0 7 6-4 6-1 6 6 10 0 4-6 7-16 4-4 0-4-4-3-5 6-10 0-4-9-11-8-5-14-1-4-3 2-10 8-8 2-4 0-4-8-16-18-16-1-16-3-8-4-2-16-4-3-4-1-6 69 0-11 16-7 8 0 4 7 4 12-1 8 6 16-5 6-4 2-4 0-16 5-8 10 0 1 10 5 10 0 8 5 9 4 2 10-10 10-1 8-3 8-11 10-8 2-6 55 0 3 14-2 6 2 4 6 3 14-3 0 29-13 3-4 4-3 6 8 10 2 16 10 1 0 67-6 4-3 16-3 2-6-1-2 5 2 4 4 3 14-2 0 39-10-1-4 3-1 4 3 10-1 14 5 5 8 2 0 13-14 1-14 3-1-12-3-4-4-1-15 7-7 9-12 0-10 8-6 0-3-5 0-8 7-24-1-4-5-7-4-1-10 10-4 2-12-2-4-4-5-14 0-8 2-6-3-6-16-1-14 7-8-10-4-1-6 3-8 9-10 3-14 20 6 14 1 8-3 7-13 9 0 6 3 11-4 2-22-5-10-5-4 0-4 5-8 20-7 6-3 12-4 3-4 0-18-5 1-6 8-8 5-10-2-2-8-2-2-4-1-6 1-3 2-1 6 3 4-1 6-6 3-8-3-9-4-2-4 0-10 7-12-4-8 7-8 0-3-3-7-12-6-4-9 0-4-8-17-16-28 5-4-1zM2002 202l-4-1-16 2-3 3 0 4 3 4 6 5 10-1 9-8-1-4zM2057 0l9 0 0 20-4-2-4-5zM14 19l16 13 0 4-3 4-15 14-6 3-6 1 0-36zM1396 21l4 3 0 3-2 4-4 1-3-2-1-4 2-3zM37 28l5-3 4 1 1 2-1 2-7 0zM715 30l5-5 4-1 6 4 1 4-3 4-6 1-6-3zM352 28l2 2 2 8-2 2-5-6 0-4zM1489 36l3-4 6-2 6 3 1 5-1 2-6 0zM313 66l4-4 11-5 10 7 6 1 10-1 18-6 2-2-3-10 5-4 10-3 16 6 2 2 2 8 4 3 20-5 2 7-1 8-9 10-1 4 11 7 8 2 14 10 4 5 0 6-4 2-28-1-12-8-14-3-8-7-8-15-4 1-8 5-10-1-12 6-12 0-10 5-4 0-6-8-6-18zM292 53l4 1 2 4-1 4-3 1-4-1-1-2 0-4zM120 57l6-1 12 8 23 26 2 6-10 18-1 8 4 4 18 1 4 5 0 6-6 9-8 3-6-1-8-6-10 4-14-1-8 3-10-4-2 0-8 15-3 18 0 8 3 12 4 3 6 1 12-4 4 1 3 3 2 8 5 2 30-16 18 0 12 6 6 2 24-4 2-2 6-12 4-1 4 0 8 9-1 10 10 12 0 4-2 6 5 8-1 4-12 8-1 4 5 10 0 10 9 6-3 4-5 2-4-8-6-5-5-7-2-6 2-12-3-7-12-3-8-5-4 1-4 4-8 16-24 11-40 8-6-2-10-7-4-1-10 12-6 1-9-6-3-8 1-8 9-20-1-4-3-3-24 11-12 10 0 6 3 8 3 4 9 6-2 4-11 12-4 10-2 0-6-6-16-1-10-6-4-1-8 2-8 5 0-23 12 2 6-2 3-4-1-4-7-8 2-4 8-6 2-4-1-3-6-5-3-6 0-12 3-8 4 0 14 14 12 6 8 2 6-2 7-6 11-3 4-5 1-6-3-12 0-10-5-14 3-4 5-4 1-6-6-22-4-6-8-7 1-5 3-1 8 3 20-9 6-1 17 8 2 4 3 2 9 0 0-2-8-6 0-2 3-5 16-9 3-4 0-4-3-5-4-2-12 3-5-2-9-12-1-4zM242 205l-12 4-1 3 1 4 8 5 5-13zM74 62l10 0 6 2 2 3 2 11-4 6-4 3-4 1-6-2-7-6zM1540 88l5 2-1 4-2 0zM1471 90l3-2 12 3 8 4 2 5-2 2-4 1-12-3-5-4zM370 95l2 5-2 3-4-3zM614 104l1-4 5-3 6 1 3 4-3 3-6 2-4-1zM288 102l4-2 4 2 2 4-2 5-4 2-4-3-1-4zM1052 103l6 2 4 7 1 14-5 4-12 0-4-4 3-18 3-4zM416 122l-1 4-5 5-6 2-12 0-24 16-14 3-6 14 0 26-4 4-2 1-2-1 1-8-2-4-11-8-4-7-4-2-6 3-1 6 5 18 9 12-4 18-7-5-12-1-6-3-3-5-3-12-6-5-18-21-10-6-2-4 2-8 15-10 0-12 5-4 16 1 12-1 10 2 1 2-9 8-2 6 4 6 8 4 6-2 8-11 6-2 10-1 6-3 5-7 3-10 10-15 6 2 10 8 18 2zM48 112l1 4-2 10 6 22-3 8-2 0-8-3-9 3-2 4 1 10-4 3-12-8-14-3 0-43 8 0 12-4 3 13 3 4 4 1 6-5 5-14 3-2zM250 122l4 3 4 9-1 8-3 3-5-5-4-8 0-6zM202 122l3 4 1 6-7 12 4 8-1 12 3 10-3 8-6 3-11-9 6-16 2-14-1-12 6-9zM1022 123l3 3 0 4-3 3-5-1-2-4 3-4zM1553 142l5-4 10 3 11-5 3-8 4-2 6 0 12 3 10-2 4 2 5 5 2 10 3 3 6-1 6-6 12-3 6 2 6 16 4 5 9 4 2 4-8 8-6 10-7 3-3-3 3-12-10-8-4-1-10 3-10 0-10 3-16-8-12-3-16 3-4-3-4-8-8-6zM1462 132l2-2 4 2 0 4-4 2-2-3zM1372 139l4-2 4 1 7 4 9 12-2 9-4 1-14-5-4-3-3-8zM1082 141l4 2 4 5-2 4-4 1-4-1 0-2zM1212 242l-1 4-3 4-18 9-10-2-14 1-14-7-14 7-11 18 2 4 13 4 5 4 1 6-6 14-4 3-4 0-8-8-4-1-8 15-14 1-6 2-6-2-3-4 11-10 10-18 1-8-5-8-14-6-8-12-5-4-5 0-2 4 6 12-1 6-3 5-4 1-6-4-6-8 0-6-2-1-3 5-14 6-5 15-14 3-4 2-4 7-12 3-4-2-6-7-16-11-15-4-4-4 0-10-3-5-16-9-13-2-2-2-1-6 2-6 10-7 4 0 10 12 12 9 24 10 12-5 12-1 2-4 1-12 3-4 4-2 14 6 12 8 1-4-5-14-1-14-9-10-5-10-13-5-2-5 0-4 6-3 6 1 10 10 18 6 8 12 10 0 4-3 0-7-2-3-8-4-2-3 8-20 4-2 6 4 6 6 1 4-1 12 8 4 1 2-5 6-12 8-3 10 3 4 16 11 5 5 2 8-4 8 5 1 10-7 10-1 4 1 8 11 6 1 1-12 9-6 0-8-2-3-11-1-5-19-8-5-2-4 2-2 2 0 8 7 18-7 1-6-4-14-1-12 6-8 4-2 10-1 8-10 4-2 11 5 3 6-5 4-19 3-2 3 0 3 11 9 17 8 3 14-2 14 1 12 6 7 12 6zM378 149l6 4 7 15-10 16-6 20-3 4-4 0-8-4-3-6-1-4 8-14 7-10-3-16 2-3zM220 157l5 1 2 6-1 8-4 3-4-1-4-4 2-9zM1530 158l6-1 10 3 3 2 0 6-5 9-14 0-3-11 1-6zM1904 160l2-1 4 4 1 3-1 3-5-3zM396 186l10 1 3 3 5 10 4 3 4 1 7-4 5-12 4-5 21-3 1 6-4 10 10 5 12 11-1 4-5 5-6 4-8 2-3 3 1 4 6 8 4 18 4 5 10 5 10 1 12-3 2 2 1 6-3 7-6 7-8 6 0 4 5 6-3 6-6 1-12-6-8 1-2-2-3-6-3-1-12 2-6 7 2 8 6 6 4 1 10-1 10 1 2 3 2 8 10-3 10 6 3 3-1 6-8 11-8 5-2 5-6-1-2 1-6 11-1 8 9 10 3 10 6 6-1 12-5 10-11 7-6 0-3-3-4-10-7-9-4-23-9-12-1-14-5-10-3-17-10-2-8-11 2-4 10-4 1-2-6-8-5-10-4-1-2 3 2 10-6 9-10 7-2 0-3-4 1-7 8-25-3-16 7-16 0-10 2-1 18 4 3-1 1-2-8-15-10-9-4-20-8-8 1-8 3-4zM454 198l-6 2-3 4 1 3 4 0zM438 252l-2-2-4 0-6 4 0 2 4 2 6-1 3-3zM456 327l-4 1-3 4 0 4 3 3 8-3 0-6zM1354 182l2 4-4 3-1-5zM1504 205l4-4 14-5 6-12 14 20 14-3 18 2 16-6 2 1 7 12 5 4 8 2 6-4 1 2 0 2-7 7-3 15-7 12 1 4 6 12-1 6-4 2-6-3-12-15-6-5-20-4-4 1-1 2-3 18-2 4-4 5-14-2-14 3-10-4-4-4-2-8 12-28-11-12-1-6zM1576 211l-4 3-1 4 1 5 4 3 6-3 3-5-3-5zM342 228l2-2 6 0 2 2 0 3-4 1zM1792 238l5 0 1 7-4-1zM1648 241l8 1 2 11 9 9-2 12 4 16-5 6-6 3-8-1-5-2-5-10-11-8-3-6 0-4 12-7 3-15 3-4zM1902 248l3 4-1 6-6 4-6-2-1-4 2-4 5-3zM1682 258l3 2 2 4-2 4-3 2-4-6 1-4zM340 280l-1 4-3 1-8-1-6-2-8-8-6-3-14 11-4 2-3-2 3-12 2-2 6 0 10 2 8-5 16 4 6 5zM1934 270l2 1 2 3 0 9-6-11zM1690 286l0 6-4 3-6 0-6-3 3-4 7-5 4 1zM250 286l0 6-4 4-6 0-4-2-1-2 2-2 11-5zM72 292l3 2 2 8-3 6-4 2-2-4 0-6 2-6zM1308 293l4-1 5 4 2 6-3 4-6 1-4-3-1-6zM1486 298l2-4 4-2 12 6 8 2 2 2 0 2-4 4-8 4-4 0-10-8zM0 295l21 13-2 2-5 1-14-3zM1578 305l8 1 10-5 10-2 6 2 1 9-10 14 3 10-2 4-4 1-4-2-16-19-4-8zM1695 304l6-4 5-1 6 0 4 3 2 4-2 4-16 6-1 2 2 2 13 1 4 3 3 6-2 8 1 2 16 5 5 9 13 16 4 3 14 3 6 11 12 3 12-4 12 17 0 8-2 1-6-5-4 0-10 11-18 4-9 12-5 3-4-2-4-11-8-13-20-1-5-2-3-4-1-6 3-12-11-16-5-16-15-24 0-12zM2066 304l0 23-2 1 0 2 2 2 0 10-12-2-6 2-1 6 0 10-6 18-3 4-11 10 3 12-1 6-21-2-4-4 0-14-11-20-1-6 1-6 3-4 10-4 6-8 14 0 10-7 8-3 1-4-5-8-1-6 5-12 4-1zM1260 306l1 4-3 12-4 6-4 1-6-2-10-5-4-4 1-6 2-2 9 0 14-7zM1278 310l6-2 4 3 1 3-3 3-6 0-2-3zM316 315l4-1 2 2 3 10 3 5 6 1 8-2 4 2 0 4-2 4-12 12-4-2-21-22 0-6zM1346 324l4-4 20-5 16 5 3 2 2 4 3 16-6 1-10-1-12-6-14-2-5-4zM1902 317l6-1 9 6 4 8-3 6-12 4-6-4-2-10zM544 318l4-1 1 1-1 4-3 0zM1517 324l3-4 4 0 12 3 1 3-3 5-8 2-7-3zM1950 322l2 2 0 4-2 4-4 1-2-1 0-4 2-4zM1980 323l6 1 6 6-2 12-4 4-8-18 0-4zM2008 324l1 2-1 4-4 1-4-1-1-2 3-4zM1096 325l20 10 4 5 1 8-3 8-10 8-8 13-4 2-4-2-10-9-3-16 3-6 9-10 3-9zM1102 342l-3 2-1 4 1 4 3 2 4-2 1-4-1-4zM1276 334l16 3 8-6 2 0 1 5-5 24-6 0-6-4-10-18zM178 344l4-5 4-2 6 3 4 6-3 4-5 1-8-3zM1535 340l3-3 8 1 18 14 1 4-5 3-22-5-4-6zM1235 342l3 4-1 6-3 5-9 7-6 14-8 8-9 14-10 1-3 3 1 10-1 4-5 2-6 0-1-2 0-10-13-7-6-13 2-4 4-3 2 0 8 8 5-1 0-6-7-12 1-6 5-2 10 0 8 7 2-1 1-4-2-12 17-2 6-8 4-3zM1194 341l1 5-1 3-3-3 1-4zM39 346l5-1 2 3-4 1zM388 345l2 1 1 8-3 12 2 16-2 4-4 2-4-2-1-2 6-10-6-8 3-14zM265 364l7 8 0 4-4 1-14-3-6 2-3 8 7 12 0 4-3 4-5 3-12 0-8 4-4 0-10-11-12-4-13-8 19-16 21-10 7-11 6 1 10 7 12 2zM1138 352l12-2 3 2 1 4-6 9-6 2-7-9 0-4zM1605 354l3-2 4 2 4 4 0 2-4 2-4-1-3-3zM16 356l2 2 4 12 0 4-6 16-6 2-10-4 0-24 9-6zM560 357l3 3 1 10-2 11-8-5-3-4 3-12zM1379 378l-1 3-4 0-12-7-12-1-6 2-2 3 0 4 8 7 2 5-2 4-12 1-10 3-10-6-10 8-6 2-13-4-1-2 2-6 3-4 17-11 8-8 16-4 10-7 6-2 8 0 8 9 10 7zM125 362l1-2 4 0 4 2 1 2-1 2-4 0-4-1zM502 361l1 3-2 4-5 4-4-1-3-5 1-4 4-2zM160 365l4 2 8 9 3 6-1 3-12 0-6-3 1-12zM90 372l6-5 6 0 4 5 0 8-4 2-8-2-5-4zM636 368l4 0 8 4 1 2 0 4-5 2-5-2-4-6zM484 384l4-4 6-1 11 9 2 4 0 4-5 3-8-2-8 0-3-5zM564 383l2 3-4 4 4 8-1 2-7 6-6 2 0-4 6-14zM120 390l4 0 3 2-1 2-5-2zM1913 400l3-3 6-1 6 0 14 5 12-5 10 1 8 7 4 6-4 16-6 8-6 4-20 8-6 1-3-5-1-24-3-4-12-8zM1230 399l4 1 1 8 7 14-1 8-5 3-4 0-6-2-7-9 0-6zM95 404l5 0 3 4-1 8 5 12-1 4-6-1-6-11-1-12zM1272 406l2-2 6-1 4 0 1 3-3 5-6 2-4-3zM1986 404l6 2 5 6-1 10-4 4-5 0-3-4-1-12zM147 412l5-4 10-3 18 0 8 3 3 8-1 4-10 9-4 1-12-8-14-5zM1677 412l3-2 8 0 3 2 0 4-4 4-5 0-5-4zM917 412l3-2 8 2 4 4 0 4-5 4-5 0-3-4zM2032 412l6 4 0 5-2 0-4-1-2-4zM235 424l-2 4-7 4-6 1-2-3 2-3 10-3zM1165 430l5-3 4 1 3 6-1 4-4 2-6-2-2-4zM1384 428l6 4 0 6-3 6-7 8 0 13-4 1-4-1-2-3-1-24 2-4 4-4zM2066 426l0 13-6-3-1-4 2-4zM1406 431l4 5-4 12-4 5-4 1-4-6 1-8 5-8zM1564 444l0 4-6 17-4 3-30-6-12 1-5-3-2-4 0-8 5-5 4 0 12 4 10-2 10-6 4 0 10 2zM1466 441l4 3 2 4-2 17-3-1-3-16 0-6zM322 448l4-1 2 1 0 4-2 2-5-2 0-2zM1780 476l2-5 8-3 16 1 3 3-3 4-12-4-10 6-4 0zM1946 472l2 0 1 6 0 4-3 2-5-2-2-4zM1402 488l-1 4-3 3-4 1-2-2 3-8 3 0zM360 489l3 3 1 4-1 4-3 3-3-3 0-10zM430 506l4 2 2 4-3 4-5 1-3-3 0-4 3-4zM1598 510l4 1 2 3-5 0-2-2zM400 522l0 2-2 2-4 1-2-1 2-4zM1542 522l2 2 0 2-2 3-4-1 0-4zM460 534l-1 4-2 2-7 0 0-2 4-5 4-1zM1792 533l3 5 0 6-3 3-4 1-2-4 0-4 2-4zM1304 553l1 3-3 5-6 3-4-2-1-4 1-2 6-4zM1079 562l7 1 6 5 0 6-4 4-6-1-4-4-1-7zM2004 593l0 3-2 4-4 1-3-1 0-4 2-2 5-2zM1476 610l4-4 4-1 8 3 3 4-3 4-8 3-5-3zM1647 612l3-4 2-1 6 3 2 4-3 4-5 1-5-3zM1854 612l4-1 2 2 2 9-4 0-4-4zM392 765l24 1 16 6 6 10 1 8-4 6 0 4 3 7 8 7 0 4-5 10-5 20-14 8-6 0-20-11-14-10-5-5 1-10-5-16 0-16 3-8zM355 776l1-1 4 0 5 3-2 2-3 1-4-2zM666 776l3 2-1 4-2 1-2-5zM532 784l2-3 4-2 8 1 8 5 5 11 3 3 10-5 16-3 4 2 14 11 10-7 4 0 2 3 4 14-4 3-6 0-10-8-10 11-14 9-4 0-4-2-8-11-6-11-4 2-6 11-4 2-3-4-1-11-8-10zM705 796l-1 4-2 2-6 1-10-2-10-5-3 4 0 4 9 12-1 4-1 2-16-1-3-3-1-6 6-12 0-10 10 4 10-10 6-2 4 3zM646 809l5 5 0 8-3 6-6 3-6-5-3-8 7-7zM744 813l6 9-2 8-4 3-16 3-1-4 13-18zM532 1009l4 3-2 7-4 1-3-2-1-4 2-3zM1482 1114l4-2 10 3 8-1 10-6 6 2 2 2-7 8 3 8-3 8 7 10 2 8 18 3 3-1 0-4-6-8 0-2 3-3 4 2 8 11 8 1 1 1-1 22 2 10-2 5-6 3-8 8-4-1-13-9-11-18-16-3-2-5 0-18-2-6-4-4-12-1-4-3-1-12zM1425 1132l15-12 12-3 6 1 5 4 1 12 11 10 3 8-1 6-3 3-6 1-16-4-12 1-4-1-3-4-1-8-8-10zM1522 1325l4 1 0 4-2 1-3-1z"/>
<path fill="#c13639" d="M141 6l0-6 14 0-1 3-4 2zM246 0l14 0 0 12-6 3-6-1-2-4zM453 0l21 0 4 14-6 1-12-4-5-5zM483 0l19 0 0 6 2 4 4-4 2-6 34 0 1 8 12 6 3 8-1 4-7 2-4 4-1 4 4 8-1 4-4 2-8 1-4-2-3-5-2-22 1-2 9-4 1-5-4-1-2 1-4 8-10 4-6 9-4 2-4 0-6-4-17-16zM788 0l19 0 3 8 6 7 14-1 10 7 30-3 6 2 1 2-4 8 0 4 8 10-1 4-8 4-4-2-6-8-4 1-4 3-1 4 6 6 1 4-11 16-1 4 11 16-1 5-7 7 0 2 9 13 17 3 0 14-8 14-13 4-8 4 0 4 6 8-2 3-6 1-5-2-8-14 0-12 8-18-1-2-4-3-12 2-6-3 2-4 6-6 5-8 4-16 1-14-13-12-1-4 10-16 1-6-5-5-10-5-12 0-4-2-13-20zM955 0l0 10-4 6-5 3-18 5-1-4 7-10 2-10zM1187 0l13 0 0 9-4 1-4-1-4-4zM1293 0l16 0-1 8-7 14 1 4 14 9 2 11-2 5-4 1-6-1-13-7-4-4-1-6 5-22zM1319 8l-2-8 15 0-1 4-3 4-6 2zM1504 0l-2 6-4 2-3 0 0-8zM1528 0l17 0 3 8 4 6 21 20 0 4-14 24-5 0-6-2-9-12-4-10-1-10-6-14zM1690 0l42 0 2 10 0 4-4 6-4 2-24-7-9-5zM1819 0l16 0-1 5-6 2-6-2zM1967 36l16-20 11-10 2-6 16 0 0 2 8 3 2 3 0 4-4 8 0 4 30 12 6 1 12-4 0 14-8 0-12 6-14 13-20 2-6-2-10-8-12-5-15-13zM2008 26l-6 3-3 5 1 6 4 4 5-2 2-6 1-8zM2029 0l7 0-2 4-4-2zM1856 9l2 3-1 4-9 12-4 0-4-8 0-10 6-3zM128 16l0-4 2-3 9 1-1 4-3 2-5 1zM1266 14l5 8 0 6-12 8-3 6 8 7 11 3 2 2 0 4-6 8-4 10 1 4 7 8 0 4-5 4-4 0-9-10-5-2-6 3-10 11-6 1-4-3-1-4 1-18-2-1-6 3-14 15-4 1-4-2-4-6-4-20 1-18 17-2 4 2 4 6 4 2 16-8 10 0 3-2 1-4-4-4-8-2-5-4-4-10 0-6 5-3 10-1zM1602 10l4-1 4 4 0 5-2 4-6 0-5-4 1-4zM1348 14l8-3 8 3 2 6-6 12 14 4 2 4-3 4-7 3-6-1-4-4 0-7-14 0-4-3-1-2zM226 14l6 2 5 4 3 6 1 4-9 7-6 11-4 2-6-7-1-13 4-12 3-3zM288 23l2 0 6 3 0 4-5 0zM606 27l3 5 2 12-1 4-10 6-12 0-11 14 0 12-3 7-4 1-4-2-11-12-1-6 2-5 18-13 4 0 8 1 11-15 3-8 2-1zM1472 27l3 3-1 5-2 1-3-2 0-4zM10 29l6 5 1 6-7 8-10 3 0-23zM1852 38l4-1 12 3 14 11 4-1 10-9 8-1 3 4-5 16 0 10-2 2-4 1-12-3-12 0-8-7-5-9-6-8-2-4zM646 42l1 4-5 6-4 1-4-3 0-4 2-3 4-2zM1344 44l4 6-6 12-10 1-8 13-2 1-4-1-2-8 2-8 6-4 3-6 5-5 8-3zM694 44l2 0 9 18-2 6-5 4-2 0-3-4 2-12-2-8zM1032 46l2 2-2 6-4 5-4 0-1-3 1-5 4-4zM1586 46l2 2 0 4-2 2-4 0-2-2 1-4zM1666 48l4 1 5 11 7 10 1 4-3 3-6 0-8-6-9-3 0-4 3-8zM390 51l4 0 3 3 1 6-2 5-4-1-2-3-2-7zM1082 60l1 6-1 3-5-1-5-8-2 0-22 17-1-7 4-8 11-10 5 0 5 6 8 0zM1427 58l5-3 4 1 4 6 0 4-4 1-6-2-3-3zM1168 62l5 2-1 4-2 2-3-4-1-2zM990 68l-6 9-12 1-10 10-3 6 0 8-1 2-4 1-6-1-8-10-1-6 1-4 9-8 7-3 12 0 12-9 4 0zM1464 64l1 4-3 2-2 0-1-4zM328 70l2 4-2 6-2-8zM1374 69l5 1 2 2 7 14 0 4-2 4-8 4-4-1-7-9 4-16zM519 74l3-3 4 1 4 2 1 4-5 4-6 0-2-3zM400 73l6 0 2 3 3 14-3 5-8 0-5-7 0-10zM1648 75l2 3-2 5-2 0-2-5zM796 79l4 4 0 11 7 12-2 6-5 2-7-2-6-6 0-4 6-8-1-10zM1100 80l8-2 8 4 0 8 6 10-1 4-3 2-6 1-6-3-6-4-2-4-2-6 1-6zM762 83l4 0 4 4 6 17-2 6-6 4-4-1-5-3-5-6-1-4 2-12 3-4zM1804 84l4 3 1 5-1 7-4 4-6-3-2-6 2-7zM1858 92l2-2 6-3 3 1 1 4-2 3-4 1-6-2zM702 112l15-14 9-3 4 0 7 7 2 4-4 10 3 12-6 3-10 0-2-1-4-10-4-2-8-1zM1284 96l10 10 2 4 0 4-24 32-10 10-13 6 0 8-4 10 1 5 22 9 1 10-2 4-3 3-14 0-3-3 0-8-5-14-8-4-4-4-9-24 0-4 4-4 5-1 6 1 8 4 14-6 5-6 1-6-2-6-7-6 0-6 5-3 16-3 4-4zM920 99l4 0 2 5-5-2zM1942 104l7 20-3 5-8 1-5-2-4-4-2-8 3-5zM928 106l10 4 2 6-2 5-4 1-5-4-2-6zM1710 110l8-4 7 0 2 2-3 8-4 2-8-2-2-2zM2045 106l4 0 7 6 10 5 0 27-8-1-12 1-12-10 0-12zM488 108l4 2 1 4-1 4-2 1-4-1-2-3 1-5zM518 111l4-2 4 1 18 8 4 4 3 10 1 16 9 12-9 10-6 2-6-4-1-6 3-10-2-4-12 1-10-6-14 3-6-4 0-4 7-8 4-10zM108 113l3 11-13 1-6 2-2-1 0-4 3-4 9-6 4-1zM1742 121l2 3-1 6-13 24-4 0-11-16 1-4 4-4 12-3zM113 126l13-1 8 1 4 4 1 6-3 1-16-2-4-3zM716 136l-1 6-15 12-12 16-4 1-3-1-4-14 0-4 16-20 5-4 4 0 6 5zM810 130l3 2 3 16-2 3-6-3-4-6 1-8zM0 131l16 3 13 8 1 4-10 5-20 3zM168 134l1 2-1 4-4 2-2-1 0-5zM338 149l3 1 1 2-2 5-5-3 1-3zM958 150l2 8-1 10-9 4-9-2-4-6 1-6 2-2 8-2 6-5zM276 151l6 0 3 5-1 8-4 6-8-3-6-7 4-6zM1432 154l4 0 6 3 10 17 12 0 2 2-5 14-3 4-6 1-10-2-12 7-4-2 0-6 4-10-5-14 1-6zM484 155l2 3-1 8-3 4-2 0-3-4 0-4zM809 164l5-8 13 6 0 2-11 4-4 0zM590 161l6 2 2 3-2 4-5-2-2-4zM1758 178l3-4 11-4 8 2 5 6-3 4-8 2-12-2zM2032 171l4 1 3 6 2 18-3 6-8 4-14-5-3-3-2-4 2-6 9-13 4-3zM1152 176l2-1 4 1 3 4 0 2-3 1-4 0-2-3zM302 178l2 5-4 5-6 1-4-3-1-4 2-2 7-3zM700 177l2 1 1 4-3 4-2 0-2-2 0-4zM1165 182l5-1 7 1 4 4-1 4-4 2-6-1-4-5zM868 182l5 2 1 2-8 12 1 8 17 26 1 4-13 0-12 9-2-1-2-4 1-16-6-12 0-6 3-12 6-10zM689 256l1 8-2 4-32 9-6-1-5-8-7-5-6-2-4 1-46 22-7 12-19 13-4 1-6-4-6 3-6-11-4-2-6-2-4-5 0-9 6-16 1-8-3-6-11-8-3-10 2-3 4-1 14 6 4 0 4-1 8-8 14 1 12-4 24-12 2-4-1-6 1-2 14-3 16-6 2 1-6 8-2 6 12 10 7 12 11 5 4 3 2 8-4 8 1 2 17 3 12-5zM1934 198l10-5 8 1 8 10 10 3 4 7 0 6-4 3-8-2-8-10-18-7-2-2zM733 204l5-4 8-3 4 1 3 6-1 4-4 2-12-3zM1160 197l10 3 7 10-5 18 3 10 0 6-1 4-4 2-4 0-2-4 4-12-11-6-4-14 2-12zM2052 204l14-5 0 20-4-1-10-8-2-4zM1332 204l9 4 3 6-14 16-6 2-4-4 0-4 8-20zM187 210l0 4-7 4-3 10-5 8 0 14-4 5-10 1-12 5-10 0-8-1-14-9-4 1-8 12-4 0-4-4 0-10 10-20 4 0 12 3 7-11 11-2 3 2-1 10-4 6 1 2 13 4 6 0 4-2 4-6-2-20 3-8 5-2 10-1 4 2zM121 238l3 2 5-2-7-2zM406 205l6 3 4 6-6 8-4-2-2-4 0-8zM684 205l6 3 4 4 6 20-1 4-9-2-5-4-4-16 1-7zM1532 206l2 8-2 4-16 5-6-1-2-4 2-4 10-3 8-6zM1046 216l0-4 7 0-4 4zM432 217l10 1 5 4 2 14 6 10 1 4-2 2-4-1-9-7-17 0-5-4-1-6 10-5zM2045 246l0 4-4 4-11 4-11 8-15 7-14 0-3-3 0-4 5-12-4-14 3-8 5-6 14-8 6 0 9 4 9 15zM1852 219l6 3 3 6-3 6-10 7-2 5 2 5 8 6 4 5 0 4-4 4-4-1-6-7-13-2-4-6 4-18 5-10 6-5zM1538 224l4-3 12 5 8-1 3 5-3 3-14 1-7-4zM1596 221l6 3 1 8-3 9-6 4-6-4-5-5-1-4 6-8zM1752 221l2 0 4 1 12 10-1 4-7 7-6-2-4-5-2-8zM850 278l-3 16 0 14-8 16 2 6 6 4-6 12 5 12-8 5-8-5-16-4-8 4-6 10-2 1-12-7-10 6-14-6-12 3-12 0-2-3 8-1 2-2 0-7-2-3-4-1-8 2-6-6-4-2-6 1-8 5-2-2-2-9-6-4-4 1-2 6-4 4-8 0-7-4-7-12 2-4 8-6 3-6 11-10 4-14 2-1 8 5 8 2 6-1 4-3 4-8-2-10 1-4 11-13 2-1 2 2 6 20 4 2 7-2 7-6-1-10 3-8 16-8 14-15 6-3 4 1 2 2 1 11 2 4 3 2 8 0 6 3 6 9 10 10zM800 260l2 4 5 0-1-5zM780 274l-2 2 1 2 5 2 0-4zM1062 226l4 0 4 2 1 4-1 2-4 2-4-2-2-4zM1956 227l6 3 3 8-3 6-8 3-4-2-2-3-2-8 4-5zM38 233l7 3 7 16 0 9-4 4-10 0-5-7-1-18 2-5zM1434 242l2-2 6-1 4 0 2 3-2 2-4 1-6-1zM1024 244l-1 8-5 8-4 14-14 3-14 1-6-1-4-5 1-4 13-11 16 1 8-2 2-2 0-10 4-2zM1306 249l3 3 0 4-3 2-4 0-1-6 1-2zM1547 252l1 4-2 6-6 5-20 2-6-2-4-5 4-7 6-4 8 1 14-3zM1422 254l-3 4-6 0 0-2 3-3 4-1zM1820 256l2 4-2 9-8 5-9 16-3 10-2 3-4 0-5-7 6-10 0-14 3-3 8-3 6-9 4-2zM1116 260l5 4 1 4-3 10 0 8-5 3-3-21 2-6zM406 264l3 6 0 12-5 2-6-1-4-3 0-4 6-9 4-3zM444 265l3 3 2 4 1 18-16 14-6 11-6 1-4-3-4-7-4-16 0-6 22-17 6-2zM878 267l4 1 6 7 3 9-1 3-4-1-4-4-5-10zM470 272l12 2 18-3 2 1 2 4-2 5-16 15 1 6 4 4-1 4-2 2-8-4-6-8-1-4 3-6 0-4-6-3-2-3-1-4zM1292 270l4 2 2 4-2 4-6 3-4-3-1-4 3-4zM1650 271l4-1 4 6 1 8-1 4-2 1-3-1-5-14zM1372 275l6 0 4 5 1 8-5 4-4-2-4-10 0-4zM1828 290l0-2 4-1 4 1 2 2-4 2zM1414 293l6-1 4 3 2 7-2 4-8-1-4-3 0-4zM617 298l0-2 3-1 5 1 0 2-5 2zM885 304l9-4 4 0 8 7 11 5 1 4-9 10 0 4 3 3 6-1 10-7 4 0 12 6 16 5 5 4 3 6-2 4-12 2-5 6-2 8 2 12-3 6-4 2-20-4-8-13-14-9-2-4-2-20-3-4-8-6-2-18zM1110 299l1 7-1 2-4 1-2-2 0-3 2-3zM606 304l4 1 3 5-3 5-4 3 6 5 4 7-1 4-5 2-4 0-13-6-3-4 5-8 1-6 5-6zM1603 308l1 2 0 2-8 6-1-2 1-4 4-4zM2048 310l4-2 9 4 1 4-6 4-4 0-4-5zM408 328l6-3 6 1 4 6-1 6-5 3-6-1-5-8zM1439 332l3-2 6 0 3 2 1 4-3 4-5 0-5-4zM484 333l10 5 2 4-1 4-7 9-6 3-4-2-9-8 5-10zM849 334l23 0 1 22 3 2 8 1 2 3-4 2-10 0-6-3-8-7-4-14zM428 339l6 2 6 3 8 12 6 0 8-10 3 2-1 16-8 16-1 8 1 2 14 7 4 9 5 6 1 4-2 9-4 9-10 6-4 0-4-2-3-10-8-12-2-22-9-8-1-4 1-12 4 0 2-1 1-5-9 2-5-4-2-18zM2038 340l3 6 0 14-7 12-4 3-4 1-2-12-5-12 15-11zM388 350l1 8-3 5-2 0 0-9 2-4zM1716 350l9 2 13 14 1 6-3 5-4 2-6-1-12-12-1-8 1-6zM560 358l2 2 2 10-2 6-2 2-6-3-2-5 2-8 2-3zM2010 357l1 3-3 6-4 1-2-1-2-4 2-3zM979 360l3-2 10 10 4 1 16 0 12 2 8-2 4 1 3 4 6 26 9 16 4 3 4 0 5-3 4-8 5-16 2-1 3 13 4 10 1 6-9 14-13 25-9 5 11 2 6 4 5 8 1 11 2 3 4-1 3-7 3-3 18 6 20-2 10-6 6-1 7 14 5 4 6 0 10-3 2 1 2 8-2 18-4 6 0 6 6 9 14 4 4-2 0-6-2-4-9-5 1-4 4 0 6 3 4-1 6-4 2-6-2-7-4-2-10-3 1-2 21-7 12-7 6 0 4 3 8 9 0 6-3 14 8 14 2 10 4 8-4 4-9 2-5 6 1 16-1 10 2 4 11 7 26 7 20 18 10 5 20 1 10-10 10-3 6 1 6 6 1 8 11 0 8 4-2 22 4 10 8 13 10-6 5-7-2-16 2-4 5-1 22 1 14 11 22 5 12 1 34 12 7 13 5 6 4 3 14 4 9 5 5 11 9 7 5 13 6 7 4-1 7-15 13-5 2-10 4-4 6 0 14 5 16 0 10 5 10 2 4 7-2 7-12-2-8 2-19 13-2 4 0 4 11 15 4 2 6 0 20-5 4-6 4-14 2-2 6 1 12 5 16 14 1 4-6 12-8 8-7 10-12 8-4 6-10 8-3 6 0 6 5 6 16 0 7 2 3 4-1 6-5 4-4 1-6-2-8-6-4-2-10 6-10-3-10 0-32 8-4 4-4 12-10 20 0 4 4 8-1 2-15 10-22 6-10 0-26 10-28 8-21 4-21 6-15 6-15 22 0 16-6 10-3 10-9 20 0 10 6 12 3 16 1 10-2 6-6 6-14 5-18 10-14 1-14 6-6 0-18-7-12 6-14-5-10-7-14 0-20-7-4-4-11-20-17-13-4-1-8 4-4 0-14-7-38-14-9-11-3 0-6 3-6-1-6-4-7-12-5-4-30 0-18-10-10 4-4 0-10-8-12 8-4 0-10-7-14 5-8-2-3-4-3-10-9-8-3-12-6-14 2-5 12-3 4-4-5-22 0-16 9-17 8-2 4-3 2-8-3-4-5-4-10-1-2-15-4-3-12-6-10-13-8-8-2-6-2-15-4-2-10 1-4-4 1-8 8-18 1-8 2-2 2 2 0 10 4 8 5 4 6 0 3-2 2-4-10-14 0-4 6-5 13-3 4-4 0-8-3-8-4-3-8-2-2-3 0-2 4-2 14-1 14 4 3 5 3 14 16-9 4 0 0 7-7 12 5 7 6 2 10-11-1-12 1-4 14-14 4-1 10 6 10-8 13-3 10-10 2-6 0-4-9-5-4-7 2-4 9-8 4-10 5-4 4-1 14 1 10 0 5 2 2 4-2 2-11 2-8 5-10 3-2 2 1 2 7 2 8 5 14 1 16 5 11-1 1-4-2-10 4-4 30 3 8-3 4-4 1-6-9-4-2-6 3-8 7-10 1-4-1-4-7-10 1-6 6-8 8 5 4 0 18-7 2-4-3-18-6-10-3-8 1-14-5-3-6 3-2 10-10 17-19 9-21 5-7 11-5 4-10 1-8-8-12-1-2-6 10-16 1-10-5-16 0-16-6-9-4-2-4 0-22 5-20-11-4-3-12-16-12-6-2-4 0-12-14-9-9 3-7 8 0 4 10 8 1 4-3 2-10-2-12-8-16-1-16-6-1-3 6-10-3-4-6-3-1-3 2-6 7-7 4-2 10 1 16 6 8-4 4-6-2-6-6-5-18-3-4-4 0-6 7-10 3-14 7-12-3-14zM988 408l2 3 6 0 5-3 0-4-3-3-4-1-4 3zM1278 619l-6-2-26 2-2 15-10 12-2 10-6 5-11 5 0 4 4 6 7 4 12-4 16-1 9-3 7-6 10-5 2-5-1-10 3-8zM980 748l-4 6 2 4 5-2-1-7zM988 897l-7 3-4 4 0 16 8 10 2 14 13 0 4-2 4-12 5-8 0-10-3-9-4-5-4-2zM1046 974l2 3 4 1 7-4 2-4-6-4-5 0-2 2zM1328 1064l-2 2 1 4 5 3 9 1 5 12 6 7 4 0 4-3 1-8-5-7-6-3-8 0-8-9zM500 361l2 3-2 4-4 3-3-1-2-4 1-4zM1210 368l3 4-2 4-11 11-4 1-2-2 0-4zM234 368l3 4-2 12 3 13-5 3-9 1-4-1-11-10 2-8 7-8 10-5zM8 378l2-2 2 1 0 4-2 1-2-2zM1322 380l4-4 4 2 0 3-2 2-4-1zM485 386l3-4 6-1 10 7 3 4-1 4-4 2-8-2-7 0-3-4zM1732 394l0 4-2 2-4 0 2-5zM560 394l2 2 0 4-8 6-1-2 3-6zM1795 398l-2 12-5 5-16 0-12 4-5-5 0-4 3-4 12-5 8-6 8 0zM1954 414l4 1 5 5 1 6-2 4-8 4-10-2-2-2 8-13zM1228 418l4-1 2 1 2 4-2 4-6-2-1-4zM912 464l3 4-1 4-6 7-4 1-4-6-1-6 3-3zM839 490l5-4 8-2 20 20 10-1 8 5 16 2 6 4 6 13 7 11 0 4-2 10 6 20 5 4 13 2 0 4-6 8 0 4 4 12-2 16 1 2 4 2 8 1 4-2 2-13-5-12 0-4 13-15 10-21 8-3 22 1 16-10 14 0 4 1 0 17 2 2 8 0 3 4-3 8-8 4-2 4 1 6 5 8 0 4-4 1-14-9-10-2-4 1-6 5-10 4-2 6 2 6 10-1 4 3 0 4-4 6 15 10 5 8 6 6-2 6-6 4-12 3-4 5-4 3-3-1 0-10-3-3-20-3-3 4 4 10-1 4-4 3-6 0-12-9-4-6-2-12 4-12-20-6-10-24-4-2-14 0-4-1-4-13-4-4-6-3-28 3-6-2 0-6 5-6-2-12 0-4 11-13 0-3-3-4-9-4-19-12 2-4 5-6 1-8-1-6-2-2-8-2-2-2zM1000 630l4 2 4-2-6-4zM428 507l4 0 3 3 0 4-3 2-4 0-3-2 0-4zM820 510l6-4 6 1 1 7-1 6-4 1-6-2-3-5zM458 534l-1 4-5 2-1-2 3-4zM1062 619l3 3-2 8 2 14-5 7-6 1-4-4 0-11 10-17zM906 639l2 1 2 4 0 4-1 2-7 4-6-1-2-5 2-5 4-3zM912 652l2-3 6-1 18 2 5 4-2 4-3 2-18 2-6-3zM1140 659l1 3-3 4-4 2-4-2 1-4 3-3 4-1zM998 687l1 1-4 4-7 3-2-1 0-4 2-4 4-1zM982 709l2 1 1 4-3 3-3-3 1-4zM913 720l7 1 5 3-1 4-4 4-4 0-3-4-1-6zM746 750l4-1 7 1 3 2 0 4-3 4-5 0-5-4zM392 774l6-1 8 1 14 7 4 5 3 14 4 12 2 18-4 12-9 5-6 1-16-6-13-8-3-4-1-8-6-18 0-12 5-10zM540 786l4 0 2 2 0 4-4 0-2-1zM786 796l6 2 3 6-1 8-4 3-4-3-2-14zM900 808l4 2 0 2-1 4-3 3-4-3-1-4 1-3zM944 915l3 1 1 16-2 5-2 0-2-4-1-5 0-10zM530 1012l3 2-1 4-2 0-3-2 0-2zM1492 1126l2-2 6-2 4 2 1 4-1 2-4 1-6-2zM1448 1128l0 4-2 5-4 1-4-2-1-2 3-4 4-2zM1516 1147l2 2 0 3-8 7-2-5 2-6 2-1zM1556 1157l3 3 1 4-2 12 1 10-11 12-4 0-8-5-8-9-2-10 1-12 5-3 12 2z"/>
<path fill="#be3036" d="M526 0l-3 10-3 3-4-1 1-12zM794 0l9 0 5 16 0 4-4 0-8-12zM1536 6l2 0 3 4 1 4-2 3-5-3 0-4zM1358 18l-1 4-3 2-2 0-1-2 2-4 3-1zM1549 30l3-2 6 1 3 3 0 4-3 2-6 0-3-4zM0 37l5 1 2 2-1 1-6 2zM1202 53l10 9 2 4-6 14-6 5-4-2-1-3 3-12-3-10 2-4zM1263 56l2 4-1 4-4 10-14 6-10 10-4 0-1-4 1-4 11-10 5-16 8-3zM834 57l2-2 4 1 3 4 0 4-3 2-5-2-2-4zM1935 118l4 0 1 5-2 1-3-2zM2042 124l2-3 4-2 4 1 2 4-3 4-5 1-3-1zM2032 179l3 5-1 8-4 3-6 0-3-3 1-4 6-8zM651 238l-1 4-4 6 0 10-2 3-14-1-23 10-13 8-12 4-5 4-5 10-16 12-3 0-7-4-6 1-10-12-6-1-3-4 0-8 6-16 1-6-1-6-5-11 14 2 12-11 14-1 44-19 22 2 5 4 5 10 10 6zM2012 227l4 3 3 8 1 18-5 6-11 2-4-4-1-14 2-12 3-5zM798 240l3 2 0 4-3 3-4 0-2-2 0-3 2-3zM670 264l-4 4-8 1-2-3 2-4 4-2 4 0zM839 276l1 8-2 18-2 6-9 12 1 12-3 12-3 3-18 6-8 10-12-7-4 1-4 3-10-1-10-3-5-8-5-3-12-1-8-5-10-2-2-1 0-2 6-7 1-7-5-7-6-4-2 0-8 10-4-1-2-2 0-4 4-5 28-2 2-3 1-10 7-8 12 2 12-6 8-1 12 9 10 2 14-6 14 3 4-4 8-13 4 0zM500 274l2 2-2 6-16 12 0 8 6 6-2 1-3-1-6-8 4-18 4-6zM438 276l3 6-3 10-14 14-4 0-3-10 3-10 12-9zM410 328l6-1 4 2 2 5-1 4-5 3-4-1-4-8zM484 334l8 4 3 4-1 4-6 7-6 3-8-6-1-4 4-8zM904 340l20 0 6 8 9 4-4 20-3 2-6 0-6-8-13-8-5-10zM430 343l8 7 2 4-2 4-6 4-2 0-2-4-1-12 1-3zM558 359l2 0 1 3 2 8-1 4-4 2-4-2-1-4 1-6zM500 363l1 3-3 3-4 1-2-2 0-4 2-2zM450 368l2 1 0 3-4 5-2-1 0-3 2-5zM990 386l5-8 5-3 8-1 10 2 7 4 4 6 4 8 0 8-3 3-12 0-6 6-1-9-6-4-14-6zM487 386l3-4 4 0 9 6 3 6-4 3-8-3-6 1-2-3zM452 396l8-1 8 3 10 16-5 18-3 4-6 3-4 0-4-2-1-11-5-4-4-6 0-6 1-8zM1780 400l4 0 3 2 1 4-2 4-6 0-4-2 0-4zM1003 418l1 2-2 6-4 0-3-2 1-4zM1040 420l2 2-1 10 2 14-5 9-8 3-18-2-12 5-6-1 0-3 3-3 11-3 3-11 9-13 14-8zM1062 442l-1 6-3 2-2-1-1-3 3-4zM908 468l2 2-1 2-3 3-2-1-1-4zM1033 470l7-1 24 10 4 7 5 18-11 5-5-1-17-15-8-5-2-6zM1079 506l7-5 6-8 6-2 10 1 12-1 7 3 1 4-5 12 1 4 4 3 4 0 4-3 6-14 4 0 17 8 1 4-5 12-3 14 1 2 29 10 4 4-1 6-5 7-16 10-24-11-6 2-10 7-4 1-3-4-2-12-4-10 0-22-5-10-4-4-4-1-16 3zM428 507l4 0 2 3 0 4-2 2-4 0-2-2 0-4zM867 516l15-6 22 3 6 4 8 21-1 14 4 24 11 16 0 4-3 4-7 2-6-2-16-18-4-2-12-3-10-7-2-6 1-4 11-7 1-5-5-8-14-12-2-6zM1203 534l5-7 8-4 19 7 3 4-2 4-14 8-17-8zM1034 558l2 6 0 16-2 6-4 2-12 0-20 12-12 18 3 12-6 18-9 8-4 8-2 0-2-2 0-5 6-11 7-8 1-4-4-14-6-4-6-16 1-4 13-19 8-8 14-4 14 8 3-3 7-12 6-2zM1202 626l7-10 7-3 7 3 5 6 1 4-3 2-20 2-2 0zM1690 764l4 8 0 6-4 5-9 5 2 8-1 5-14 5-18 20-12-4-4 1-3 3 1 4 12 8 1 4-2 4-5 2-16 2-16 6-12-1-4 2-3 19-11 22 0 12-10 10-18 5-14-2-10 7-22 4-20 9-44 9-14 6-6 4-11 18-2 6 0 14-11 27-7 11 2 14 9 28 0 6-4 6-6 3-6 0-12-10-6-10-12-14-14-6-8-6-12 1-6 3-8 11 1 4 3 4 12 6 3 4-6 12-1 8-2 2-18-3-8 3-6 1-20-5-10-4-10-1-5-3-9-15-16-17-8-2-12 2-12-6-34-10-4-3-6-10-14-5-10-10-6-4-16-1-18 3-10-4-7-8-1-8 5-8 13-8 1-6-1-5-4-4-16-5-21-12-2-8-6-6-1-12-10-23-4-6-8-5 0-4 4-8-2-2-8-1-14-12-7-9-13-6-6-5-10-15-2-22 1-6 10-8 5-7 12-4 5-9 5-2 8-1 4 1 8 11 18 7 16-6 3-4-2-10 0-10-10-6-1-4 1-4 5-4 6 0 5 4 5 8 2-2 2-12 3-6 5-3 12-2 12-11 10-12 22-4 32 7 6-1 7-4 0-10 3-3 28-1 10 3 2-1 2-8 4-2 18 9 16-3 24 0 8-11 12-7 3-10 3-4 6-4 8-1 8-6 4 0 8 2 4 5-1 4-5 8-2 10 0 4 4 3 6-2 4-5 0-8-1-10 3-6 4-1 15 1 7 4 2 6-1 12-5 6-10 7-1 7 2 4 5 3 15-3 3 10 4 4 6 0 6-10 14-16 12-7 8-8 6-1 34 9 14 1 14 8 5 6-2 6 1 2 4 2 10 0 7 6 1 4-6 5-2 5 0 6 4 5 4 0 2-3 3-14 2-2 7-1 8 3 3 4 7 13 12 15 5 18 3 2 20-4 2-2-2-10 2-5 4-1 10 2 4-2 1-4-3-10 0-6 2 0 8 4 14 2 4 4 0 6-18 15-3 9 4 8 21 22 4 0 6-10 16-6 10-16 6 0zM1564 792l-3 4 0 8 3 4 5 0 2-2 0-4-3-7zM1202 963l-6 0-12 9-4 6 1 6 3 1 4-1 12-11 3-5zM1218 640l4 2 0 6-2 3-4-3-2-4 1-2zM948 766l6-3 4 0 2 3-2 5-4 1-5-2zM384 782l8-4 8-1 8 3 10 8 3 6 4 30-1 5-8 2-12-3-10 1-4-2-6-7-4-8-3-14 2-10zM1673 852l1-2 4-1 4 3 0 2-4 2-4-2zM1016 943l2 0 9 7 0 4-3 4-6 0-6-4-1-4zM973 960l9-4 10 4 3 4 6 16-2 4-7 3-6-5-8 2-4-1-2-3-1-14zM1026 972l2 3 0 5-2 3-4 1-2-2 0-6 2-3zM1040 988l4 4-1 4-3 2-2-1-1-5 1-3zM990 994l1 4-1 4-4 2-4-1-1-3 3-4 4-2zM1338 1084l7 8 4 12-9 12-6 3-6-1-8-6-2-6 10-6 4-14 2-2zM1540 1166l6 0 2 2-4 3-4-3zM1530 1178l2-2 14-1 6 5 2 4-1 4-7 6-6-1-9-9z"/>
<path fill="#ba2832" d="M643 238l-3 14-2 3-32 14-14 8-14 5-8 12-14 12-3 0-5-4-8 0-10-11-8-3-1-8 8-16 3-12 10-3 4-7 4-4 12-1 12-8 14-5 12-7 8-2 18 2 4 3 6 10zM499 278l-7 9-6 1-1-4 3-5 4-2zM748 338l8-12 14 5 7-7 2-6-7-24 2-1 8 4 12 1 5 2 4 8-4 10 1 4 4 3 12 3 4 4 0 4-1 4-3 3-14 6-8 7-22-16-2 1-4 7-4 2-6-4zM730 321l4 1 6 14-1 2-5 0-8-6 1-6zM410 330l4-1 4 1 2 4-1 4-3 2-4-1-3-5zM486 336l7 4 0 4-7 9-4 1-5-4-2-6 5-7zM558 361l2 1 2 8-2 4-2 1-2-1-2-4 1-6zM493 366l3-3 3 1 0 2-3 3zM999 386l3-6 6-1 8 1 4 6-2 5-8 1-9-2zM488 386l4-2 6 1 6 5 1 4-3 2-8-3-6 0zM458 397l6 1 4 2 8 14-4 8 0 10-4 4-6 3-4-1-2-4 4-10-10-4-3-8 3-10zM1028 437l4 1 2 6-2 2-6-2-1-4zM1040 478l8 0 10 6 4 6-2 6-6 1-6-4-9-9-1-4zM1096 502l1-2 3-1 5 1 1 2-2 2-4 0zM432 508l2 4 0 2-4 2-3-2-1-2 2-4zM875 522l3-4 6-3 20 2 4 3 1 4 2 10-1 6-8 7-8 0-18-17-2-4zM1142 525l3 5-5 16 3 8-9 10-6 2-2-2-6-16 1-16 2-4 3-2zM1148 554l6-3 8-1 16 4 2 2 0 2-2 2-12 5-6 0-8-4zM1007 578l2 4-2 4-9 6-8 8-6 2-8-2 2-14 6-8 14-5 4 1zM910 576l12 14 0 3-4 0-3-3-5-10zM1348 649l6 2 3 3-2 10-5 4-5-2-2-8 1-6zM1602 840l-2 3-10 2-4 6-3 9 0 14-7 11-7 19-7 13-12 3-8-3-12 1-8 7-22 6-16 8-46 9-14 6-9 6-12 16-2 8-2 18-6 18-5 7-14 5-10 12-8 5-12-1-8-8-4-1-18 5-40 29-18 2-4 3-4 7-4 2-5-3-17-24-4-3-42-11-26-12-9-6-12-6-7-10-1-4 5-16 4-8 4-3 24-11 10 7 10 13 6 4 6 0 18-24 1-6-1-4-8-3-12 6-6 0-4-3-6-9-4 0-10 3-12-6-8-2-22 6-4-10-10-3-13 1-5 4-8-5-4 0-4 2-6 12-6 0-4-5 1-4 15-10-12-4-14-12-12-4-6-3-12-23 0-16-2-5-14-9-12-4-9-8-11-5-6-4-9-13-1-18 4-8 10-5 5-7 17-14 4 1 4 9 4 3 10 2 10 7 16 3 4-1 10-18 6-17 4-29 4-3 10-1 10-6 12 2 10-16 6-5 6-1 8 6 12-2 12 4 8 1 10-3 6-5 12-1 8-7 12 1 12-9 18 3 20-2 20 5 7-13 3-2 6 0 12-1 16 3 10 4 10-5 4 0 4 11 6 6 12 6 10 7 14 4 4 3 2 4 1 10 6 8-2 14 1 6 6 7 8 1 1-2 2-14 5-5 8-1 18 7 4-3 2-4 0-6-17-14-3-12-2-3-12-8-14-1-4-2 2-10 6-7 18-11 8-1 15 1 13 8 12-2 7 4 2 6-4 10 0 6 6 12 13 5 10 15 1 14 5 4 6 0 8-12 1-24 3-3 6 2 6 15 10 12 2 4-3 20 10 6 3 4-2 6-10 6-3 4 1 14 4 4 6 3 18 2 16 13 4 6zM1406 794l0 2 2 1 4-1 1-2-3-3zM1454 816l4 6 8 4 2-1 4-10 4-4 4 0 12 3 18-4 2-6-14-2-16-8-18-3-8 15zM1202 1020l-2 4 2 5 4 1 4-2 2-4-2-4-4-1zM1414 716l3 4-1 10-2 3-6 1-4-4-1-8 5-5zM1680 770l4 2-1 4-3 0-2-2zM1620 778l6 4 4 8-2 6-14 1-3 3 0 6 10 10-1 2-14 6-6 0-2-3 0-15-6-4-12 1-3-5-1-6 6-6 22 0 10-9zM386 784l8-4 6 0 8 3 7 7 3 8 1 10-3 10-3 4-7 1-12-1-10-7-4-9-1-8 2-8zM1666 784l2 6-1 6-9 10-6 2-2-2-1-6 5-13 6-4zM1114 954l0 8-5 6-1 4 1 4 7 10 0 6-2 4-10 6-14-4-14 11-6 0-5-3-3-6 1-6 3-4 8-3 4-3 3-16 7-10-2-6 0-4 5 8 3 2 8 0zM1380 1048l3 4-1 5-4-3 0-4zM1374 1073l4-2 10 5 3 4 0 4-5 1-8-3-4-4zM1276 1084l4 1 3 7 0 4-3 2-6-1-3-3 1-6zM1338 1105l0 5-5 2-1-2 4-5zM1535 1182l3-2 8 0 3 2 1 4-3 4-5 1-4-3z"/>
<path fill="#b61f2e" d="M637 238l0 10-4 6-12 8-29 13-16 4-3 3-4 10-13 11-8-3-8 0-10-11-8-3 0-4 10-21 4-3 8 2 10 18 4 0 4-2 2-4 0-4-6-4-4-6-1-6 0-4 11-3 12-11 12-6 14-9 8-2 16 3zM412 330l4 0 2 2 1 4-2 2-3 1-3-3-1-4zM484 337l7 3 1 4-6 7-4 1-4-4-1-4 3-5zM558 363l2 7-2 4-3-4zM490 388l2-2 8 2 4 4-1 2-3 0-6-3-4-1zM451 404l7-5 8 2 7 11 1 4-6 4-16-1-3-7zM468 425l2 3-1 6-7 4-4-2-1-4 3-4zM428 509l4 0 2 3-1 2-5 1-1-3zM882 522l6-4 14 2 4 6-1 10-7 4-8-2-9-10zM986 588l4-5 4 0 1 1-5 5-2 1zM1429 678l-1 4-8 8-6 2-4-2 0-4 4-4 10-4zM1442 677l6 0 3 3 1 18 2 4 4 3 8 1 2 2-1 8-5 5-16 1-5-4-4-24 3-14zM1584 826l3 8-9 26 0 12-8 12-4 12-2 10-4 4-6 1-8-7-2 0-8 7-38 17-14 9-48 8-10 4-16 11-11 14-4 10 0 20-4 12-5 6-15 6-19 14-6 0-10-8-6 0-20 6-14 8-10 11-20 9-14 1-10 3-4-1-4-3-9-14-5-3-12-3-3-4 2-4 10-10 2-6-3-9-7-7-7-20 2-6 4-5 14-6 2-3-1-14-2-6-3-1-8 5-14 1-8 4-4 0-3-5-1-8-2-1-20 3-28-8-4-6 0-12-6-6-6-1-6 3-4 6 0 8-1 2-5 1-4-2-8-7-20-5-5-9-3-2-14 1-16-4-9-9-2-12 3-26 6-6 6 2 3-2-5-8 4-12-1-6-5-1-12 2-1 1-1 8-2 2-24 10-26-13-8-11-1-8 0-6 3-4 10-4 6-12 8-5 4 1 16 11 32 6 6-1 5-6 16-34 0-16 3-10 8-1 10-6 12 4 6-1 4-3 4-11 4-4 8 5 14-6 22 5 16-2 13-8 9-3 6 0 8 3 2-1 3-9 3-3 4-2 16 3 12-3 6 1 10 4 10 7 4 2 8-5 2-8 4-4 6-2 16-2 14 4 10-1 10 10 36 23-1 4-7 4 0 2 3 22-2 14 5 12 4 2 10 2 2 4-2 5-4 3-14 0-2 6 2 4 13 8 4 18 5 6 4 1 6-3 6-6 3-10 11-4 4-4-1-4-7-8-2-6 3-26-4-14 3-4 4-1 6 2 5 5 1 4-5 18 1 6 4 7 8 4 2 3-4 12 0 13-2 3-10 4-2 4 12-1 28 2 4-5 2-8 2-3 18-1 16 1 10-11 8-2 8 1 18 11 18 2zM1488 726l4 2 6 8-5 14 1 4 7 6 1 4-4 9-18 8-4 1-16-8 1-4 7-10-1-4-6-8 0-6 3-5 4-4 12-6zM1536 753l4 3-1 10 3 14-4 5-10 3-1-2 0-10-6-10 9-8 2-4zM392 783l6-1 6 1 6 5 4 6 2 6-1 8-3 7-4 3-6 2-8-1-6-3-4-6-3-8 1-8 2-6zM1086 972l6-2 5 2 6 16-9 0-6-3-3-7zM1136 992l20-14 4 0 6 3 15 19 0 10 3 10-4 10-4 1-12-2-30-11-2-6 2-6 0-10z"/>
<path fill="#b1182b" d="M626 224l8 16 0 8-2 4-10 8-8 4-24 8-6-2-11-22 2-6 29-22 12 0zM523 282l5-11 4-4 4-1 4 2 12 19 12-1 2 2-2 4-10 6-12 1-6-4-6-8-6-1zM414 331l3 3-1 3-2 1-3-4zM486 339l4 2 1 3-5 6-4 0-2-2-1-4 3-4zM451 406l5-5 8 1 4 3 3 9-3 3-14 1-3-4zM466 428l2 2-1 4-3 2-4 0-1-2 1-4zM428 510l4-1 1 3-1 2-4 0zM888 524l6-2 6 2 2 4-1 4-5 3-4-2-4-5zM1580 829l1 9-3 12-6 12-1 10-9 17-4 5 2 8-2 3-2 0-2-3 1-8-5-2-10 6-18 14-24 12-14 10-46 6-10 3-22 12-13 19-3 10 2 12-1 8-3 9-5 5-16 8-17 11-4-1-8-6-4-1-20 3-12 6-10 1-4 11-4 4-12 4-10 5-20 2-4-1-6-12-10-10 0-4 3-12-1-12-12-16-5-10 1-4 4-3 16-4 4-5-2-18-6-14-2-1-4 0-10 9-6 1-8-3-4-8-6-3-24 5-6 0-18-8-4-18-2-5-5-3-9-2-4 1-14 12-6 1-18-3-9-11-5-3-16 1-18-5-4-7 1-8 6-12 13-12 2-6-5-14 1-14-1-6-3-2-8 3-6-1-4-4-2-6 6-2 14 3 6-3 10-18 5-14 9-14 2-12 12-12 4 0 10 4 14-3 12-6 8-11 4-2 26 5 18-3 10-8 6-1 4 1 6 7 6 0 7-5 2-4 1-8 4-3 14 4 10-4 7 1 11 7 12 16 2-1 5-10 9-7 6-7 6-3 8-1 22 3 22 13 5 6 2 6 0 14 5 14-3 14 7 14-1 4-6 8 1 12 4 8 14 8 7 20 7 6 18 7 22-8 22-3 12 1 6-4 6-9 4-4 10-2 14 2 6 0 8-10 6-2 6 1 22 11 14 2zM1250 850l-5 2-4 4 1 6 4 4 4-1 4-5 0-7zM1313 868l-1 2 2 2 6 0 1-2-3-3zM1484 735l3 5-3 7-4 2-8-3-1-2 1-4 6-4zM1486 762l2 2 0 4-6 1 0-5zM396 784l6 0 4 3 5 5 2 6 1 6-2 6-4 4-6 3-6 0-6-3-4-4-3-8 0-6 2-6 5-4zM980 793l6 2 6 5 10 18-2 6-10 10-4 3-14-3-6-2-8-16 2-5 11-7 7-10zM1165 1018l3-2 4 0 3 4-1 3-4 0-4-2z"/>
<path fill="#a81529" d="M622 224l7 8 3 10-1 6-6 8-11 7-14 4-6-1-6-5-7-11 0-4 2-4 15-16 6-4 8-1zM528 274l4-3 6 1 7 10 6 10 0 2-7 3-4 0-4-4-4-7-7-2-1-3zM486 340l3 2-1 4-2 2-4 0-1-4zM453 406l5-4 6 1 4 5 1 6-5 2-10 0-2-4zM1574 835l0 11-8 16 0 10-2 4-6 3-8-2-4 1-15 8-6 16-7 8-22 11-14 11-20 2-14-5-18 7-12 8-12 1-4 2-3 3-3 11-8 10-3 7 0 8 3 16-2 6-4 5-32 18-12-7-12 0-12-2-4 0-8 7-16 1-12 8 4 8-1 2-7 3-12 8-16-1-5-12-7-8 4-17 2-2 6 2 4-2 3-7 0-6-5-3-12 4-4-1-10-8-5-8 1-4 3-2 17-2 7-6 3-6 0-4-10-19-2-11-2-4-6-3-4 0-12 13-4 2-4-1-8-9-6-3-32 0-3-3-4-10-7-6-8-10-16-5-5-5-1-4 2-2 12-1 4-2-1-5-5-4-10 1-6 10-15 7-3 4 1 4 8 6-2 2-9 2-8-2-14-15-14-4-12-11 3-8 11-12-7-18 1-14-1-14 12-24 4-14 5-6 6-3 14 2 8-3 2-4 0-10 4-3 12-3 12-8 8-12 4-2 4 1 16 7 12-4 4 1 6 12 10 7 6 1 4-3 0-6-2-4-6-2-4-4 0-6 2-4 4 0 6 7 4 1 8-3 14-9 16 3 10-6 4-1 4 1 4 4 4 15 20 13 4-3 2-4-3-12 1-8 10-12 8-5 20 2 12 7 14 12 1 4 1 14 3 18-1 7-6 13 4 12 2 12 8 15 14 8 9 19 7 6 18 8 6 0 14-5 12 5 10-9 4-1 10 1 6-1 16-19 6-1 14 2 10 0 8-10 4-1 28 14zM1303 776l-5-2-6 2-5 4-1 6 2 1 4-1 12-8zM1287 808l0 2 3 3 4 1 2-2 0-2-4-3zM1235 854l0 10 7 8 18 10 12-6 1-8-11-8-3-10-3-4-8-1-10 5zM1292 848l-1 6 5 4 6 3-4 9 2 6 4 2 18 1 4 0 2-2 2-7-2-4-12-7-13 1 2-6-3-6-6-3zM1202 884l-2 2 2 3 6 1 0-5-2-1zM1273 900l-1 2 0 6 4 8 7 4 7 8 4 0 6-4 1-4-7-10 1-10-1-4-4-2-4 0zM1399 904l0 6 5 2 8-1 3-5-2-4-7-3-4 1zM1381 916l-1 4 5 4 9 3 4-3 1-8-3-6-6 0zM1434 910l-4 0-3 2-1 4 2 4 4 1 3-3 2-4zM394 786l6 0 4 1 7 9 1 6-2 6-4 5-4 2-10-2-4-4-2-5-1-6 1-6zM986 804l3 4-1 7-10 9-6 1-5-7 0-6 13-8z"/>
<path fill="#9f1228" d="M618 224l6 5 4 7 1 8-2 6-7 8-7 4-11 2-6-2-8-8-1-6 1-4 11-16 5-4 6-1zM530 275l6 0 6 6 4 9-1 4-3 1-4-1-6-10-4-2-1-2zM454 408l4-4 4 0 4 4 1 4-3 3-8 0-3-3zM1302 709l4-4 8 0 14 3 8 6 12 22 4 18-2 5-10 0-4 3-4 12 2 8 2 3 10 0 4 3 2 14 10 21 12 6 18 22 22 11 18-3 6 5 8 13 4 1 6-6-2-12 4-7 4-1 10 2 7-2 5-5 5-11 5-4 4-1 28 2 8-8 4-1 14 5 14 13 1 8-7 10-2 10-40 10-2 4 2 12-1 8-23 14-9 10-7 3-12 1-7-2-8-10-11-27-2-1-24 1-4-3-4-10-6-3-16 1-5 4 0 6 5 12-1 4-3 4-4 2-12-2-22 3-6 3-4 11-18-1-11-16 4-10-1-11 2-2 4-2 7 3 2 4-2 10 2 6 5 4 8 0 3-4 1-6-2-20 3-14-3-7-10-3-4-6 0-18 5-12-5-14 2-12-4-6 2-8-1-4-17-9-18-1 0-4 8-10 6-3 2-3 0-18-2-12zM1466 872l-1 8 3 8 20 6 3 0 2-2-1-6-6-8-12-7-4-1zM1276 747l3 7-1 5-10 4-14 12-4-1-6-6-4-2-16-1-12 3 14 13 10-1 10 4 10 1 9 5 5 4-1 4-5 3-9-5-5-1-16 5-2 2 2 4 8 2 18-1 15 13-4 6-1 4 2 8 8 8-2 8-4 1-4-1-6-11-38-20-5-9-13-11-22 5-5 4-1 4 2 6 4 2 12-2 6 2 8 10 15 10-1 4-5 8 0 4 6 12 16 8 11 12 10 16 1 6-3 5-18 7-4-1-6-9-9-6-7-8-3-20-2-4-5-3-6 0-7 5-2 4 0 4 7 7 13 7 3 4-3 8-7 6 3 10-2 4-3 2-23-16-1-4 1-10-3-5-4 1-7 14-5 3-4-2-5-7-11-4-8-12 4-10-1-4-11-12-14-10-10-2-9 4-2 4 7 10 0 6-2 3-6 3-10 0-1-2 2-16-9-6-2-10-4-6-4-3-8 1-1-2 1-4 6-4 1-6-1-5-8-5-2-6 2-6 12-14 14-1 5-9 7-6 10-2 6 1 3 3 4 10 7 3 6-1 3-2 1-4 6 1 22-3 5-4-2-4-13-8-4 0-14 7-8-6-5-7-2-6 3-6 20-17 6 3 14 20 6 5 4 1 12-6 12 0 7-2 3-4 4-14 16-12 4-2 14 4 12-2 1 2-6 8 2 6 9 4 12 0zM1171 776l3 4 4 3 5-1 3-4-1-4-3-3-6 1zM1168 806l-2-2-4-1-11 5-3 4 4 4 10 1 6-5zM1112 820l0 6 6 6 6 2 4-2 1-8-4-6-7-1zM1189 850l-1 6 6 9 10 5 5-2 2-6-5-8-10-6-4 0zM1122 858l2 2 4-1 4-5-4-2-3 2zM1067 776l5-2 5 4-3 3-4 1-3-2zM394 788l8 0 7 8 0 10-7 6-8 0-4-3-3-5 0-10 3-4zM1298 794l2-1 4 0 3 3 2 4-3 2-6-1-3-3zM1408 922l4-1 5 1 4 8-1 4-8 3-8-2 0-5zM1395 938l1 2-2 4-4 3-6-8-4-1-17 14-2 4 3 12 4 2 8-1 2 2 2 15 4 14-1 4-3 3-8 3-20 14-4-1-10-8-12 3-18-6-4 2-8 7-12 2-16 8-6 0-4-4-3-7 3-12-1-4-5-6-10-6-2-2 12-16 1-14-3-12 4-5 6-2 16-1 16 8 7-10 5-4 6 0 6 6 4 1 6-3 6-7 12 3 26-8z"/>
<path fill="#991027" d="M610 224l8 3 6 5 2 6 0 8-4 8-6 5-6 2-10-1-7-6-1-8 10-18zM534 280l4 1 4 3 2 6-2 3-4-2zM456 408l2-2 4 0 2 2 1 4-7 2-2-2zM1310 711l20 6 3 3 3 10 0 4-6 10-4 14-2 4-4 3-7-1-4-4 1-10-2-12 2-12-2-12zM1138 740l4 2 2 4 1 10-7 7-4 2-4-1-3-4 0-12 5-6zM1212 740l4 2 1 4-1 2-4 2-2 0-2-4 1-4zM1242 746l4-1 7 3 5 8-1 6-5 1-11-7-3-4zM1098 785l2 0 2 3 0 4-2 2-4-1-3-3zM394 790l8 0 5 6 0 8-5 6-8 0-5-6-1-8 3-4zM1155 792l1 2-1 4-14 8-5 9-14-3-10 1-6 3-3 4 1 12-6 6 0 10-6 5-6 3-6 1-4-3-7-16-2-18-9-10 6-7 6-3 10 1 12 8 4 1 12-12 22 0 6-1 10-7 4 0zM1198 792l0 4-4 3-10 2-5-1 2-4 11-6 4 0zM1331 806l3-4 4 2-2 4-4 0zM1142 824l16 3 14 1 3 2 1 2-7 8-1 6 2 6 10 10 5 10 1 6-2 5-2 2-12-5-16 1-6-6-10-5 0-4 7-10-6-14zM1195 834l3-2 4 0 7 8 2 4-1 2-4 0-9-4-3-4zM1559 848l-9 17-16 7-10 1-12-1-1-2 4-14-7-9-4 0-6 5-4 1-2-5 1-6 3-4 10 2 8-3 14 2 14-8 9 3zM1351 836l11 0 8 5 6 1 4 3 6 11 18 10 1 2-3 1-20 2-6 5-6 10 7 14-3 4-18-2-8-6-4-6 0-8 3-6 13-10 14-3 2-3-8-14-4 0-10 4-4-2-3-8zM1108 837l6 3 3 4-1 4-2 2-6 0-5-4 3-8zM1426 870l4 0 3 4 1 4-1 2-7 1-3-1zM1224 884l8-1 6 3 7 12-1 9-2 1-4 0-10-8-6-10zM1455 900l9-5 16 2 13 7 1 6-12 17-6 2-10 1-7-4-4-8-3-12zM1334 946l-1 6-9 4-9 8 0 4 5 6 1 4-12 22-17 14-12 0-10 10-6 0-3-6 4-10 0-4-9-10-3-6 6-16-1-14 2-7 4-1 16 3 18 6 3-1 2-12 3-4 14 5 10-2zM1327 974l3-2 12 5 12 0 16 5 6 10 1 8-11 4-5 8-5 4-6 0-5-6-3-12z"/>
<path fill="#900d26" d="M610 227l6 1 5 4 3 6 0 7-4 7-4 4-6 1-8 0-6-5 0-6 6-15 4-3zM1318 732l4 1 2 5-2 6-4 2-4-4-1-4 2-4zM396 791l6 1 4 6-1 6-5 4-6-1-4-7 1-6zM1084 820l5 2 3 4-2 8 1 12-3 4-4 1-6-3-2-6 3-10 1-8zM1544 845l3 7-2 8-9 5-8 1-2-2-3-14 1-4 14-2zM1353 884l3-1 2 1 0 5-4 0-2-3zM1460 902l6-3 8 0 8 2 5 3 2 4 0 4-7 12-4 2-6 2-6-1-4-3-4-6-2-8 1-4zM1276 960l6-1 10 5 16 12 3 4-1 6-6 10-14 10-14-2-16-15 2-9 9-10 1-8z"/>
<path fill="#870a24" d="M612 229l4 2 4 4 2 9-6 8-6 2-6 0-3-2-2-4 2-8 5-9zM396 793l5 1 3 4 0 4-4 4-4 0-3-4 0-6zM1478 903l4 1 3 4 0 4-2 6-7 6-6 1-4-1-5-8-1-8 6-5zM1269 982l5-5 8-2 8 5 10 2 2 4-6 8-6 3-6 0-6-2-9-9z"/>
<path fill="#7f0823" d="M610 232l6 3 3 7-3 6-8 3-4-3 0-6 2-7zM398 796l3 4-3 3-3-3 1-3zM1474 905l7 3 0 6-5 7-6 1-4-4-1-8 3-3z"/>
<path fill="#760521" d="M612 238l2 4-2 2-2 0-1-4z"/>
</g>
<path d="M177.0 281.8 L191.6 291.6 L206.3 303.8 L225.8 317.2 L247.7 313.5 L267.2 303.8 L279.4 296.4 L291.6 290.3 L311.1 291.6 L328.1 298.9 L345.2 308.6 L357.4 318.4 L369.6 330.6 L379.3 342.8 L384.2 346.4 L385.4 333.0 L379.3 323.3 L396.4 314.7 L406.1 303.8 L414.7 296.4 L423.2 287.9 L422.0 272.1 L428.1 257.4 L437.8 247.7 L450.0 240.4 L467.1 242.8 L472.0 234.3 L484.1 233.1 L493.9 235.5 L506.1 231.8 L518.3 223.3 L530.5 217.2 L537.8 213.6 L540.2 203.8 L550.0 197.7 L559.7 195.3 L569.5 198.9 L575.5 207.5 L567.0 216.0 L557.3 220.9 L547.5 224.5 L550.0 235.5 L557.3 246.5 L564.6 245.3 L579.2 237.9 L597.0 234.3 L597.0 231.8 L601.9 229.4 L600.7 213.6 L606.8 205.0 L614.1 205.0 L617.7 213.6 L621.4 223.3 L628.7 227.0 L645.8 228.2 L657.9 234.3 L667.7 244.0 L672.6 256.2 L682.3 261.1 L699.4 261.1 L723.8 262.3 L753.0 268.4 L767.6 273.3 L779.8 275.7 L789.6 272.1 L799.3 264.8 L809.1 259.9 L826.1 258.7 L840.8 253.8 L865.1 253.8 L883.4 253.8 L865.1 258.7 L848.1 262.3 L855.4 267.2 L862.7 274.5 L870.0 276.9 L879.8 279.4 L892.0 281.8 L901.7 289.1 L913.9 294.0 L921.2 301.3 L923.6 313.5 L926.1 323.3 L938.3 325.7 L948.0 330.6 L957.8 333.0 L970.0 340.3 L982.1 350.1 L994.3 359.8 L1006.5 372.0 L1017.0 384.2 L1031.6 400.0 L1041.4 408.6 L1046.3 412.2 L1068.2 413.4 L1082.8 414.7 L1090.1 412.2 L1114.5 414.7 L1148.6 419.5 L1168.1 425.6 L1185.2 430.5 L1207.1 447.6 L1226.6 464.6 L1231.5 463.4 L1243.7 479.3 L1246.1 491.5 L1248.6 506.1 L1253.4 523.1 L1258.3 537.8 L1265.6 539.0 L1270.5 547.5 L1275.4 553.6 L1283.9 556.0 L1286.4 567.0 L1283.9 581.6 L1280.3 591.4 L1280.3 601.1 L1292.4 599.9 L1299.8 610.9 L1316.8 617.0 L1333.9 619.4 L1336.3 628.0 L1351.0 632.8 L1368.0 631.6 L1392.4 637.7 L1411.9 645.0 L1437.0 656.0 L1437.0 656.0 L1451.6 656.0 L1458.9 668.2 L1480.9 680.4 L1507.7 692.6 L1529.6 702.3 L1554.0 706.0 L1573.5 709.6 L1597.9 706.0 L1617.4 707.2 L1636.9 719.4 L1649.1 726.7 L1671.0 743.8 L1690.5 760.8 L1707.6 775.4 L1727.1 782.8 L1751.5 784.0 L1763.6 785.2 L1775.8 799.8 L1783.1 824.2 L1788.0 853.5 L1788.0 870.5 L1785.6 894.9 L1778.3 919.3 L1753.9 946.1 L1741.7 963.1 L1705.1 992.4 L1702.6 1000.0 L1688.0 1026.8 L1653.9 1060.9 L1650.2 1097.5 L1653.9 1141.4 L1649.0 1170.6 L1645.4 1202.3 L1629.5 1219.4 L1625.9 1248.6 L1627.1 1268.1 L1595.4 1309.6 L1583.2 1326.6 L1584.4 1348.6 L1571.0 1358.3 L1551.5 1373.0 L1546.6 1382.7 L1507.6 1387.6 L1463.8 1390.0 L1441.8 1404.6 L1434.5 1414.4 L1410.1 1412.0 L1385.8 1429.0 L1380.0 1432.4 L1354.9 1447.1 L1340.3 1461.7 L1330.5 1478.8 L1330.5 1503.1 L1328.1 1547.0 L1323.2 1568.9 L1306.1 1581.1 L1289.1 1595.8 L1276.9 1615.3 L1264.7 1637.2 L1247.6 1656.7 L1228.1 1673.8 L1208.6 1690.8 L1198.9 1710.3 L1184.3 1727.4 L1167.2 1744.5 L1159.9 1756.6 L1150.1 1766.4 L1135.5 1773.7 L1116.0 1782.2 L1106.3 1781.0 L1081.9 1778.6 L1057.5 1774.9 L1042.9 1767.6 L1030.7 1766.4 L1030.7 1785.9 L1042.9 1800.5 L1035.6 1812.7 L1038.0 1824.9 L1052.6 1829.8 L1057.5 1829.8 L1058.7 1846.8 L1047.8 1863.9 L1033.1 1881.0 L1025.8 1898.0 L1008.8 1905.3 L984.4 1912.6 L960.0 1917.5 L956.9 1911.7 L908.1 1917.8 L878.9 1916.6 L867.9 1911.7 L870.4 1926.3 L875.2 1933.6 L870.4 1945.8 L863.0 1960.4 L870.4 1973.8 L864.3 1982.4 L842.3 1988.5 L820.4 1988.5 L805.8 1983.6 L783.8 1977.5 L774.1 1981.2 L774.1 1997.0 L778.9 2006.8 L776.5 2018.9 L786.3 2026.3 L810.6 2021.4 L820.4 2021.4 L826.5 2031.1 L824.0 2045.8 L810.6 2048.2 L803.3 2038.4 L786.3 2038.4 L781.4 2043.3 L800.9 2050.6 L783.8 2057.9 L771.6 2072.6 L770.4 2084.8 L771.6 2099.4 L759.4 2106.7 L757.0 2114.0 L760.7 2117.7 L742.4 2117.7 L725.3 2123.8 L708.3 2133.5 L696.1 2148.1 L692.4 2160.3 L698.5 2172.5 L715.6 2184.7 L737.5 2188.4 L749.7 2192.0 L754.6 2199.3 L750.9 2211.5 L747.3 2221.3 L732.6 2231.0 L710.7 2240.8 L693.6 2255.4 L688.8 2270.0 L685.1 2282.2 L669.3 2289.5 L654.6 2294.4 L644.9 2304.1 L640.0 2316.3 L638.9 2316.3 L643.8 2333.3 L651.1 2350.4 L665.7 2363.8 L651.1 2371.1 L668.1 2384.5 L675.4 2399.1 L692.5 2413.8 L716.9 2426.0 L741.3 2435.7 L774.2 2441.8 L768.1 2452.8 L741.3 2454.0 L729.1 2460.1 L709.6 2479.6 L704.7 2484.5 L675.4 2477.1 L643.8 2469.8 L607.2 2465.0 L565.8 2452.8 L541.4 2443.0 L512.1 2435.7 L497.5 2411.3 L473.1 2394.3 L453.6 2377.2 L441.4 2355.3 L431.7 2340.6 L436.6 2328.5 L429.3 2304.1 L424.4 2279.7 L421.9 2255.3 L424.4 2221.2 L448.8 2209.0 L463.4 2194.4 L460.9 2177.3 L424.4 2182.2 L421.9 2172.4 L443.9 2150.5 L458.5 2126.1 L441.4 2113.9 L456.1 2104.2 L465.8 2089.6 L451.2 2072.5 L465.8 2060.3 L473.1 2048.1 L473.1 2014.0 L482.9 1999.4 L480.4 1975.0 L482.4 1975.1 L488.5 1952.1 L499.4 1944.8 L504.3 1925.3 L494.6 1903.4 L495.8 1888.8 L489.7 1876.6 L489.7 1859.5 L504.3 1854.6 L509.2 1840.0 L516.5 1825.4 L523.8 1805.9 L536.0 1791.3 L542.1 1774.2 L545.8 1757.1 L555.5 1737.6 L554.3 1720.6 L564.0 1698.6 L561.6 1681.6 L556.7 1652.3 L555.5 1627.9 L565.3 1618.2 L567.7 1596.3 L561.6 1581.6 L567.7 1569.4 L575.0 1547.5 L581.1 1523.1 L589.6 1498.8 L588.4 1474.4 L596.9 1450.0 L596.2 1461.9 L597.4 1449.7 L592.5 1432.6 L596.2 1408.3 L591.3 1398.5 L595.0 1383.9 L604.7 1364.4 L608.4 1327.8 L604.7 1291.3 L602.3 1254.7 L599.8 1225.4 L580.3 1213.3 L565.7 1203.5 L563.3 1193.8 L548.6 1186.4 L531.6 1174.3 L514.5 1166.9 L495.0 1159.6 L475.5 1149.9 L456.0 1135.3 L436.5 1123.1 L421.9 1106.0 L407.3 1091.4 L399.9 1076.8 L403.6 1064.6 L395.1 1047.5 L385.3 1028.0 L384.2 1030.3 L362.3 996.1 L354.9 984.0 L345.2 964.5 L335.4 942.5 L325.7 920.6 L315.9 898.6 L306.2 881.6 L294.0 864.5 L281.8 845.0 L264.8 830.4 L245.3 818.2 L237.9 808.4 L247.7 796.3 L240.4 786.5 L231.8 771.9 L234.3 754.8 L250.1 737.8 L267.2 725.6 L274.5 715.8 L269.6 706.1 L257.4 698.8 L242.8 685.3 L251.3 667.1 L247.7 650.0 L247.7 645.0 L261.1 632.8 L262.3 618.2 L274.5 601.1 L274.5 586.5 L289.1 579.2 L303.8 573.1 L315.9 568.2 L309.8 562.1 L323.3 552.4 L320.8 545.1 L323.3 534.1 L337.9 526.8 L352.5 518.3 L358.6 508.5 L367.1 496.3 L375.7 484.1 L372.0 479.3 L363.5 472.0 L364.7 457.3 L365.9 440.3 L362.3 428.1 L368.4 418.3 L362.3 406.1 L363.5 391.5 L357.4 381.8 L350.1 369.6 L340.3 354.9 L333.0 342.8 L323.3 328.1 L313.5 318.4 L303.8 312.3 L291.6 313.5 L284.3 320.8 L276.9 329.4 L267.2 333.0 L261.1 339.1 L269.6 347.6 L276.9 357.4 L270.8 365.9 L257.4 370.8 L246.5 369.6 L244.0 362.3 L233.1 358.6 L222.1 350.1 L218.4 337.9 L206.3 333.0 L189.2 333.0 L177.0 335.4Z" fill="none" stroke="#000" stroke-width="2.2" stroke-linejoin="round"/>
<g fill="none" stroke="#000" stroke-width="2" stroke-linejoin="round">
<path d="M337.9 359.8 L350.1 350.1 L357.4 337.9 L369.6 328.1"/>
<path d="M547.5 228.2 L535.3 245.3 L518.3 274.5 L501.2 304.7 L525.6 315.9 L530.5 342.8 L535.3 364.7 L552.4 376.9 L606.0 376.9 L632.8 406.1 L691.3 401.3 L697.7 411.0 L684.0 464.6 L701.1 498.8 L684.0 518.3 L706.0 540.2 L713.3 567.0"/>
<path d="M713.3 567.0 L706.0 547.5 L693.8 540.2 L669.4 553.4 L618.2 553.4 L618.2 572.9 L640.1 574.3 L639.2 591.4 L610.9 594.3 L610.9 615.8 L630.4 645.0 L623.1 713.3 L615.8 757.2"/>
<path d="M713.3 567.0 L732.8 584.1 L762.0 576.8 L762.0 589.0 L805.9 562.1 L820.5 542.6 L835.2 540.2 L832.7 528.0 L805.9 518.3 L801.0 493.9 L786.4 472.0 L805.9 476.8 L849.8 489.0 L859.5 479.3 L908.3 462.2 L927.8 440.3 L944.8 437.8 L947.3 459.8 L961.9 479.3 L952.2 518.3 L957.0 547.5 L981.4 567.0 L1017.0 557.3"/>
<path d="M927.8 440.3 L903.4 415.9 L913.2 391.5 L937.5 372.0 L922.9 352.5 L952.2 333.0"/>
<path d="M835.2 540.2 L859.5 547.5 L869.3 615.8 L864.4 635.3 L893.7 659.6 L898.5 630.4 L932.7 635.3 L947.3 603.6 L986.3 603.6 L983.8 567.0"/>
<path d="M986.3 603.6 L986.3 625.5 L1017.0 654.8"/>
<path d="M486.6 852.2 L664.5 898.5 L715.7 937.5"/>
<path d="M715.7 937.5 L766.9 935.1 L781.5 918.0 L805.9 903.4 L849.8 879.0 L879.0 903.4 L893.7 905.8 L1000.9 905.8 L1005.8 859.5"/>
<path d="M893.7 905.8 L896.1 976.5 L947.3 986.3 L952.2 1030.2 L927.8 1069.2"/>
<path d="M766.9 937.5 L769.3 981.4 L776.7 1010.7 L810.8 1030.2 L844.9 1044.8 L883.9 1064.3 L927.8 1071.6 L937.5 1117.9 L930.2 1122.8 L940.0 1132.5 L942.4 1191.0 L1000.9 1193.5 L1000.9 1210.5 L1017.0 1227.1"/>
<path d="M608.5 757.2 L567.0 762.0 L528.0 781.5 L513.4 791.3 L503.6 820.5 L489.0 840.0 L479.3 859.5 L489.0 883.9 L513.4 922.9 L537.8 932.7 L540.2 947.3 L591.4 944.8 L593.8 930.2 L591.4 979.0 L628.0 979.0 L664.5 976.5 L693.8 957.0 L715.7 937.5"/>
<path d="M608.5 757.2 L591.4 742.5 L606.0 703.5 L581.6 688.9 L552.4 686.5 L518.3 691.3 L503.6 674.3 L493.9 645.0 L464.6 625.5 L445.1 615.8 L425.6 613.3"/>
<path d="M311.1 564.6 L337.9 581.6 L362.3 601.1 L396.4 598.7 L425.6 613.3 L437.8 640.1 L420.8 674.3 L391.5 693.8 L347.6 713.3 L333.0 727.9 L323.3 762.0 L308.6 779.1 L294.0 762.0 L264.8 757.2 L269.6 727.9"/>
<path d="M1041.4 411.0 L1038.9 440.3 L1017.0 450.0"/>
<path d="M1017.0 481.7 L1026.8 496.3 L1041.4 501.2 L1043.8 523.1 L1058.4 545.1"/>
<path d="M1017.0 557.3 L1031.6 547.5 L1058.4 545.1 L1082.8 550.0 L1077.9 530.5 L1114.5 524.1 L1121.8 535.3 L1121.8 550.0 L1143.8 557.3 L1182.8 537.8 L1197.4 523.1 L1212.0 491.5 L1226.6 464.6"/>
<path d="M1148.6 419.3 L1134.0 435.4 L1131.6 454.9 L1138.9 481.7 L1148.6 491.5 L1141.3 506.1 L1138.9 523.1 L1134.0 537.8"/>
<path d="M1143.8 557.3 L1163.3 571.9 L1177.9 591.4 L1187.6 615.8 L1197.4 632.8 L1199.8 645.0 L1212.0 652.3 L1224.2 649.9 L1224.2 637.7 L1236.4 620.6"/>
<path d="M1017.0 659.6 L1046.3 674.3 L1075.5 681.6 L1065.8 688.9 L1017.0 805.9 L1021.9 859.5 L1031.6 898.5 L1051.1 918.0 L1056.0 925.3 L1272.9 940.0"/>
<path d="M1272.9 940.0 L1282.7 908.3 L1304.6 879.0 L1309.5 844.9 L1329.0 820.5 L1338.8 805.9 L1324.1 788.8 L1358.3 762.0 L1377.8 727.9 L1392.4 693.8 L1407.0 664.5 L1411.9 652.3"/>
<path d="M1329.0 788.8 L1358.3 793.7 L1368.0 810.8 L1363.1 849.8 L1377.8 874.2 L1397.3 879.0 L1394.8 888.8 L1382.6 903.4 L1397.3 937.5 L1402.1 952.2 L1421.6 954.6"/>
<path d="M1272.9 940.0 L1260.8 981.4 L1258.3 1015.5 L1263.2 1042.4 L1270.5 1030.7"/>
<path d="M1421.6 954.6 L1402.1 976.5 L1407.0 1000.9 L1404.6 1044.8"/>
<path d="M1555.7 710.8 L1533.8 727.9 L1514.3 762.0 L1519.1 820.5 L1504.5 835.2 L1455.8 854.7 L1431.4 869.3 L1421.6 898.5 L1416.8 922.9 L1421.6 954.6"/>
<path d="M1570.3 713.3 L1577.7 762.0 L1585.0 810.8 L1597.2 840.0 L1594.7 869.3"/>
<path d="M1421.6 954.6 L1441.1 976.5 L1475.3 957.0 L1494.8 927.8 L1524.0 932.7 L1553.3 918.0 L1577.7 903.4 L1594.7 869.3 L1636.2 859.5 L1655.7 871.7 L1665.4 825.4 L1684.9 796.2 L1699.5 774.2"/>
<path d="M1665.4 825.4 L1699.5 815.7 L1706.8 830.3 L1728.8 840.0 L1738.5 825.4 L1782.4 830.3"/>
<path d="M1655.7 871.7 L1709.3 864.4 L1719.0 888.8 L1748.3 874.2 L1787.3 869.3"/>
<path d="M1577.7 903.4 L1592.3 927.8 L1611.8 913.2 L1636.2 898.5 L1650.8 908.3 L1675.2 920.5 L1689.8 908.3 L1723.9 922.9 L1777.5 908.3"/>
<path d="M1675.2 920.5 L1684.9 937.5 L1714.2 961.9 L1738.5 986.3"/>
<path d="M1684.9 937.5 L1689.8 976.5 L1675.2 981.4 L1684.9 1000.9 L1709.3 1005.8"/>
<path d="M628.0 979.3 L654.8 1032.9 L647.5 1047.5 L647.5 1091.4 L632.8 1110.9 L640.1 1125.5 L630.4 1137.7 L637.7 1154.8 L649.9 1159.6 L625.5 1188.9 L630.4 1201.1"/>
<path d="M601.1 1225.4 L618.2 1220.6 L620.6 1203.5 L630.4 1201.1 L640.1 1223.0 L659.6 1262.0 L654.8 1291.3 L669.4 1320.5 L684.0 1379.0"/>
<path d="M684.0 1379.0 L706.0 1379.0 L718.1 1364.4 L740.1 1347.3 L749.8 1354.6 L791.3 1354.6 L801.0 1379.0 L810.8 1349.8 L854.7 1349.8 L869.3 1301.0 L886.3 1269.3 L944.8 1258.1 L979.0 1259.6 L1008.2 1274.2"/>
<path d="M1017.0 1226.9 L1005.8 1242.5 L1008.2 1274.2 L1005.8 1291.3 L1017.0 1310.8"/>
<path d="M706.0 1381.5 L698.6 1418.0 L664.5 1430.2 L659.6 1452.1 L664.5 1486.3 L657.2 1505.8 L667.0 1518.0 L645.0 1530.2 L625.5 1564.3 L613.3 1593.5 L610.9 1627.7 L601.1 1642.3 L593.8 1666.7 L601.1 1686.2 L606.0 1725.2 L615.8 1749.5 L610.9 1778.8 L598.7 1793.4 L596.3 1822.7 L574.3 1842.2 L579.2 1915.3 L567.0 1925.0 L562.1 1949.4 L550.0 1978.7 L547.5 2000.1"/>
<path d="M854.7 1349.8 L879.0 1379.0 L908.3 1403.4 L947.3 1420.5 L981.4 1437.5 L1017.0 1449.7"/>
<path d="M1017.0 1201.1 L1026.8 1210.8 L1051.1 1193.8 L1075.5 1188.9 L1114.5 1203.5 L1148.6 1193.8 L1158.4 1188.9 L1155.9 1213.3 L1177.9 1215.7"/>
<path d="M1270.5 1030.4 L1251.0 1096.3 L1226.6 1120.6 L1192.5 1154.8 L1173.0 1193.8 L1177.9 1215.7 L1182.8 1232.8 L1216.9 1247.4 L1251.0 1262.0"/>
<path d="M1251.0 1262.0 L1270.5 1242.5 L1309.5 1227.9 L1353.4 1230.3 L1372.9 1213.3 L1368.0 1188.9 L1377.8 1169.4 L1368.0 1154.8 L1387.5 1140.1 L1402.1 1110.9 L1411.9 1120.6"/>
<path d="M1270.5 1030.4 L1275.4 1052.4 L1304.6 1042.6 L1329.0 1054.8 L1358.3 1057.3 L1387.5 1047.5 L1407.0 1045.1"/>
<path d="M1407.0 1045.1 L1416.8 1091.4 L1411.9 1120.6 L1441.1 1101.1 L1475.3 1091.4 L1489.9 1103.6 L1524.0 1108.4 L1567.9 1130.4 L1582.5 1142.6 L1619.1 1149.9 L1597.2 1184.0 L1606.9 1208.4 L1626.4 1223.0 L1645.9 1203.5"/>
<path d="M1626.4 1223.0 L1597.2 1213.3 L1582.5 1223.0 L1577.7 1242.5 L1585.0 1262.0 L1567.9 1286.4 L1558.1 1310.8 L1558.1 1320.5 L1582.5 1325.4"/>
<path d="M1558.1 1310.8 L1538.6 1335.1 L1514.3 1344.9 L1455.8 1359.5 L1421.6 1369.3"/>
<path d="M1455.8 1359.5 L1470.4 1374.1 L1455.8 1383.9"/>
<path d="M1251.0 1262.0 L1251.0 1281.5 L1304.6 1281.5 L1314.4 1291.3 L1319.3 1286.4 L1368.0 1281.5 L1377.8 1301.0 L1377.8 1325.4 L1397.3 1335.1 L1397.3 1364.4 L1421.6 1369.3"/>
<path d="M1251.0 1262.0 L1231.5 1301.0 L1212.0 1335.1 L1182.8 1369.3 L1143.8 1413.1"/>
<path d="M1182.8 1369.3 L1212.0 1366.8 L1280.3 1379.0 L1294.9 1393.6 L1299.8 1418.0 L1309.5 1432.6 L1333.9 1452.1"/>
<path d="M1017.0 1349.8 L1063.3 1352.2 L1090.1 1359.5 L1099.9 1410.7 L1138.9 1413.1 L1134.0 1437.5 L1126.7 1466.8"/>
<path d="M1017.0 1530.2 L1056.0 1532.6 L1090.1 1527.7 L1119.4 1500.9 L1126.7 1466.8 L1153.5 1471.6 L1158.4 1491.1 L1155.9 1520.4 L1114.5 1537.5 L1080.4 1564.3 L1056.0 1593.5 L1026.8 1622.8 L1017.0 1647.2"/>
<path d="M1155.9 1491.1 L1231.5 1503.3 L1241.3 1491.1 L1290.0 1486.3 L1329.0 1481.4"/>
<path d="M1155.9 1520.4 L1202.3 1525.3 L1236.4 1539.9 L1260.8 1559.4 L1290.0 1569.2 L1287.6 1588.7 L1280.3 1593.5"/>
<path d="M1026.8 1622.8 L1051.1 1620.3 L1080.4 1652.0 L1114.5 1666.7 L1158.4 1700.8 L1177.9 1710.5"/>
<path d="M1017.0 1310.8 L1014.6 1330.3 L1017.0 1349.8"/>
<path d="M548.6 1999.1 L553.5 2047.9 L543.8 2072.3 L553.5 2096.7 L573.0 2101.5 L546.2 2121.0 L565.7 2128.3 L553.5 2145.4 L555.9 2179.5 L529.1 2218.5 L526.7 2242.9 L495.0 2267.3 L495.0 2296.5 L507.2 2311.2 L534.0 2311.2 L538.9 2340.4 L546.2 2350.2 L612.0 2352.6 L636.4 2357.5 L663.2 2364.8"/>
<path d="M658.3 2374.5 L658.3 2445.2"/>
<path d="M1026.4 1623.8 L1016.7 1648.1 L1006.9 1682.3 L1009.3 1716.4 L997.2 1731.0 L1002.0 1755.4"/>
</g>
<path d="M559.7 266.0 L571.9 274.5 L576.8 286.7 L574.3 301.3 L564.6 309.8 L556.0 307.4 L552.4 296.4 L545.1 291.6 L541.4 281.8 L547.5 272.1Z" fill="#fff" stroke="#000" stroke-width="2.5"/>
<path d="M497.4 2004.0 L516.9 1999.1 L514.5 2023.5 L507.2 2052.8 L497.4 2072.3 L492.6 2060.1 L497.4 2023.5Z" fill="#fff" stroke="#000" stroke-width="2"/>
<g fill="none" stroke="#000" stroke-width="1.7" stroke-linejoin="round">
<path d="M432 2210l-4 -8l-2 -11l0 -7l2 1l3 4l1 12z"/>
<path d="M657 2444l-3 3l-6 -3l-3 -3l1 -3l9 2z"/>
<path d="M703 2467l-5 4l-13 3l-12 3l5 -3l4 -4l13 -4z"/>
<path d="M418 2225l6 -7l5 -6l6 -7l3 -1l-7 9l-6 6z"/>
<path d="M454 2253l-3 -1l-5 -5l-3 -6l2 -2l6 5l2 4z"/>
<path d="M464 2099l-1 -2l3 -4l3 0l-2 6z"/>
<path d="M681 2489l-7 4l-18 5l4 -5l12 -3z"/>
<path d="M453 2190l0 -5l5 -7l5 -5l-2 7l-3 7z"/>
<path d="M583 2401l-4 5l-11 3l-6 -4l2 -3l5 -3l7 0z"/>
<path d="M633 2421l-7 1l-10 -3l-6 -3l-2 -2l7 0l14 4z"/>
<path d="M645 2475l-4 3l-8 0l-7 -2l16 -3z"/>
<path d="M685 2481l-6 1l-11 0l-9 -3l-4 -4l13 0l12 3z"/>
<path d="M481 2139l-4 -3l-3 -5l3 -3l3 1l1 5z"/>
<path d="M534 2403l-2 0l-3 -1l-2 -1l0 -2l3 1l3 1z"/>
<path d="M495 2404l-6 -2l-4 -7l6 -3l6 5z"/>
<path d="M439 2105l-1 -8l4 -12l4 -12l-1 12l-2 10z"/>
<path d="M454 2087l-5 -4l-5 -13l1 -7l5 3l5 15z"/>
<path d="M659 2486l0 2l-4 1l-2 -1l-3 -1l4 -2l4 -1z"/>
<path d="M580 2406l-10 4l-5 3l-7 0l-4 -2l9 -5l7 0z"/>
<path d="M697 2484l-3 1l-11 -9l-5 -5l1 -1l6 2l9 8z"/>
<path d="M477 2270l-5 -8l0 -14l3 -4l3 16z"/>
<path d="M480 2109l-7 -1l-3 -12l2 -4l7 10z"/>
<path d="M461 2139l-2 2l3 -13l2 -4l2 0l0 5l-3 8z"/>
<path d="M418 2234l-4 0l-1 -9l4 -6l3 7l2 6z"/>
<path d="M493 2355l-6 2l-1 -6l2 -5l6 3z"/>
<path d="M586 2452l-7 -3l-3 -11l4 -2l5 8z"/>
<path d="M419 2210l3 -6l10 -8l7 -3l-5 7l-8 8z"/>
<path d="M469 2244l-2 0l-2 -6l-1 -6l3 0l3 5l0 4z"/>
<path d="M678 2443l-8 -1l-10 -3l-6 -3l17 3z"/>
<path d="M518 2440l-6 -4l-8 -9l0 -3l3 -1l9 11z"/>
<path d="M468 2097l-6 -2l-2 -17l5 -1l6 14z"/>
<path d="M466 2222l-1 -14l2 -11l6 -4l-1 16z"/>
<path d="M467 2142l-3 -4l0 -12l3 3l3 9z"/>
<path d="M464 2088l-5 2l0 -7l1 -7l4 4l4 1l0 7z"/>
<path d="M659 2437l-2 3l-4 0l-3 -4l7 -2z"/>
<path d="M507 2386l-1 2l-7 0l-4 -4l-1 -4l7 0l8 3z"/>
<path d="M496 2392l-2 3l-4 -3l0 -4l6 1z"/>
<path d="M699 2467l-10 -2l-10 -1l-8 -6l12 1l11 2z"/>
<path d="M584 2460l-3 1l-10 2l-7 -3l4 -1l4 -2l10 1z"/>
<path d="M452 2142l-3 -8l-1 -9l5 3l1 6z"/>
<path d="M478 2129l-3 -4l-2 -6l4 -2l4 8z"/>
<path d="M449 2169l-2 -4l2 -4l3 -2l-1 6z"/>
<path d="M480 2307l-3 -7l4 -5l5 0l-1 7z"/>
<path d="M704 2439l-7 3l-10 2l-2 -1l3 -2l7 -1z"/>
<path d="M476 2328l-1 -7l5 -13l3 -2l-3 16z"/>
<path d="M523 2403l-2 1l-4 -4l-1 -3l-1 -3l4 2l3 5z"/>
<path d="M452 2274l-7 -8l-6 -12l4 -1l7 10z"/>
<path d="M521 2372l-1 -4l-1 -3l0 -4l2 -2l1 6l0 6z"/>
<path d="M429 2227l0 -3l2 -7l5 -3l2 3l-1 4l-5 4z"/>
<path d="M451 2284l-1 1l-3 -11l-1 -6l1 -3l3 7l3 12z"/>
<path d="M585 2455l-5 -3l-5 -2l-3 -7l3 -2l7 2l2 7z"/>
<path d="M451 2335l0 -11l1 -8l2 -5l3 -7l0 11l-2 9z"/>
<path d="M510 2410l-7 1l-7 -3l-7 -4l-1 -4l10 1l6 4z"/>
<path d="M445 2230l-1 -3l5 -9l8 -4l-2 8l-6 9z"/>
<path d="M531 2406l-4 -9l-1 -12l5 3l4 9z"/>
<path d="M455 2260l-4 -1l-2 -9l-1 -7l5 4l3 10z"/>
<path d="M477 2180l1 -5l10 -9l1 3l2 1l-9 7z"/>
<path d="M466 2238l-1 -12l4 -20l4 2l-2 18z"/>
<path d="M448 2159l-2 -2l1 -10l2 3l1 6z"/>
<path d="M472 2285l-5 -2l-5 -10l-3 -6l6 5l3 5z"/>
<path d="M484 2243l-9 -6l-6 -8l1 -7l13 10z"/>
<path d="M571 2400l-2 4l-6 2l-4 -2l1 -3l2 -3l5 1z"/>
<path d="M599 2458l-6 -2l-7 -5l-5 -5l8 3l7 4z"/>
<path d="M559 2395l-11 -7l-10 -8l-1 -3l0 -1l11 9z"/>
<path d="M463 2130l-4 -5l-7 -10l-1 -4l4 4l6 10z"/>
<path d="M499 2391l-13 0l-13 -3l2 -4l14 1z"/>
<path d="M479 2178l-1 -1l-3 -9l-1 -6l3 6l4 9z"/>
<path d="M566 2404l-7 -4l-4 -4l1 -2l7 3z"/>
<path d="M558 2419l-3 3l-5 -4l-1 -4l3 -3l7 4z"/>
<path d="M471 2276l-5 -6l4 -14l5 -2l4 4l-4 10z"/>
<path d="M448 2082l-2 -3l1 -3l3 -2l2 3l-2 4z"/>
<path d="M464 2346l-6 -5l-3 -11l5 0l5 8z"/>
<path d="M605 2425l-4 3l-2 1l-5 1l-1 -4l4 -2l5 -3z"/>
<path d="M598 2434l-9 1l-15 -7l1 -6l15 5z"/>
<path d="M659 2438l-3 4l-18 -3l-10 -5l11 -2l14 3z"/>
<path d="M504 2416l-3 -5l-2 -6l-3 -10l3 1l3 8l3 9z"/>
<path d="M453 2322l-7 -1l-6 -13l2 -4l11 12z"/>
<path d="M449 2174l-2 -3l3 -5l5 -2l1 5l1 4l-5 4z"/>
<path d="M485 2174l-5 -4l-4 -7l-3 -8l4 -3l6 7l3 10z"/>
<path d="M474 2355l-1 -9l3 -10l2 -2l-1 11z"/>
<path d="M642 2443l0 2l-14 1l-7 -1l2 -2l5 -2l10 1z"/>
<path d="M683 2461l-3 7l-9 -1l-3 -4l8 -3z"/>
<path d="M483 2326l-2 -1l-2 -5l3 -1l4 5z"/>
<path d="M557 2384l-6 3l-9 1l1 -4l8 -3z"/>
<path d="M641 2442l-5 0l-6 -6l-4 -6l7 3l5 3z"/>
<path d="M638 2427l-4 -1l-4 -7l4 1l4 3z"/>
<path d="M453 2295l-4 0l-3 -9l0 -5l1 -4l4 6l4 9z"/>
<path d="M621 2455l-4 0l-5 -6l-5 -6l4 0l5 2l4 6z"/>
<path d="M489 2156l-3 -4l0 -6l3 -5l4 1l2 5l-3 5z"/>
<path d="M602 2444l-4 -1l-2 -3l-2 -5l4 1l3 5z"/>
<path d="M464 2328l-1 -6l1 -8l3 -8l2 3l0 7l-2 7z"/>
<path d="M455 2327l-4 -6l0 -11l2 -4l2 2l1 12z"/>
<path d="M602 2468l-1 2l-9 1l-8 0l0 -2l7 -2l10 -1z"/>
<path d="M504 2375l-3 -7l-1 -9l1 -4l1 -5l2 9l0 8z"/>
<path d="M484 2171l-1 -3l0 -3l3 -2l1 6z"/>
<path d="M422 2279l-2 -1l-3 -13l3 -6l3 7l1 10z"/>
<path d="M603 2446l-4 1l-12 -5l-16 -4l5 -1l10 1l15 6z"/>
<path d="M576 2431l-10 0l-16 -6l-7 -8l12 1l14 5z"/>
<path d="M699 2488l-5 -2l-7 -4l-3 -4l1 -2l5 2l7 7z"/>
<path d="M467 2315l-6 -2l-4 -9l3 -6l8 11z"/>
<path d="M605 2429l-4 -1l-7 -5l1 -3l9 5z"/>
<path d="M438 2132l-2 -9l11 -13l1 6l-3 9z"/>
<path d="M521 2369l-6 1l-5 -8l6 -4l4 6z"/>
<path d="M451 2094l4 -12l4 -8l4 -5l0 2l-1 5l-5 10z"/>
<path d="M423 2230l-2 -2l-1 -5l1 -6l2 -1l1 7l1 5z"/>
<path d="M477 2168l8 -9l5 -7l9 -5l-1 5l-2 6l-9 4z"/>
<path d="M564 2408l-3 1l-4 -4l-1 -5l3 -4l5 4l3 7z"/>
<path d="M554 2415l-8 4l-8 2l-12 3l6 -4l4 -3l8 -1z"/>
<path d="M556 2436l-5 5l-16 2l-10 -3l-1 -4l11 -2l12 -1z"/>
<path d="M499 2420l-6 0l-9 -4l-4 -6l16 6z"/>
<path d="M503 2372l-2 1l-5 -2l0 -2l2 -1l6 2z"/>
<path d="M446 2274l-6 -8l-5 -12l-4 -12l7 5l4 14z"/>
<path d="M486 2126l-4 -2l-1 -3l0 -5l5 2l2 4z"/>
<path d="M629 2451l-3 1l-9 -4l-2 -8l2 -3l8 4l9 9z"/>
<path d="M637 2437l-4 2l-13 -7l4 -2l10 4z"/>
<path d="M436 2318l-3 -3l0 -10l2 -8l3 6l0 11z"/>
<path d="M636 2466l-9 3l-9 0l-9 0l-2 -3l10 -3l14 -1z"/>
<path d="M636 2471l-8 5l-17 2l-5 -3l6 -5l16 -3z"/>
<path d="M702 2490l-2 5l-6 -3l-4 -5l9 -1z"/>
<path d="M458 2170l0 -6l3 -7l4 -6l1 2l1 5l-5 7z"/>
<path d="M677 2434l-3 3l-10 -5l3 -3l9 1z"/>
<path d="M719 2472l-11 -2l-17 -6l2 -3l16 5z"/>
<path d="M507 2380l-5 -3l-8 -15l5 4l6 8z"/>
<path d="M512 2415l-8 -2l-8 -3l3 -3l8 3z"/>
<path d="M443 2351l-2 -7l2 -8l3 -1l0 9z"/>
<path d="M604 2441l-14 -5l-10 -4l-4 -4l5 -2l13 7z"/>
<path d="M430 2166l6 -12l10 -4l9 -1l-13 11z"/>
<path d="M498 2425l-5 -11l-1 -14l1 -4l4 16z"/>
<path d="M666 2474l-5 -1l-7 -8l-5 -8l7 4l11 10z"/>
<path d="M436 2188l-2 -4l4 -5l5 -2l1 5l-4 6z"/>
<path d="M455 2149l-1 -4l0 -3l2 -2l3 -2l1 4l-2 4z"/>
<path d="M505 2412l-8 -1l-14 -5l-3 -6l7 -1l13 7z"/>
<path d="M473 2293l-3 -2l-1 -11l3 -8l2 10l3 11z"/>
<path d="M481 2340l-4 2l-4 -6l0 -2l6 3z"/>
<path d="M468 2202l-2 -4l-2 -4l0 -3l2 -1l1 3l1 4z"/>
<path d="M481 2347l-3 -4l-3 -14l4 0l2 14z"/>
<path d="M474 2183l-4 -3l3 -3l4 0l2 6z"/>
<path d="M710 2489l-2 2l-10 -7l-2 -3l3 -2l10 6z"/>
<path d="M467 2224l1 -4l4 -5l2 2l-2 7z"/>
<path d="M468 2206l0 -5l3 -7l4 0l-4 9z"/>
<path d="M487 2191l-6 -6l-1 -10l4 -3l4 10z"/>
<path d="M441 2202l-1 -1l-2 -12l1 -4l0 -6l2 11l1 10z"/>
<path d="M632 2436l-3 -1l-7 -4l1 -1l7 3z"/>
<path d="M464 2304l-5 -2l-3 -3l-4 -5l5 0l7 5z"/>
<path d="M460 2277l1 -5l6 -9l7 -9l1 4l-4 7l-7 10z"/>
<path d="M480 2098l-8 -12l-9 -17l7 5l8 12z"/>
<path d="M605 2439l-5 -1l-7 -4l-8 -9l11 5l10 5z"/>
<path d="M626 2421l-3 3l-3 2l-3 -2l-2 -4l4 -1l4 -2z"/>
<path d="M476 2190l-2 -5l-3 -8l1 -5l1 -1l3 5l0 7z"/>
<path d="M416 2253l-1 -10l5 -14l3 5l-2 11z"/>
<path d="M463 2177l-5 -4l-3 -15l3 1l6 12z"/>
<path d="M493 2310l-4 -2l-5 -8l-5 -9l5 2l5 4l2 6z"/>
<path d="M625 2455l-5 1l-6 -7l4 -5l6 7z"/>
<path d="M445 2358l-4 -2l-5 -9l2 -5l5 2l4 11z"/>
<path d="M531 2408l-5 -3l-7 -11l-1 -6l0 -3l6 8l5 8z"/>
<path d="M463 2331l-4 0l-6 -4l-8 -5l3 -1l7 3l6 3z"/>
<path d="M469 2292l-1 3l-7 -7l-5 -7l2 -3l7 5l7 7z"/>
<path d="M475 2300l-8 -3l-10 -6l0 -6l1 -2l6 2l9 7z"/>
<path d="M602 2414l-12 0l-15 -10l3 -3l13 5z"/>
<path d="M461 2226l5 -14l5 -12l4 1l4 2l-10 14z"/>
<path d="M487 2364l-1 -7l0 -9l1 -10l3 -1l1 10l-2 11z"/>
<path d="M421 2207l-2 -7l-1 -7l1 -4l2 -5l2 8l0 8z"/>
<path d="M572 2393l-13 3l-13 0l-3 -2l16 -2z"/>
<path d="M454 2115l1 -6l7 -7l9 -4l-1 7l-10 7z"/>
<path d="M476 2222l0 -3l2 -5l3 1l-2 5z"/>
<path d="M431 2218l-2 -3l1 -4l2 -2l3 -1l3 4l-3 4z"/>
<path d="M413 2257l1 -10l2 -11l4 -4l1 3l0 5l-3 8z"/>
<path d="M466 2238l5 -11l6 -9l7 -9l-5 11l-6 11z"/>
<path d="M494 2368l-2 0l-2 -2l-2 -4l4 0l2 4z"/>
<path d="M484 2355l-6 -2l-9 -7l-2 -7l3 -4l8 4l7 10z"/>
<path d="M452 2155l-1 -1l1 -5l2 -5l1 5l-1 6z"/>
<path d="M477 2203l0 -5l5 -10l5 -8l-2 8l-4 9z"/>
<path d="M478 2215l-6 -4l-1 -15l6 0l3 12z"/>
<path d="M506 2417l-3 -3l-1 -6l4 -1l4 0l0 8z"/>
<path d="M480 2310l-5 1l-7 -13l4 -2l4 -1l7 11z"/>
<path d="M469 2108l-5 -2l2 -12l2 -9l3 7l1 11z"/>
<path d="M473 2282l-3 -3l3 -7l3 -3l3 3l-3 8z"/>
<path d="M597 2468l-4 1l-5 0l-5 0l0 -2l5 0l3 0z"/>
<path d="M609 2460l-3 3l-9 -4l-5 -3l1 -2l5 -1l6 4z"/>
<path d="M425 2184l-2 -3l-1 -8l0 -11l3 2l1 10l0 9z"/>
<path d="M640 2436l-11 0l-13 -4l-2 -5l4 -3l16 6z"/>
<path d="M504 2355l-7 -11l-6 -15l4 0l6 13z"/>
<path d="M666 2445l-4 0l-5 -1l1 -2l6 0z"/>
<path d="M542 2417l-6 -1l-8 -9l-1 -8l8 5l5 7z"/>
<path d="M547 2395l-8 -3l-8 -3l-6 -7l10 3l7 3z"/>
<path d="M500 2402l-2 3l-8 -1l-4 -5l4 -3l8 2z"/>
<path d="M543 2445l-7 1l-11 -5l-1 -7l15 6z"/>
<path d="M453 2253l-3 -1l0 -4l1 -2l3 1l2 4z"/>
<path d="M428 2196l-2 -5l-2 -5l1 -4l2 0l2 3l0 6z"/>
<path d="M562 2412l-3 4l-7 0l2 -3l3 -2z"/>
<path d="M462 2163l-2 -11l2 -12l3 1l1 12z"/>
<path d="M475 2225l-1 -3l4 -9l2 -1l-2 12z"/>
<path d="M432 2293l-5 -7l-5 -8l-7 -12l5 6l4 3l4 9z"/>
<path d="M466 2213l6 -8l7 -9l7 -1l1 3l-5 5l-8 8z"/>
<path d="M426 2198l5 -8l11 -11l4 -1l-3 6l-10 10z"/>
<path d="M486 2364l-2 -11l-2 -10l2 -1l3 13z"/>
<path d="M544 2399l-7 2l-5 1l-7 -1l0 -4l6 -3l6 3z"/>
<path d="M437 2313l-4 -5l-1 -10l2 -6l3 15z"/>
<path d="M484 2296l-2 -1l-7 -10l-1 -5l-3 -7l8 10l7 13z"/>
<path d="M490 2391l-1 2l-4 -2l-3 -3l4 0l5 0z"/>
<path d="M451 2269l-6 -3l-11 -14l1 -7l7 4l8 12z"/>
<path d="M457 2361l-4 -4l0 -6l0 -3l3 2l3 6z"/>
<path d="M424 2262l0 -7l3 -10l4 -5l-4 16z"/>
<path d="M707 2498l-7 -1l-10 -3l-1 -2l12 3z"/>
<path d="M710 2480l-8 -6l-7 -7l0 -2l3 0l9 9z"/>
<path d="M704 2490l-3 1l-4 -4l-2 -5l3 -2l6 1l1 7z"/>
<path d="M457 2222l-1 -10l1 -9l2 -2l0 10z"/>
<path d="M430 2274l0 -5l7 -10l5 -3l-2 5l-5 9z"/>
<path d="M538 2441l-4 -1l-3 -3l2 -2l4 2z"/>
<path d="M546 2453l-6 -5l-5 -6l-3 -7l6 4l7 9z"/>
<path d="M573 2412l-9 -1l-9 -1l-2 -5l-1 -3l7 0l10 5z"/>
<path d="M458 2160l-4 -2l0 -4l0 -4l4 2l3 3z"/>
<path d="M454 2366l0 -9l-1 -7l2 -6l2 -2l1 8l-1 12z"/>
<path d="M428 2259l-2 -6l4 -11l6 -5l2 6l-6 9z"/>
<path d="M473 2201l1 -8l4 -6l3 -1l-3 8z"/>
<path d="M453 2159l-3 -5l2 -11l3 1l0 9z"/>
<path d="M570 2405l-5 2l-4 -4l-1 -5l6 2z"/>
<path d="M456 2258l-2 -1l-3 -7l1 -4l3 3l4 8z"/>
<path d="M581 2458l-3 3l-18 -8l-6 -5l12 3l14 4z"/>
<path d="M585 2404l-5 0l-7 -6l-1 -4l9 5z"/>
<path d="M468 2113l-4 -1l-1 -5l2 -3l2 -3l3 4l0 5z"/>
<path d="M434 2281l3 -12l6 -12l2 3l-4 12z"/>
<path d="M554 2413l-7 -3l-10 -8l4 0l7 5z"/>
<path d="M542 2382l-4 1l-11 -8l1 -3l14 6z"/>
<path d="M446 2338l-5 1l-6 -6l3 -2l6 3z"/>
<path d="M536 2442l-5 0l-10 -10l2 -4l4 -1l10 10z"/>
<path d="M485 2388l-3 0l-4 -2l-1 -3l3 0l5 2z"/>
<path d="M524 2410l-4 2l-7 2l-4 -2l5 -2l6 -2z"/>
<path d="M460 2271l-6 -6l-6 -11l1 -6l6 6l4 9z"/>
<path d="M572 2425l-7 -1l-9 -2l-8 -6l4 -2l7 0l7 6z"/>
<path d="M422 2197l1 -5l11 -9l6 0l-3 6l-8 6z"/>
<path d="M429 2228l-1 -2l-1 -3l3 -2l3 1l2 3l-3 2z"/>
<path d="M465 2155l-8 -5l-5 -16l6 2l4 8z"/>
<path d="M441 2316l-5 -6l-9 -15l3 0l9 14z"/>
<path d="M434 2277l-2 -1l4 -13l3 -5l-1 6l-2 10z"/>
<path d="M553 2452l-6 -4l-8 -11l-2 -5l5 4l7 8z"/>
<path d="M628 2441l-3 3l-15 2l-8 -2l8 -3l12 -1z"/>
<path d="M476 2369l-3 -4l0 -6l3 1l2 4z"/>
<path d="M512 2362l-5 -2l-6 -2l-3 -6l4 0l4 1l7 6z"/>
<path d="M453 2362l-1 -5l-1 -8l2 -5l2 0l1 5l0 10z"/>
<path d="M453 2322l-4 -2l-2 -5l0 -5l3 2l3 5z"/>
<path d="M452 2312l-5 1l-5 -9l0 -6l4 0l5 1l2 8z"/>
<path d="M439 2177l-1 -4l5 -6l5 2l-5 7z"/>
<path d="M499 2384l-5 0l-6 -3l0 -5l8 4z"/>
<path d="M606 2434l-7 -3l-1 -5l1 -5l5 6z"/>
<path d="M577 2421l1 4l-13 -1l-14 0l5 -4l7 -3l11 2z"/>
<path d="M477 2117l-2 -2l3 -5l2 1l-1 5z"/>
<path d="M527 2400l-4 1l-3 -4l2 -5l5 3z"/>
<path d="M477 2307l-7 -6l-3 -9l0 -3l6 8z"/>
<path d="M431 2217l0 -9l2 -17l4 2l-2 16z"/>
<path d="M451 2282l-4 -4l3 -5l4 -3l2 5l1 5z"/>
<path d="M490 2164l-3 -3l-1 -11l0 -5l2 4l3 11z"/>
<path d="M463 2297l-3 -4l-2 -10l1 -8l4 6l3 14z"/>
<path d="M479 2365l-6 2l-9 -6l4 -4l8 3z"/>
<path d="M458 2336l-5 1l-13 -7l2 -4l4 0l11 5z"/>
<path d="M476 2341l-2 0l-1 -5l2 -2l2 -1l3 3l-1 5z"/>
<path d="M476 2342l-5 -6l-8 -11l-1 -10l7 6l6 14z"/>
<path d="M526 2383l-9 1l-13 -4l6 -1l7 1z"/>
<path d="M452 2091l0 -5l6 -7l3 4l-4 8z"/>
<path d="M490 2408l-7 -1l-9 -7l-9 -10l11 4l9 8z"/>
<path d="M465 2198l-2 -4l0 -6l3 -1l1 7z"/>
<path d="M620 2423l-4 3l-5 -4l0 -5l4 0l6 1z"/>
<path d="M591 2453l-6 2l-12 -7l2 -4l11 5z"/>
<path d="M465 2139l-3 -5l4 -5l3 -1l4 2l-3 7z"/>
<path d="M489 2386l-8 -4l-8 -5l-6 -6l6 1l13 9z"/>
<path d="M678 2453l-11 -3l-16 -7l8 1l11 4z"/>
<path d="M474 2337l-3 -6l5 -16l4 1l-2 14z"/>
<path d="M712 2480l-6 0l-18 -4l-8 -5l8 0l16 5z"/>
<path d="M498 2425l-3 -2l-8 -5l-1 -6l3 0l5 2l6 9z"/>
<path d="M458 2297l-3 -4l0 -3l1 -5l3 3l1 2l1 4z"/>
<path d="M535 2435l-7 -2l-6 -6l1 -4l10 6z"/>
<path d="M615 2437l-9 2l-16 -4l6 -2l10 0z"/>
<path d="M609 2467l1 2l-7 1l-6 2l1 -3l3 -2l6 -1z"/>
<path d="M702 2504l-2 -1l-6 -5l0 -4l0 -2l5 2l5 9z"/>
<path d="M480 2209l-4 -1l-2 -6l3 -6l4 3l2 3l0 5z"/>
<path d="M486 2315l-4 0l1 -5l2 -2l3 1l1 4z"/>
<path d="M688 2464l-1 2l-6 3l-5 -1l2 -2l2 -2l5 -1z"/>
<path d="M440 2241l-2 -3l-2 -6l2 -4l2 -3l1 8l0 3z"/>
<path d="M457 2284l0 -9l0 -10l3 -12l2 4l1 9l-2 11z"/>
<path d="M494 2385l-3 -12l-2 -13l3 -8l4 9l2 15z"/>
<path d="M530 2422l-3 2l-6 -7l-1 -5l0 -4l5 6l7 6z"/>
<path d="M506 2358l-3 1l-8 -5l4 -2l6 3z"/>
<path d="M672 2473l-4 -3l-5 -8l3 0l5 7z"/>
<path d="M422 2211l-1 -11l-1 -12l4 0l1 14z"/>
<path d="M444 2302l-4 -4l4 -8l6 1l-1 9z"/>
<path d="M480 2400l-4 -3l-1 -3l-1 -3l1 -2l4 1l1 6z"/>
<path d="M452 2145l-3 -4l-3 -6l1 -5l2 1l2 3l1 5z"/>
<path d="M440 2211l-3 -3l1 -5l5 -3l3 4l2 4l-4 3z"/>
<path d="M535 2408l-7 -5l-5 -4l-7 -7l6 2l5 0l7 8z"/>
<path d="M458 2251l2 -11l5 -11l2 6l-1 9z"/>
<path d="M452 2137l-4 -6l0 -4l3 -2l3 6z"/>
<path d="M473 2353l-1 -11l4 -11l4 -4l-2 16z"/>
<path d="M476 2329l-2 -7l0 -13l4 -6l2 0l2 7l-3 9z"/>
<path d="M555 2404l-3 -2l-4 -5l-1 -4l2 0l4 1l2 7z"/>
<path d="M449 2185l0 -3l3 -7l4 -6l-1 7l-3 5z"/>
<path d="M677 2441l-4 5l-17 5l-2 -3l-1 -5l17 -4z"/>
<path d="M446 2350l-4 -2l-5 -9l-4 -8l7 9l4 5z"/>
<path d="M513 2397l-5 0l-6 -7l-4 -10l3 -3l7 8l7 9z"/>
<path d="M532 2395l-5 -8l-5 -11l1 -2l3 2l4 10z"/>
<path d="M487 2421l-7 -7l-4 -19l3 -4l5 3l5 17z"/>
<path d="M441 2235l-3 -2l-2 -7l0 -3l1 -4l4 4l1 8z"/>
<path d="M437 2318l-4 2l-4 -2l-1 -4l3 -1l4 -2l1 4z"/>
<path d="M415 2300l1 -7l4 -6l6 -4l0 7l-5 7z"/>
<path d="M467 2316l-4 -1l-4 -12l-1 -6l2 -1l5 4l3 12z"/>
<path d="M451 2125l-4 -2l5 -7l5 -2l1 2l-1 4l-3 6z"/>
</g>
<g fill="#fff" stroke="#000" stroke-width="1.7"><path d="M462 2143l-1 -4l7 -7l5 -1l-7 12z"/><path d="M504 2420l-7 -12l-7 -20l3 0l9 18z"/><path d="M560 2459l-7 -2l-3 -7l1 -6l6 1l2 7z"/><path d="M498 2401l-3 0l-3 -4l-2 -5l3 1l3 0l3 4z"/><path d="M471 2305l-2 -3l-2 -6l2 1l2 4z"/><path d="M447 2303l-2 3l-10 -7l-5 -6l3 -2l6 3l8 6z"/><path d="M461 2197l0 -7l11 -9l4 4l-8 11z"/><path d="M506 2352l-8 -5l-9 -10l3 0l9 7z"/><path d="M687 2481l-10 -6l-8 -7l-7 -8l3 -1l7 3l12 12z"/><path d="M553 2422l-5 -4l-2 -7l3 -2l3 6z"/><path d="M547 2423l-6 0l-6 -7l2 -3l4 -2l4 6z"/><path d="M450 2203l1 -5l11 -8l4 1l-11 12z"/><path d="M453 2233l-4 0l-5 -2l-1 -5l3 -1l4 1l4 4z"/><path d="M523 2432l-5 -6l-7 -8l-3 -9l7 6l8 12z"/><path d="M519 2409l-3 -1l-4 -2l-3 -6l4 -1l4 3l2 4z"/><path d="M539 2409l1 4l-13 -2l-10 -3l6 -3l5 -1l11 1z"/><path d="M688 2448l-8 -5l-9 -10l-7 -8l5 2l5 3l8 10z"/><path d="M422 2281l-2 -3l0 -5l3 -2l2 2l-1 5z"/><path d="M580 2445l-1 5l-12 0l-6 -3l8 -3l8 -2z"/><path d="M464 2094l-2 -2l2 -4l3 -2l4 -1l-2 6l-2 3z"/><path d="M675 2488l-7 0l-10 -4l1 -3l0 -3l11 5z"/><path d="M429 2216l-3 -3l-3 -8l-2 -8l2 0l4 7l1 7z"/><path d="M459 2283l-3 -3l2 -5l2 0l1 5z"/><path d="M479 2100l-4 1l0 -6l4 -3l2 5z"/><path d="M525 2393l-3 -6l-2 -8l-1 -5l0 -4l3 8l2 8z"/><path d="M665 2430l-2 3l-12 -5l-7 -6l8 -1l10 6z"/><path d="M652 2442l-4 -2l-7 -11l-7 -11l4 2l6 5l7 12z"/><path d="M462 2168l-1 -4l6 -11l3 0l2 2l-7 11z"/><path d="M517 2437l-5 -2l-3 -7l4 -4l5 8z"/><path d="M712 2456l-6 0l-4 -3l2 -5l6 2z"/><path d="M492 2392l-4 1l-6 -2l0 -4l8 0z"/><path d="M536 2398l-7 -6l-5 -9l1 -4l8 11z"/><path d="M462 2329l-1 2l-7 -6l-3 -6l3 1l4 1l4 5z"/><path d="M618 2433l-1 5l-9 0l-1 -6l8 -2z"/><path d="M689 2496l-1 3l-11 -2l-9 -5l5 -1l6 -2l12 4z"/></g>
<g fill="none" stroke="#000" stroke-width="1.7" stroke-linejoin="round">
<path d="M933 2331l1 2l-12 5l-4 -1l-8 0l10 -5l10 -3z"/>
<path d="M985 2351l1 4l-15 4l-8 -3l0 -3l9 -3l8 0z"/>
<path d="M979 2331l-6 6l-6 4l-5 -2l1 -5l9 -3z"/>
<path d="M963 2334l-2 1l-12 2l-5 -1l6 -2l10 -2z"/>
<path d="M932 2345l-5 1l-6 0l2 -2l5 -1z"/>
<path d="M966 2332l-10 4l-10 4l-9 1l10 -4l10 -4z"/>
<path d="M1008 2336l-1 3l-6 0l-4 -3l2 -2l3 -1l6 0z"/>
<path d="M963 2337l-1 2l-4 0l-2 -1l-3 -3l5 -1l4 1z"/>
<path d="M1006 2344l-5 0l-12 -4l-7 -4l-1 -2l9 1l15 6z"/>
<path d="M934 2343l-6 5l-12 7l-6 1l4 -5l12 -6z"/>
<path d="M920 2337l0 5l-5 8l-3 -1l1 -4l2 -5z"/>
<path d="M986 2323l-7 8l-7 6l-9 8l5 -8l10 -8z"/>
<path d="M1017 2335l-3 3l-6 3l-10 5l2 -4l6 -4l9 -5z"/>
<path d="M946 2341l-7 8l-8 5l-4 -2l9 -7z"/>
<path d="M1009 2337l-1 3l-5 0l-3 -2l2 -3l5 -1z"/>
<path d="M1010 2335l-3 7l-8 0l0 -4l4 -5z"/>
<path d="M1018 2333l-3 3l-8 3l-9 1l4 -4l5 -2l8 -3z"/>
<path d="M951 2343l-6 1l-4 -6l1 -4l8 3z"/>
<path d="M943 2338l-5 4l-9 -1l-1 -3l8 -1z"/>
<path d="M962 2360l-15 -1l-20 -8l3 -4l21 5z"/>
<path d="M980 2355l1 2l-3 5l-3 0l-1 -1l0 -3l4 -4z"/>
<path d="M952 2333l-3 3l-7 3l-4 -1l-4 -2l6 -4l7 0z"/>
<path d="M954 2351l-1 1l-8 -9l-2 -7l2 -1l5 5l4 7z"/>
<path d="M1009 2352l0 3l-3 2l-2 -1l-1 -2l0 -3l3 -1z"/>
<path d="M926 2340l-2 3l-3 3l-2 -2l-1 -3l4 -1z"/>
<path d="M1019 2354l-9 -5l-5 -7l1 -5l10 8z"/>
<path d="M1020 2339l-4 1l-11 -10l5 1l7 4z"/>
<path d="M973 2342l-6 2l-10 -1l-6 -2l6 -1l9 0z"/>
<path d="M914 2340l-4 1l-10 -1l2 -2l9 0z"/>
<path d="M919 2349l-5 1l-9 -2l-2 -3l3 -3l8 4z"/>
<path d="M1005 2340l-7 4l-11 2l-9 1l3 -2l5 -3l11 -2z"/>
<path d="M925 2338l-3 6l-12 3l1 -6l8 -4z"/>
<path d="M970 2345l0 3l-8 0l-8 2l1 -4l6 -3l7 -1z"/>
<path d="M990 2347l-2 3l-9 2l-8 -1l-2 -3l7 -5l11 2z"/>
<path d="M1011 2331l-4 4l-12 1l-3 -4l3 -3l10 0z"/>
<path d="M926 2345l2 3l-6 9l-3 -2l-2 -3l5 -6z"/>
<path d="M934 2335l-8 3l-12 4l-5 0l-9 0l14 -4l15 -4z"/>
<path d="M977 2349l0 4l-1 7l-5 -1l-3 -4l5 -6z"/>
<path d="M1019 2341l-3 1l-10 -5l-11 -5l11 2l9 4z"/>
</g>
<g fill="#fff" stroke="#000" stroke-width="1.7"><path d="M973 2333l-3 4l-9 4l-8 1l-6 -1l11 -6l9 -2z"/><path d="M945 2343l-10 5l-8 4l-9 1l-3 -2l11 -4l9 -4z"/><path d="M1001 2353l-5 3l-12 0l-4 -3l4 -2l8 1z"/></g>
<path d="M905.7 2343.1 L922.8 2331.0 L939.8 2328.5 L966.6 2331.0 L971.5 2335.8 L956.9 2348.0 L939.8 2357.8 L927.6 2362.6 L915.4 2357.8Z" fill="#90c4dd" stroke="#000" stroke-width="2"/>
<path d="M974.0 2335.8 L981.3 2329.7 L1000.8 2331.0 L1019.0 2334.6 L1021.5 2343.1 L1005.6 2348.0 L991.0 2351.7 L976.4 2357.8 L964.2 2366.3 L954.5 2365.1 L956.9 2355.3 L969.1 2343.1Z" fill="#90c4dd" stroke="#000" stroke-width="2"/>
<path d="M887 252L916 250L916 277L890 277L884 268Z" fill="#d25849"/>
<rect x="916" y="234" width="13" height="8" fill="#df765e"/>
<rect x="607" y="190" width="8" height="8" fill="#900d26"/>
<rect x="638" y="200" width="11" height="10" fill="#900d26"/>
<rect x="661" y="201" width="9" height="9" fill="#900d26"/>
<path d="M798 246L806 240L816 238L820 246L812 255L800 254Z" fill="#c13639" stroke="#000" stroke-width="1.8"/>
<ellipse cx="768" cy="247" rx="5" ry="3" fill="#ba2832" stroke="#000" stroke-width="1.5"/>
<circle cx="690" cy="211" r="2" fill="#000"/>
<circle cx="716" cy="214" r="2" fill="#000"/>
<circle cx="720" cy="216" r="2" fill="#000"/>
<circle cx="741" cy="216" r="2" fill="#000"/>
<circle cx="792" cy="215" r="2" fill="#000"/>
<path d="M909 300l5 4l-3 5l6 3l-4 5l6 4l-2 -8l5 -3l-4 -6l3 -4l-6 2l2 9l4 6l-8 4l3 -12" fill="none" stroke="#000" stroke-width="2.5"/>
<path d="M1351 633l6 -3l5 4l6 -3l6 4l5 -2l6 5l6 -2l5 5l6 -1l5 5l6 0l4 5l6 1l4 5l5 2l3 6l5 3l2 6" fill="none" stroke="#000" stroke-width="5" stroke-linejoin="round"/>
<path d="M1208.6 1683.5 L1213.5 1668.9 L1228.1 1656.7 L1242.8 1644.5 L1252.5 1632.3 L1259.8 1634.8 L1255.0 1644.5 L1240.3 1656.7 L1233.0 1664.0 L1218.4 1676.2 L1211.1 1685.9Z" fill="#fff" stroke="#000" stroke-width="1.8"/>
<path d="M1179.4 1712.8 L1189.1 1698.1 L1194.0 1690.8 L1192.8 1700.6 L1186.7 1712.8Z" fill="#fff" stroke="#000" stroke-width="1.8"/>
<ellipse cx="1551" cy="2407.5" rx="4.5" ry="2.2" fill="none" stroke="#000" stroke-width="1.8" transform="rotate(15 1551 2407.5)"/>
</g>
<g clip-path="url(#axclip)">
<g font-weight="bold" font-size="44.3" fill="#fff" stroke="#000" stroke-width="8.3" stroke-linejoin="round" paint-order="stroke" style="paint-order:stroke">
<text x="697.8" y="269.7" textLength="50.4" lengthAdjust="spacingAndGlyphs">30</text>
<text x="993.3" y="397.2" textLength="50.4" lengthAdjust="spacingAndGlyphs">32</text>
<text x="1095.3" y="427.2" textLength="50.4" lengthAdjust="spacingAndGlyphs">32</text>
<text x="1182.8" y="458.4" textLength="50.4" lengthAdjust="spacingAndGlyphs">31</text>
<text x="457.6" y="469.3" textLength="50.4" lengthAdjust="spacingAndGlyphs">17</text>
<text x="907.8" y="528.7" textLength="50.4" lengthAdjust="spacingAndGlyphs">33</text>
<text x="310.8" y="633.7" textLength="50.4" lengthAdjust="spacingAndGlyphs">21</text>
<text x="1230.8" y="622.7" textLength="50.4" lengthAdjust="spacingAndGlyphs">33</text>
<text x="1314.8" y="672.7" textLength="50.4" lengthAdjust="spacingAndGlyphs">34</text>
<text x="1456.3" y="707.7" textLength="50.4" lengthAdjust="spacingAndGlyphs">32</text>
<text x="929.8" y="726.7" textLength="50.4" lengthAdjust="spacingAndGlyphs">31</text>
<text x="1648.3" y="749.7" textLength="50.4" lengthAdjust="spacingAndGlyphs">31</text>
<text x="1506.8" y="792.7" textLength="50.4" lengthAdjust="spacingAndGlyphs">35</text>
<text x="1760.8" y="815.7" textLength="50.4" lengthAdjust="spacingAndGlyphs">28</text>
<text x="1772.8" y="861.2" textLength="50.4" lengthAdjust="spacingAndGlyphs">29</text>
<text x="1772.8" y="892.7" textLength="50.4" lengthAdjust="spacingAndGlyphs">29</text>
<text x="799.8" y="915.7" textLength="50.4" lengthAdjust="spacingAndGlyphs">29</text>
<text x="669.4" y="957.4" textLength="50.4" lengthAdjust="spacingAndGlyphs">28</text>
<text x="1742.8" y="945.7" textLength="50.4" lengthAdjust="spacingAndGlyphs">27</text>
<text x="1319.8" y="965.7" textLength="50.4" lengthAdjust="spacingAndGlyphs">36</text>
<text x="1698.8" y="987.4" textLength="50.4" lengthAdjust="spacingAndGlyphs">29</text>
<text x="360.8" y="1023.4" textLength="50.4" lengthAdjust="spacingAndGlyphs">18</text>
<text x="1649.5" y="1056.7" textLength="50.4" lengthAdjust="spacingAndGlyphs">27</text>
<text x="1061.8" y="1144.7" textLength="50.4" lengthAdjust="spacingAndGlyphs">25</text>
<text x="1334.8" y="1150.7" textLength="50.4" lengthAdjust="spacingAndGlyphs">27</text>
<text x="1290.8" y="1180.7" textLength="50.4" lengthAdjust="spacingAndGlyphs">29</text>
<text x="654.8" y="1174.7" textLength="50.4" lengthAdjust="spacingAndGlyphs">13</text>
<text x="1468.3" y="1289.7" textLength="50.4" lengthAdjust="spacingAndGlyphs">27</text>
<text x="1588.3" y="1302.7" textLength="50.4" lengthAdjust="spacingAndGlyphs">29</text>
<text x="1109.8" y="1307.7" textLength="50.4" lengthAdjust="spacingAndGlyphs">26</text>
<text x="1492.3" y="1386.7" textLength="50.4" lengthAdjust="spacingAndGlyphs">32</text>
<text x="1378.3" y="1410.7" textLength="50.4" lengthAdjust="spacingAndGlyphs">17</text>
<text x="1012.5" y="1469.7" textLength="50.4" lengthAdjust="spacingAndGlyphs">22</text>
<text x="1289.6" y="1473.2" textLength="50.4" lengthAdjust="spacingAndGlyphs">15</text>
<text x="1314.8" y="1547.7" textLength="50.4" lengthAdjust="spacingAndGlyphs">20</text>
<text x="1223.8" y="1626.7" textLength="50.4" lengthAdjust="spacingAndGlyphs">19</text>
<text x="574.8" y="1740.7" textLength="50.4" lengthAdjust="spacingAndGlyphs">17</text>
<text x="983.8" y="1786.3" textLength="50.4" lengthAdjust="spacingAndGlyphs">16</text>
<text x="1057.8" y="1787.7" textLength="50.4" lengthAdjust="spacingAndGlyphs">15</text>
</g>
<g transform="translate(1620,2270) scale(0.12188)">
<path d="M165.0 640.0C166.7 660.0 166.7 716.7 175.0 760.0C183.3 803.3 195.8 853.3 215.0 900.0C234.2 946.7 259.2 998.3 290.0 1040.0C320.8 1081.7 358.3 1118.3 400.0 1150.0C441.7 1181.7 481.7 1209.2 540.0 1230.0C598.3 1250.8 683.3 1269.7 750.0 1275.0C816.7 1280.3 881.7 1276.2 940.0 1262.0C998.3 1247.8 1051.7 1220.3 1100.0 1190.0C1148.3 1159.7 1190.0 1125.0 1230.0 1080.0C1270.0 1035.0 1310.0 973.3 1340.0 920.0C1370.0 866.7 1392.5 810.0 1410.0 760.0C1427.5 710.0 1437.5 664.2 1445.0 620.0C1452.5 575.8 1453.3 515.8 1455.0 495.0L1525 495L1325 295L1115 495L1185 495C1182.5 515.8 1180.8 572.5 1170.0 620.0C1159.2 667.5 1141.7 731.7 1120.0 780.0C1098.3 828.3 1070.0 873.3 1040.0 910.0C1010.0 946.7 976.7 974.2 940.0 1000.0C903.3 1025.8 860.0 1049.2 820.0 1065.0C780.0 1080.8 743.3 1090.5 700.0 1095.0C656.7 1099.5 605.0 1100.3 560.0 1092.0C515.0 1083.7 471.7 1068.7 430.0 1045.0C388.3 1021.3 343.3 985.8 310.0 950.0C276.7 914.2 250.8 868.3 230.0 830.0C209.2 791.7 195.8 751.7 185.0 720.0C174.2 688.3 168.3 653.3 165.0 640.0Z" fill="#0071bc"/>
<path d="M178.0 700.0C176.3 683.3 166.0 636.7 168.0 600.0C170.0 563.3 174.7 521.7 190.0 480.0C205.3 438.3 228.3 389.2 260.0 350.0C291.7 310.8 333.3 271.3 380.0 245.0C426.7 218.7 486.7 199.8 540.0 192.0C593.3 184.2 653.3 188.3 700.0 198.0C746.7 207.7 786.7 226.3 820.0 250.0C853.3 273.7 879.2 306.7 900.0 340.0C920.8 373.3 934.7 410.0 945.0 450.0C955.3 490.0 959.2 558.3 962.0 580.0L1020 580L812 772L640 580L707 580C705.8 570.0 707.0 540.0 700.0 520.0C693.0 500.0 681.7 477.0 665.0 460.0C648.3 443.0 624.2 428.0 600.0 418.0C575.8 408.0 548.3 399.7 520.0 400.0C491.7 400.3 460.8 406.7 430.0 420.0C399.2 433.3 363.3 454.2 335.0 480.0C306.7 505.8 280.5 540.0 260.0 575.0C239.5 610.0 223.3 652.5 212.0 690.0C200.7 727.5 195.3 781.7 192.0 800.0" fill="#fff" stroke="#0071bc" stroke-width="14" stroke-linejoin="miter"/>
<circle cx="812" cy="925" r="140" fill="#f39200"/>
<text x="250" y="825" font-size="205" font-weight="bold" font-style="italic" fill="#111" textLength="420" lengthAdjust="spacingAndGlyphs">INPE</text>
</g>
</g>
<rect x="177.5" y="177.5" width="1674.0" height="2309.8" fill="none" stroke="#000" stroke-width="3.3"/>
<text x="537.5" y="81" font-size="64" textLength="932.5" lengthAdjust="spacingAndGlyphs">SAMeT - Temperatura Máxima</text>
<text x="662.6" y="153" font-size="64" textLength="722.4" lengthAdjust="spacingAndGlyphs">Válida para 10/08/2005</text>
<text x="275.6" y="2546.6" font-size="51" text-anchor="middle" textLength="133" lengthAdjust="spacingAndGlyphs">80°W</text>
<text x="609.9" y="2546.6" font-size="51" text-anchor="middle" textLength="133" lengthAdjust="spacingAndGlyphs">70°W</text>
<text x="944.2" y="2546.6" font-size="51" text-anchor="middle" textLength="133" lengthAdjust="spacingAndGlyphs">60°W</text>
<text x="1278.5" y="2546.6" font-size="51" text-anchor="middle" textLength="133" lengthAdjust="spacingAndGlyphs">50°W</text>
<text x="1612.8" y="2546.6" font-size="51" text-anchor="middle" textLength="133" lengthAdjust="spacingAndGlyphs">40°W</text>
<text x="153.5" y="294.2" font-size="51" text-anchor="end" textLength="123" lengthAdjust="spacingAndGlyphs">10°N</text>
<text x="153.5" y="628.5" font-size="51" text-anchor="end" textLength="54" lengthAdjust="spacingAndGlyphs">0°</text>
<text x="153.5" y="962.8" font-size="51" text-anchor="end" textLength="123" lengthAdjust="spacingAndGlyphs">10°S</text>
<text x="153.5" y="1297.1" font-size="51" text-anchor="end" textLength="123" lengthAdjust="spacingAndGlyphs">20°S</text>
<text x="153.5" y="1631.4" font-size="51" text-anchor="end" textLength="123" lengthAdjust="spacingAndGlyphs">30°S</text>
<text x="153.5" y="1965.7" font-size="51" text-anchor="end" textLength="123" lengthAdjust="spacingAndGlyphs">40°S</text>
<text x="153.5" y="2300.0" font-size="51" text-anchor="end" textLength="123" lengthAdjust="spacingAndGlyphs">50°S</text>
<rect x="1893.6" y="2358.21" width="51.0" height="24.19" fill="#073467"/>
<rect x="1893.6" y="2334.62" width="51.0" height="24.19" fill="#0a3b70"/>
<rect x="1893.6" y="2311.03" width="51.0" height="24.19" fill="#0e4179"/>
<rect x="1893.6" y="2287.44" width="51.0" height="24.19" fill="#114781"/>
<rect x="1893.6" y="2263.84" width="51.0" height="24.19" fill="#144e8a"/>
<rect x="1893.6" y="2240.25" width="51.0" height="24.19" fill="#185493"/>
<rect x="1893.6" y="2216.66" width="51.0" height="24.19" fill="#1a5899"/>
<rect x="1893.6" y="2193.07" width="51.0" height="24.19" fill="#1d5fa2"/>
<rect x="1893.6" y="2169.48" width="51.0" height="24.19" fill="#2065ab"/>
<rect x="1893.6" y="2145.89" width="51.0" height="24.19" fill="#246aae"/>
<rect x="1893.6" y="2122.30" width="51.0" height="24.19" fill="#2870b1"/>
<rect x="1893.6" y="2098.71" width="51.0" height="24.19" fill="#2c75b4"/>
<rect x="1893.6" y="2075.12" width="51.0" height="24.19" fill="#2f79b5"/>
<rect x="1893.6" y="2051.53" width="51.0" height="24.19" fill="#337eb8"/>
<rect x="1893.6" y="2027.93" width="51.0" height="24.19" fill="#3783bb"/>
<rect x="1893.6" y="2004.34" width="51.0" height="24.19" fill="#3b88be"/>
<rect x="1893.6" y="1980.75" width="51.0" height="24.19" fill="#3f8ec0"/>
<rect x="1893.6" y="1957.16" width="51.0" height="24.19" fill="#4393c3"/>
<rect x="1893.6" y="1933.57" width="51.0" height="24.19" fill="#4c99c6"/>
<rect x="1893.6" y="1909.98" width="51.0" height="24.19" fill="#529dc8"/>
<rect x="1893.6" y="1886.39" width="51.0" height="24.19" fill="#5ca3cb"/>
<rect x="1893.6" y="1862.80" width="51.0" height="24.19" fill="#65a9cf"/>
<rect x="1893.6" y="1839.21" width="51.0" height="24.19" fill="#6eaed2"/>
<rect x="1893.6" y="1815.62" width="51.0" height="24.19" fill="#78b4d5"/>
<rect x="1893.6" y="1792.02" width="51.0" height="24.19" fill="#81bad8"/>
<rect x="1893.6" y="1768.43" width="51.0" height="24.19" fill="#87beda"/>
<rect x="1893.6" y="1744.84" width="51.0" height="24.19" fill="#90c4dd"/>
<rect x="1893.6" y="1721.25" width="51.0" height="24.19" fill="#98c8e0"/>
<rect x="1893.6" y="1697.66" width="51.0" height="24.19" fill="#a0cce2"/>
<rect x="1893.6" y="1674.07" width="51.0" height="24.19" fill="#a7d0e4"/>
<rect x="1893.6" y="1650.48" width="51.0" height="24.19" fill="#aed3e6"/>
<rect x="1893.6" y="1626.89" width="51.0" height="24.19" fill="#b6d7e8"/>
<rect x="1893.6" y="1603.30" width="51.0" height="24.19" fill="#bbdaea"/>
<rect x="1893.6" y="1579.71" width="51.0" height="24.19" fill="#c2ddec"/>
<rect x="1893.6" y="1556.11" width="51.0" height="24.19" fill="#cae1ee"/>
<rect x="1893.6" y="1532.52" width="51.0" height="24.19" fill="#d1e5f0"/>
<rect x="1893.6" y="1508.93" width="51.0" height="24.19" fill="#d5e7f1"/>
<rect x="1893.6" y="1485.34" width="51.0" height="24.19" fill="#dae9f2"/>
<rect x="1893.6" y="1461.75" width="51.0" height="24.19" fill="#ddebf2"/>
<rect x="1893.6" y="1438.16" width="51.0" height="24.19" fill="#e1edf3"/>
<rect x="1893.6" y="1414.57" width="51.0" height="24.19" fill="#e6eff4"/>
<rect x="1893.6" y="1390.98" width="51.0" height="24.19" fill="#eaf1f5"/>
<rect x="1893.6" y="1367.39" width="51.0" height="24.19" fill="#eff3f5"/>
<rect x="1893.6" y="1343.80" width="51.0" height="24.19" fill="#f3f5f6"/>
<rect x="1893.6" y="1320.20" width="51.0" height="24.19" fill="#f7f6f6"/>
<rect x="1893.6" y="1296.61" width="51.0" height="24.19" fill="#f8f4f2"/>
<rect x="1893.6" y="1273.02" width="51.0" height="24.19" fill="#f8f1ed"/>
<rect x="1893.6" y="1249.43" width="51.0" height="24.19" fill="#f9eee7"/>
<rect x="1893.6" y="1225.84" width="51.0" height="24.19" fill="#faeae1"/>
<rect x="1893.6" y="1202.25" width="51.0" height="24.19" fill="#fae7dc"/>
<rect x="1893.6" y="1178.66" width="51.0" height="24.19" fill="#fbe4d6"/>
<rect x="1893.6" y="1155.07" width="51.0" height="24.19" fill="#fce2d2"/>
<rect x="1893.6" y="1131.48" width="51.0" height="24.19" fill="#fcdecd"/>
<rect x="1893.6" y="1107.89" width="51.0" height="24.19" fill="#fddbc7"/>
<rect x="1893.6" y="1084.29" width="51.0" height="24.19" fill="#fcd5bf"/>
<rect x="1893.6" y="1060.70" width="51.0" height="24.19" fill="#fbceb7"/>
<rect x="1893.6" y="1037.11" width="51.0" height="24.19" fill="#fac8af"/>
<rect x="1893.6" y="1013.52" width="51.0" height="24.19" fill="#f9c4a9"/>
<rect x="1893.6" y="989.93" width="51.0" height="24.19" fill="#f8bda1"/>
<rect x="1893.6" y="966.34" width="51.0" height="24.19" fill="#f7b799"/>
<rect x="1893.6" y="942.75" width="51.0" height="24.19" fill="#f6b191"/>
<rect x="1893.6" y="919.16" width="51.0" height="24.19" fill="#f5aa89"/>
<rect x="1893.6" y="895.57" width="51.0" height="24.19" fill="#f3a481"/>
<rect x="1893.6" y="871.98" width="51.0" height="24.19" fill="#f09c7b"/>
<rect x="1893.6" y="848.38" width="51.0" height="24.19" fill="#ee9677"/>
<rect x="1893.6" y="824.79" width="51.0" height="24.19" fill="#ea8e70"/>
<rect x="1893.6" y="801.20" width="51.0" height="24.19" fill="#e6866a"/>
<rect x="1893.6" y="777.61" width="51.0" height="24.19" fill="#e37e64"/>
<rect x="1893.6" y="754.02" width="51.0" height="24.19" fill="#df765e"/>
<rect x="1893.6" y="730.43" width="51.0" height="24.19" fill="#dc6e57"/>
<rect x="1893.6" y="706.84" width="51.0" height="24.19" fill="#da6853"/>
<rect x="1893.6" y="683.25" width="51.0" height="24.19" fill="#d6604d"/>
<rect x="1893.6" y="659.66" width="51.0" height="24.19" fill="#d25849"/>
<rect x="1893.6" y="636.07" width="51.0" height="24.19" fill="#ce4f45"/>
<rect x="1893.6" y="612.47" width="51.0" height="24.19" fill="#c94741"/>
<rect x="1893.6" y="588.88" width="51.0" height="24.19" fill="#c53e3d"/>
<rect x="1893.6" y="565.29" width="51.0" height="24.19" fill="#c13639"/>
<rect x="1893.6" y="541.70" width="51.0" height="24.19" fill="#be3036"/>
<rect x="1893.6" y="518.11" width="51.0" height="24.19" fill="#ba2832"/>
<rect x="1893.6" y="494.52" width="51.0" height="24.19" fill="#b61f2e"/>
<rect x="1893.6" y="470.93" width="51.0" height="24.19" fill="#b1182b"/>
<rect x="1893.6" y="447.34" width="51.0" height="24.19" fill="#a81529"/>
<rect x="1893.6" y="423.75" width="51.0" height="24.19" fill="#9f1228"/>
<rect x="1893.6" y="400.16" width="51.0" height="24.19" fill="#991027"/>
<rect x="1893.6" y="376.56" width="51.0" height="24.19" fill="#900d26"/>
<rect x="1893.6" y="352.97" width="51.0" height="24.19" fill="#870a24"/>
<rect x="1893.6" y="329.38" width="51.0" height="24.19" fill="#7f0823"/>
<rect x="1893.6" y="305.79" width="51.0" height="24.19" fill="#760521"/>
<rect x="1893.6" y="282.20" width="51.0" height="24.19" fill="#6d0220"/>
<path d="M1893.6 283.0 L1919.1 177.5 L1944.6 283.0 Z" fill="#67001f"/>
<path d="M1893.6 2381.6 L1919.1 2487.3 L1944.6 2381.6 Z" fill="#053061"/>
<path d="M1893.6 282.5 L1919.1 177.5 L1944.6 282.5 L1944.6 2382.1 L1919.1 2487.3 L1893.6 2382.1 Z" fill="none" stroke="#000" stroke-width="3.3" stroke-linejoin="miter" stroke-miterlimit="10"/>
<line x1="1944.6" y1="2382.1" x2="1960.3" y2="2382.1" stroke="#000" stroke-width="3.3"/>
<text x="1975" y="2401.7" font-size="52" textLength="48.0" lengthAdjust="spacingAndGlyphs">-5</text>
<line x1="1944.6" y1="2146.2" x2="1960.3" y2="2146.2" stroke="#000" stroke-width="3.3"/>
<text x="1975" y="2165.8" font-size="52" textLength="32.5" lengthAdjust="spacingAndGlyphs">0</text>
<line x1="1944.6" y1="1910.3" x2="1960.3" y2="1910.3" stroke="#000" stroke-width="3.3"/>
<text x="1975" y="1929.9" font-size="52" textLength="32.5" lengthAdjust="spacingAndGlyphs">5</text>
<line x1="1944.6" y1="1674.4" x2="1960.3" y2="1674.4" stroke="#000" stroke-width="3.3"/>
<text x="1975" y="1694.0" font-size="52" textLength="62.5" lengthAdjust="spacingAndGlyphs">10</text>
<line x1="1944.6" y1="1438.5" x2="1960.3" y2="1438.5" stroke="#000" stroke-width="3.3"/>
<text x="1975" y="1458.1" font-size="52" textLength="62.5" lengthAdjust="spacingAndGlyphs">15</text>
<line x1="1944.6" y1="1202.5" x2="1960.3" y2="1202.5" stroke="#000" stroke-width="3.3"/>
<text x="1975" y="1222.1" font-size="52" textLength="62.5" lengthAdjust="spacingAndGlyphs">20</text>
<line x1="1944.6" y1="966.6" x2="1960.3" y2="966.6" stroke="#000" stroke-width="3.3"/>
<text x="1975" y="986.2" font-size="52" textLength="62.5" lengthAdjust="spacingAndGlyphs">25</text>
<line x1="1944.6" y1="730.7" x2="1960.3" y2="730.7" stroke="#000" stroke-width="3.3"/>
<text x="1975" y="750.3" font-size="52" textLength="62.5" lengthAdjust="spacingAndGlyphs">30</text>
<line x1="1944.6" y1="494.8" x2="1960.3" y2="494.8" stroke="#000" stroke-width="3.3"/>
<text x="1975" y="514.4" font-size="52" textLength="62.5" lengthAdjust="spacingAndGlyphs">35</text>
<line x1="1944.6" y1="282.5" x2="1960.3" y2="282.5" stroke="#000" stroke-width="3.3"/>
<text x="1975" y="302.1" font-size="52" textLength="62.5" lengthAdjust="spacingAndGlyphs">40</text>
<text x="1844" y="174.2" font-size="52" textLength="97" lengthAdjust="spacingAndGlyphs">(°C)</text>
</svg></body></html>
